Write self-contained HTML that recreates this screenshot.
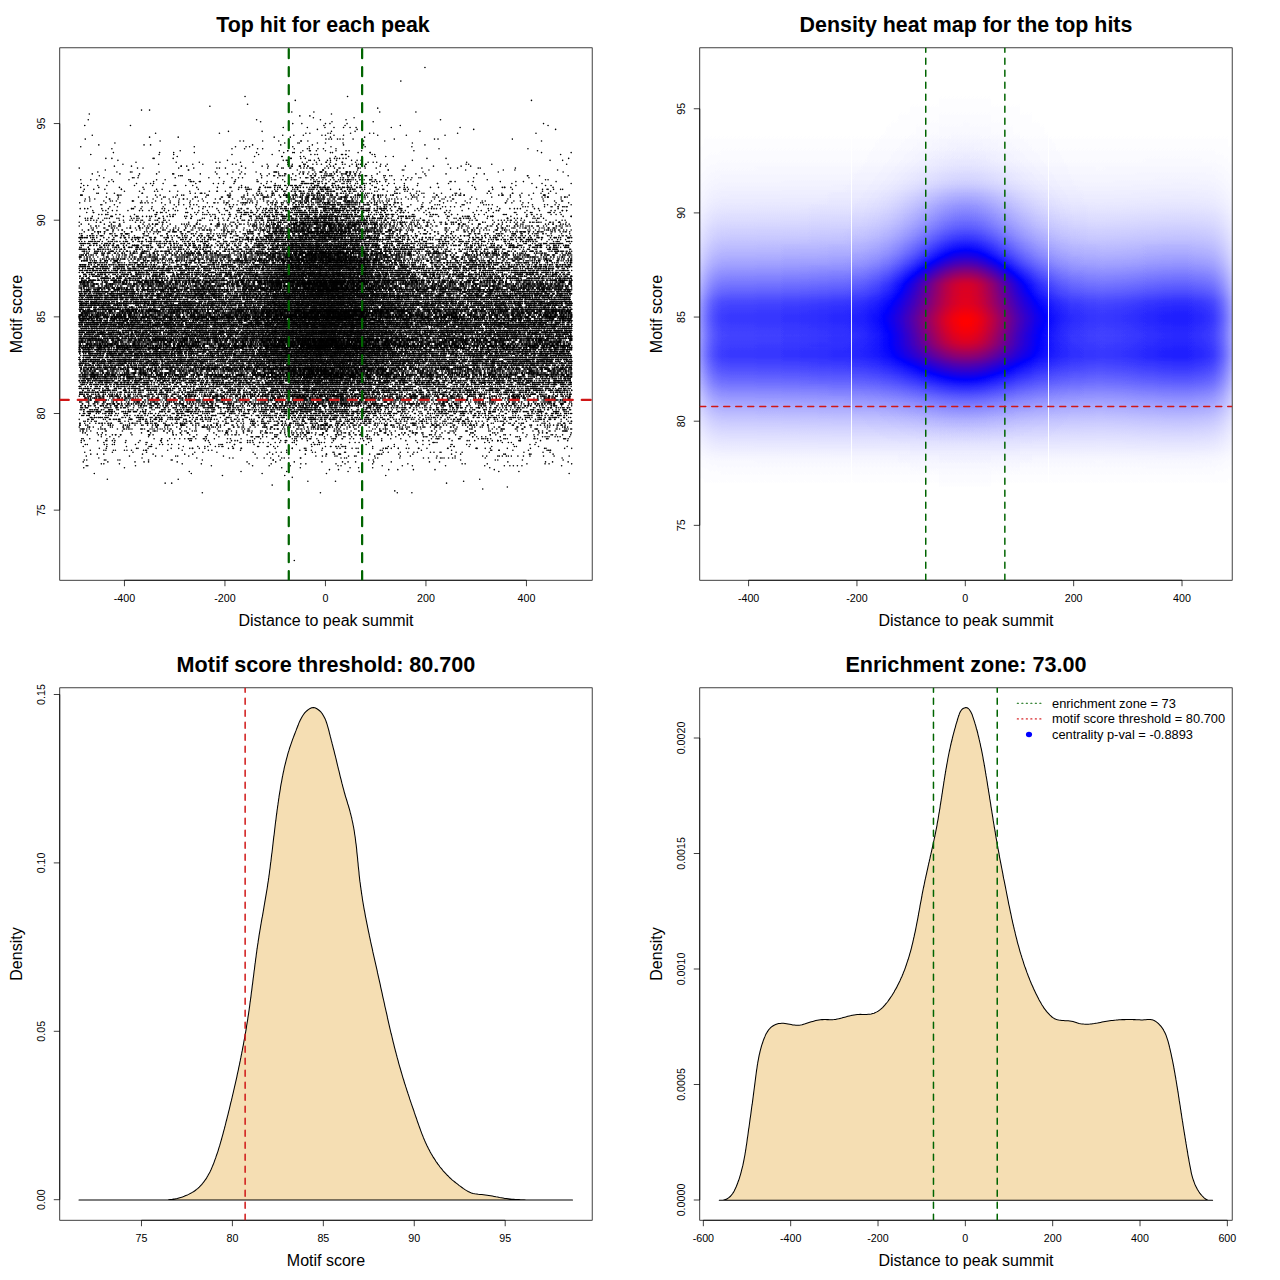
<!DOCTYPE html>
<html><head><meta charset="utf-8"><title>Motif plots</title>
<style>
html,body{margin:0;padding:0;background:#fff;}
body{width:1280px;height:1280px;overflow:hidden;}
svg{display:block;font-family:"Liberation Sans", sans-serif;}
text{fill:#000;}
</style></head><body>
<svg width="1280" height="1280" viewBox="0 0 1280 1280">
<defs><clipPath id="cp1"><rect x="59.76" y="47.81" width="532.43" height="532.43"/></clipPath><linearGradient id="hx1" x1="0" y1="0" x2="1" y2="0"><stop offset="0.0000" stop-color="#330000"/><stop offset="0.0084" stop-color="#410000"/><stop offset="0.0168" stop-color="#4e0000"/><stop offset="0.0252" stop-color="#570000"/><stop offset="0.0336" stop-color="#5d0000"/><stop offset="0.0420" stop-color="#610000"/><stop offset="0.0504" stop-color="#620000"/><stop offset="0.0588" stop-color="#630000"/><stop offset="0.0672" stop-color="#630000"/><stop offset="0.0756" stop-color="#630000"/><stop offset="0.0840" stop-color="#630000"/><stop offset="0.0924" stop-color="#630000"/><stop offset="0.1008" stop-color="#630000"/><stop offset="0.1092" stop-color="#640000"/><stop offset="0.1176" stop-color="#640000"/><stop offset="0.1261" stop-color="#640000"/><stop offset="0.1345" stop-color="#640000"/><stop offset="0.1429" stop-color="#640000"/><stop offset="0.1513" stop-color="#640000"/><stop offset="0.1597" stop-color="#650000"/><stop offset="0.1681" stop-color="#650000"/><stop offset="0.1765" stop-color="#650000"/><stop offset="0.1849" stop-color="#650000"/><stop offset="0.1933" stop-color="#660000"/><stop offset="0.2017" stop-color="#660000"/><stop offset="0.2101" stop-color="#660000"/><stop offset="0.2185" stop-color="#660000"/><stop offset="0.2269" stop-color="#670000"/><stop offset="0.2353" stop-color="#670000"/><stop offset="0.2437" stop-color="#670000"/><stop offset="0.2521" stop-color="#680000"/><stop offset="0.2605" stop-color="#680000"/><stop offset="0.2689" stop-color="#680000"/><stop offset="0.2773" stop-color="#680000"/><stop offset="0.2857" stop-color="#690000"/><stop offset="0.2941" stop-color="#690000"/><stop offset="0.3025" stop-color="#690000"/><stop offset="0.3109" stop-color="#690000"/><stop offset="0.3193" stop-color="#690000"/><stop offset="0.3277" stop-color="#690000"/><stop offset="0.3361" stop-color="#690000"/><stop offset="0.3445" stop-color="#6a0000"/><stop offset="0.3529" stop-color="#6a0000"/><stop offset="0.3613" stop-color="#6a0000"/><stop offset="0.3697" stop-color="#6a0000"/><stop offset="0.3782" stop-color="#6a0000"/><stop offset="0.3866" stop-color="#6a0000"/><stop offset="0.3950" stop-color="#6a0000"/><stop offset="0.4034" stop-color="#6a0000"/><stop offset="0.4118" stop-color="#6a0000"/><stop offset="0.4202" stop-color="#6b0000"/><stop offset="0.4286" stop-color="#6b0000"/><stop offset="0.4370" stop-color="#6b0000"/><stop offset="0.4454" stop-color="#6b0000"/><stop offset="0.4538" stop-color="#6b0000"/><stop offset="0.4622" stop-color="#6b0000"/><stop offset="0.4706" stop-color="#6b0000"/><stop offset="0.4790" stop-color="#6b0000"/><stop offset="0.4874" stop-color="#6b0000"/><stop offset="0.4958" stop-color="#6b0000"/><stop offset="0.5042" stop-color="#6b0000"/><stop offset="0.5126" stop-color="#6b0000"/><stop offset="0.5210" stop-color="#6b0000"/><stop offset="0.5294" stop-color="#6b0000"/><stop offset="0.5378" stop-color="#6b0000"/><stop offset="0.5462" stop-color="#6a0000"/><stop offset="0.5546" stop-color="#6a0000"/><stop offset="0.5630" stop-color="#6a0000"/><stop offset="0.5714" stop-color="#6a0000"/><stop offset="0.5798" stop-color="#6a0000"/><stop offset="0.5882" stop-color="#6a0000"/><stop offset="0.5966" stop-color="#690000"/><stop offset="0.6050" stop-color="#690000"/><stop offset="0.6134" stop-color="#690000"/><stop offset="0.6218" stop-color="#690000"/><stop offset="0.6303" stop-color="#680000"/><stop offset="0.6387" stop-color="#680000"/><stop offset="0.6471" stop-color="#680000"/><stop offset="0.6555" stop-color="#680000"/><stop offset="0.6639" stop-color="#670000"/><stop offset="0.6723" stop-color="#670000"/><stop offset="0.6807" stop-color="#660000"/><stop offset="0.6891" stop-color="#660000"/><stop offset="0.6975" stop-color="#650000"/><stop offset="0.7059" stop-color="#650000"/><stop offset="0.7143" stop-color="#650000"/><stop offset="0.7227" stop-color="#640000"/><stop offset="0.7311" stop-color="#640000"/><stop offset="0.7395" stop-color="#640000"/><stop offset="0.7479" stop-color="#630000"/><stop offset="0.7563" stop-color="#630000"/><stop offset="0.7647" stop-color="#640000"/><stop offset="0.7731" stop-color="#640000"/><stop offset="0.7815" stop-color="#650000"/><stop offset="0.7899" stop-color="#650000"/><stop offset="0.7983" stop-color="#660000"/><stop offset="0.8067" stop-color="#670000"/><stop offset="0.8151" stop-color="#680000"/><stop offset="0.8235" stop-color="#690000"/><stop offset="0.8319" stop-color="#6a0000"/><stop offset="0.8403" stop-color="#6b0000"/><stop offset="0.8487" stop-color="#6b0000"/><stop offset="0.8571" stop-color="#6c0000"/><stop offset="0.8655" stop-color="#6d0000"/><stop offset="0.8739" stop-color="#6e0000"/><stop offset="0.8824" stop-color="#6e0000"/><stop offset="0.8908" stop-color="#6f0000"/><stop offset="0.8992" stop-color="#6f0000"/><stop offset="0.9076" stop-color="#6f0000"/><stop offset="0.9160" stop-color="#6f0000"/><stop offset="0.9244" stop-color="#6e0000"/><stop offset="0.9328" stop-color="#6c0000"/><stop offset="0.9412" stop-color="#6b0000"/><stop offset="0.9496" stop-color="#690000"/><stop offset="0.9580" stop-color="#660000"/><stop offset="0.9664" stop-color="#610000"/><stop offset="0.9748" stop-color="#580000"/><stop offset="0.9832" stop-color="#4d0000"/><stop offset="0.9916" stop-color="#3f0000"/><stop offset="1.0000" stop-color="#2f0000"/></linearGradient><linearGradient id="hy1" x1="0" y1="0" x2="0" y2="1"><stop offset="0.0000" stop-color="#000000"/><stop offset="0.0075" stop-color="#000000"/><stop offset="0.0150" stop-color="#000000"/><stop offset="0.0226" stop-color="#000000"/><stop offset="0.0301" stop-color="#000000"/><stop offset="0.0376" stop-color="#000000"/><stop offset="0.0451" stop-color="#000000"/><stop offset="0.0526" stop-color="#000000"/><stop offset="0.0602" stop-color="#000000"/><stop offset="0.0677" stop-color="#000000"/><stop offset="0.0752" stop-color="#000000"/><stop offset="0.0827" stop-color="#000000"/><stop offset="0.0902" stop-color="#000000"/><stop offset="0.0977" stop-color="#000000"/><stop offset="0.1053" stop-color="#000000"/><stop offset="0.1128" stop-color="#000000"/><stop offset="0.1203" stop-color="#000000"/><stop offset="0.1278" stop-color="#000000"/><stop offset="0.1353" stop-color="#000000"/><stop offset="0.1429" stop-color="#000000"/><stop offset="0.1504" stop-color="#000000"/><stop offset="0.1579" stop-color="#010101"/><stop offset="0.1654" stop-color="#010101"/><stop offset="0.1729" stop-color="#020202"/><stop offset="0.1805" stop-color="#020202"/><stop offset="0.1880" stop-color="#030303"/><stop offset="0.1955" stop-color="#040404"/><stop offset="0.2030" stop-color="#050505"/><stop offset="0.2105" stop-color="#060606"/><stop offset="0.2180" stop-color="#070707"/><stop offset="0.2256" stop-color="#090909"/><stop offset="0.2331" stop-color="#0a0a0a"/><stop offset="0.2406" stop-color="#0c0c0c"/><stop offset="0.2481" stop-color="#0d0d0d"/><stop offset="0.2556" stop-color="#0f0f0f"/><stop offset="0.2632" stop-color="#111111"/><stop offset="0.2707" stop-color="#141414"/><stop offset="0.2782" stop-color="#161616"/><stop offset="0.2857" stop-color="#191919"/><stop offset="0.2932" stop-color="#1c1c1c"/><stop offset="0.3008" stop-color="#202020"/><stop offset="0.3083" stop-color="#242424"/><stop offset="0.3158" stop-color="#292929"/><stop offset="0.3233" stop-color="#2d2d2d"/><stop offset="0.3308" stop-color="#323232"/><stop offset="0.3383" stop-color="#383838"/><stop offset="0.3459" stop-color="#3d3d3d"/><stop offset="0.3534" stop-color="#434343"/><stop offset="0.3609" stop-color="#494949"/><stop offset="0.3684" stop-color="#505050"/><stop offset="0.3759" stop-color="#575757"/><stop offset="0.3835" stop-color="#5e5e5e"/><stop offset="0.3910" stop-color="#666666"/><stop offset="0.3985" stop-color="#6f6f6f"/><stop offset="0.4060" stop-color="#787878"/><stop offset="0.4135" stop-color="#838383"/><stop offset="0.4211" stop-color="#8e8e8e"/><stop offset="0.4286" stop-color="#9a9a9a"/><stop offset="0.4361" stop-color="#a5a5a5"/><stop offset="0.4436" stop-color="#b1b1b1"/><stop offset="0.4511" stop-color="#bdbdbd"/><stop offset="0.4586" stop-color="#c9c9c9"/><stop offset="0.4662" stop-color="#d7d7d7"/><stop offset="0.4737" stop-color="#e5e5e5"/><stop offset="0.4812" stop-color="#efefef"/><stop offset="0.4887" stop-color="#f6f6f6"/><stop offset="0.4962" stop-color="#fbfbfb"/><stop offset="0.5038" stop-color="#ffffff"/><stop offset="0.5113" stop-color="#ffffff"/><stop offset="0.5188" stop-color="#fcfcfc"/><stop offset="0.5263" stop-color="#f8f8f8"/><stop offset="0.5338" stop-color="#f5f5f5"/><stop offset="0.5414" stop-color="#f3f3f3"/><stop offset="0.5489" stop-color="#f5f5f5"/><stop offset="0.5564" stop-color="#f8f8f8"/><stop offset="0.5639" stop-color="#fcfcfc"/><stop offset="0.5714" stop-color="#ffffff"/><stop offset="0.5789" stop-color="#ffffff"/><stop offset="0.5865" stop-color="#f7f7f7"/><stop offset="0.5940" stop-color="#eeeeee"/><stop offset="0.6015" stop-color="#e4e4e4"/><stop offset="0.6090" stop-color="#d9d9d9"/><stop offset="0.6165" stop-color="#cdcdcd"/><stop offset="0.6241" stop-color="#c1c1c1"/><stop offset="0.6316" stop-color="#b4b4b4"/><stop offset="0.6391" stop-color="#a6a6a6"/><stop offset="0.6466" stop-color="#989898"/><stop offset="0.6541" stop-color="#8b8b8b"/><stop offset="0.6617" stop-color="#7e7e7e"/><stop offset="0.6692" stop-color="#727272"/><stop offset="0.6767" stop-color="#666666"/><stop offset="0.6842" stop-color="#5c5c5c"/><stop offset="0.6917" stop-color="#515151"/><stop offset="0.6992" stop-color="#484848"/><stop offset="0.7068" stop-color="#404040"/><stop offset="0.7143" stop-color="#383838"/><stop offset="0.7218" stop-color="#313131"/><stop offset="0.7293" stop-color="#2a2a2a"/><stop offset="0.7368" stop-color="#242424"/><stop offset="0.7444" stop-color="#1e1e1e"/><stop offset="0.7519" stop-color="#191919"/><stop offset="0.7594" stop-color="#131313"/><stop offset="0.7669" stop-color="#0e0e0e"/><stop offset="0.7744" stop-color="#0a0a0a"/><stop offset="0.7820" stop-color="#080808"/><stop offset="0.7895" stop-color="#060606"/><stop offset="0.7970" stop-color="#040404"/><stop offset="0.8045" stop-color="#030303"/><stop offset="0.8120" stop-color="#020202"/><stop offset="0.8195" stop-color="#010101"/><stop offset="0.8271" stop-color="#000000"/><stop offset="0.8346" stop-color="#000000"/><stop offset="0.8421" stop-color="#000000"/><stop offset="0.8496" stop-color="#000000"/><stop offset="0.8571" stop-color="#000000"/><stop offset="0.8647" stop-color="#000000"/><stop offset="0.8722" stop-color="#000000"/><stop offset="0.8797" stop-color="#000000"/><stop offset="0.8872" stop-color="#000000"/><stop offset="0.8947" stop-color="#000000"/><stop offset="0.9023" stop-color="#000000"/><stop offset="0.9098" stop-color="#000000"/><stop offset="0.9173" stop-color="#000000"/><stop offset="0.9248" stop-color="#000000"/><stop offset="0.9323" stop-color="#000000"/><stop offset="0.9398" stop-color="#000000"/><stop offset="0.9474" stop-color="#000000"/><stop offset="0.9549" stop-color="#000000"/><stop offset="0.9624" stop-color="#000000"/><stop offset="0.9699" stop-color="#000000"/><stop offset="0.9774" stop-color="#000000"/><stop offset="0.9850" stop-color="#000000"/><stop offset="0.9925" stop-color="#000000"/><stop offset="1.0000" stop-color="#000000"/></linearGradient><linearGradient id="hx2" x1="0" y1="0" x2="1" y2="0"><stop offset="0.0000" stop-color="#000000"/><stop offset="0.0084" stop-color="#000000"/><stop offset="0.0168" stop-color="#000000"/><stop offset="0.0252" stop-color="#000000"/><stop offset="0.0336" stop-color="#000000"/><stop offset="0.0420" stop-color="#000000"/><stop offset="0.0504" stop-color="#000000"/><stop offset="0.0588" stop-color="#000000"/><stop offset="0.0672" stop-color="#000000"/><stop offset="0.0756" stop-color="#000000"/><stop offset="0.0840" stop-color="#000000"/><stop offset="0.0924" stop-color="#000000"/><stop offset="0.1008" stop-color="#000000"/><stop offset="0.1092" stop-color="#000000"/><stop offset="0.1176" stop-color="#000000"/><stop offset="0.1261" stop-color="#000000"/><stop offset="0.1345" stop-color="#000000"/><stop offset="0.1429" stop-color="#000000"/><stop offset="0.1513" stop-color="#000000"/><stop offset="0.1597" stop-color="#000100"/><stop offset="0.1681" stop-color="#000100"/><stop offset="0.1765" stop-color="#000100"/><stop offset="0.1849" stop-color="#000100"/><stop offset="0.1933" stop-color="#000100"/><stop offset="0.2017" stop-color="#000100"/><stop offset="0.2101" stop-color="#000200"/><stop offset="0.2185" stop-color="#000200"/><stop offset="0.2269" stop-color="#000200"/><stop offset="0.2353" stop-color="#000200"/><stop offset="0.2437" stop-color="#000300"/><stop offset="0.2521" stop-color="#000300"/><stop offset="0.2605" stop-color="#000300"/><stop offset="0.2689" stop-color="#000300"/><stop offset="0.2773" stop-color="#000400"/><stop offset="0.2857" stop-color="#000500"/><stop offset="0.2941" stop-color="#000600"/><stop offset="0.3025" stop-color="#000700"/><stop offset="0.3109" stop-color="#000900"/><stop offset="0.3193" stop-color="#000c00"/><stop offset="0.3277" stop-color="#000f00"/><stop offset="0.3361" stop-color="#001200"/><stop offset="0.3445" stop-color="#001700"/><stop offset="0.3529" stop-color="#001b00"/><stop offset="0.3613" stop-color="#002100"/><stop offset="0.3697" stop-color="#002800"/><stop offset="0.3782" stop-color="#002f00"/><stop offset="0.3866" stop-color="#003800"/><stop offset="0.3950" stop-color="#004000"/><stop offset="0.4034" stop-color="#004900"/><stop offset="0.4118" stop-color="#005300"/><stop offset="0.4202" stop-color="#005c00"/><stop offset="0.4286" stop-color="#006600"/><stop offset="0.4370" stop-color="#007000"/><stop offset="0.4454" stop-color="#007a00"/><stop offset="0.4538" stop-color="#008400"/><stop offset="0.4622" stop-color="#008d00"/><stop offset="0.4706" stop-color="#009400"/><stop offset="0.4790" stop-color="#009a00"/><stop offset="0.4874" stop-color="#009e00"/><stop offset="0.4958" stop-color="#00a000"/><stop offset="0.5042" stop-color="#00a000"/><stop offset="0.5126" stop-color="#009d00"/><stop offset="0.5210" stop-color="#009900"/><stop offset="0.5294" stop-color="#009200"/><stop offset="0.5378" stop-color="#008a00"/><stop offset="0.5462" stop-color="#008100"/><stop offset="0.5546" stop-color="#007700"/><stop offset="0.5630" stop-color="#006c00"/><stop offset="0.5714" stop-color="#006200"/><stop offset="0.5798" stop-color="#005700"/><stop offset="0.5882" stop-color="#004d00"/><stop offset="0.5966" stop-color="#004400"/><stop offset="0.6050" stop-color="#003b00"/><stop offset="0.6134" stop-color="#003300"/><stop offset="0.6218" stop-color="#002c00"/><stop offset="0.6303" stop-color="#002500"/><stop offset="0.6387" stop-color="#001f00"/><stop offset="0.6471" stop-color="#001a00"/><stop offset="0.6555" stop-color="#001500"/><stop offset="0.6639" stop-color="#001100"/><stop offset="0.6723" stop-color="#000d00"/><stop offset="0.6807" stop-color="#000a00"/><stop offset="0.6891" stop-color="#000800"/><stop offset="0.6975" stop-color="#000500"/><stop offset="0.7059" stop-color="#000400"/><stop offset="0.7143" stop-color="#000300"/><stop offset="0.7227" stop-color="#000200"/><stop offset="0.7311" stop-color="#000100"/><stop offset="0.7395" stop-color="#000100"/><stop offset="0.7479" stop-color="#000100"/><stop offset="0.7563" stop-color="#000000"/><stop offset="0.7647" stop-color="#000000"/><stop offset="0.7731" stop-color="#000000"/><stop offset="0.7815" stop-color="#000000"/><stop offset="0.7899" stop-color="#000000"/><stop offset="0.7983" stop-color="#000000"/><stop offset="0.8067" stop-color="#000000"/><stop offset="0.8151" stop-color="#000000"/><stop offset="0.8235" stop-color="#000000"/><stop offset="0.8319" stop-color="#000000"/><stop offset="0.8403" stop-color="#000100"/><stop offset="0.8487" stop-color="#000100"/><stop offset="0.8571" stop-color="#000100"/><stop offset="0.8655" stop-color="#000100"/><stop offset="0.8739" stop-color="#000100"/><stop offset="0.8824" stop-color="#000100"/><stop offset="0.8908" stop-color="#000100"/><stop offset="0.8992" stop-color="#000100"/><stop offset="0.9076" stop-color="#000100"/><stop offset="0.9160" stop-color="#000100"/><stop offset="0.9244" stop-color="#000000"/><stop offset="0.9328" stop-color="#000000"/><stop offset="0.9412" stop-color="#000000"/><stop offset="0.9496" stop-color="#000000"/><stop offset="0.9580" stop-color="#000000"/><stop offset="0.9664" stop-color="#000000"/><stop offset="0.9748" stop-color="#000000"/><stop offset="0.9832" stop-color="#000000"/><stop offset="0.9916" stop-color="#000000"/><stop offset="1.0000" stop-color="#000000"/></linearGradient><linearGradient id="hy2" x1="0" y1="0" x2="0" y2="1"><stop offset="0.0000" stop-color="#000000"/><stop offset="0.0075" stop-color="#000000"/><stop offset="0.0150" stop-color="#000000"/><stop offset="0.0226" stop-color="#000000"/><stop offset="0.0301" stop-color="#000000"/><stop offset="0.0376" stop-color="#000000"/><stop offset="0.0451" stop-color="#000000"/><stop offset="0.0526" stop-color="#000000"/><stop offset="0.0602" stop-color="#000000"/><stop offset="0.0677" stop-color="#000000"/><stop offset="0.0752" stop-color="#000000"/><stop offset="0.0827" stop-color="#000000"/><stop offset="0.0902" stop-color="#000000"/><stop offset="0.0977" stop-color="#010101"/><stop offset="0.1053" stop-color="#010101"/><stop offset="0.1128" stop-color="#020202"/><stop offset="0.1203" stop-color="#020202"/><stop offset="0.1278" stop-color="#030303"/><stop offset="0.1353" stop-color="#030303"/><stop offset="0.1429" stop-color="#040404"/><stop offset="0.1504" stop-color="#050505"/><stop offset="0.1579" stop-color="#050505"/><stop offset="0.1654" stop-color="#060606"/><stop offset="0.1729" stop-color="#070707"/><stop offset="0.1805" stop-color="#080808"/><stop offset="0.1880" stop-color="#090909"/><stop offset="0.1955" stop-color="#0a0a0a"/><stop offset="0.2030" stop-color="#0c0c0c"/><stop offset="0.2105" stop-color="#0d0d0d"/><stop offset="0.2180" stop-color="#0f0f0f"/><stop offset="0.2256" stop-color="#111111"/><stop offset="0.2331" stop-color="#141414"/><stop offset="0.2406" stop-color="#171717"/><stop offset="0.2481" stop-color="#1a1a1a"/><stop offset="0.2556" stop-color="#1e1e1e"/><stop offset="0.2632" stop-color="#242424"/><stop offset="0.2707" stop-color="#2b2b2b"/><stop offset="0.2782" stop-color="#323232"/><stop offset="0.2857" stop-color="#393939"/><stop offset="0.2932" stop-color="#3f3f3f"/><stop offset="0.3008" stop-color="#454545"/><stop offset="0.3083" stop-color="#494949"/><stop offset="0.3158" stop-color="#4e4e4e"/><stop offset="0.3233" stop-color="#535353"/><stop offset="0.3308" stop-color="#585858"/><stop offset="0.3383" stop-color="#5e5e5e"/><stop offset="0.3459" stop-color="#656565"/><stop offset="0.3534" stop-color="#6d6d6d"/><stop offset="0.3609" stop-color="#757575"/><stop offset="0.3684" stop-color="#7f7f7f"/><stop offset="0.3759" stop-color="#888888"/><stop offset="0.3835" stop-color="#939393"/><stop offset="0.3910" stop-color="#9e9e9e"/><stop offset="0.3985" stop-color="#acacac"/><stop offset="0.4060" stop-color="#bababa"/><stop offset="0.4135" stop-color="#cbcbcb"/><stop offset="0.4211" stop-color="#dbdbdb"/><stop offset="0.4286" stop-color="#e9e9e9"/><stop offset="0.4361" stop-color="#f7f7f7"/><stop offset="0.4436" stop-color="#ffffff"/><stop offset="0.4511" stop-color="#fbfbfb"/><stop offset="0.4586" stop-color="#f4f4f4"/><stop offset="0.4662" stop-color="#ececec"/><stop offset="0.4737" stop-color="#e4e4e4"/><stop offset="0.4812" stop-color="#dfdfdf"/><stop offset="0.4887" stop-color="#e1e1e1"/><stop offset="0.4962" stop-color="#e4e4e4"/><stop offset="0.5038" stop-color="#e8e8e8"/><stop offset="0.5113" stop-color="#ececec"/><stop offset="0.5188" stop-color="#ededed"/><stop offset="0.5263" stop-color="#ececec"/><stop offset="0.5338" stop-color="#e9e9e9"/><stop offset="0.5414" stop-color="#e3e3e3"/><stop offset="0.5489" stop-color="#dadada"/><stop offset="0.5564" stop-color="#cdcdcd"/><stop offset="0.5639" stop-color="#bababa"/><stop offset="0.5714" stop-color="#a5a5a5"/><stop offset="0.5789" stop-color="#939393"/><stop offset="0.5865" stop-color="#848484"/><stop offset="0.5940" stop-color="#747474"/><stop offset="0.6015" stop-color="#676767"/><stop offset="0.6090" stop-color="#5c5c5c"/><stop offset="0.6165" stop-color="#515151"/><stop offset="0.6241" stop-color="#484848"/><stop offset="0.6316" stop-color="#3f3f3f"/><stop offset="0.6391" stop-color="#383838"/><stop offset="0.6466" stop-color="#313131"/><stop offset="0.6541" stop-color="#2a2a2a"/><stop offset="0.6617" stop-color="#242424"/><stop offset="0.6692" stop-color="#1f1f1f"/><stop offset="0.6767" stop-color="#1b1b1b"/><stop offset="0.6842" stop-color="#171717"/><stop offset="0.6917" stop-color="#131313"/><stop offset="0.6992" stop-color="#0f0f0f"/><stop offset="0.7068" stop-color="#0d0d0d"/><stop offset="0.7143" stop-color="#0a0a0a"/><stop offset="0.7218" stop-color="#080808"/><stop offset="0.7293" stop-color="#060606"/><stop offset="0.7368" stop-color="#040404"/><stop offset="0.7444" stop-color="#020202"/><stop offset="0.7519" stop-color="#020202"/><stop offset="0.7594" stop-color="#020202"/><stop offset="0.7669" stop-color="#030303"/><stop offset="0.7744" stop-color="#030303"/><stop offset="0.7820" stop-color="#020202"/><stop offset="0.7895" stop-color="#020202"/><stop offset="0.7970" stop-color="#010101"/><stop offset="0.8045" stop-color="#010101"/><stop offset="0.8120" stop-color="#010101"/><stop offset="0.8195" stop-color="#010101"/><stop offset="0.8271" stop-color="#000000"/><stop offset="0.8346" stop-color="#000000"/><stop offset="0.8421" stop-color="#000000"/><stop offset="0.8496" stop-color="#000000"/><stop offset="0.8571" stop-color="#000000"/><stop offset="0.8647" stop-color="#000000"/><stop offset="0.8722" stop-color="#000000"/><stop offset="0.8797" stop-color="#000000"/><stop offset="0.8872" stop-color="#000000"/><stop offset="0.8947" stop-color="#000000"/><stop offset="0.9023" stop-color="#000000"/><stop offset="0.9098" stop-color="#000000"/><stop offset="0.9173" stop-color="#000000"/><stop offset="0.9248" stop-color="#000000"/><stop offset="0.9323" stop-color="#000000"/><stop offset="0.9398" stop-color="#000000"/><stop offset="0.9474" stop-color="#000000"/><stop offset="0.9549" stop-color="#000000"/><stop offset="0.9624" stop-color="#000000"/><stop offset="0.9699" stop-color="#000000"/><stop offset="0.9774" stop-color="#000000"/><stop offset="0.9850" stop-color="#000000"/><stop offset="0.9925" stop-color="#000000"/><stop offset="1.0000" stop-color="#000000"/></linearGradient><mask id="hm1" maskUnits="userSpaceOnUse" x="699.76" y="47.81" width="532.43" height="532.43"><rect x="699.76" y="47.81" width="532.43" height="532.43" fill="url(#hy1)"/></mask><mask id="hm2" maskUnits="userSpaceOnUse" x="699.76" y="47.81" width="532.43" height="532.43"><rect x="699.76" y="47.81" width="532.43" height="532.43" fill="url(#hy2)"/></mask><filter id="ramp" color-interpolation-filters="sRGB" filterUnits="userSpaceOnUse" x="699.76" y="47.81" width="532.43" height="532.43"><feColorMatrix type="matrix" values="1 1 1 0 0  1 1 1 0 0  1 1 1 0 0  0 0 0 0 1"/><feComponentTransfer><feFuncR type="table" tableValues="1 0 1"/><feFuncG type="table" tableValues="1 0 0"/><feFuncB type="table" tableValues="1 1 0"/></feComponentTransfer></filter></defs>
<rect width="1280" height="1280" fill="#fff"/>
<g transform="translate(325.45,0) scale(0.5025)" stroke="#000" stroke-width="3.184" stroke-linecap="round" fill="none"><path d="M-62 1115.38h0"/><path d="M-10 980.74H143.01" stroke-dasharray="0 153 0 9999"/><path d="M-245 980.74H172.01" stroke-dasharray="0 417 0 9999"/><path d="M138 976.9h0"/><path d="M313 973.05h0"/><path d="M362 969.2h0"/><path d="M-106 965.36h0"/><path d="M-319 961.51h0"/><path d="M-306 961.51h0"/><path d="M241 961.51h0"/><path d="M20 957.66H275.01" stroke-dasharray="0 255 0 9999"/><path d="M-35 957.66h0"/><path d="M-434 953.81H307.01" stroke-dasharray="0 141 0 600 0 9999"/><path d="M-66 949.97h0"/><path d="M-205 946.12h0"/><path d="M-81 946.12H120.01" stroke-dasharray="0 201 0 9999"/><path d="M-460 942.27H485.01" stroke-dasharray="0 462 0 483 0 9999"/><path d="M-267 942.27H-33.01" stroke-dasharray="0 141 0 93 0 9999"/><path d="M-271 938.43H-127.01" stroke-dasharray="0 144 0 9999"/><path d="M-168 938.43H345.01" stroke-dasharray="0 213 0 300 0 9999"/><path d="M-77 938.43H385.01" stroke-dasharray="0 144 0 318 0 9999"/><path d="M8 934.58H218.01" stroke-dasharray="0 18 0 192 0 9999"/><path d="M126 934.58H336.01" stroke-dasharray="0 18 0 192 0 9999"/><path d="M175 934.58h0"/><path d="M-481 930.73H-166.01" stroke-dasharray="0 81 0 234 0 9999"/><path d="M-87 930.73H327.01" stroke-dasharray="0 153 0 261 0 9999"/><path d="M-50 930.73H94.01" stroke-dasharray="0 99 0 45 0 9999"/><path d="M-145 926.89H470.01" stroke-dasharray="0 33 0 42 0 183 0 60 0 66 0 78 0 39 0 18 0 96 0 9999"/><path d="M-378 926.89H153.01" stroke-dasharray="0 531 0 9999"/><path d="M-476 926.89H391.01" stroke-dasharray="0 3 0 246 0 252 0 6 0 336 0 15 0 9 0 9999"/><path d="M-247 923.04H437.01" stroke-dasharray="0 198 0 213 0 108 0 6 0 123 0 36 0 9999"/><path d="M-441 923.04H39.01" stroke-dasharray="0 156 0 177 0 69 0 60 0 18 0 9999"/><path d="M-446 923.04H490.01" stroke-dasharray="0 36 0 258 0 246 0 228 0 123 0 45 0 9999"/><path d="M-433 919.19H452.01" stroke-dasharray="0 54 0 18 0 9 0 57 0 288 0 138 0 96 0 225 0 9999"/><path d="M-156 919.19H483.01" stroke-dasharray="0 57 0 144 0 15 0 36 0 111 0 156 0 75 0 45 0 9999"/><path d="M-482 919.19H34.01" stroke-dasharray="0 420 0 96 0 9999"/><path d="M-475 915.35H473.01" stroke-dasharray="0 66 0 57 0 45 0 393 0 9 0 174 0 69 0 54 0 81 0 9999"/><path d="M-480 915.35H-66.01" stroke-dasharray="0 390 0 24 0 9999"/><path d="M-440 915.35H343.01" stroke-dasharray="0 3 0 24 0 108 0 60 0 141 0 447 0 9999"/><path d="M-104 915.35h0"/><path d="M-451 911.5H245.01" stroke-dasharray="0 195 0 72 0 48 0 27 0 27 0 9 0 24 0 87 0 66 0 117 0 15 0 9 0 9999"/><path d="M-87 911.5H471.01" stroke-dasharray="0 129 0 57 0 96 0 63 0 60 0 153 0 9999"/><path d="M-365 911.5H253.01" stroke-dasharray="0 174 0 69 0 72 0 81 0 42 0 75 0 57 0 24 0 3 0 21 0 9999"/><path d="M-325 907.65H485.01" stroke-dasharray="0 27 0 279 0 42 0 75 0 51 0 234 0 24 0 27 0 21 0 30 0 9999"/><path d="M-390 907.65H360.01" stroke-dasharray="0 96 0 201 0 87 0 228 0 36 0 63 0 39 0 9999"/><path d="M-476 907.65H394.01" stroke-dasharray="0 138 0 66 0 69 0 204 0 18 0 27 0 12 0 3 0 108 0 144 0 30 0 3 0 6 0 12 0 6 0 24 0 9999"/><path d="M-454 903.81H269.01" stroke-dasharray="0 90 0 21 0 63 0 240 0 42 0 144 0 105 0 18 0 9999"/><path d="M-441 903.81H453.01" stroke-dasharray="0 177 0 159 0 123 0 9 0 3 0 78 0 66 0 279 0 9999"/><path d="M-467 903.81H409.01" stroke-dasharray="0 327 0 24 0 144 0 60 0 15 0 3 0 6 0 243 0 3 0 48 0 3 0 9999"/><path d="M2 903.81h0"/><path d="M-424 899.96H395.01" stroke-dasharray="0 180 0 156 0 105 0 21 0 27 0 60 0 24 0 15 0 12 0 33 0 21 0 30 0 12 0 54 0 69 0 9999"/><path d="M-216 899.96H447.01" stroke-dasharray="0 72 0 33 0 126 0 51 0 117 0 33 0 12 0 219 0 9999"/><path d="M-479 899.96H433.01" stroke-dasharray="0 96 0 27 0 96 0 162 0 21 0 51 0 6 0 60 0 75 0 318 0 9999"/><path d="M-418 896.11H404.01" stroke-dasharray="0 18 0 42 0 132 0 57 0 129 0 12 0 21 0 120 0 78 0 60 0 78 0 75 0 9999"/><path d="M-468 896.11H447.01" stroke-dasharray="0 27 0 156 0 234 0 396 0 96 0 3 0 3 0 9999"/><path d="M-437 896.11H448.01" stroke-dasharray="0 15 0 27 0 9 0 24 0 6 0 42 0 81 0 156 0 39 0 147 0 222 0 15 0 27 0 75 0 9999"/><path d="M-436 892.27H476.01" stroke-dasharray="0 60 0 3 0 36 0 30 0 15 0 27 0 72 0 9 0 84 0 123 0 6 0 24 0 12 0 66 0 30 0 24 0 117 0 60 0 114 0 9999"/><path d="M-450 892.27H408.01" stroke-dasharray="0 180 0 6 0 24 0 57 0 15 0 102 0 24 0 3 0 33 0 126 0 3 0 63 0 57 0 57 0 18 0 90 0 9999"/><path d="M-353 892.27H490.01" stroke-dasharray="0 102 0 84 0 207 0 21 0 33 0 21 0 30 0 21 0 36 0 42 0 84 0 108 0 3 0 51 0 9999"/><path d="M-66 892.27H300.01" stroke-dasharray="0 186 0 25 0 155 0 9999"/><path d="M-346 888.42H380.01" stroke-dasharray="0 63 0 150 0 30 0 114 0 15 0 9 0 90 0 12 0 243 0 9999"/><path d="M-435 888.42H249.01" stroke-dasharray="0 39 0 45 0 3 0 108 0 6 0 15 0 15 0 69 0 21 0 87 0 27 0 21 0 12 0 6 0 210 0 9999"/><path d="M-482 888.42H481.01" stroke-dasharray="0 228 0 42 0 6 0 21 0 69 0 21 0 105 0 30 0 54 0 162 0 30 0 45 0 45 0 48 0 57 0 9999"/><path d="M21 888.42H256.01" stroke-dasharray="0 235 0 9999"/><path d="M-478 884.57H407.01" stroke-dasharray="0 54 0 78 0 33 0 21 0 63 0 21 0 3 0 24 0 39 0 33 0 51 0 30 0 6 0 6 0 153 0 57 0 87 0 93 0 33 0 9999"/><path d="M-474 884.57H417.01" stroke-dasharray="0 39 0 15 0 42 0 21 0 27 0 6 0 18 0 285 0 9 0 93 0 126 0 45 0 36 0 129 0 9999"/><path d="M-440 884.57H250.01" stroke-dasharray="0 228 0 243 0 132 0 87 0 9999"/><path d="M-181 884.57h0"/><path d="M-355 880.73H419.01" stroke-dasharray="0 159 0 6 0 66 0 24 0 9 0 12 0 66 0 72 0 27 0 129 0 3 0 99 0 9 0 93 0 9999"/><path d="M-486 880.73H222.01" stroke-dasharray="0 45 0 21 0 48 0 15 0 126 0 63 0 18 0 6 0 30 0 48 0 42 0 12 0 60 0 135 0 39 0 9999"/><path d="M-398 880.73H370.01" stroke-dasharray="0 72 0 156 0 15 0 24 0 51 0 18 0 54 0 6 0 15 0 54 0 147 0 138 0 12 0 6 0 9999"/><path d="M-131 880.73H-79.01" stroke-dasharray="0 52 0 9999"/><path d="M-424 876.88H482.01" stroke-dasharray="0 27 0 69 0 141 0 12 0 30 0 339 0 12 0 117 0 9 0 96 0 54 0 9999"/><path d="M-486 876.88H387.01" stroke-dasharray="0 6 0 27 0 18 0 66 0 42 0 57 0 3 0 87 0 30 0 93 0 21 0 216 0 72 0 30 0 15 0 90 0 9999"/><path d="M-437 876.88H463.01" stroke-dasharray="0 18 0 105 0 75 0 6 0 78 0 66 0 9 0 3 0 15 0 48 0 30 0 60 0 15 0 21 0 48 0 126 0 57 0 6 0 36 0 3 0 75 0 9999"/><path d="M343 876.88h0"/><path d="M343 876.88h0"/><path d="M-469 873.03H476.01" stroke-dasharray="0 48 0 111 0 30 0 39 0 135 0 45 0 3 0 12 0 9 0 36 0 21 0 36 0 18 0 9 0 141 0 42 0 45 0 3 0 9 0 6 0 33 0 60 0 18 0 3 0 33 0 9999"/><path d="M-435 873.03H483.01" stroke-dasharray="0 135 0 27 0 15 0 15 0 6 0 42 0 6 0 21 0 27 0 12 0 36 0 27 0 36 0 63 0 51 0 3 0 63 0 96 0 72 0 99 0 24 0 33 0 9 0 9999"/><path d="M-485 873.03H478.01" stroke-dasharray="0 3 0 141 0 15 0 36 0 18 0 3 0 3 0 45 0 117 0 57 0 15 0 3 0 12 0 30 0 3 0 3 0 15 0 15 0 21 0 21 0 21 0 18 0 81 0 9 0 3 0 3 0 9 0 12 0 18 0 3 0 36 0 18 0 33 0 3 0 30 0 27 0 63 0 9999"/><path d="M-326 873.03H388.01" stroke-dasharray="0 714 0 9999"/><path d="M-352 869.19H467.01" stroke-dasharray="0 204 0 3 0 9 0 3 0 33 0 3 0 27 0 9 0 3 0 3 0 12 0 15 0 39 0 63 0 6 0 3 0 57 0 60 0 21 0 9 0 63 0 18 0 75 0 30 0 21 0 30 0 9999"/><path d="M-429 869.19H486.01" stroke-dasharray="0 18 0 150 0 24 0 99 0 6 0 15 0 39 0 6 0 93 0 15 0 3 0 129 0 27 0 153 0 51 0 33 0 9 0 21 0 24 0 9999"/><path d="M-446 869.19H457.01" stroke-dasharray="0 183 0 24 0 27 0 66 0 12 0 9 0 24 0 3 0 48 0 12 0 36 0 24 0 30 0 36 0 108 0 6 0 12 0 12 0 42 0 3 0 30 0 18 0 60 0 3 0 63 0 12 0 9999"/><path d="M-72 869.19H348.01" stroke-dasharray="0 365 0 55 0 9999"/><path d="M-424 865.34H488.01" stroke-dasharray="0 6 0 33 0 33 0 9 0 57 0 30 0 21 0 18 0 39 0 6 0 108 0 15 0 9 0 60 0 6 0 21 0 12 0 9 0 15 0 21 0 21 0 21 0 9 0 24 0 15 0 24 0 69 0 81 0 33 0 48 0 3 0 36 0 9999"/><path d="M-474 865.34H459.01" stroke-dasharray="0 57 0 9 0 105 0 6 0 27 0 84 0 6 0 24 0 90 0 12 0 12 0 3 0 27 0 3 0 3 0 33 0 45 0 12 0 48 0 15 0 18 0 42 0 21 0 69 0 42 0 84 0 36 0 9999"/><path d="M-452 865.34H472.01" stroke-dasharray="0 6 0 9 0 30 0 57 0 150 0 6 0 69 0 24 0 3 0 3 0 15 0 24 0 36 0 24 0 18 0 9 0 18 0 12 0 9 0 27 0 9 0 18 0 84 0 3 0 48 0 69 0 27 0 3 0 57 0 57 0 9999"/><path d="M-350 865.34H328.01" stroke-dasharray="0 47 0 297 0 334 0 9999"/><path d="M-478 861.49H440.01" stroke-dasharray="0 24 0 150 0 15 0 15 0 78 0 33 0 57 0 33 0 6 0 21 0 9 0 18 0 15 0 36 0 15 0 9 0 15 0 27 0 21 0 12 0 21 0 6 0 15 0 6 0 3 0 12 0 231 0 15 0 9999"/><path d="M-483 861.49H489.01" stroke-dasharray="0 39 0 57 0 21 0 18 0 33 0 27 0 15 0 51 0 24 0 3 0 18 0 30 0 18 0 9 0 3 0 27 0 9 0 18 0 6 0 24 0 6 0 51 0 24 0 69 0 3 0 72 0 27 0 27 0 48 0 39 0 60 0 39 0 9 0 48 0 9999"/><path d="M-275 861.49H343.01" stroke-dasharray="0 159 0 6 0 21 0 39 0 6 0 9 0 3 0 27 0 42 0 3 0 63 0 72 0 57 0 12 0 12 0 33 0 3 0 45 0 6 0 9999"/><path d="M-198 861.49H182.01" stroke-dasharray="0 163 0 30 0 29 0 134 0 24 0 9999"/><path d="M-35 861.49h0"/><path d="M-475 857.65H479.01" stroke-dasharray="0 39 0 84 0 9 0 3 0 18 0 12 0 6 0 18 0 6 0 3 0 12 0 60 0 18 0 24 0 12 0 63 0 21 0 30 0 39 0 15 0 6 0 6 0 81 0 18 0 39 0 6 0 39 0 9 0 27 0 33 0 132 0 63 0 3 0 9999"/><path d="M-483 857.65H474.01" stroke-dasharray="0 45 0 84 0 15 0 18 0 90 0 18 0 3 0 33 0 24 0 24 0 3 0 45 0 9 0 39 0 36 0 15 0 33 0 15 0 21 0 21 0 3 0 9 0 132 0 3 0 24 0 3 0 150 0 15 0 27 0 9999"/><path d="M-488 857.65H481.01" stroke-dasharray="0 6 0 15 0 63 0 51 0 18 0 24 0 51 0 3 0 60 0 3 0 30 0 9 0 9 0 27 0 45 0 15 0 12 0 9 0 39 0 24 0 6 0 36 0 15 0 9 0 18 0 30 0 30 0 42 0 27 0 21 0 39 0 27 0 3 0 21 0 3 0 30 0 42 0 21 0 12 0 15 0 6 0 3 0 9999"/><path d="M-352 857.65H424.01" stroke-dasharray="0 155 0 78 0 45 0 76 0 296 0 126 0 9999"/><path d="M-475 853.8H488.01" stroke-dasharray="0 75 0 15 0 18 0 3 0 15 0 15 0 9 0 6 0 12 0 18 0 54 0 3 0 39 0 3 0 24 0 12 0 45 0 15 0 9 0 36 0 15 0 6 0 12 0 9 0 33 0 93 0 63 0 105 0 3 0 42 0 9 0 9 0 6 0 36 0 27 0 3 0 39 0 15 0 3 0 9 0 9999"/><path d="M-483 853.8H483.01" stroke-dasharray="0 3 0 33 0 3 0 6 0 24 0 12 0 6 0 36 0 15 0 36 0 39 0 12 0 66 0 90 0 6 0 15 0 6 0 18 0 15 0 18 0 9 0 6 0 3 0 6 0 18 0 54 0 27 0 9 0 12 0 3 0 30 0 9 0 66 0 30 0 3 0 93 0 24 0 3 0 12 0 24 0 3 0 21 0 18 0 24 0 9999"/><path d="M-488 853.8H490.01" stroke-dasharray="0 3 0 3 0 12 0 18 0 12 0 48 0 3 0 48 0 12 0 15 0 24 0 60 0 15 0 54 0 9 0 36 0 6 0 9 0 6 0 39 0 3 0 6 0 27 0 6 0 9 0 3 0 6 0 18 0 6 0 9 0 6 0 15 0 3 0 33 0 21 0 33 0 3 0 3 0 36 0 27 0 75 0 33 0 27 0 39 0 75 0 24 0 9999"/><path d="M-367 853.8H350.01" stroke-dasharray="0 358 0 13 0 104 0 54 0 188 0 9999"/><path d="M-490 849.95H482.01" stroke-dasharray="0 21 0 45 0 21 0 12 0 54 0 93 0 9 0 9 0 3 0 51 0 6 0 3 0 54 0 3 0 36 0 27 0 15 0 3 0 3 0 9 0 12 0 9 0 6 0 42 0 63 0 15 0 3 0 6 0 21 0 3 0 27 0 15 0 9 0 3 0 9 0 78 0 39 0 36 0 54 0 9 0 15 0 15 0 6 0 9999"/><path d="M-462 849.95H477.01" stroke-dasharray="0 15 0 45 0 9 0 48 0 9 0 60 0 18 0 15 0 3 0 3 0 6 0 12 0 6 0 30 0 9 0 24 0 33 0 42 0 12 0 27 0 15 0 6 0 6 0 6 0 9 0 3 0 15 0 6 0 18 0 18 0 21 0 15 0 51 0 30 0 6 0 9 0 21 0 9 0 21 0 6 0 42 0 15 0 12 0 12 0 9 0 36 0 15 0 81 0 9999"/><path d="M-473 849.95H472.01" stroke-dasharray="0 3 0 42 0 33 0 60 0 15 0 6 0 18 0 9 0 42 0 3 0 33 0 27 0 42 0 15 0 3 0 3 0 12 0 24 0 30 0 18 0 12 0 30 0 15 0 21 0 6 0 99 0 12 0 36 0 54 0 12 0 21 0 9 0 90 0 15 0 12 0 33 0 30 0 9999"/><path d="M-245 849.95H-3.01" stroke-dasharray="0 123 0 5 0 94 0 20 0 9999"/><path d="M-394 846.11H470.01" stroke-dasharray="0 15 0 45 0 15 0 3 0 3 0 3 0 6 0 18 0 3 0 3 0 39 0 57 0 9 0 33 0 42 0 27 0 18 0 3 0 27 0 15 0 3 0 3 0 6 0 9 0 9 0 12 0 15 0 57 0 15 0 3 0 33 0 21 0 18 0 18 0 9 0 3 0 30 0 3 0 30 0 9 0 18 0 9 0 30 0 21 0 15 0 18 0 3 0 12 0 6 0 33 0 9 0 9999"/><path d="M-489 846.11H477.01" stroke-dasharray="0 12 0 33 0 12 0 9 0 21 0 12 0 24 0 3 0 9 0 21 0 15 0 30 0 24 0 6 0 6 0 18 0 6 0 12 0 15 0 15 0 66 0 18 0 15 0 6 0 36 0 39 0 3 0 3 0 9 0 3 0 12 0 9 0 6 0 30 0 30 0 21 0 12 0 15 0 12 0 15 0 3 0 3 0 33 0 3 0 6 0 51 0 6 0 12 0 21 0 42 0 18 0 75 0 24 0 6 0 9999"/><path d="M-488 846.11H469.01" stroke-dasharray="0 15 0 45 0 30 0 54 0 6 0 51 0 3 0 57 0 18 0 45 0 18 0 3 0 9 0 12 0 24 0 3 0 9 0 9 0 6 0 12 0 9 0 3 0 3 0 18 0 6 0 6 0 6 0 9 0 3 0 21 0 9 0 21 0 3 0 3 0 6 0 12 0 3 0 15 0 21 0 12 0 6 0 78 0 12 0 9 0 6 0 48 0 6 0 6 0 135 0 6 0 12 0 9 0 6 0 9999"/><path d="M-428 846.11H323.01" stroke-dasharray="0 90 0 5 0 15 0 30 0 4 0 68 0 145 0 57 0 8 0 7 0 31 0 2 0 88 0 10 0 81 0 110 0 9999"/><path d="M-216 846.11H323.01" stroke-dasharray="0 145 0 394 0 9999"/><path d="M-469 842.26H476.01" stroke-dasharray="0 12 0 6 0 6 0 6 0 6 0 6 0 42 0 6 0 21 0 3 0 15 0 18 0 3 0 24 0 6 0 21 0 51 0 3 0 15 0 3 0 3 0 30 0 18 0 18 0 6 0 27 0 9 0 6 0 9 0 6 0 24 0 3 0 9 0 3 0 9 0 18 0 21 0 3 0 12 0 6 0 6 0 3 0 18 0 6 0 6 0 24 0 36 0 3 0 24 0 3 0 3 0 42 0 15 0 15 0 24 0 12 0 81 0 3 0 63 0 6 0 9 0 21 0 9 0 9999"/><path d="M-489 842.26H489.01" stroke-dasharray="0 45 0 18 0 18 0 3 0 15 0 6 0 9 0 21 0 6 0 3 0 9 0 30 0 18 0 3 0 6 0 3 0 18 0 3 0 3 0 30 0 45 0 9 0 24 0 18 0 3 0 3 0 3 0 24 0 63 0 9 0 3 0 18 0 21 0 15 0 15 0 12 0 12 0 3 0 9 0 3 0 9 0 18 0 6 0 18 0 9 0 12 0 18 0 6 0 6 0 9 0 3 0 24 0 21 0 3 0 24 0 3 0 21 0 15 0 15 0 27 0 33 0 3 0 42 0 39 0 12 0 3 0 9999"/><path d="M-488 842.26H463.01" stroke-dasharray="0 9 0 30 0 18 0 48 0 15 0 15 0 15 0 39 0 3 0 15 0 15 0 69 0 48 0 9 0 27 0 33 0 9 0 3 0 9 0 3 0 3 0 6 0 30 0 15 0 6 0 18 0 3 0 3 0 27 0 15 0 18 0 15 0 9 0 63 0 3 0 15 0 18 0 9 0 18 0 6 0 21 0 12 0 12 0 12 0 33 0 21 0 21 0 9 0 9 0 69 0 9999"/><path d="M-355 842.26H476.01" stroke-dasharray="0 74 0 141 0 46 0 24 0 30 0 76 0 14 0 3 0 34 0 12 0 74 0 303 0 9999"/><path d="M-40 842.26h0"/><path d="M-481 838.41H419.01" stroke-dasharray="0 3 0 12 0 54 0 3 0 36 0 15 0 3 0 24 0 48 0 6 0 6 0 3 0 9 0 30 0 42 0 3 0 9 0 3 0 24 0 3 0 3 0 15 0 12 0 3 0 3 0 21 0 24 0 9 0 9 0 3 0 36 0 6 0 12 0 12 0 6 0 18 0 18 0 9 0 75 0 9 0 30 0 9 0 21 0 36 0 6 0 3 0 3 0 9 0 9 0 15 0 6 0 33 0 42 0 39 0 9999"/><path d="M-459 838.41H489.01" stroke-dasharray="0 3 0 21 0 36 0 24 0 6 0 21 0 72 0 6 0 27 0 9 0 21 0 9 0 6 0 63 0 9 0 3 0 21 0 57 0 3 0 15 0 15 0 12 0 27 0 12 0 18 0 21 0 3 0 6 0 3 0 6 0 24 0 9 0 12 0 9 0 12 0 30 0 9 0 9 0 12 0 12 0 3 0 3 0 15 0 18 0 18 0 21 0 36 0 3 0 3 0 60 0 9 0 12 0 48 0 6 0 9999"/><path d="M-473 838.41H490.01" stroke-dasharray="0 81 0 48 0 18 0 9 0 21 0 36 0 15 0 81 0 21 0 45 0 3 0 9 0 6 0 18 0 3 0 30 0 9 0 9 0 21 0 12 0 9 0 12 0 3 0 12 0 21 0 30 0 21 0 9 0 18 0 24 0 9 0 3 0 72 0 9 0 3 0 9 0 36 0 21 0 18 0 18 0 21 0 42 0 27 0 21 0 9999"/><path d="M-409 838.41H291.01" stroke-dasharray="0 40 0 11 0 14 0 13 0 102 0 42 0 39 0 3 0 57 0 2 0 24 0 16 1 2 0 16 0 20 0 38 0 12 0 3 0 11 0 24 0 6 0 105 0 81 1 17 0 9999"/><path d="M-490 834.57H446.01" stroke-dasharray="0 48 0 12 0 18 0 3 0 18 0 3 0 3 0 21 0 39 0 21 0 6 0 3 0 18 0 12 0 33 0 51 0 3 0 6 0 21 0 9 0 69 0 15 0 6 0 6 0 12 0 3 0 3 0 6 0 3 0 9 0 3 0 15 0 3 0 3 0 3 0 12 0 15 0 18 0 39 0 6 0 9 0 36 0 12 0 12 0 18 0 12 0 51 0 6 0 3 0 3 0 15 0 72 0 36 0 6 0 30 0 18 0 9999"/><path d="M-471 834.57H480.01" stroke-dasharray="0 6 0 3 0 24 0 81 0 9 0 9 0 3 0 6 0 3 0 18 0 15 0 3 0 9 0 3 0 21 0 3 0 6 0 21 0 12 0 18 0 33 0 18 0 21 0 60 0 9 0 27 0 9 0 6 0 33 0 3 0 9 0 18 0 6 0 3 0 9 0 3 0 9 0 3 0 6 0 3 0 24 0 12 0 15 0 6 0 24 0 15 0 9 0 6 0 9 0 9 0 9 0 27 0 24 0 3 0 42 0 12 0 6 0 66 0 15 0 3 0 9 0 21 0 24 0 9999"/><path d="M-473 834.57H469.01" stroke-dasharray="0 9 0 36 0 6 0 3 0 3 0 6 0 24 0 15 0 3 0 6 0 6 0 15 0 3 0 9 0 3 0 12 0 9 0 6 0 6 0 45 0 3 0 6 0 3 0 9 0 6 0 21 0 12 0 24 0 39 0 15 0 6 0 12 0 15 0 33 0 18 0 3 0 3 0 12 0 6 0 3 0 9 0 6 0 24 0 12 0 3 0 15 0 3 0 12 0 6 0 27 0 6 0 12 0 21 0 15 0 66 0 6 0 6 0 18 0 54 0 3 0 12 0 21 0 9 0 3 0 15 0 33 0 12 0 15 0 3 0 9 0 12 0 9999"/><path d="M-388 834.57H448.01" stroke-dasharray="0 49 0 111 0 103 0 33 0 58 0 11 0 31 0 9 0 68 0 79 0 105 0 87 0 79 0 13 0 9999"/><path d="M-23 834.57h0"/><path d="M-460 830.72H488.01" stroke-dasharray="0 9 0 3 0 9 0 3 0 3 0 30 0 27 0 27 0 12 0 6 0 18 0 6 0 18 0 3 0 48 0 42 0 3 0 18 0 15 0 3 0 24 0 21 0 3 0 21 0 3 0 3 0 15 0 6 0 6 0 6 0 6 0 3 0 9 0 3 0 15 0 6 0 27 0 3 0 6 0 6 0 3 0 3 0 12 0 6 0 3 0 6 0 12 0 3 0 3 0 9 0 9 0 6 0 3 0 21 0 21 0 3 0 15 0 15 0 12 0 6 0 9 0 3 0 12 0 30 0 42 0 12 0 12 0 3 0 24 0 12 0 3 0 3 0 3 0 9 0 15 0 3 0 36 0 18 0 3 0 6 0 12 0 12 0 9999"/><path d="M-468 830.72H474.01" stroke-dasharray="0 3 0 6 0 12 0 3 0 39 0 15 0 15 0 3 0 6 0 3 0 18 0 12 0 24 0 18 0 21 0 15 0 9 0 15 0 36 0 3 0 60 0 9 0 6 0 12 0 12 0 9 0 18 0 6 0 6 0 9 0 9 0 6 0 3 0 3 0 15 0 24 0 18 0 51 0 45 0 24 0 6 0 3 0 6 0 36 0 12 0 27 0 27 0 24 0 12 0 30 0 39 0 3 0 24 0 3 0 6 0 12 0 3 0 3 0 9 0 9 0 6 0 21 0 9999"/><path d="M-455 830.72H484.01" stroke-dasharray="0 57 0 27 0 3 0 21 0 9 0 12 0 18 0 3 0 6 0 3 0 6 0 27 0 6 0 12 0 6 0 6 0 6 0 18 0 12 0 9 0 33 0 24 0 9 0 15 0 9 0 12 0 24 0 9 0 9 0 15 0 3 0 6 0 12 0 6 0 3 0 3 0 6 0 6 0 3 0 3 0 15 0 6 0 9 0 12 0 15 0 3 0 21 0 30 0 21 0 9 0 3 0 12 0 33 0 12 0 24 0 36 0 12 0 9 0 15 0 6 0 9 0 3 0 3 0 6 0 12 0 30 0 18 0 39 0 6 0 6 0 3 0 15 0 9 0 9999"/><path d="M-465 830.72H475.01" stroke-dasharray="0 6 0 8 0 18 0 65 0 31 0 11 0 17 0 39 0 31 0 130 0 11 0 31 0 6 0 18 0 16 0 28 0 3 0 18 0 37 0 171 0 13 0 17 0 23 0 42 0 63 0 87 0 9999"/><path d="M1 830.72h0"/><path d="M-481 826.87H467.01" stroke-dasharray="0 6 0 3 0 12 0 60 0 6 0 15 0 12 0 33 0 6 0 33 0 9 0 6 0 15 0 18 0 69 0 45 0 6 0 21 0 6 0 9 0 3 0 6 0 12 0 6 0 24 0 15 0 6 0 3 0 3 0 3 0 9 0 6 0 12 0 3 0 3 0 3 0 9 0 6 0 12 0 12 0 6 0 12 0 18 0 9 0 18 0 3 0 24 0 6 0 24 0 15 0 9 0 24 0 15 0 24 0 3 0 21 0 3 0 6 0 36 0 90 0 6 0 6 0 6 0 3 0 15 0 9999"/><path d="M-483 826.87H480.01" stroke-dasharray="0 51 0 6 0 12 0 42 0 18 0 39 0 6 0 15 0 15 0 15 0 12 0 3 0 15 0 9 0 3 0 3 0 18 0 27 0 12 0 15 0 9 0 3 0 21 0 12 0 12 0 6 0 6 0 18 0 12 0 6 0 6 0 3 0 3 0 33 0 3 0 6 0 6 0 3 0 3 0 18 0 3 0 3 0 3 0 3 0 33 0 9 0 21 0 12 0 21 0 72 0 3 0 15 0 36 0 18 0 3 0 21 0 6 0 6 0 3 0 12 0 6 0 3 0 24 0 6 0 12 0 3 0 12 0 15 0 36 0 18 0 9999"/><path d="M-485 826.87H475.01" stroke-dasharray="0 15 0 33 0 9 0 9 0 24 0 6 0 15 0 9 0 6 0 18 0 9 0 3 0 6 0 3 0 24 0 3 0 12 0 6 0 3 0 33 0 12 0 3 0 6 0 15 0 12 0 24 0 3 0 3 0 27 0 12 0 3 0 3 0 3 0 3 0 12 0 15 0 12 0 9 0 9 0 3 0 9 0 12 0 3 0 3 0 6 0 6 0 6 0 3 0 3 0 3 0 9 0 6 0 12 0 3 0 12 0 9 0 9 0 9 0 3 0 6 0 15 0 3 0 21 0 15 0 33 0 24 0 27 0 30 0 3 0 15 0 27 0 15 0 9 0 54 0 30 0 3 0 3 0 12 0 3 0 6 0 21 0 12 0 3 0 3 0 6 0 9999"/><path d="M-470 826.87H426.01" stroke-dasharray="0 129 0 46 0 9 0 39 0 28 0 92 0 5 0 8 0 4 0 22 0 24 0 11 0 3 0 8 0 2 0 21 0 3 0 11 0 6 0 11 0 6 0 2 0 3 0 11 1 47 0 47 0 21 0 59 0 24 0 63 0 130 0 9999"/><path d="M-470 826.87H82.01" stroke-dasharray="0 420 0 31 0 14 0 87 0 9999"/><path d="M-472 823.02H488.01" stroke-dasharray="0 21 0 12 0 9 0 18 0 18 0 24 0 9 0 3 0 6 0 51 0 6 0 3 0 24 0 6 0 18 0 9 0 21 0 6 0 3 0 18 0 15 0 9 0 33 0 6 0 6 0 18 0 3 0 15 0 9 0 6 0 39 0 6 0 3 0 6 0 9 0 9 0 6 0 3 0 9 0 6 0 6 0 6 0 3 0 9 0 3 0 9 0 3 0 6 0 12 0 9 0 3 0 9 0 3 0 9 0 33 0 6 0 6 0 15 0 9 0 15 0 6 0 21 0 6 0 3 0 30 0 6 0 9 0 6 0 9 0 6 0 24 0 75 0 36 0 12 0 6 0 18 0 12 0 9999"/><path d="M-489 823.02H480.01" stroke-dasharray="0 9 0 12 0 12 0 27 0 12 0 69 0 3 0 27 0 15 0 12 0 6 0 3 0 15 0 9 0 3 0 15 0 9 0 21 0 3 0 3 0 3 0 15 0 6 0 18 0 3 0 3 0 3 0 9 0 24 0 3 0 6 0 15 0 6 0 12 0 6 0 3 0 3 0 3 0 6 0 6 0 15 0 12 0 3 0 3 0 12 0 9 0 6 0 24 0 6 0 24 0 9 0 6 0 12 0 33 0 3 0 3 0 6 0 3 0 3 0 36 0 15 0 12 0 9 0 9 0 12 0 24 0 12 0 27 0 9 0 6 0 6 0 9 0 33 0 51 0 12 0 15 0 12 0 3 0 15 0 12 0 9999"/><path d="M-482 823.02H490.01" stroke-dasharray="0 3 0 9 0 27 0 6 0 6 0 6 0 24 0 3 0 3 0 36 0 21 0 6 0 27 0 18 0 33 0 18 0 36 0 9 0 3 0 6 0 30 0 72 0 12 0 3 0 15 0 3 0 3 0 6 0 9 0 15 0 3 0 6 0 3 0 9 0 3 0 6 0 27 0 3 0 6 0 3 0 9 0 12 0 9 0 3 0 6 0 6 0 15 0 9 0 3 0 15 0 9 0 9 0 45 0 12 0 9 0 12 0 3 0 3 0 12 0 15 0 3 0 3 0 30 0 9 0 9 0 21 0 12 0 15 0 6 0 24 0 12 0 6 0 9 0 30 0 3 0 15 0 6 0 6 0 9999"/><path d="M-470 823.02H458.01" stroke-dasharray="0 2 0 43 0 8 0 58 0 67 0 5 0 86 0 38 0 4 0 35 0 28 0 16 0 7 1 4 0 3 0 8 0 13 0 8 0 8 0 23 0 14 0 2 0 18 0 4 0 2 0 8 1 2 0 9 1 20 0 50 0 12 0 14 0 40 0 38 0 11 0 17 0 17 0 43 0 86 0 36 0 18 0 9999"/><path d="M-96 823.02H440.01" stroke-dasharray="0 337 0 77 0 122 0 9999"/><path d="M-481 819.18H479.01" stroke-dasharray="0 9 0 3 0 15 0 6 0 12 0 12 0 33 0 3 0 6 0 6 0 12 0 6 0 9 0 36 0 3 0 36 0 9 0 12 0 9 0 18 0 18 0 9 0 12 0 3 0 42 0 3 0 21 0 9 0 3 0 21 0 3 0 3 0 15 0 3 0 3 0 3 0 6 0 3 0 6 0 3 0 6 0 18 0 3 0 3 0 18 0 6 0 3 0 3 0 9 0 3 0 3 0 3 0 12 0 3 0 6 0 9 0 3 0 18 0 6 0 30 0 3 0 15 0 3 0 9 0 15 0 45 0 9 0 6 0 12 0 3 0 3 0 9 0 6 0 3 0 3 0 3 0 3 0 3 0 9 0 12 0 6 0 9 0 9 0 3 0 6 0 3 0 15 0 12 0 12 0 51 0 30 0 3 0 3 0 15 0 9999"/><path d="M-474 819.18H483.01" stroke-dasharray="0 18 0 3 0 15 0 9 0 3 0 6 0 15 0 3 0 9 0 3 0 12 0 48 0 6 0 27 0 3 0 6 0 3 0 6 0 3 0 3 0 6 0 6 0 3 0 9 0 24 0 3 0 27 0 6 0 18 0 9 0 9 0 21 0 3 0 3 0 3 0 21 0 15 0 6 0 3 0 15 0 21 0 3 0 3 0 3 0 24 0 3 0 6 0 33 0 6 0 3 0 6 0 9 0 3 0 9 0 3 0 3 0 6 0 3 0 15 0 6 0 21 0 18 0 42 0 18 0 15 0 6 0 6 0 24 0 6 0 12 0 15 0 3 0 42 0 39 0 6 0 3 0 6 0 24 0 12 0 3 0 3 0 54 0 9999"/><path d="M-467 819.18H475.01" stroke-dasharray="0 3 0 3 0 9 0 3 0 15 0 3 0 6 0 27 0 18 0 12 0 6 0 33 0 3 0 6 0 24 0 21 0 3 0 3 0 3 0 21 0 6 0 3 0 3 0 3 0 36 0 9 0 3 0 15 0 45 0 15 0 21 0 12 0 6 0 3 0 6 0 3 0 12 0 6 0 9 0 9 0 3 0 6 0 3 0 3 0 6 0 6 0 3 0 6 0 3 0 3 0 3 0 3 0 3 0 6 0 6 0 12 0 6 0 3 0 9 0 3 0 3 0 6 0 3 0 12 0 9 0 9 0 27 0 9 0 12 0 24 0 42 0 6 0 18 0 48 0 21 0 3 0 9 0 12 0 24 0 3 0 6 0 12 0 3 0 3 0 3 0 9 0 6 0 6 0 6 0 3 0 21 0 3 0 3 0 15 0 9999"/><path d="M-456 819.18H460.01" stroke-dasharray="0 4 0 4 0 22 0 28 0 36 0 49 0 41 0 39 0 8 0 83 0 20 0 16 0 4 0 23 1 14 0 6 0 9 0 18 0 20 0 22 0 8 0 4 0 41 0 8 0 3 0 4 0 2 0 11 0 8 0 5 0 26 0 23 0 73 0 4 0 30 0 12 0 15 0 45 0 78 0 15 0 4 0 30 0 9999"/><path d="M-481 815.33H488.01" stroke-dasharray="0 12 0 9 0 6 0 9 0 15 0 6 0 9 0 3 0 48 0 6 0 36 0 3 0 24 0 18 0 3 0 18 0 18 0 12 0 3 0 3 0 12 0 15 0 3 0 6 0 12 0 18 0 3 0 18 0 6 0 3 0 3 0 6 0 6 0 21 0 3 0 3 0 12 0 3 0 6 0 12 0 3 0 3 0 9 0 3 0 6 0 3 0 3 0 9 0 15 0 6 0 3 0 6 0 3 0 3 0 9 0 3 0 6 0 21 0 30 0 9 0 6 0 9 0 6 0 27 0 3 0 3 0 18 0 6 0 27 0 6 0 6 0 15 0 12 0 9 0 21 0 9 0 6 0 3 0 21 0 3 0 15 0 3 0 6 0 6 0 18 0 12 0 3 0 6 0 33 0 6 0 24 0 21 0 6 0 9 0 9999"/><path d="M-480 815.33H486.01" stroke-dasharray="0 21 0 3 0 3 0 12 0 54 0 30 0 12 0 21 0 12 0 3 0 15 0 12 0 9 0 3 0 6 0 6 0 6 0 18 0 12 0 45 0 9 0 15 0 3 0 9 0 24 0 21 0 9 0 9 0 9 0 12 0 3 0 3 0 3 0 9 0 3 0 6 0 3 0 6 0 9 0 3 0 9 0 27 0 3 0 9 0 3 0 21 0 3 0 9 0 15 0 9 0 12 0 42 0 9 0 36 0 3 0 15 0 9 0 6 0 3 0 6 0 57 0 18 0 12 0 30 0 51 0 3 0 3 0 30 0 15 0 6 0 12 0 9 0 9999"/><path d="M-488 815.33H475.01" stroke-dasharray="0 3 0 18 0 3 0 18 0 15 0 3 0 3 0 33 0 9 0 9 0 33 0 15 0 27 0 9 0 3 0 12 0 18 0 6 0 57 0 9 0 3 0 9 0 3 0 3 0 6 0 6 0 9 0 9 0 18 0 6 0 6 0 3 0 3 0 9 0 9 0 3 0 6 0 3 0 9 0 12 0 3 0 6 0 6 0 3 0 3 0 3 0 6 0 3 0 3 0 15 0 6 0 9 0 9 0 6 0 3 0 6 0 6 0 6 0 21 0 6 0 3 0 15 0 6 0 3 0 27 0 9 0 33 0 33 0 15 0 15 0 3 0 12 0 9 0 54 0 45 0 12 0 15 0 36 0 12 0 6 0 33 0 9999"/><path d="M-431 815.33H475.01" stroke-dasharray="0 39 0 18 0 16 0 64 0 21 0 80 0 20 0 5 0 27 0 14 0 8 0 12 0 15 0 14 0 24 0 3 2 10 0 12 0 13 0 28 0 6 0 14 0 5 0 34 0 2 0 29 0 71 0 23 0 17 0 21 0 5 0 103 0 6 0 11 0 53 0 14 0 45 0 2 0 9999"/><path d="M-141 815.33H-54.01" stroke-dasharray="0 87 0 9999"/><path d="M-487 811.48H482.01" stroke-dasharray="0 9 0 21 0 30 0 12 0 15 0 18 0 15 0 21 0 9 0 3 0 3 0 18 0 30 0 6 0 9 0 9 0 18 0 3 0 3 0 27 0 18 0 6 0 9 0 9 0 27 0 12 0 3 0 21 0 6 0 6 0 9 0 6 0 12 0 9 0 6 0 3 0 3 0 3 0 3 0 3 0 3 0 15 0 6 0 9 0 9 0 3 0 9 0 3 0 15 0 27 0 18 0 6 0 6 0 6 0 3 0 3 0 12 0 3 0 3 0 6 0 21 0 6 0 9 0 9 0 12 0 60 0 6 0 9 0 6 0 3 0 30 0 3 0 15 0 9 0 9 0 9 0 6 0 6 0 18 0 9 0 6 0 3 0 6 0 42 0 21 0 9 0 9 0 9999"/><path d="M-483 811.48H486.01" stroke-dasharray="0 9 0 57 0 15 0 9 0 30 0 15 0 18 0 9 0 3 0 15 0 3 0 3 0 9 0 15 0 3 0 12 0 3 0 12 0 12 0 3 0 3 0 3 0 9 0 12 0 6 0 3 0 3 0 27 0 30 0 12 0 3 0 6 0 6 0 6 0 12 0 15 0 3 0 3 0 3 0 9 0 3 0 3 0 3 0 3 0 6 0 9 0 6 0 3 0 30 0 3 0 3 0 24 0 6 0 33 0 6 0 3 0 12 0 6 0 12 0 3 0 9 0 9 0 3 0 15 0 9 0 30 0 12 0 12 0 3 0 9 0 21 0 6 0 3 0 15 0 21 0 6 0 21 0 33 0 9 0 15 0 3 0 27 0 3 0 15 0 3 0 9 0 6 0 9 0 9 0 18 0 9999"/><path d="M-485 811.48H481.01" stroke-dasharray="0 9 0 3 0 21 0 12 0 3 0 3 0 3 0 15 0 3 0 6 0 9 0 27 0 21 0 12 0 18 0 36 0 3 0 15 0 9 0 3 0 21 0 6 0 3 0 3 0 9 0 3 0 6 0 6 0 3 0 12 0 3 0 6 0 27 0 3 0 24 0 9 0 6 0 6 0 3 0 6 0 6 0 18 0 3 0 21 0 3 0 3 0 6 0 6 0 3 0 9 0 9 0 15 0 6 0 3 0 6 0 3 0 6 0 6 0 33 0 6 0 3 0 3 0 15 0 3 0 3 0 27 0 12 0 6 0 3 0 3 0 9 0 12 0 12 0 9 0 6 0 24 0 21 0 9 0 9 0 18 0 3 0 15 0 6 0 24 0 3 0 42 0 45 0 9 0 12 0 12 0 12 0 3 0 6 0 9999"/><path d="M-452 811.48H482.01" stroke-dasharray="0 45 0 61 0 43 0 6 0 42 0 22 0 5 0 31 0 5 0 65 0 32 0 4 0 9 0 18 0 22 0 2 0 13 0 6 1 9 0 10 0 12 0 65 0 6 1 7 0 12 0 120 0 32 0 15 0 10 0 27 0 76 0 66 0 34 0 9999"/><path d="M-127 811.48H482.01" stroke-dasharray="0 32 0 55 0 20 0 102 0 140 0 84 0 176 0 9999"/><path d="M-487 807.64H470.01" stroke-dasharray="0 9 0 6 0 12 0 12 0 3 0 3 0 15 0 12 0 18 0 36 0 12 0 3 0 12 0 18 0 33 0 6 0 12 0 21 0 3 0 57 0 15 0 18 0 9 0 21 0 12 0 6 0 3 0 3 0 12 0 3 0 3 0 21 0 12 0 9 0 9 0 9 0 3 0 12 0 6 0 6 0 6 0 15 0 3 0 6 0 3 0 6 0 15 0 3 0 6 0 12 0 3 0 3 0 9 0 3 0 3 0 3 0 3 0 15 0 9 0 9 0 15 0 12 0 27 0 3 0 9 0 12 0 9 0 9 0 9 0 3 0 9 0 3 0 6 0 12 0 24 0 12 0 12 0 12 0 24 0 12 0 12 0 9 0 6 0 27 0 18 0 21 0 9999"/><path d="M-471 807.64H483.01" stroke-dasharray="0 24 0 12 0 18 0 21 0 3 0 12 0 9 0 6 0 21 0 3 0 24 0 12 0 9 0 6 0 6 0 3 0 3 0 12 0 9 0 6 0 9 0 15 0 3 0 6 0 3 0 3 0 18 0 6 0 6 0 6 0 3 0 9 0 24 0 21 0 6 0 3 0 3 0 9 0 9 0 3 0 6 0 3 0 3 0 3 0 3 0 6 0 3 0 9 0 6 0 6 0 12 0 6 0 15 0 3 0 3 0 9 0 3 0 9 0 12 0 6 0 9 0 6 0 33 0 9 0 18 0 3 0 21 0 6 0 9 0 27 0 6 0 12 0 33 0 3 0 3 0 15 0 9 0 27 0 27 0 42 0 3 0 24 0 12 0 6 0 6 0 12 0 6 0 24 0 6 0 27 0 9999"/><path d="M-485 807.64H490.01" stroke-dasharray="0 18 0 9 0 21 0 9 0 9 0 12 0 3 0 9 0 6 0 21 0 6 0 3 0 3 0 27 0 6 0 6 0 3 0 18 0 18 0 30 0 3 0 12 0 3 0 15 0 24 0 6 0 15 0 6 0 9 0 15 0 6 0 6 0 12 0 15 0 3 0 6 0 3 0 9 0 9 0 6 0 12 0 3 0 3 0 3 0 6 0 3 0 3 0 6 0 6 0 3 0 3 0 9 0 3 0 3 0 9 0 9 0 3 0 3 0 9 0 6 0 3 0 3 0 3 0 3 0 3 0 3 0 3 0 9 0 6 0 15 0 6 0 6 0 6 0 3 0 6 0 3 0 12 0 9 0 30 0 9 0 3 0 51 0 12 0 3 0 15 0 18 0 27 0 9 0 24 0 9 0 15 0 3 0 6 0 3 0 30 0 12 0 12 0 6 0 15 0 3 0 3 0 30 0 9999"/><path d="M-478 807.64H426.01" stroke-dasharray="0 7 0 29 0 23 0 4 0 47 0 34 0 11 0 44 0 2 0 10 0 39 0 3 0 12 0 62 0 9 1 25 0 34 0 11 0 13 0 7 1 6 0 12 0 11 0 4 1 13 0 4 0 7 0 11 0 14 0 6 0 4 0 3 0 16 0 3 0 21 0 3 0 55 0 103 1 57 0 5 0 42 0 46 0 28 0 9999"/><path d="M-478 807.64H89.01" stroke-dasharray="0 63 0 138 0 52 0 83 0 84 0 8 0 139 0 9999"/><path d="M-484 803.79H485.01" stroke-dasharray="0 51 0 3 0 3 0 15 0 6 0 12 0 3 0 9 0 9 0 6 0 30 0 6 0 48 0 12 0 9 0 15 0 3 0 3 0 3 0 3 0 33 0 6 0 3 0 3 0 3 0 21 0 12 0 12 0 9 0 6 0 3 0 9 0 15 0 6 0 9 0 6 0 3 0 6 0 3 0 6 0 9 0 9 0 3 0 9 0 6 0 12 0 3 0 3 0 6 0 12 0 3 0 6 0 3 0 6 0 3 0 6 0 3 0 6 0 6 0 6 0 6 0 3 0 12 0 6 0 6 0 6 0 15 0 18 0 21 0 6 0 6 0 3 0 6 0 3 0 6 0 9 0 9 0 12 0 6 0 15 0 3 0 15 0 6 0 3 0 39 0 15 0 30 0 6 0 12 0 12 0 3 0 18 0 9 0 6 0 12 0 3 0 6 0 6 0 18 0 15 0 3 0 12 0 9999"/><path d="M-483 803.79H471.01" stroke-dasharray="0 12 0 9 0 3 0 6 0 9 0 3 0 18 0 3 0 6 0 3 0 6 0 6 0 33 0 6 0 12 0 9 0 3 0 3 0 15 0 3 0 15 0 3 0 3 0 3 0 3 0 3 0 18 0 9 0 6 0 18 0 9 0 6 0 21 0 6 0 3 0 6 0 15 0 15 0 6 0 6 0 3 0 3 0 3 0 3 0 9 0 3 0 12 0 3 0 3 0 12 0 24 0 9 0 6 0 9 0 15 0 6 0 6 0 6 0 30 0 6 0 6 0 3 0 3 0 6 0 15 0 3 0 9 0 3 0 15 0 3 0 3 0 3 0 9 0 15 0 12 0 33 0 3 0 3 0 9 0 36 0 6 0 18 0 12 0 3 0 3 0 51 0 3 0 9 0 6 0 18 0 3 0 9 0 9 0 3 0 6 0 9 0 15 0 12 0 6 0 24 0 3 0 6 0 12 0 3 0 9999"/><path d="M-434 803.79H490.01" stroke-dasharray="0 12 0 30 0 6 0 9 0 6 0 6 0 12 0 3 0 3 0 15 0 9 0 9 0 3 0 12 0 12 0 12 0 12 0 30 0 6 0 3 0 21 0 3 0 39 0 15 0 21 0 3 0 36 0 12 0 12 0 3 0 15 0 9 0 3 0 3 0 3 0 3 0 3 0 6 0 9 0 12 0 3 0 6 0 3 0 12 0 3 0 3 0 6 0 9 0 9 0 6 0 3 0 12 0 9 0 3 0 3 0 3 0 3 0 3 0 18 0 3 0 3 0 6 0 12 0 12 0 3 0 6 0 3 0 9 0 6 0 6 0 3 0 6 0 15 0 9 0 6 0 3 0 24 0 9 0 18 0 18 0 3 0 3 0 3 0 18 0 6 0 24 0 12 0 45 0 18 0 6 0 3 0 9 0 15 0 3 0 18 0 9999"/><path d="M-434 803.79H471.01" stroke-dasharray="0 14 0 9 0 25 0 9 0 38 0 3 0 51 0 2 0 12 0 88 0 42 0 39 0 23 0 12 0 23 1 4 0 14 2 3 0 7 0 7 0 13 0 3 0 4 0 20 0 3 1 4 0 5 0 5 0 7 0 33 0 4 0 15 0 13 0 2 0 43 0 17 0 36 0 10 0 4 0 10 0 12 0 28 0 87 0 31 0 27 0 24 0 14 0 2 0 9999"/><path d="M-434 803.79H431.01" stroke-dasharray="0 293 0 97 0 5 0 470 0 9999"/><path d="M-472 799.94H476.01" stroke-dasharray="0 18 0 3 0 9 0 27 0 9 0 15 0 21 0 6 0 6 0 18 0 3 0 3 0 12 0 6 0 6 0 3 0 6 0 12 0 18 0 6 0 3 0 21 0 6 0 6 0 6 0 6 0 3 0 6 0 3 0 15 0 3 0 9 0 6 0 12 0 12 0 9 0 6 0 6 0 30 0 12 0 6 0 3 0 3 0 3 0 6 0 3 0 3 0 9 0 6 0 9 0 3 0 3 0 12 0 3 0 3 0 3 0 3 0 9 0 3 0 15 0 9 0 9 0 3 0 6 0 12 0 6 0 3 0 9 0 9 0 6 0 3 0 21 0 3 0 9 0 9 0 18 0 9 0 15 0 9 0 3 0 3 0 18 0 18 0 3 0 6 0 18 0 9 0 3 0 27 0 6 0 3 0 6 0 9 0 9 0 3 0 3 0 27 0 9 0 30 0 15 0 18 0 6 0 6 0 6 0 12 0 9 0 9999"/><path d="M-489 799.94H489.01" stroke-dasharray="0 18 0 12 0 18 0 3 0 42 0 15 0 6 0 3 0 24 0 6 0 15 0 21 0 9 0 15 0 6 0 12 0 9 0 3 0 3 0 6 0 6 0 9 0 3 0 15 0 6 0 3 0 9 0 12 0 3 0 12 0 3 0 3 0 3 0 6 0 6 0 15 0 9 0 6 0 6 0 9 0 3 0 6 0 12 0 6 0 3 0 6 0 9 0 9 0 3 0 15 0 3 0 9 0 12 0 15 0 3 0 3 0 3 0 3 0 3 0 3 0 3 0 3 0 3 0 6 0 9 0 3 0 3 0 6 0 6 0 3 0 3 0 3 0 3 0 6 0 39 0 3 0 3 0 3 0 15 0 3 0 3 0 6 0 18 0 6 0 15 0 3 0 18 0 3 0 12 0 3 0 9 0 3 0 9 0 15 0 6 0 12 0 30 0 33 0 6 0 6 0 6 0 12 0 24 0 15 0 6 0 6 0 3 0 3 0 18 0 6 0 3 0 3 0 9 0 3 0 9999"/><path d="M-488 799.94H478.01" stroke-dasharray="0 3 0 9 0 3 0 15 0 3 0 30 0 3 0 6 0 24 0 12 0 3 0 3 0 3 0 9 0 9 0 6 0 3 0 3 0 27 0 3 0 9 0 12 0 15 0 6 0 12 0 6 0 6 0 9 0 6 0 3 0 21 0 12 0 12 0 6 0 6 0 12 0 6 0 3 0 24 0 3 0 3 0 6 0 18 0 3 0 3 0 3 0 12 0 6 0 9 0 9 0 12 0 3 0 6 0 12 0 3 0 3 0 6 0 6 0 6 0 6 0 3 0 3 0 6 0 6 0 6 0 15 0 12 0 3 0 12 0 15 0 6 0 15 0 3 0 3 0 27 0 27 0 27 0 33 0 3 0 30 0 21 0 12 0 3 0 3 0 6 0 6 0 9 0 3 0 3 0 42 0 9 0 6 0 24 0 18 0 6 0 6 0 3 0 9 0 21 0 9999"/><path d="M-459 799.94H477.01" stroke-dasharray="0 4 0 14 0 19 0 48 0 12 0 51 1 20 0 21 0 40 0 24 0 11 0 36 0 8 0 28 0 25 0 11 0 13 0 10 0 4 0 35 0 17 0 8 0 6 0 5 1 11 0 17 0 9 0 4 0 13 0 4 1 9 0 19 0 18 0 30 0 80 0 7 0 7 0 13 0 14 0 96 0 20 0 19 0 41 0 32 0 9999"/><path d="M-158 799.94H269.01" stroke-dasharray="0 85 0 49 0 36 0 230 0 13 0 14 0 9999"/><path d="M-484 796.1H488.01" stroke-dasharray="0 18 0 9 0 3 0 9 0 9 0 15 0 6 0 15 0 18 0 6 0 3 0 3 0 12 0 6 0 6 0 6 0 6 0 3 0 6 0 6 0 3 0 6 0 12 0 3 0 6 0 3 0 18 0 9 0 3 0 3 0 12 0 3 0 6 0 3 0 12 0 3 0 12 0 9 0 60 0 3 0 9 0 6 0 6 0 3 0 6 0 3 0 9 0 12 0 3 0 9 0 3 0 9 0 6 0 3 0 6 0 6 0 3 0 3 0 3 0 3 0 3 0 3 0 6 0 3 0 3 0 3 0 3 0 30 0 15 0 9 0 9 0 3 0 9 0 3 0 9 0 12 0 3 0 12 0 6 0 3 0 6 0 3 0 3 0 3 0 6 0 6 0 42 0 3 0 12 0 9 0 3 0 15 0 3 0 3 0 21 0 15 0 18 0 12 0 3 0 15 0 15 0 30 0 3 0 36 0 3 0 3 0 3 0 9 0 3 0 21 0 3 0 3 0 6 0 6 0 3 0 12 0 9999"/><path d="M-486 796.1H483.01" stroke-dasharray="0 15 0 3 0 12 0 3 0 6 0 3 0 6 0 6 0 18 0 15 0 9 0 9 0 21 0 21 0 6 0 21 0 9 0 24 0 6 0 3 0 15 0 3 0 3 0 12 0 3 0 9 0 12 0 3 0 33 0 3 0 21 0 9 0 6 0 3 0 6 0 3 0 3 0 9 0 6 0 3 0 12 0 3 0 6 0 3 0 9 0 6 0 3 0 6 0 3 0 15 0 12 0 9 0 6 0 6 0 3 0 6 0 3 0 3 0 3 0 3 0 9 0 6 0 3 0 3 0 3 0 3 0 3 0 9 0 15 0 6 0 6 0 9 0 6 0 12 0 6 0 3 0 6 0 9 0 18 0 3 0 3 0 3 0 6 0 36 0 18 0 12 0 3 0 6 0 6 0 18 0 3 0 15 0 18 0 9 0 3 0 15 0 3 0 21 0 6 0 6 0 9 0 9 0 15 0 3 0 6 0 48 0 15 0 3 0 3 0 6 0 3 0 9999"/><path d="M-488 796.1H490.01" stroke-dasharray="0 3 0 3 0 3 0 6 0 6 0 24 0 6 0 12 0 3 0 18 0 9 0 9 0 18 0 15 0 3 0 3 0 3 0 6 0 3 0 3 0 3 0 12 0 3 0 15 0 15 0 15 0 3 0 6 0 3 0 6 0 6 0 30 0 3 0 21 0 6 0 12 0 3 0 6 0 9 0 15 0 12 0 3 0 3 0 6 0 3 0 3 0 3 0 6 0 9 0 3 0 6 0 18 0 18 0 3 0 3 0 3 0 3 0 6 0 3 0 3 0 3 0 9 0 3 0 3 0 6 0 3 0 9 0 9 0 9 0 3 0 3 0 3 0 3 0 6 0 6 0 3 0 3 0 9 0 3 0 9 0 18 0 6 0 12 0 15 0 12 0 9 0 3 0 6 0 3 0 12 0 6 0 3 0 18 0 6 0 3 0 15 0 12 0 3 0 6 0 21 0 6 0 3 0 3 0 6 0 12 0 3 0 3 0 6 0 15 0 21 0 15 0 9 0 3 0 3 0 3 0 3 0 18 0 3 0 15 0 3 0 12 0 9 0 6 0 3 0 3 0 3 0 3 0 9 0 18 0 9999"/><path d="M-468 796.1H468.01" stroke-dasharray="0 53 0 16 0 59 0 23 0 33 0 67 0 7 0 8 0 11 0 14 0 44 0 4 0 19 0 10 0 11 0 5 0 3 0 35 0 2 0 3 0 4 0 2 0 4 0 2 0 2 1 3 1 2 0 4 0 5 0 7 0 7 2 4 0 3 0 12 0 6 0 3 2 10 0 9 0 16 0 11 0 11 0 27 0 15 0 6 0 81 0 18 0 2 0 40 0 19 0 11 0 2 0 16 0 15 0 5 0 28 0 4 0 24 0 16 0 24 0 6 0 3 0 14 0 9999"/><path d="M-217 796.1H377.01" stroke-dasharray="0 128 0 48 0 15 0 10 0 21 0 4 0 15 0 6 0 15 0 332 0 9999"/><path d="M-478 792.25H473.01" stroke-dasharray="0 3 0 3 0 9 0 3 0 3 0 6 0 3 0 6 0 21 0 9 0 30 0 9 0 9 0 18 0 9 0 3 0 18 0 15 0 9 0 3 0 12 0 6 0 3 0 45 0 3 0 15 0 15 0 6 0 24 0 6 0 6 0 9 0 21 0 9 0 6 0 3 0 9 0 3 0 12 0 3 0 18 0 9 0 6 0 3 0 6 0 18 0 3 0 3 0 9 0 6 0 9 0 12 0 3 0 3 0 6 0 3 0 9 0 6 0 6 0 6 0 3 0 3 0 6 0 9 0 6 0 12 0 3 0 6 0 6 0 9 0 9 0 3 0 3 0 3 0 3 0 9 0 6 0 9 0 3 0 12 0 9 0 3 0 18 0 9 0 15 0 3 0 6 0 3 0 6 0 33 0 6 0 12 0 6 0 9 0 15 0 6 0 6 0 6 0 9 0 3 0 6 0 3 0 12 0 24 0 15 0 3 0 3 0 3 0 9 0 18 0 9999"/><path d="M-477 792.25H486.01" stroke-dasharray="0 9 0 12 0 6 0 9 0 12 0 6 0 9 0 9 0 6 0 3 0 9 0 3 0 6 0 24 0 3 0 15 0 3 0 24 0 18 0 18 0 12 0 18 0 12 0 15 0 9 0 6 0 27 0 36 0 9 0 15 0 9 0 3 0 9 0 9 0 6 0 15 0 3 0 3 0 6 0 3 0 6 0 3 0 9 0 3 0 3 0 3 0 3 0 3 0 6 0 9 0 3 0 3 0 6 0 9 0 9 0 3 0 3 0 3 0 9 0 3 0 3 0 6 0 15 0 3 0 3 0 9 0 3 0 3 0 6 0 3 0 12 0 12 0 27 0 6 0 9 0 6 0 3 0 12 0 9 0 6 0 36 0 9 0 3 0 15 0 3 0 9 0 27 0 6 0 12 0 36 0 3 0 6 0 3 0 3 0 15 0 3 0 27 0 6 0 6 0 9 0 12 0 21 0 6 0 3 0 9999"/><path d="M-479 792.25H484.01" stroke-dasharray="0 12 0 12 0 9 0 3 0 33 0 6 0 6 0 3 0 3 0 3 0 24 0 21 0 12 0 9 0 3 0 3 0 18 0 12 0 3 0 6 0 27 0 27 0 18 0 9 0 18 0 9 0 6 0 15 0 24 0 9 0 12 0 3 0 6 0 3 0 18 0 3 0 6 0 9 0 3 0 3 0 3 0 3 0 3 0 9 0 6 0 9 0 18 0 3 0 6 0 9 0 3 0 3 0 6 0 12 0 12 0 9 0 9 0 6 0 3 0 3 0 3 0 9 0 3 0 6 0 3 0 6 0 12 0 6 0 3 0 6 0 6 0 18 0 3 0 3 0 3 0 3 0 12 0 6 0 3 0 15 0 12 0 6 0 12 0 12 0 15 0 12 0 12 0 3 0 24 0 6 0 12 0 18 0 21 0 3 0 12 0 3 0 6 0 12 0 21 0 9 0 6 0 6 0 27 0 9999"/><path d="M-472 792.25H486.01" stroke-dasharray="0 12 0 12 0 38 0 77 0 17 0 15 0 17 0 60 1 3 0 4 0 15 0 31 0 6 0 16 0 48 0 5 0 2 0 19 1 8 0 8 0 2 0 2 0 5 1 3 0 4 0 8 2 13 0 2 0 2 0 38 0 7 1 6 0 25 1 10 0 15 0 3 0 34 0 15 1 3 0 24 0 2 0 18 0 4 0 2 0 28 0 24 0 4 0 14 0 7 0 26 0 18 0 10 0 13 0 13 0 21 0 3 1 8 0 8 0 43 0 6 1 7 0 4 0 28 0 3 0 9999"/><path d="M-301 792.25H486.01" stroke-dasharray="0 77 0 23 0 31 0 6 0 132 0 2 0 55 0 40 0 77 0 54 0 28 0 116 0 37 0 9 0 100 0 9999"/><path d="M-490 788.4H485.01" stroke-dasharray="0 9 0 15 0 9 0 15 0 18 0 9 0 3 0 12 0 9 0 30 0 3 0 3 0 39 0 3 0 6 0 3 0 9 0 3 0 3 0 9 0 3 0 9 0 9 0 27 0 3 0 6 0 6 0 3 0 6 0 6 0 6 0 18 0 3 0 6 0 6 0 3 0 12 0 3 0 9 0 3 0 6 0 9 0 27 0 6 0 9 0 12 0 3 0 3 0 3 0 3 0 3 0 3 0 3 0 6 0 3 0 9 0 6 0 3 0 6 0 3 0 12 0 6 0 3 0 3 0 6 0 3 0 3 0 12 0 6 0 6 0 3 0 3 0 3 0 3 0 9 0 15 0 9 0 9 0 6 0 6 0 3 0 6 0 3 0 12 0 9 0 6 0 18 0 3 0 3 0 9 0 3 0 12 0 15 0 15 0 6 0 9 0 9 0 3 0 3 0 6 0 36 0 3 0 60 0 3 0 3 0 3 0 15 0 6 0 6 0 15 0 6 0 3 0 3 0 12 0 12 0 3 0 12 0 12 0 9999"/><path d="M-480 788.4H486.01" stroke-dasharray="0 12 0 24 0 3 0 12 0 3 0 3 0 6 0 3 0 6 0 15 0 3 0 9 0 12 0 3 0 15 0 18 0 12 0 15 0 18 0 12 0 6 0 3 0 3 0 3 0 6 0 9 0 6 0 6 0 9 0 15 0 3 0 3 0 15 0 3 0 9 0 12 0 21 0 3 0 12 0 9 0 12 0 3 0 3 0 6 0 3 0 6 0 3 0 3 0 12 0 3 0 15 0 6 0 3 0 3 0 3 0 6 0 3 0 6 0 9 0 3 0 3 0 6 0 9 0 6 0 3 0 3 0 3 0 3 0 3 0 3 0 3 0 12 0 21 0 3 0 9 0 3 0 3 0 6 0 9 0 12 0 15 0 12 0 6 0 3 0 18 0 3 0 3 0 6 0 3 0 12 0 3 0 3 0 9 0 12 0 3 0 9 0 6 0 3 0 6 0 3 0 12 0 21 0 3 0 3 0 36 0 6 0 3 0 9 0 21 0 6 0 3 0 6 0 3 0 6 0 15 0 18 0 9 0 12 0 9 0 33 0 9999"/><path d="M-479 788.4H487.01" stroke-dasharray="0 6 0 3 0 15 0 3 0 3 0 15 0 9 0 6 0 21 0 6 0 3 0 12 0 3 0 9 0 6 0 6 0 9 0 3 0 15 0 9 0 39 0 6 0 12 0 18 0 3 0 3 0 15 0 3 0 3 0 12 0 12 0 12 0 3 0 15 0 6 0 6 0 15 0 9 0 3 0 6 0 3 0 6 0 3 0 15 0 12 0 3 0 6 0 3 0 3 0 3 0 3 0 3 0 3 0 6 0 3 0 6 0 9 0 6 0 9 0 6 0 3 0 6 0 6 0 6 0 3 0 3 0 9 0 3 0 9 0 3 0 6 0 6 0 9 0 3 0 3 0 3 0 18 0 6 0 18 0 6 0 9 0 24 0 3 0 9 0 3 0 3 0 3 0 24 0 3 0 12 0 3 0 15 0 18 0 3 0 6 0 6 0 15 0 3 0 6 0 3 0 3 0 9 0 3 0 6 0 15 0 6 0 3 0 9 0 15 0 18 0 3 0 9 0 42 0 3 0 6 0 6 0 18 0 3 0 6 0 3 0 6 0 9999"/><path d="M-449 788.4H461.01" stroke-dasharray="0 20 0 14 0 24 0 32 0 42 0 40 0 5 0 5 0 7 1 19 1 10 0 11 1 3 0 10 0 2 0 41 0 12 0 4 0 4 0 7 0 9 0 5 0 4 0 9 0 18 0 4 0 8 0 9 0 2 0 4 0 10 2 4 2 7 0 11 0 14 0 3 0 2 0 5 0 7 0 4 1 4 2 3 0 2 1 9 0 3 0 9 0 16 0 13 1 3 0 42 0 6 0 23 0 11 0 20 0 23 1 20 0 12 2 13 0 2 0 34 1 21 0 64 0 3 0 6 0 5 0 5 0 5 0 12 0 38 1 12 0 3 0 9999"/><path d="M-277 788.4H407.01" stroke-dasharray="0 18 0 45 0 53 0 36 0 5 0 31 0 38 0 7 0 32 0 3 0 24 0 6 0 38 0 14 0 3 0 102 0 229 0 9999"/><path d="M-487 784.56H488.01" stroke-dasharray="0 3 0 9 0 3 0 15 0 6 0 9 0 15 0 3 0 9 0 6 0 9 0 9 0 3 0 6 0 9 0 6 0 12 0 3 0 6 0 3 0 12 0 9 0 21 0 30 0 9 0 21 0 6 0 6 0 12 0 3 0 15 0 12 0 3 0 15 0 6 0 6 0 3 0 9 0 6 0 6 0 15 0 3 0 3 0 12 0 9 0 6 0 9 0 15 0 9 0 3 0 3 0 3 0 9 0 9 0 3 0 6 0 6 0 3 0 3 0 3 0 6 0 3 0 3 0 12 0 6 0 3 0 3 0 15 0 3 0 6 0 3 0 3 0 3 0 3 0 3 0 3 0 3 0 15 0 9 0 3 0 9 0 18 0 3 0 3 0 3 0 24 0 6 0 3 0 3 0 12 0 3 0 12 0 12 0 12 0 3 0 3 0 18 0 9 0 15 0 3 0 6 0 12 0 9 0 9 0 3 0 6 0 21 0 3 0 9 0 3 0 12 0 24 0 3 0 3 0 6 0 3 0 3 0 21 0 3 0 30 0 6 0 6 0 6 0 9999"/><path d="M-489 784.56H489.01" stroke-dasharray="0 6 0 3 0 6 0 9 0 3 0 24 0 18 0 6 0 21 0 15 0 6 0 3 0 18 0 3 0 3 0 9 0 12 0 3 0 3 0 3 0 12 0 3 0 3 0 24 0 3 0 3 0 3 0 6 0 12 0 6 0 9 0 3 0 9 0 21 0 3 0 6 0 6 0 3 0 3 0 3 0 3 0 15 0 6 0 3 0 6 0 9 0 9 0 3 0 6 0 6 0 3 0 3 0 3 0 9 0 9 0 12 0 3 0 3 0 3 0 3 0 3 0 3 0 9 0 3 0 3 0 3 0 6 0 3 0 3 0 3 0 9 0 12 0 3 0 6 0 6 0 6 0 3 0 3 0 3 0 3 0 3 0 6 0 6 0 3 0 6 0 3 0 6 0 3 0 6 0 3 0 6 0 42 0 3 0 3 0 12 0 6 0 9 0 6 0 18 0 3 0 6 0 6 0 12 0 6 0 9 0 3 0 9 0 6 0 9 0 3 0 6 0 18 0 6 0 3 0 3 0 3 0 12 0 33 0 9 0 6 0 3 0 6 0 21 0 21 0 3 0 3 0 3 0 9 0 36 0 6 0 3 0 15 0 3 0 9999"/><path d="M-488 784.56H487.01" stroke-dasharray="0 3 0 27 0 6 0 21 0 24 0 75 0 3 0 3 0 9 0 12 0 6 0 6 0 9 0 3 0 6 0 24 0 24 0 12 0 6 0 3 0 6 0 6 0 12 0 9 0 3 0 9 0 9 0 3 0 24 0 6 0 6 0 6 0 9 0 3 0 3 0 12 0 3 0 6 0 6 0 6 0 3 0 9 0 6 0 12 0 6 0 9 0 3 0 3 0 3 0 3 0 3 0 12 0 3 0 9 0 9 0 6 0 3 0 9 0 6 0 6 0 3 0 6 0 6 0 3 0 3 0 6 0 3 0 3 0 6 0 3 0 3 0 6 0 9 0 9 0 9 0 9 0 15 0 3 0 9 0 9 0 3 0 12 0 6 0 6 0 9 0 6 0 3 0 3 0 12 0 18 0 3 0 3 0 18 0 6 0 9 0 3 0 3 0 3 0 3 0 12 0 18 0 9 0 6 0 12 0 3 0 3 0 3 0 3 0 3 0 6 0 9 0 9 0 3 0 3 0 9 0 3 0 3 0 21 0 27 0 6 0 9999"/><path d="M-489 784.56H454.01" stroke-dasharray="0 37 1 9 0 4 0 7 0 7 0 9 0 79 0 7 0 3 0 42 0 11 0 33 0 31 0 46 0 14 0 4 0 4 0 9 0 7 0 11 0 23 0 20 0 10 0 22 0 15 2 8 0 12 0 3 0 2 0 5 0 4 0 4 0 11 0 2 1 2 3 4 1 3 0 7 0 2 1 10 0 10 0 5 0 2 1 4 0 2 0 8 0 8 1 3 0 22 0 11 0 3 0 19 0 6 1 7 0 14 0 18 0 11 0 4 0 5 0 8 0 11 0 8 0 9 0 14 0 4 0 15 0 11 0 5 0 3 0 4 0 27 0 40 0 26 0 4 0 10 0 27 0 9999"/><path d="M-114 784.56H176.01" stroke-dasharray="0 23 0 67 0 2 0 8 0 43 0 3 0 48 0 7 0 8 0 34 0 47 0 9999"/><path d="M-484 780.71H482.01" stroke-dasharray="0 6 0 9 0 3 0 3 0 15 0 6 0 15 0 18 0 3 0 15 0 6 0 6 0 9 0 3 0 15 0 12 0 12 0 12 0 6 0 9 0 6 0 9 0 21 0 6 0 3 0 6 0 6 0 12 0 3 0 6 0 3 0 18 0 6 0 6 0 27 0 12 0 12 0 3 0 6 0 3 0 3 0 3 0 12 0 3 0 3 0 9 0 6 0 3 0 9 0 3 0 3 0 3 0 3 0 3 0 3 0 6 0 15 0 3 0 3 0 6 0 3 0 3 0 6 0 6 0 3 0 3 0 6 0 6 0 3 0 3 0 3 0 3 0 3 0 3 0 6 0 3 0 3 0 15 0 12 0 3 0 3 0 3 0 3 0 6 0 9 0 3 0 9 0 9 0 6 0 15 0 15 0 6 0 15 0 3 0 12 0 18 0 12 0 9 0 12 0 3 0 6 0 24 0 12 0 3 0 3 0 6 0 3 0 12 0 6 0 9 0 9 0 9 0 12 0 3 0 9 0 3 0 3 0 12 0 24 0 3 0 9 0 9 0 18 0 9 0 3 0 6 0 9 0 6 0 9999"/><path d="M-489 780.71H471.01" stroke-dasharray="0 3 0 3 0 12 0 9 0 9 0 9 0 3 0 3 0 15 0 15 0 9 0 3 0 6 0 9 0 9 0 9 0 15 0 9 0 3 0 6 0 15 0 15 0 9 0 6 0 6 0 9 0 6 0 15 0 3 0 6 0 3 0 12 0 9 0 15 0 12 0 9 0 6 0 3 0 12 0 3 0 6 0 9 0 3 0 18 0 9 0 3 0 3 0 6 0 3 0 3 0 6 0 6 0 3 0 6 0 9 0 3 0 3 0 3 0 15 0 3 0 3 0 3 0 3 0 9 0 6 0 3 0 6 0 9 0 3 0 3 0 6 0 6 0 12 0 6 0 3 0 36 0 6 0 6 0 3 0 6 0 3 0 9 0 3 0 3 0 3 0 3 0 3 0 3 0 6 0 9 0 3 0 33 0 6 0 3 0 3 0 9 0 3 0 9 0 3 0 3 0 3 0 12 0 3 0 6 0 3 0 18 0 9 0 6 0 6 0 9 0 6 0 3 0 15 0 6 0 6 0 6 0 3 0 18 0 3 0 9 0 18 0 3 0 6 0 6 0 15 0 6 0 9 0 18 0 12 0 3 0 3 0 9999"/><path d="M-488 780.71H487.01" stroke-dasharray="0 9 0 3 0 3 0 15 0 3 0 9 0 3 0 9 0 6 0 9 0 6 0 6 0 9 0 3 0 9 0 9 0 9 0 21 0 9 0 12 0 3 0 9 0 6 0 15 0 18 0 3 0 3 0 3 0 3 0 36 0 3 0 18 0 3 0 9 0 3 0 6 0 3 0 9 0 12 0 9 0 3 0 6 0 12 0 18 0 3 0 6 0 9 0 3 0 12 0 6 0 6 0 9 0 6 0 3 0 3 0 6 0 3 0 3 0 9 0 6 0 9 0 6 0 9 0 9 0 3 0 3 0 6 0 6 0 6 0 3 0 9 0 6 0 15 0 3 0 3 0 9 0 9 0 3 0 3 0 3 0 9 0 6 0 3 0 6 0 12 0 9 0 15 0 18 0 3 0 21 0 9 0 6 0 6 0 6 0 3 0 3 0 18 0 3 0 3 0 6 0 6 0 3 0 6 0 6 0 6 0 3 0 42 0 9 0 6 0 3 0 6 0 6 0 6 0 12 0 9 0 3 0 6 0 15 0 9 0 18 0 6 0 6 0 6 0 6 0 3 0 6 0 6 0 9999"/><path d="M-458 780.71H481.01" stroke-dasharray="0 5 0 12 0 42 0 8 0 12 0 53 0 11 1 29 0 6 0 4 0 3 0 7 0 2 0 4 0 32 0 4 0 22 0 5 0 2 0 4 1 15 0 3 0 15 0 6 0 11 0 15 0 4 0 12 0 2 0 2 1 7 2 7 0 2 0 9 0 6 0 9 0 3 1 3 0 17 0 4 0 6 1 4 0 4 0 5 0 10 0 7 0 2 0 5 0 6 0 2 0 5 2 5 0 5 0 5 1 13 1 12 0 5 1 3 0 8 1 7 1 2 0 7 0 2 0 2 0 10 0 9 0 11 0 15 0 29 0 7 0 4 0 47 0 17 0 3 0 8 1 15 0 12 0 49 0 16 0 26 0 7 0 6 1 61 0 5 0 15 0 9999"/><path d="M-453 780.71H399.01" stroke-dasharray="0 127 0 125 0 125 0 6 0 43 0 24 0 9 0 5 0 6 0 7 0 31 0 41 0 7 0 14 0 9 0 26 0 40 0 47 0 29 0 131 0 9999"/><path d="M-463 776.86H485.01" stroke-dasharray="0 3 0 36 0 3 0 21 0 3 0 18 0 12 0 12 0 3 0 3 0 30 0 6 0 9 0 36 0 6 0 3 0 6 0 3 0 3 0 15 0 6 0 3 0 9 0 6 0 3 0 12 0 3 0 6 0 12 0 9 0 6 0 15 0 6 0 9 0 12 0 6 0 3 0 6 0 3 0 9 0 12 0 3 0 3 0 18 0 3 0 6 0 3 0 3 0 3 0 3 0 6 0 3 0 6 0 3 0 21 0 9 0 3 0 6 0 9 0 3 0 3 0 9 0 6 0 3 0 6 0 3 0 6 0 3 0 6 0 3 0 3 0 3 0 6 0 18 0 9 0 3 0 6 0 21 0 6 0 18 0 12 0 12 0 3 0 6 0 6 0 9 0 24 0 9 0 9 0 9 0 6 0 3 0 12 0 3 0 12 0 6 0 6 0 3 0 3 0 6 0 3 0 6 0 15 0 3 0 3 0 15 0 15 0 3 0 3 0 3 0 12 0 9 0 18 0 6 0 9 0 3 0 3 0 6 0 3 0 3 0 6 0 9999"/><path d="M-483 776.86H450.01" stroke-dasharray="0 33 0 12 0 6 0 3 0 27 0 12 0 9 0 3 0 6 0 3 0 6 0 15 0 3 0 3 0 6 0 9 0 9 0 6 0 21 0 3 0 6 0 3 0 24 0 9 0 9 0 30 0 18 0 3 0 6 0 9 0 9 0 15 0 15 0 6 0 9 0 9 0 9 0 3 0 12 0 6 0 3 0 3 0 21 0 6 0 3 0 3 0 3 0 3 0 3 0 3 0 3 0 3 0 3 0 6 0 6 0 3 0 3 0 3 0 6 0 6 0 6 0 3 0 9 0 3 0 6 0 6 0 3 0 3 0 3 0 3 0 6 0 6 0 3 0 9 0 6 0 6 0 3 0 6 0 6 0 3 0 9 0 3 0 6 0 3 0 3 0 3 0 3 0 3 0 3 0 12 0 6 0 3 0 3 0 6 0 6 0 3 0 15 0 6 0 15 0 30 0 3 0 6 0 3 0 15 0 3 0 6 0 3 0 33 0 3 0 3 0 9 0 3 0 21 0 9 0 39 0 3 0 9 0 3 0 3 0 6 0 6 0 3 0 3 0 9999"/><path d="M-482 776.86H490.01" stroke-dasharray="0 9 0 3 0 6 0 21 0 3 0 3 0 3 0 15 0 3 0 15 0 3 0 57 0 3 0 9 0 3 0 9 0 3 0 6 0 45 0 6 0 3 0 6 0 3 0 3 0 6 0 9 0 12 0 33 0 3 0 6 0 3 0 24 0 24 0 3 0 3 0 12 0 3 0 6 0 6 0 6 0 6 0 6 0 6 0 3 0 3 0 6 0 9 0 3 0 3 0 3 0 12 0 3 0 9 0 9 0 3 0 6 0 3 0 3 0 3 0 6 0 9 0 9 0 9 0 6 0 12 0 12 0 9 0 3 0 9 0 15 0 3 0 3 0 3 0 12 0 3 0 3 0 3 0 12 0 3 0 6 0 12 0 3 0 6 0 3 0 12 0 3 0 9 0 18 0 9 0 9 0 3 0 21 0 6 0 3 0 6 0 30 0 3 0 3 0 21 0 12 0 3 0 3 0 6 0 9 0 6 0 3 0 3 0 3 0 6 0 6 0 9 0 3 0 3 0 3 0 3 0 6 0 15 0 9 0 3 0 3 0 6 0 6 0 6 0 9 0 9999"/><path d="M-443 776.86H490.01" stroke-dasharray="0 11 0 3 0 8 0 52 0 6 0 8 0 7 0 12 0 9 0 15 0 4 0 46 0 14 0 55 0 4 0 5 0 4 0 10 0 24 0 4 0 6 0 9 1 4 0 18 0 3 0 6 0 18 0 12 0 12 0 8 2 5 1 2 0 10 1 4 0 4 0 4 1 9 0 2 0 8 1 4 0 3 1 3 0 6 0 7 0 5 0 3 0 7 3 4 0 2 0 8 0 2 1 6 1 8 0 22 0 9 0 7 0 7 0 14 0 13 0 7 0 6 0 46 0 11 0 28 0 27 0 3 0 4 0 4 0 3 0 35 0 3 0 9 1 28 0 5 0 29 0 17 0 17 0 10 0 13 0 2 0 13 0 14 0 9999"/><path d="M-432 776.86H342.01" stroke-dasharray="0 69 0 55 0 115 0 13 0 34 0 51 0 18 0 12 0 12 0 16 0 12 0 14 0 9 0 40 0 13 0 14 0 3 0 7 0 8 0 31 0 41 0 7 0 180 0 9999"/><path d="M-490 773.02H476.01" stroke-dasharray="0 18 0 12 0 9 0 15 0 3 0 33 0 9 0 12 0 6 0 3 0 18 0 6 0 3 0 6 0 6 0 9 0 6 0 12 0 3 0 9 0 3 0 15 0 12 0 6 0 9 0 3 0 3 0 6 0 3 0 36 0 6 0 3 0 12 0 3 0 6 0 12 0 15 0 3 0 6 0 9 0 3 0 12 0 3 0 3 0 9 0 3 0 3 0 3 0 3 0 6 0 3 0 3 0 3 0 3 0 3 0 3 0 9 0 3 0 6 0 3 0 6 0 3 0 6 0 3 0 3 0 3 0 3 0 3 0 3 0 3 0 3 0 3 0 3 0 3 0 3 0 3 0 3 0 3 0 3 0 6 0 3 0 3 0 3 0 15 0 6 0 6 0 3 0 6 0 3 0 3 0 6 0 3 0 9 0 6 0 15 0 3 0 3 0 3 0 12 0 9 0 6 0 9 0 3 0 12 0 27 0 3 0 12 0 15 0 3 0 3 0 9 0 3 0 6 0 3 0 3 0 24 0 3 0 3 0 9 0 6 0 9 0 6 0 3 0 3 0 12 0 6 0 6 0 3 0 6 0 12 0 15 0 6 0 6 0 3 0 12 0 6 0 9 0 18 0 6 0 12 0 9999"/><path d="M-486 773.02H483.01" stroke-dasharray="0 6 0 3 0 3 0 3 0 15 0 3 0 18 0 3 0 12 0 3 0 6 0 3 0 9 0 6 0 3 0 12 0 3 0 15 0 3 0 3 0 3 0 15 0 12 0 3 0 12 0 6 0 3 0 18 0 3 0 6 0 3 0 15 0 3 0 3 0 9 0 6 0 6 0 9 0 9 0 12 0 3 0 6 0 9 0 6 0 6 0 21 0 3 0 3 0 15 0 3 0 18 0 6 0 6 0 6 0 9 0 3 0 3 0 6 0 6 0 9 0 3 0 6 0 3 0 3 0 9 0 3 0 3 0 3 0 9 0 3 0 3 0 6 0 3 0 3 0 6 0 6 0 3 0 6 0 6 0 3 0 3 0 3 0 12 0 3 0 3 0 3 0 3 0 6 0 3 0 24 0 6 0 9 0 3 0 12 0 6 0 12 0 9 0 6 0 3 0 27 0 3 0 3 0 18 0 6 0 3 0 3 0 6 0 9 0 3 0 6 0 9 0 15 0 18 0 6 0 3 0 9 0 12 0 3 0 3 0 12 0 6 0 3 0 6 0 12 0 18 0 3 0 9 0 6 0 6 0 3 0 3 0 3 0 3 0 3 0 9 0 3 0 3 0 3 0 6 0 12 0 9 0 3 0 6 0 9999"/><path d="M-482 773.02H487.01" stroke-dasharray="0 9 0 6 0 9 0 3 0 6 0 6 0 9 0 18 0 9 0 15 0 6 0 3 0 3 0 3 0 27 0 9 0 21 0 3 0 3 0 3 0 42 0 6 0 12 0 3 0 9 0 3 0 3 0 9 0 3 0 15 0 6 0 9 0 6 0 15 0 9 0 9 0 3 0 6 0 6 0 9 0 6 0 15 0 3 0 3 0 3 0 3 0 3 0 9 0 3 0 3 0 3 0 3 0 3 0 6 0 3 0 3 0 3 0 6 0 3 0 3 0 3 0 6 0 6 0 3 0 9 0 3 0 3 0 9 0 3 0 3 0 6 0 12 0 3 0 3 0 3 0 3 0 3 0 3 0 9 0 3 0 9 0 6 0 6 0 12 0 3 0 9 0 3 0 3 0 6 0 3 0 6 0 6 0 3 0 9 0 6 0 3 0 6 0 3 0 6 0 27 0 12 0 6 0 9 0 9 0 3 0 6 0 3 0 3 0 3 0 9 0 15 0 9 0 3 0 6 0 6 0 36 0 3 0 3 0 3 0 3 0 3 0 6 0 12 0 15 0 6 0 3 0 15 0 15 0 3 0 24 0 3 0 21 0 3 0 9 0 6 0 3 0 9999"/><path d="M-486 773.02H469.01" stroke-dasharray="0 9 0 3 0 31 0 26 1 5 0 12 0 9 0 15 0 5 0 10 0 8 0 28 0 15 0 17 0 10 0 9 0 11 0 11 0 3 0 9 0 6 0 44 0 4 0 44 0 15 0 4 0 16 1 13 0 9 0 5 0 5 1 2 0 2 0 4 0 9 0 4 0 9 1 3 0 4 0 7 2 2 0 2 0 2 1 7 0 3 1 9 0 2 1 3 0 7 0 5 1 2 0 6 0 2 0 5 0 3 1 2 2 13 0 2 0 4 1 5 0 2 0 3 0 6 0 6 0 2 0 3 0 11 0 2 0 11 0 10 0 2 1 2 0 16 0 2 0 15 0 2 0 8 0 12 0 41 0 18 0 2 0 9 0 9 0 5 0 11 0 12 0 19 0 40 0 9 0 42 0 6 0 5 1 6 0 18 0 2 0 13 0 16 0 9999"/><path d="M-486 773.02H420.01" stroke-dasharray="0 69 0 18 0 29 0 61 0 124 0 130 0 4 0 24 2 2 0 2 0 13 1 30 0 19 0 2 0 25 0 11 0 8 0 3 0 13 0 24 0 18 0 2 0 25 0 91 0 156 0 9999"/><path d="M-490 769.17H482.01" stroke-dasharray="0 3 0 9 0 12 0 9 0 3 0 6 0 9 0 3 0 9 0 6 0 6 0 3 0 6 0 3 0 3 0 18 0 12 0 9 0 6 0 48 0 12 0 9 0 3 0 3 0 3 0 9 0 6 0 15 0 24 0 6 0 18 0 6 0 15 0 9 0 18 0 6 0 15 0 6 0 3 0 9 0 3 0 6 0 6 0 6 0 6 0 6 0 3 0 3 0 3 0 3 0 6 0 3 0 3 0 3 0 12 0 3 0 3 0 12 0 6 0 3 0 3 0 3 0 3 0 3 0 3 0 3 0 3 0 6 0 3 0 3 0 3 0 6 0 3 0 3 0 3 0 3 0 9 0 3 0 6 0 6 0 12 0 3 0 3 0 3 0 3 0 3 0 9 0 3 0 12 0 3 0 6 0 9 0 3 0 3 0 6 0 12 0 3 0 3 0 6 0 3 0 6 0 9 0 6 0 3 0 3 0 3 0 18 0 12 0 3 0 3 0 15 0 3 0 15 0 3 0 6 0 18 0 3 0 3 0 12 0 3 0 3 0 6 0 3 0 6 0 12 0 15 0 6 0 3 0 3 0 9 0 3 0 9 0 3 0 9 0 3 0 3 0 3 0 3 0 6 0 9 0 12 0 24 0 6 0 3 0 9999"/><path d="M-489 769.17H489.01" stroke-dasharray="0 51 0 6 0 12 0 6 0 3 0 12 0 9 0 6 0 3 0 3 0 9 0 3 0 3 0 9 0 9 0 6 0 3 0 3 0 6 0 6 0 3 0 3 0 15 0 3 0 12 0 9 0 9 0 21 0 3 0 12 0 9 0 6 0 6 0 15 0 6 0 12 0 3 0 3 0 3 0 12 0 12 0 3 0 15 0 3 0 3 0 3 0 3 0 21 0 6 0 3 0 9 0 6 0 3 0 9 0 3 0 3 0 9 0 3 0 3 0 3 0 15 0 3 0 3 0 6 0 3 0 3 0 3 0 3 0 3 0 3 0 6 0 9 0 12 0 3 0 3 0 6 0 3 0 3 0 6 0 9 0 15 0 3 0 15 0 3 0 3 0 6 0 3 0 15 0 9 0 3 0 3 0 18 0 9 0 18 0 6 0 3 0 3 0 3 0 3 0 9 0 3 0 3 0 6 0 3 0 3 0 21 0 12 0 15 0 3 0 6 0 12 0 3 0 3 0 9 0 18 0 6 0 6 0 3 0 9 0 3 0 9 0 15 0 9 0 3 0 3 0 9 0 15 0 9 0 3 0 9 0 3 0 15 0 3 0 15 0 9999"/><path d="M-488 769.17H481.01" stroke-dasharray="0 15 0 6 0 9 0 9 0 12 0 3 0 27 0 12 0 9 0 15 0 3 0 15 0 3 0 9 0 3 0 6 0 30 0 6 0 3 0 15 0 6 0 9 0 3 0 9 0 6 0 6 0 9 0 3 0 3 0 6 0 3 0 3 0 9 0 3 0 3 0 6 0 9 0 3 0 9 0 6 0 6 0 9 0 6 0 3 0 6 0 3 0 3 0 3 0 9 0 3 0 6 0 3 0 3 0 6 0 12 0 3 0 6 0 3 0 3 0 6 0 3 0 3 0 3 0 9 0 6 0 6 0 3 0 6 0 3 0 3 0 3 0 3 0 6 0 3 0 3 0 3 0 3 0 3 0 3 0 9 0 6 0 9 0 9 0 3 0 3 0 3 0 3 0 9 0 3 0 12 0 3 0 3 0 3 0 12 0 3 0 6 0 3 0 3 0 3 0 3 0 12 0 3 0 6 0 12 0 9 0 3 0 6 0 15 0 12 0 3 0 3 0 6 0 6 0 12 0 3 0 15 0 12 0 6 0 6 0 6 0 3 0 3 0 12 0 15 0 3 0 12 0 3 0 15 0 3 0 18 0 6 0 9 0 6 0 15 0 9 0 3 0 3 0 12 0 3 0 6 0 15 0 15 0 3 0 9 0 9999"/><path d="M-490 769.17H479.01" stroke-dasharray="0 54 0 4 0 20 0 28 0 2 0 28 0 4 0 29 0 35 1 5 0 13 0 4 0 33 0 7 0 5 0 6 0 13 0 4 0 6 0 10 0 15 0 13 0 2 0 9 0 9 0 8 0 9 0 5 0 2 0 3 0 9 0 10 1 5 0 5 1 2 3 6 0 5 0 3 3 7 0 2 0 2 0 6 2 12 0 8 1 5 0 2 0 4 0 2 0 4 0 6 1 5 0 4 0 5 1 11 0 2 1 7 1 4 0 3 0 6 0 4 0 22 0 15 0 7 0 6 1 2 0 17 0 7 0 3 0 11 0 6 0 4 0 2 0 40 0 10 0 8 0 4 0 5 0 2 0 22 0 13 1 16 0 21 0 16 0 4 0 16 0 6 0 11 0 6 0 41 1 3 1 15 0 9 0 33 0 5 0 9999"/><path d="M-280 769.17H328.01" stroke-dasharray="0 50 0 7 0 59 0 41 0 16 0 23 0 13 0 17 0 20 0 2 0 26 0 56 0 68 0 52 0 62 0 96 0 9999"/><path d="M-484 765.32H485.01" stroke-dasharray="0 15 0 3 0 6 0 3 0 9 0 3 0 9 0 9 0 6 0 6 0 15 0 3 0 3 0 3 0 9 0 3 0 3 0 3 0 3 0 9 0 6 0 9 0 15 0 21 0 12 0 9 0 21 0 6 0 9 0 30 0 6 0 9 0 6 0 3 0 9 0 9 0 9 0 3 0 9 0 6 0 3 0 6 0 9 0 6 0 6 0 6 0 3 0 3 0 15 0 3 0 3 0 3 0 3 0 3 0 3 0 18 0 6 0 3 0 3 0 3 0 3 0 3 0 3 0 3 0 3 0 6 0 6 0 3 0 3 0 3 0 6 0 3 0 3 0 6 0 9 0 3 0 6 0 3 0 6 0 3 0 6 0 3 0 3 0 9 0 3 0 3 0 9 0 3 0 6 0 3 0 3 0 3 0 3 0 3 0 3 0 3 0 3 0 3 0 3 0 3 0 39 0 24 0 3 0 3 0 3 0 12 0 6 0 9 0 3 0 6 0 12 0 6 0 12 0 3 0 3 0 9 0 6 0 9 0 12 0 3 0 3 0 15 0 9 0 9 0 3 0 18 0 6 0 3 0 6 0 12 0 3 0 3 0 3 0 6 0 18 0 3 0 3 0 3 0 9 0 3 0 12 0 6 0 3 0 12 0 3 0 12 0 9999"/><path d="M-486 765.32H489.01" stroke-dasharray="0 3 0 3 0 15 0 9 0 3 0 9 0 3 0 6 0 6 0 9 0 6 0 3 0 3 0 3 0 3 0 6 0 6 0 3 0 24 0 3 0 3 0 3 0 3 0 21 0 9 0 12 0 9 0 3 0 21 0 18 0 9 0 3 0 6 0 3 0 15 0 6 0 6 0 12 0 3 0 3 0 6 0 6 0 6 0 9 0 3 0 9 0 15 0 3 0 3 0 6 0 3 0 3 0 6 0 3 0 3 0 3 0 3 0 3 0 6 0 3 0 3 0 3 0 3 0 6 0 3 0 6 0 3 0 3 0 3 0 9 0 6 0 6 0 9 0 3 0 6 0 3 0 3 0 3 0 3 0 6 0 6 0 6 0 3 0 3 0 3 0 3 0 9 0 3 0 3 0 6 0 15 0 3 0 6 0 6 0 3 0 3 0 3 0 6 0 6 0 3 0 6 0 3 0 6 0 15 0 15 0 9 0 3 0 12 0 3 0 15 0 15 0 3 0 3 0 3 0 6 0 3 0 6 0 3 0 15 0 18 0 12 0 3 0 6 0 9 0 9 0 6 0 12 0 21 0 21 0 6 0 27 0 3 0 3 0 9 0 6 0 12 0 15 0 3 0 9 0 3 0 3 0 9 0 9 0 6 0 3 0 3 0 9999"/><path d="M-485 765.32H487.01" stroke-dasharray="0 3 0 6 0 15 0 6 0 3 0 9 0 6 0 21 0 3 0 21 0 9 0 24 0 12 0 6 0 9 0 6 0 3 0 6 0 3 0 27 0 12 0 6 0 9 0 15 0 6 0 6 0 3 0 6 0 9 0 3 0 3 0 3 0 6 0 12 0 12 0 3 0 3 0 12 0 9 0 3 0 12 0 3 0 15 0 3 0 3 0 3 0 3 0 3 0 6 0 9 0 3 0 6 0 6 0 3 0 3 0 6 0 6 0 6 0 6 0 3 0 3 0 6 0 3 0 6 0 3 0 6 0 3 0 3 0 3 0 3 0 6 0 3 0 3 0 3 0 3 0 3 0 3 0 3 0 3 0 3 0 9 0 3 0 6 0 6 0 3 0 3 0 3 0 3 0 3 0 6 0 9 0 3 0 9 0 3 0 3 0 15 0 3 0 9 0 6 0 3 0 6 0 3 0 6 0 9 0 6 0 9 0 3 0 3 0 3 0 3 0 3 0 3 0 3 0 6 0 9 0 6 0 6 0 3 0 3 0 27 0 9 0 3 0 9 0 21 0 6 0 21 0 12 0 3 0 3 0 18 0 3 0 9 0 15 0 3 0 15 0 6 0 6 0 3 0 6 0 6 0 12 0 3 0 6 0 12 0 3 0 3 0 6 0 3 0 9999"/><path d="M-486 765.32H486.01" stroke-dasharray="0 2 0 15 0 9 0 4 1 28 0 33 0 4 0 7 0 7 0 13 0 3 0 28 1 5 0 5 0 7 0 4 0 34 0 18 0 18 1 22 1 6 0 4 0 4 0 2 2 12 0 12 1 3 0 32 0 12 0 6 0 6 0 2 0 2 0 5 1 7 0 3 0 4 0 2 0 2 0 5 0 2 0 2 0 5 0 4 0 5 0 2 0 13 0 6 2 3 0 2 1 14 0 2 0 2 1 5 2 2 0 8 0 4 1 3 0 5 0 2 0 3 0 4 1 3 0 7 1 3 0 5 1 5 0 2 0 6 0 3 0 4 0 2 0 7 0 5 0 10 0 6 1 2 1 7 2 6 0 19 0 6 0 5 0 11 2 29 0 15 0 7 0 11 0 4 0 13 0 33 0 6 0 7 0 2 0 7 0 13 0 13 0 9 0 20 0 25 0 23 0 3 1 14 0 7 0 25 0 12 0 2 0 10 0 7 0 9 0 2 0 9999"/><path d="M-314 765.32H468.01" stroke-dasharray="0 74 0 34 0 8 0 24 1 76 0 20 0 9 0 26 0 2 0 6 0 24 0 2 0 2 0 13 0 3 0 14 0 12 0 8 0 6 0 2 0 22 0 5 0 28 0 32 0 47 0 37 0 52 0 7 0 44 0 68 0 25 0 37 0 12 0 9999"/><path d="M-484 761.48H488.01" stroke-dasharray="0 27 0 12 0 6 0 3 0 18 0 12 0 6 0 6 0 6 0 9 0 3 0 3 0 6 0 9 0 3 0 3 0 6 0 6 0 12 0 3 0 21 0 9 0 6 0 12 0 6 0 6 0 6 0 12 0 9 0 12 0 3 0 6 0 6 0 6 0 9 0 3 0 3 0 6 0 6 0 6 0 3 0 3 0 3 0 6 0 6 0 9 0 6 0 3 0 15 0 3 0 9 0 6 0 3 0 6 0 3 0 18 0 6 0 9 0 6 0 3 0 3 0 9 0 3 0 6 0 3 0 3 0 3 0 15 0 3 0 3 0 9 0 6 0 3 0 3 0 3 0 6 0 3 0 3 0 3 0 6 0 3 0 3 0 9 0 3 0 3 0 3 0 3 0 3 0 6 0 3 0 3 0 18 0 3 0 3 0 3 0 3 0 18 0 3 0 6 0 6 0 3 0 3 0 3 0 12 0 3 0 12 0 3 0 3 0 6 0 9 0 3 0 12 0 18 0 6 0 15 0 6 0 18 0 6 0 3 0 9 0 3 0 3 0 3 0 6 0 3 0 3 0 3 0 9 0 3 0 3 0 6 0 15 0 18 0 6 0 12 0 3 0 9 0 3 0 12 0 3 0 9 0 3 0 3 0 9 0 3 0 3 0 3 0 3 0 3 0 12 0 3 0 9999"/><path d="M-474 761.48H489.01" stroke-dasharray="0 6 0 24 0 6 0 3 0 3 0 3 0 9 0 3 0 3 0 6 0 3 0 6 0 21 0 3 0 6 0 9 0 33 0 3 0 15 0 12 0 3 0 3 0 3 0 9 0 3 0 3 0 6 0 3 0 6 0 9 0 3 0 3 0 9 0 12 0 3 0 12 0 9 0 15 0 12 0 9 0 6 0 3 0 3 0 6 0 3 0 9 0 6 0 9 0 3 0 3 0 3 0 3 0 6 0 6 0 3 0 3 0 18 0 6 0 3 0 3 0 3 0 9 0 3 0 6 0 3 0 3 0 3 0 6 0 3 0 3 0 3 0 3 0 9 0 3 0 12 0 3 0 6 0 6 0 6 0 3 0 3 0 3 0 6 0 12 0 9 0 3 0 3 0 3 0 6 0 6 0 6 0 9 0 9 0 3 0 3 0 3 0 21 0 3 0 6 0 3 0 21 0 3 0 9 0 3 0 6 0 3 0 3 0 18 0 12 0 9 0 6 0 12 0 27 0 3 0 3 0 9 0 6 0 3 0 12 0 12 0 3 0 3 0 6 0 3 0 3 0 6 0 21 0 3 0 6 0 6 0 3 0 21 0 3 0 3 0 3 0 6 0 3 0 3 0 9 0 3 0 24 0 9 0 9999"/><path d="M-488 761.48H475.01" stroke-dasharray="0 6 0 3 0 6 0 6 0 3 0 12 0 3 0 15 0 9 0 9 0 3 0 6 0 6 0 6 0 3 0 6 0 6 0 6 0 9 0 3 0 6 0 3 0 12 0 6 0 6 0 6 0 6 0 6 0 6 0 3 0 6 0 27 0 9 0 12 0 3 0 9 0 6 0 9 0 6 0 9 0 3 0 6 0 6 0 3 0 3 0 15 0 6 0 6 0 3 0 9 0 3 0 3 0 6 0 9 0 6 0 3 0 3 0 3 0 18 0 3 0 3 0 3 0 15 0 3 0 6 0 3 0 3 0 3 0 6 0 3 0 3 0 3 0 3 0 6 0 6 0 3 0 3 0 3 0 6 0 3 0 3 0 3 0 3 0 3 0 3 0 3 0 6 0 3 0 3 0 12 0 3 0 3 0 6 0 3 0 3 0 6 0 3 0 6 0 6 0 3 0 3 0 21 0 3 0 3 0 3 0 3 0 12 0 9 0 3 0 6 0 6 0 9 0 9 0 9 0 6 0 6 0 9 0 3 0 3 0 6 0 3 0 3 0 12 0 3 0 15 0 9 0 3 0 6 0 9 0 3 0 18 0 12 0 3 0 3 0 3 0 12 0 9 0 6 0 24 0 3 0 9 0 3 0 6 0 9 0 6 0 6 0 3 0 6 0 3 0 9 0 12 0 9 0 3 0 12 0 3 0 3 0 9999"/><path d="M-479 761.48H489.01" stroke-dasharray="0 5 0 6 0 19 0 20 0 12 0 3 0 8 0 14 0 37 0 51 0 10 0 30 0 28 0 14 0 7 0 4 0 4 0 4 0 12 0 19 0 16 1 2 0 34 0 2 0 2 0 7 0 3 0 6 0 2 0 5 2 2 0 2 0 16 0 5 0 2 0 3 1 4 2 3 0 5 0 2 0 5 0 4 0 3 0 5 1 5 0 2 2 2 0 3 0 6 0 3 0 2 0 4 1 5 0 3 2 5 0 2 0 7 0 9 3 5 0 4 0 2 1 11 1 2 1 9 2 7 1 2 0 4 0 6 0 13 1 5 0 5 0 3 0 22 0 8 0 23 1 3 0 8 2 19 0 3 0 10 0 2 0 23 0 27 0 19 0 12 0 3 2 2 0 2 0 12 0 12 0 6 0 6 1 28 0 3 0 2 0 4 0 9 0 2 0 2 0 8 0 3 0 30 0 11 0 8 0 3 0 5 1 15 1 9999"/><path d="M-215 761.48H412.01" stroke-dasharray="0 145 0 11 0 4 0 10 0 19 1 11 0 3 0 6 0 3 0 12 0 3 1 15 0 10 0 2 0 12 0 11 0 15 0 8 0 2 0 10 0 81 0 35 0 10 0 187 0 9999"/><path d="M-490 757.63H479.01" stroke-dasharray="0 12 0 6 0 9 0 3 0 3 0 6 0 3 0 6 0 3 0 3 0 3 0 3 0 3 0 3 0 3 0 9 0 3 0 6 0 6 0 3 0 3 0 12 0 3 0 3 0 3 0 3 0 6 0 15 0 12 0 3 0 9 0 3 0 6 0 9 0 3 0 15 0 3 0 12 0 9 0 9 0 6 0 12 0 12 0 18 0 12 0 3 0 9 0 3 0 15 0 3 0 3 0 9 0 15 0 3 0 18 0 3 0 6 0 3 0 3 0 6 0 3 0 3 0 6 0 3 0 6 0 3 0 6 0 6 0 3 0 15 0 3 0 3 0 3 0 6 0 6 0 3 0 3 0 3 0 9 0 6 0 3 0 3 0 3 0 6 0 6 0 3 0 12 0 3 0 3 0 12 0 3 0 3 0 6 0 6 0 6 0 3 0 6 0 3 0 3 0 3 0 3 0 9 0 3 0 3 0 3 0 3 0 9 0 9 0 3 0 3 0 6 0 21 0 9 0 6 0 3 0 9 0 12 0 3 0 15 0 3 0 3 0 9 0 3 0 3 0 9 0 3 0 21 0 3 0 3 0 12 0 9 0 15 0 3 0 9 0 6 0 3 0 27 0 12 0 3 0 6 0 3 0 3 0 9 0 9 0 3 0 6 0 3 0 3 0 18 0 6 0 6 0 6 0 3 0 9999"/><path d="M-489 757.63H480.01" stroke-dasharray="0 6 0 12 0 3 0 9 0 6 0 9 0 9 0 12 0 24 0 9 0 6 0 6 0 6 0 18 0 3 0 3 0 15 0 12 0 3 0 15 0 3 0 6 0 12 0 12 0 3 0 3 0 3 0 3 0 3 0 3 0 6 0 3 0 9 0 9 0 3 0 3 0 3 0 3 0 9 0 21 0 15 0 9 0 3 0 9 0 9 0 3 0 15 0 6 0 6 0 3 0 3 0 6 0 12 0 6 0 6 0 6 0 3 0 3 0 3 0 3 0 3 0 3 0 3 0 3 0 3 0 3 0 3 0 9 0 3 0 6 0 3 0 3 0 3 0 15 0 3 0 3 0 3 0 6 0 3 0 3 0 3 0 6 0 3 0 3 0 9 0 9 0 6 0 6 0 6 0 12 0 6 0 18 0 3 0 3 0 9 0 3 0 3 0 9 0 9 0 3 0 3 0 6 0 9 0 6 0 3 0 15 0 3 0 3 0 3 0 12 0 3 0 9 0 3 0 9 0 6 0 3 0 9 0 6 0 6 0 3 0 3 0 6 0 3 0 6 0 9 0 6 0 3 0 3 0 3 0 6 0 3 0 6 0 9 0 3 0 9 0 6 0 3 0 3 0 6 0 3 0 3 0 3 0 18 0 6 0 3 0 9 0 12 0 3 0 9 0 12 0 3 0 3 0 3 0 12 0 3 0 9999"/><path d="M-485 757.63H487.01" stroke-dasharray="0 3 0 3 0 6 0 9 0 9 0 6 0 3 0 9 0 3 0 3 0 9 0 12 0 9 0 9 0 12 0 9 0 12 0 3 0 3 0 6 0 3 0 6 0 9 0 6 0 3 0 3 0 3 0 3 0 6 0 3 0 3 0 9 0 3 0 6 0 3 0 12 0 3 0 9 0 3 0 9 0 6 0 9 0 3 0 6 0 6 0 3 0 6 0 21 0 3 0 3 0 3 0 3 0 3 0 18 0 21 0 9 0 6 0 3 0 6 0 6 0 3 0 3 0 3 0 3 0 6 0 3 0 3 0 3 0 9 0 3 0 12 0 3 0 3 0 6 0 6 0 6 0 3 0 3 0 6 0 3 0 6 0 9 0 3 0 3 0 6 0 3 0 3 0 3 0 6 0 3 0 9 0 3 0 6 0 3 0 6 0 3 0 3 0 3 0 3 0 9 0 15 0 3 0 3 0 3 0 9 0 3 0 3 0 3 0 6 0 3 0 9 0 3 0 3 0 3 0 3 0 9 0 3 0 3 0 12 0 6 0 9 0 6 0 6 0 9 0 3 0 18 0 12 0 6 0 6 0 9 0 18 0 9 0 3 0 18 0 3 0 15 0 3 0 3 0 6 0 3 0 9 0 3 0 9 0 3 0 6 0 3 0 6 0 6 0 9 0 18 0 9 0 9 0 9 0 3 0 3 0 6 0 3 0 3 0 3 0 6 0 3 0 3 0 9999"/><path d="M-490 757.63H487.01" stroke-dasharray="0 5 0 3 0 4 0 7 0 8 0 15 0 2 0 2 0 5 0 15 0 23 0 2 0 2 0 13 0 6 0 2 0 3 0 12 0 13 0 14 0 3 0 8 0 2 0 7 0 28 0 15 0 8 0 27 0 20 0 3 1 34 0 8 0 2 0 11 0 8 0 16 0 13 0 11 0 6 1 5 0 8 1 4 0 12 2 3 0 4 0 2 2 2 0 3 0 2 0 4 1 3 0 3 0 4 1 2 1 2 0 9 0 2 0 3 0 2 0 2 0 2 1 2 0 10 0 6 0 5 0 6 0 3 2 5 0 10 0 8 0 3 0 4 0 4 0 4 3 3 0 2 0 4 0 2 0 19 0 11 1 2 0 7 0 3 0 5 0 3 0 5 0 17 0 5 0 3 0 5 0 6 0 11 0 5 0 2 0 2 0 6 0 11 2 4 0 10 2 2 0 9 0 3 0 14 0 2 0 6 0 5 0 5 0 5 0 17 1 14 0 11 0 8 0 18 0 5 0 5 0 14 0 8 0 3 0 10 0 7 0 9 0 4 1 2 0 34 0 11 0 6 0 2 0 5 0 18 0 9999"/><path d="M-448 757.63H487.01" stroke-dasharray="0 125 0 60 0 27 0 58 0 69 0 20 0 32 0 9 0 7 0 4 0 3 0 12 0 7 0 5 0 2 0 30 0 25 0 21 0 2 0 4 0 35 0 10 0 5 0 3 0 22 0 5 0 25 0 26 0 48 0 125 0 26 0 5 0 78 0 9999"/><path d="M-484 753.78H482.01" stroke-dasharray="0 3 0 6 0 3 0 3 0 3 0 6 0 3 0 3 0 6 0 9 0 3 0 3 0 6 0 3 0 12 0 9 0 9 0 3 0 3 0 3 0 3 0 9 0 3 0 3 0 15 0 15 0 6 0 3 0 12 0 3 0 3 0 6 0 3 0 3 0 6 0 3 0 6 0 3 0 6 0 3 0 6 0 3 0 3 0 6 0 9 0 6 0 3 0 12 0 24 0 3 0 9 0 3 0 6 0 6 0 3 0 3 0 12 0 3 0 6 0 9 0 6 0 3 0 9 0 3 0 3 0 6 0 6 0 3 0 3 0 3 0 3 0 9 0 3 0 3 0 9 0 3 0 9 0 3 0 6 0 3 0 3 0 6 0 9 0 3 0 3 0 3 0 6 0 3 0 6 0 3 0 3 0 3 0 3 0 3 0 6 0 6 0 3 0 3 0 6 0 3 0 3 0 3 0 9 0 9 0 6 0 6 0 3 0 9 0 3 0 12 0 15 0 9 0 6 0 3 0 6 0 6 0 6 0 6 0 3 0 3 0 15 0 3 0 18 0 3 0 3 0 9 0 9 0 9 0 12 0 9 0 9 0 12 0 3 0 3 0 3 0 12 0 3 0 6 0 3 0 3 0 18 0 3 0 3 0 6 0 18 0 9 0 3 0 12 0 9 0 3 0 3 0 6 0 9 0 6 0 21 0 9 0 9 0 3 0 9 0 6 0 9999"/><path d="M-480 753.78H486.01" stroke-dasharray="0 6 0 3 0 3 0 6 0 6 0 6 0 3 0 3 0 3 0 12 0 3 0 6 0 3 0 9 0 6 0 9 0 3 0 3 0 3 0 6 0 3 0 6 0 3 0 30 0 9 0 3 0 3 0 3 0 6 0 12 0 9 0 3 0 9 0 3 0 9 0 18 0 15 0 9 0 3 0 9 0 3 0 6 0 18 0 3 0 6 0 3 0 3 0 12 0 3 0 6 0 3 0 6 0 15 0 9 0 12 0 3 0 3 0 3 0 12 0 3 0 3 0 9 0 3 0 3 0 6 0 3 0 9 0 3 0 3 0 3 0 3 0 3 0 3 0 3 0 3 0 3 0 3 0 3 0 3 0 3 0 3 0 3 0 3 0 3 0 3 0 3 0 3 0 3 0 3 0 3 0 3 0 3 0 3 0 6 0 3 0 3 0 3 0 9 0 3 0 3 0 3 0 3 0 6 0 9 0 3 0 3 0 18 0 6 0 3 0 6 0 6 0 6 0 3 0 6 0 6 0 3 0 3 0 21 0 9 0 24 0 3 0 9 0 6 0 6 0 6 0 9 0 9 0 3 0 21 0 9 0 12 0 9 0 3 0 9 0 6 0 6 0 6 0 9 0 3 0 6 0 9 0 9 0 3 0 3 0 3 0 3 0 6 0 3 0 6 0 3 0 18 0 6 0 6 0 6 0 12 0 3 0 15 0 3 0 6 0 3 0 9999"/><path d="M-488 753.78H487.01" stroke-dasharray="0 9 0 3 0 3 0 12 0 9 0 18 0 3 0 6 0 9 0 9 0 6 0 6 0 18 0 6 0 3 0 3 0 3 0 3 0 3 0 3 0 3 0 9 0 3 0 6 0 3 0 3 0 6 0 9 0 6 0 9 0 3 0 3 0 12 0 3 0 6 0 3 0 6 0 9 0 6 0 6 0 9 0 3 0 6 0 3 0 3 0 9 0 6 0 3 0 3 0 6 0 6 0 3 0 6 0 9 0 3 0 3 0 6 0 6 0 3 0 6 0 9 0 6 0 6 0 9 0 6 0 3 0 3 0 3 0 3 0 6 0 9 0 3 0 3 0 6 0 3 0 6 0 3 0 9 0 9 0 3 0 3 0 3 0 3 0 3 0 3 0 3 0 3 0 3 0 3 0 3 0 3 0 6 0 3 0 3 0 3 0 12 0 3 0 3 0 3 0 3 0 6 0 6 0 3 0 6 0 3 0 3 0 6 0 9 0 3 0 6 0 3 0 6 0 6 0 3 0 6 0 3 0 3 0 3 0 3 0 3 0 9 0 6 0 3 0 12 0 18 0 3 0 3 0 6 0 6 0 3 0 6 0 6 0 18 0 12 0 6 0 6 0 24 0 3 0 9 0 3 0 3 0 9 0 9 0 9 0 3 0 12 0 6 0 6 0 12 0 9 0 12 0 3 0 3 0 6 0 9 0 3 0 3 0 9 0 9 0 3 0 3 0 3 0 3 0 3 0 6 0 3 0 3 0 3 0 9 0 9 0 6 0 3 0 9999"/><path d="M-481 753.78H487.01" stroke-dasharray="0 6 1 3 0 5 0 9 1 17 0 3 0 16 0 12 0 6 1 10 0 13 0 9 0 2 0 2 0 15 0 13 0 8 1 4 0 4 0 15 1 3 0 3 0 2 0 5 0 8 0 9 0 7 0 16 0 6 0 20 0 19 0 2 0 4 0 12 0 9 0 6 0 12 0 2 0 7 1 4 0 6 0 19 0 5 0 11 0 8 0 6 0 4 0 4 0 5 1 2 0 2 1 5 0 2 0 5 0 7 0 4 0 5 0 4 2 3 0 4 0 2 0 3 0 6 0 4 0 2 1 2 1 3 6 3 0 5 0 2 0 3 1 2 0 3 0 2 0 4 0 4 0 3 5 4 0 2 1 3 0 3 1 6 0 2 0 6 0 13 0 4 0 3 2 2 0 3 0 2 0 3 0 8 0 5 0 4 0 9 1 15 0 14 2 3 0 2 0 9 0 10 0 4 0 29 0 3 0 26 0 17 0 24 0 2 0 10 0 13 0 31 0 5 0 5 0 8 0 11 0 4 0 5 0 10 0 3 0 9 0 3 0 2 0 56 0 12 0 8 1 5 0 4 0 9999"/><path d="M-457 753.78H487.01" stroke-dasharray="0 79 0 9 0 2 0 69 0 15 0 32 0 26 0 37 0 9 0 73 0 14 0 16 0 10 0 5 0 16 0 5 1 3 0 9 0 6 0 13 1 5 0 3 0 7 0 3 0 3 0 9 0 8 0 8 0 2 0 4 0 10 0 2 0 23 0 5 0 5 0 5 0 57 0 4 0 2 0 55 0 26 0 107 0 23 0 5 0 104 0 9 0 9999"/><path d="M-490 749.94H488.01" stroke-dasharray="0 12 0 12 0 3 0 3 0 3 0 3 0 9 0 3 0 3 0 3 0 9 0 6 0 3 0 6 0 12 0 6 0 3 0 3 0 3 0 3 0 9 0 15 0 3 0 3 0 3 0 3 0 6 0 3 0 9 0 3 0 3 0 3 0 12 0 9 0 3 0 3 0 3 0 3 0 3 0 27 0 15 0 3 0 3 0 12 0 3 0 6 0 3 0 3 0 3 0 3 0 6 0 3 0 12 0 3 0 15 0 3 0 3 0 9 0 3 0 6 0 3 0 6 0 3 0 3 0 3 0 3 0 6 0 9 0 3 0 3 0 6 0 15 0 3 0 3 0 3 0 9 0 3 0 6 0 6 0 6 0 3 0 3 0 3 0 3 0 3 0 3 0 3 0 3 0 3 0 3 0 3 0 3 0 3 0 3 0 3 0 9 0 3 0 3 0 3 0 3 0 3 0 3 0 6 0 3 0 3 0 3 0 3 0 3 0 3 0 6 0 3 0 3 0 3 0 3 0 3 0 3 0 3 0 3 0 6 0 3 0 6 0 12 0 6 0 3 0 3 0 9 0 9 0 12 0 6 0 3 0 36 0 3 0 3 0 12 0 3 0 9 0 18 0 9 0 12 0 3 0 18 0 3 0 6 0 21 0 3 0 6 0 9 0 6 0 3 0 3 0 6 0 6 0 18 0 3 0 9 0 9 0 3 0 6 0 3 0 12 0 3 0 6 0 3 0 6 0 6 0 3 0 9 0 9 0 3 0 3 0 3 0 3 0 3 0 9999"/><path d="M-486 749.94H489.01" stroke-dasharray="0 3 0 15 0 3 0 3 0 3 0 6 0 3 0 3 0 9 0 15 0 3 0 12 0 6 0 6 0 6 0 6 0 6 0 9 0 18 0 6 0 3 0 3 0 6 0 6 0 6 0 18 0 12 0 3 0 9 0 9 0 3 0 9 0 6 0 12 0 12 0 12 0 3 0 3 0 6 0 3 0 3 0 3 0 3 0 3 0 3 0 3 0 3 0 3 0 3 0 12 0 6 0 30 0 3 0 6 0 3 0 3 0 6 0 3 0 3 0 3 0 3 0 3 0 3 0 3 0 3 0 3 0 3 0 3 0 6 0 3 0 3 0 3 0 3 0 3 0 3 0 6 0 3 0 3 0 3 0 3 0 3 0 6 0 6 0 3 0 3 0 6 0 3 0 3 0 3 0 6 0 3 0 3 0 3 0 3 0 6 0 3 0 3 0 9 0 3 0 3 0 3 0 3 0 3 0 3 0 9 0 9 0 3 0 3 0 3 0 18 0 6 0 6 0 6 0 3 0 6 0 3 0 3 0 3 0 6 0 3 0 3 0 3 0 9 0 15 0 3 0 9 0 3 0 3 0 6 0 3 0 3 0 3 0 6 0 6 0 21 0 3 0 6 0 6 0 3 0 3 0 3 0 3 0 9 0 15 0 6 0 9 0 6 0 6 0 6 0 3 0 3 0 6 0 9 0 3 0 3 0 6 0 3 0 9 0 6 0 3 0 3 0 3 0 18 0 9 0 12 0 9 0 6 0 3 0 9 0 9 0 9 0 12 0 9999"/><path d="M-488 749.94H490.01" stroke-dasharray="0 6 0 3 0 3 0 3 0 6 0 3 0 3 0 12 0 6 0 3 0 3 0 3 0 3 0 3 0 3 0 9 0 6 0 15 0 3 0 3 0 3 0 6 0 3 0 9 0 6 0 12 0 6 0 3 0 3 0 6 0 3 0 3 0 3 0 9 0 3 0 3 0 6 0 12 0 6 0 3 0 18 0 27 0 6 0 3 0 6 0 3 0 3 0 9 0 9 0 6 0 9 0 12 0 3 0 15 0 3 0 3 0 9 0 3 0 12 0 6 0 3 0 3 0 3 0 3 0 3 0 3 0 6 0 3 0 6 0 3 0 6 0 3 0 6 0 3 0 6 0 6 0 6 0 3 0 3 0 3 0 3 0 3 0 9 0 9 0 9 0 3 0 9 0 3 0 3 0 6 0 3 0 3 0 3 0 6 0 6 0 6 0 3 0 3 0 3 0 3 0 3 0 6 0 3 0 12 0 3 0 3 0 6 0 6 0 3 0 3 0 9 0 3 0 3 0 3 0 3 0 6 0 3 0 3 0 6 0 3 0 3 0 6 0 9 0 3 0 6 0 6 0 6 0 3 0 3 0 15 0 9 0 9 0 9 0 3 0 6 0 9 0 15 0 9 0 3 0 3 0 9 0 15 0 6 0 3 0 12 0 3 0 3 0 12 0 12 0 3 0 3 0 15 0 6 0 9 0 12 0 6 0 18 0 18 0 6 0 6 0 6 0 12 0 3 0 6 0 9999"/><path d="M-479 749.94H489.01" stroke-dasharray="1 18 0 7 0 15 1 21 0 22 0 2 0 2 1 4 0 16 1 6 0 10 0 29 0 4 0 8 0 4 0 16 0 3 0 25 0 7 0 4 0 17 0 7 0 10 0 10 0 6 1 4 1 7 0 11 0 8 0 8 0 16 0 9 0 10 1 3 0 6 0 3 0 2 0 2 0 3 0 4 2 2 0 8 2 14 3 2 0 4 0 3 0 7 0 7 1 5 0 2 0 2 5 3 2 2 0 2 0 5 1 6 3 8 1 3 1 2 0 5 0 2 1 3 0 2 0 2 0 2 0 2 2 2 1 2 2 2 0 6 0 7 7 2 0 3 0 4 0 6 0 2 1 10 1 3 0 2 0 19 0 6 0 7 0 3 0 11 3 3 0 19 0 18 0 12 0 3 0 2 0 8 0 7 0 11 1 2 0 4 0 10 0 3 0 6 0 4 1 28 0 5 0 8 0 2 0 24 0 7 0 5 0 6 0 8 0 4 0 8 0 7 2 3 0 17 1 29 0 12 0 12 0 12 0 17 0 7 1 11 1 9999"/><path d="M-460 749.94H452.01" stroke-dasharray="0 7 0 190 0 61 0 88 0 2 0 2 0 35 0 9 0 17 1 5 0 2 0 3 1 6 1 3 0 7 0 7 1 10 1 6 0 5 0 2 0 6 0 10 1 2 1 3 0 14 0 2 0 4 0 9 0 6 0 14 0 3 0 2 0 19 0 28 0 74 0 14 0 4 0 10 0 81 0 12 0 14 0 12 0 7 1 51 0 36 0 9999"/><path d="M-490 746.09H482.01" stroke-dasharray="0 6 0 6 0 3 0 9 0 3 0 3 0 3 0 3 0 3 0 3 0 9 0 6 0 9 0 3 0 15 0 3 0 3 0 6 0 3 0 33 0 3 0 3 0 3 0 3 0 12 0 3 0 3 0 3 0 6 0 15 0 6 0 3 0 6 0 3 0 6 0 18 0 6 0 3 0 3 0 18 0 3 0 3 0 3 0 6 0 6 0 3 0 3 0 6 0 3 0 6 0 6 0 6 0 3 0 3 0 3 0 3 0 3 0 18 0 3 0 3 0 3 0 3 0 3 0 3 0 3 0 3 0 6 0 9 0 6 0 3 0 3 0 3 0 9 0 6 0 3 0 3 0 6 0 3 0 6 0 3 0 3 0 3 0 9 0 3 0 3 0 6 0 3 0 6 0 3 0 3 0 3 0 3 0 3 0 3 0 3 0 3 0 3 0 9 0 3 0 3 0 3 0 3 0 6 0 3 0 3 0 3 0 3 0 3 0 3 0 3 0 6 0 3 0 6 0 3 0 6 0 3 0 3 0 12 0 3 0 6 0 3 0 6 0 3 0 3 0 3 0 18 0 6 0 3 0 6 0 3 0 6 0 3 0 6 0 12 0 3 0 12 0 3 0 3 0 3 0 9 0 9 0 3 0 9 0 3 0 9 0 6 0 3 0 6 0 6 0 3 0 6 0 6 0 6 0 3 0 12 0 18 0 3 0 9 0 3 0 3 0 6 0 6 0 12 0 18 0 3 0 9 0 3 0 3 0 3 0 6 0 3 0 6 0 12 0 3 0 6 0 12 0 3 0 3 0 3 0 3 0 9 0 9999"/><path d="M-483 746.09H480.01" stroke-dasharray="0 3 0 3 0 12 0 6 0 6 0 9 0 12 0 3 0 3 0 3 0 9 0 3 0 3 0 3 0 12 0 3 0 3 0 6 0 9 0 3 0 3 0 6 0 3 0 6 0 9 0 6 0 3 0 3 0 3 0 9 0 6 0 3 0 9 0 6 0 9 0 6 0 12 0 3 0 3 0 9 0 6 0 6 0 3 0 3 0 3 0 3 0 3 0 6 0 3 0 3 0 6 0 30 0 6 0 3 0 3 0 9 0 6 0 6 0 3 0 3 0 6 0 3 0 6 0 3 0 6 0 9 0 3 0 3 0 3 0 3 0 6 0 3 0 6 0 3 0 6 0 3 0 3 0 6 0 3 0 3 0 3 0 3 0 3 0 3 0 3 0 3 0 3 0 3 0 3 0 3 0 3 0 6 0 3 0 3 0 6 0 3 0 3 0 3 0 3 0 3 0 3 0 3 0 3 0 6 0 3 0 3 0 3 0 6 0 3 0 3 0 3 0 3 0 3 0 9 0 3 0 3 0 6 0 6 0 3 0 12 0 3 0 3 0 3 0 3 0 3 0 3 0 6 0 3 0 3 0 3 0 3 0 3 0 3 0 3 0 6 0 9 0 6 0 3 0 6 0 12 0 3 0 6 0 6 0 3 0 21 0 3 0 3 0 9 0 6 0 3 0 9 0 3 0 3 0 9 0 9 0 9 0 3 0 3 0 9 0 6 0 12 0 6 0 6 0 9 0 6 0 6 0 3 0 3 0 3 0 3 0 6 0 3 0 12 0 3 0 24 0 3 0 3 0 6 0 3 0 3 0 3 0 3 0 6 0 3 0 6 0 12 0 3 0 6 0 9999"/><path d="M-488 746.09H490.01" stroke-dasharray="0 15 0 3 0 3 0 6 0 3 0 3 0 9 0 9 0 3 0 3 0 12 0 12 0 3 0 3 0 3 0 3 0 12 0 3 0 12 0 3 0 3 0 3 0 3 0 9 0 18 0 9 0 3 0 6 0 6 0 6 0 3 0 3 0 9 0 3 0 3 0 3 0 12 0 9 0 6 0 3 0 18 0 6 0 3 0 6 0 3 0 3 0 9 0 3 0 3 0 6 0 9 0 3 0 6 0 6 0 3 0 21 0 3 0 6 0 3 0 3 0 3 0 6 0 6 0 9 0 3 0 6 0 3 0 3 0 6 0 3 0 3 0 3 0 6 0 3 0 6 0 3 0 6 0 3 0 3 0 6 0 3 0 3 0 6 0 6 0 3 0 6 0 3 0 9 0 3 0 3 0 3 0 3 0 3 0 3 0 6 0 3 0 3 0 3 0 6 0 6 0 3 0 3 0 3 0 9 0 9 0 3 0 3 0 3 0 3 0 3 0 15 0 6 0 3 0 3 0 3 0 6 0 12 0 21 0 3 0 6 0 3 0 6 0 9 0 12 0 3 0 3 0 3 0 3 0 6 0 3 0 3 0 3 0 15 0 9 0 18 0 6 0 3 0 6 0 15 0 6 0 3 0 6 0 3 0 6 0 3 0 3 0 3 0 3 0 6 0 6 0 18 0 3 0 6 0 3 0 15 0 18 0 3 0 12 0 3 0 9 0 3 0 3 0 6 0 3 0 3 0 3 0 12 0 3 0 6 0 3 0 3 0 3 0 9999"/><path d="M-483 746.09H484.01" stroke-dasharray="0 3 0 13 0 4 0 3 0 6 0 15 0 2 0 11 0 2 1 2 0 2 0 12 0 7 0 5 0 36 1 22 0 3 0 3 0 5 0 8 0 12 1 4 2 3 0 2 0 4 0 5 0 9 0 8 0 5 0 9 1 6 0 9 0 3 0 7 1 7 0 2 0 8 1 2 0 10 0 5 1 14 1 3 1 4 0 2 0 2 0 19 0 2 0 3 0 5 1 3 0 2 0 5 3 13 0 2 0 10 1 5 0 5 0 7 1 8 0 5 0 2 0 6 0 2 2 2 0 3 0 2 0 2 0 4 1 3 0 4 1 3 0 2 0 3 1 2 0 6 3 2 0 5 0 2 0 3 0 2 2 2 0 2 0 5 0 2 0 3 0 2 3 4 4 4 0 2 1 7 0 2 0 2 0 2 4 7 0 3 2 4 1 6 2 2 0 9 0 7 1 7 2 10 0 4 0 13 0 3 0 6 0 6 0 2 0 6 3 4 0 13 0 8 0 9 0 4 0 5 0 4 0 4 0 38 0 10 0 9 0 5 0 3 0 19 0 11 0 5 0 10 0 3 0 9 0 10 0 13 0 2 0 17 0 13 0 3 0 20 0 8 0 3 0 9 0 5 1 8 0 8 0 14 3 8 0 2 0 9999"/><path d="M-460 746.09H484.01" stroke-dasharray="0 41 0 83 0 84 0 35 0 45 1 4 0 25 0 21 0 14 0 13 0 10 0 7 0 14 0 10 2 5 0 9 0 3 0 13 1 2 0 11 0 16 0 2 0 7 0 3 0 2 0 7 0 2 2 7 0 9 0 2 0 4 0 9 0 3 2 11 0 21 0 23 0 22 0 14 1 6 0 34 0 61 0 62 0 35 0 112 0 12 0 9999"/><path d="M-478 742.24H488.01" stroke-dasharray="0 3 0 3 0 9 0 3 0 3 0 9 0 6 0 6 0 3 0 3 0 6 0 9 0 15 0 3 0 6 0 6 0 3 0 3 0 6 0 3 0 3 0 3 0 3 0 3 0 3 0 9 0 9 0 3 0 6 0 9 0 3 0 3 0 3 0 6 0 3 0 12 0 3 0 6 0 3 0 3 0 3 0 15 0 15 0 3 0 3 0 21 0 24 0 6 0 18 0 21 0 6 0 9 0 9 0 6 0 3 0 3 0 3 0 3 0 3 0 3 0 6 0 6 0 6 0 3 0 9 0 3 0 3 0 6 0 3 0 3 0 3 0 3 0 6 0 3 0 3 0 3 0 3 0 9 0 3 0 3 0 3 0 3 0 3 0 3 0 6 0 3 0 3 0 6 0 3 0 3 0 6 0 3 0 3 0 3 0 3 0 3 0 6 0 3 0 6 0 3 0 3 0 3 0 6 0 3 0 3 0 9 0 3 0 12 0 3 0 3 0 3 0 6 0 3 0 3 0 3 0 3 0 9 0 12 0 33 0 6 0 9 0 6 0 3 0 3 0 6 0 3 0 9 0 12 0 6 0 12 0 3 0 3 0 3 0 6 0 6 0 6 0 3 0 3 0 12 0 9 0 6 0 3 0 3 0 3 0 3 0 3 0 9 0 18 0 3 0 6 0 3 0 9 0 6 0 9 0 3 0 3 0 3 0 9 0 3 0 3 0 3 0 3 0 6 0 18 0 3 0 3 0 3 0 6 0 9 0 9 0 9999"/><path d="M-486 742.24H480.01" stroke-dasharray="0 3 0 15 0 3 0 3 0 9 0 9 0 3 0 6 0 3 0 6 0 3 0 6 0 18 0 12 0 3 0 3 0 3 0 9 0 9 0 3 0 12 0 9 0 12 0 6 0 3 0 3 0 3 0 3 0 3 0 3 0 18 0 6 0 6 0 15 0 6 0 3 0 12 0 9 0 6 0 6 0 12 0 6 0 9 0 3 0 15 0 12 0 3 0 9 0 3 0 6 0 3 0 3 0 3 0 6 0 3 0 3 0 3 0 3 0 18 0 9 0 3 0 9 0 6 0 3 0 3 0 6 0 6 0 3 0 9 0 6 0 3 0 3 0 3 0 3 0 6 0 3 0 3 0 3 0 3 0 3 0 3 0 3 0 3 0 3 0 3 0 3 0 6 0 3 0 3 0 6 0 3 0 6 0 3 0 3 0 3 0 3 0 3 0 3 0 3 0 3 0 3 0 3 0 3 0 6 0 6 0 3 0 3 0 3 0 6 0 3 0 6 0 6 0 3 0 3 0 3 0 6 0 12 0 6 0 6 0 9 0 9 0 3 0 6 0 6 0 3 0 6 0 3 0 9 0 3 0 18 0 6 0 3 0 3 0 6 0 3 0 6 0 6 0 6 0 3 0 3 0 9 0 15 0 9 0 9 0 3 0 9 0 9 0 6 0 3 0 3 0 9 0 9 0 3 0 9 0 6 0 6 0 3 0 6 0 3 0 3 0 18 0 3 0 3 0 6 0 3 0 3 0 3 0 6 0 9 0 9 0 9999"/><path d="M-485 742.24H490.01" stroke-dasharray="0 6 0 6 0 9 0 3 0 6 0 3 0 9 0 6 0 3 0 12 0 3 0 9 0 6 0 9 0 3 0 12 0 3 0 6 0 3 0 6 0 3 0 6 0 9 0 6 0 9 0 3 0 6 0 6 0 6 0 18 0 3 0 9 0 15 0 3 0 3 0 3 0 6 0 27 0 12 0 3 0 3 0 24 0 6 0 3 0 3 0 3 0 3 0 6 0 9 0 6 0 6 0 3 0 9 0 3 0 3 0 3 0 3 0 3 0 3 0 3 0 3 0 6 0 3 0 6 0 6 0 3 0 3 0 3 0 3 0 3 0 3 0 9 0 3 0 3 0 3 0 3 0 3 0 3 0 3 0 3 0 3 0 6 0 3 0 6 0 6 0 3 0 3 0 3 0 3 0 3 0 3 0 6 0 3 0 3 0 3 0 3 0 3 0 6 0 3 0 6 0 9 0 3 0 9 0 3 0 6 0 6 0 9 0 3 0 3 0 9 0 3 0 3 0 6 0 6 0 3 0 3 0 9 0 6 0 3 0 6 0 3 0 6 0 3 0 6 0 6 0 3 0 3 0 3 0 3 0 3 0 3 0 6 0 9 0 3 0 12 0 6 0 3 0 6 0 6 0 3 0 3 0 9 0 12 0 3 0 12 0 3 0 3 0 3 0 3 0 3 0 6 0 6 0 3 0 3 0 3 0 9 0 3 0 9 0 9 0 6 0 3 0 3 0 6 0 3 0 3 0 6 0 6 0 3 0 6 0 3 0 3 0 3 0 6 0 3 0 6 0 3 0 21 0 15 0 3 0 3 0 3 0 6 0 3 0 3 0 9999"/><path d="M-479 742.24H490.01" stroke-dasharray="0 14 0 2 0 21 0 7 0 5 0 13 0 17 0 5 0 3 0 10 0 2 0 2 0 9 0 2 0 3 0 2 0 4 0 12 0 12 0 5 0 3 0 2 0 6 0 3 0 2 0 13 0 22 0 18 0 4 0 2 0 5 0 15 0 9 0 39 0 31 0 9 2 3 1 5 0 14 0 4 0 7 2 2 0 3 0 2 0 9 0 2 1 4 0 6 3 5 0 3 0 5 0 3 1 2 0 2 0 5 1 4 2 5 1 2 0 3 1 2 3 2 1 2 0 4 3 6 1 3 1 2 2 2 1 3 0 3 3 2 1 4 2 2 0 2 0 2 0 2 4 3 1 3 0 3 0 3 0 4 3 2 1 3 0 2 3 6 0 2 0 2 0 7 0 2 0 6 0 2 0 11 0 2 0 2 0 6 1 8 0 2 0 2 0 6 0 13 0 9 1 4 0 31 0 4 0 15 0 13 0 16 0 7 0 7 1 3 0 2 0 3 0 6 1 25 0 14 0 2 0 8 0 9 0 13 0 13 0 16 0 2 0 8 0 4 0 8 0 2 0 8 0 5 0 4 0 5 0 3 0 4 1 13 0 15 0 3 0 8 1 17 0 11 0 9999"/><path d="M-395 742.24H462.01" stroke-dasharray="0 15 0 13 0 5 0 33 0 183 1 10 0 14 0 15 0 5 0 23 0 7 0 14 0 2 0 12 0 11 0 4 2 3 0 6 0 9 0 4 0 11 0 5 0 10 0 2 0 27 0 3 0 2 0 7 1 18 0 23 0 17 0 10 0 22 0 36 0 63 0 14 0 123 0 2 0 13 0 9 0 3 0 5 0 40 0 9999"/><path d="M-487 738.4H488.01" stroke-dasharray="0 6 0 3 0 3 0 6 0 6 0 15 0 3 0 12 0 6 0 3 0 3 0 21 0 6 0 3 0 12 0 12 0 6 0 3 0 9 0 3 0 6 0 3 0 36 0 18 0 3 0 3 0 9 0 3 0 3 0 3 0 3 0 6 0 3 0 3 0 12 0 12 0 27 0 3 0 3 0 6 0 9 0 3 0 3 0 6 0 3 0 3 0 3 0 9 0 3 0 15 0 3 0 9 0 3 0 6 0 6 0 6 0 6 0 6 0 6 0 3 0 3 0 3 0 3 0 3 0 3 0 3 0 3 0 3 0 3 0 6 0 3 0 3 0 3 0 3 0 6 0 6 0 3 0 3 0 3 0 3 0 3 0 3 0 3 0 3 0 3 0 3 0 6 0 3 0 3 0 6 0 15 0 3 0 3 0 3 0 3 0 3 0 3 0 3 0 6 0 9 0 15 0 3 0 6 0 3 0 3 0 3 0 9 0 3 0 6 0 3 0 3 0 12 0 9 0 9 0 3 0 9 0 3 0 6 0 6 0 3 0 3 0 3 0 3 0 6 0 3 0 6 0 12 0 6 0 6 0 12 0 3 0 3 0 3 0 6 0 6 0 3 0 6 0 12 0 3 0 9 0 6 0 9 0 6 0 3 0 3 0 3 0 6 0 3 0 6 0 3 0 6 0 9 0 3 0 9 0 3 0 12 0 3 0 6 0 3 0 6 0 18 0 6 0 3 0 9 0 3 0 3 0 6 0 6 0 6 0 3 0 9999"/><path d="M-480 738.4H489.01" stroke-dasharray="0 3 0 18 0 9 0 3 0 3 0 12 0 3 0 6 0 9 0 3 0 9 0 6 0 3 0 15 0 9 0 3 0 3 0 9 0 12 0 3 0 3 0 3 0 3 0 21 0 3 0 3 0 3 0 6 0 3 0 3 0 3 0 3 0 6 0 3 0 3 0 3 0 3 0 6 0 6 0 6 0 9 0 3 0 3 0 3 0 6 0 6 0 3 0 6 0 3 0 3 0 6 0 3 0 3 0 3 0 6 0 6 0 6 0 12 0 9 0 3 0 3 0 18 0 15 0 3 0 6 0 6 0 6 0 3 0 3 0 6 0 3 0 3 0 3 0 3 0 3 0 3 0 3 0 3 0 3 0 6 0 3 0 3 0 3 0 3 0 3 0 3 0 3 0 6 0 3 0 3 0 3 0 3 0 3 0 6 0 6 0 3 0 3 0 3 0 6 0 3 0 6 0 9 0 3 0 3 0 3 0 6 0 3 0 6 0 3 0 3 0 3 0 6 0 3 0 3 0 3 0 3 0 3 0 3 0 3 0 3 0 6 0 3 0 3 0 18 0 3 0 6 0 3 0 3 0 3 0 3 0 3 0 12 0 3 0 6 0 6 0 3 0 3 0 9 0 9 0 3 0 3 0 12 0 3 0 6 0 3 0 6 0 3 0 6 0 15 0 3 0 3 0 3 0 9 0 3 0 6 0 3 0 3 0 21 0 3 0 3 0 3 0 12 0 6 0 12 0 3 0 18 0 12 0 6 0 3 0 3 0 3 0 9 0 9 0 12 0 3 0 9 0 6 0 12 0 3 0 3 0 3 0 6 0 9999"/><path d="M-488 738.4H484.01" stroke-dasharray="0 6 0 3 0 6 0 3 0 3 0 3 0 3 0 3 0 15 0 9 0 9 0 9 0 9 0 12 0 3 0 15 0 6 0 3 0 6 0 3 0 9 0 3 0 6 0 3 0 12 0 15 0 3 0 3 0 3 0 3 0 6 0 3 0 6 0 12 0 24 0 12 0 6 0 3 0 6 0 12 0 6 0 3 0 3 0 9 0 3 0 3 0 3 0 3 0 3 0 9 0 6 0 9 0 6 0 6 0 9 0 3 0 3 0 3 0 3 0 3 0 6 0 3 0 9 0 6 0 3 0 3 0 6 0 3 0 9 0 3 0 3 0 6 0 3 0 6 0 3 0 9 0 3 0 3 0 3 0 3 0 3 0 3 0 3 0 3 0 3 0 3 0 3 0 3 0 9 0 3 0 3 0 6 0 6 0 3 0 3 0 3 0 3 0 3 0 6 0 9 0 3 0 9 0 9 0 3 0 3 0 3 0 3 0 9 0 6 0 3 0 3 0 12 0 3 0 3 0 3 0 3 0 3 0 9 0 6 0 9 0 6 0 12 0 18 0 6 0 24 0 12 0 3 0 6 0 6 0 9 0 15 0 6 0 3 0 3 0 3 0 3 0 6 0 3 0 6 0 15 0 6 0 6 0 9 0 24 0 9 0 6 0 15 0 3 0 3 0 3 0 6 0 9 0 12 0 3 0 3 0 6 0 3 0 6 0 3 0 3 0 9 0 6 0 9999"/><path d="M-467 738.4H478.01" stroke-dasharray="0 8 0 15 1 22 0 28 0 24 1 5 0 9 0 8 0 4 0 3 0 6 0 24 1 18 0 2 0 4 0 14 0 5 1 2 0 26 0 15 0 17 0 3 0 8 1 12 1 3 0 12 0 20 1 2 0 4 0 14 0 10 0 5 1 14 0 6 0 2 0 12 0 3 1 2 0 2 2 2 1 10 2 4 3 7 3 2 3 2 0 4 1 2 0 2 2 3 4 2 2 2 0 2 0 2 2 6 0 2 0 3 0 4 0 2 0 3 0 4 0 4 1 2 0 3 0 5 1 2 0 5 1 2 0 4 0 2 1 2 0 3 0 3 0 4 0 3 0 6 0 2 1 4 0 5 0 6 1 2 0 8 0 2 0 2 0 2 1 11 0 16 0 38 0 4 0 3 0 2 1 9 0 8 0 6 0 29 0 25 0 4 0 2 0 6 0 16 0 17 0 6 0 7 0 2 0 4 0 2 0 9 0 5 0 19 0 9 0 7 0 8 0 4 0 7 1 2 0 3 0 9 0 9 0 15 0 2 0 2 0 5 0 3 0 10 0 11 0 9999"/><path d="M-459 738.4H447.01" stroke-dasharray="0 105 0 45 0 39 0 77 1 48 1 6 0 30 0 14 0 20 0 6 0 6 0 11 1 5 1 2 0 7 0 6 0 2 0 2 0 4 0 3 0 2 0 6 0 7 0 2 0 2 0 3 0 21 0 11 0 3 0 8 0 12 0 11 0 13 0 3 0 4 0 5 0 23 0 12 0 54 0 9 0 142 0 94 0 17 0 9999"/><path d="M-487 734.55H485.01" stroke-dasharray="0 6 0 9 0 6 0 12 0 6 0 3 0 6 0 3 0 3 0 6 0 6 0 3 0 6 0 9 0 9 0 18 0 3 0 9 0 12 0 15 0 18 0 3 0 6 0 24 0 3 0 15 0 6 0 3 0 3 0 3 0 6 0 3 0 3 0 3 0 3 0 12 0 9 0 6 0 6 0 6 0 3 0 6 0 3 0 6 0 3 0 6 0 3 0 6 0 9 0 3 0 18 0 3 0 3 0 3 0 6 0 6 0 3 0 3 0 6 0 3 0 3 0 3 0 6 0 6 0 3 0 3 0 3 0 3 0 3 0 3 0 6 0 3 0 6 0 3 0 3 0 3 0 3 0 3 0 3 0 3 0 3 0 3 0 3 0 3 0 6 0 3 0 3 0 3 0 3 0 3 0 3 0 3 0 6 0 6 0 3 0 3 0 3 0 9 0 6 0 6 0 6 0 3 0 3 0 6 0 9 0 6 0 3 0 3 0 6 0 3 0 3 0 3 0 3 0 3 0 3 0 6 0 3 0 3 0 3 0 3 0 6 0 6 0 6 0 3 0 6 0 3 0 6 0 3 0 3 0 6 0 6 0 3 0 6 0 9 0 12 0 6 0 6 0 6 0 3 0 3 0 3 0 3 0 9 0 3 0 3 0 21 0 6 0 3 0 3 0 6 0 6 0 12 0 6 0 12 0 3 0 3 0 3 0 12 0 9 0 6 0 6 0 9 0 3 0 3 0 6 0 3 0 9 0 3 0 6 0 3 0 9 0 3 0 3 0 9 0 6 0 6 0 3 0 3 0 3 0 3 0 6 0 9999"/><path d="M-486 734.55H489.01" stroke-dasharray="0 12 0 6 0 3 0 6 0 21 0 15 0 3 0 12 0 3 0 3 0 9 0 9 0 6 0 3 0 6 0 3 0 9 0 3 0 3 0 3 0 9 0 3 0 3 0 6 0 3 0 9 0 3 0 6 0 9 0 3 0 15 0 3 0 9 0 3 0 6 0 6 0 15 0 3 0 3 0 6 0 3 0 3 0 9 0 6 0 6 0 3 0 3 0 3 0 3 0 9 0 6 0 6 0 6 0 3 0 3 0 3 0 6 0 3 0 6 0 12 0 3 0 3 0 3 0 3 0 3 0 6 0 3 0 3 0 6 0 3 0 3 0 3 0 6 0 3 0 9 0 3 0 6 0 3 0 3 0 3 0 3 0 3 0 3 0 3 0 3 0 3 0 3 0 6 0 3 0 6 0 3 0 6 0 9 0 3 0 3 0 3 0 12 0 3 0 6 0 3 0 3 0 6 0 6 0 3 0 3 0 3 0 6 0 6 0 3 0 3 0 3 0 3 0 9 0 6 0 3 0 3 0 3 0 6 0 15 0 9 0 6 0 3 0 6 0 9 0 3 0 9 0 3 0 3 0 9 0 12 0 3 0 9 0 3 0 3 0 6 0 3 0 3 0 3 0 3 0 9 0 12 0 15 0 3 0 3 0 3 0 3 0 6 0 15 0 3 0 3 0 6 0 6 0 3 0 3 0 6 0 6 0 15 0 6 0 3 0 3 0 6 0 3 0 3 0 9 0 6 0 3 0 6 0 21 0 6 0 6 0 9 0 3 0 3 0 6 0 6 0 6 0 12 0 9999"/><path d="M-482 734.55H490.01" stroke-dasharray="0 3 0 3 0 3 0 6 0 6 0 3 0 3 0 3 0 3 0 6 0 3 0 3 0 3 0 6 0 3 0 3 0 6 0 3 0 6 0 3 0 3 0 3 0 3 0 3 0 9 0 3 0 3 0 3 0 3 0 3 0 6 0 9 0 6 0 3 0 6 0 9 0 15 0 6 0 3 0 6 0 6 0 3 0 3 0 6 0 9 0 3 0 6 0 15 0 3 0 3 0 9 0 3 0 3 0 3 0 3 0 3 0 3 0 6 0 3 0 3 0 6 0 6 0 3 0 6 0 3 0 9 0 9 0 3 0 3 0 3 0 6 0 3 0 6 0 3 0 3 0 9 0 3 0 6 0 3 0 9 0 6 0 6 0 3 0 3 0 3 0 3 0 3 0 3 0 6 0 3 0 3 0 6 0 3 0 9 0 3 0 3 0 6 0 6 0 3 0 3 0 3 0 3 0 3 0 6 0 3 0 9 0 3 0 3 0 3 0 3 0 3 0 3 0 3 0 3 0 3 0 6 0 3 0 3 0 6 0 3 0 3 0 6 0 3 0 3 0 3 0 3 0 6 0 3 0 3 0 3 0 3 0 6 0 6 0 3 0 3 0 3 0 3 0 6 0 6 0 3 0 3 0 9 0 3 0 24 0 3 0 6 0 9 0 3 0 3 0 3 0 9 0 3 0 6 0 3 0 3 0 3 0 3 0 3 0 6 0 6 0 9 0 3 0 3 0 6 0 3 0 3 0 9 0 3 0 3 0 6 0 6 0 3 0 3 0 15 0 15 0 3 0 3 0 6 0 9 0 3 0 3 0 3 0 12 0 3 0 3 0 18 0 6 0 6 0 6 0 6 0 3 0 6 0 6 0 3 0 6 0 12 0 6 0 3 0 3 0 9 0 3 0 3 0 9999"/><path d="M-486 734.55H489.01" stroke-dasharray="0 13 1 5 0 12 0 18 0 29 1 9 0 18 0 3 0 2 0 7 0 6 0 9 1 4 1 8 0 10 0 2 0 3 0 8 0 2 0 6 0 2 0 7 0 9 0 32 0 10 0 4 0 2 0 8 0 3 0 4 0 2 0 2 0 2 0 3 0 15 0 5 2 9 1 4 0 11 0 2 0 3 0 6 0 4 1 7 0 7 0 4 0 6 0 9 0 2 0 5 0 4 0 2 0 3 0 3 2 2 0 2 0 6 0 2 1 2 0 2 0 4 0 3 1 3 2 4 0 2 0 6 0 5 0 2 1 2 0 4 0 2 5 2 0 3 0 2 1 3 0 3 1 5 0 2 2 3 0 2 1 4 0 2 3 4 0 5 5 4 0 9 0 2 0 2 2 4 1 3 1 3 0 5 0 7 0 2 1 4 0 3 0 2 0 3 0 3 0 2 1 2 0 3 1 2 1 2 1 3 0 9 0 2 0 4 0 2 0 2 0 3 0 3 0 2 1 9 0 3 1 5 0 6 0 2 0 10 1 8 0 3 1 4 0 4 1 2 1 3 0 33 1 4 0 11 0 2 0 5 0 3 0 7 0 4 0 3 0 4 0 5 1 2 0 12 0 2 1 28 0 10 0 2 0 17 0 4 0 11 0 6 0 10 0 5 1 6 1 18 0 2 0 15 0 8 1 7 0 2 0 13 0 3 0 11 0 3 1 18 0 9999"/><path d="M-486 734.55H467.01" stroke-dasharray="0 106 0 3 0 9 0 15 0 5 0 49 0 9 0 46 0 21 0 5 0 15 0 5 0 12 0 17 0 9 0 23 0 15 0 2 0 11 0 3 0 3 0 17 0 2 0 8 0 3 0 2 0 6 0 13 0 7 0 2 0 3 0 4 0 3 0 2 1 3 0 19 0 6 0 2 0 5 0 5 0 2 1 21 0 4 0 4 0 4 0 5 0 9 1 15 0 15 0 12 0 2 0 4 0 37 0 2 0 87 0 17 0 16 0 17 0 89 0 64 0 15 0 14 0 9999"/><path d="M-481 730.7H488.01" stroke-dasharray="0 9 0 3 0 3 0 3 0 9 0 6 0 6 0 3 0 3 0 3 0 3 0 6 0 3 0 3 0 6 0 3 0 9 0 6 0 3 0 6 0 6 0 3 0 15 0 3 0 6 0 12 0 9 0 6 0 3 0 12 0 3 0 3 0 3 0 6 0 3 0 6 0 6 0 3 0 9 0 9 0 3 0 3 0 3 0 3 0 6 0 6 0 3 0 12 0 6 0 3 0 18 0 12 0 6 0 6 0 3 0 9 0 3 0 3 0 3 0 3 0 6 0 3 0 3 0 3 0 3 0 3 0 3 0 6 0 3 0 9 0 3 0 3 0 3 0 3 0 3 0 3 0 6 0 6 0 3 0 3 0 3 0 3 0 9 0 3 0 3 0 3 0 3 0 6 0 3 0 3 0 3 0 3 0 3 0 3 0 3 0 3 0 3 0 3 0 3 0 3 0 3 0 9 0 6 0 3 0 3 0 3 0 6 0 3 0 9 0 6 0 3 0 9 0 9 0 3 0 3 0 3 0 6 0 21 0 3 0 3 0 9 0 6 0 3 0 21 0 6 0 6 0 3 0 3 0 3 0 3 0 6 0 15 0 6 0 6 0 6 0 6 0 6 0 9 0 3 0 15 0 6 0 3 0 3 0 3 0 3 0 3 0 3 0 3 0 9 0 3 0 6 0 3 0 24 0 3 0 3 0 3 0 6 0 3 0 3 0 6 0 3 0 6 0 6 0 9 0 12 0 3 0 12 0 6 0 3 0 3 0 6 0 6 0 12 0 12 0 6 0 12 0 12 0 3 0 9999"/><path d="M-489 730.7H489.01" stroke-dasharray="0 3 0 9 0 12 0 3 0 3 0 6 0 3 0 9 0 3 0 12 0 6 0 9 0 18 0 6 0 3 0 3 0 9 0 9 0 3 0 21 0 3 0 6 0 6 0 6 0 3 0 6 0 15 0 9 0 12 0 12 0 6 0 9 0 3 0 9 0 3 0 3 0 3 0 3 0 3 0 3 0 3 0 9 0 9 0 6 0 6 0 6 0 3 0 6 0 3 0 3 0 6 0 3 0 3 0 3 0 6 0 3 0 3 0 3 0 6 0 3 0 3 0 3 0 3 0 3 0 12 0 3 0 12 0 3 0 6 0 3 0 9 0 3 0 3 0 3 0 3 0 12 0 3 0 3 0 6 0 3 0 3 0 6 0 6 0 3 0 3 0 3 0 3 0 3 0 3 0 3 0 6 0 3 0 3 0 3 0 3 0 3 0 3 0 3 0 3 0 3 0 3 0 3 0 3 0 3 0 6 0 3 0 6 0 3 0 6 0 3 0 3 0 6 0 3 0 3 0 3 0 3 0 3 0 3 0 3 0 6 0 6 0 3 0 9 0 3 0 3 0 3 0 6 0 3 0 3 0 9 0 3 0 3 0 6 0 6 0 6 0 3 0 3 0 3 0 3 0 3 0 6 0 3 0 9 0 6 0 3 0 3 0 3 0 3 0 3 0 9 0 12 0 3 0 6 0 3 0 3 0 15 0 15 0 6 0 3 0 3 0 3 0 6 0 15 0 3 0 6 0 3 0 6 0 33 0 3 0 6 0 9 0 18 0 3 0 3 0 15 0 3 0 3 0 6 0 3 0 6 0 3 0 9 0 9999"/><path d="M-479 730.7H487.01" stroke-dasharray="0 3 0 15 0 12 0 3 0 9 0 9 0 3 0 18 0 6 0 3 0 6 0 15 0 6 0 3 0 3 0 3 0 15 0 3 0 12 0 6 0 6 0 3 0 6 0 3 0 3 0 3 0 3 0 3 0 9 0 6 0 6 0 3 0 12 0 6 0 3 0 9 0 3 0 3 0 3 0 6 0 3 0 6 0 3 0 9 0 3 0 3 0 3 0 3 0 3 0 6 0 6 0 6 0 3 0 3 0 3 0 3 0 9 0 18 0 6 0 12 0 3 0 6 0 3 0 6 0 3 0 6 0 6 0 3 0 3 0 3 0 3 0 3 0 3 0 3 0 3 0 3 0 3 0 3 0 3 0 6 0 3 0 3 0 3 0 3 0 3 0 3 0 3 0 6 0 6 0 9 0 9 0 6 0 3 0 3 0 3 0 3 0 3 0 3 0 3 0 3 0 3 0 3 0 3 0 3 0 3 0 3 0 3 0 3 0 6 0 6 0 3 0 3 0 3 0 6 0 3 0 6 0 6 0 9 0 9 0 12 0 6 0 3 0 6 0 6 0 12 0 3 0 18 0 9 0 9 0 3 0 9 0 9 0 3 0 3 0 9 0 15 0 3 0 12 0 9 0 12 0 6 0 3 0 3 0 9 0 6 0 9 0 3 0 12 0 9 0 3 0 12 0 3 0 3 0 6 0 3 0 9 0 6 0 6 0 3 0 6 0 3 0 9 0 3 0 3 0 3 0 15 0 9 0 3 0 9 0 6 0 3 0 6 0 9999"/><path d="M-486 730.7H489.01" stroke-dasharray="0 20 0 16 0 13 0 4 0 3 0 4 0 6 0 2 0 24 0 2 1 6 0 4 0 5 0 15 0 17 0 5 0 3 0 21 0 4 0 4 0 3 0 2 0 15 0 12 0 2 1 11 0 2 0 12 0 4 0 2 0 7 0 2 0 12 2 2 0 13 0 3 0 3 0 2 1 3 0 10 0 12 1 2 0 2 0 7 0 3 1 14 0 3 1 2 0 9 0 4 0 3 1 2 1 2 0 7 0 4 2 2 0 2 0 5 1 4 0 3 1 3 0 2 0 2 3 2 0 5 0 2 2 5 0 8 0 3 0 2 0 2 1 2 1 2 2 2 2 2 2 3 1 3 3 3 3 3 0 4 1 4 1 3 0 5 0 4 1 2 0 2 0 2 0 2 4 2 2 2 1 4 1 2 0 2 0 4 1 2 1 2 1 3 0 2 0 2 0 5 0 4 1 2 0 3 1 2 1 12 0 4 0 6 0 5 0 5 0 8 0 2 0 15 0 3 1 14 0 10 0 5 0 46 0 9 1 7 0 2 0 20 0 3 1 3 0 3 1 2 0 2 2 19 0 7 0 27 0 4 0 2 0 15 0 7 0 2 0 6 0 6 0 9 0 12 0 2 0 5 1 6 0 7 0 14 0 3 0 11 0 20 2 8 0 2 0 7 1 4 0 2 0 2 0 9999"/><path d="M-430 730.7H406.01" stroke-dasharray="0 12 0 33 0 124 0 2 0 18 0 9 0 12 0 66 0 15 0 3 1 2 0 19 0 3 0 11 2 9 0 5 0 11 0 3 0 7 0 3 0 6 0 15 0 4 0 7 1 4 0 4 0 3 0 2 0 4 0 10 1 8 0 9 0 5 0 2 0 3 0 2 1 4 0 3 0 4 0 3 0 2 0 4 0 4 0 2 0 4 0 16 0 4 0 19 0 41 0 3 1 24 0 90 0 17 0 26 0 48 0 21 0 21 0 14 0 9999"/><path d="M-490 726.86H458.01" stroke-dasharray="0 3 0 3 0 6 0 9 0 12 0 3 0 3 0 6 0 6 0 6 0 6 0 3 0 6 0 6 0 3 0 3 0 3 0 9 0 6 0 3 0 6 0 3 0 9 0 9 0 12 0 6 0 3 0 3 0 9 0 3 0 3 0 6 0 18 0 3 0 3 0 9 0 3 0 6 0 3 0 3 0 3 0 3 0 3 0 6 0 6 0 6 0 3 0 3 0 3 0 9 0 6 0 3 0 3 0 3 0 18 0 6 0 3 0 9 0 6 0 3 0 6 0 3 0 3 0 6 0 3 0 3 0 6 0 3 0 6 0 9 0 3 0 6 0 3 0 6 0 3 0 15 0 3 0 6 0 3 0 3 0 9 0 3 0 6 0 3 0 3 0 9 0 3 0 3 0 3 0 3 0 3 0 6 0 3 0 3 0 3 0 3 0 3 0 3 0 6 0 3 0 3 0 3 0 3 0 3 0 3 0 6 0 3 0 3 0 3 0 3 0 6 0 3 0 3 0 3 0 6 0 3 0 3 0 3 0 3 0 3 0 3 0 6 0 3 0 3 0 3 0 6 0 3 0 3 0 6 0 3 0 6 0 12 0 3 0 6 0 6 0 9 0 6 0 9 0 3 0 3 0 3 0 6 0 3 0 3 0 3 0 3 0 3 0 3 0 9 0 3 0 3 0 3 0 3 0 6 0 3 0 3 0 18 0 9 0 3 0 6 0 3 0 3 0 3 0 3 0 3 0 18 0 15 0 9 0 3 0 9 0 3 0 3 0 9 0 3 0 9 0 3 0 3 0 3 0 3 0 3 0 6 0 3 0 3 0 6 0 6 0 9 0 3 0 6 0 3 0 3 0 6 0 3 0 3 0 9999"/><path d="M-489 726.86H489.01" stroke-dasharray="0 12 0 3 0 3 0 3 0 6 0 9 0 6 0 6 0 3 0 3 0 3 0 6 0 3 0 3 0 6 0 3 0 3 0 3 0 12 0 6 0 6 0 9 0 3 0 3 0 3 0 3 0 6 0 6 0 6 0 3 0 3 0 3 0 6 0 12 0 6 0 12 0 3 0 18 0 3 0 3 0 3 0 3 0 3 0 3 0 9 0 3 0 15 0 3 0 3 0 6 0 3 0 6 0 3 0 6 0 3 0 9 0 3 0 9 0 3 0 3 0 6 0 3 0 9 0 6 0 6 0 3 0 6 0 3 0 3 0 3 0 3 0 3 0 6 0 6 0 9 0 6 0 3 0 3 0 6 0 3 0 3 0 3 0 3 0 3 0 6 0 3 0 3 0 3 0 3 0 3 0 3 0 3 0 3 0 3 0 3 0 3 0 3 0 3 0 3 0 3 0 3 0 3 0 6 0 3 0 3 0 3 0 3 0 3 0 3 0 3 0 3 0 3 0 3 0 3 0 3 0 3 0 3 0 3 0 3 0 6 0 3 0 3 0 9 0 3 0 9 0 3 0 6 0 3 0 6 0 3 0 3 0 6 0 6 0 3 0 9 0 3 0 3 0 6 0 3 0 3 0 6 0 3 0 6 0 3 0 3 0 6 0 3 0 9 0 18 0 6 0 15 0 12 0 6 0 9 0 3 0 3 0 6 0 9 0 6 0 3 0 3 0 6 0 3 0 6 0 12 0 9 0 3 0 3 0 3 0 3 0 3 0 6 0 9 0 3 0 9 0 6 0 6 0 3 0 3 0 6 0 3 0 12 0 12 0 3 0 3 0 3 0 6 0 3 0 9 0 3 0 3 0 6 0 3 0 9 0 6 0 3 0 6 0 3 0 3 0 3 0 9999"/><path d="M-488 726.86H490.01" stroke-dasharray="0 12 0 6 0 3 0 3 0 12 0 3 0 9 0 12 0 12 0 3 0 6 0 3 0 3 0 6 0 3 0 6 0 9 0 6 0 9 0 6 0 6 0 3 0 3 0 3 0 6 0 9 0 3 0 6 0 3 0 3 0 6 0 3 0 6 0 12 0 3 0 3 0 3 0 6 0 9 0 3 0 3 0 3 0 3 0 9 0 3 0 12 0 9 0 3 0 6 0 6 0 9 0 3 0 6 0 3 0 6 0 3 0 3 0 3 0 6 0 6 0 3 0 9 0 3 0 3 0 3 0 6 0 3 0 3 0 6 0 3 0 3 0 3 0 3 0 3 0 9 0 6 0 6 0 3 0 3 0 6 0 3 0 3 0 3 0 3 0 3 0 3 0 3 0 3 0 6 0 6 0 3 0 9 0 3 0 3 0 3 0 3 0 3 0 3 0 9 0 6 0 3 0 3 0 6 0 6 0 3 0 3 0 3 0 3 0 3 0 6 0 3 0 3 0 3 0 3 0 3 0 6 0 6 0 3 0 3 0 3 0 3 0 3 0 6 0 3 0 12 0 3 0 3 0 6 0 3 0 3 0 3 0 3 0 6 0 3 0 3 0 3 0 6 0 3 0 3 0 3 0 9 0 6 0 9 0 6 0 3 0 3 0 6 0 6 0 3 0 3 0 3 0 6 0 6 0 6 0 3 0 6 0 3 0 3 0 6 0 6 0 15 0 6 0 3 0 6 0 3 0 6 0 3 0 3 0 3 0 3 0 3 0 3 0 12 0 3 0 3 0 3 0 6 0 3 0 6 0 3 0 6 0 3 0 6 0 9 0 6 0 9 0 3 0 3 0 6 0 3 0 3 0 6 0 6 0 18 0 6 0 6 0 6 0 6 0 3 0 6 0 9999"/><path d="M-489 726.86H474.01" stroke-dasharray="0 5 0 6 1 6 1 2 0 6 0 5 0 6 0 11 1 23 0 5 0 5 0 2 1 2 0 13 1 6 0 2 0 3 0 10 0 3 0 7 0 6 0 6 0 2 1 2 0 4 0 2 0 8 0 2 1 3 0 2 0 4 0 2 0 2 0 7 0 5 0 2 0 3 0 3 0 5 0 8 0 6 1 4 1 8 0 10 0 8 0 6 0 4 0 3 1 4 0 5 0 26 0 3 0 4 0 18 0 27 0 3 0 2 3 3 1 2 0 4 0 19 0 6 0 3 0 2 0 2 0 3 0 7 5 3 0 2 0 5 1 2 0 2 0 4 1 2 0 2 1 7 0 5 0 5 2 3 1 2 0 3 1 3 0 8 0 2 1 2 2 2 0 4 0 2 1 2 1 4 0 2 2 2 1 3 4 4 3 2 0 2 1 3 0 2 3 5 0 3 0 2 1 6 2 3 0 2 0 3 0 3 0 2 1 6 2 3 0 3 2 4 0 2 0 6 0 7 2 12 0 2 0 2 0 3 0 5 0 2 0 3 0 4 2 8 0 7 0 4 0 2 1 10 0 27 0 4 0 2 0 7 0 6 0 4 0 4 0 6 0 5 0 4 0 17 0 6 0 3 0 14 0 2 1 3 0 10 1 7 0 10 0 3 0 2 1 10 0 5 0 7 0 4 0 9 0 4 0 3 1 2 0 2 0 2 0 7 0 2 0 8 0 7 1 2 0 2 0 2 0 16 0 7 0 2 0 30 0 3 0 9999"/><path d="M-489 726.86H471.01" stroke-dasharray="0 11 1 26 0 88 0 21 1 16 0 36 0 13 0 30 0 18 0 46 0 18 0 34 0 39 0 2 0 5 0 7 0 25 0 4 1 12 0 5 0 2 0 23 1 3 0 3 0 6 0 15 0 3 1 3 0 5 1 3 0 8 0 2 1 5 0 3 0 2 1 6 0 2 0 13 1 6 0 2 0 7 0 22 0 12 0 82 0 4 0 29 0 26 0 6 0 41 0 13 0 42 0 10 0 24 0 3 0 59 0 9999"/><path d="M-490 723.01H488.01" stroke-dasharray="0 9 0 3 0 15 0 3 0 6 0 6 0 3 0 3 0 3 0 24 0 6 0 9 0 3 0 6 0 9 0 12 0 3 0 6 0 3 0 3 0 9 0 3 0 3 0 3 0 3 0 9 0 6 0 3 0 3 0 6 0 3 0 3 0 9 0 3 0 3 0 3 0 9 0 3 0 3 0 6 0 9 0 6 0 3 0 9 0 6 0 3 0 3 0 9 0 12 0 3 0 15 0 6 0 3 0 3 0 9 0 6 0 3 0 3 0 15 0 6 0 3 0 6 0 6 0 3 0 9 0 3 0 3 0 6 0 3 0 6 0 3 0 6 0 6 0 3 0 3 0 3 0 9 0 9 0 6 0 3 0 6 0 6 0 3 0 3 0 3 0 3 0 3 0 6 0 3 0 3 0 3 0 3 0 3 0 3 0 3 0 6 0 3 0 3 0 3 0 3 0 3 0 6 0 6 0 3 0 3 0 3 0 6 0 3 0 6 0 6 0 3 0 3 0 3 0 3 0 3 0 3 0 3 0 3 0 3 0 3 0 6 0 3 0 9 0 6 0 9 0 6 0 3 0 9 0 3 0 3 0 6 0 6 0 3 0 6 0 3 0 12 0 3 0 15 0 12 0 6 0 6 0 3 0 3 0 9 0 3 0 3 0 12 0 9 0 3 0 6 0 6 0 6 0 3 0 3 0 12 0 3 0 6 0 3 0 3 0 3 0 6 0 9 0 6 0 3 0 12 0 3 0 3 0 3 0 6 0 3 0 3 0 9 0 3 0 3 0 3 0 9 0 3 0 3 0 6 0 3 0 3 0 3 0 6 0 9 0 15 0 3 0 9999"/><path d="M-486 723.01H489.01" stroke-dasharray="0 3 0 12 0 9 0 3 0 6 0 12 0 6 0 3 0 3 0 18 0 9 0 3 0 3 0 6 0 3 0 6 0 3 0 9 0 3 0 9 0 3 0 3 0 3 0 3 0 6 0 3 0 3 0 3 0 6 0 6 0 6 0 6 0 12 0 6 0 3 0 12 0 6 0 6 0 3 0 9 0 6 0 9 0 3 0 6 0 15 0 3 0 3 0 6 0 3 0 3 0 3 0 6 0 12 0 6 0 9 0 3 0 6 0 3 0 3 0 6 0 3 0 3 0 6 0 6 0 3 0 3 0 3 0 3 0 3 0 3 0 6 0 6 0 3 0 9 0 3 0 3 0 3 0 3 0 6 0 3 0 3 0 3 0 3 0 3 0 6 0 6 0 3 0 3 0 3 0 9 0 3 0 3 0 3 0 3 0 3 0 3 0 3 0 6 0 3 0 3 0 3 0 3 0 3 0 3 0 3 0 3 0 3 0 6 0 6 0 6 0 3 0 3 0 3 0 3 0 3 0 3 0 3 0 3 0 3 0 3 0 6 0 3 0 3 0 3 0 3 0 6 0 9 0 9 0 3 0 3 0 3 0 3 0 3 0 3 0 3 0 3 0 3 0 6 0 12 0 3 0 3 0 9 0 3 0 3 0 12 0 6 0 3 0 6 0 6 0 3 0 12 0 6 0 3 0 12 0 9 0 18 0 9 0 3 0 6 0 3 0 6 0 12 0 3 0 6 0 3 0 6 0 3 0 3 0 3 0 6 0 3 0 3 0 6 0 3 0 3 0 3 0 3 0 6 0 15 0 3 0 3 0 6 0 6 0 3 0 3 0 3 0 3 0 3 0 3 0 3 0 3 0 18 0 12 0 3 0 3 0 9999"/><path d="M-488 723.01H490.01" stroke-dasharray="0 3 0 9 0 3 0 9 0 3 0 12 0 3 0 3 0 12 0 3 0 3 0 3 0 3 0 6 0 6 0 3 0 6 0 6 0 6 0 12 0 9 0 6 0 3 0 3 0 9 0 6 0 24 0 3 0 3 0 9 0 3 0 6 0 9 0 3 0 3 0 9 0 6 0 3 0 9 0 3 0 3 0 3 0 18 0 21 0 6 0 3 0 3 0 3 0 9 0 3 0 3 0 3 0 15 0 3 0 6 0 6 0 3 0 6 0 3 0 3 0 9 0 9 0 3 0 3 0 3 0 6 0 6 0 3 0 6 0 6 0 3 0 3 0 3 0 3 0 3 0 3 0 3 0 3 0 3 0 3 0 3 0 3 0 3 0 6 0 3 0 3 0 3 0 3 0 3 0 3 0 3 0 3 0 3 0 3 0 3 0 3 0 3 0 3 0 3 0 3 0 3 0 3 0 3 0 3 0 6 0 12 0 3 0 6 0 3 0 9 0 3 0 3 0 6 0 18 0 6 0 3 0 3 0 3 0 6 0 6 0 6 0 3 0 3 0 3 0 6 0 3 0 9 0 3 0 3 0 9 0 3 0 3 0 3 0 6 0 9 0 6 0 3 0 3 0 6 0 3 0 3 0 9 0 3 0 3 0 3 0 3 0 3 0 3 0 3 0 12 0 15 0 6 0 3 0 3 0 3 0 18 0 3 0 3 0 3 0 3 0 3 0 3 0 6 0 9 0 6 0 3 0 3 0 9 0 3 0 3 0 9 0 3 0 6 0 3 0 9 0 3 0 3 0 6 0 3 0 12 0 12 0 9 0 3 0 6 0 3 0 3 0 3 0 3 0 6 0 6 0 9999"/><path d="M-488 723.01H488.01" stroke-dasharray="0 3 0 4 0 18 0 2 0 7 1 4 0 3 1 6 0 8 0 3 0 6 0 11 0 2 0 2 0 3 0 4 0 2 0 12 0 5 0 12 0 8 0 5 0 2 0 10 1 5 0 19 0 3 0 2 0 2 0 4 0 4 0 5 0 3 0 6 1 4 0 11 0 6 0 11 0 9 0 3 1 23 0 26 0 12 0 30 0 2 0 7 1 2 0 4 3 7 0 6 0 4 0 2 0 2 0 2 0 6 1 2 0 9 0 2 0 2 0 5 2 3 0 7 0 8 0 2 1 2 3 2 1 3 0 3 0 3 0 3 1 2 0 3 0 3 0 2 0 3 0 2 2 2 2 5 1 2 3 3 2 5 0 2 2 3 1 3 1 3 1 2 1 3 1 3 2 2 4 2 0 4 1 7 0 6 0 2 0 4 1 2 2 2 0 3 0 4 0 2 3 3 0 5 1 2 0 3 0 4 0 2 1 2 0 3 0 3 0 3 1 8 0 10 0 3 0 3 0 2 0 2 0 5 0 8 1 2 0 7 1 3 0 3 1 7 0 4 1 2 0 8 0 21 0 3 0 6 0 20 1 7 1 13 0 2 0 2 0 25 0 2 0 3 1 10 0 2 0 3 0 14 2 3 1 15 0 2 0 2 0 5 0 4 1 3 0 3 0 12 0 7 0 4 0 6 0 6 0 2 0 12 1 3 0 4 0 6 0 6 0 8 0 3 0 14 0 3 1 5 0 3 0 10 0 9999"/><path d="M-461 723.01H478.01" stroke-dasharray="0 7 0 98 0 13 0 5 0 19 0 15 0 60 0 139 0 3 0 23 0 17 0 12 0 12 0 11 0 7 0 9 0 6 1 9 1 11 1 3 0 3 0 6 0 2 1 5 0 12 0 6 0 10 1 11 0 24 0 11 0 22 0 45 0 153 0 4 0 15 0 55 0 2 0 57 0 4 0 8 0 9999"/><path d="M-484 719.16H488.01" stroke-dasharray="0 3 0 3 0 6 0 3 0 3 0 3 0 9 0 3 0 6 0 6 0 12 0 3 0 6 0 3 0 6 0 3 0 6 0 3 0 12 0 3 0 3 0 9 0 3 0 12 0 3 0 3 0 3 0 15 0 6 0 15 0 9 0 3 0 3 0 6 0 3 0 3 0 3 0 3 0 3 0 3 0 3 0 3 0 6 0 3 0 3 0 3 0 6 0 3 0 3 0 3 0 15 0 3 0 9 0 3 0 3 0 3 0 6 0 6 0 3 0 3 0 3 0 9 0 3 0 3 0 3 0 21 0 12 0 3 0 3 0 3 0 6 0 3 0 3 0 3 0 3 0 3 0 3 0 3 0 3 0 3 0 3 0 3 0 3 0 3 0 3 0 3 0 3 0 3 0 3 0 3 0 3 0 3 0 3 0 3 0 3 0 3 0 3 0 3 0 3 0 3 0 6 0 3 0 3 0 3 0 3 0 3 0 3 0 3 0 3 0 3 0 3 0 3 0 3 0 3 0 3 0 3 0 3 0 3 0 6 0 3 0 3 0 3 0 3 0 3 0 6 0 3 0 3 0 3 0 3 0 3 0 3 0 3 0 12 0 9 0 3 0 12 0 3 0 6 0 6 0 3 0 9 0 6 0 6 0 3 0 3 0 6 0 6 0 6 0 3 0 3 0 9 0 6 0 6 0 9 0 3 0 9 0 3 0 12 0 3 0 6 0 6 0 3 0 3 0 3 0 6 0 3 0 6 0 6 0 15 0 3 0 3 0 12 0 3 0 6 0 3 0 18 0 3 0 9 0 6 0 6 0 6 0 3 0 6 0 6 0 9 0 18 0 3 0 3 0 3 0 9 0 9 0 9 0 3 0 3 0 3 0 9 0 9 0 3 0 9999"/><path d="M-483 719.16H483.01" stroke-dasharray="0 6 0 9 0 3 0 12 0 3 0 3 0 3 0 3 0 3 0 6 0 3 0 3 0 3 0 3 0 6 0 3 0 3 0 3 0 3 0 6 0 3 0 3 0 3 0 6 0 3 0 3 0 3 0 3 0 12 0 6 0 9 0 6 0 12 0 9 0 3 0 3 0 3 0 3 0 3 0 3 0 3 0 6 0 9 0 6 0 3 0 6 0 9 0 6 0 3 0 18 0 12 0 3 0 9 0 15 0 6 0 3 0 3 0 3 0 6 0 3 0 12 0 3 0 3 0 3 0 3 0 3 0 3 0 3 0 3 0 12 0 3 0 3 0 3 0 3 0 3 0 3 0 3 0 6 0 3 0 3 0 6 0 6 0 3 0 3 0 3 0 3 0 3 0 6 0 3 0 3 0 6 0 3 0 6 0 3 0 3 0 3 0 3 0 3 0 3 0 3 0 3 0 9 0 6 0 6 0 12 0 6 0 3 0 6 0 3 0 3 0 3 0 3 0 3 0 3 0 6 0 3 0 3 0 3 0 6 0 6 0 3 0 3 0 6 0 3 0 3 0 3 0 3 0 3 0 3 0 6 0 9 0 3 0 3 0 3 0 3 0 3 0 3 0 3 0 3 0 3 0 3 0 3 0 3 0 3 0 3 0 3 0 3 0 3 0 6 0 3 0 15 0 3 0 12 0 3 0 9 0 3 0 3 0 3 0 6 0 3 0 3 0 6 0 6 0 6 0 3 0 3 0 6 0 6 0 3 0 3 0 3 0 6 0 3 0 9 0 3 0 3 0 6 0 6 0 6 0 3 0 3 0 3 0 15 0 6 0 3 0 3 0 9 0 6 0 3 0 3 0 3 0 3 0 3 0 6 0 6 0 3 0 6 0 3 0 3 0 6 0 3 0 3 0 3 0 30 0 3 0 9999"/><path d="M-488 719.16H490.01" stroke-dasharray="0 6 0 3 0 3 0 9 0 6 0 3 0 3 0 9 0 3 0 3 0 6 0 3 0 3 0 3 0 6 0 6 0 3 0 9 0 3 0 6 0 3 0 3 0 3 0 9 0 6 0 3 0 3 0 9 0 3 0 3 0 6 0 3 0 3 0 9 0 3 0 3 0 18 0 9 0 3 0 3 0 3 0 3 0 6 0 3 0 6 0 3 0 9 0 3 0 3 0 6 0 3 0 3 0 6 0 6 0 9 0 3 0 3 0 9 0 9 0 3 0 3 0 9 0 12 0 3 0 3 0 3 0 3 0 3 0 6 0 12 0 3 0 3 0 15 0 3 0 3 0 3 0 12 0 3 0 3 0 6 0 6 0 3 0 6 0 3 0 3 0 3 0 3 0 3 0 3 0 3 0 3 0 3 0 6 0 3 0 3 0 3 0 6 0 3 0 3 0 3 0 3 0 3 0 3 0 3 0 3 0 6 0 3 0 12 0 3 0 3 0 3 0 3 0 3 0 3 0 3 0 3 0 3 0 3 0 3 0 3 0 3 0 3 0 3 0 3 0 3 0 3 0 3 0 9 0 3 0 3 0 6 0 3 0 3 0 6 0 3 0 6 0 12 0 6 0 3 0 6 0 3 0 3 0 15 0 6 0 9 0 3 0 3 0 3 0 6 0 6 0 6 0 3 0 6 0 3 0 6 0 6 0 3 0 6 0 3 0 9 0 9 0 15 0 3 0 3 0 3 0 3 0 3 0 3 0 3 0 3 0 6 0 12 0 3 0 3 0 3 0 6 0 6 0 12 0 15 0 9 0 3 0 3 0 3 0 3 0 3 0 3 0 6 0 3 0 9 0 6 0 3 0 3 0 6 0 3 0 6 0 30 0 3 0 6 0 9999"/><path d="M-482 719.16H490.01" stroke-dasharray="0 4 0 11 0 6 0 3 0 7 0 6 0 4 0 2 1 9 4 16 0 4 0 4 1 2 0 5 0 4 0 4 0 6 0 14 0 13 1 2 0 2 0 6 0 6 0 9 0 2 0 18 0 9 0 2 1 6 1 4 0 11 0 2 0 7 0 12 0 3 0 2 0 5 0 13 0 11 0 2 0 6 0 4 1 2 0 2 1 8 0 6 1 3 0 3 2 10 1 7 0 8 0 6 0 5 1 3 0 3 0 5 0 2 1 3 0 3 0 4 0 2 2 2 0 4 1 3 1 3 0 2 0 3 0 2 2 2 0 2 1 4 2 3 2 5 0 5 0 2 1 2 1 2 1 6 0 2 1 2 0 2 4 5 7 2 0 2 0 3 2 3 0 2 2 2 0 3 1 3 0 2 0 3 0 3 1 4 2 3 0 3 0 4 0 2 0 3 0 2 0 2 2 2 0 2 0 2 4 2 4 3 0 3 2 3 0 2 1 2 0 2 3 4 1 7 0 5 0 8 3 2 0 3 0 6 2 5 0 2 0 2 0 13 0 6 0 3 3 5 0 2 0 3 0 3 0 2 0 3 0 3 0 7 0 2 0 5 0 9 0 5 1 7 0 3 0 4 0 6 0 3 0 6 0 3 0 12 0 9 0 8 0 5 0 7 1 2 0 3 0 13 0 2 0 16 0 10 0 12 0 2 0 3 0 15 1 19 0 3 0 5 0 7 0 13 0 2 0 3 0 7 0 13 0 3 0 3 0 2 0 7 0 7 0 3 0 14 0 16 0 10 0 9999"/><path d="M-458 719.16H480.01" stroke-dasharray="0 20 0 11 1 132 0 22 0 21 0 3 0 7 0 32 0 28 0 5 0 26 0 15 0 10 0 13 1 7 1 3 0 6 0 5 0 2 0 4 0 7 0 5 0 13 0 3 0 11 1 2 0 4 0 7 0 3 1 5 0 2 0 3 0 2 0 6 0 7 0 3 0 2 0 3 0 3 1 5 0 4 0 3 0 4 0 2 0 3 0 2 0 3 0 3 0 4 4 3 0 6 0 3 1 9 0 3 0 2 0 4 0 8 0 14 1 12 1 23 0 27 0 20 0 14 0 15 0 59 0 21 0 81 0 5 0 60 0 7 0 17 0 16 0 9999"/><path d="M-490 715.32H482.01" stroke-dasharray="0 9 0 3 0 12 0 12 0 3 0 18 0 3 0 3 0 6 0 9 0 3 0 6 0 6 0 3 0 3 0 6 0 3 0 3 0 6 0 12 0 3 0 6 0 6 0 3 0 3 0 3 0 9 0 3 0 9 0 3 0 3 0 9 0 12 0 9 0 6 0 3 0 3 0 3 0 3 0 6 0 3 0 6 0 3 0 3 0 3 0 3 0 3 0 3 0 3 0 6 0 6 0 9 0 3 0 6 0 6 0 6 0 3 0 6 0 6 0 9 0 3 0 6 0 3 0 3 0 6 0 3 0 3 0 3 0 9 0 6 0 3 0 9 0 3 0 6 0 3 0 3 0 3 0 3 0 6 0 3 0 3 0 9 0 3 0 3 0 3 0 3 0 9 0 3 0 3 0 3 0 3 0 3 0 3 0 3 0 3 0 3 0 3 0 3 0 3 0 3 0 6 0 3 0 3 0 3 0 3 0 3 0 3 0 3 0 6 0 3 0 6 0 3 0 3 0 3 0 3 0 6 0 3 0 6 0 3 0 3 0 3 0 6 0 6 0 6 0 6 0 9 0 6 0 6 0 6 0 3 0 3 0 3 0 6 0 6 0 3 0 12 0 9 0 3 0 9 0 15 0 3 0 24 0 9 0 15 0 3 0 3 0 12 0 3 0 6 0 18 0 3 0 3 0 3 0 3 0 3 0 3 0 3 0 9 0 3 0 6 0 3 0 6 0 21 0 12 0 3 0 3 0 3 0 3 0 3 0 6 0 3 0 3 0 6 0 6 0 6 0 6 0 6 0 3 0 6 0 3 0 3 0 3 0 6 0 3 0 6 0 12 0 3 0 9999"/><path d="M-489 715.32H489.01" stroke-dasharray="0 15 0 3 0 6 0 3 0 3 0 3 0 6 0 6 0 3 0 18 0 3 0 6 0 3 0 9 0 3 0 3 0 6 0 9 0 3 0 18 0 6 0 15 0 3 0 3 0 6 0 6 0 3 0 6 0 9 0 3 0 6 0 3 0 3 0 3 0 3 0 3 0 15 0 3 0 3 0 3 0 3 0 9 0 3 0 9 0 6 0 3 0 12 0 3 0 9 0 3 0 6 0 21 0 3 0 3 0 3 0 3 0 6 0 3 0 3 0 3 0 9 0 9 0 6 0 6 0 3 0 6 0 3 0 3 0 3 0 3 0 3 0 3 0 3 0 3 0 3 0 3 0 3 0 3 0 3 0 9 0 3 0 6 0 3 0 6 0 3 0 3 0 6 0 6 0 6 0 3 0 3 0 3 0 3 0 9 0 3 0 3 0 3 0 3 0 3 0 3 0 6 0 3 0 3 0 3 0 3 0 3 0 3 0 6 0 3 0 3 0 3 0 3 0 3 0 6 0 3 0 3 0 6 0 3 0 3 0 3 0 3 0 3 0 3 0 6 0 3 0 3 0 3 0 3 0 3 0 3 0 12 0 6 0 3 0 3 0 6 0 6 0 6 0 6 0 3 0 6 0 3 0 6 0 3 0 6 0 3 0 6 0 6 0 9 0 3 0 3 0 3 0 9 0 3 0 9 0 9 0 6 0 6 0 6 0 12 0 3 0 3 0 18 0 9 0 24 0 6 0 3 0 9 0 3 0 3 0 3 0 9 0 3 0 3 0 3 0 3 0 3 0 6 0 9 0 3 0 3 0 3 0 3 0 3 0 12 0 3 0 6 0 3 0 6 0 6 0 3 0 3 0 6 0 3 0 9999"/><path d="M-488 715.32H481.01" stroke-dasharray="0 6 0 6 0 3 0 6 0 3 0 6 0 3 0 12 0 3 0 6 0 12 0 6 0 9 0 3 0 3 0 3 0 3 0 3 0 3 0 3 0 6 0 3 0 3 0 6 0 3 0 3 0 6 0 3 0 9 0 3 0 12 0 9 0 6 0 6 0 9 0 6 0 3 0 3 0 3 0 3 0 3 0 9 0 3 0 6 0 3 0 3 0 9 0 9 0 9 0 3 0 21 0 3 0 3 0 6 0 3 0 9 0 3 0 3 0 3 0 3 0 3 0 3 0 6 0 6 0 12 0 6 0 3 0 6 0 6 0 3 0 6 0 3 0 3 0 3 0 3 0 3 0 6 0 3 0 3 0 3 0 15 0 3 0 6 0 6 0 9 0 3 0 3 0 3 0 3 0 3 0 3 0 3 0 3 0 3 0 3 0 3 0 3 0 6 0 3 0 3 0 3 0 3 0 3 0 3 0 3 0 3 0 3 0 3 0 3 0 3 0 3 0 3 0 3 0 3 0 3 0 3 0 3 0 3 0 3 0 3 0 3 0 3 0 3 0 3 0 3 0 6 0 3 0 3 0 6 0 6 0 3 0 3 0 3 0 3 0 6 0 6 0 6 0 3 0 3 0 6 0 3 0 3 0 3 0 3 0 3 0 3 0 3 0 3 0 9 0 3 0 3 0 3 0 6 0 3 0 6 0 3 0 3 0 6 0 3 0 3 0 6 0 3 0 3 0 9 0 9 0 3 0 3 0 15 0 3 0 12 0 3 0 12 0 6 0 3 0 3 0 3 0 6 0 6 0 3 0 3 0 15 0 3 0 3 0 6 0 3 0 3 0 9 0 3 0 6 0 9 0 6 0 6 0 9 0 9 0 3 0 3 0 3 0 3 0 6 0 3 0 12 0 6 0 6 0 6 0 9999"/><path d="M-490 715.32H480.01" stroke-dasharray="1 7 1 5 0 5 0 4 0 8 1 8 0 28 2 4 0 4 0 3 0 2 0 3 0 5 2 11 0 5 0 4 0 9 0 6 1 3 0 2 0 10 0 5 0 12 0 4 0 5 0 4 0 2 0 4 0 7 0 2 0 11 0 2 1 6 0 12 0 3 1 4 0 5 0 3 1 7 0 7 0 2 1 8 0 13 0 4 0 3 0 2 0 7 1 13 0 11 0 3 0 2 0 11 0 7 0 2 0 9 0 9 0 13 2 2 0 5 1 3 4 4 0 2 0 3 0 4 7 3 0 4 1 3 0 3 0 4 1 2 1 7 0 2 0 2 0 2 0 5 0 5 7 2 2 4 4 5 2 2 0 3 0 2 0 2 0 5 0 2 0 2 1 2 2 2 2 2 0 3 3 2 0 6 3 2 1 7 5 3 0 2 1 3 1 5 2 7 2 4 1 6 0 6 0 4 0 2 0 7 0 4 0 9 0 7 1 2 0 6 0 8 0 4 0 3 0 2 0 8 2 4 0 4 0 2 0 9 1 3 0 12 2 2 0 7 1 11 0 4 1 7 0 4 0 2 0 22 0 8 0 6 1 5 0 18 0 2 0 3 1 2 0 6 0 3 0 5 0 2 0 4 0 5 0 2 0 3 0 20 0 3 0 9 0 3 0 9 2 15 2 4 0 7 0 21 1 5 0 3 0 4 0 6 0 11 0 5 1 5 0 3 0 2 1 9999"/><path d="M-490 715.32H480.01" stroke-dasharray="0 78 0 3 0 10 0 2 0 35 0 4 0 55 0 15 1 21 0 52 0 7 0 10 0 24 0 5 0 11 0 7 0 2 0 9 0 9 0 17 0 5 1 3 0 10 0 7 0 3 0 2 0 2 0 7 0 4 0 7 1 2 0 14 0 10 1 2 1 2 0 3 0 2 0 7 0 6 2 7 0 2 0 9 0 4 1 3 0 6 2 11 0 12 1 8 1 4 0 15 0 6 0 12 0 13 0 4 0 16 1 2 0 6 0 17 0 10 0 19 1 3 0 16 0 24 0 49 1 28 0 19 0 11 0 23 0 3 0 12 0 11 0 15 0 2 0 4 0 34 0 3 0 10 0 11 0 17 0 9999"/><path d="M-490 711.47H488.01" stroke-dasharray="0 12 0 3 0 6 0 12 0 9 0 24 0 3 0 3 0 15 0 12 0 3 0 9 0 3 0 3 0 3 0 9 0 3 0 3 0 6 0 3 0 3 0 6 0 3 0 6 0 3 0 9 0 6 0 3 0 3 0 3 0 3 0 3 0 3 0 3 0 3 0 3 0 6 0 9 0 6 0 9 0 6 0 6 0 6 0 3 0 3 0 3 0 3 0 6 0 6 0 3 0 3 0 3 0 6 0 6 0 6 0 3 0 3 0 3 0 3 0 3 0 15 0 9 0 3 0 3 0 3 0 6 0 3 0 3 0 3 0 6 0 9 0 3 0 3 0 3 0 3 0 3 0 3 0 6 0 3 0 3 0 3 0 3 0 3 0 6 0 3 0 3 0 3 0 3 0 3 0 3 0 3 0 3 0 3 0 3 0 3 0 3 0 3 0 3 0 3 0 3 0 3 0 3 0 6 0 3 0 6 0 3 0 3 0 3 0 3 0 3 0 3 0 3 0 3 0 3 0 3 0 3 0 3 0 3 0 3 0 3 0 3 0 3 0 3 0 9 0 3 0 3 0 3 0 3 0 3 0 3 0 6 0 6 0 3 0 6 0 3 0 3 0 3 0 3 0 3 0 3 0 3 0 3 0 3 0 12 0 6 0 9 0 6 0 3 0 3 0 3 0 6 0 3 0 3 0 3 0 3 0 3 0 12 0 3 0 3 0 3 0 3 0 3 0 3 0 3 0 3 0 3 0 3 0 6 0 3 0 3 0 3 0 3 0 6 0 9 0 18 0 6 0 3 0 9 0 9 0 3 0 9 0 3 0 3 0 3 0 3 0 3 0 6 0 3 0 3 0 3 0 3 0 3 0 6 0 6 0 6 0 3 0 9 0 15 0 3 0 3 0 3 0 3 0 3 0 3 0 6 0 3 0 3 0 3 0 3 0 9 0 3 0 3 0 3 0 3 0 3 0 3 0 12 0 9999"/><path d="M-489 711.47H489.01" stroke-dasharray="0 15 0 3 0 3 0 6 0 3 0 6 0 3 0 6 0 6 0 3 0 3 0 9 0 3 0 3 0 3 0 3 0 6 0 6 0 6 0 3 0 3 0 9 0 3 0 9 0 9 0 3 0 3 0 12 0 3 0 3 0 3 0 12 0 3 0 3 0 6 0 12 0 3 0 3 0 3 0 3 0 3 0 6 0 3 0 3 0 3 0 6 0 9 0 6 0 6 0 6 0 6 0 6 0 6 0 6 0 12 0 3 0 12 0 3 0 3 0 3 0 6 0 3 0 3 0 3 0 3 0 6 0 6 0 3 0 3 0 3 0 9 0 3 0 3 0 3 0 3 0 3 0 6 0 3 0 6 0 3 0 3 0 3 0 6 0 3 0 3 0 3 0 3 0 3 0 3 0 3 0 3 0 3 0 3 0 6 0 3 0 3 0 6 0 3 0 3 0 3 0 3 0 3 0 3 0 3 0 3 0 3 0 3 0 3 0 3 0 3 0 3 0 3 0 3 0 3 0 3 0 3 0 3 0 3 0 3 0 3 0 9 0 3 0 9 0 3 0 3 0 3 0 3 0 6 0 6 0 3 0 3 0 3 0 3 0 3 0 3 0 9 0 3 0 9 0 3 0 3 0 3 0 3 0 6 0 3 0 3 0 9 0 6 0 9 0 9 0 3 0 6 0 6 0 3 0 6 0 3 0 3 0 9 0 15 0 3 0 15 0 3 0 3 0 3 0 6 0 3 0 12 0 6 0 6 0 12 0 3 0 3 0 12 0 3 0 6 0 3 0 6 0 3 0 9 0 9 0 3 0 3 0 3 0 3 0 3 0 3 0 3 0 9 0 3 0 3 0 6 0 3 0 3 0 3 0 3 0 3 0 3 0 3 0 9 0 3 0 3 0 3 0 3 0 3 0 3 0 3 0 3 0 12 0 3 0 3 0 3 0 3 0 6 0 9999"/><path d="M-482 711.47H490.01" stroke-dasharray="0 12 0 9 0 9 0 3 0 3 0 3 0 9 0 6 0 3 0 12 0 6 0 6 0 6 0 6 0 9 0 3 0 3 0 3 0 6 0 6 0 9 0 3 0 12 0 3 0 3 0 3 0 3 0 12 0 6 0 6 0 3 0 3 0 6 0 6 0 24 0 6 0 3 0 9 0 9 0 9 0 3 0 3 0 3 0 6 0 3 0 6 0 3 0 12 0 3 0 3 0 9 0 9 0 12 0 6 0 3 0 6 0 3 0 3 0 6 0 3 0 3 0 3 0 3 0 3 0 3 0 3 0 3 0 3 0 3 0 3 0 3 0 3 0 3 0 3 0 3 0 3 0 3 0 3 0 3 0 3 0 3 0 3 0 3 0 6 0 3 0 6 0 3 0 3 0 9 0 6 0 3 0 3 0 9 0 3 0 3 0 3 0 3 0 3 0 6 0 3 0 3 0 9 0 3 0 6 0 3 0 3 0 3 0 3 0 6 0 3 0 3 0 3 0 3 0 3 0 6 0 3 0 3 0 3 0 6 0 3 0 3 0 3 0 3 0 3 0 3 0 3 0 3 0 3 0 3 0 6 0 3 0 3 0 3 0 12 0 6 0 6 0 3 0 6 0 6 0 3 0 3 0 6 0 3 0 18 0 3 0 21 0 3 0 12 0 6 0 3 0 3 0 6 0 6 0 6 0 9 0 3 0 3 0 9 0 9 0 3 0 3 0 3 0 6 0 3 0 3 0 3 0 3 0 3 0 12 0 3 0 3 0 6 0 3 0 6 0 3 0 3 0 3 0 3 0 3 0 6 0 6 0 6 0 9 0 3 0 3 0 3 0 9 0 9 0 6 0 3 0 3 0 3 0 3 0 3 0 3 0 3 0 3 0 3 0 3 0 9999"/><path d="M-490 711.47H487.01" stroke-dasharray="0 8 0 7 1 3 2 8 0 8 0 4 1 2 0 11 0 24 0 10 0 2 0 8 2 10 0 3 1 2 0 2 1 4 0 11 0 12 0 6 0 7 0 2 0 2 0 8 0 3 0 4 0 4 1 5 0 9 1 3 1 8 0 9 0 3 0 3 0 2 0 5 0 6 0 2 0 6 0 12 0 6 0 2 0 5 0 6 0 4 1 4 1 8 0 12 0 3 0 8 0 2 0 15 0 7 0 9 1 5 1 7 1 2 2 2 3 4 0 2 2 7 1 3 0 2 1 2 0 2 2 2 2 2 0 2 0 4 3 2 2 4 3 2 2 3 1 3 2 4 0 2 5 2 0 2 1 2 0 2 3 2 1 2 4 3 3 2 2 4 1 4 0 2 1 3 3 2 2 3 1 2 2 3 0 2 0 2 1 2 1 2 0 3 0 2 0 4 2 3 0 3 1 4 0 2 1 4 0 2 0 2 0 2 1 4 2 2 0 4 3 2 0 2 2 4 0 4 1 5 0 5 2 2 0 3 0 4 0 4 0 2 0 3 0 3 0 8 0 4 0 6 0 15 1 5 0 3 0 2 0 6 0 3 0 9 0 19 0 3 0 6 0 3 0 4 0 13 1 9 0 8 0 6 0 6 0 11 1 4 1 4 0 6 0 7 0 2 0 10 2 3 0 5 0 3 0 4 0 2 0 4 0 6 0 7 0 3 0 7 0 3 0 2 0 4 1 9 1 4 0 18 0 2 1 2 0 4 0 11 0 2 0 2 1 2 0 2 1 2 0 2 0 5 0 3 0 10 1 7 1 4 1 3 0 7 0 9999"/><path d="M-471 711.47H487.01" stroke-dasharray="1 71 0 26 0 3 0 55 0 24 0 24 0 3 0 15 0 6 0 20 0 5 0 15 0 49 0 7 0 9 0 15 0 2 1 3 0 3 0 4 0 12 0 3 0 2 0 5 0 5 0 9 1 5 0 5 3 2 0 2 0 4 0 3 2 6 1 3 1 5 0 2 0 3 2 2 0 4 3 3 0 2 0 3 1 6 0 4 0 2 0 4 0 2 1 2 0 2 0 3 1 2 0 5 0 2 0 2 0 3 1 2 0 3 0 2 0 4 0 2 0 3 0 4 0 13 0 5 0 4 1 7 1 2 0 2 0 24 0 30 0 36 0 18 0 19 0 47 0 6 0 17 0 6 0 39 0 7 0 34 0 5 0 14 0 21 0 2 0 15 0 5 0 5 0 9 0 13 0 9 0 4 0 4 0 7 0 9999"/><path d="M-487 707.62H479.01" stroke-dasharray="0 6 0 3 0 12 0 6 0 3 0 6 0 3 0 3 0 3 0 6 0 3 0 6 0 3 0 3 0 3 0 3 0 3 0 3 0 3 0 3 0 9 0 6 0 3 0 6 0 3 0 6 0 3 0 3 0 3 0 9 0 3 0 3 0 3 0 3 0 3 0 3 0 3 0 3 0 9 0 3 0 6 0 3 0 3 0 3 0 9 0 3 0 3 0 3 0 6 0 6 0 9 0 6 0 3 0 3 0 3 0 9 0 3 0 6 0 3 0 3 0 9 0 3 0 3 0 3 0 6 0 12 0 6 0 6 0 3 0 3 0 3 0 3 0 6 0 3 0 9 0 3 0 3 0 3 0 3 0 3 0 6 0 3 0 3 0 3 0 3 0 9 0 3 0 6 0 3 0 3 0 3 0 3 0 3 0 3 0 6 0 3 0 3 0 3 0 3 0 3 0 3 0 3 0 3 0 6 0 9 0 3 0 3 0 3 0 3 0 3 0 3 0 3 0 3 0 3 0 3 0 3 0 3 0 3 0 3 0 3 0 3 0 3 0 3 0 3 0 3 0 3 0 3 0 3 0 3 0 3 0 3 0 3 0 3 0 3 0 3 0 3 0 6 0 3 0 6 0 6 0 3 0 3 0 3 0 3 0 3 0 3 0 3 0 3 0 3 0 6 0 9 0 9 0 3 0 3 0 3 0 3 0 6 0 6 0 6 0 9 0 3 0 6 0 3 0 6 0 9 0 6 0 6 0 3 0 3 0 3 0 3 0 9 0 3 0 3 0 15 0 6 0 9 0 9 0 3 0 9 0 6 0 6 0 3 0 3 0 3 0 9 0 6 0 3 0 3 0 6 0 3 0 6 0 3 0 3 0 12 0 15 0 6 0 3 0 3 0 6 0 6 0 3 0 9 0 9 0 3 0 3 0 3 0 3 0 3 0 9 0 3 0 6 0 6 0 3 0 3 0 3 0 6 0 9999"/><path d="M-480 707.62H489.01" stroke-dasharray="0 12 0 12 0 12 0 9 0 6 0 3 0 3 0 9 0 9 0 9 0 3 0 3 0 6 0 3 0 6 0 3 0 3 0 3 0 9 0 3 0 6 0 3 0 3 0 6 0 6 0 3 0 9 0 9 0 3 0 6 0 6 0 9 0 12 0 3 0 3 0 6 0 18 0 9 0 3 0 3 0 3 0 3 0 6 0 3 0 6 0 3 0 6 0 3 0 3 0 9 0 3 0 3 0 6 0 3 0 3 0 3 0 3 0 6 0 3 0 3 0 3 0 3 0 6 0 3 0 6 0 3 0 3 0 3 0 3 0 3 0 12 0 3 0 3 0 3 0 3 0 3 0 3 0 3 0 3 0 6 0 3 0 9 0 3 0 3 0 3 0 3 0 3 0 3 0 3 0 3 0 3 0 3 0 3 0 3 0 3 0 3 0 3 0 3 0 6 0 3 0 3 0 6 0 3 0 3 0 3 0 3 0 3 0 6 0 6 0 3 0 3 0 3 0 3 0 3 0 3 0 6 0 3 0 3 0 3 0 3 0 12 0 3 0 6 0 6 0 3 0 3 0 3 0 3 0 3 0 3 0 9 0 3 0 6 0 3 0 3 0 3 0 3 0 6 0 3 0 3 0 9 0 3 0 6 0 9 0 3 0 3 0 6 0 3 0 3 0 9 0 12 0 3 0 3 0 3 0 3 0 12 0 9 0 3 0 15 0 6 0 3 0 3 0 3 0 3 0 3 0 6 0 6 0 3 0 3 0 9 0 3 0 9 0 3 0 18 0 3 0 3 0 15 0 3 0 6 0 12 0 6 0 3 0 6 0 3 0 6 0 6 0 3 0 6 0 3 0 18 0 24 0 6 0 9999"/><path d="M-482 707.62H487.01" stroke-dasharray="0 6 0 3 0 3 0 3 0 3 0 3 0 3 0 3 0 6 0 6 0 9 0 9 0 18 0 9 0 3 0 9 0 3 0 3 0 3 0 3 0 12 0 3 0 6 0 3 0 3 0 9 0 9 0 6 0 3 0 6 0 3 0 12 0 21 0 24 0 3 0 3 0 3 0 6 0 6 0 6 0 3 0 3 0 6 0 6 0 6 0 3 0 3 0 6 0 3 0 9 0 6 0 6 0 3 0 6 0 3 0 3 0 3 0 3 0 3 0 9 0 3 0 3 0 3 0 6 0 6 0 3 0 3 0 3 0 3 0 3 0 3 0 3 0 3 0 3 0 3 0 3 0 3 0 3 0 3 0 3 0 3 0 3 0 3 0 3 0 3 0 9 0 3 0 3 0 3 0 6 0 3 0 3 0 3 0 3 0 3 0 3 0 3 0 3 0 3 0 3 0 3 0 3 0 3 0 3 0 3 0 3 0 3 0 3 0 3 0 3 0 3 0 3 0 3 0 3 0 3 0 3 0 3 0 3 0 3 0 3 0 3 0 3 0 3 0 3 0 3 0 3 0 3 0 3 0 3 0 3 0 3 0 3 0 3 0 3 0 3 0 3 0 9 0 3 0 9 0 3 0 6 0 3 0 3 0 6 0 3 0 3 0 6 0 3 0 9 0 3 0 6 0 3 0 9 0 3 0 3 0 9 0 3 0 6 0 3 0 6 0 6 0 15 0 9 0 3 0 3 0 6 0 3 0 3 0 9 0 3 0 6 0 3 0 3 0 6 0 3 0 3 0 12 0 3 0 3 0 3 0 3 0 3 0 3 0 3 0 3 0 3 0 3 0 3 0 12 0 9 0 3 0 6 0 3 0 6 0 3 0 3 0 6 0 18 0 6 0 6 0 3 0 6 0 6 0 3 0 3 0 9 0 6 0 3 0 3 0 3 0 3 0 9999"/><path d="M-461 707.62H489.01" stroke-dasharray="1 4 1 21 1 8 0 2 0 2 0 6 0 3 0 3 0 11 0 3 0 2 0 8 0 5 0 5 0 3 0 6 0 2 0 5 0 2 0 3 1 3 0 14 0 2 0 3 0 2 0 2 0 4 0 4 0 3 0 2 0 7 0 7 0 11 0 3 0 9 0 7 0 3 0 14 0 5 0 9 0 4 0 7 1 2 1 11 0 5 0 4 0 5 0 2 0 2 0 12 0 3 0 5 0 2 0 2 0 4 0 13 1 7 1 2 2 5 0 3 2 5 0 2 0 3 1 2 1 4 3 6 0 8 1 5 0 3 0 2 0 2 0 2 2 2 0 2 1 3 2 2 1 2 0 2 0 4 5 4 1 2 2 2 1 2 1 2 1 5 0 3 1 3 0 3 5 2 0 2 2 2 0 3 0 7 1 3 0 2 10 2 0 2 0 5 2 5 0 2 0 2 2 3 1 2 1 2 1 3 2 4 4 4 5 4 0 7 1 2 0 2 0 3 0 12 1 3 0 2 0 4 0 2 0 2 0 3 0 5 0 3 1 3 0 2 0 5 0 3 0 3 0 5 0 7 0 5 0 3 0 2 0 10 0 6 0 3 0 2 0 9 0 8 0 6 1 2 0 3 0 5 1 5 0 7 0 3 0 19 0 3 1 26 0 6 0 2 0 5 1 3 0 4 2 13 0 7 0 9 0 3 0 3 0 3 0 4 0 4 0 25 0 9 1 33 0 4 0 8 0 3 0 8 1 5 0 3 0 2 0 5 0 3 0 17 0 3 0 2 0 9999"/><path d="M-433 707.62H464.01" stroke-dasharray="0 24 0 11 0 13 0 26 0 30 0 6 0 9 0 7 0 7 0 75 1 11 0 9 0 51 0 22 0 5 0 5 1 3 0 4 0 2 0 15 1 14 0 2 0 4 0 6 0 2 0 3 0 6 0 3 2 9 0 2 1 2 0 3 1 5 0 3 0 8 2 4 0 3 1 5 0 13 5 4 0 5 0 5 0 12 0 5 0 3 0 3 0 3 0 2 0 8 0 9 0 11 1 19 0 6 0 19 0 4 0 2 0 8 0 8 0 15 0 2 0 10 0 35 0 16 0 33 0 32 0 2 0 5 0 8 0 34 0 10 0 72 0 23 0 16 0 9999"/><path d="M-481 703.78H482.01" stroke-dasharray="0 18 0 3 0 3 0 3 0 6 0 6 0 9 0 6 0 3 0 6 0 6 0 3 0 6 0 15 0 3 0 6 0 3 0 3 0 6 0 3 0 9 0 12 0 6 0 3 0 3 0 6 0 3 0 3 0 3 0 3 0 6 0 3 0 3 0 6 0 3 0 6 0 6 0 3 0 9 0 3 0 3 0 27 0 6 0 15 0 6 0 3 0 6 0 9 0 3 0 6 0 3 0 9 0 6 0 3 0 18 0 6 0 6 0 3 0 3 0 3 0 3 0 3 0 6 0 3 0 3 0 3 0 3 0 3 0 3 0 3 0 12 0 3 0 3 0 3 0 3 0 3 0 3 0 3 0 6 0 6 0 3 0 3 0 3 0 3 0 3 0 6 0 3 0 6 0 3 0 3 0 3 0 6 0 3 0 3 0 3 0 3 0 3 0 3 0 3 0 6 0 9 0 3 0 3 0 3 0 3 0 3 0 3 0 3 0 3 0 3 0 3 0 3 0 3 0 3 0 3 0 3 0 3 0 3 0 3 0 6 0 3 0 3 0 3 0 6 0 15 0 6 0 3 0 3 0 6 0 6 0 6 0 3 0 3 0 3 0 3 0 3 0 3 0 6 0 3 0 3 0 3 0 3 0 3 0 3 0 3 0 18 0 3 0 6 0 6 0 3 0 6 0 3 0 3 0 3 0 6 0 6 0 3 0 3 0 6 0 3 0 3 0 3 0 3 0 3 0 3 0 6 0 12 0 3 0 3 0 12 0 6 0 6 0 6 0 3 0 3 0 3 0 3 0 3 0 3 0 3 0 3 0 3 0 6 0 9 0 6 0 3 0 3 0 6 0 6 0 3 0 3 0 3 0 3 0 3 0 3 0 3 0 3 0 6 0 12 0 6 0 3 0 3 0 3 0 3 0 6 0 9999"/><path d="M-489 703.78H477.01" stroke-dasharray="0 12 0 6 0 3 0 3 0 12 0 6 0 6 0 6 0 3 0 3 0 3 0 3 0 3 0 9 0 6 0 6 0 3 0 3 0 3 0 3 0 9 0 3 0 9 0 6 0 3 0 3 0 3 0 3 0 6 0 3 0 3 0 3 0 3 0 3 0 9 0 3 0 3 0 6 0 6 0 9 0 3 0 3 0 6 0 6 0 6 0 6 0 3 0 3 0 21 0 6 0 3 0 6 0 3 0 3 0 9 0 6 0 3 0 3 0 3 0 3 0 3 0 3 0 6 0 9 0 3 0 6 0 9 0 3 0 9 0 3 0 3 0 3 0 6 0 6 0 3 0 3 0 3 0 3 0 3 0 6 0 3 0 3 0 3 0 3 0 3 0 3 0 3 0 3 0 6 0 3 0 3 0 3 0 3 0 3 0 3 0 3 0 3 0 3 0 3 0 3 0 3 0 3 0 6 0 3 0 3 0 3 0 3 0 3 0 3 0 3 0 3 0 3 0 3 0 3 0 3 0 3 0 3 0 3 0 3 0 3 0 3 0 3 0 3 0 3 0 3 0 3 0 3 0 3 0 6 0 6 0 3 0 9 0 6 0 3 0 3 0 6 0 3 0 6 0 6 0 6 0 3 0 3 0 3 0 3 0 3 0 3 0 6 0 3 0 3 0 9 0 3 0 15 0 3 0 9 0 3 0 15 0 3 0 3 0 3 0 3 0 3 0 9 0 6 0 3 0 9 0 3 0 3 0 3 0 3 0 6 0 3 0 15 0 9 0 3 0 9 0 3 0 3 0 9 0 6 0 3 0 9 0 9 0 6 0 6 0 3 0 9 0 3 0 6 0 3 0 6 0 3 0 6 0 12 0 3 0 3 0 9 0 3 0 9 0 3 0 3 0 12 0 6 0 6 0 6 0 3 0 9999"/><path d="M-470 703.78H487.01" stroke-dasharray="0 3 0 3 0 6 0 6 0 3 0 6 0 9 0 3 0 3 0 3 0 3 0 3 0 3 0 6 0 3 0 3 0 9 0 3 0 6 0 6 0 3 0 3 0 3 0 3 0 3 0 6 0 3 0 3 0 3 0 3 0 3 0 3 0 3 0 3 0 6 0 6 0 3 0 15 0 3 0 9 0 3 0 3 0 15 0 3 0 3 0 3 0 6 0 3 0 9 0 3 0 6 0 3 0 9 0 3 0 3 0 15 0 3 0 6 0 3 0 3 0 6 0 3 0 9 0 3 0 3 0 6 0 3 0 3 0 3 0 3 0 3 0 6 0 3 0 6 0 3 0 3 0 3 0 3 0 6 0 3 0 3 0 3 0 3 0 3 0 3 0 6 0 3 0 3 0 3 0 3 0 3 0 18 0 3 0 3 0 6 0 6 0 6 0 3 0 3 0 3 0 3 0 3 0 3 0 3 0 3 0 3 0 3 0 3 0 3 0 3 0 6 0 3 0 3 0 3 0 3 0 3 0 3 0 3 0 3 0 3 0 3 0 3 0 6 0 3 0 3 0 3 0 6 0 3 0 3 0 3 0 3 0 3 0 3 0 3 0 3 0 3 0 3 0 3 0 3 0 6 0 3 0 3 0 3 0 6 0 3 0 3 0 6 0 3 0 3 0 3 0 21 0 3 0 3 0 12 0 3 0 3 0 3 0 3 0 12 0 3 0 6 0 9 0 3 0 3 0 6 0 9 0 3 0 6 0 3 0 15 0 3 0 3 0 3 0 6 0 6 0 3 0 3 0 3 0 3 0 6 0 3 0 3 0 6 0 12 0 3 0 33 0 9 0 9 0 3 0 3 0 12 0 3 0 3 0 12 0 3 0 6 0 3 0 6 0 3 0 3 0 6 0 6 0 6 0 3 0 3 0 3 0 3 0 3 0 9999"/><path d="M-489 703.78H484.01" stroke-dasharray="0 19 0 3 0 13 0 5 0 2 0 18 0 2 0 5 0 6 0 5 0 2 0 2 0 8 0 20 2 4 0 5 0 2 0 6 1 3 1 2 0 2 0 7 0 5 0 3 0 5 0 2 0 4 0 13 0 5 0 2 0 5 0 5 0 4 1 18 0 5 0 10 0 24 0 4 1 3 0 4 0 8 0 14 0 4 0 4 0 9 0 2 0 22 0 3 0 3 0 9 1 6 2 5 2 6 3 4 0 6 2 2 0 2 1 3 1 2 1 3 1 2 1 9 4 2 0 3 0 2 0 3 0 3 1 2 1 6 2 2 0 2 0 5 1 3 1 2 0 3 1 5 0 2 0 3 2 2 4 2 0 2 1 2 2 2 0 2 2 2 0 4 0 2 0 2 0 3 4 3 0 3 1 2 1 3 0 4 1 2 6 2 2 3 4 5 0 6 2 3 0 2 0 3 0 2 2 4 1 4 2 3 3 3 1 3 1 4 0 2 1 3 0 3 0 5 0 2 0 2 0 3 2 3 0 6 0 6 0 2 0 6 1 5 0 3 0 2 0 7 0 4 0 5 0 2 0 5 0 2 0 5 1 11 0 5 0 19 1 15 1 3 0 6 0 23 3 5 0 10 0 7 0 7 0 4 1 7 0 2 0 8 0 6 0 6 0 9 1 3 0 5 0 4 0 3 0 2 0 16 1 3 0 4 0 9 1 6 0 12 0 4 0 4 0 2 0 3 0 2 0 16 0 2 0 4 0 7 0 3 0 8 0 9999"/><path d="M-470 703.78H466.01" stroke-dasharray="0 16 0 25 0 18 0 2 0 2 0 8 0 20 0 6 0 66 0 7 0 28 0 5 0 38 0 16 0 14 0 17 0 2 0 22 0 29 0 10 1 12 0 4 0 11 0 3 1 9 0 3 0 6 0 2 0 6 0 3 1 7 0 10 1 3 0 3 0 3 1 5 0 2 0 3 0 2 0 3 1 2 0 2 0 2 0 4 0 6 1 14 3 3 0 3 1 3 0 8 0 2 0 2 0 14 1 5 0 8 0 3 0 2 0 7 0 14 0 3 0 7 0 8 0 18 1 4 0 6 0 8 0 6 1 5 0 52 0 35 0 4 0 6 0 41 0 18 0 8 0 40 0 4 0 3 0 2 0 24 0 9 0 19 0 33 0 4 0 9999"/><path d="M-490 699.93H485.01" stroke-dasharray="0 6 0 3 0 3 0 3 0 3 0 3 0 18 0 3 0 6 0 3 0 6 0 3 0 3 0 6 0 12 0 3 0 3 0 6 0 9 0 3 0 12 0 3 0 9 0 21 0 3 0 3 0 6 0 3 0 3 0 3 0 6 0 3 0 9 0 3 0 6 0 3 0 3 0 6 0 3 0 12 0 3 0 3 0 6 0 3 0 6 0 3 0 3 0 9 0 3 0 3 0 3 0 3 0 3 0 3 0 3 0 9 0 3 0 3 0 18 0 3 0 6 0 3 0 3 0 3 0 3 0 9 0 3 0 9 0 3 0 3 0 3 0 6 0 9 0 3 0 3 0 3 0 3 0 6 0 3 0 3 0 3 0 3 0 3 0 3 0 6 0 3 0 3 0 3 0 3 0 3 0 3 0 3 0 3 0 3 0 3 0 3 0 3 0 3 0 3 0 3 0 3 0 6 0 3 0 3 0 6 0 3 0 3 0 3 0 3 0 3 0 3 0 3 0 3 0 3 0 6 0 3 0 3 0 6 0 6 0 3 0 3 0 6 0 3 0 3 0 3 0 3 0 3 0 3 0 3 0 3 0 3 0 6 0 3 0 3 0 3 0 3 0 3 0 6 0 3 0 3 0 3 0 3 0 6 0 3 0 3 0 9 0 3 0 3 0 3 0 6 0 3 0 6 0 3 0 3 0 12 0 3 0 3 0 3 0 6 0 3 0 9 0 3 0 3 0 6 0 3 0 3 0 9 0 3 0 6 0 9 0 3 0 9 0 6 0 6 0 24 0 3 0 6 0 3 0 3 0 12 0 3 0 6 0 3 0 15 0 3 0 6 0 6 0 3 0 3 0 3 0 3 0 6 0 3 0 3 0 3 0 9 0 6 0 6 0 9 0 12 0 3 0 3 0 3 0 9 0 3 0 3 0 3 0 6 0 3 0 9999"/><path d="M-483 699.93H480.01" stroke-dasharray="0 3 0 3 0 3 0 3 0 6 0 12 0 6 0 3 0 3 0 9 0 3 0 3 0 3 0 3 0 3 0 3 0 9 0 3 0 3 0 9 0 3 0 3 0 3 0 6 0 6 0 3 0 3 0 6 0 9 0 6 0 12 0 3 0 9 0 3 0 3 0 6 0 6 0 6 0 3 0 3 0 3 0 6 0 6 0 3 0 3 0 3 0 6 0 3 0 3 0 3 0 3 0 3 0 12 0 3 0 12 0 3 0 6 0 6 0 9 0 3 0 3 0 6 0 3 0 6 0 6 0 15 0 3 0 6 0 9 0 6 0 3 0 6 0 3 0 6 0 3 0 12 0 6 0 3 0 3 0 3 0 3 0 3 0 6 0 6 0 3 0 3 0 3 0 3 0 3 0 3 0 6 0 3 0 3 0 3 0 3 0 3 0 6 0 3 0 3 0 3 0 3 0 3 0 3 0 3 0 3 0 3 0 3 0 3 0 3 0 3 0 3 0 3 0 6 0 3 0 3 0 3 0 3 0 3 0 6 0 3 0 3 0 3 0 6 0 3 0 3 0 6 0 3 0 3 0 3 0 3 0 3 0 3 0 6 0 6 0 3 0 3 0 6 0 6 0 3 0 3 0 3 0 6 0 3 0 3 0 3 0 3 0 3 0 12 0 6 0 6 0 6 0 3 0 6 0 6 0 3 0 3 0 3 0 9 0 3 0 3 0 15 0 6 0 3 0 3 0 15 0 6 0 6 0 3 0 3 0 6 0 3 0 6 0 3 0 6 0 6 0 3 0 3 0 6 0 3 0 3 0 3 0 6 0 3 0 3 0 12 0 3 0 6 0 3 0 3 0 3 0 3 0 6 0 6 0 3 0 6 0 3 0 3 0 6 0 12 0 3 0 9 0 3 0 3 0 3 0 3 0 3 0 3 0 6 0 3 0 3 0 6 0 9999"/><path d="M-488 699.93H484.01" stroke-dasharray="0 6 0 6 0 9 0 3 0 3 0 6 0 6 0 9 0 3 0 3 0 9 0 6 0 6 0 21 0 3 0 3 0 3 0 6 0 6 0 3 0 6 0 3 0 9 0 9 0 3 0 3 0 3 0 3 0 6 0 3 0 3 0 6 0 6 0 6 0 3 0 3 0 3 0 3 0 6 0 3 0 6 0 6 0 3 0 9 0 3 0 3 0 6 0 3 0 12 0 9 0 3 0 9 0 6 0 3 0 6 0 3 0 21 0 3 0 3 0 3 0 6 0 6 0 9 0 6 0 3 0 3 0 3 0 3 0 3 0 6 0 3 0 3 0 3 0 3 0 3 0 3 0 3 0 3 0 3 0 3 0 12 0 3 0 3 0 3 0 3 0 3 0 3 0 3 0 3 0 6 0 6 0 3 0 6 0 3 0 3 0 3 0 6 0 6 0 3 0 3 0 3 0 6 0 3 0 3 0 3 0 3 0 3 0 3 0 3 0 3 0 3 0 3 0 3 0 3 0 3 0 3 0 6 0 3 0 3 0 3 0 3 0 3 0 3 0 3 0 3 0 3 0 3 0 3 0 3 0 3 0 3 0 3 0 6 0 3 0 3 0 3 0 6 0 3 0 3 0 3 0 3 0 6 0 3 0 12 0 3 0 12 0 9 0 3 0 9 0 3 0 3 0 3 0 6 0 3 0 18 0 6 0 3 0 3 0 3 0 6 0 3 0 6 0 12 0 3 0 12 0 3 0 6 0 3 0 3 0 6 0 9 0 6 0 6 0 3 0 3 0 3 0 6 0 6 0 6 0 6 0 18 0 6 0 3 0 6 0 9 0 9 0 12 0 3 0 6 0 3 0 3 0 6 0 6 0 6 0 6 0 6 0 12 0 9999"/><path d="M-490 699.93H484.01" stroke-dasharray="0 2 0 6 2 3 0 5 1 2 0 14 0 6 0 2 0 8 0 9 1 3 0 7 0 2 0 4 0 8 0 2 1 3 0 9 1 4 2 2 0 10 1 4 0 5 0 4 0 9 0 6 0 5 0 2 0 5 0 3 0 4 0 3 1 2 0 2 0 9 0 6 0 6 2 2 1 2 0 7 1 2 0 7 0 3 0 5 0 7 0 7 0 4 0 2 0 3 0 8 0 3 0 2 0 6 0 5 0 8 0 7 0 8 0 6 0 6 0 3 0 6 0 4 0 3 1 5 1 5 0 7 0 3 0 10 1 3 0 6 0 3 0 2 0 3 0 5 1 4 1 3 0 2 1 2 0 4 0 2 2 5 0 2 0 2 0 2 0 3 0 5 2 4 0 2 0 3 2 2 2 4 5 2 0 2 0 2 0 2 3 4 0 2 2 2 2 2 0 2 1 2 0 2 4 3 1 2 1 2 1 3 0 2 0 2 8 2 7 2 0 2 0 2 3 5 2 2 0 2 1 2 0 4 0 5 4 2 2 7 0 3 0 8 5 3 0 3 0 5 2 2 0 4 0 4 0 3 2 2 0 4 1 6 2 2 0 3 0 2 0 7 2 3 0 3 0 3 0 3 0 5 0 6 1 2 0 24 0 2 0 3 0 2 0 18 0 11 0 10 0 6 1 3 0 25 0 8 0 17 0 3 0 2 0 8 0 2 0 3 1 2 0 12 3 4 0 5 0 7 0 6 1 9 0 9 0 3 1 2 0 4 0 4 0 2 0 3 0 5 0 9 0 11 1 2 0 12 0 7 0 6 0 7 0 5 0 3 0 10 0 4 0 9999"/><path d="M-490 699.93H484.01" stroke-dasharray="0 13 0 6 0 2 0 40 0 26 1 32 0 43 0 10 0 11 0 13 0 6 0 7 0 10 0 28 0 11 0 24 0 21 0 22 1 21 0 11 0 9 0 22 0 2 0 3 0 6 0 9 0 2 0 2 0 9 0 7 0 3 2 2 0 6 4 5 0 2 0 2 3 7 0 4 0 6 0 2 0 3 3 6 0 11 0 4 2 2 0 2 1 2 1 2 0 3 0 2 0 3 0 2 0 5 0 2 0 4 1 2 0 4 0 5 1 2 1 2 1 8 0 13 3 3 0 12 0 15 0 11 0 9 0 9 0 12 0 74 0 73 0 10 0 5 1 15 0 25 0 21 0 44 0 40 0 14 0 9999"/><path d="M-490 696.08H485.01" stroke-dasharray="0 9 0 3 0 6 0 3 0 9 0 3 0 3 0 3 0 3 0 6 0 3 0 6 0 3 0 3 0 12 0 9 0 3 0 3 0 6 0 6 0 6 0 3 0 3 0 3 0 3 0 9 0 3 0 6 0 3 0 6 0 3 0 3 0 3 0 6 0 6 0 9 0 3 0 3 0 3 0 3 0 6 0 6 0 12 0 3 0 3 0 3 0 3 0 12 0 3 0 3 0 3 0 6 0 6 0 3 0 6 0 9 0 3 0 3 0 3 0 15 0 3 0 3 0 6 0 6 0 9 0 6 0 3 0 3 0 6 0 12 0 3 0 3 0 9 0 3 0 3 0 3 0 3 0 3 0 3 0 3 0 3 0 3 0 9 0 3 0 3 0 3 0 3 0 3 0 6 0 3 0 3 0 3 0 3 0 3 0 3 0 6 0 6 0 3 0 3 0 3 0 3 0 3 0 3 0 3 0 6 0 3 0 3 0 3 0 3 0 3 0 6 0 3 0 3 0 3 0 3 0 3 0 3 0 3 0 3 0 6 0 6 0 6 0 3 0 6 0 3 0 3 0 3 0 3 0 3 0 3 0 3 0 3 0 3 0 3 0 6 0 3 0 3 0 3 0 3 0 9 0 6 0 3 0 3 0 6 0 9 0 9 0 9 0 3 0 9 0 3 0 3 0 3 0 3 0 12 0 3 0 9 0 9 0 6 0 3 0 6 0 3 0 9 0 6 0 9 0 12 0 3 0 12 0 3 0 3 0 9 0 9 0 3 0 3 0 3 0 3 0 3 0 3 0 9 0 6 0 6 0 9 0 3 0 6 0 3 0 3 0 3 0 6 0 6 0 3 0 3 0 3 0 6 0 3 0 9 0 9 0 3 0 3 0 6 0 9 0 3 0 3 0 6 0 3 0 3 0 3 0 3 0 3 0 3 0 9999"/><path d="M-480 696.08H489.01" stroke-dasharray="0 9 0 15 0 6 0 12 0 6 0 6 0 9 0 3 0 6 0 3 0 3 0 3 0 6 0 3 0 3 0 9 0 9 0 6 0 6 0 12 0 9 0 3 0 9 0 3 0 3 0 3 0 12 0 6 0 3 0 3 0 3 0 3 0 3 0 6 0 6 0 3 0 3 0 3 0 6 0 12 0 3 0 3 0 3 0 6 0 3 0 3 0 6 0 3 0 3 0 6 0 3 0 3 0 6 0 12 0 6 0 9 0 6 0 3 0 6 0 6 0 9 0 3 0 6 0 3 0 3 0 3 0 6 0 3 0 6 0 3 0 3 0 3 0 6 0 3 0 3 0 3 0 3 0 3 0 6 0 3 0 6 0 3 0 3 0 3 0 3 0 3 0 3 0 3 0 3 0 3 0 3 0 6 0 3 0 3 0 3 0 3 0 3 0 3 0 3 0 6 0 6 0 3 0 3 0 3 0 3 0 3 0 3 0 3 0 3 0 6 0 3 0 3 0 9 0 3 0 3 0 9 0 3 0 9 0 3 0 6 0 3 0 3 0 3 0 3 0 3 0 3 0 3 0 3 0 3 0 3 0 6 0 3 0 3 0 3 0 15 0 6 0 3 0 3 0 3 0 3 0 6 0 6 0 3 0 3 0 9 0 3 0 3 0 3 0 3 0 12 0 3 0 6 0 3 0 3 0 6 0 3 0 12 0 3 0 12 0 3 0 3 0 3 0 3 0 6 0 3 0 6 0 9 0 3 0 3 0 3 0 3 0 3 0 15 0 3 0 6 0 3 0 6 0 3 0 3 0 3 0 3 0 3 0 3 0 6 0 6 0 9 0 3 0 3 0 6 0 6 0 3 0 12 0 6 0 3 0 6 0 3 0 3 0 6 0 3 0 15 0 6 0 6 0 3 0 9999"/><path d="M-488 696.08H490.01" stroke-dasharray="0 6 0 6 0 3 0 3 0 3 0 3 0 6 0 6 0 6 0 3 0 6 0 6 0 9 0 3 0 3 0 3 0 3 0 9 0 6 0 9 0 6 0 12 0 3 0 12 0 3 0 12 0 3 0 9 0 3 0 3 0 3 0 6 0 3 0 3 0 9 0 3 0 3 0 3 0 3 0 3 0 3 0 3 0 6 0 9 0 6 0 6 0 6 0 3 0 6 0 12 0 6 0 9 0 3 0 3 0 3 0 3 0 9 0 21 0 3 0 3 0 9 0 3 0 3 0 3 0 12 0 6 0 6 0 3 0 3 0 3 0 3 0 3 0 3 0 3 0 3 0 3 0 3 0 3 0 6 0 3 0 3 0 9 0 3 0 3 0 3 0 3 0 3 0 3 0 3 0 3 0 3 0 3 0 3 0 3 0 3 0 3 0 3 0 3 0 3 0 3 0 3 0 3 0 3 0 3 0 3 0 3 0 3 0 3 0 9 0 6 0 3 0 3 0 6 0 3 0 3 0 3 0 3 0 3 0 3 0 3 0 3 0 3 0 6 0 3 0 3 0 3 0 6 0 6 0 9 0 9 0 3 0 6 0 3 0 3 0 3 0 9 0 6 0 3 0 3 0 6 0 9 0 6 0 3 0 3 0 3 0 6 0 3 0 6 0 3 0 6 0 9 0 6 0 6 0 6 0 6 0 3 0 6 0 3 0 6 0 3 0 12 0 6 0 3 0 3 0 6 0 3 0 9 0 6 0 15 0 3 0 3 0 9 0 3 0 6 0 6 0 3 0 3 0 3 0 3 0 6 0 3 0 3 0 3 0 3 0 6 0 3 0 12 0 3 0 9 0 6 0 3 0 3 0 6 0 12 0 3 0 6 0 3 0 3 0 6 0 3 0 3 0 6 0 6 0 3 0 9999"/><path d="M-490 696.08H485.01" stroke-dasharray="0 2 0 6 0 6 0 4 1 17 0 2 0 4 0 2 0 8 0 6 0 10 0 5 1 2 0 11 0 3 1 6 0 3 0 8 0 4 0 2 0 3 0 5 0 5 0 5 0 5 1 9 0 3 0 2 1 2 0 14 0 16 2 2 0 4 1 5 0 2 0 2 0 12 1 3 0 2 0 4 0 11 0 11 1 2 0 2 1 3 0 2 0 17 1 6 0 3 1 14 0 3 0 3 0 4 0 8 0 13 1 2 0 5 2 3 0 2 0 9 0 2 1 2 0 3 0 4 0 5 1 2 0 2 0 3 1 3 0 2 0 2 2 2 0 2 0 10 0 3 0 4 2 3 0 2 2 3 1 3 2 3 1 2 3 5 0 2 4 2 1 2 0 3 0 2 1 2 0 2 1 3 3 2 9 2 2 2 0 2 2 2 4 2 2 3 0 3 0 2 1 2 4 2 4 2 0 2 1 3 0 2 0 3 3 3 1 2 0 3 2 2 2 3 0 3 2 3 0 2 0 2 1 3 0 8 0 2 0 2 1 2 0 4 0 2 2 2 0 2 0 4 2 7 2 2 0 2 2 12 0 8 0 2 0 6 1 11 0 7 0 7 1 4 1 10 1 5 0 3 0 25 2 5 0 3 0 5 0 4 0 6 1 18 0 5 0 15 1 2 0 7 0 3 0 12 0 2 0 2 0 12 0 8 0 7 0 4 0 4 0 3 0 5 0 2 0 19 0 2 0 4 0 3 1 5 1 5 0 5 0 11 0 5 0 13 1 2 1 5 1 6 0 4 0 5 1 2 0 4 0 2 1 3 0 9999"/><path d="M-454 696.08H481.01" stroke-dasharray="0 2 0 53 0 6 0 56 0 72 0 22 1 10 0 18 0 9 0 15 0 6 0 40 0 11 1 2 0 7 0 6 0 7 0 4 0 6 0 4 0 13 0 4 2 5 2 3 1 3 0 2 0 7 0 2 0 5 0 2 0 6 1 2 0 8 0 2 0 4 1 4 8 4 0 3 0 2 1 3 0 2 2 3 1 8 1 3 0 2 1 3 0 7 0 4 0 17 1 4 0 4 0 3 0 5 0 2 0 18 1 6 0 6 0 8 0 9 0 4 0 30 0 77 0 18 0 30 0 18 0 26 0 20 0 25 0 19 0 2 0 13 1 10 0 16 0 14 0 8 0 17 0 8 0 9999"/><path d="M-490 692.23H488.01" stroke-dasharray="0 6 0 3 0 3 0 6 0 3 0 3 0 15 0 3 0 6 0 3 0 9 0 15 0 3 0 3 0 6 0 3 0 3 0 3 0 3 0 3 0 6 0 3 0 3 0 3 0 3 0 3 0 3 0 3 0 6 0 3 0 3 0 3 0 3 0 3 0 3 0 3 0 3 0 3 0 6 0 6 0 9 0 3 0 3 0 3 0 3 0 3 0 3 0 12 0 3 0 3 0 3 0 9 0 3 0 9 0 6 0 3 0 3 0 9 0 3 0 9 0 3 0 3 0 6 0 6 0 3 0 3 0 3 0 6 0 3 0 24 0 3 0 6 0 6 0 3 0 6 0 12 0 3 0 3 0 9 0 3 0 3 0 3 0 3 0 3 0 3 0 3 0 3 0 3 0 6 0 3 0 9 0 6 0 3 0 6 0 3 0 3 0 3 0 3 0 3 0 3 0 3 0 3 0 3 0 3 0 3 0 3 0 3 0 3 0 3 0 3 0 3 0 6 0 3 0 3 0 3 0 3 0 3 0 3 0 3 0 3 0 3 0 9 0 3 0 3 0 3 0 3 0 3 0 3 0 3 0 3 0 3 0 6 0 3 0 3 0 6 0 3 0 3 0 3 0 3 0 3 0 3 0 3 0 3 0 3 0 3 0 3 0 3 0 6 0 6 0 3 0 6 0 6 0 3 0 3 0 9 0 6 0 3 0 6 0 9 0 3 0 9 0 3 0 3 0 6 0 3 0 6 0 3 0 3 0 6 0 15 0 3 0 3 0 6 0 3 0 3 0 6 0 3 0 3 0 9 0 6 0 6 0 9 0 6 0 9 0 3 0 6 0 6 0 6 0 3 0 6 0 6 0 3 0 3 0 6 0 3 0 3 0 3 0 6 0 6 0 6 0 6 0 3 0 3 0 3 0 9 0 3 0 6 0 3 0 3 0 3 0 9 0 9 0 15 0 3 0 3 0 9999"/><path d="M-489 692.23H489.01" stroke-dasharray="0 6 0 6 0 3 0 3 0 6 0 3 0 6 0 3 0 3 0 3 0 3 0 12 0 6 0 6 0 6 0 6 0 3 0 6 0 3 0 3 0 3 0 6 0 6 0 3 0 3 0 3 0 3 0 9 0 6 0 3 0 6 0 3 0 3 0 3 0 3 0 9 0 3 0 9 0 6 0 3 0 6 0 3 0 3 0 6 0 3 0 6 0 3 0 3 0 12 0 3 0 3 0 3 0 12 0 6 0 9 0 15 0 3 0 3 0 3 0 6 0 9 0 3 0 3 0 6 0 3 0 3 0 12 0 3 0 6 0 3 0 9 0 9 0 3 0 3 0 6 0 3 0 3 0 3 0 6 0 3 0 3 0 3 0 6 0 3 0 3 0 9 0 6 0 3 0 3 0 3 0 3 0 3 0 3 0 3 0 3 0 3 0 3 0 3 0 3 0 3 0 3 0 3 0 3 0 3 0 3 0 3 0 3 0 6 0 6 0 3 0 3 0 3 0 3 0 3 0 3 0 3 0 3 0 3 0 3 0 3 0 6 0 3 0 3 0 3 0 3 0 3 0 9 0 3 0 3 0 6 0 3 0 3 0 3 0 3 0 3 0 3 0 3 0 6 0 3 0 9 0 3 0 3 0 6 0 3 0 3 0 6 0 6 0 6 0 6 0 3 0 3 0 6 0 3 0 3 0 6 0 3 0 9 0 3 0 3 0 3 0 3 0 3 0 3 0 6 0 9 0 9 0 3 0 3 0 3 0 3 0 6 0 3 0 3 0 3 0 3 0 15 0 9 0 6 0 3 0 3 0 9 0 6 0 6 0 9 0 6 0 3 0 3 0 3 0 6 0 6 0 3 0 3 0 21 0 9 0 3 0 3 0 3 0 3 0 3 0 6 0 9 0 3 0 15 0 3 0 3 0 12 0 3 0 9 0 3 0 9999"/><path d="M-485 692.23H490.01" stroke-dasharray="0 3 0 3 0 3 0 3 0 9 0 3 0 9 0 3 0 3 0 6 0 3 0 3 0 3 0 9 0 6 0 3 0 3 0 3 0 3 0 3 0 3 0 3 0 3 0 6 0 6 0 3 0 3 0 12 0 3 0 6 0 3 0 3 0 3 0 6 0 6 0 3 0 3 0 3 0 6 0 3 0 3 0 6 0 3 0 3 0 3 0 6 0 6 0 15 0 3 0 3 0 12 0 9 0 12 0 6 0 3 0 3 0 6 0 3 0 9 0 3 0 12 0 3 0 3 0 3 0 3 0 3 0 3 0 3 0 6 0 9 0 9 0 3 0 6 0 3 0 3 0 6 0 3 0 6 0 3 0 3 0 3 0 3 0 3 0 3 0 6 0 6 0 3 0 3 0 3 0 6 0 3 0 3 0 3 0 3 0 3 0 3 0 3 0 3 0 3 0 3 0 3 0 6 0 6 0 3 0 3 0 3 0 3 0 3 0 3 0 3 0 3 0 3 0 3 0 3 0 3 0 3 0 3 0 3 0 3 0 6 0 6 0 3 0 3 0 3 0 3 0 3 0 6 0 3 0 3 0 3 0 3 0 3 0 3 0 3 0 3 0 3 0 3 0 3 0 3 0 6 0 3 0 6 0 3 0 3 0 3 0 3 0 3 0 3 0 12 0 6 0 6 0 3 0 3 0 3 0 6 0 9 0 9 0 3 0 12 0 15 0 3 0 3 0 6 0 6 0 3 0 3 0 3 0 6 0 3 0 9 0 3 0 6 0 3 0 3 0 9 0 3 0 6 0 6 0 9 0 3 0 6 0 3 0 3 0 9 0 3 0 3 0 9 0 3 0 3 0 6 0 3 0 3 0 6 0 3 0 9 0 3 0 6 0 3 0 3 0 9 0 3 0 3 0 3 0 3 0 9 0 3 0 3 0 9 0 3 0 6 0 3 0 3 0 3 0 6 0 3 0 3 0 15 0 9999"/><path d="M-490 692.23H490.01" stroke-dasharray="1 5 0 6 0 6 0 3 0 3 0 13 1 2 1 3 0 6 0 9 0 5 0 13 1 8 0 4 1 3 1 18 0 3 1 4 0 3 0 13 1 2 0 2 0 2 0 2 0 2 0 3 1 4 0 2 0 2 1 11 0 7 0 7 1 3 1 4 1 2 1 3 0 6 0 5 0 6 0 2 2 8 0 3 0 9 1 5 0 20 0 3 0 4 0 2 1 9 2 3 0 7 0 3 0 2 0 5 0 3 1 2 0 4 0 2 1 2 1 6 0 18 1 9 2 9 1 2 0 2 0 4 0 2 1 5 0 5 0 2 0 9 2 2 0 2 1 2 2 4 1 7 0 4 1 6 5 3 1 3 3 2 5 2 0 2 2 2 0 2 8 2 9 2 0 3 1 2 3 4 1 4 0 2 9 2 2 2 0 2 4 3 0 4 1 2 0 2 3 2 0 2 7 2 1 2 0 3 0 2 1 3 0 2 0 4 3 2 0 3 0 5 1 3 1 2 0 2 1 5 2 3 1 2 1 3 3 6 0 5 0 6 0 10 1 5 0 5 0 4 0 4 0 2 0 3 0 8 0 5 0 2 1 2 0 10 0 7 0 3 0 11 0 2 0 3 0 6 0 7 1 7 1 5 0 2 0 4 1 2 1 2 0 2 0 9 0 26 1 9 0 2 0 16 0 5 0 9 0 2 0 4 0 2 0 10 0 2 0 11 1 3 0 6 0 5 0 7 0 2 0 5 0 5 0 14 1 12 0 10 0 2 1 4 0 9 0 3 0 2 0 5 0 7 1 9999"/><path d="M-489 692.23H433.01" stroke-dasharray="0 17 0 20 0 3 0 9 0 27 0 18 0 22 0 29 0 6 0 4 0 4 1 25 1 12 0 20 0 3 0 21 0 36 0 21 0 10 0 4 0 6 0 6 0 24 1 9 0 12 0 4 0 4 0 28 0 2 1 2 1 6 0 11 0 9 0 2 1 3 1 6 0 2 3 2 0 4 2 4 3 2 3 2 4 3 1 3 0 3 0 6 0 5 0 6 0 2 0 2 1 2 1 3 2 2 0 3 3 3 0 9 0 2 1 2 0 2 2 4 1 11 0 3 0 6 1 4 0 8 1 6 0 8 0 5 0 3 1 17 0 22 0 15 0 38 0 48 0 21 0 27 0 41 0 35 0 6 0 5 0 33 0 9999"/><path d="M-490 688.39H485.01" stroke-dasharray="0 3 0 18 0 3 0 3 0 3 0 6 0 3 0 3 0 3 0 9 0 3 0 3 0 3 0 3 0 3 0 6 0 3 0 3 0 3 0 6 0 3 0 3 0 6 0 3 0 3 0 3 0 9 0 6 0 3 0 3 0 6 0 3 0 12 0 3 0 3 0 9 0 6 0 3 0 3 0 9 0 6 0 3 0 3 0 3 0 3 0 3 0 3 0 3 0 3 0 3 0 3 0 3 0 3 0 3 0 3 0 3 0 6 0 3 0 12 0 6 0 12 0 3 0 3 0 3 0 3 0 3 0 18 0 3 0 3 0 3 0 6 0 3 0 3 0 3 0 3 0 3 0 6 0 6 0 9 0 9 0 3 0 6 0 3 0 3 0 3 0 3 0 3 0 6 0 3 0 3 0 6 0 3 0 3 0 3 0 3 0 9 0 6 0 3 0 3 0 3 0 3 0 3 0 3 0 3 0 3 0 3 0 3 0 3 0 3 0 3 0 3 0 3 0 3 0 3 0 3 0 3 0 3 0 3 0 3 0 3 0 3 0 3 0 6 0 3 0 3 0 3 0 3 0 6 0 3 0 3 0 3 0 3 0 3 0 3 0 9 0 3 0 6 0 3 0 6 0 3 0 9 0 6 0 3 0 3 0 3 0 3 0 3 0 9 0 3 0 3 0 6 0 6 0 3 0 3 0 6 0 3 0 6 0 3 0 3 0 9 0 3 0 6 0 9 0 3 0 6 0 3 0 6 0 9 0 3 0 3 0 6 0 3 0 6 0 6 0 6 0 6 0 12 0 3 0 3 0 3 0 6 0 6 0 15 0 3 0 3 0 3 0 3 0 3 0 3 0 9 0 3 0 6 0 3 0 6 0 6 0 6 0 9 0 6 0 6 0 3 0 3 0 3 0 3 0 3 0 6 0 12 0 6 0 9 0 3 0 3 0 6 0 3 0 6 0 3 0 9 0 3 0 9999"/><path d="M-489 688.39H486.01" stroke-dasharray="0 3 0 6 0 3 0 3 0 6 0 6 0 9 0 3 0 3 0 6 0 3 0 24 0 3 0 3 0 3 0 3 0 3 0 6 0 3 0 6 0 9 0 3 0 3 0 3 0 6 0 12 0 3 0 3 0 6 0 6 0 12 0 3 0 15 0 9 0 3 0 3 0 3 0 6 0 3 0 6 0 6 0 3 0 3 0 6 0 6 0 12 0 3 0 6 0 9 0 3 0 3 0 9 0 6 0 6 0 3 0 3 0 3 0 12 0 3 0 3 0 6 0 3 0 3 0 15 0 3 0 3 0 3 0 3 0 3 0 3 0 3 0 3 0 3 0 3 0 3 0 3 0 3 0 3 0 3 0 3 0 3 0 6 0 3 0 3 0 3 0 3 0 6 0 9 0 3 0 3 0 6 0 3 0 3 0 3 0 3 0 3 0 6 0 3 0 3 0 3 0 3 0 3 0 3 0 3 0 3 0 3 0 6 0 3 0 3 0 3 0 3 0 3 0 6 0 3 0 3 0 3 0 3 0 3 0 3 0 6 0 3 0 3 0 3 0 3 0 3 0 3 0 3 0 3 0 3 0 3 0 3 0 3 0 3 0 3 0 6 0 6 0 3 0 3 0 6 0 9 0 6 0 3 0 3 0 3 0 3 0 6 0 3 0 3 0 3 0 3 0 3 0 6 0 3 0 3 0 3 0 9 0 15 0 3 0 3 0 6 0 3 0 6 0 6 0 3 0 3 0 9 0 3 0 3 0 6 0 6 0 24 0 3 0 6 0 6 0 12 0 3 0 3 0 9 0 3 0 3 0 3 0 3 0 3 0 3 0 9 0 6 0 6 0 12 0 6 0 6 0 3 0 3 0 3 0 3 0 3 0 3 0 9 0 3 0 6 0 6 0 3 0 3 0 3 0 3 0 3 0 3 0 3 0 6 0 3 0 3 0 3 0 3 0 9999"/><path d="M-488 688.39H490.01" stroke-dasharray="0 6 0 12 0 12 0 3 0 6 0 3 0 6 0 3 0 3 0 6 0 3 0 9 0 6 0 6 0 3 0 6 0 6 0 12 0 3 0 3 0 6 0 6 0 3 0 12 0 6 0 3 0 6 0 3 0 15 0 3 0 6 0 9 0 3 0 3 0 3 0 12 0 3 0 3 0 3 0 3 0 6 0 9 0 3 0 15 0 3 0 6 0 6 0 6 0 3 0 3 0 6 0 12 0 3 0 3 0 3 0 6 0 6 0 3 0 6 0 6 0 3 0 3 0 6 0 6 0 6 0 3 0 3 0 3 0 6 0 3 0 6 0 3 0 3 0 3 0 3 0 3 0 3 0 6 0 3 0 6 0 3 0 3 0 3 0 3 0 6 0 3 0 6 0 3 0 3 0 3 0 3 0 3 0 3 0 3 0 3 0 3 0 3 0 3 0 6 0 3 0 3 0 3 0 3 0 6 0 3 0 3 0 3 0 3 0 3 0 6 0 3 0 3 0 3 0 3 0 3 0 3 0 3 0 6 0 3 0 3 0 6 0 3 0 3 0 9 0 3 0 3 0 3 0 3 0 3 0 6 0 6 0 3 0 3 0 6 0 3 0 3 0 6 0 3 0 3 0 3 0 3 0 6 0 3 0 3 0 6 0 15 0 3 0 9 0 3 0 3 0 15 0 3 0 3 0 9 0 3 0 6 0 3 0 3 0 3 0 3 0 3 0 3 0 15 0 6 0 6 0 3 0 3 0 3 0 3 0 9 0 3 0 6 0 3 0 3 0 3 0 3 0 6 0 9 0 3 0 9 0 3 0 3 0 6 0 3 0 6 0 3 0 6 0 6 0 3 0 6 0 6 0 3 0 3 0 6 0 6 0 3 0 3 0 9 0 3 0 3 0 3 0 18 0 3 0 3 0 3 0 9 0 9999"/><path d="M-489 688.39H482.01" stroke-dasharray="0 7 0 5 0 3 0 4 2 2 0 12 0 6 3 4 0 4 0 3 1 8 0 9 2 3 1 5 0 10 2 5 0 6 0 3 0 2 0 11 0 7 1 2 0 14 0 4 2 7 0 3 0 4 0 7 0 2 0 5 0 6 1 6 0 2 0 3 0 2 0 6 0 2 0 7 1 7 0 2 0 2 0 6 1 4 0 6 2 15 0 3 1 10 0 2 1 3 0 4 0 9 0 2 0 6 0 4 0 2 1 4 0 3 0 5 0 2 0 2 1 4 0 7 0 3 0 5 0 3 0 4 0 14 0 3 0 2 4 10 1 3 7 4 0 2 0 4 2 7 4 2 1 2 2 3 0 2 1 7 7 4 9 2 0 2 1 3 2 2 3 2 3 2 4 2 7 2 6 3 1 2 1 2 2 2 1 2 5 3 2 2 0 3 0 3 1 5 5 2 1 3 3 2 0 2 1 2 0 2 0 3 1 13 1 3 0 2 0 3 0 3 1 6 0 3 1 6 1 3 0 17 1 2 3 3 1 3 0 4 1 4 0 2 0 2 0 4 2 3 0 3 1 3 0 3 0 3 2 6 1 4 0 7 0 10 1 6 0 9 0 10 1 2 0 6 0 2 0 2 2 2 0 4 0 6 1 20 0 4 0 2 1 10 0 2 0 7 0 3 1 2 1 3 0 2 0 4 0 13 0 2 0 8 1 2 0 3 1 8 0 4 0 20 0 4 0 2 2 4 0 2 0 2 1 7 0 11 1 4 1 8 0 2 2 2 0 13 0 2 0 3 0 2 0 5 0 2 0 9999"/><path d="M-477 688.39H473.01" stroke-dasharray="0 29 0 14 0 40 0 6 0 9 0 41 0 2 0 14 0 7 0 20 0 2 0 20 0 8 0 10 1 43 0 19 0 10 0 17 0 14 0 3 0 26 0 5 1 3 0 10 1 3 1 3 0 3 0 11 0 9 0 5 0 4 0 7 0 7 0 2 3 9 0 2 0 2 2 9 1 2 2 3 3 3 0 2 1 2 2 2 1 8 2 6 1 3 0 3 1 5 1 4 0 4 0 3 0 3 1 5 2 2 0 3 1 5 0 3 0 2 1 21 1 12 0 16 0 31 0 7 0 5 0 9 0 18 0 8 0 11 0 17 0 9 0 11 0 12 2 6 0 6 0 28 0 12 0 7 0 6 0 6 0 4 0 30 0 8 0 4 0 24 0 20 0 11 0 5 0 33 0 9999"/><path d="M-490 684.54H488.01" stroke-dasharray="0 15 0 3 0 3 0 3 0 6 0 3 0 3 0 3 0 3 0 9 0 6 0 3 0 3 0 3 0 3 0 3 0 6 0 6 0 15 0 9 0 3 0 3 0 9 0 3 0 9 0 3 0 6 0 18 0 6 0 3 0 3 0 6 0 9 0 3 0 6 0 6 0 6 0 3 0 6 0 6 0 3 0 3 0 3 0 3 0 6 0 3 0 3 0 6 0 15 0 6 0 3 0 3 0 6 0 3 0 3 0 6 0 6 0 3 0 3 0 9 0 3 0 3 0 3 0 6 0 3 0 3 0 9 0 3 0 6 0 3 0 3 0 3 0 3 0 3 0 6 0 3 0 3 0 3 0 3 0 3 0 3 0 3 0 3 0 3 0 6 0 3 0 3 0 3 0 6 0 3 0 3 0 6 0 3 0 3 0 3 0 3 0 3 0 3 0 3 0 3 0 3 0 3 0 3 0 3 0 3 0 3 0 3 0 3 0 3 0 3 0 3 0 3 0 3 0 3 0 3 0 3 0 3 0 3 0 3 0 6 0 3 0 3 0 3 0 3 0 6 0 3 0 3 0 6 0 3 0 3 0 3 0 3 0 3 0 3 0 3 0 6 0 3 0 3 0 3 0 3 0 3 0 3 0 3 0 3 0 6 0 3 0 3 0 3 0 6 0 3 0 3 0 3 0 6 0 3 0 3 0 3 0 12 0 9 0 6 0 3 0 9 0 3 0 12 0 6 0 3 0 3 0 12 0 9 0 3 0 3 0 12 0 6 0 3 0 3 0 9 0 6 0 3 0 3 0 3 0 6 0 3 0 3 0 12 0 9 0 9 0 6 0 3 0 6 0 9 0 12 0 3 0 6 0 6 0 9 0 9 0 6 0 3 0 3 0 3 0 6 0 3 0 3 0 3 0 6 0 3 0 3 0 3 0 6 0 6 0 3 0 9 0 3 0 9999"/><path d="M-483 684.54H483.01" stroke-dasharray="0 9 0 3 0 3 0 9 0 9 0 3 0 3 0 6 0 6 0 3 0 3 0 3 0 3 0 3 0 3 0 12 0 6 0 12 0 3 0 3 0 6 0 6 0 9 0 3 0 6 0 9 0 18 0 3 0 3 0 3 0 3 0 6 0 3 0 6 0 3 0 6 0 6 0 3 0 6 0 6 0 3 0 9 0 9 0 3 0 6 0 3 0 6 0 3 0 3 0 6 0 6 0 3 0 3 0 9 0 3 0 18 0 6 0 3 0 3 0 9 0 6 0 9 0 6 0 6 0 3 0 3 0 3 0 3 0 3 0 3 0 6 0 3 0 3 0 3 0 3 0 3 0 3 0 6 0 3 0 3 0 3 0 3 0 3 0 6 0 3 0 3 0 3 0 3 0 3 0 3 0 3 0 3 0 3 0 3 0 3 0 3 0 3 0 3 0 3 0 3 0 3 0 3 0 3 0 3 0 3 0 3 0 3 0 3 0 3 0 3 0 3 0 3 0 3 0 3 0 3 0 3 0 3 0 3 0 3 0 6 0 3 0 3 0 9 0 3 0 3 0 3 0 6 0 3 0 3 0 3 0 3 0 3 0 3 0 9 0 3 0 3 0 3 0 3 0 6 0 3 0 3 0 3 0 3 0 3 0 3 0 3 0 3 0 6 0 3 0 9 0 3 0 6 0 15 0 3 0 3 0 3 0 12 0 3 0 3 0 3 0 3 0 3 0 3 0 9 0 6 0 3 0 3 0 3 0 6 0 6 0 6 0 3 0 3 0 3 0 15 0 3 0 3 0 3 0 6 0 3 0 9 0 3 0 3 0 9 0 3 0 3 0 6 0 12 0 3 0 3 0 3 0 6 0 6 0 3 0 3 0 3 0 3 0 3 0 3 0 3 0 6 0 3 0 6 0 6 0 9 0 3 0 3 0 3 0 3 0 6 0 9 0 6 0 6 0 3 0 9999"/><path d="M-488 684.54H487.01" stroke-dasharray="0 12 0 3 0 3 0 6 0 3 0 3 0 3 0 6 0 6 0 3 0 3 0 3 0 3 0 3 0 3 0 6 0 12 0 3 0 3 0 3 0 3 0 12 0 3 0 6 0 3 0 9 0 3 0 6 0 3 0 6 0 9 0 3 0 3 0 3 0 3 0 3 0 3 0 6 0 9 0 9 0 3 0 3 0 6 0 6 0 3 0 6 0 3 0 6 0 9 0 6 0 3 0 3 0 6 0 3 0 9 0 6 0 3 0 3 0 3 0 6 0 3 0 3 0 6 0 6 0 6 0 9 0 3 0 6 0 6 0 3 0 6 0 9 0 3 0 9 0 3 0 3 0 6 0 3 0 3 0 6 0 3 0 6 0 3 0 3 0 3 0 3 0 3 0 3 0 3 0 3 0 3 0 3 0 3 0 3 0 3 0 6 0 3 0 3 0 3 0 3 0 6 0 3 0 3 0 3 0 3 0 3 0 3 0 3 0 3 0 3 0 3 0 3 0 3 0 3 0 3 0 3 0 3 0 3 0 3 0 3 0 3 0 6 0 3 0 3 0 3 0 3 0 3 0 6 0 3 0 3 0 6 0 3 0 3 0 6 0 3 0 3 0 6 0 6 0 6 0 3 0 3 0 3 0 3 0 3 0 6 0 3 0 3 0 9 0 9 0 3 0 3 0 6 0 3 0 3 0 3 0 12 0 3 0 3 0 3 0 3 0 3 0 6 0 9 0 3 0 3 0 6 0 3 0 3 0 3 0 3 0 3 0 6 0 3 0 3 0 3 0 3 0 9 0 3 0 3 0 3 0 3 0 3 0 30 0 9 0 3 0 6 0 3 0 12 0 3 0 3 0 6 0 3 0 3 0 3 0 6 0 3 0 18 0 3 0 3 0 6 0 3 0 3 0 3 0 6 0 6 0 3 0 3 0 3 0 3 0 6 0 9 0 3 0 12 0 9 0 3 0 9999"/><path d="M-488 684.54H487.01" stroke-dasharray="0 12 0 2 1 7 0 6 0 6 0 5 0 2 0 4 0 9 0 8 1 5 1 2 0 3 0 16 0 7 0 9 2 8 1 16 2 5 0 13 0 3 0 4 0 7 2 2 0 8 0 7 1 7 0 2 1 4 2 6 0 2 0 2 0 5 0 5 0 3 0 3 0 2 0 4 1 11 1 4 2 3 1 3 0 7 0 7 0 4 1 2 0 4 0 10 2 9 0 2 1 15 3 5 0 7 0 2 0 2 0 4 1 4 0 4 0 2 0 5 0 3 0 5 0 3 0 4 2 3 0 3 1 4 0 4 2 5 4 6 0 2 3 3 2 2 0 2 2 5 1 2 0 2 4 2 1 2 1 2 1 2 4 2 0 3 0 2 0 2 2 4 2 2 0 2 1 2 0 2 3 2 1 2 6 2 0 2 2 3 6 3 1 2 3 2 1 4 2 2 0 3 2 2 0 3 2 2 1 2 0 5 0 3 0 2 0 4 0 4 0 2 0 4 1 2 0 2 0 2 0 3 0 4 0 13 0 3 0 2 2 3 4 4 1 2 1 3 3 2 0 4 0 2 1 6 2 2 0 2 1 2 0 9 0 3 0 6 0 2 0 5 0 4 0 4 0 6 0 3 0 11 0 2 0 3 1 2 2 3 0 4 0 3 0 9 0 6 1 2 2 7 0 2 0 6 1 5 0 2 2 13 0 6 0 4 0 5 0 8 0 2 0 7 1 11 0 7 0 5 1 2 2 7 0 5 0 9 0 12 0 2 0 4 0 4 0 6 0 9 0 2 0 3 0 2 0 6 0 5 0 4 0 5 0 10 1 6 2 2 0 5 0 8 0 8 0 3 0 9999"/><path d="M-488 684.54H463.01" stroke-dasharray="0 14 0 8 0 17 0 23 0 12 0 32 1 10 0 18 0 51 0 17 0 32 0 12 0 7 0 42 0 11 0 3 0 15 1 14 0 9 0 8 0 7 0 15 1 7 0 9 1 7 1 10 2 5 0 12 0 5 1 2 1 2 0 4 0 3 0 2 1 3 0 9 2 5 1 4 1 5 2 3 0 4 0 3 1 2 0 2 0 5 0 3 2 9 0 3 1 4 0 4 0 3 0 2 0 2 0 4 1 5 0 5 0 3 0 6 0 6 0 5 0 2 0 7 0 17 0 5 0 2 0 6 1 4 0 16 0 3 0 15 0 9 0 11 0 5 0 14 0 20 0 29 0 5 0 15 0 10 0 13 0 15 0 8 0 21 0 13 0 2 2 7 0 28 0 8 0 37 0 24 0 2 0 9999"/><path d="M-490 680.69H488.01" stroke-dasharray="0 3 0 3 0 6 0 6 0 15 0 3 0 9 0 3 0 6 0 12 0 3 0 3 0 3 0 3 0 15 0 9 0 6 0 3 0 6 0 3 0 6 0 3 0 3 0 9 0 3 0 3 0 6 0 9 0 6 0 9 0 3 0 3 0 6 0 3 0 6 0 3 0 3 0 6 0 6 0 3 0 6 0 3 0 3 0 3 0 3 0 9 0 3 0 3 0 3 0 6 0 6 0 3 0 3 0 9 0 9 0 15 0 9 0 6 0 3 0 3 0 3 0 6 0 6 0 3 0 6 0 3 0 3 0 9 0 3 0 3 0 3 0 3 0 3 0 3 0 6 0 6 0 3 0 3 0 3 0 6 0 3 0 3 0 3 0 3 0 3 0 9 0 3 0 3 0 3 0 3 0 3 0 3 0 3 0 9 0 3 0 3 0 3 0 3 0 3 0 3 0 3 0 3 0 3 0 3 0 3 0 3 0 3 0 3 0 3 0 3 0 3 0 3 0 3 0 3 0 6 0 3 0 3 0 6 0 3 0 3 0 3 0 6 0 3 0 6 0 3 0 3 0 3 0 6 0 3 0 3 0 3 0 3 0 9 0 3 0 3 0 3 0 3 0 6 0 3 0 3 0 3 0 9 0 3 0 6 0 12 0 9 0 3 0 6 0 3 0 3 0 12 0 3 0 6 0 3 0 6 0 3 0 9 0 3 0 3 0 3 0 12 0 3 0 6 0 3 0 3 0 6 0 6 0 6 0 3 0 3 0 6 0 6 0 6 0 3 0 3 0 3 0 3 0 3 0 9 0 3 0 3 0 3 0 6 0 6 0 15 0 3 0 18 0 6 0 3 0 12 0 3 0 6 0 3 0 3 0 6 0 3 0 6 0 3 0 3 0 3 0 6 0 3 0 3 0 12 0 3 0 3 0 3 0 9999"/><path d="M-489 680.69H480.01" stroke-dasharray="0 3 0 3 0 3 0 6 0 6 0 3 0 3 0 6 0 3 0 3 0 3 0 3 0 9 0 12 0 6 0 9 0 3 0 12 0 3 0 3 0 3 0 6 0 3 0 6 0 3 0 12 0 3 0 6 0 6 0 3 0 3 0 6 0 6 0 6 0 6 0 12 0 6 0 3 0 3 0 3 0 6 0 12 0 6 0 3 0 3 0 3 0 3 0 15 0 12 0 3 0 3 0 3 0 3 0 6 0 15 0 3 0 6 0 9 0 3 0 3 0 3 0 6 0 3 0 3 0 21 0 3 0 3 0 3 0 6 0 9 0 9 0 3 0 3 0 3 0 3 0 3 0 3 0 3 0 9 0 3 0 3 0 3 0 3 0 3 0 3 0 3 0 3 0 3 0 3 0 3 0 3 0 3 0 3 0 3 0 6 0 3 0 3 0 3 0 3 0 3 0 3 0 6 0 3 0 3 0 3 0 3 0 3 0 3 0 6 0 3 0 3 0 3 0 3 0 6 0 6 0 3 0 3 0 3 0 3 0 3 0 3 0 3 0 3 0 3 0 3 0 15 0 9 0 3 0 3 0 3 0 3 0 3 0 3 0 3 0 3 0 9 0 3 0 6 0 3 0 3 0 6 0 6 0 9 0 3 0 3 0 3 0 3 0 3 0 3 0 3 0 3 0 3 0 3 0 3 0 3 0 9 0 3 0 3 0 3 0 3 0 6 0 6 0 3 0 6 0 3 0 9 0 3 0 3 0 3 0 6 0 9 0 3 0 6 0 9 0 3 0 3 0 3 0 3 0 6 0 6 0 3 0 3 0 3 0 3 0 3 0 12 0 6 0 3 0 12 0 3 0 9 0 9 0 6 0 6 0 6 0 6 0 6 0 6 0 3 0 3 0 3 0 3 0 3 0 3 0 3 0 3 0 3 0 3 0 6 0 9999"/><path d="M-485 680.69H481.01" stroke-dasharray="0 3 0 3 0 12 0 18 0 9 0 3 0 3 0 3 0 9 0 3 0 3 0 3 0 6 0 3 0 3 0 9 0 12 0 9 0 9 0 3 0 3 0 9 0 6 0 6 0 3 0 6 0 3 0 3 0 6 0 3 0 3 0 3 0 3 0 6 0 12 0 3 0 3 0 9 0 3 0 3 0 3 0 3 0 3 0 3 0 3 0 15 0 9 0 9 0 6 0 3 0 6 0 3 0 6 0 3 0 3 0 3 0 3 0 6 0 9 0 6 0 3 0 6 0 6 0 6 0 6 0 3 0 3 0 3 0 6 0 6 0 6 0 3 0 3 0 6 0 3 0 3 0 3 0 6 0 3 0 6 0 3 0 3 0 6 0 3 0 9 0 3 0 3 0 3 0 6 0 3 0 3 0 3 0 3 0 3 0 3 0 3 0 3 0 3 0 3 0 3 0 6 0 3 0 3 0 3 0 3 0 3 0 3 0 3 0 3 0 3 0 6 0 9 0 6 0 3 0 3 0 3 0 3 0 6 0 6 0 6 0 3 0 9 0 3 0 3 0 3 0 3 0 6 0 3 0 3 0 3 0 3 0 9 0 3 0 3 0 3 0 3 0 3 0 3 0 3 0 3 0 3 0 9 0 6 0 6 0 6 0 9 0 6 0 3 0 3 0 3 0 3 0 3 0 6 0 3 0 3 0 6 0 6 0 6 0 3 0 3 0 3 0 6 0 3 0 3 0 3 0 3 0 12 0 6 0 3 0 3 0 3 0 3 0 3 0 12 0 3 0 9 0 3 0 6 0 3 0 3 0 3 0 15 0 3 0 3 0 9 0 3 0 3 0 9 0 3 0 3 0 6 0 3 0 6 0 3 0 6 0 6 0 6 0 6 0 6 0 3 0 9 0 9 0 6 0 9999"/><path d="M-490 680.69H475.01" stroke-dasharray="1 3 2 5 0 5 0 6 0 24 0 2 0 2 0 3 1 18 0 2 1 8 0 3 0 11 0 11 0 2 0 5 0 2 0 4 0 7 0 11 0 4 1 3 0 4 0 7 0 6 0 4 0 8 0 3 0 2 0 2 0 6 0 12 0 3 0 5 1 4 0 7 0 9 0 2 0 2 0 4 1 16 0 15 1 2 2 18 0 18 0 2 0 2 0 7 0 2 1 2 0 15 1 4 0 4 0 6 0 5 0 2 0 2 4 2 0 6 1 5 0 4 2 2 0 6 0 3 1 2 2 3 0 2 1 3 0 2 0 3 0 2 1 2 1 2 0 2 0 3 1 2 2 3 1 2 2 2 1 2 1 3 2 3 1 3 7 2 1 3 10 2 1 2 2 2 0 2 0 3 4 2 6 2 1 5 1 3 0 2 0 2 0 3 3 3 0 4 2 5 5 2 0 2 2 5 0 5 4 3 0 8 0 3 0 2 0 3 2 12 0 2 2 2 0 3 0 3 1 5 0 2 1 2 0 8 3 5 0 2 0 5 0 5 0 19 0 4 0 13 0 2 0 3 0 7 0 11 0 4 1 2 2 3 1 5 0 8 0 2 0 4 0 2 0 3 0 8 1 4 0 2 0 3 0 10 0 5 0 5 0 4 1 3 0 5 0 6 0 5 0 3 0 8 0 2 0 7 0 5 0 4 0 18 0 14 0 8 0 11 0 15 0 3 0 2 0 2 0 3 0 16 0 2 0 8 0 4 0 3 0 2 2 7 0 9999"/><path d="M-468 680.69H468.01" stroke-dasharray="0 24 0 64 0 34 0 7 0 25 0 5 0 20 0 3 0 5 0 23 0 7 0 16 0 15 0 4 1 18 0 20 0 12 0 17 0 5 0 17 0 5 0 9 0 6 0 5 0 3 0 10 0 3 0 7 0 3 0 5 0 3 0 3 0 2 0 2 0 6 2 4 0 3 0 4 0 2 0 5 1 3 1 4 2 2 1 3 0 4 0 2 3 3 1 4 0 2 0 2 0 2 0 2 0 3 2 2 0 2 0 3 2 4 0 6 0 5 0 6 2 3 0 4 1 6 2 3 0 2 0 2 2 12 2 3 0 11 0 2 0 4 0 13 0 3 0 9 1 7 0 12 0 38 0 4 0 36 0 18 0 28 0 4 0 30 0 3 0 16 0 3 0 10 0 34 0 14 0 62 0 12 0 3 0 2 0 2 0 9999"/><path d="M-490 676.85H473.01" stroke-dasharray="0 6 0 3 0 3 0 9 0 6 0 3 0 3 0 6 0 3 0 6 0 9 0 9 0 3 0 3 0 3 0 3 0 3 0 3 0 9 0 6 0 6 0 9 0 3 0 9 0 12 0 3 0 6 0 3 0 3 0 3 0 3 0 3 0 6 0 3 0 3 0 9 0 9 0 6 0 9 0 3 0 3 0 6 0 3 0 3 0 3 0 3 0 6 0 12 0 3 0 3 0 3 0 3 0 6 0 3 0 6 0 3 0 6 0 3 0 3 0 3 0 6 0 6 0 6 0 3 0 3 0 3 0 6 0 3 0 3 0 3 0 9 0 15 0 3 0 3 0 6 0 9 0 6 0 3 0 3 0 3 0 3 0 3 0 9 0 3 0 3 0 6 0 3 0 6 0 6 0 3 0 3 0 6 0 3 0 3 0 3 0 6 0 3 0 3 0 3 0 3 0 3 0 3 0 3 0 3 0 3 0 3 0 3 0 3 0 3 0 3 0 3 0 3 0 3 0 3 0 6 0 3 0 3 0 3 0 3 0 3 0 3 0 3 0 3 0 6 0 3 0 3 0 3 0 3 0 3 0 3 0 3 0 3 0 3 0 3 0 3 0 3 0 3 0 3 0 6 0 9 0 3 0 3 0 3 0 3 0 3 0 3 0 3 0 3 0 6 0 3 0 3 0 6 0 3 0 3 0 3 0 3 0 3 0 3 0 3 0 9 0 6 0 3 0 3 0 3 0 6 0 9 0 9 0 6 0 6 0 3 0 3 0 3 0 6 0 3 0 9 0 3 0 3 0 3 0 12 0 3 0 6 0 6 0 6 0 3 0 3 0 3 0 9 0 3 0 3 0 3 0 3 0 6 0 3 0 3 0 3 0 3 0 3 0 3 0 6 0 3 0 3 0 9 0 6 0 6 0 3 0 9 0 6 0 9 0 3 0 3 0 3 0 3 0 3 0 6 0 6 0 6 0 3 0 3 0 6 0 9999"/><path d="M-486 676.85H489.01" stroke-dasharray="0 9 0 3 0 3 0 3 0 3 0 3 0 3 0 3 0 3 0 3 0 3 0 3 0 6 0 12 0 3 0 12 0 12 0 6 0 3 0 3 0 6 0 3 0 6 0 3 0 3 0 6 0 3 0 3 0 3 0 6 0 6 0 3 0 3 0 3 0 6 0 3 0 3 0 3 0 3 0 3 0 3 0 3 0 6 0 3 0 3 0 3 0 3 0 3 0 3 0 3 0 9 0 12 0 3 0 6 0 3 0 3 0 6 0 3 0 6 0 9 0 6 0 6 0 6 0 3 0 6 0 3 0 3 0 3 0 3 0 6 0 6 0 6 0 3 0 6 0 9 0 3 0 3 0 3 0 3 0 3 0 6 0 3 0 3 0 3 0 3 0 3 0 3 0 3 0 6 0 3 0 3 0 3 0 3 0 3 0 3 0 3 0 3 0 3 0 9 0 3 0 3 0 6 0 3 0 3 0 3 0 3 0 3 0 3 0 3 0 3 0 3 0 3 0 3 0 3 0 3 0 3 0 3 0 3 0 3 0 3 0 3 0 3 0 3 0 3 0 3 0 3 0 3 0 3 0 3 0 3 0 6 0 3 0 9 0 3 0 3 0 3 0 9 0 3 0 3 0 3 0 3 0 3 0 3 0 3 0 3 0 3 0 3 0 6 0 3 0 3 0 3 0 3 0 3 0 3 0 3 0 15 0 6 0 9 0 3 0 3 0 3 0 3 0 3 0 3 0 3 0 6 0 3 0 6 0 12 0 9 0 3 0 12 0 3 0 3 0 3 0 6 0 3 0 3 0 6 0 6 0 3 0 6 0 3 0 3 0 3 0 6 0 3 0 3 0 6 0 6 0 6 0 3 0 3 0 15 0 3 0 3 0 6 0 6 0 3 0 12 0 12 0 6 0 12 0 3 0 9 0 3 0 6 0 6 0 3 0 9 0 9 0 6 0 6 0 18 0 9 0 3 0 9999"/><path d="M-488 676.85H490.01" stroke-dasharray="0 3 0 12 0 3 0 3 0 3 0 12 0 6 0 6 0 3 0 3 0 9 0 3 0 9 0 6 0 3 0 3 0 12 0 3 0 6 0 3 0 6 0 3 0 9 0 6 0 3 0 9 0 3 0 9 0 3 0 3 0 12 0 3 0 3 0 3 0 21 0 3 0 3 0 9 0 3 0 9 0 6 0 3 0 6 0 3 0 3 0 3 0 9 0 3 0 3 0 6 0 3 0 6 0 12 0 3 0 6 0 3 0 3 0 6 0 3 0 3 0 3 0 3 0 6 0 3 0 3 0 3 0 3 0 6 0 3 0 3 0 3 0 3 0 3 0 3 0 3 0 3 0 6 0 6 0 3 0 3 0 3 0 3 0 3 0 3 0 3 0 3 0 6 0 3 0 3 0 3 0 6 0 3 0 3 0 6 0 3 0 3 0 3 0 3 0 3 0 3 0 9 0 3 0 3 0 3 0 6 0 3 0 3 0 3 0 3 0 3 0 3 0 6 0 3 0 6 0 6 0 3 0 6 0 3 0 3 0 3 0 3 0 6 0 3 0 3 0 3 0 3 0 6 0 3 0 3 0 6 0 3 0 3 0 3 0 3 0 9 0 3 0 9 0 9 0 3 0 3 0 12 0 3 0 3 0 6 0 3 0 9 0 9 0 3 0 3 0 3 0 12 0 3 0 6 0 3 0 12 0 3 0 6 0 3 0 3 0 6 0 6 0 3 0 3 0 3 0 6 0 6 0 9 0 6 0 3 0 3 0 9 0 3 0 3 0 6 0 3 0 3 0 12 0 3 0 3 0 3 0 3 0 3 0 3 0 3 0 12 0 9 0 3 0 3 0 3 0 6 0 3 0 3 0 3 0 6 0 3 0 3 0 6 0 3 0 3 0 6 0 15 0 3 0 6 0 3 0 18 0 3 0 9999"/><path d="M-484 676.85H490.01" stroke-dasharray="0 13 2 12 1 3 1 4 1 3 0 11 0 10 0 10 2 2 0 18 0 4 0 9 0 6 1 5 0 6 0 11 0 6 0 2 0 2 1 4 0 3 1 2 0 2 0 2 0 5 1 2 1 8 2 2 1 4 0 6 0 4 0 3 0 3 2 4 1 7 1 8 0 5 0 13 0 8 0 12 1 2 0 3 0 4 0 2 0 10 0 3 1 12 0 4 0 14 0 7 1 7 0 4 0 3 0 16 2 3 0 6 0 2 0 3 1 2 0 6 0 3 0 4 0 2 1 3 1 2 0 2 1 2 0 3 0 2 1 2 2 7 0 5 0 3 0 2 0 2 0 2 1 3 0 2 0 2 0 2 0 4 2 2 3 3 0 2 1 2 0 6 0 2 0 2 1 2 0 2 2 2 1 3 5 2 5 2 4 2 0 4 0 2 3 4 2 7 2 2 0 2 0 2 1 3 0 4 1 3 0 2 0 2 0 2 1 2 1 2 0 2 1 7 0 2 0 2 0 2 1 2 1 4 0 2 1 2 0 2 0 6 0 7 1 2 1 4 0 3 1 8 0 2 0 5 0 6 0 2 0 3 0 4 0 2 0 3 1 2 1 2 0 2 0 5 0 5 0 9 0 6 0 33 0 5 0 2 0 11 0 2 0 12 0 3 0 2 0 4 1 4 0 3 0 4 0 7 0 2 0 6 0 2 1 4 0 12 1 10 0 5 0 3 0 3 0 6 1 13 0 2 0 5 0 10 0 9 0 3 0 13 0 2 0 7 0 6 0 5 0 2 0 2 2 8 0 2 0 3 0 24 0 2 0 18 0 3 0 9999"/><path d="M-448 676.85H490.01" stroke-dasharray="0 15 0 62 0 11 0 11 0 6 0 12 0 7 0 5 0 38 0 6 0 96 0 29 0 4 0 30 0 2 0 3 0 12 0 6 0 9 1 7 0 4 1 15 0 2 0 5 0 3 0 4 0 2 0 4 0 2 0 2 1 5 0 3 0 2 0 6 0 2 0 2 0 3 0 2 0 8 2 5 5 2 1 3 0 8 0 16 1 3 0 5 0 3 0 8 0 2 0 7 1 12 0 4 0 3 0 7 0 2 0 5 0 6 0 8 0 21 0 11 0 9 0 6 0 2 1 67 0 15 0 21 0 5 0 22 0 30 0 17 1 15 0 49 0 6 0 5 0 2 0 17 0 44 0 3 0 9999"/><path d="M-490 673H488.01" stroke-dasharray="0 3 0 12 0 6 0 3 0 3 0 12 0 15 0 3 0 3 0 3 0 6 0 3 0 3 0 3 0 9 0 3 0 3 0 6 0 3 0 3 0 3 0 3 0 6 0 9 0 9 0 3 0 15 0 3 0 3 0 3 0 3 0 3 0 3 0 9 0 3 0 6 0 3 0 3 0 6 0 3 0 6 0 3 0 3 0 21 0 3 0 3 0 3 0 3 0 3 0 3 0 3 0 3 0 3 0 3 0 3 0 3 0 6 0 6 0 3 0 6 0 3 0 3 0 9 0 6 0 3 0 3 0 3 0 6 0 3 0 9 0 3 0 9 0 3 0 9 0 3 0 3 0 3 0 3 0 3 0 3 0 6 0 3 0 3 0 6 0 6 0 6 0 3 0 6 0 3 0 6 0 3 0 3 0 3 0 3 0 3 0 3 0 3 0 3 0 3 0 6 0 3 0 3 0 3 0 3 0 3 0 3 0 3 0 3 0 3 0 3 0 3 0 3 0 3 0 3 0 3 0 3 0 3 0 3 0 3 0 3 0 6 0 3 0 6 0 3 0 3 0 3 0 3 0 3 0 3 0 6 0 3 0 6 0 3 0 3 0 3 0 3 0 6 0 3 0 6 0 3 0 3 0 3 0 3 0 3 0 9 0 3 0 3 0 3 0 3 0 6 0 3 0 3 0 15 0 6 0 12 0 3 0 9 0 3 0 9 0 3 0 6 0 3 0 6 0 3 0 9 0 6 0 3 0 3 0 3 0 3 0 6 0 3 0 9 0 3 0 9 0 3 0 3 0 3 0 6 0 3 0 6 0 15 0 3 0 3 0 6 0 6 0 3 0 3 0 6 0 6 0 3 0 3 0 3 0 3 0 3 0 6 0 6 0 6 0 3 0 3 0 9 0 3 0 3 0 3 0 3 0 3 0 9 0 3 0 3 0 9 0 3 0 12 0 3 0 3 0 3 0 9 0 9999"/><path d="M-489 673H489.01" stroke-dasharray="0 3 0 3 0 3 0 3 0 6 0 6 0 6 0 3 0 15 0 3 0 15 0 9 0 3 0 6 0 6 0 3 0 12 0 6 0 6 0 3 0 3 0 3 0 3 0 3 0 12 0 3 0 3 0 3 0 3 0 3 0 3 0 6 0 3 0 12 0 15 0 6 0 3 0 3 0 3 0 6 0 3 0 3 0 3 0 6 0 6 0 3 0 3 0 3 0 3 0 3 0 12 0 3 0 3 0 6 0 3 0 9 0 3 0 6 0 6 0 12 0 3 0 6 0 3 0 3 0 6 0 3 0 3 0 3 0 3 0 9 0 3 0 6 0 3 0 3 0 6 0 3 0 3 0 3 0 6 0 3 0 6 0 3 0 3 0 3 0 3 0 3 0 3 0 3 0 3 0 3 0 3 0 3 0 3 0 3 0 3 0 3 0 6 0 3 0 3 0 3 0 3 0 3 0 3 0 6 0 3 0 3 0 3 0 6 0 3 0 3 0 3 0 3 0 3 0 3 0 3 0 6 0 3 0 9 0 3 0 6 0 3 0 6 0 3 0 3 0 3 0 3 0 3 0 3 0 3 0 3 0 3 0 3 0 3 0 6 0 3 0 6 0 3 0 6 0 6 0 6 0 9 0 3 0 3 0 3 0 3 0 3 0 3 0 3 0 3 0 3 0 6 0 3 0 3 0 3 0 3 0 15 0 3 0 3 0 6 0 3 0 3 0 3 0 3 0 3 0 3 0 6 0 6 0 6 0 3 0 3 0 9 0 3 0 3 0 9 0 3 0 6 0 3 0 3 0 12 0 6 0 3 0 3 0 6 0 9 0 6 0 9 0 3 0 9 0 6 0 6 0 3 0 3 0 3 0 6 0 3 0 3 0 6 0 3 0 3 0 3 0 3 0 3 0 6 0 6 0 3 0 3 0 3 0 9 0 6 0 3 0 12 0 3 0 6 0 3 0 3 0 9 0 9999"/><path d="M-488 673H490.01" stroke-dasharray="0 6 0 3 0 6 0 3 0 3 0 3 0 3 0 3 0 3 0 3 0 3 0 3 0 6 0 3 0 3 0 6 0 3 0 9 0 3 0 9 0 6 0 6 0 6 0 18 0 6 0 6 0 3 0 3 0 6 0 6 0 3 0 3 0 3 0 3 0 3 0 9 0 3 0 3 0 6 0 3 0 9 0 6 0 3 0 3 0 3 0 6 0 3 0 3 0 6 0 3 0 3 0 3 0 3 0 3 0 6 0 3 0 3 0 6 0 3 0 3 0 3 0 3 0 9 0 3 0 3 0 3 0 3 0 3 0 3 0 6 0 6 0 6 0 3 0 3 0 3 0 3 0 3 0 9 0 3 0 3 0 3 0 3 0 3 0 3 0 3 0 3 0 3 0 3 0 3 0 6 0 3 0 6 0 6 0 3 0 3 0 3 0 3 0 6 0 3 0 3 0 6 0 3 0 3 0 3 0 6 0 3 0 3 0 3 0 3 0 3 0 3 0 3 0 3 0 3 0 3 0 3 0 3 0 3 0 3 0 3 0 3 0 3 0 3 0 3 0 3 0 3 0 3 0 3 0 3 0 3 0 3 0 3 0 3 0 3 0 3 0 3 0 3 0 6 0 3 0 3 0 3 0 3 0 6 0 3 0 6 0 3 0 3 0 3 0 15 0 3 0 3 0 3 0 3 0 3 0 6 0 3 0 3 0 3 0 3 0 3 0 3 0 3 0 6 0 9 0 6 0 6 0 3 0 3 0 6 0 3 0 3 0 6 0 3 0 18 0 6 0 6 0 6 0 6 0 3 0 3 0 3 0 3 0 3 0 9 0 3 0 15 0 3 0 6 0 3 0 9 0 3 0 3 0 3 0 9 0 3 0 3 0 12 0 3 0 3 0 3 0 6 0 9 0 6 0 3 0 6 0 12 0 3 0 3 0 3 0 3 0 21 0 3 0 9 0 6 0 3 0 3 0 9 0 3 0 6 0 6 0 6 0 3 0 3 0 9999"/><path d="M-487 673H490.01" stroke-dasharray="1 3 1 7 0 11 1 2 0 3 0 17 0 7 0 4 0 3 0 4 0 2 0 6 0 2 0 2 0 7 1 6 0 5 0 7 0 6 1 10 0 2 0 9 1 3 0 9 0 5 3 2 0 5 0 6 0 2 0 3 0 4 0 4 0 8 1 6 0 4 0 6 1 3 2 4 0 5 1 5 0 3 0 6 0 9 0 10 1 2 0 4 0 3 0 2 1 3 4 5 0 8 0 8 0 2 0 2 1 7 0 14 0 5 0 2 0 2 0 2 0 2 1 8 0 2 0 2 0 2 0 4 1 5 0 5 2 2 0 6 0 3 0 3 0 4 1 3 0 2 1 2 0 9 0 2 0 5 0 3 3 2 1 3 0 3 0 2 1 3 1 2 5 2 0 4 1 2 4 2 0 2 0 3 2 3 0 2 0 2 2 3 1 2 0 2 0 2 3 4 1 2 1 2 0 2 13 2 3 2 0 2 0 2 1 3 0 2 2 4 0 3 3 2 2 6 3 3 3 2 0 2 0 6 0 2 1 3 0 3 2 2 0 3 0 3 0 2 0 5 1 2 0 7 2 3 0 5 1 2 1 7 0 2 0 5 1 2 1 8 1 5 0 5 0 3 0 7 0 2 0 5 0 2 0 9 1 10 0 3 0 3 0 8 0 13 0 3 0 10 0 4 0 2 0 9 1 3 0 2 0 2 0 5 2 3 0 8 0 6 0 4 1 9 0 4 0 2 0 9 2 9 0 4 2 10 0 2 0 3 0 7 0 6 0 4 0 6 0 2 0 5 1 5 0 18 0 5 1 2 0 8 1 5 0 3 0 5 0 9 1 7 0 3 0 10 0 2 1 12 1 5 0 3 1 2 0 9999"/><path d="M-423 673H487.01" stroke-dasharray="0 31 0 14 0 21 0 18 1 15 0 38 0 15 0 34 1 16 0 8 0 8 0 12 0 29 0 7 0 14 0 5 0 5 0 5 1 19 0 4 0 2 1 2 0 9 0 2 0 9 0 4 1 3 0 9 1 2 0 4 1 6 1 5 0 3 0 5 1 6 0 15 0 2 0 7 1 4 1 2 1 2 1 2 4 2 2 5 0 2 1 3 0 3 1 7 2 4 1 8 1 3 3 2 0 2 0 6 0 9 0 4 0 8 0 38 0 8 1 9 0 13 0 9 0 7 0 9 0 38 0 13 0 19 0 14 0 14 0 31 0 15 0 28 0 18 0 40 0 5 0 18 0 10 0 10 0 2 0 19 0 3 0 9999"/><path d="M-490 669.15H488.01" stroke-dasharray="0 3 0 6 0 3 0 3 0 6 0 3 0 3 0 3 0 6 0 15 0 6 0 3 0 9 0 3 0 3 0 12 0 6 0 3 0 3 0 3 0 12 0 9 0 3 0 3 0 3 0 6 0 3 0 9 0 3 0 3 0 3 0 3 0 6 0 3 0 3 0 3 0 3 0 6 0 6 0 3 0 6 0 18 0 3 0 3 0 6 0 3 0 3 0 3 0 3 0 3 0 6 0 3 0 15 0 3 0 3 0 6 0 15 0 6 0 3 0 6 0 12 0 6 0 6 0 3 0 9 0 3 0 6 0 9 0 3 0 3 0 3 0 3 0 3 0 3 0 3 0 9 0 3 0 3 0 3 0 3 0 6 0 3 0 3 0 3 0 3 0 3 0 3 0 6 0 3 0 3 0 3 0 3 0 3 0 3 0 3 0 3 0 3 0 3 0 3 0 6 0 3 0 3 0 3 0 3 0 3 0 3 0 3 0 3 0 6 0 3 0 3 0 9 0 3 0 3 0 3 0 3 0 3 0 3 0 3 0 6 0 3 0 3 0 3 0 3 0 6 0 9 0 3 0 3 0 3 0 3 0 3 0 3 0 3 0 3 0 3 0 6 0 3 0 3 0 6 0 12 0 6 0 3 0 6 0 3 0 12 0 3 0 6 0 6 0 3 0 3 0 6 0 3 0 3 0 3 0 9 0 3 0 3 0 3 0 3 0 3 0 3 0 3 0 3 0 3 0 9 0 3 0 9 0 9 0 6 0 9 0 3 0 6 0 3 0 9 0 3 0 6 0 3 0 3 0 3 0 6 0 9 0 6 0 3 0 3 0 3 0 3 0 3 0 9 0 3 0 3 0 6 0 3 0 6 0 3 0 6 0 3 0 3 0 9 0 3 0 6 0 6 0 9 0 3 0 12 0 3 0 6 0 3 0 3 0 12 0 3 0 9999"/><path d="M-486 669.15H486.01" stroke-dasharray="0 6 0 3 0 6 0 12 0 3 0 3 0 3 0 6 0 3 0 3 0 3 0 9 0 3 0 6 0 3 0 6 0 9 0 3 0 3 0 6 0 3 0 3 0 6 0 3 0 3 0 3 0 3 0 9 0 6 0 3 0 3 0 3 0 6 0 3 0 6 0 3 0 6 0 3 0 6 0 6 0 6 0 3 0 6 0 6 0 3 0 3 0 6 0 3 0 3 0 3 0 3 0 3 0 6 0 3 0 9 0 6 0 6 0 3 0 6 0 6 0 3 0 3 0 6 0 3 0 3 0 3 0 18 0 6 0 3 0 3 0 6 0 3 0 3 0 6 0 3 0 3 0 3 0 3 0 3 0 3 0 3 0 3 0 3 0 3 0 3 0 3 0 3 0 3 0 6 0 3 0 3 0 3 0 3 0 3 0 6 0 3 0 9 0 3 0 3 0 3 0 3 0 3 0 3 0 3 0 3 0 3 0 3 0 3 0 3 0 3 0 3 0 3 0 3 0 3 0 3 0 3 0 6 0 3 0 3 0 3 0 3 0 3 0 3 0 3 0 3 0 6 0 3 0 3 0 3 0 3 0 3 0 9 0 3 0 3 0 3 0 3 0 3 0 3 0 3 0 3 0 6 0 3 0 3 0 6 0 3 0 3 0 3 0 3 0 3 0 6 0 6 0 3 0 3 0 3 0 3 0 6 0 3 0 6 0 3 0 9 0 3 0 12 0 3 0 3 0 3 0 6 0 6 0 3 0 12 0 6 0 3 0 3 0 6 0 3 0 3 0 6 0 9 0 6 0 3 0 3 0 3 0 6 0 3 0 3 0 18 0 3 0 6 0 6 0 9 0 3 0 9 0 3 0 3 0 3 0 6 0 3 0 3 0 3 0 6 0 3 0 6 0 3 0 3 0 9 0 3 0 3 0 3 0 6 0 9 0 9 0 6 0 6 0 3 0 3 0 3 0 3 0 9 0 6 0 3 0 3 0 12 0 3 0 9999"/><path d="M-488 669.15H490.01" stroke-dasharray="0 3 0 6 0 6 0 3 0 3 0 3 0 6 0 3 0 3 0 9 0 3 0 9 0 3 0 3 0 6 0 9 0 3 0 3 0 9 0 3 0 6 0 3 0 9 0 6 0 6 0 6 0 6 0 3 0 21 0 6 0 3 0 9 0 3 0 3 0 9 0 6 0 6 0 3 0 6 0 3 0 3 0 3 0 3 0 3 0 6 0 6 0 3 0 3 0 6 0 3 0 3 0 3 0 21 0 3 0 6 0 6 0 9 0 3 0 3 0 3 0 6 0 3 0 3 0 3 0 6 0 3 0 3 0 3 0 3 0 3 0 3 0 6 0 3 0 3 0 3 0 3 0 3 0 6 0 3 0 3 0 3 0 3 0 3 0 3 0 3 0 3 0 3 0 3 0 3 0 3 0 3 0 3 0 3 0 3 0 3 0 3 0 3 0 3 0 3 0 3 0 3 0 3 0 3 0 3 0 3 0 3 0 3 0 3 0 6 0 6 0 3 0 3 0 3 0 3 0 3 0 3 0 3 0 3 0 3 0 3 0 3 0 3 0 3 0 3 0 3 0 3 0 3 0 3 0 3 0 3 0 3 0 3 0 3 0 3 0 3 0 3 0 3 0 3 0 6 0 3 0 3 0 6 0 3 0 3 0 3 0 6 0 3 0 9 0 3 0 6 0 3 0 3 0 3 0 6 0 3 0 6 0 6 0 6 0 3 0 3 0 6 0 3 0 3 0 3 0 3 0 3 0 3 0 3 0 3 0 3 0 3 0 6 0 6 0 3 0 6 0 3 0 3 0 6 0 3 0 3 0 3 0 6 0 6 0 3 0 3 0 18 0 6 0 6 0 3 0 6 0 6 0 3 0 3 0 3 0 9 0 9 0 6 0 9 0 3 0 6 0 3 0 3 0 3 0 3 0 12 0 9 0 6 0 3 0 27 0 3 0 3 0 3 0 3 0 3 0 6 0 3 0 3 0 6 0 6 0 3 0 3 0 3 0 3 0 9999"/><path d="M-469 669.15H490.01" stroke-dasharray="0 10 0 4 0 3 0 8 1 3 1 9 0 2 0 3 0 2 0 4 0 11 1 8 0 3 0 3 0 6 1 5 0 5 1 3 0 4 1 3 0 6 0 4 0 2 0 4 0 6 0 5 0 3 1 18 0 9 0 8 0 3 1 7 0 2 0 9 0 3 1 3 1 4 0 3 2 3 0 5 1 3 1 3 0 4 1 10 0 4 0 2 0 3 0 2 0 4 0 5 1 6 0 7 2 3 1 2 0 7 0 13 0 2 0 3 3 2 0 2 0 4 0 4 0 2 0 2 0 5 0 4 1 3 0 3 0 2 1 3 0 4 2 2 1 2 0 4 3 3 1 6 0 2 0 5 2 2 1 2 0 2 1 2 0 2 0 2 1 3 1 3 0 2 0 2 1 3 0 4 6 2 5 2 0 2 0 2 0 2 2 2 0 3 0 3 1 2 3 3 3 2 4 2 0 2 0 2 6 3 6 2 1 3 1 6 4 3 11 3 0 3 0 2 1 2 2 3 2 3 0 3 0 8 0 4 2 2 1 3 0 7 0 4 0 3 1 2 2 7 0 3 0 6 1 4 0 2 0 3 0 6 0 4 0 3 0 2 0 2 2 18 0 10 1 2 0 9 0 2 0 2 0 21 0 2 0 3 0 5 0 2 0 2 0 3 1 2 0 2 0 9 1 16 1 5 0 24 0 4 0 5 1 7 0 5 0 2 0 10 0 5 0 2 0 2 0 2 0 5 1 6 0 2 0 2 0 6 0 2 0 4 0 4 0 2 0 7 0 9 0 12 0 9 0 7 0 2 0 10 1 3 0 2 1 9 0 4 3 4 1 2 0 5 0 5 0 7 0 2 1 2 0 9999"/><path d="M-459 669.15H490.01" stroke-dasharray="0 52 0 21 0 5 0 9 0 8 0 12 0 4 0 6 0 36 0 12 0 18 0 3 0 4 0 9 1 8 1 7 0 21 0 5 0 9 0 16 0 3 0 23 0 22 0 7 0 5 0 9 0 3 0 5 0 3 0 9 0 5 0 13 0 4 0 8 0 2 0 2 0 4 1 7 0 4 0 4 1 2 0 2 0 5 2 3 0 4 0 2 2 17 1 2 0 4 0 4 0 2 0 2 1 4 1 3 2 2 1 4 0 3 0 10 0 5 0 2 2 2 4 6 0 6 1 4 1 14 0 4 0 5 0 3 0 15 0 3 0 18 0 6 0 9 0 4 0 38 0 2 0 54 0 2 0 9 0 64 0 17 0 5 0 4 0 14 0 29 0 30 0 9 0 26 0 7 0 4 0 22 0 3 0 9999"/><path d="M-490 665.31H488.01" stroke-dasharray="0 3 0 3 0 6 0 6 0 9 0 9 0 3 0 3 0 3 0 3 0 9 0 3 0 3 0 6 0 3 0 9 0 3 0 3 0 3 0 9 0 6 0 6 0 3 0 3 0 3 0 6 0 3 0 3 0 15 0 3 0 9 0 3 0 6 0 9 0 6 0 3 0 12 0 9 0 6 0 12 0 3 0 3 0 3 0 6 0 9 0 6 0 6 0 6 0 3 0 6 0 3 0 3 0 3 0 9 0 3 0 3 0 3 0 3 0 6 0 3 0 6 0 3 0 3 0 6 0 3 0 3 0 3 0 3 0 3 0 9 0 3 0 3 0 3 0 6 0 6 0 3 0 3 0 3 0 3 0 3 0 3 0 3 0 3 0 3 0 3 0 3 0 3 0 3 0 3 0 3 0 3 0 3 0 3 0 3 0 3 0 3 0 9 0 3 0 3 0 3 0 3 0 3 0 3 0 3 0 3 0 3 0 3 0 3 0 3 0 3 0 3 0 3 0 3 0 6 0 3 0 3 0 3 0 3 0 3 0 3 0 6 0 3 0 3 0 3 0 3 0 3 0 3 0 3 0 3 0 3 0 3 0 3 0 6 0 6 0 3 0 3 0 3 0 3 0 6 0 3 0 3 0 6 0 6 0 3 0 3 0 3 0 6 0 6 0 9 0 3 0 3 0 6 0 9 0 3 0 3 0 3 0 3 0 3 0 3 0 6 0 3 0 3 0 3 0 6 0 6 0 3 0 3 0 3 0 9 0 15 0 3 0 9 0 15 0 3 0 6 0 3 0 3 0 3 0 9 0 3 0 3 0 6 0 3 0 6 0 3 0 3 0 9 0 9 0 3 0 3 0 3 0 15 0 6 0 6 0 3 0 3 0 3 0 3 0 9 0 6 0 3 0 3 0 6 0 6 0 3 0 3 0 3 0 6 0 3 0 15 0 3 0 3 0 6 0 3 0 3 0 3 0 6 0 9999"/><path d="M-489 665.31H483.01" stroke-dasharray="0 12 0 3 0 3 0 3 0 3 0 3 0 9 0 3 0 3 0 3 0 3 0 3 0 3 0 3 0 6 0 12 0 3 0 3 0 6 0 3 0 12 0 3 0 12 0 3 0 3 0 3 0 12 0 6 0 6 0 3 0 6 0 3 0 9 0 6 0 3 0 6 0 6 0 6 0 6 0 3 0 3 0 3 0 3 0 3 0 6 0 3 0 3 0 9 0 3 0 3 0 3 0 3 0 3 0 6 0 3 0 3 0 9 0 3 0 6 0 15 0 3 0 3 0 3 0 3 0 3 0 3 0 3 0 3 0 3 0 3 0 3 0 3 0 6 0 3 0 3 0 9 0 6 0 3 0 3 0 6 0 3 0 3 0 3 0 3 0 3 0 6 0 6 0 3 0 3 0 3 0 3 0 3 0 3 0 6 0 3 0 3 0 6 0 3 0 3 0 3 0 6 0 3 0 6 0 3 0 3 0 3 0 3 0 3 0 3 0 3 0 3 0 3 0 3 0 3 0 3 0 3 0 3 0 3 0 6 0 3 0 3 0 6 0 3 0 3 0 3 0 6 0 6 0 3 0 3 0 3 0 3 0 3 0 3 0 6 0 3 0 6 0 3 0 3 0 3 0 6 0 3 0 3 0 3 0 3 0 3 0 6 0 3 0 3 0 3 0 3 0 3 0 6 0 3 0 6 0 6 0 3 0 3 0 6 0 3 0 3 0 3 0 6 0 3 0 3 0 3 0 12 0 27 0 6 0 21 0 3 0 6 0 3 0 6 0 6 0 6 0 3 0 3 0 3 0 3 0 3 0 3 0 3 0 15 0 6 0 3 0 3 0 3 0 3 0 3 0 3 0 3 0 3 0 3 0 3 0 3 0 3 0 3 0 3 0 3 0 12 0 3 0 6 0 3 0 6 0 3 0 3 0 3 0 3 0 3 0 12 0 9 0 3 0 21 0 3 0 6 0 3 0 9999"/><path d="M-485 665.31H481.01" stroke-dasharray="0 6 0 3 0 6 0 6 0 6 0 3 0 3 0 6 0 3 0 3 0 3 0 3 0 3 0 3 0 3 0 3 0 6 0 3 0 3 0 3 0 12 0 3 0 6 0 3 0 6 0 12 0 3 0 6 0 3 0 3 0 6 0 9 0 6 0 15 0 3 0 3 0 3 0 6 0 3 0 6 0 3 0 3 0 6 0 3 0 3 0 6 0 12 0 6 0 9 0 6 0 6 0 3 0 3 0 3 0 3 0 6 0 6 0 12 0 3 0 3 0 6 0 3 0 6 0 15 0 3 0 6 0 6 0 3 0 3 0 6 0 3 0 6 0 9 0 3 0 9 0 3 0 3 0 12 0 3 0 3 0 3 0 3 0 3 0 3 0 3 0 3 0 3 0 3 0 3 0 3 0 3 0 3 0 3 0 3 0 3 0 3 0 3 0 3 0 3 0 3 0 3 0 3 0 3 0 3 0 3 0 6 0 3 0 3 0 3 0 3 0 6 0 3 0 6 0 3 0 3 0 3 0 3 0 3 0 3 0 3 0 3 0 3 0 3 0 3 0 3 0 3 0 3 0 3 0 3 0 3 0 3 0 3 0 3 0 9 0 3 0 6 0 3 0 3 0 3 0 3 0 6 0 3 0 6 0 6 0 3 0 3 0 18 0 12 0 3 0 3 0 9 0 6 0 6 0 3 0 3 0 9 0 6 0 3 0 3 0 3 0 6 0 3 0 6 0 6 0 15 0 3 0 3 0 9 0 3 0 6 0 12 0 6 0 3 0 3 0 3 0 3 0 3 0 3 0 3 0 3 0 3 0 18 0 9 0 9 0 9 0 3 0 6 0 6 0 3 0 3 0 3 0 3 0 3 0 6 0 3 0 12 0 3 0 3 0 6 0 3 0 6 0 6 0 9 0 3 0 3 0 9999"/><path d="M-479 665.31H488.01" stroke-dasharray="0 2 1 2 0 6 0 16 0 4 5 8 0 4 1 2 2 4 0 12 1 2 0 5 0 10 0 5 0 2 0 2 0 13 0 4 1 4 0 5 0 3 0 2 0 11 1 9 0 8 0 10 1 4 0 15 0 7 0 3 0 5 2 5 0 4 1 4 0 2 0 5 0 5 0 3 0 3 0 2 1 3 0 3 0 10 1 5 0 3 2 2 0 3 0 12 0 3 0 2 0 15 1 5 1 3 1 2 1 5 1 2 0 2 0 6 1 3 1 8 0 3 0 2 0 2 0 2 0 5 1 4 0 3 0 3 0 2 1 3 0 3 0 4 0 2 1 4 0 3 1 2 4 2 1 2 0 2 1 2 0 3 7 2 1 3 0 7 1 6 7 2 1 2 0 2 6 3 2 2 0 2 4 2 6 5 2 2 8 4 3 2 1 2 0 2 0 2 8 5 0 2 2 2 2 2 3 2 1 2 0 2 0 2 2 2 2 2 0 2 0 2 0 2 1 4 0 3 0 2 0 4 0 2 0 2 0 3 1 5 0 5 1 3 0 3 0 5 1 2 2 6 0 8 0 2 1 11 0 6 0 5 0 6 1 4 0 5 0 5 0 2 0 2 0 2 0 3 0 5 0 2 0 5 0 3 0 6 0 5 0 3 0 3 0 2 0 6 0 4 0 4 0 2 0 6 1 4 0 3 0 6 0 3 1 7 0 13 0 5 0 4 0 2 0 6 0 3 0 8 1 2 0 8 0 2 0 4 0 3 0 8 0 7 0 3 0 6 0 6 0 3 0 5 0 3 0 10 0 9 1 6 0 3 3 2 0 6 0 2 0 10 1 7 0 4 1 9 0 4 0 3 0 4 0 4 1 6 0 6 0 9999"/><path d="M-448 665.31H488.01" stroke-dasharray="0 4 0 18 0 16 1 7 0 17 0 2 0 22 0 10 0 11 0 18 0 11 0 4 0 31 0 58 0 10 0 12 0 5 0 15 1 9 1 2 0 7 0 4 0 7 0 3 0 9 0 14 1 7 0 3 0 6 0 3 0 4 0 3 0 4 0 3 0 12 0 2 0 3 0 8 1 3 0 11 0 7 1 2 1 2 1 2 1 4 1 2 1 2 0 3 0 2 0 2 0 2 2 2 0 2 0 2 0 2 0 2 0 6 1 3 0 5 0 2 0 6 0 3 0 3 0 2 0 3 1 3 0 3 0 5 0 2 0 4 0 2 0 2 1 7 0 4 0 4 1 5 0 2 0 10 0 2 0 4 0 7 0 6 0 5 1 3 0 19 0 40 0 52 0 11 0 17 0 16 0 8 0 18 0 4 0 20 0 16 0 18 0 3 0 12 0 11 0 19 0 7 0 4 0 2 0 2 0 40 0 16 0 12 0 9999"/><path d="M-490 661.46H485.01" stroke-dasharray="0 6 0 9 0 3 0 3 0 3 0 6 0 6 0 6 0 3 0 3 0 3 0 12 0 3 0 3 0 6 0 3 0 3 0 6 0 6 0 12 0 6 0 3 0 3 0 3 0 6 0 6 0 3 0 6 0 6 0 6 0 3 0 12 0 6 0 3 0 3 0 3 0 9 0 3 0 6 0 3 0 6 0 6 0 3 0 3 0 6 0 6 0 6 0 9 0 3 0 3 0 3 0 3 0 3 0 6 0 3 0 6 0 3 0 3 0 3 0 6 0 3 0 12 0 3 0 3 0 9 0 3 0 3 0 3 0 6 0 6 0 3 0 6 0 3 0 6 0 3 0 3 0 3 0 3 0 3 0 6 0 3 0 3 0 3 0 3 0 3 0 6 0 6 0 3 0 3 0 3 0 3 0 3 0 3 0 3 0 6 0 3 0 3 0 9 0 3 0 6 0 3 0 3 0 3 0 6 0 3 0 3 0 3 0 3 0 3 0 3 0 3 0 3 0 3 0 3 0 3 0 3 0 6 0 3 0 3 0 3 0 3 0 3 0 3 0 3 0 3 0 6 0 3 0 3 0 3 0 3 0 3 0 3 0 3 0 6 0 3 0 3 0 3 0 3 0 3 0 6 0 6 0 6 0 3 0 6 0 3 0 6 0 6 0 3 0 3 0 9 0 3 0 3 0 12 0 3 0 3 0 6 0 9 0 3 0 3 0 3 0 3 0 3 0 3 0 3 0 3 0 3 0 3 0 18 0 6 0 6 0 3 0 3 0 6 0 3 0 6 0 3 0 3 0 3 0 3 0 3 0 3 0 6 0 9 0 6 0 3 0 3 0 3 0 6 0 3 0 6 0 3 0 6 0 3 0 3 0 6 0 6 0 3 0 3 0 3 0 3 0 6 0 3 0 6 0 12 0 12 0 3 0 9 0 3 0 3 0 3 0 9 0 3 0 6 0 3 0 3 0 12 0 3 0 3 0 3 0 9999"/><path d="M-489 661.46H489.01" stroke-dasharray="0 6 0 3 0 6 0 3 0 6 0 3 0 9 0 3 0 3 0 3 0 3 0 9 0 3 0 9 0 3 0 3 0 3 0 3 0 12 0 3 0 9 0 6 0 3 0 3 0 24 0 3 0 3 0 3 0 3 0 3 0 12 0 3 0 18 0 6 0 12 0 3 0 3 0 3 0 6 0 15 0 3 0 3 0 3 0 3 0 3 0 12 0 3 0 9 0 3 0 3 0 3 0 3 0 9 0 3 0 3 0 3 0 3 0 3 0 3 0 6 0 9 0 9 0 3 0 6 0 3 0 6 0 3 0 3 0 3 0 6 0 3 0 3 0 3 0 3 0 3 0 3 0 6 0 9 0 3 0 3 0 6 0 3 0 3 0 3 0 6 0 6 0 3 0 3 0 3 0 3 0 3 0 3 0 3 0 6 0 6 0 3 0 3 0 3 0 3 0 3 0 3 0 3 0 3 0 3 0 3 0 3 0 3 0 3 0 3 0 3 0 3 0 3 0 3 0 3 0 3 0 3 0 3 0 3 0 3 0 3 0 3 0 3 0 3 0 12 0 3 0 3 0 3 0 9 0 3 0 3 0 3 0 3 0 3 0 3 0 3 0 3 0 3 0 3 0 3 0 3 0 3 0 6 0 9 0 3 0 3 0 3 0 3 0 3 0 3 0 3 0 6 0 21 0 6 0 3 0 3 0 3 0 6 0 6 0 3 0 3 0 3 0 3 0 3 0 3 0 6 0 3 0 3 0 3 0 9 0 6 0 3 0 3 0 3 0 3 0 3 0 3 0 3 0 9 0 15 0 3 0 3 0 3 0 3 0 6 0 12 0 9 0 3 0 6 0 6 0 3 0 3 0 6 0 3 0 6 0 9 0 6 0 9 0 3 0 12 0 3 0 3 0 3 0 15 0 3 0 3 0 3 0 6 0 3 0 6 0 6 0 3 0 9999"/><path d="M-488 661.46H487.01" stroke-dasharray="0 3 0 3 0 12 0 6 0 3 0 3 0 12 0 15 0 18 0 9 0 3 0 3 0 3 0 3 0 6 0 9 0 3 0 6 0 6 0 3 0 3 0 9 0 3 0 3 0 6 0 6 0 9 0 3 0 3 0 6 0 3 0 3 0 3 0 3 0 3 0 6 0 3 0 3 0 3 0 3 0 6 0 3 0 9 0 3 0 3 0 6 0 3 0 6 0 3 0 9 0 3 0 3 0 9 0 3 0 3 0 3 0 3 0 3 0 6 0 3 0 6 0 6 0 6 0 3 0 3 0 3 0 3 0 3 0 3 0 6 0 3 0 6 0 9 0 3 0 6 0 3 0 9 0 3 0 3 0 3 0 6 0 3 0 3 0 3 0 3 0 3 0 3 0 3 0 3 0 3 0 3 0 6 0 3 0 3 0 3 0 3 0 3 0 6 0 3 0 3 0 3 0 3 0 3 0 3 0 3 0 3 0 3 0 3 0 3 0 3 0 3 0 6 0 3 0 3 0 6 0 3 0 3 0 6 0 3 0 3 0 3 0 3 0 3 0 3 0 3 0 3 0 3 0 3 0 3 0 3 0 9 0 3 0 6 0 12 0 3 0 3 0 3 0 3 0 6 0 3 0 3 0 3 0 3 0 3 0 12 0 6 0 6 0 3 0 3 0 3 0 3 0 6 0 3 0 3 0 3 0 6 0 6 0 9 0 6 0 12 0 3 0 3 0 3 0 3 0 3 0 3 0 3 0 3 0 3 0 6 0 3 0 3 0 3 0 3 0 3 0 9 0 9 0 3 0 6 0 12 0 6 0 9 0 3 0 3 0 9 0 3 0 12 0 3 0 3 0 3 0 3 0 6 0 9 0 3 0 9 0 6 0 3 0 3 0 3 0 3 0 3 0 3 0 3 0 6 0 6 0 3 0 3 0 3 0 3 0 6 0 6 0 9 0 9 0 3 0 3 0 3 0 9999"/><path d="M-472 661.46H487.01" stroke-dasharray="0 3 0 3 0 5 1 12 0 2 1 3 0 3 0 15 0 3 0 9 1 8 0 11 0 7 0 6 2 2 0 3 0 4 0 4 0 2 0 3 0 3 0 8 0 3 0 6 0 10 0 16 0 6 0 2 0 3 0 2 0 2 0 3 1 13 0 12 0 3 0 4 0 6 0 2 0 3 0 2 0 4 0 7 0 2 0 3 1 6 0 8 1 8 0 2 3 2 0 5 1 8 0 5 0 2 1 6 0 7 1 9 0 6 2 2 0 2 0 3 1 7 2 5 0 5 0 5 1 3 0 5 0 2 0 2 7 2 1 3 0 2 0 3 3 4 1 2 0 3 1 4 1 2 2 4 2 4 6 5 1 2 0 2 1 4 0 3 1 2 4 2 2 4 0 3 0 2 3 2 10 2 1 2 7 2 1 2 0 2 0 2 3 2 1 2 1 2 1 2 0 3 3 2 6 2 0 2 0 2 0 2 1 2 0 2 0 2 1 2 1 3 0 4 1 2 0 3 0 4 0 5 0 2 1 3 1 6 0 2 1 2 1 2 0 2 0 2 1 2 0 2 0 2 1 2 0 2 0 4 0 6 0 5 0 8 0 3 0 2 0 5 0 2 0 8 1 4 0 6 0 10 0 2 1 9 1 2 1 12 0 6 1 2 0 6 1 2 0 4 0 3 0 2 1 4 2 6 0 6 2 8 0 6 1 5 0 8 2 10 0 4 0 3 0 16 0 10 0 2 0 5 0 3 0 2 0 4 0 5 0 7 0 4 0 7 1 11 0 9 1 5 0 7 0 13 0 3 0 2 1 10 0 10 0 4 0 3 0 4 0 2 0 7 1 8 0 9999"/><path d="M-461 661.46H487.01" stroke-dasharray="1 14 0 4 0 3 0 15 0 45 0 23 0 17 0 10 0 16 0 6 0 7 0 19 0 19 0 11 0 33 0 9 0 3 0 2 0 16 0 8 0 31 0 15 1 17 0 8 0 2 0 4 4 9 0 4 0 7 0 6 0 5 0 2 0 2 0 4 2 5 0 2 0 2 1 6 0 9 0 4 0 3 1 5 1 4 0 3 0 2 2 3 1 2 1 2 0 4 0 2 0 3 2 2 2 3 0 5 0 2 3 6 0 2 0 6 0 5 3 2 1 4 0 5 0 2 0 2 0 2 1 2 0 8 1 2 0 12 0 6 0 9 0 8 0 3 0 4 0 5 0 12 0 5 0 33 0 6 0 12 0 35 0 9 0 10 0 6 0 13 0 16 0 48 0 17 0 9 0 5 0 18 0 63 0 17 0 22 0 9999"/><path d="M-490 657.61H485.01" stroke-dasharray="0 3 0 3 0 3 0 3 0 3 0 3 0 3 0 6 0 3 0 6 0 9 0 9 0 3 0 3 0 18 0 15 0 3 0 6 0 3 0 24 0 6 0 3 0 3 0 6 0 6 0 3 0 6 0 3 0 9 0 6 0 3 0 6 0 3 0 6 0 3 0 3 0 6 0 6 0 3 0 6 0 3 0 3 0 3 0 6 0 3 0 15 0 9 0 6 0 6 0 6 0 3 0 6 0 3 0 3 0 3 0 3 0 3 0 9 0 9 0 3 0 12 0 3 0 6 0 9 0 3 0 3 0 3 0 6 0 9 0 6 0 3 0 3 0 3 0 3 0 3 0 3 0 3 0 3 0 3 0 3 0 3 0 3 0 3 0 3 0 3 0 3 0 3 0 3 0 3 0 3 0 3 0 3 0 3 0 3 0 3 0 3 0 3 0 3 0 3 0 3 0 3 0 3 0 3 0 3 0 3 0 3 0 3 0 3 0 3 0 3 0 3 0 3 0 3 0 3 0 3 0 3 0 6 0 3 0 3 0 3 0 3 0 3 0 6 0 3 0 3 0 6 0 3 0 3 0 6 0 3 0 3 0 3 0 3 0 3 0 3 0 3 0 3 0 6 0 3 0 6 0 6 0 3 0 3 0 6 0 6 0 6 0 6 0 6 0 3 0 6 0 15 0 3 0 3 0 3 0 3 0 3 0 3 0 3 0 6 0 12 0 3 0 6 0 3 0 9 0 9 0 3 0 3 0 3 0 3 0 15 0 6 0 15 0 3 0 6 0 9 0 3 0 6 0 6 0 12 0 6 0 3 0 3 0 3 0 9 0 3 0 9 0 3 0 3 0 3 0 15 0 3 0 6 0 3 0 12 0 6 0 9 0 6 0 3 0 3 0 9 0 3 0 3 0 3 0 9999"/><path d="M-489 657.61H480.01" stroke-dasharray="0 3 0 3 0 9 0 6 0 3 0 6 0 3 0 3 0 3 0 3 0 6 0 6 0 3 0 9 0 3 0 3 0 15 0 3 0 3 0 6 0 3 0 9 0 3 0 6 0 6 0 6 0 6 0 3 0 3 0 3 0 3 0 6 0 3 0 3 0 3 0 6 0 6 0 3 0 3 0 3 0 3 0 3 0 6 0 6 0 3 0 3 0 3 0 15 0 3 0 3 0 3 0 3 0 6 0 6 0 6 0 3 0 3 0 9 0 6 0 6 0 12 0 3 0 6 0 6 0 3 0 3 0 9 0 3 0 3 0 3 0 3 0 6 0 3 0 3 0 3 0 3 0 3 0 3 0 3 0 6 0 3 0 3 0 6 0 3 0 3 0 9 0 3 0 3 0 6 0 3 0 3 0 3 0 3 0 3 0 3 0 3 0 3 0 3 0 3 0 6 0 3 0 3 0 3 0 3 0 3 0 3 0 3 0 6 0 3 0 3 0 3 0 3 0 3 0 3 0 6 0 3 0 3 0 3 0 3 0 3 0 3 0 6 0 6 0 3 0 3 0 3 0 3 0 3 0 9 0 3 0 3 0 3 0 3 0 3 0 6 0 3 0 3 0 3 0 3 0 9 0 3 0 9 0 3 0 6 0 3 0 6 0 3 0 6 0 3 0 3 0 18 0 3 0 3 0 6 0 3 0 3 0 3 0 9 0 3 0 9 0 3 0 6 0 3 0 6 0 3 0 9 0 3 0 6 0 3 0 3 0 3 0 3 0 9 0 3 0 3 0 3 0 6 0 3 0 3 0 6 0 3 0 3 0 3 0 3 0 3 0 9 0 3 0 3 0 3 0 12 0 6 0 6 0 6 0 12 0 6 0 3 0 3 0 3 0 3 0 3 0 3 0 6 0 6 0 3 0 12 0 3 0 3 0 6 0 6 0 6 0 3 0 6 0 6 0 3 0 3 0 3 0 6 0 3 0 9999"/><path d="M-485 657.61H490.01" stroke-dasharray="0 3 0 3 0 3 0 6 0 3 0 3 0 6 0 3 0 15 0 6 0 3 0 3 0 3 0 3 0 6 0 12 0 6 0 3 0 3 0 3 0 3 0 3 0 3 0 3 0 6 0 3 0 9 0 6 0 3 0 6 0 3 0 3 0 6 0 3 0 3 0 3 0 6 0 9 0 3 0 3 0 3 0 3 0 18 0 6 0 6 0 9 0 3 0 3 0 3 0 3 0 3 0 3 0 6 0 3 0 6 0 3 0 3 0 6 0 3 0 3 0 3 0 6 0 9 0 3 0 12 0 3 0 6 0 6 0 3 0 12 0 3 0 3 0 3 0 3 0 6 0 3 0 3 0 3 0 6 0 3 0 3 0 6 0 3 0 3 0 3 0 3 0 3 0 6 0 3 0 3 0 3 0 3 0 6 0 3 0 6 0 9 0 3 0 3 0 3 0 3 0 3 0 3 0 3 0 3 0 3 0 3 0 3 0 3 0 3 0 3 0 3 0 3 0 3 0 3 0 6 0 3 0 6 0 3 0 3 0 3 0 3 0 3 0 3 0 3 0 3 0 3 0 6 0 3 0 3 0 6 0 3 0 3 0 6 0 3 0 3 0 3 0 3 0 3 0 6 0 3 0 3 0 3 0 6 0 9 0 6 0 3 0 6 0 3 0 3 0 6 0 3 0 6 0 3 0 3 0 6 0 3 0 6 0 3 0 6 0 9 0 3 0 3 0 6 0 3 0 9 0 9 0 3 0 3 0 3 0 3 0 3 0 6 0 3 0 3 0 3 0 3 0 9 0 3 0 9 0 3 0 3 0 9 0 3 0 3 0 15 0 3 0 3 0 6 0 6 0 3 0 3 0 6 0 18 0 24 0 6 0 6 0 3 0 6 0 3 0 6 0 6 0 6 0 3 0 3 0 9 0 3 0 3 0 3 0 3 0 18 0 3 0 9999"/><path d="M-490 657.61H490.01" stroke-dasharray="0 3 1 4 0 3 1 6 0 4 0 3 1 4 0 10 0 14 0 11 0 3 0 5 1 12 0 14 0 2 0 10 0 9 1 9 0 2 0 2 0 5 1 11 1 4 0 4 0 2 0 4 0 6 0 5 0 3 0 4 0 2 2 2 0 7 1 2 0 3 0 6 1 8 0 5 0 5 0 2 1 3 0 4 1 3 0 2 0 6 0 8 0 8 0 2 0 5 0 5 0 14 0 5 0 2 2 15 0 11 0 4 0 3 0 5 0 2 0 4 0 6 1 3 0 4 1 3 3 7 2 3 1 4 1 3 0 2 3 5 0 4 2 2 0 2 0 3 3 2 3 2 2 2 2 2 0 2 5 2 3 3 0 3 3 2 2 2 1 2 1 3 1 2 0 2 0 2 1 2 16 2 4 2 0 2 2 2 2 2 0 2 5 4 1 2 2 4 0 2 0 3 0 5 4 2 0 2 1 5 0 2 4 2 0 3 0 3 0 2 0 2 0 4 1 3 1 2 2 3 0 6 0 3 0 2 1 3 0 2 0 3 0 4 0 2 0 5 0 8 0 2 0 3 0 30 1 4 0 4 2 3 0 4 0 2 0 5 0 3 0 3 0 3 0 2 1 3 1 3 0 6 1 8 0 3 0 5 0 5 0 8 0 12 1 8 0 5 0 15 0 8 0 8 0 7 1 6 0 8 0 2 0 4 0 6 0 2 0 7 0 16 0 7 0 4 0 4 1 3 0 14 0 2 2 6 0 7 0 6 0 3 0 2 0 3 0 7 0 4 2 4 0 9 2 3 0 3 0 4 0 2 0 2 0 5 0 4 0 5 0 2 0 3 0 9999"/><path d="M-486 657.61H476.01" stroke-dasharray="0 21 0 29 0 20 0 57 0 10 0 26 0 11 0 13 0 7 0 34 0 8 0 11 0 28 0 14 0 5 0 2 1 31 0 8 0 13 0 7 1 13 0 16 1 2 0 13 0 2 0 4 1 3 2 3 0 4 0 7 1 2 0 3 3 3 0 4 2 4 0 2 1 3 0 3 1 2 0 5 0 2 0 4 0 2 2 3 0 3 2 2 3 3 0 3 1 2 2 4 3 6 1 3 0 5 0 2 0 9 3 2 0 2 1 5 0 2 0 3 0 3 0 3 0 3 0 2 0 2 0 5 0 3 1 2 0 2 0 15 0 3 0 5 0 4 0 15 0 2 0 33 0 5 0 45 0 43 0 44 0 22 0 2 0 4 0 15 0 75 0 18 0 15 0 12 0 2 0 5 0 9999"/><path d="M-484 653.77H488.01" stroke-dasharray="0 3 0 6 0 9 0 3 0 3 0 9 0 3 0 3 0 3 0 3 0 6 0 3 0 3 0 12 0 3 0 3 0 3 0 12 0 3 0 6 0 3 0 6 0 3 0 3 0 3 0 3 0 3 0 3 0 3 0 3 0 9 0 3 0 6 0 6 0 6 0 15 0 12 0 3 0 6 0 6 0 6 0 3 0 3 0 3 0 6 0 3 0 3 0 6 0 3 0 3 0 3 0 3 0 6 0 3 0 3 0 3 0 3 0 3 0 6 0 3 0 6 0 12 0 3 0 3 0 9 0 3 0 3 0 3 0 3 0 3 0 3 0 3 0 3 0 6 0 3 0 3 0 3 0 3 0 3 0 3 0 3 0 3 0 3 0 3 0 3 0 3 0 3 0 3 0 9 0 3 0 3 0 3 0 3 0 6 0 3 0 3 0 6 0 3 0 9 0 3 0 3 0 3 0 3 0 6 0 3 0 3 0 3 0 3 0 3 0 3 0 6 0 3 0 3 0 3 0 3 0 3 0 3 0 3 0 3 0 3 0 3 0 6 0 3 0 3 0 3 0 6 0 3 0 3 0 3 0 3 0 3 0 3 0 3 0 6 0 3 0 6 0 3 0 3 0 3 0 6 0 3 0 3 0 3 0 3 0 3 0 3 0 3 0 6 0 3 0 6 0 3 0 3 0 6 0 9 0 6 0 3 0 3 0 3 0 6 0 3 0 6 0 3 0 18 0 9 0 6 0 6 0 12 0 6 0 3 0 3 0 3 0 6 0 3 0 3 0 3 0 6 0 3 0 6 0 3 0 3 0 3 0 3 0 6 0 3 0 3 0 3 0 3 0 15 0 3 0 3 0 3 0 3 0 6 0 3 0 15 0 6 0 3 0 6 0 9 0 3 0 6 0 3 0 3 0 3 0 9 0 3 0 3 0 3 0 3 0 6 0 3 0 3 0 6 0 6 0 6 0 9 0 3 0 3 0 9 0 6 0 3 0 9999"/><path d="M-486 653.77H489.01" stroke-dasharray="0 6 0 3 0 6 0 6 0 6 0 3 0 3 0 6 0 6 0 9 0 3 0 3 0 15 0 3 0 6 0 3 0 9 0 3 0 6 0 6 0 6 0 6 0 3 0 3 0 9 0 21 0 3 0 3 0 9 0 3 0 3 0 6 0 6 0 3 0 3 0 9 0 12 0 3 0 3 0 3 0 9 0 3 0 3 0 6 0 9 0 3 0 3 0 3 0 6 0 3 0 3 0 6 0 12 0 3 0 6 0 6 0 3 0 6 0 6 0 3 0 3 0 9 0 3 0 3 0 6 0 3 0 3 0 3 0 3 0 3 0 3 0 9 0 3 0 3 0 3 0 3 0 3 0 3 0 3 0 3 0 3 0 3 0 9 0 3 0 3 0 3 0 3 0 3 0 6 0 3 0 3 0 3 0 3 0 3 0 3 0 3 0 3 0 3 0 6 0 3 0 3 0 3 0 3 0 3 0 3 0 3 0 3 0 3 0 3 0 3 0 3 0 3 0 3 0 3 0 3 0 3 0 3 0 6 0 3 0 3 0 3 0 6 0 3 0 3 0 3 0 3 0 3 0 9 0 3 0 3 0 3 0 3 0 3 0 3 0 3 0 6 0 6 0 3 0 3 0 3 0 3 0 6 0 3 0 6 0 3 0 6 0 6 0 3 0 3 0 3 0 6 0 3 0 9 0 3 0 9 0 3 0 6 0 3 0 3 0 6 0 6 0 3 0 3 0 3 0 3 0 18 0 6 0 6 0 3 0 3 0 9 0 3 0 3 0 6 0 6 0 3 0 3 0 3 0 3 0 6 0 6 0 12 0 9 0 6 0 12 0 3 0 3 0 3 0 3 0 6 0 3 0 3 0 9 0 12 0 9 0 3 0 3 0 3 0 12 0 6 0 3 0 6 0 15 0 6 0 3 0 3 0 3 0 3 0 9999"/><path d="M-485 653.77H490.01" stroke-dasharray="0 6 0 3 0 6 0 6 0 9 0 6 0 3 0 3 0 9 0 3 0 3 0 3 0 3 0 3 0 12 0 6 0 3 0 6 0 3 0 3 0 3 0 3 0 3 0 3 0 3 0 3 0 3 0 9 0 3 0 3 0 6 0 9 0 6 0 6 0 6 0 3 0 6 0 3 0 3 0 6 0 9 0 6 0 3 0 3 0 3 0 6 0 6 0 3 0 6 0 3 0 3 0 12 0 9 0 9 0 18 0 6 0 3 0 3 0 3 0 12 0 6 0 9 0 3 0 3 0 6 0 3 0 3 0 9 0 3 0 6 0 6 0 6 0 3 0 3 0 3 0 3 0 3 0 3 0 3 0 3 0 3 0 3 0 3 0 3 0 3 0 3 0 3 0 3 0 3 0 3 0 3 0 3 0 3 0 3 0 3 0 3 0 3 0 3 0 3 0 3 0 3 0 3 0 3 0 3 0 3 0 3 0 3 0 3 0 3 0 3 0 3 0 3 0 3 0 3 0 3 0 3 0 3 0 3 0 3 0 6 0 3 0 3 0 6 0 3 0 9 0 3 0 3 0 3 0 3 0 6 0 3 0 3 0 3 0 3 0 3 0 3 0 6 0 6 0 3 0 3 0 3 0 3 0 3 0 6 0 6 0 3 0 3 0 3 0 6 0 9 0 3 0 9 0 3 0 3 0 6 0 9 0 3 0 3 0 3 0 6 0 18 0 3 0 3 0 3 0 3 0 3 0 9 0 3 0 9 0 3 0 3 0 3 0 3 0 6 0 6 0 3 0 6 0 6 0 3 0 6 0 6 0 6 0 3 0 3 0 9 0 6 0 3 0 6 0 9 0 3 0 3 0 3 0 6 0 15 0 3 0 6 0 3 0 6 0 3 0 3 0 15 0 3 0 6 0 3 0 6 0 3 0 3 0 6 0 9 0 3 0 6 0 3 0 6 0 9999"/><path d="M-486 653.77H484.01" stroke-dasharray="0 10 1 4 0 5 0 3 0 8 0 2 0 4 0 6 0 2 0 2 0 13 0 4 0 3 0 4 0 4 0 17 0 3 0 2 0 2 0 2 0 10 2 2 0 3 0 3 0 4 0 4 0 5 0 4 0 4 1 3 0 13 0 6 0 12 0 3 0 6 0 4 1 8 0 9 0 4 0 7 0 10 1 5 0 4 0 2 1 3 0 3 1 4 0 4 0 3 0 4 0 3 0 2 0 2 0 7 1 6 0 2 0 2 0 8 0 4 0 15 1 4 1 7 1 4 1 7 0 4 0 13 2 4 0 2 2 2 1 2 0 5 2 2 0 2 3 2 1 2 4 2 1 3 0 2 0 2 2 2 1 4 0 3 2 2 0 2 3 2 0 2 0 3 2 2 0 2 0 2 0 2 5 3 0 2 0 2 2 2 0 2 1 2 4 2 0 5 0 2 0 2 0 2 1 2 2 3 1 2 0 2 0 2 2 2 4 2 3 3 4 3 0 3 2 2 2 3 0 3 0 2 1 2 0 2 0 2 0 3 4 3 0 3 2 2 0 2 0 2 0 2 0 3 2 2 1 3 2 2 1 2 2 2 2 2 0 4 0 3 1 2 0 3 2 2 0 2 0 2 0 3 1 6 0 4 0 5 0 2 0 2 0 2 0 2 0 2 0 3 0 6 1 12 2 7 0 3 0 4 0 7 0 9 0 16 0 7 0 2 1 2 0 2 0 2 1 3 0 3 0 9 0 3 2 5 5 2 0 12 2 6 1 10 0 4 1 8 0 7 1 3 0 6 1 16 0 9 0 2 2 10 1 7 1 7 0 5 0 5 0 15 1 5 0 9 0 2 0 9 0 2 0 4 0 3 1 2 0 7 0 8 0 3 0 2 0 2 0 5 0 9999"/><path d="M-475 653.77H479.01" stroke-dasharray="0 12 0 8 0 64 0 16 1 9 0 13 0 46 0 49 0 19 1 8 0 59 0 5 1 20 0 23 0 6 0 8 1 5 2 7 2 4 0 3 0 4 0 2 0 2 1 8 1 2 0 7 0 5 2 2 0 2 0 4 1 3 0 4 0 2 0 4 0 2 0 2 1 3 3 11 0 2 0 3 2 3 1 2 0 4 2 2 0 2 2 2 0 3 0 5 1 4 0 8 1 3 0 3 0 2 1 2 0 2 0 5 0 10 0 4 0 2 0 9 0 3 0 5 0 2 0 3 0 15 1 5 0 6 0 5 0 16 0 2 0 6 0 33 0 39 0 17 0 6 0 13 0 8 0 18 1 17 0 4 0 9 0 7 1 37 1 27 0 5 0 20 0 6 0 11 0 15 0 3 1 20 0 4 0 9999"/><path d="M-490 649.92H488.01" stroke-dasharray="0 6 0 3 0 3 0 6 0 9 0 6 0 18 0 3 0 18 0 6 0 3 0 3 0 3 0 6 0 6 0 9 0 3 0 3 0 3 0 3 0 3 0 3 0 3 0 9 0 3 0 3 0 3 0 6 0 3 0 3 0 3 0 9 0 3 0 3 0 3 0 6 0 3 0 3 0 3 0 6 0 3 0 3 0 6 0 3 0 3 0 3 0 3 0 9 0 3 0 6 0 3 0 3 0 3 0 15 0 3 0 3 0 6 0 3 0 12 0 3 0 15 0 6 0 9 0 3 0 6 0 3 0 3 0 3 0 6 0 3 0 3 0 15 0 3 0 3 0 3 0 3 0 3 0 3 0 3 0 3 0 3 0 3 0 3 0 3 0 3 0 3 0 3 0 3 0 3 0 3 0 3 0 3 0 3 0 3 0 3 0 6 0 6 0 3 0 6 0 3 0 3 0 3 0 3 0 3 0 3 0 3 0 3 0 3 0 6 0 3 0 3 0 6 0 3 0 3 0 3 0 3 0 3 0 3 0 3 0 3 0 3 0 3 0 3 0 3 0 3 0 6 0 3 0 3 0 3 0 3 0 3 0 3 0 3 0 3 0 3 0 3 0 6 0 3 0 6 0 6 0 3 0 3 0 3 0 9 0 3 0 3 0 3 0 6 0 3 0 3 0 3 0 3 0 3 0 3 0 3 0 6 0 9 0 3 0 18 0 15 0 6 0 3 0 3 0 12 0 3 0 3 0 3 0 3 0 3 0 15 0 3 0 3 0 3 0 3 0 3 0 3 0 3 0 3 0 3 0 3 0 3 0 6 0 9 0 15 0 6 0 3 0 3 0 3 0 6 0 3 0 3 0 3 0 3 0 3 0 3 0 3 0 3 0 3 0 6 0 9 0 6 0 6 0 9 0 6 0 3 0 3 0 3 0 3 0 6 0 9 0 3 0 12 0 9 0 3 0 3 0 6 0 9999"/><path d="M-489 649.92H489.01" stroke-dasharray="0 12 0 3 0 3 0 6 0 3 0 3 0 3 0 6 0 3 0 3 0 3 0 3 0 9 0 3 0 3 0 9 0 6 0 3 0 3 0 3 0 3 0 3 0 3 0 3 0 3 0 3 0 3 0 6 0 3 0 3 0 3 0 3 0 6 0 3 0 3 0 3 0 3 0 3 0 6 0 3 0 9 0 3 0 3 0 3 0 3 0 3 0 15 0 9 0 3 0 3 0 3 0 3 0 6 0 3 0 3 0 3 0 3 0 3 0 3 0 9 0 3 0 3 0 12 0 3 0 9 0 3 0 9 0 6 0 3 0 3 0 6 0 3 0 3 0 3 0 6 0 3 0 3 0 12 0 12 0 3 0 3 0 6 0 6 0 3 0 3 0 3 0 3 0 3 0 3 0 3 0 3 0 3 0 3 0 3 0 3 0 3 0 6 0 6 0 3 0 6 0 3 0 3 0 3 0 3 0 3 0 3 0 3 0 6 0 3 0 3 0 3 0 3 0 3 0 3 0 3 0 3 0 3 0 3 0 3 0 3 0 3 0 12 0 6 0 3 0 3 0 3 0 3 0 9 0 3 0 3 0 3 0 3 0 3 0 3 0 3 0 3 0 3 0 3 0 6 0 3 0 3 0 6 0 9 0 3 0 3 0 3 0 3 0 3 0 3 0 9 0 3 0 3 0 3 0 3 0 3 0 3 0 3 0 3 0 3 0 3 0 3 0 6 0 9 0 3 0 3 0 3 0 6 0 18 0 6 0 3 0 6 0 3 0 9 0 3 0 6 0 3 0 3 0 9 0 3 0 6 0 3 0 3 0 3 0 3 0 9 0 9 0 18 0 6 0 6 0 9 0 3 0 3 0 6 0 3 0 12 0 6 0 3 0 6 0 6 0 3 0 6 0 3 0 9 0 3 0 3 0 6 0 6 0 6 0 9 0 3 0 3 0 3 0 3 0 3 0 3 0 6 0 3 0 3 0 3 0 6 0 3 0 9999"/><path d="M-488 649.92H490.01" stroke-dasharray="0 9 0 3 0 9 0 6 0 3 0 3 0 9 0 9 0 3 0 3 0 6 0 3 0 3 0 3 0 6 0 3 0 3 0 3 0 9 0 6 0 9 0 3 0 6 0 9 0 3 0 3 0 3 0 3 0 9 0 3 0 6 0 3 0 12 0 3 0 3 0 3 0 3 0 6 0 3 0 3 0 3 0 3 0 9 0 3 0 3 0 3 0 6 0 3 0 9 0 3 0 3 0 3 0 3 0 12 0 3 0 6 0 3 0 3 0 3 0 3 0 3 0 9 0 3 0 3 0 3 0 3 0 3 0 3 0 6 0 6 0 3 0 3 0 3 0 3 0 3 0 3 0 3 0 6 0 6 0 3 0 3 0 9 0 3 0 3 0 3 0 6 0 6 0 3 0 9 0 3 0 3 0 3 0 6 0 3 0 3 0 3 0 6 0 3 0 3 0 3 0 3 0 3 0 3 0 3 0 3 0 3 0 3 0 3 0 6 0 3 0 3 0 3 0 3 0 3 0 3 0 3 0 3 0 3 0 3 0 3 0 3 0 3 0 6 0 3 0 3 0 3 0 3 0 6 0 3 0 3 0 3 0 3 0 3 0 3 0 3 0 3 0 3 0 3 0 3 0 3 0 3 0 3 0 3 0 3 0 3 0 3 0 3 0 9 0 6 0 6 0 6 0 3 0 3 0 3 0 6 0 6 0 6 0 3 0 3 0 6 0 3 0 3 0 3 0 3 0 6 0 3 0 15 0 6 0 3 0 3 0 3 0 3 0 3 0 3 0 6 0 9 0 6 0 9 0 9 0 9 0 15 0 3 0 18 0 3 0 3 0 3 0 3 0 6 0 6 0 9 0 6 0 6 0 6 0 3 0 3 0 6 0 6 0 3 0 3 0 3 0 3 0 3 0 6 0 3 0 3 0 6 0 3 0 6 0 6 0 3 0 3 0 3 0 9 0 3 0 3 0 12 0 3 0 9 0 6 0 9999"/><path d="M-488 649.92H490.01" stroke-dasharray="0 4 0 12 0 5 0 2 0 6 0 4 0 5 0 3 0 3 0 5 0 8 0 2 0 10 1 4 0 2 0 2 1 5 0 2 0 6 0 10 0 2 0 14 1 3 0 2 1 15 1 2 0 10 0 2 0 5 0 9 0 3 4 4 0 2 1 4 0 8 0 4 0 5 0 8 3 2 0 2 0 4 1 6 1 2 0 2 1 3 1 4 0 7 0 17 0 3 0 8 0 2 0 3 0 4 0 11 0 3 0 3 0 10 0 10 1 6 2 8 2 4 0 8 0 3 1 8 0 2 0 3 1 3 0 2 0 2 0 2 0 3 0 2 0 2 2 3 3 2 1 2 1 2 0 2 0 7 0 2 1 3 0 2 1 2 0 6 2 2 4 3 0 2 2 2 5 5 1 2 1 2 5 2 1 3 6 2 5 2 2 2 2 2 0 2 0 4 0 2 1 2 4 2 0 2 0 2 0 2 0 2 0 3 2 2 0 3 1 3 4 2 2 3 0 2 0 3 3 2 2 2 2 2 3 3 0 5 0 2 1 4 2 4 0 3 3 4 0 3 0 2 0 2 0 2 1 3 0 10 1 3 0 9 1 2 0 3 1 2 0 3 0 2 3 2 1 6 0 6 0 4 0 2 0 16 0 8 0 5 1 7 0 6 0 12 0 12 0 3 0 8 0 5 0 11 0 7 0 8 1 2 0 3 0 3 0 15 0 5 0 3 0 8 1 10 1 3 0 6 1 2 0 2 0 3 0 5 1 3 0 6 3 4 0 4 0 2 0 3 1 6 2 4 1 5 0 5 0 5 0 5 1 5 0 3 0 13 0 4 1 10 0 8 0 9 0 2 0 4 0 9999"/><path d="M-488 649.92H486.01" stroke-dasharray="0 29 0 9 0 11 0 29 0 26 0 21 0 18 0 26 0 11 0 34 1 4 0 17 0 32 0 13 0 18 0 16 0 18 1 8 1 5 0 20 0 5 0 15 0 2 0 2 0 4 0 5 0 3 0 13 0 6 0 9 2 2 2 2 0 3 0 7 4 5 1 2 0 3 0 2 0 2 1 2 1 6 0 3 0 2 2 2 1 4 0 2 0 4 0 2 0 4 0 2 0 4 0 7 0 2 0 2 0 5 0 2 0 9 4 2 2 5 0 4 0 4 0 4 1 6 0 8 0 7 0 6 0 4 0 13 0 2 1 27 0 2 0 3 0 6 0 4 0 3 0 13 0 73 0 3 0 24 0 44 0 11 0 11 0 10 0 3 0 2 0 3 0 15 0 3 0 8 0 2 0 16 0 16 0 5 1 21 0 15 0 19 0 9999"/><path d="M-490 646.07H464.01" stroke-dasharray="0 6 0 6 0 3 0 6 0 3 0 6 0 3 0 3 0 6 0 3 0 3 0 15 0 6 0 3 0 6 0 6 0 6 0 9 0 3 0 3 0 3 0 9 0 3 0 6 0 6 0 3 0 3 0 9 0 3 0 3 0 3 0 6 0 3 0 3 0 6 0 3 0 3 0 3 0 6 0 6 0 9 0 3 0 9 0 3 0 3 0 9 0 3 0 6 0 3 0 3 0 6 0 6 0 9 0 12 0 3 0 6 0 12 0 3 0 3 0 3 0 3 0 3 0 9 0 3 0 3 0 3 0 3 0 3 0 3 0 9 0 3 0 3 0 6 0 3 0 3 0 3 0 3 0 3 0 3 0 6 0 18 0 9 0 3 0 3 0 3 0 3 0 3 0 3 0 3 0 3 0 3 0 3 0 3 0 6 0 3 0 3 0 3 0 3 0 3 0 3 0 6 0 3 0 3 0 3 0 3 0 3 0 3 0 3 0 3 0 3 0 3 0 3 0 3 0 3 0 6 0 3 0 3 0 3 0 3 0 6 0 3 0 3 0 3 0 3 0 3 0 6 0 3 0 6 0 3 0 3 0 3 0 3 0 3 0 3 0 6 0 3 0 6 0 3 0 6 0 6 0 3 0 3 0 3 0 3 0 3 0 12 0 3 0 3 0 3 0 6 0 3 0 6 0 12 0 3 0 6 0 9 0 3 0 3 0 3 0 3 0 3 0 3 0 3 0 6 0 6 0 6 0 6 0 6 0 3 0 3 0 9 0 3 0 3 0 9 0 3 0 3 0 3 0 6 0 12 0 3 0 3 0 6 0 3 0 6 0 3 0 3 0 3 0 3 0 6 0 3 0 6 0 3 0 12 0 3 0 3 0 3 0 3 0 6 0 6 0 6 0 6 0 6 0 3 0 3 0 3 0 3 0 6 0 6 0 9 0 3 0 6 0 9999"/><path d="M-477 646.07H471.01" stroke-dasharray="0 6 0 3 0 3 0 3 0 3 0 12 0 3 0 3 0 3 0 3 0 9 0 3 0 3 0 3 0 6 0 3 0 3 0 6 0 3 0 3 0 3 0 3 0 3 0 3 0 18 0 3 0 3 0 3 0 6 0 6 0 3 0 3 0 6 0 6 0 3 0 3 0 3 0 3 0 3 0 3 0 6 0 6 0 3 0 3 0 3 0 9 0 9 0 3 0 3 0 6 0 3 0 3 0 6 0 3 0 3 0 3 0 15 0 3 0 3 0 6 0 6 0 3 0 6 0 6 0 3 0 6 0 6 0 3 0 6 0 3 0 6 0 6 0 3 0 3 0 3 0 3 0 3 0 3 0 9 0 3 0 3 0 3 0 6 0 9 0 3 0 6 0 3 0 3 0 3 0 3 0 3 0 3 0 3 0 3 0 3 0 3 0 3 0 3 0 3 0 3 0 3 0 3 0 3 0 3 0 6 0 3 0 3 0 3 0 3 0 3 0 3 0 3 0 3 0 3 0 3 0 3 0 3 0 3 0 3 0 3 0 3 0 3 0 3 0 6 0 3 0 3 0 3 0 3 0 3 0 3 0 3 0 3 0 3 0 3 0 6 0 3 0 3 0 3 0 3 0 3 0 6 0 3 0 3 0 3 0 3 0 3 0 6 0 3 0 12 0 6 0 3 0 6 0 3 0 3 0 6 0 12 0 3 0 3 0 3 0 6 0 6 0 6 0 3 0 3 0 3 0 3 0 3 0 6 0 6 0 3 0 3 0 3 0 3 0 3 0 3 0 15 0 3 0 3 0 6 0 3 0 3 0 3 0 3 0 3 0 3 0 3 0 9 0 3 0 3 0 3 0 6 0 6 0 3 0 3 0 18 0 3 0 6 0 3 0 3 0 3 0 3 0 3 0 3 0 6 0 3 0 3 0 6 0 3 0 3 0 9 0 3 0 3 0 3 0 6 0 3 0 9 0 6 0 6 0 3 0 3 0 6 0 6 0 12 0 3 0 9999"/><path d="M-488 646.07H490.01" stroke-dasharray="0 3 0 6 0 6 0 9 0 3 0 6 0 3 0 6 0 6 0 9 0 3 0 3 0 3 0 3 0 9 0 6 0 6 0 3 0 3 0 9 0 3 0 3 0 3 0 6 0 3 0 3 0 3 0 6 0 9 0 3 0 3 0 3 0 3 0 6 0 6 0 3 0 3 0 6 0 3 0 3 0 3 0 6 0 6 0 3 0 6 0 6 0 3 0 3 0 6 0 6 0 3 0 9 0 6 0 3 0 3 0 3 0 3 0 3 0 6 0 3 0 3 0 3 0 3 0 6 0 3 0 6 0 6 0 6 0 6 0 9 0 3 0 3 0 3 0 3 0 6 0 9 0 9 0 3 0 3 0 3 0 3 0 3 0 3 0 9 0 3 0 3 0 3 0 3 0 3 0 3 0 3 0 3 0 3 0 3 0 9 0 3 0 6 0 6 0 3 0 3 0 3 0 6 0 3 0 3 0 3 0 3 0 6 0 3 0 3 0 3 0 3 0 3 0 3 0 3 0 3 0 3 0 3 0 3 0 3 0 3 0 3 0 3 0 3 0 3 0 6 0 3 0 3 0 3 0 3 0 3 0 3 0 3 0 3 0 3 0 3 0 9 0 3 0 3 0 6 0 3 0 6 0 3 0 3 0 6 0 6 0 3 0 9 0 6 0 6 0 3 0 9 0 3 0 18 0 3 0 6 0 3 0 9 0 6 0 3 0 3 0 3 0 3 0 3 0 9 0 6 0 3 0 9 0 6 0 3 0 3 0 3 0 3 0 3 0 6 0 3 0 3 0 3 0 3 0 12 0 3 0 3 0 3 0 6 0 9 0 3 0 3 0 3 0 3 0 3 0 6 0 18 0 3 0 3 0 3 0 3 0 3 0 3 0 3 0 6 0 3 0 3 0 9 0 6 0 3 0 3 0 12 0 3 0 15 0 3 0 3 0 6 0 3 0 9 0 3 0 6 0 3 0 6 0 9999"/><path d="M-490 646.07H490.01" stroke-dasharray="0 5 0 6 0 4 0 2 0 5 0 13 1 7 0 6 1 5 0 4 0 3 0 6 1 4 0 11 0 2 0 4 0 5 0 2 0 3 0 5 0 3 1 4 0 9 0 3 1 7 0 3 0 2 0 4 0 4 0 2 1 2 2 2 0 3 0 2 0 5 1 4 0 4 1 3 0 10 0 3 0 8 0 3 1 3 0 8 0 7 0 2 1 2 0 3 0 5 0 2 0 3 1 3 0 3 1 5 1 14 0 2 0 2 0 6 0 4 1 5 2 3 0 6 0 5 1 2 3 3 0 2 0 10 0 3 0 3 1 2 0 2 0 7 1 3 1 4 0 3 0 2 2 7 0 4 0 2 0 2 0 2 2 3 1 4 0 2 0 7 1 6 0 5 1 2 1 2 3 4 1 2 0 2 0 3 0 2 4 2 0 3 3 3 1 2 2 2 6 4 0 2 0 2 2 2 0 6 0 2 3 2 7 2 3 3 3 2 1 2 1 2 3 2 0 2 1 7 1 3 1 2 2 2 2 2 1 2 9 2 0 3 0 2 0 3 0 2 1 2 1 2 0 2 1 14 0 7 0 2 1 2 0 9 0 8 0 4 0 3 0 5 0 4 0 2 0 2 0 3 0 6 0 5 0 3 0 2 2 5 1 8 2 3 0 7 1 6 0 4 0 5 1 3 0 2 0 8 4 6 0 5 0 2 0 4 0 6 0 6 1 9 0 6 0 3 0 6 0 2 0 4 0 5 0 3 1 2 0 4 0 7 0 2 0 11 0 5 0 6 1 5 1 4 0 2 0 2 0 2 0 6 0 3 0 6 0 5 0 2 0 5 0 3 0 8 1 3 1 3 0 3 1 6 1 9 0 2 0 6 0 3 1 2 0 3 0 10 0 7 0 2 0 4 1 3 0 23 0 3 0 6 0 9999"/><path d="M-485 646.07H490.01" stroke-dasharray="0 38 0 25 0 5 0 13 0 4 0 10 0 5 0 21 0 12 0 11 0 4 0 12 0 5 0 18 0 3 0 8 0 3 0 12 0 20 0 6 0 6 0 23 0 2 0 17 0 4 0 11 1 4 0 4 0 21 0 2 0 7 1 3 1 4 0 5 0 2 0 13 0 4 1 4 0 5 0 2 0 7 0 12 0 3 0 6 0 9 0 3 0 5 1 2 0 3 1 2 0 7 1 2 4 6 0 4 0 2 0 2 0 8 1 4 1 2 1 2 1 3 0 6 2 3 0 2 0 3 0 2 0 3 0 2 1 8 0 3 1 3 0 4 0 3 0 4 2 4 1 8 0 3 0 2 1 2 1 2 0 2 1 14 0 12 0 9 0 8 0 7 0 11 0 5 0 6 0 8 0 18 0 28 0 4 0 11 0 26 0 52 0 7 0 25 0 12 0 19 0 31 0 11 0 11 0 25 0 17 0 32 0 9999"/><path d="M-490 642.23H485.01" stroke-dasharray="0 3 0 3 0 6 0 3 0 3 0 3 0 6 0 3 0 6 0 3 0 3 0 6 0 3 0 3 0 6 0 3 0 6 0 6 0 3 0 3 0 3 0 3 0 9 0 6 0 9 0 6 0 6 0 9 0 3 0 3 0 3 0 15 0 15 0 3 0 3 0 3 0 3 0 3 0 6 0 3 0 3 0 6 0 9 0 6 0 6 0 3 0 3 0 9 0 12 0 9 0 3 0 9 0 3 0 9 0 3 0 3 0 9 0 6 0 3 0 9 0 3 0 18 0 3 0 3 0 3 0 3 0 3 0 3 0 3 0 3 0 6 0 3 0 3 0 3 0 3 0 3 0 3 0 3 0 3 0 3 0 3 0 3 0 3 0 3 0 3 0 3 0 3 0 3 0 3 0 3 0 3 0 3 0 3 0 6 0 3 0 3 0 3 0 3 0 3 0 3 0 3 0 6 0 3 0 3 0 3 0 3 0 6 0 3 0 3 0 3 0 3 0 3 0 3 0 3 0 3 0 3 0 3 0 3 0 9 0 3 0 3 0 3 0 3 0 3 0 3 0 6 0 3 0 3 0 3 0 3 0 3 0 3 0 6 0 6 0 3 0 3 0 6 0 3 0 3 0 3 0 3 0 6 0 3 0 3 0 3 0 3 0 3 0 6 0 3 0 3 0 3 0 6 0 3 0 3 0 6 0 3 0 6 0 3 0 3 0 3 0 3 0 3 0 3 0 3 0 6 0 6 0 12 0 3 0 6 0 6 0 15 0 3 0 12 0 3 0 6 0 6 0 3 0 3 0 9 0 3 0 15 0 6 0 6 0 3 0 3 0 6 0 3 0 3 0 3 0 3 0 3 0 3 0 3 0 3 0 15 0 3 0 3 0 3 0 3 0 3 0 3 0 6 0 3 0 3 0 3 0 3 0 3 0 6 0 3 0 6 0 3 0 12 0 9 0 3 0 3 0 3 0 18 0 9999"/><path d="M-489 642.23H489.01" stroke-dasharray="0 3 0 3 0 3 0 6 0 3 0 3 0 3 0 3 0 3 0 3 0 3 0 6 0 3 0 6 0 3 0 3 0 3 0 15 0 3 0 3 0 3 0 3 0 6 0 3 0 6 0 6 0 6 0 3 0 3 0 9 0 9 0 3 0 9 0 3 0 3 0 3 0 6 0 3 0 12 0 6 0 6 0 6 0 15 0 6 0 9 0 9 0 9 0 3 0 3 0 3 0 15 0 3 0 6 0 6 0 3 0 3 0 6 0 9 0 6 0 3 0 3 0 3 0 3 0 9 0 3 0 3 0 3 0 9 0 3 0 3 0 3 0 9 0 3 0 6 0 3 0 3 0 3 0 3 0 3 0 3 0 3 0 3 0 3 0 3 0 3 0 3 0 3 0 6 0 3 0 3 0 3 0 3 0 3 0 3 0 3 0 3 0 3 0 3 0 3 0 3 0 3 0 3 0 3 0 3 0 3 0 3 0 3 0 3 0 3 0 3 0 3 0 3 0 3 0 3 0 3 0 3 0 6 0 3 0 3 0 3 0 3 0 3 0 6 0 3 0 3 0 3 0 6 0 3 0 3 0 3 0 3 0 3 0 6 0 6 0 3 0 3 0 3 0 3 0 3 0 9 0 3 0 6 0 3 0 3 0 3 0 3 0 3 0 3 0 3 0 3 0 3 0 6 0 3 0 3 0 3 0 3 0 3 0 3 0 3 0 9 0 3 0 3 0 6 0 6 0 3 0 3 0 9 0 12 0 3 0 3 0 3 0 6 0 15 0 3 0 3 0 6 0 3 0 3 0 3 0 3 0 12 0 3 0 3 0 3 0 3 0 3 0 3 0 3 0 3 0 3 0 3 0 6 0 3 0 3 0 3 0 6 0 3 0 3 0 3 0 3 0 6 0 6 0 6 0 9 0 9 0 18 0 3 0 3 0 3 0 6 0 3 0 3 0 3 0 3 0 12 0 12 0 3 0 6 0 3 0 9 0 6 0 9999"/><path d="M-470 642.23H487.01" stroke-dasharray="0 3 0 3 0 3 0 3 0 3 0 3 0 3 0 6 0 3 0 6 0 6 0 3 0 6 0 3 0 3 0 9 0 3 0 9 0 6 0 3 0 3 0 9 0 9 0 9 0 3 0 3 0 3 0 6 0 3 0 3 0 3 0 6 0 3 0 3 0 3 0 3 0 6 0 9 0 3 0 6 0 3 0 6 0 3 0 3 0 3 0 3 0 9 0 9 0 6 0 6 0 3 0 6 0 3 0 3 0 3 0 3 0 3 0 3 0 3 0 3 0 3 0 3 0 3 0 3 0 3 0 9 0 6 0 6 0 15 0 3 0 3 0 9 0 3 0 3 0 3 0 6 0 3 0 3 0 3 0 3 0 3 0 6 0 6 0 3 0 6 0 3 0 3 0 3 0 3 0 6 0 3 0 3 0 3 0 3 0 3 0 3 0 3 0 3 0 3 0 3 0 3 0 3 0 3 0 3 0 3 0 3 0 3 0 6 0 3 0 3 0 6 0 3 0 3 0 3 0 3 0 3 0 3 0 3 0 3 0 3 0 3 0 3 0 3 0 3 0 3 0 3 0 3 0 3 0 3 0 3 0 3 0 3 0 3 0 3 0 3 0 3 0 3 0 6 0 3 0 6 0 3 0 6 0 3 0 3 0 3 0 3 0 3 0 3 0 3 0 3 0 3 0 3 0 6 0 3 0 3 0 3 0 6 0 3 0 3 0 3 0 3 0 3 0 3 0 12 0 6 0 3 0 3 0 3 0 3 0 3 0 3 0 3 0 3 0 3 0 3 0 3 0 3 0 3 0 9 0 3 0 3 0 3 0 6 0 6 0 3 0 3 0 3 0 3 0 6 0 3 0 3 0 6 0 12 0 3 0 6 0 3 0 3 0 3 0 3 0 3 0 3 0 9 0 3 0 3 0 3 0 3 0 3 0 3 0 9 0 9 0 6 0 9 0 3 0 3 0 3 0 3 0 3 0 6 0 12 0 3 0 3 0 6 0 3 0 3 0 6 0 6 0 6 0 3 0 6 0 6 0 3 0 6 0 6 0 9999"/><path d="M-490 642.23H483.01" stroke-dasharray="0 4 0 6 0 5 0 3 0 5 0 7 0 2 0 2 0 2 0 6 0 6 0 4 0 2 2 9 0 6 0 6 0 2 0 2 0 4 0 3 0 8 2 4 2 3 0 4 0 4 0 2 0 2 0 18 0 3 3 14 0 3 0 10 1 2 1 3 0 2 2 4 0 2 0 11 0 5 1 8 0 8 1 3 1 4 0 9 0 9 0 7 0 2 1 4 0 3 0 5 0 2 0 5 0 4 0 4 0 2 0 5 0 5 0 4 0 11 0 8 0 3 1 14 1 3 1 2 0 7 0 2 0 2 0 2 6 8 0 2 2 4 1 2 1 4 0 3 1 4 1 2 0 2 0 3 0 4 2 2 4 7 1 2 8 6 2 3 2 3 12 2 1 2 4 2 3 2 5 3 0 2 0 3 2 3 14 3 0 4 3 4 1 2 0 2 2 3 0 2 6 2 0 2 1 4 6 2 2 4 0 2 1 3 0 5 0 2 1 2 0 2 4 2 1 3 2 6 0 2 3 5 0 4 0 4 2 4 1 2 0 5 1 3 0 3 0 5 0 2 1 3 3 6 0 2 1 11 0 6 0 2 0 8 3 5 0 5 0 8 0 4 0 2 0 2 0 3 0 3 0 3 0 2 0 2 0 6 0 10 1 4 0 6 2 2 0 8 0 3 0 4 0 7 0 5 1 4 0 2 0 3 0 9 1 3 0 7 0 6 1 4 0 6 1 2 1 3 0 2 0 2 0 5 0 2 0 9 0 15 1 18 0 2 0 5 0 2 0 3 0 6 0 3 1 5 0 3 2 19 0 2 1 3 1 18 0 9999"/><path d="M-475 642.23H461.01" stroke-dasharray="0 40 0 10 0 14 0 2 0 4 0 12 0 14 0 46 0 3 0 10 1 2 1 6 0 24 0 8 0 64 0 20 0 4 0 23 0 15 0 4 0 9 0 2 0 2 0 7 1 10 0 2 0 5 0 2 0 5 0 9 0 2 0 2 0 3 0 5 0 3 0 11 0 4 0 2 3 2 0 6 0 5 1 4 2 2 2 3 1 2 0 5 0 2 0 4 0 2 1 3 1 2 0 4 0 2 0 3 2 3 10 2 2 7 0 2 0 5 0 5 2 8 0 5 0 2 0 8 0 3 0 2 2 6 0 4 0 7 1 2 0 2 2 4 0 12 0 10 0 4 0 4 1 13 0 18 1 10 0 29 0 2 0 39 0 28 1 52 0 13 0 14 1 3 0 9 0 2 0 50 0 11 0 4 0 8 1 22 1 9999"/><path d="M-487 638.38H485.01" stroke-dasharray="0 3 0 9 0 9 0 3 0 3 0 6 0 18 0 12 0 21 0 3 0 3 0 3 0 9 0 6 0 3 0 6 0 3 0 9 0 3 0 3 0 12 0 3 0 6 0 3 0 3 0 6 0 3 0 3 0 6 0 6 0 12 0 6 0 3 0 3 0 9 0 6 0 3 0 3 0 9 0 3 0 3 0 3 0 15 0 3 0 6 0 12 0 3 0 6 0 6 0 15 0 6 0 6 0 12 0 6 0 3 0 3 0 3 0 18 0 3 0 6 0 6 0 3 0 3 0 3 0 3 0 3 0 3 0 3 0 3 0 3 0 3 0 3 0 3 0 3 0 3 0 3 0 3 0 3 0 3 0 3 0 3 0 6 0 3 0 6 0 3 0 3 0 3 0 3 0 6 0 3 0 3 0 3 0 3 0 3 0 3 0 9 0 3 0 3 0 6 0 3 0 3 0 3 0 6 0 3 0 3 0 3 0 6 0 3 0 3 0 3 0 3 0 3 0 3 0 3 0 3 0 3 0 9 0 9 0 3 0 3 0 3 0 6 0 6 0 3 0 3 0 9 0 3 0 3 0 12 0 3 0 9 0 3 0 3 0 3 0 6 0 3 0 3 0 12 0 9 0 6 0 3 0 6 0 9 0 3 0 3 0 3 0 6 0 3 0 3 0 3 0 6 0 3 0 9 0 9 0 6 0 9 0 3 0 9 0 3 0 9 0 3 0 6 0 3 0 9 0 15 0 3 0 3 0 6 0 12 0 6 0 6 0 3 0 12 0 3 0 6 0 12 0 15 0 6 0 9 0 6 0 3 0 6 0 3 0 9999"/><path d="M-489 638.38H489.01" stroke-dasharray="0 3 0 3 0 6 0 6 0 3 0 6 0 3 0 3 0 3 0 6 0 6 0 3 0 3 0 6 0 6 0 3 0 6 0 6 0 3 0 3 0 3 0 3 0 9 0 3 0 6 0 6 0 3 0 3 0 6 0 6 0 3 0 3 0 12 0 3 0 9 0 3 0 3 0 9 0 3 0 6 0 3 0 3 0 9 0 3 0 3 0 3 0 3 0 9 0 6 0 3 0 12 0 3 0 3 0 3 0 3 0 3 0 3 0 3 0 3 0 9 0 3 0 12 0 3 0 6 0 3 0 6 0 3 0 3 0 3 0 6 0 3 0 3 0 6 0 3 0 3 0 6 0 3 0 6 0 6 0 3 0 6 0 3 0 3 0 3 0 3 0 6 0 9 0 6 0 3 0 3 0 9 0 3 0 3 0 3 0 3 0 3 0 6 0 3 0 3 0 6 0 3 0 3 0 3 0 3 0 3 0 3 0 3 0 3 0 3 0 3 0 6 0 3 0 3 0 3 0 3 0 3 0 3 0 3 0 3 0 3 0 3 0 9 0 3 0 3 0 3 0 3 0 3 0 3 0 3 0 3 0 3 0 3 0 3 0 3 0 3 0 3 0 3 0 6 0 3 0 3 0 3 0 3 0 3 0 3 0 3 0 6 0 3 0 3 0 3 0 3 0 3 0 3 0 12 0 3 0 3 0 6 0 3 0 3 0 3 0 6 0 6 0 3 0 3 0 6 0 3 0 6 0 3 0 3 0 3 0 9 0 6 0 3 0 3 0 9 0 3 0 3 0 6 0 3 0 15 0 3 0 3 0 3 0 3 0 3 0 9 0 3 0 3 0 3 0 6 0 9 0 6 0 6 0 3 0 3 0 9 0 3 0 9 0 3 0 3 0 3 0 3 0 6 0 9 0 9 0 3 0 3 0 3 0 3 0 9 0 3 0 9 0 3 0 6 0 3 0 3 0 3 0 3 0 3 0 6 0 3 0 3 0 3 0 6 0 3 0 3 0 6 0 3 0 9999"/><path d="M-488 638.38H490.01" stroke-dasharray="0 3 0 3 0 3 0 15 0 3 0 9 0 3 0 3 0 6 0 3 0 3 0 6 0 3 0 3 0 6 0 3 0 3 0 3 0 6 0 3 0 3 0 6 0 3 0 3 0 3 0 3 0 3 0 3 0 6 0 3 0 3 0 3 0 6 0 3 0 6 0 15 0 3 0 9 0 3 0 3 0 3 0 3 0 3 0 3 0 3 0 3 0 3 0 3 0 3 0 18 0 9 0 3 0 3 0 3 0 9 0 3 0 3 0 3 0 3 0 3 0 3 0 3 0 12 0 3 0 3 0 3 0 3 0 3 0 3 0 3 0 3 0 6 0 3 0 3 0 6 0 3 0 6 0 9 0 3 0 3 0 6 0 3 0 3 0 3 0 3 0 3 0 3 0 12 0 3 0 3 0 6 0 3 0 3 0 3 0 3 0 3 0 6 0 3 0 3 0 9 0 3 0 3 0 3 0 3 0 3 0 3 0 3 0 6 0 3 0 3 0 6 0 3 0 3 0 3 0 3 0 3 0 3 0 3 0 6 0 3 0 3 0 3 0 3 0 3 0 3 0 3 0 3 0 3 0 3 0 3 0 3 0 3 0 3 0 3 0 3 0 3 0 3 0 6 0 3 0 3 0 9 0 3 0 6 0 3 0 3 0 3 0 3 0 3 0 3 0 9 0 3 0 12 0 3 0 6 0 3 0 6 0 3 0 3 0 3 0 6 0 6 0 6 0 3 0 9 0 3 0 3 0 3 0 3 0 3 0 3 0 6 0 3 0 6 0 3 0 3 0 3 0 3 0 3 0 3 0 3 0 3 0 3 0 3 0 3 0 3 0 3 0 3 0 3 0 3 0 12 0 3 0 18 0 9 0 6 0 3 0 9 0 3 0 3 0 6 0 6 0 3 0 3 0 3 0 6 0 3 0 3 0 3 0 6 0 3 0 9 0 3 0 3 0 3 0 3 0 3 0 3 0 3 0 3 0 3 0 3 0 3 0 3 0 3 0 3 0 3 0 9 0 6 0 3 0 12 0 12 0 3 0 3 0 9999"/><path d="M-485 638.38H490.01" stroke-dasharray="1 2 0 5 0 6 0 7 0 2 0 13 0 2 1 8 0 4 0 10 0 2 0 2 0 10 0 7 1 3 0 2 0 3 0 5 0 3 0 2 1 5 0 2 0 2 0 4 0 8 0 4 0 2 0 6 0 2 0 7 0 8 0 2 0 6 1 10 0 3 0 2 0 3 0 6 0 7 0 3 0 6 0 2 3 3 0 3 0 9 2 4 0 3 0 7 1 2 2 5 1 4 0 13 2 25 2 4 0 15 2 3 0 6 0 3 0 2 0 8 1 4 0 3 3 2 0 2 0 2 0 3 0 6 0 2 0 4 0 2 0 2 0 4 0 2 1 3 2 2 0 2 1 4 0 2 4 2 6 3 1 3 0 2 1 2 5 2 0 3 4 2 0 2 1 2 5 5 3 4 1 3 0 2 1 2 0 4 0 2 1 3 5 2 0 2 8 2 1 3 1 3 3 2 4 2 5 6 2 3 3 2 3 2 0 5 0 2 2 3 1 2 3 4 0 3 0 2 1 2 3 9 1 3 1 2 4 4 3 4 0 4 0 2 0 2 0 3 0 4 0 4 0 10 0 8 0 3 1 2 0 3 0 11 2 5 0 4 1 2 0 7 1 6 0 2 1 12 0 4 0 4 2 5 0 4 0 3 0 14 0 2 1 3 1 18 0 9 0 29 0 9 0 9 0 6 0 12 0 3 0 10 1 4 0 5 1 6 0 3 1 6 0 5 1 3 1 3 0 4 0 8 1 6 0 3 0 11 1 2 0 3 0 3 0 7 0 8 0 3 0 4 1 4 0 7 0 2 0 4 0 9999"/><path d="M-462 638.38H490.01" stroke-dasharray="0 13 0 3 0 8 0 18 0 18 0 3 0 15 1 9 0 12 0 4 0 17 0 17 0 34 0 6 0 2 2 17 0 15 0 30 0 25 0 2 0 4 0 15 0 2 0 3 0 6 0 3 0 10 1 12 0 2 0 11 0 8 0 6 0 3 0 4 0 6 0 4 0 3 0 3 0 3 4 5 0 9 3 3 0 4 1 6 1 2 2 3 0 7 1 5 0 6 0 2 0 6 1 3 2 5 0 2 0 3 5 2 1 3 0 4 3 2 0 3 1 2 1 3 1 7 1 3 2 5 1 7 0 3 0 4 0 3 1 6 0 5 1 18 1 2 0 2 2 4 0 2 1 12 0 3 0 8 0 18 0 20 0 12 0 40 0 6 0 4 0 3 0 39 0 9 0 47 0 32 0 9 0 10 0 17 0 7 0 9 0 6 0 3 0 11 1 8 0 22 0 5 0 7 0 2 0 4 0 9999"/><path d="M-490 634.53H488.01" stroke-dasharray="0 3 0 3 0 3 0 3 0 6 0 3 0 3 0 6 0 6 0 6 0 3 0 6 0 12 0 3 0 6 0 3 0 15 0 3 0 3 0 6 0 3 0 3 0 9 0 6 0 6 0 12 0 6 0 3 0 3 0 3 0 3 0 3 0 6 0 3 0 9 0 3 0 3 0 3 0 3 0 9 0 3 0 9 0 6 0 3 0 6 0 3 0 6 0 3 0 3 0 3 0 3 0 3 0 3 0 12 0 6 0 3 0 3 0 3 0 3 0 3 0 12 0 6 0 3 0 6 0 3 0 3 0 3 0 6 0 3 0 3 0 9 0 6 0 3 0 6 0 3 0 3 0 3 0 3 0 3 0 3 0 6 0 3 0 3 0 3 0 3 0 3 0 3 0 3 0 3 0 3 0 6 0 3 0 3 0 3 0 6 0 3 0 3 0 3 0 3 0 3 0 3 0 6 0 3 0 3 0 3 0 3 0 3 0 3 0 3 0 9 0 6 0 3 0 3 0 3 0 3 0 3 0 3 0 3 0 3 0 6 0 3 0 3 0 3 0 3 0 3 0 3 0 6 0 3 0 3 0 3 0 3 0 3 0 3 0 3 0 3 0 3 0 3 0 3 0 3 0 3 0 3 0 3 0 6 0 3 0 3 0 9 0 12 0 3 0 6 0 3 0 3 0 3 0 3 0 3 0 3 0 3 0 3 0 3 0 21 0 3 0 3 0 6 0 6 0 3 0 6 0 3 0 3 0 12 0 3 0 6 0 6 0 6 0 6 0 3 0 9 0 3 0 6 0 3 0 6 0 6 0 6 0 3 0 9 0 9 0 6 0 3 0 12 0 3 0 3 0 3 0 9 0 9 0 3 0 3 0 6 0 3 0 9 0 3 0 6 0 9 0 3 0 3 0 3 0 3 0 3 0 12 0 3 0 6 0 15 0 15 0 3 0 3 0 9999"/><path d="M-489 634.53H489.01" stroke-dasharray="0 3 0 6 0 6 0 3 0 6 0 9 0 3 0 3 0 3 0 12 0 9 0 3 0 3 0 9 0 12 0 6 0 15 0 3 0 6 0 3 0 3 0 9 0 3 0 9 0 3 0 3 0 3 0 3 0 3 0 6 0 12 0 3 0 12 0 3 0 6 0 3 0 3 0 3 0 18 0 3 0 3 0 18 0 6 0 3 0 6 0 3 0 6 0 3 0 3 0 12 0 6 0 3 0 21 0 3 0 3 0 3 0 3 0 9 0 3 0 3 0 9 0 3 0 6 0 3 0 6 0 3 0 3 0 3 0 3 0 3 0 3 0 3 0 6 0 3 0 6 0 3 0 3 0 9 0 3 0 3 0 3 0 3 0 3 0 3 0 3 0 3 0 3 0 3 0 6 0 3 0 3 0 3 0 3 0 3 0 3 0 3 0 3 0 3 0 3 0 3 0 3 0 3 0 3 0 3 0 3 0 3 0 3 0 3 0 3 0 3 0 3 0 3 0 3 0 3 0 3 0 3 0 3 0 3 0 3 0 3 0 3 0 3 0 3 0 6 0 3 0 3 0 3 0 3 0 3 0 3 0 3 0 6 0 3 0 3 0 3 0 3 0 3 0 6 0 6 0 3 0 6 0 9 0 3 0 3 0 6 0 3 0 3 0 3 0 3 0 3 0 9 0 15 0 3 0 9 0 3 0 6 0 6 0 15 0 3 0 3 0 3 0 3 0 3 0 3 0 3 0 3 0 6 0 6 0 9 0 3 0 9 0 6 0 6 0 6 0 3 0 3 0 12 0 9 0 3 0 3 0 3 0 9 0 6 0 3 0 3 0 6 0 12 0 3 0 3 0 18 0 9 0 3 0 3 0 6 0 3 0 3 0 9 0 3 0 3 0 3 0 3 0 3 0 3 0 3 0 3 0 3 0 9999"/><path d="M-482 634.53H487.01" stroke-dasharray="0 3 0 3 0 3 0 9 0 3 0 6 0 6 0 3 0 3 0 9 0 6 0 6 0 3 0 3 0 6 0 3 0 3 0 3 0 3 0 3 0 3 0 12 0 6 0 6 0 9 0 6 0 3 0 3 0 3 0 6 0 3 0 9 0 3 0 3 0 6 0 3 0 3 0 3 0 6 0 12 0 6 0 6 0 9 0 3 0 3 0 3 0 3 0 6 0 3 0 9 0 3 0 6 0 3 0 3 0 3 0 3 0 3 0 12 0 3 0 3 0 3 0 3 0 3 0 9 0 3 0 3 0 3 0 3 0 3 0 3 0 3 0 3 0 6 0 3 0 3 0 3 0 3 0 6 0 3 0 3 0 6 0 3 0 6 0 3 0 3 0 3 0 3 0 3 0 6 0 3 0 6 0 6 0 3 0 3 0 3 0 3 0 3 0 3 0 3 0 3 0 9 0 3 0 3 0 3 0 3 0 3 0 3 0 3 0 3 0 3 0 3 0 3 0 3 0 3 0 3 0 3 0 3 0 3 0 3 0 3 0 3 0 3 0 3 0 3 0 3 0 3 0 3 0 6 0 3 0 3 0 12 0 3 0 3 0 3 0 3 0 3 0 6 0 6 0 3 0 3 0 3 0 6 0 3 0 12 0 6 0 3 0 3 0 3 0 6 0 12 0 3 0 3 0 3 0 3 0 6 0 6 0 3 0 6 0 3 0 3 0 3 0 3 0 3 0 3 0 3 0 3 0 3 0 3 0 3 0 9 0 3 0 12 0 3 0 3 0 9 0 3 0 3 0 6 0 3 0 3 0 6 0 3 0 3 0 3 0 6 0 3 0 3 0 6 0 3 0 9 0 6 0 6 0 6 0 3 0 12 0 9 0 3 0 3 0 3 0 12 0 3 0 3 0 3 0 9 0 3 0 21 0 3 0 15 0 3 0 3 0 3 0 12 0 3 0 3 0 3 0 3 0 6 0 3 0 9999"/><path d="M-489 634.53H487.01" stroke-dasharray="0 2 0 3 0 2 0 4 0 4 0 2 0 3 0 4 1 9 0 7 0 14 0 8 0 4 0 2 0 4 0 6 0 3 0 3 0 7 0 2 0 2 0 5 0 3 0 3 0 4 0 3 0 8 1 5 0 7 0 18 0 6 0 2 0 5 0 14 1 3 1 6 0 4 0 7 2 6 0 8 0 8 1 3 0 2 0 3 2 5 0 3 0 8 0 2 1 5 0 3 0 2 0 2 0 2 0 3 1 5 0 10 0 6 0 2 0 4 0 3 0 9 0 3 0 3 0 3 1 5 2 2 0 4 1 12 0 2 0 2 0 2 0 4 0 2 0 3 0 2 1 4 0 3 2 5 0 3 2 2 1 3 7 4 1 3 1 2 0 6 0 3 1 2 2 3 0 3 0 2 0 3 1 3 4 4 0 2 2 4 3 2 4 2 1 2 3 2 4 3 0 3 2 3 1 2 4 4 1 2 1 2 2 3 3 2 1 2 1 2 1 2 0 2 2 2 0 2 1 2 2 2 0 3 0 2 1 2 1 2 1 2 1 2 1 2 2 2 0 2 0 2 2 8 1 2 0 2 4 8 1 2 0 5 0 9 0 4 0 17 0 5 0 5 1 2 0 2 1 4 0 2 1 4 0 7 0 12 0 4 0 3 0 5 0 3 0 3 0 2 0 7 0 5 0 9 0 5 1 13 0 5 0 3 1 4 1 2 0 5 0 2 0 4 0 5 0 2 0 13 2 2 0 3 1 3 0 5 0 4 0 18 0 5 0 3 0 2 0 2 0 7 2 9 0 5 0 2 0 2 0 3 1 6 0 2 0 3 1 15 0 3 0 8 0 3 0 7 0 4 0 11 0 5 0 5 1 2 0 13 0 5 0 2 1 7 0 5 0 9999"/><path d="M-489 634.53H472.01" stroke-dasharray="0 7 0 8 0 2 0 7 0 10 0 35 0 10 0 17 0 15 0 12 0 30 0 28 0 3 0 7 0 11 0 16 0 8 0 6 0 3 1 17 0 2 1 18 0 21 0 18 0 6 0 9 1 7 1 14 0 4 0 6 0 5 0 5 0 4 0 10 0 3 1 7 2 9 1 11 1 2 1 4 0 8 0 4 0 8 0 2 0 6 1 5 0 3 0 3 0 2 3 3 1 9 0 4 1 2 0 2 0 6 0 3 0 9 2 2 1 2 1 2 1 4 2 2 0 7 0 5 0 2 1 3 0 2 1 2 1 2 0 5 0 4 0 4 0 8 1 4 3 52 0 5 1 2 0 3 0 18 0 16 0 11 0 26 0 5 0 14 0 14 0 9 0 9 0 15 0 8 0 8 0 32 0 29 0 12 0 65 0 21 0 9999"/><path d="M-490 630.69H488.01" stroke-dasharray="0 6 0 9 0 6 0 12 0 3 0 3 0 9 0 3 0 3 0 3 0 6 0 3 0 3 0 3 0 3 0 3 0 3 0 3 0 3 0 6 0 6 0 3 0 3 0 3 0 3 0 3 0 9 0 6 0 6 0 3 0 12 0 3 0 3 0 3 0 6 0 3 0 6 0 3 0 3 0 3 0 3 0 3 0 6 0 6 0 6 0 3 0 12 0 3 0 6 0 3 0 3 0 3 0 3 0 3 0 3 0 3 0 6 0 3 0 3 0 6 0 6 0 3 0 3 0 3 0 3 0 6 0 3 0 3 0 3 0 9 0 12 0 9 0 12 0 3 0 3 0 6 0 3 0 6 0 3 0 3 0 3 0 3 0 3 0 6 0 6 0 3 0 3 0 3 0 6 0 3 0 3 0 3 0 3 0 3 0 3 0 3 0 3 0 3 0 3 0 3 0 3 0 3 0 3 0 3 0 3 0 3 0 3 0 6 0 3 0 3 0 3 0 3 0 3 0 3 0 6 0 3 0 3 0 3 0 3 0 3 0 3 0 3 0 3 0 3 0 9 0 3 0 3 0 3 0 3 0 3 0 3 0 12 0 3 0 6 0 3 0 9 0 3 0 9 0 6 0 3 0 3 0 3 0 3 0 3 0 6 0 3 0 3 0 3 0 3 0 3 0 3 0 3 0 3 0 3 0 3 0 3 0 6 0 3 0 3 0 9 0 9 0 3 0 3 0 3 0 6 0 18 0 3 0 3 0 6 0 3 0 12 0 3 0 3 0 3 0 3 0 3 0 6 0 3 0 9 0 6 0 3 0 6 0 3 0 3 0 3 0 3 0 6 0 9 0 15 0 6 0 3 0 6 0 3 0 3 0 3 0 9 0 9 0 3 0 3 0 6 0 3 0 3 0 3 0 6 0 3 0 3 0 15 0 6 0 3 0 3 0 3 0 3 0 3 0 3 0 3 0 12 0 3 0 6 0 9 0 9999"/><path d="M-489 630.69H489.01" stroke-dasharray="0 9 0 3 0 6 0 3 0 3 0 9 0 6 0 3 0 6 0 6 0 3 0 6 0 6 0 6 0 3 0 3 0 3 0 6 0 9 0 6 0 6 0 3 0 12 0 3 0 3 0 3 0 3 0 6 0 3 0 3 0 21 0 6 0 3 0 3 0 6 0 3 0 3 0 3 0 3 0 15 0 3 0 3 0 3 0 3 0 6 0 3 0 6 0 3 0 3 0 3 0 9 0 3 0 3 0 6 0 21 0 3 0 6 0 3 0 6 0 3 0 3 0 3 0 9 0 3 0 3 0 3 0 6 0 3 0 6 0 3 0 3 0 3 0 6 0 3 0 6 0 3 0 6 0 3 0 12 0 3 0 3 0 3 0 3 0 3 0 3 0 3 0 3 0 6 0 3 0 6 0 3 0 3 0 6 0 3 0 3 0 3 0 3 0 3 0 3 0 3 0 6 0 6 0 3 0 3 0 3 0 3 0 3 0 3 0 3 0 3 0 3 0 3 0 3 0 3 0 3 0 3 0 3 0 3 0 3 0 6 0 3 0 3 0 6 0 3 0 3 0 3 0 3 0 3 0 3 0 9 0 9 0 3 0 6 0 9 0 3 0 3 0 3 0 6 0 3 0 3 0 3 0 9 0 9 0 3 0 3 0 3 0 6 0 3 0 3 0 15 0 6 0 6 0 6 0 3 0 3 0 3 0 9 0 3 0 3 0 6 0 6 0 3 0 6 0 6 0 3 0 27 0 3 0 3 0 9 0 3 0 6 0 6 0 3 0 9 0 3 0 9 0 12 0 9 0 3 0 3 0 3 0 3 0 6 0 9 0 3 0 3 0 12 0 6 0 3 0 6 0 3 0 3 0 3 0 6 0 6 0 3 0 3 0 6 0 3 0 6 0 3 0 6 0 6 0 9999"/><path d="M-488 630.69H490.01" stroke-dasharray="0 6 0 3 0 12 0 6 0 3 0 3 0 3 0 12 0 3 0 3 0 3 0 6 0 6 0 3 0 9 0 6 0 3 0 15 0 12 0 6 0 3 0 3 0 3 0 3 0 3 0 3 0 3 0 6 0 3 0 6 0 6 0 3 0 3 0 3 0 3 0 3 0 15 0 3 0 6 0 3 0 6 0 6 0 3 0 3 0 9 0 3 0 3 0 3 0 3 0 6 0 9 0 3 0 3 0 3 0 3 0 6 0 3 0 3 0 3 0 3 0 3 0 3 0 3 0 3 0 3 0 3 0 3 0 12 0 3 0 3 0 6 0 3 0 6 0 3 0 3 0 3 0 3 0 6 0 9 0 3 0 3 0 3 0 3 0 3 0 3 0 3 0 6 0 6 0 3 0 3 0 6 0 3 0 3 0 3 0 3 0 3 0 6 0 3 0 3 0 3 0 3 0 6 0 3 0 3 0 3 0 3 0 3 0 6 0 6 0 3 0 3 0 3 0 3 0 3 0 3 0 3 0 6 0 3 0 3 0 3 0 3 0 3 0 3 0 3 0 3 0 3 0 3 0 3 0 6 0 3 0 3 0 3 0 3 0 6 0 3 0 3 0 3 0 6 0 3 0 3 0 6 0 3 0 3 0 3 0 3 0 3 0 3 0 6 0 3 0 12 0 3 0 3 0 12 0 6 0 6 0 9 0 3 0 3 0 3 0 6 0 3 0 3 0 3 0 9 0 3 0 3 0 9 0 9 0 6 0 6 0 3 0 3 0 3 0 6 0 3 0 3 0 3 0 3 0 9 0 6 0 9 0 6 0 3 0 3 0 6 0 6 0 9 0 3 0 3 0 6 0 9 0 18 0 3 0 9 0 3 0 6 0 3 0 3 0 9 0 21 0 6 0 3 0 3 0 9 0 3 0 6 0 6 0 3 0 3 0 3 0 6 0 3 0 3 0 9999"/><path d="M-490 630.69H490.01" stroke-dasharray="0 6 0 2 0 7 0 6 0 4 0 4 0 7 0 2 0 11 0 4 0 2 0 10 0 5 0 2 0 3 1 3 0 5 1 4 0 2 0 8 1 2 0 3 0 2 0 4 0 3 0 5 0 4 0 2 0 2 2 4 0 12 0 6 1 16 0 2 0 4 0 6 0 3 0 13 0 3 0 8 0 2 0 13 0 7 0 2 0 7 0 7 0 3 0 2 0 2 0 6 0 3 0 2 0 3 0 2 2 5 0 9 0 4 0 5 0 2 0 2 0 2 1 2 1 2 0 9 0 8 0 2 0 2 0 3 0 2 0 2 0 4 0 3 0 6 0 3 0 6 0 2 4 5 0 4 0 2 0 2 0 3 0 3 1 7 1 3 1 2 1 5 1 6 0 2 0 2 3 2 0 2 1 2 1 6 0 2 2 5 0 3 2 2 5 2 2 3 3 3 1 2 3 2 0 2 0 2 0 2 0 2 2 2 0 2 0 3 0 2 3 2 2 2 0 3 3 2 1 2 3 2 4 2 0 2 1 2 0 2 4 3 5 2 3 2 0 4 0 5 0 2 0 3 1 3 0 2 3 5 0 3 0 6 0 6 2 7 0 2 1 6 0 2 0 2 2 2 0 2 2 3 0 8 0 2 0 2 1 5 0 4 0 6 0 6 1 2 0 14 0 6 0 3 1 6 0 2 0 2 0 12 0 3 1 3 1 6 0 2 0 2 0 3 0 3 1 6 0 4 2 2 2 2 1 2 0 5 0 3 0 19 0 6 0 2 0 5 0 11 0 13 2 2 0 11 1 17 0 4 0 2 0 9 0 14 0 3 0 9 2 10 1 3 0 7 0 8 0 9 0 5 2 2 0 3 0 4 0 7 0 2 0 4 0 3 0 2 0 5 0 4 0 7 0 9999"/><path d="M-490 630.69H449.01" stroke-dasharray="0 21 0 4 0 4 0 26 0 10 0 20 0 17 0 23 0 3 0 55 0 13 0 3 0 30 0 34 0 3 0 2 0 16 0 9 0 4 0 17 0 10 0 7 0 24 0 5 1 19 1 7 1 4 0 8 0 7 0 4 2 3 0 2 1 2 0 9 0 7 0 7 2 2 1 2 1 4 1 6 0 2 0 2 1 2 0 4 0 5 1 4 0 3 0 3 1 3 2 5 1 2 0 2 1 2 3 2 2 2 0 4 0 6 0 2 1 3 0 2 0 3 0 4 0 21 0 5 0 22 0 9 0 12 0 28 0 39 0 3 0 7 0 4 0 26 0 4 0 6 1 15 0 39 0 7 0 28 0 70 0 16 0 29 0 2 0 2 0 9999"/><path d="M-490 626.84H488.01" stroke-dasharray="0 3 0 9 0 9 0 6 0 6 0 3 0 3 0 3 0 6 0 3 0 6 0 3 0 9 0 6 0 3 0 3 0 3 0 6 0 3 0 6 0 3 0 3 0 6 0 9 0 6 0 6 0 9 0 3 0 3 0 12 0 12 0 3 0 3 0 6 0 3 0 6 0 3 0 3 0 15 0 3 0 6 0 3 0 3 0 9 0 3 0 3 0 3 0 3 0 3 0 3 0 3 0 3 0 9 0 6 0 3 0 6 0 3 0 3 0 6 0 9 0 3 0 3 0 3 0 3 0 3 0 6 0 6 0 3 0 3 0 12 0 6 0 3 0 3 0 9 0 3 0 3 0 3 0 3 0 3 0 3 0 3 0 3 0 3 0 3 0 3 0 3 0 3 0 3 0 3 0 3 0 3 0 3 0 3 0 3 0 6 0 3 0 3 0 3 0 3 0 3 0 3 0 3 0 3 0 3 0 3 0 3 0 3 0 3 0 3 0 3 0 3 0 3 0 3 0 3 0 3 0 3 0 3 0 3 0 3 0 3 0 3 0 3 0 3 0 3 0 3 0 3 0 3 0 3 0 3 0 6 0 6 0 3 0 3 0 3 0 3 0 3 0 3 0 6 0 6 0 3 0 6 0 3 0 3 0 3 0 3 0 3 0 3 0 6 0 3 0 3 0 3 0 6 0 3 0 3 0 3 0 3 0 6 0 3 0 6 0 3 0 9 0 3 0 3 0 3 0 3 0 3 0 3 0 9 0 3 0 12 0 9 0 6 0 3 0 3 0 3 0 3 0 3 0 3 0 3 0 3 0 6 0 3 0 6 0 9 0 3 0 3 0 3 0 3 0 3 0 9 0 6 0 3 0 9 0 3 0 3 0 9 0 6 0 6 0 9 0 9 0 3 0 6 0 3 0 3 0 3 0 3 0 3 0 3 0 6 0 3 0 18 0 3 0 6 0 3 0 3 0 3 0 6 0 3 0 6 0 3 0 6 0 3 0 3 0 3 0 3 0 9 0 9999"/><path d="M-489 626.84H489.01" stroke-dasharray="0 3 0 3 0 6 0 3 0 9 0 6 0 3 0 3 0 3 0 3 0 3 0 6 0 3 0 15 0 6 0 3 0 9 0 12 0 3 0 6 0 6 0 12 0 6 0 6 0 3 0 9 0 6 0 9 0 3 0 3 0 3 0 6 0 12 0 6 0 9 0 15 0 6 0 6 0 9 0 3 0 6 0 6 0 3 0 3 0 18 0 6 0 3 0 3 0 6 0 3 0 6 0 3 0 3 0 6 0 6 0 3 0 3 0 3 0 9 0 3 0 3 0 3 0 9 0 3 0 6 0 3 0 3 0 3 0 9 0 3 0 3 0 3 0 3 0 3 0 3 0 6 0 6 0 3 0 3 0 3 0 3 0 3 0 3 0 3 0 6 0 3 0 3 0 3 0 3 0 3 0 6 0 3 0 3 0 9 0 3 0 3 0 3 0 3 0 3 0 6 0 3 0 3 0 3 0 3 0 3 0 3 0 3 0 3 0 3 0 3 0 3 0 3 0 3 0 3 0 3 0 3 0 6 0 3 0 3 0 3 0 3 0 3 0 9 0 9 0 9 0 12 0 3 0 3 0 6 0 6 0 6 0 3 0 3 0 3 0 6 0 6 0 3 0 3 0 6 0 3 0 9 0 3 0 3 0 6 0 3 0 3 0 3 0 6 0 3 0 6 0 3 0 6 0 3 0 3 0 3 0 3 0 6 0 3 0 3 0 6 0 9 0 9 0 3 0 6 0 3 0 6 0 6 0 3 0 3 0 3 0 9 0 3 0 3 0 3 0 3 0 3 0 12 0 3 0 9 0 6 0 3 0 6 0 6 0 6 0 12 0 3 0 12 0 6 0 3 0 6 0 3 0 3 0 3 0 3 0 3 0 6 0 3 0 3 0 6 0 3 0 3 0 6 0 3 0 3 0 3 0 9999"/><path d="M-485 626.84H490.01" stroke-dasharray="0 3 0 3 0 3 0 3 0 3 0 6 0 3 0 6 0 3 0 9 0 3 0 3 0 3 0 9 0 3 0 6 0 6 0 3 0 6 0 3 0 6 0 3 0 9 0 9 0 9 0 3 0 3 0 9 0 12 0 3 0 3 0 3 0 6 0 24 0 6 0 15 0 6 0 6 0 3 0 6 0 3 0 3 0 6 0 6 0 3 0 3 0 9 0 3 0 3 0 3 0 6 0 9 0 3 0 3 0 9 0 3 0 3 0 9 0 3 0 3 0 3 0 6 0 3 0 3 0 3 0 3 0 3 0 3 0 6 0 3 0 3 0 6 0 9 0 3 0 3 0 3 0 3 0 3 0 3 0 3 0 3 0 3 0 3 0 3 0 3 0 3 0 3 0 6 0 6 0 3 0 3 0 3 0 3 0 3 0 3 0 9 0 3 0 3 0 3 0 3 0 6 0 3 0 3 0 6 0 3 0 3 0 6 0 3 0 6 0 3 0 3 0 3 0 3 0 3 0 3 0 3 0 3 0 3 0 3 0 3 0 3 0 3 0 3 0 3 0 3 0 3 0 6 0 3 0 3 0 3 0 3 0 3 0 3 0 6 0 3 0 3 0 3 0 3 0 3 0 3 0 3 0 12 0 6 0 3 0 3 0 3 0 3 0 3 0 3 0 6 0 3 0 3 0 3 0 6 0 3 0 3 0 3 0 9 0 3 0 6 0 9 0 6 0 9 0 3 0 9 0 3 0 3 0 6 0 3 0 6 0 6 0 3 0 6 0 3 0 3 0 6 0 3 0 3 0 12 0 3 0 3 0 12 0 6 0 3 0 3 0 3 0 6 0 3 0 3 0 3 0 3 0 6 0 3 0 6 0 3 0 3 0 3 0 18 0 3 0 3 0 3 0 12 0 3 0 9 0 3 0 6 0 6 0 3 0 3 0 9 0 15 0 6 0 9999"/><path d="M-490 626.84H490.01" stroke-dasharray="1 2 2 2 0 5 0 4 1 8 1 9 1 7 0 4 0 5 0 17 0 6 1 5 0 2 1 5 1 2 0 6 0 2 1 4 0 4 1 5 0 5 0 12 0 2 0 5 0 3 2 3 0 4 0 8 0 2 0 9 1 4 0 6 0 2 0 3 0 9 0 3 2 8 0 5 0 8 2 2 0 2 1 2 0 10 0 3 0 9 0 9 1 16 1 9 1 2 0 2 0 3 0 3 0 2 0 11 4 5 0 5 1 5 0 2 0 2 1 2 0 5 0 7 0 5 0 4 0 2 0 3 0 2 0 6 3 2 0 3 1 8 6 4 5 4 0 2 0 2 3 3 0 2 0 2 4 2 0 2 2 5 1 2 1 4 7 2 1 3 1 2 1 4 0 2 2 2 3 4 0 2 1 3 0 2 0 2 0 3 8 3 3 3 1 2 5 3 3 3 2 2 1 2 8 2 4 2 5 3 0 3 0 2 1 2 0 4 2 3 0 6 2 2 0 2 0 4 1 4 1 2 3 3 1 7 1 5 0 5 1 4 2 7 1 2 0 9 1 7 1 3 0 3 0 4 1 2 0 3 0 2 0 4 0 2 0 11 0 9 0 6 0 9 0 2 1 5 1 3 0 2 1 2 1 5 0 2 0 7 0 8 0 7 1 7 0 2 0 2 3 18 0 10 0 8 0 10 0 3 0 3 1 14 0 4 1 2 0 6 2 2 0 5 0 4 0 3 0 2 0 10 0 7 0 2 0 8 0 10 0 2 1 6 1 2 2 2 1 6 0 9 0 2 0 8 0 7 0 9 0 6 1 9999"/><path d="M-487 626.84H490.01" stroke-dasharray="0 2 0 11 0 9 1 17 0 26 0 78 0 12 0 120 0 14 0 6 0 2 0 25 0 6 0 2 0 28 0 11 0 2 0 3 0 13 1 2 0 8 3 14 0 2 0 2 1 3 0 2 0 2 0 7 1 8 1 5 0 2 0 7 1 6 0 2 0 3 0 2 0 4 0 2 1 3 0 2 0 5 3 2 0 2 1 4 2 4 0 5 0 2 0 3 2 4 0 2 0 6 0 4 2 3 2 2 0 2 0 2 0 3 0 3 0 3 0 2 0 9 0 3 0 10 0 2 0 4 0 9 0 6 0 13 0 6 0 5 1 7 0 20 0 4 0 3 0 7 0 5 0 4 0 37 0 8 0 6 0 4 0 5 0 9 0 23 0 5 2 36 0 13 0 3 0 19 0 3 0 6 0 2 0 53 0 9 0 7 0 7 0 9 0 17 0 16 0 9999"/><path d="M-484 622.99H488.01" stroke-dasharray="0 6 0 3 0 3 0 6 0 12 0 3 0 3 0 3 0 3 0 3 0 6 0 3 0 3 0 3 0 15 0 3 0 3 0 3 0 6 0 6 0 12 0 12 0 3 0 3 0 6 0 12 0 6 0 6 0 15 0 6 0 3 0 3 0 6 0 6 0 6 0 9 0 3 0 9 0 6 0 3 0 3 0 9 0 3 0 3 0 3 0 3 0 6 0 3 0 3 0 9 0 3 0 3 0 9 0 3 0 3 0 3 0 6 0 9 0 3 0 3 0 9 0 9 0 3 0 3 0 3 0 3 0 6 0 3 0 6 0 3 0 3 0 3 0 3 0 3 0 3 0 3 0 3 0 6 0 3 0 3 0 3 0 3 0 3 0 3 0 6 0 3 0 6 0 3 0 3 0 3 0 3 0 3 0 3 0 3 0 3 0 3 0 3 0 3 0 3 0 3 0 3 0 3 0 3 0 6 0 3 0 3 0 3 0 6 0 3 0 3 0 3 0 3 0 3 0 3 0 3 0 3 0 3 0 3 0 6 0 3 0 3 0 3 0 3 0 6 0 3 0 3 0 3 0 3 0 3 0 3 0 3 0 3 0 3 0 3 0 3 0 3 0 3 0 3 0 3 0 3 0 6 0 3 0 3 0 15 0 3 0 3 0 3 0 3 0 3 0 6 0 3 0 3 0 15 0 6 0 3 0 3 0 9 0 9 0 3 0 3 0 3 0 3 0 9 0 6 0 3 0 6 0 6 0 3 0 9 0 9 0 3 0 3 0 3 0 3 0 24 0 3 0 9 0 9 0 3 0 6 0 3 0 3 0 6 0 3 0 12 0 6 0 12 0 3 0 3 0 9 0 3 0 3 0 6 0 3 0 3 0 6 0 9 0 6 0 3 0 3 0 3 0 3 0 3 0 12 0 6 0 9 0 3 0 9999"/><path d="M-486 622.99H489.01" stroke-dasharray="0 3 0 3 0 3 0 3 0 3 0 9 0 9 0 6 0 12 0 6 0 9 0 3 0 3 0 3 0 12 0 6 0 3 0 3 0 6 0 3 0 3 0 3 0 3 0 3 0 3 0 12 0 9 0 3 0 6 0 3 0 3 0 3 0 3 0 6 0 3 0 3 0 3 0 3 0 3 0 9 0 3 0 3 0 6 0 3 0 3 0 3 0 3 0 6 0 3 0 3 0 3 0 3 0 3 0 3 0 6 0 3 0 3 0 3 0 6 0 6 0 3 0 9 0 3 0 3 0 3 0 3 0 3 0 6 0 3 0 3 0 3 0 3 0 9 0 3 0 9 0 3 0 3 0 3 0 3 0 3 0 3 0 3 0 3 0 3 0 3 0 3 0 3 0 3 0 6 0 6 0 9 0 3 0 3 0 15 0 3 0 6 0 3 0 3 0 3 0 3 0 3 0 3 0 3 0 3 0 3 0 3 0 3 0 3 0 6 0 3 0 3 0 3 0 3 0 3 0 6 0 3 0 3 0 3 0 3 0 3 0 3 0 3 0 3 0 3 0 6 0 3 0 3 0 3 0 3 0 9 0 3 0 3 0 3 0 3 0 3 0 3 0 3 0 3 0 3 0 3 0 3 0 3 0 6 0 3 0 6 0 3 0 3 0 3 0 3 0 3 0 3 0 9 0 3 0 3 0 3 0 3 0 3 0 3 0 3 0 9 0 3 0 6 0 6 0 3 0 3 0 3 0 3 0 9 0 3 0 3 0 9 0 3 0 3 0 6 0 12 0 3 0 6 0 6 0 3 0 3 0 3 0 27 0 6 0 3 0 3 0 15 0 3 0 12 0 15 0 3 0 3 0 6 0 3 0 3 0 3 0 3 0 3 0 6 0 3 0 3 0 3 0 6 0 6 0 3 0 3 0 6 0 3 0 3 0 9 0 3 0 3 0 3 0 3 0 6 0 6 0 6 0 9 0 3 0 3 0 3 0 3 0 3 0 3 0 3 0 9999"/><path d="M-485 622.99H490.01" stroke-dasharray="0 3 0 3 0 3 0 6 0 3 0 3 0 6 0 3 0 3 0 3 0 3 0 3 0 3 0 6 0 12 0 9 0 9 0 3 0 3 0 3 0 3 0 3 0 3 0 6 0 6 0 6 0 9 0 3 0 3 0 6 0 3 0 6 0 3 0 3 0 6 0 3 0 3 0 3 0 6 0 3 0 9 0 3 0 3 0 3 0 6 0 9 0 3 0 6 0 3 0 3 0 3 0 3 0 3 0 15 0 3 0 3 0 3 0 3 0 3 0 3 0 6 0 3 0 3 0 12 0 3 0 3 0 3 0 3 0 3 0 3 0 3 0 3 0 3 0 6 0 3 0 3 0 18 0 9 0 3 0 3 0 3 0 3 0 3 0 6 0 3 0 3 0 3 0 3 0 3 0 3 0 3 0 6 0 6 0 6 0 3 0 3 0 3 0 12 0 3 0 3 0 3 0 3 0 3 0 3 0 3 0 3 0 3 0 3 0 3 0 3 0 6 0 3 0 3 0 3 0 3 0 3 0 3 0 3 0 3 0 3 0 3 0 3 0 3 0 3 0 3 0 3 0 3 0 3 0 6 0 3 0 3 0 3 0 6 0 3 0 3 0 3 0 6 0 3 0 3 0 3 0 3 0 3 0 3 0 6 0 3 0 3 0 3 0 3 0 3 0 3 0 3 0 3 0 9 0 15 0 3 0 9 0 3 0 3 0 6 0 3 0 3 0 9 0 15 0 3 0 6 0 12 0 3 0 3 0 6 0 3 0 3 0 3 0 3 0 3 0 3 0 12 0 12 0 6 0 3 0 6 0 3 0 6 0 3 0 3 0 6 0 6 0 6 0 3 0 3 0 3 0 3 0 3 0 3 0 6 0 3 0 12 0 3 0 9 0 3 0 6 0 3 0 6 0 3 0 6 0 9 0 3 0 3 0 3 0 9 0 3 0 3 0 3 0 3 0 3 0 6 0 3 0 6 0 6 0 6 0 6 0 6 0 9999"/><path d="M-485 622.99H486.01" stroke-dasharray="0 2 0 4 0 4 1 4 0 12 0 6 0 9 1 12 1 2 0 3 0 13 0 2 0 5 0 6 0 8 0 2 2 5 0 3 0 2 0 8 0 4 0 6 0 5 2 13 0 8 0 17 1 5 0 4 0 3 0 4 1 11 0 11 1 5 1 4 0 6 0 13 0 10 0 2 0 9 0 5 0 13 0 3 0 3 0 11 0 8 0 6 0 4 0 2 0 5 0 3 1 3 0 5 0 3 0 5 1 2 1 6 0 3 1 2 0 2 0 4 3 3 3 2 0 2 0 2 0 2 0 3 0 3 0 3 0 2 0 2 2 2 0 2 0 2 0 6 0 6 1 7 1 2 0 2 0 2 1 2 1 2 2 3 3 2 3 2 5 2 5 2 3 2 2 2 1 3 0 2 0 3 1 2 9 2 2 2 1 3 0 2 4 2 4 2 12 2 0 5 0 2 8 3 0 4 5 2 0 5 0 4 1 2 0 2 0 3 0 4 4 2 0 2 0 3 2 3 0 3 0 3 1 3 0 2 0 12 0 5 0 3 1 5 0 2 0 3 0 8 0 2 2 3 0 8 1 5 0 3 0 5 0 12 2 3 0 6 2 2 0 7 0 4 0 9 0 6 0 4 0 2 0 2 1 2 2 4 0 7 0 13 0 6 0 10 0 10 0 11 0 4 0 6 0 4 0 9 0 10 0 9 0 10 0 2 0 2 0 5 0 2 1 2 0 3 0 2 0 2 0 8 0 3 0 11 0 3 0 2 0 6 0 11 0 3 0 4 0 6 0 2 0 5 0 8 0 4 0 2 0 6 0 2 0 4 2 9999"/><path d="M-409 622.99H486.01" stroke-dasharray="0 5 0 17 1 33 0 46 0 4 0 3 0 16 0 18 0 44 0 18 0 35 0 22 0 8 1 6 0 8 0 7 0 4 1 7 0 15 2 2 0 4 0 6 0 6 1 7 0 3 0 2 0 3 0 7 0 3 0 2 0 4 1 3 0 2 3 3 0 2 1 6 0 2 2 2 0 4 0 2 0 6 4 3 0 2 0 2 2 2 1 3 0 5 1 2 0 2 1 5 0 3 3 4 0 2 0 5 0 5 1 4 0 9 2 3 0 9 0 8 0 5 1 9 0 2 0 9 1 31 0 15 0 2 0 25 0 12 0 49 0 9 0 26 0 10 0 25 0 6 0 4 0 19 0 38 0 13 0 11 0 5 0 24 0 8 0 5 0 8 0 4 0 15 1 9999"/><path d="M-484 619.15H488.01" stroke-dasharray="0 3 0 9 0 3 0 9 0 3 0 6 0 3 0 6 0 3 0 9 0 3 0 18 0 3 0 3 0 9 0 3 0 3 0 3 0 3 0 3 0 3 0 6 0 3 0 3 0 9 0 3 0 3 0 3 0 6 0 6 0 3 0 6 0 12 0 3 0 6 0 3 0 3 0 15 0 9 0 12 0 3 0 15 0 3 0 21 0 3 0 3 0 15 0 12 0 9 0 3 0 3 0 3 0 3 0 3 0 6 0 3 0 6 0 6 0 3 0 6 0 3 0 3 0 3 0 3 0 3 0 3 0 3 0 3 0 3 0 3 0 3 0 3 0 9 0 3 0 3 0 3 0 3 0 3 0 6 0 3 0 3 0 3 0 3 0 3 0 6 0 3 0 3 0 3 0 6 0 3 0 3 0 3 0 3 0 3 0 3 0 3 0 9 0 3 0 3 0 3 0 3 0 3 0 3 0 3 0 3 0 6 0 3 0 3 0 6 0 3 0 3 0 3 0 3 0 3 0 3 0 3 0 6 0 3 0 6 0 3 0 3 0 12 0 3 0 3 0 3 0 3 0 3 0 3 0 3 0 3 0 3 0 3 0 3 0 3 0 3 0 6 0 3 0 3 0 3 0 3 0 3 0 6 0 3 0 3 0 15 0 3 0 3 0 6 0 3 0 3 0 3 0 3 0 12 0 6 0 3 0 3 0 9 0 15 0 3 0 3 0 3 0 6 0 3 0 12 0 6 0 9 0 9 0 3 0 3 0 3 0 6 0 3 0 9 0 3 0 6 0 3 0 3 0 6 0 3 0 3 0 9 0 3 0 6 0 6 0 6 0 9 0 9 0 6 0 9 0 3 0 9 0 3 0 3 0 6 0 3 0 6 0 6 0 6 0 3 0 3 0 3 0 3 0 6 0 9999"/><path d="M-489 619.15H486.01" stroke-dasharray="0 9 0 3 0 3 0 3 0 6 0 3 0 3 0 15 0 15 0 3 0 6 0 15 0 9 0 3 0 3 0 6 0 6 0 6 0 6 0 3 0 6 0 3 0 3 0 3 0 3 0 3 0 3 0 3 0 3 0 3 0 9 0 3 0 6 0 6 0 6 0 6 0 3 0 9 0 3 0 3 0 3 0 6 0 6 0 3 0 3 0 6 0 15 0 9 0 6 0 3 0 3 0 3 0 24 0 3 0 3 0 9 0 6 0 3 0 9 0 6 0 3 0 3 0 6 0 3 0 6 0 3 0 6 0 3 0 3 0 3 0 9 0 3 0 6 0 9 0 3 0 3 0 3 0 3 0 9 0 3 0 3 0 3 0 3 0 9 0 3 0 3 0 3 0 3 0 3 0 3 0 6 0 3 0 6 0 3 0 3 0 3 0 3 0 3 0 3 0 3 0 3 0 3 0 6 0 3 0 6 0 3 0 3 0 3 0 3 0 3 0 3 0 3 0 3 0 3 0 3 0 3 0 3 0 3 0 3 0 3 0 3 0 3 0 12 0 6 0 6 0 6 0 6 0 6 0 3 0 3 0 3 0 3 0 3 0 6 0 3 0 3 0 6 0 3 0 3 0 3 0 3 0 9 0 18 0 3 0 3 0 6 0 3 0 6 0 3 0 9 0 3 0 3 0 6 0 3 0 6 0 6 0 12 0 3 0 3 0 3 0 3 0 6 0 3 0 3 0 3 0 6 0 3 0 3 0 3 0 15 0 3 0 6 0 6 0 3 0 6 0 3 0 3 0 3 0 15 0 6 0 3 0 3 0 3 0 6 0 6 0 3 0 3 0 3 0 9 0 3 0 12 0 3 0 3 0 3 0 3 0 3 0 3 0 3 0 6 0 12 0 3 0 3 0 3 0 9999"/><path d="M-488 619.15H487.01" stroke-dasharray="0 6 0 3 0 3 0 3 0 6 0 3 0 9 0 18 0 6 0 3 0 3 0 6 0 12 0 3 0 3 0 3 0 12 0 3 0 6 0 6 0 6 0 6 0 3 0 9 0 3 0 3 0 3 0 3 0 6 0 6 0 6 0 6 0 3 0 6 0 6 0 3 0 3 0 3 0 3 0 6 0 9 0 3 0 9 0 3 0 3 0 3 0 3 0 6 0 6 0 15 0 6 0 6 0 3 0 9 0 3 0 3 0 12 0 3 0 3 0 3 0 3 0 6 0 9 0 3 0 3 0 6 0 9 0 6 0 6 0 3 0 3 0 6 0 3 0 3 0 3 0 3 0 3 0 3 0 3 0 3 0 3 0 3 0 3 0 3 0 3 0 6 0 3 0 3 0 3 0 6 0 3 0 9 0 3 0 3 0 3 0 3 0 3 0 6 0 3 0 3 0 3 0 3 0 3 0 3 0 3 0 3 0 3 0 3 0 3 0 3 0 6 0 3 0 3 0 3 0 3 0 3 0 3 0 3 0 3 0 3 0 3 0 3 0 3 0 3 0 3 0 3 0 6 0 6 0 6 0 3 0 3 0 3 0 3 0 3 0 3 0 3 0 6 0 3 0 6 0 6 0 9 0 3 0 3 0 3 0 3 0 3 0 3 0 12 0 3 0 9 0 3 0 6 0 3 0 9 0 6 0 3 0 3 0 3 0 3 0 3 0 3 0 12 0 3 0 3 0 3 0 12 0 3 0 9 0 18 0 3 0 3 0 3 0 15 0 9 0 6 0 9 0 6 0 3 0 9 0 9 0 3 0 3 0 3 0 3 0 12 0 3 0 3 0 3 0 3 0 6 0 3 0 6 0 6 0 3 0 9 0 6 0 6 0 3 0 6 0 3 0 3 0 3 0 3 0 3 0 6 0 3 0 3 0 9999"/><path d="M-488 619.15H487.01" stroke-dasharray="0 6 0 3 0 7 0 3 0 2 0 2 0 5 0 3 0 20 0 6 0 2 0 3 1 6 0 10 0 6 0 2 0 5 0 2 1 3 0 7 1 5 0 6 0 6 0 2 0 7 0 5 0 2 2 7 0 2 0 2 2 3 0 2 0 6 0 17 0 4 1 5 0 2 1 3 0 6 0 2 0 4 0 5 0 4 0 8 0 3 1 2 0 10 1 5 0 5 0 9 0 6 0 3 0 2 0 4 0 7 0 15 0 2 0 6 0 2 0 2 0 3 2 4 2 7 1 9 1 5 0 3 0 4 0 9 0 2 0 3 0 3 2 5 0 2 1 4 0 3 3 2 1 3 0 2 0 4 0 4 4 2 0 3 2 4 0 2 1 3 3 2 6 2 0 4 1 2 0 4 0 4 2 2 4 2 3 3 2 2 0 2 1 2 0 3 0 2 1 2 2 3 5 2 0 2 1 2 0 2 0 2 2 2 0 2 0 3 2 2 0 3 0 2 4 3 1 2 1 3 0 3 4 2 0 2 0 2 0 2 0 2 3 3 0 2 0 2 0 4 0 4 0 7 0 2 4 3 1 2 0 3 3 2 0 6 2 2 0 4 2 3 1 9 1 3 0 4 0 2 0 2 1 3 2 9 0 4 0 10 0 18 0 3 2 5 1 3 0 7 0 2 1 2 1 9 1 4 0 11 0 5 1 7 1 3 0 4 0 3 0 15 1 4 0 2 0 7 1 2 1 5 0 13 0 4 0 5 0 10 0 3 0 2 0 3 0 4 0 12 0 9 0 8 0 9 0 2 0 11 0 3 0 6 0 4 1 4 0 13 0 8 0 2 0 3 0 2 0 2 0 3 0 2 0 4 0 3 0 8 0 2 0 4 1 9999"/><path d="M-437 619.15H486.01" stroke-dasharray="0 11 0 32 0 4 0 8 0 5 0 6 0 15 0 5 0 3 0 8 0 4 0 54 0 4 0 17 0 3 0 14 0 10 0 15 0 16 0 45 1 9 0 22 0 5 0 10 0 2 1 8 0 5 0 3 0 2 0 8 0 2 0 19 0 2 0 3 2 3 0 3 0 4 1 12 0 3 2 4 0 2 0 3 0 2 0 4 0 3 0 5 1 2 2 3 0 3 0 2 0 7 0 2 0 3 0 3 0 5 0 2 0 5 0 2 0 2 0 5 0 4 0 3 0 4 1 2 0 4 0 2 0 5 0 2 0 15 0 9 0 2 1 4 1 5 1 2 0 9 1 2 0 9 1 13 0 4 0 5 0 3 2 9 0 35 0 21 0 12 0 29 0 4 0 27 0 10 0 8 0 17 0 15 0 8 0 4 0 40 0 52 0 10 0 6 0 11 0 6 0 9999"/><path d="M-490 615.3H482.01" stroke-dasharray="0 3 0 3 0 12 0 3 0 9 0 3 0 6 0 3 0 3 0 3 0 3 0 3 0 12 0 3 0 3 0 3 0 6 0 6 0 9 0 3 0 9 0 3 0 3 0 6 0 18 0 3 0 3 0 3 0 15 0 3 0 3 0 12 0 3 0 3 0 3 0 3 0 3 0 3 0 3 0 3 0 6 0 3 0 9 0 6 0 3 0 6 0 3 0 3 0 3 0 3 0 6 0 3 0 3 0 6 0 9 0 3 0 6 0 6 0 3 0 3 0 3 0 6 0 9 0 3 0 3 0 3 0 3 0 6 0 3 0 3 0 3 0 3 0 3 0 6 0 3 0 6 0 3 0 3 0 3 0 3 0 3 0 3 0 3 0 3 0 3 0 6 0 3 0 3 0 3 0 6 0 3 0 3 0 3 0 3 0 9 0 3 0 3 0 6 0 3 0 3 0 12 0 3 0 3 0 3 0 3 0 3 0 3 0 3 0 3 0 3 0 3 0 3 0 3 0 3 0 3 0 3 0 3 0 3 0 3 0 3 0 3 0 3 0 6 0 3 0 3 0 9 0 3 0 3 0 3 0 3 0 3 0 3 0 3 0 3 0 3 0 9 0 3 0 3 0 3 0 3 0 3 0 3 0 3 0 3 0 3 0 6 0 3 0 3 0 3 0 3 0 3 0 3 0 6 0 3 0 3 0 3 0 6 0 6 0 3 0 3 0 9 0 9 0 3 0 3 0 12 0 6 0 3 0 3 0 3 0 3 0 6 0 9 0 6 0 6 0 3 0 3 0 3 0 6 0 3 0 3 0 3 0 12 0 3 0 3 0 3 0 3 0 6 0 3 0 6 0 6 0 3 0 3 0 6 0 9 0 6 0 6 0 3 0 3 0 9 0 6 0 3 0 9 0 6 0 3 0 3 0 3 0 3 0 3 0 3 0 3 0 3 0 3 0 6 0 3 0 6 0 3 0 3 0 3 0 3 0 3 0 3 0 3 0 3 0 3 0 3 0 3 0 3 0 6 0 9999"/><path d="M-489 615.3H483.01" stroke-dasharray="0 3 0 9 0 24 0 6 0 3 0 3 0 3 0 6 0 3 0 3 0 3 0 3 0 3 0 3 0 3 0 3 0 12 0 3 0 3 0 3 0 3 0 3 0 3 0 3 0 9 0 3 0 12 0 3 0 9 0 12 0 3 0 3 0 6 0 3 0 3 0 15 0 3 0 3 0 3 0 3 0 12 0 3 0 3 0 9 0 9 0 6 0 6 0 6 0 3 0 3 0 15 0 3 0 12 0 3 0 6 0 3 0 6 0 3 0 6 0 3 0 3 0 3 0 6 0 9 0 3 0 6 0 9 0 3 0 3 0 6 0 9 0 6 0 3 0 3 0 3 0 3 0 3 0 3 0 3 0 3 0 3 0 3 0 3 0 3 0 6 0 3 0 3 0 3 0 3 0 3 0 6 0 3 0 3 0 3 0 3 0 3 0 3 0 3 0 3 0 3 0 3 0 6 0 3 0 3 0 3 0 3 0 3 0 3 0 3 0 3 0 6 0 3 0 3 0 3 0 3 0 6 0 6 0 3 0 3 0 3 0 3 0 3 0 3 0 3 0 3 0 3 0 3 0 3 0 3 0 6 0 3 0 3 0 6 0 3 0 3 0 3 0 6 0 3 0 3 0 6 0 3 0 6 0 6 0 3 0 6 0 3 0 3 0 3 0 3 0 3 0 3 0 15 0 3 0 6 0 3 0 9 0 3 0 24 0 3 0 3 0 6 0 3 0 6 0 3 0 3 0 9 0 3 0 3 0 15 0 6 0 6 0 9 0 3 0 6 0 3 0 3 0 3 0 6 0 3 0 3 0 15 0 9 0 6 0 3 0 6 0 3 0 6 0 3 0 3 0 3 0 6 0 3 0 3 0 6 0 3 0 6 0 3 0 3 0 3 0 6 0 3 0 21 0 3 0 6 0 9999"/><path d="M-485 615.3H490.01" stroke-dasharray="0 3 0 9 0 3 0 9 0 3 0 6 0 3 0 6 0 3 0 6 0 3 0 3 0 6 0 3 0 3 0 3 0 9 0 3 0 3 0 3 0 3 0 6 0 3 0 3 0 3 0 3 0 12 0 3 0 3 0 3 0 3 0 6 0 3 0 3 0 3 0 9 0 3 0 6 0 9 0 3 0 6 0 3 0 3 0 3 0 15 0 3 0 3 0 3 0 6 0 3 0 18 0 6 0 3 0 6 0 3 0 3 0 3 0 6 0 3 0 6 0 3 0 9 0 3 0 3 0 3 0 3 0 3 0 3 0 3 0 12 0 3 0 3 0 3 0 3 0 3 0 3 0 9 0 3 0 3 0 3 0 3 0 3 0 6 0 3 0 3 0 3 0 3 0 6 0 3 0 3 0 3 0 3 0 3 0 6 0 3 0 3 0 3 0 3 0 3 0 3 0 3 0 3 0 3 0 3 0 3 0 3 0 6 0 3 0 3 0 3 0 9 0 3 0 3 0 3 0 3 0 3 0 3 0 3 0 3 0 3 0 3 0 3 0 3 0 3 0 3 0 3 0 3 0 6 0 3 0 3 0 3 0 3 0 3 0 3 0 3 0 3 0 3 0 3 0 3 0 3 0 6 0 6 0 9 0 3 0 3 0 3 0 3 0 3 0 3 0 3 0 6 0 6 0 3 0 3 0 3 0 6 0 6 0 12 0 3 0 6 0 6 0 3 0 9 0 3 0 3 0 3 0 3 0 3 0 6 0 6 0 3 0 12 0 3 0 6 0 6 0 3 0 6 0 9 0 6 0 6 0 3 0 9 0 9 0 6 0 3 0 24 0 3 0 3 0 3 0 3 0 3 0 3 0 3 0 3 0 3 0 6 0 3 0 3 0 3 0 9 0 3 0 3 0 3 0 6 0 6 0 18 0 3 0 3 0 3 0 18 0 3 0 3 0 6 0 6 0 3 0 6 0 6 0 3 0 9999"/><path d="M-486 615.3H490.01" stroke-dasharray="0 16 0 10 0 3 0 5 0 9 1 8 0 3 0 3 0 4 3 4 0 3 1 2 0 3 0 10 0 6 0 8 0 9 0 9 0 17 0 5 0 3 0 14 0 6 0 12 2 3 0 5 1 6 1 2 0 4 0 8 0 2 0 3 0 2 0 4 0 4 0 7 0 8 0 3 0 9 0 5 0 5 0 2 0 9 0 5 0 3 0 16 0 6 2 2 1 5 0 5 0 2 0 5 0 6 0 2 0 3 0 10 0 3 0 5 0 6 0 3 0 3 0 2 0 3 0 3 2 2 0 5 0 2 2 4 0 2 1 2 0 3 5 2 1 5 0 2 1 2 1 2 1 4 0 3 1 2 3 2 1 4 1 2 2 3 0 3 0 5 0 2 2 2 0 2 4 2 0 3 1 2 7 4 1 2 11 2 0 4 6 4 0 2 0 2 1 5 0 4 0 2 0 2 0 2 1 3 3 2 2 3 1 2 0 2 4 2 3 2 2 4 1 2 0 2 2 4 1 4 2 5 0 3 0 5 1 2 0 3 2 2 0 3 1 2 0 2 0 2 3 4 0 6 1 4 1 7 1 3 0 4 0 4 0 2 0 6 1 11 0 8 0 7 0 5 0 2 0 3 0 3 0 12 0 2 0 7 1 7 0 2 0 5 0 2 0 19 1 18 0 11 0 3 0 7 0 5 0 3 0 3 0 4 0 7 0 3 1 2 0 3 0 6 1 2 0 4 0 9 2 3 2 2 1 7 1 13 0 2 0 6 0 9 0 4 0 5 0 4 1 2 0 2 0 3 1 5 0 4 1 4 0 15 0 10 0 4 0 3 0 9999"/><path d="M-486 615.3H458.01" stroke-dasharray="0 29 0 23 0 20 0 6 0 10 0 6 0 8 0 35 0 5 0 40 0 15 0 19 0 61 0 3 0 22 0 4 0 18 0 6 0 15 0 8 0 6 0 16 0 7 0 3 0 8 0 2 0 5 2 11 0 3 1 2 0 5 0 4 0 2 3 7 1 3 0 4 0 3 0 5 0 3 0 3 0 2 4 6 0 4 4 5 1 3 0 3 0 2 2 2 1 2 0 4 1 3 0 2 0 4 0 2 0 8 0 6 0 2 0 2 0 7 0 2 1 4 1 2 0 2 0 2 1 4 0 6 0 5 0 2 0 3 1 4 0 7 0 13 1 2 0 3 0 2 0 6 0 7 1 11 0 5 0 8 0 40 0 7 0 5 0 20 0 45 0 33 0 22 0 7 0 6 0 9 0 17 0 4 0 4 1 7 0 45 0 22 0 9999"/><path d="M-487 611.45H488.01" stroke-dasharray="0 6 0 3 0 3 0 3 0 3 0 3 0 6 0 3 0 12 0 3 0 3 0 3 0 3 0 6 0 3 0 3 0 3 0 15 0 6 0 12 0 9 0 6 0 3 0 6 0 3 0 3 0 15 0 9 0 9 0 3 0 3 0 3 0 6 0 9 0 3 0 3 0 3 0 3 0 3 0 3 0 3 0 3 0 3 0 3 0 3 0 6 0 3 0 3 0 3 0 3 0 3 0 3 0 3 0 3 0 9 0 9 0 3 0 3 0 3 0 6 0 6 0 3 0 6 0 3 0 6 0 6 0 3 0 3 0 6 0 3 0 3 0 3 0 3 0 3 0 3 0 6 0 3 0 3 0 6 0 3 0 3 0 3 0 6 0 3 0 3 0 3 0 6 0 3 0 3 0 3 0 3 0 3 0 3 0 3 0 3 0 3 0 3 0 3 0 6 0 3 0 3 0 3 0 3 0 3 0 3 0 3 0 6 0 3 0 3 0 3 0 6 0 3 0 6 0 3 0 3 0 3 0 3 0 3 0 3 0 3 0 3 0 3 0 3 0 6 0 6 0 3 0 3 0 3 0 3 0 3 0 3 0 3 0 3 0 3 0 3 0 6 0 6 0 3 0 3 0 6 0 12 0 9 0 12 0 3 0 3 0 3 0 3 0 3 0 9 0 3 0 3 0 3 0 3 0 3 0 3 0 6 0 3 0 3 0 9 0 6 0 3 0 3 0 3 0 3 0 3 0 6 0 3 0 6 0 6 0 3 0 6 0 3 0 6 0 3 0 3 0 6 0 3 0 3 0 9 0 3 0 3 0 6 0 3 0 6 0 9 0 6 0 3 0 3 0 3 0 3 0 6 0 18 0 3 0 3 0 3 0 3 0 3 0 9 0 3 0 6 0 3 0 3 0 3 0 9 0 6 0 3 0 3 0 6 0 3 0 3 0 3 0 3 0 6 0 3 0 9 0 6 0 3 0 9 0 3 0 6 0 6 0 3 0 6 0 9999"/><path d="M-489 611.45H486.01" stroke-dasharray="0 6 0 9 0 3 0 12 0 3 0 6 0 3 0 3 0 9 0 3 0 3 0 3 0 3 0 9 0 3 0 12 0 9 0 3 0 3 0 3 0 9 0 3 0 3 0 24 0 12 0 3 0 3 0 3 0 3 0 3 0 3 0 3 0 3 0 3 0 3 0 3 0 3 0 3 0 3 0 6 0 3 0 9 0 3 0 3 0 9 0 3 0 9 0 15 0 3 0 3 0 3 0 3 0 9 0 6 0 6 0 6 0 9 0 9 0 3 0 6 0 3 0 3 0 6 0 6 0 3 0 3 0 6 0 9 0 3 0 3 0 9 0 6 0 3 0 3 0 3 0 3 0 3 0 3 0 3 0 3 0 3 0 3 0 3 0 3 0 6 0 3 0 3 0 3 0 3 0 6 0 3 0 3 0 3 0 6 0 3 0 3 0 3 0 3 0 3 0 3 0 3 0 3 0 3 0 6 0 3 0 3 0 3 0 3 0 6 0 3 0 3 0 3 0 3 0 3 0 3 0 3 0 6 0 3 0 6 0 3 0 6 0 3 0 3 0 3 0 3 0 6 0 9 0 3 0 3 0 9 0 3 0 3 0 3 0 9 0 3 0 3 0 3 0 3 0 3 0 3 0 3 0 6 0 3 0 3 0 6 0 3 0 3 0 18 0 6 0 12 0 3 0 9 0 3 0 3 0 3 0 3 0 9 0 6 0 15 0 3 0 6 0 6 0 3 0 6 0 6 0 9 0 6 0 6 0 6 0 12 0 6 0 3 0 3 0 3 0 9 0 3 0 6 0 6 0 6 0 12 0 3 0 6 0 6 0 9 0 15 0 6 0 3 0 6 0 12 0 9 0 9 0 3 0 3 0 6 0 9999"/><path d="M-485 611.45H478.01" stroke-dasharray="0 18 0 6 0 12 0 3 0 3 0 15 0 15 0 6 0 12 0 9 0 21 0 3 0 3 0 9 0 3 0 6 0 3 0 3 0 3 0 6 0 3 0 3 0 9 0 6 0 12 0 15 0 3 0 3 0 3 0 6 0 9 0 3 0 3 0 6 0 6 0 3 0 6 0 3 0 9 0 3 0 6 0 9 0 6 0 18 0 9 0 3 0 18 0 3 0 3 0 3 0 3 0 6 0 3 0 3 0 3 0 3 0 3 0 3 0 6 0 3 0 6 0 3 0 3 0 3 0 3 0 3 0 3 0 3 0 3 0 6 0 3 0 3 0 3 0 3 0 3 0 3 0 3 0 3 0 3 0 6 0 3 0 3 0 3 0 3 0 6 0 3 0 6 0 3 0 3 0 3 0 3 0 3 0 3 0 3 0 3 0 3 0 3 0 3 0 3 0 3 0 3 0 3 0 3 0 6 0 3 0 3 0 3 0 3 0 3 0 6 0 3 0 3 0 6 0 3 0 3 0 6 0 3 0 3 0 9 0 3 0 3 0 3 0 3 0 3 0 3 0 3 0 6 0 3 0 3 0 3 0 12 0 6 0 3 0 6 0 6 0 12 0 3 0 6 0 9 0 3 0 3 0 6 0 9 0 3 0 3 0 3 0 6 0 3 0 9 0 6 0 3 0 9 0 3 0 3 0 6 0 3 0 6 0 6 0 6 0 3 0 3 0 3 0 6 0 3 0 12 0 3 0 3 0 3 0 9 0 9 0 3 0 15 0 3 0 3 0 6 0 3 0 6 0 6 0 3 0 3 0 12 0 3 0 3 0 3 0 3 0 9 0 6 0 12 0 6 0 3 0 9999"/><path d="M-489 611.45H480.01" stroke-dasharray="0 4 0 4 0 10 0 5 0 22 0 2 0 9 1 3 0 5 0 11 0 2 0 4 0 8 0 2 0 7 0 4 1 13 0 3 0 2 0 8 0 4 0 13 0 2 0 17 0 4 1 2 0 4 0 3 0 2 2 5 0 6 0 6 0 6 0 2 0 3 0 3 0 11 0 7 1 12 1 9 0 5 0 4 0 7 0 3 0 7 0 12 0 2 0 6 0 14 0 2 0 5 0 7 0 2 1 5 0 3 0 5 0 2 0 16 0 2 0 2 0 3 0 5 0 4 2 4 0 3 0 4 0 2 0 2 3 2 0 4 2 3 1 2 5 2 0 2 0 2 0 2 3 3 3 2 0 2 0 2 1 3 10 4 0 2 6 2 2 4 0 2 3 2 0 2 0 2 0 2 2 3 9 2 4 2 0 3 2 3 4 3 2 2 1 2 2 5 2 2 0 3 0 2 2 2 1 8 3 2 1 4 0 3 0 5 1 7 0 3 2 8 0 2 1 2 1 3 0 3 1 5 0 2 0 6 0 7 0 2 0 8 0 13 1 5 1 17 0 2 0 4 0 2 0 2 0 4 0 7 0 9 1 7 0 11 0 6 0 20 1 7 0 5 0 2 0 6 0 4 0 2 0 2 0 19 1 5 0 4 0 3 0 5 0 6 1 2 1 3 0 10 1 3 0 6 0 19 1 2 0 12 0 4 0 2 1 3 0 6 0 3 0 15 0 3 0 7 0 7 0 5 0 11 0 7 0 4 0 2 0 9999"/><path d="M-466 611.45H467.01" stroke-dasharray="0 22 0 47 0 12 0 18 0 49 0 44 0 18 0 14 0 9 0 5 0 11 0 3 0 55 0 16 0 22 0 14 0 7 0 4 0 2 0 3 2 8 0 3 0 3 2 2 0 9 1 8 0 6 0 8 1 4 0 5 0 3 4 3 2 4 0 3 1 5 0 2 0 2 0 5 0 2 3 2 1 3 0 2 2 7 0 3 0 7 2 2 1 2 0 2 0 5 2 5 0 2 1 4 0 8 2 4 0 25 0 8 0 2 0 3 1 29 0 45 0 10 0 45 0 45 0 51 0 43 0 20 0 31 0 14 0 5 0 11 0 9999"/><path d="M-487 607.61H488.01" stroke-dasharray="0 3 0 6 0 3 0 6 0 9 0 6 0 3 0 6 0 3 0 9 0 12 0 3 0 3 0 9 0 6 0 3 0 21 0 3 0 18 0 3 0 3 0 6 0 3 0 3 0 9 0 9 0 3 0 3 0 3 0 3 0 3 0 3 0 3 0 3 0 3 0 3 0 6 0 3 0 3 0 3 0 3 0 3 0 18 0 12 0 3 0 9 0 3 0 18 0 3 0 3 0 6 0 3 0 3 0 3 0 3 0 3 0 6 0 12 0 6 0 3 0 3 0 9 0 6 0 3 0 9 0 3 0 3 0 3 0 3 0 3 0 3 0 3 0 3 0 6 0 3 0 6 0 3 0 6 0 3 0 3 0 6 0 3 0 3 0 3 0 3 0 3 0 3 0 3 0 3 0 3 0 3 0 3 0 6 0 3 0 3 0 3 0 3 0 3 0 3 0 3 0 6 0 3 0 3 0 3 0 3 0 3 0 3 0 9 0 3 0 6 0 3 0 3 0 3 0 3 0 6 0 3 0 3 0 3 0 3 0 3 0 9 0 6 0 3 0 3 0 12 0 3 0 6 0 3 0 3 0 6 0 3 0 3 0 3 0 6 0 3 0 6 0 6 0 3 0 9 0 3 0 3 0 9 0 3 0 6 0 3 0 3 0 3 0 6 0 3 0 3 0 3 0 6 0 6 0 12 0 6 0 15 0 9 0 3 0 6 0 9 0 15 0 3 0 3 0 3 0 3 0 3 0 6 0 6 0 6 0 3 0 3 0 6 0 6 0 9 0 15 0 3 0 3 0 3 0 15 0 6 0 3 0 3 0 3 0 6 0 3 0 3 0 6 0 3 0 3 0 9 0 3 0 3 0 6 0 3 0 3 0 9 0 3 0 3 0 3 0 9999"/><path d="M-489 607.61H489.01" stroke-dasharray="0 3 0 3 0 3 0 3 0 6 0 3 0 3 0 9 0 6 0 3 0 6 0 3 0 3 0 3 0 3 0 9 0 6 0 12 0 6 0 3 0 15 0 3 0 3 0 12 0 6 0 6 0 3 0 3 0 3 0 6 0 3 0 6 0 18 0 3 0 3 0 6 0 9 0 3 0 3 0 3 0 3 0 3 0 3 0 9 0 6 0 6 0 3 0 3 0 9 0 3 0 3 0 3 0 6 0 6 0 6 0 3 0 6 0 6 0 3 0 3 0 3 0 9 0 3 0 9 0 3 0 3 0 18 0 3 0 3 0 3 0 6 0 6 0 3 0 3 0 6 0 3 0 3 0 3 0 3 0 3 0 3 0 3 0 3 0 6 0 6 0 3 0 6 0 3 0 3 0 3 0 3 0 9 0 3 0 3 0 3 0 3 0 6 0 3 0 3 0 3 0 3 0 3 0 3 0 3 0 3 0 3 0 3 0 3 0 3 0 3 0 3 0 3 0 3 0 3 0 3 0 3 0 6 0 3 0 3 0 3 0 3 0 3 0 3 0 3 0 3 0 3 0 3 0 3 0 3 0 3 0 9 0 3 0 3 0 3 0 3 0 9 0 3 0 3 0 6 0 6 0 3 0 9 0 6 0 3 0 3 0 3 0 3 0 3 0 6 0 3 0 3 0 3 0 3 0 3 0 6 0 12 0 6 0 6 0 9 0 3 0 9 0 3 0 6 0 6 0 3 0 3 0 9 0 3 0 12 0 3 0 6 0 3 0 3 0 3 0 3 0 6 0 6 0 6 0 9 0 6 0 3 0 3 0 3 0 3 0 3 0 3 0 15 0 3 0 6 0 9 0 15 0 3 0 3 0 6 0 3 0 6 0 6 0 3 0 3 0 3 0 6 0 9 0 3 0 3 0 3 0 9 0 12 0 6 0 9999"/><path d="M-488 607.61H490.01" stroke-dasharray="0 3 0 3 0 15 0 3 0 3 0 3 0 6 0 6 0 3 0 3 0 6 0 3 0 12 0 6 0 3 0 3 0 6 0 3 0 3 0 27 0 6 0 3 0 6 0 6 0 6 0 6 0 6 0 3 0 3 0 9 0 3 0 3 0 3 0 3 0 3 0 3 0 3 0 3 0 3 0 3 0 12 0 3 0 3 0 3 0 3 0 6 0 3 0 9 0 3 0 3 0 3 0 3 0 3 0 3 0 3 0 3 0 6 0 6 0 12 0 6 0 3 0 3 0 3 0 6 0 3 0 3 0 6 0 3 0 9 0 6 0 3 0 6 0 6 0 6 0 6 0 3 0 3 0 3 0 6 0 3 0 3 0 3 0 6 0 3 0 3 0 3 0 3 0 3 0 3 0 6 0 3 0 3 0 3 0 3 0 3 0 3 0 3 0 3 0 3 0 3 0 9 0 3 0 3 0 3 0 6 0 3 0 3 0 3 0 3 0 3 0 3 0 3 0 3 0 3 0 3 0 3 0 3 0 3 0 3 0 3 0 3 0 9 0 3 0 12 0 3 0 6 0 3 0 3 0 6 0 3 0 3 0 6 0 12 0 6 0 3 0 6 0 3 0 6 0 3 0 3 0 6 0 3 0 3 0 6 0 3 0 3 0 6 0 6 0 3 0 3 0 3 0 6 0 9 0 3 0 3 0 3 0 3 0 3 0 15 0 9 0 3 0 3 0 9 0 9 0 3 0 3 0 6 0 6 0 3 0 12 0 3 0 3 0 3 0 3 0 6 0 3 0 6 0 3 0 3 0 3 0 6 0 9 0 9 0 3 0 3 0 18 0 3 0 3 0 3 0 12 0 6 0 3 0 6 0 6 0 6 0 15 0 3 0 3 0 6 0 6 0 24 0 6 0 9999"/><path d="M-487 607.61H485.01" stroke-dasharray="2 8 0 2 0 4 0 6 1 4 0 2 0 6 0 9 0 2 0 3 0 6 1 2 0 8 0 3 0 3 2 3 0 3 0 6 0 3 0 25 1 12 0 7 1 4 0 3 0 2 0 13 0 4 0 12 0 3 0 4 1 3 0 3 2 2 0 4 0 3 0 10 0 3 0 8 0 2 0 3 0 3 0 6 0 2 0 6 0 3 0 4 0 4 0 8 0 2 0 4 0 9 0 6 0 5 0 2 0 4 0 15 1 11 0 7 0 13 0 5 0 10 0 17 0 3 1 3 0 7 0 2 0 2 2 3 2 4 1 2 2 2 0 2 1 3 1 2 1 2 1 4 0 5 4 4 2 2 1 2 0 2 1 2 0 3 2 2 1 2 1 3 0 2 0 2 0 4 2 2 0 2 3 2 0 2 4 2 3 6 2 2 0 2 0 2 2 2 1 2 1 2 0 2 1 2 2 7 0 4 1 2 1 2 0 3 0 2 1 3 0 3 1 2 0 2 1 2 2 5 0 3 0 5 0 2 2 2 0 4 0 15 2 4 0 2 0 2 0 2 2 3 0 2 0 2 1 7 3 10 0 2 0 3 0 8 0 2 0 2 0 3 0 5 0 2 0 2 0 5 0 7 0 3 0 2 0 6 0 2 1 3 0 4 0 6 1 17 0 11 0 5 0 9 1 2 0 5 0 33 0 9 0 8 0 11 0 2 0 3 0 4 0 3 0 3 0 3 0 4 0 7 0 13 0 5 0 2 0 4 0 11 0 6 0 3 0 7 0 7 0 2 0 3 0 14 0 3 0 3 0 10 2 10 1 11 1 2 0 9999"/><path d="M-487 607.61H448.01" stroke-dasharray="0 12 0 23 0 14 0 20 0 3 1 54 0 7 1 63 0 10 0 33 0 11 0 23 0 51 0 18 0 27 0 3 0 11 0 2 0 2 1 6 0 5 0 3 1 2 0 3 0 3 1 2 1 2 0 10 1 2 1 4 0 2 0 2 1 7 0 3 1 4 0 2 0 16 0 3 1 3 0 3 0 2 0 4 1 7 2 10 1 2 1 2 0 2 1 2 1 13 0 2 0 3 0 9 0 3 1 4 1 2 0 7 0 3 0 7 1 22 1 9 0 7 0 5 0 10 0 37 0 2 0 17 0 8 1 3 0 4 0 40 0 12 0 66 0 18 0 35 0 11 0 28 0 14 0 6 0 9999"/><path d="M-487 603.76H485.01" stroke-dasharray="0 3 0 3 0 6 0 9 0 3 0 3 0 3 0 3 0 9 0 3 0 3 0 3 0 6 0 6 0 3 0 9 0 3 0 3 0 6 0 3 0 6 0 3 0 3 0 3 0 3 0 3 0 6 0 6 0 3 0 3 0 3 0 3 0 6 0 3 0 6 0 9 0 9 0 3 0 3 0 6 0 15 0 3 0 6 0 3 0 6 0 3 0 6 0 3 0 3 0 9 0 3 0 12 0 3 0 3 0 3 0 3 0 3 0 9 0 6 0 3 0 3 0 3 0 6 0 6 0 6 0 3 0 3 0 12 0 6 0 3 0 3 0 9 0 3 0 3 0 3 0 6 0 3 0 6 0 3 0 3 0 3 0 3 0 3 0 3 0 3 0 3 0 3 0 3 0 3 0 3 0 3 0 3 0 3 0 6 0 9 0 3 0 6 0 6 0 3 0 3 0 6 0 3 0 3 0 3 0 3 0 3 0 3 0 3 0 3 0 3 0 6 0 3 0 3 0 3 0 3 0 6 0 3 0 3 0 3 0 3 0 3 0 3 0 3 0 3 0 3 0 3 0 3 0 3 0 3 0 3 0 3 0 3 0 6 0 3 0 3 0 3 0 3 0 3 0 3 0 9 0 3 0 3 0 3 0 3 0 3 0 3 0 9 0 3 0 3 0 3 0 6 0 3 0 9 0 12 0 3 0 6 0 3 0 3 0 3 0 3 0 3 0 3 0 3 0 3 0 3 0 6 0 12 0 3 0 3 0 3 0 3 0 15 0 3 0 6 0 9 0 3 0 3 0 3 0 6 0 6 0 9 0 3 0 3 0 3 0 3 0 9 0 9 0 9 0 3 0 6 0 3 0 3 0 3 0 3 0 9 0 9 0 3 0 3 0 3 0 6 0 6 0 6 0 6 0 3 0 3 0 3 0 6 0 3 0 3 0 6 0 3 0 6 0 3 0 3 0 3 0 3 0 6 0 6 0 9 0 3 0 3 0 9999"/><path d="M-489 603.76H486.01" stroke-dasharray="0 3 0 3 0 3 0 3 0 6 0 6 0 3 0 3 0 9 0 3 0 6 0 3 0 3 0 3 0 6 0 6 0 6 0 12 0 6 0 3 0 6 0 6 0 3 0 3 0 3 0 3 0 9 0 3 0 6 0 9 0 3 0 3 0 3 0 6 0 6 0 3 0 3 0 6 0 6 0 12 0 3 0 3 0 6 0 3 0 6 0 3 0 3 0 3 0 3 0 6 0 21 0 3 0 3 0 3 0 3 0 9 0 3 0 3 0 3 0 9 0 3 0 9 0 3 0 6 0 6 0 3 0 3 0 3 0 6 0 6 0 3 0 3 0 3 0 3 0 12 0 3 0 3 0 9 0 3 0 3 0 3 0 3 0 3 0 3 0 3 0 3 0 6 0 3 0 3 0 3 0 3 0 3 0 3 0 3 0 3 0 3 0 3 0 3 0 3 0 3 0 3 0 6 0 3 0 3 0 3 0 3 0 3 0 3 0 6 0 3 0 3 0 3 0 3 0 3 0 6 0 3 0 3 0 3 0 3 0 6 0 3 0 3 0 3 0 3 0 3 0 3 0 3 0 3 0 9 0 3 0 3 0 3 0 3 0 6 0 6 0 3 0 3 0 3 0 3 0 6 0 3 0 3 0 3 0 3 0 3 0 3 0 9 0 3 0 3 0 3 0 6 0 6 0 6 0 3 0 12 0 6 0 3 0 3 0 12 0 3 0 6 0 3 0 3 0 3 0 6 0 6 0 6 0 3 0 6 0 3 0 3 0 6 0 6 0 6 0 18 0 6 0 3 0 9 0 3 0 6 0 3 0 3 0 6 0 3 0 18 0 12 0 3 0 9 0 3 0 6 0 3 0 12 0 3 0 3 0 3 0 9 0 3 0 12 0 3 0 6 0 3 0 3 0 6 0 6 0 3 0 9 0 6 0 3 0 6 0 9999"/><path d="M-485 603.76H490.01" stroke-dasharray="0 6 0 3 0 3 0 6 0 6 0 3 0 3 0 3 0 6 0 9 0 6 0 3 0 3 0 9 0 3 0 3 0 3 0 3 0 9 0 3 0 3 0 12 0 3 0 3 0 3 0 3 0 6 0 3 0 3 0 3 0 9 0 3 0 6 0 6 0 6 0 3 0 3 0 6 0 21 0 3 0 9 0 3 0 3 0 3 0 9 0 3 0 3 0 9 0 3 0 6 0 6 0 3 0 6 0 3 0 3 0 6 0 6 0 3 0 6 0 3 0 9 0 3 0 6 0 3 0 9 0 3 0 3 0 6 0 3 0 9 0 3 0 3 0 3 0 3 0 3 0 3 0 3 0 3 0 3 0 3 0 3 0 6 0 3 0 6 0 3 0 3 0 3 0 3 0 9 0 3 0 3 0 3 0 3 0 6 0 3 0 3 0 3 0 3 0 3 0 3 0 3 0 3 0 3 0 3 0 3 0 3 0 3 0 3 0 3 0 3 0 3 0 3 0 3 0 3 0 3 0 3 0 3 0 3 0 3 0 3 0 3 0 3 0 6 0 3 0 3 0 6 0 3 0 3 0 3 0 3 0 3 0 3 0 3 0 3 0 3 0 6 0 3 0 3 0 3 0 3 0 3 0 3 0 3 0 3 0 3 0 12 0 3 0 3 0 15 0 9 0 3 0 3 0 6 0 3 0 3 0 3 0 3 0 3 0 15 0 6 0 6 0 3 0 6 0 6 0 9 0 6 0 3 0 6 0 6 0 3 0 6 0 9 0 9 0 12 0 3 0 3 0 3 0 3 0 15 0 3 0 3 0 3 0 9 0 3 0 3 0 3 0 3 0 3 0 3 0 6 0 6 0 3 0 3 0 9 0 3 0 3 0 6 0 3 0 3 0 9 0 15 0 3 0 3 0 3 0 3 0 3 0 3 0 6 0 3 0 3 0 3 0 6 0 3 0 3 0 6 0 9 0 3 0 9999"/><path d="M-486 603.76H490.01" stroke-dasharray="0 5 0 6 0 8 2 2 1 3 1 3 1 2 0 2 0 8 0 5 1 5 1 5 0 9 0 2 0 4 0 3 0 5 0 5 0 15 0 3 1 2 0 2 0 6 0 3 0 5 1 8 0 5 0 3 0 2 0 9 0 4 0 7 1 4 0 13 0 14 1 3 0 2 0 3 1 5 0 2 1 6 0 7 1 3 0 3 1 3 0 12 0 2 1 6 1 10 0 11 0 4 1 7 0 2 0 6 0 14 0 3 0 5 0 2 1 3 0 6 0 2 0 2 0 10 0 6 0 2 0 7 0 5 0 3 1 2 1 3 0 2 4 8 0 2 0 2 0 2 2 4 0 4 1 3 0 2 1 3 4 2 1 2 2 2 2 3 4 2 10 3 8 2 1 2 8 3 0 2 3 3 3 2 0 3 3 2 0 2 1 2 5 2 4 2 0 2 1 2 0 4 2 2 1 2 0 4 2 2 4 3 0 5 2 3 0 2 0 2 1 6 1 2 0 4 0 2 2 3 0 4 0 2 1 2 3 2 1 4 0 4 0 3 1 2 1 4 0 6 0 4 0 5 0 11 0 15 0 4 0 6 1 2 1 2 0 6 0 3 0 3 0 16 1 7 1 6 0 2 0 4 1 3 0 7 1 8 0 5 0 4 0 4 0 17 0 14 0 5 0 2 1 13 0 5 1 7 0 3 0 8 0 2 0 2 0 2 0 3 1 11 0 6 1 6 1 2 0 2 0 10 0 5 0 2 0 3 0 2 0 6 1 8 0 3 0 2 0 5 0 4 0 3 0 2 0 2 1 2 0 2 0 3 0 4 0 4 0 4 0 3 1 8 0 2 0 6 1 3 0 9999"/><path d="M-486 603.76H490.01" stroke-dasharray="0 19 1 4 0 3 0 4 0 5 0 8 0 6 0 26 0 8 0 42 0 80 0 8 0 25 0 48 0 37 0 16 0 25 0 5 0 3 0 7 0 3 2 9 0 16 0 6 1 4 0 5 1 2 1 3 0 2 0 4 3 5 0 4 1 5 0 2 0 3 0 2 0 3 1 2 1 3 4 3 0 2 0 2 0 4 0 2 1 6 1 3 0 2 0 5 0 2 1 2 0 2 1 3 0 2 1 2 0 4 0 2 0 3 0 2 0 4 0 4 0 2 2 8 0 2 0 14 0 3 0 6 1 4 0 4 0 3 0 2 0 2 0 12 0 3 1 3 0 4 0 6 0 9 0 26 0 25 0 3 0 16 0 9 0 6 0 2 0 4 1 10 0 14 0 25 0 35 0 5 0 8 0 17 0 15 0 7 0 6 1 32 1 8 0 5 0 14 0 2 0 5 0 15 0 3 1 8 0 2 0 6 1 3 0 9999"/><path d="M-490 599.91H479.01" stroke-dasharray="0 12 0 6 0 6 0 9 0 6 0 3 0 6 0 3 0 6 0 9 0 3 0 21 0 6 0 6 0 6 0 3 0 3 0 3 0 6 0 6 0 3 0 3 0 3 0 6 0 3 0 3 0 3 0 6 0 6 0 3 0 3 0 3 0 3 0 3 0 3 0 3 0 3 0 3 0 6 0 3 0 6 0 3 0 3 0 3 0 3 0 3 0 6 0 12 0 3 0 6 0 3 0 6 0 3 0 3 0 3 0 3 0 3 0 3 0 3 0 6 0 9 0 9 0 3 0 6 0 9 0 15 0 3 0 3 0 3 0 3 0 12 0 3 0 3 0 3 0 3 0 3 0 6 0 3 0 3 0 3 0 3 0 3 0 3 0 3 0 6 0 6 0 3 0 3 0 3 0 3 0 9 0 3 0 6 0 3 0 6 0 3 0 3 0 3 0 3 0 3 0 3 0 3 0 3 0 3 0 3 0 3 0 3 0 3 0 3 0 3 0 6 0 3 0 3 0 3 0 3 0 3 0 3 0 3 0 3 0 3 0 3 0 3 0 3 0 3 0 3 0 3 0 3 0 3 0 3 0 3 0 3 0 3 0 3 0 3 0 3 0 3 0 6 0 6 0 3 0 9 0 3 0 3 0 6 0 6 0 6 0 3 0 3 0 3 0 3 0 3 0 9 0 6 0 3 0 6 0 3 0 3 0 3 0 9 0 6 0 6 0 9 0 3 0 6 0 3 0 3 0 21 0 3 0 6 0 15 0 3 0 6 0 3 0 3 0 3 0 6 0 15 0 3 0 3 0 6 0 9 0 3 0 3 0 3 0 3 0 9 0 9 0 3 0 6 0 6 0 3 0 9 0 18 0 3 0 3 0 3 0 3 0 3 0 3 0 3 0 3 0 15 0 3 0 9 0 3 0 3 0 12 0 9999"/><path d="M-489 599.91H489.01" stroke-dasharray="0 3 0 3 0 18 0 6 0 3 0 9 0 6 0 21 0 6 0 15 0 6 0 6 0 9 0 6 0 3 0 3 0 15 0 6 0 3 0 12 0 3 0 3 0 9 0 6 0 3 0 6 0 6 0 3 0 6 0 6 0 3 0 3 0 12 0 12 0 3 0 6 0 9 0 9 0 3 0 12 0 6 0 9 0 3 0 6 0 3 0 6 0 3 0 3 0 9 0 3 0 6 0 3 0 6 0 6 0 3 0 3 0 15 0 3 0 6 0 3 0 6 0 3 0 3 0 6 0 3 0 6 0 3 0 3 0 3 0 6 0 3 0 3 0 3 0 3 0 3 0 3 0 6 0 3 0 3 0 3 0 3 0 3 0 3 0 3 0 6 0 3 0 3 0 3 0 3 0 3 0 3 0 3 0 3 0 3 0 3 0 3 0 3 0 3 0 3 0 3 0 3 0 3 0 3 0 3 0 3 0 3 0 3 0 3 0 6 0 3 0 3 0 6 0 3 0 3 0 3 0 3 0 3 0 3 0 3 0 3 0 6 0 3 0 12 0 3 0 3 0 3 0 3 0 6 0 3 0 3 0 3 0 6 0 9 0 18 0 3 0 9 0 9 0 6 0 3 0 6 0 6 0 3 0 6 0 3 0 3 0 3 0 3 0 3 0 3 0 15 0 3 0 3 0 12 0 6 0 6 0 3 0 3 0 3 0 3 0 15 0 6 0 6 0 6 0 18 0 6 0 3 0 9 0 6 0 3 0 3 0 6 0 3 0 6 0 9 0 9 0 3 0 3 0 3 0 3 0 6 0 6 0 3 0 3 0 3 0 3 0 3 0 6 0 9 0 6 0 3 0 3 0 9999"/><path d="M-488 599.91H484.01" stroke-dasharray="0 12 0 3 0 6 0 3 0 3 0 6 0 9 0 3 0 3 0 3 0 3 0 3 0 6 0 3 0 6 0 9 0 6 0 3 0 3 0 6 0 3 0 9 0 3 0 9 0 3 0 3 0 3 0 15 0 3 0 3 0 3 0 12 0 3 0 6 0 6 0 3 0 3 0 3 0 6 0 9 0 6 0 6 0 3 0 3 0 3 0 9 0 6 0 6 0 6 0 9 0 3 0 3 0 6 0 3 0 6 0 3 0 6 0 3 0 3 0 3 0 9 0 6 0 3 0 9 0 3 0 9 0 6 0 6 0 3 0 3 0 6 0 3 0 3 0 6 0 3 0 9 0 3 0 3 0 3 0 6 0 3 0 3 0 3 0 3 0 3 0 3 0 3 0 3 0 3 0 3 0 3 0 3 0 3 0 3 0 3 0 3 0 3 0 3 0 3 0 3 0 3 0 3 0 3 0 6 0 3 0 3 0 3 0 3 0 3 0 3 0 3 0 3 0 3 0 3 0 3 0 6 0 3 0 3 0 3 0 3 0 3 0 3 0 3 0 3 0 3 0 6 0 3 0 3 0 3 0 3 0 6 0 9 0 3 0 3 0 3 0 3 0 3 0 6 0 6 0 3 0 3 0 3 0 6 0 3 0 3 0 3 0 9 0 3 0 6 0 3 0 6 0 3 0 3 0 6 0 3 0 15 0 6 0 6 0 6 0 3 0 3 0 6 0 3 0 9 0 6 0 6 0 3 0 3 0 9 0 3 0 3 0 9 0 3 0 3 0 3 0 3 0 6 0 6 0 9 0 3 0 3 0 12 0 6 0 12 0 3 0 15 0 6 0 3 0 9 0 3 0 6 0 6 0 6 0 6 0 6 0 9 0 6 0 12 0 6 0 6 0 9 0 3 0 3 0 3 0 3 0 3 0 9999"/><path d="M-490 599.91H486.01" stroke-dasharray="0 14 0 4 0 7 0 9 1 7 0 9 0 8 0 9 0 21 1 5 0 19 0 9 0 6 0 2 0 8 0 6 0 3 0 2 0 2 1 10 0 8 0 2 0 2 0 2 0 3 1 2 1 4 0 12 0 5 0 2 0 2 1 5 0 6 1 7 1 9 0 2 0 2 0 7 1 15 0 7 0 5 0 3 0 2 0 2 0 2 0 2 0 5 0 4 0 5 0 13 0 6 0 13 0 4 0 4 0 12 1 5 2 12 1 3 0 2 0 2 2 2 1 2 0 2 0 4 2 3 1 4 0 2 0 6 4 3 0 2 0 2 0 5 1 2 0 2 0 2 1 4 1 2 1 2 1 5 0 4 2 2 0 2 0 2 0 3 0 2 1 2 2 4 0 3 1 2 0 2 0 2 3 2 5 2 0 3 2 2 2 2 3 3 0 2 0 2 8 2 0 2 2 4 1 2 2 2 2 2 0 2 2 5 0 2 1 7 0 2 1 2 0 3 1 3 0 2 2 3 1 2 0 3 0 2 0 5 0 3 0 5 0 2 2 2 0 5 0 9 1 2 0 2 1 5 0 2 0 2 0 4 1 4 0 11 0 6 0 2 0 15 0 12 0 2 0 2 0 5 0 4 1 2 1 9 0 14 1 7 0 8 1 2 0 3 0 12 0 6 0 8 2 16 0 9 0 4 0 4 0 4 0 9 0 8 0 11 0 4 0 6 0 12 0 8 1 2 0 14 0 2 0 7 0 3 1 2 0 2 0 5 0 15 0 10 0 9 0 6 0 2 0 9 0 9999"/><path d="M-456 599.91H430.01" stroke-dasharray="0 25 0 30 0 6 0 36 0 17 0 2 0 2 0 11 0 8 0 38 0 6 0 63 0 5 0 2 0 9 0 9 0 13 0 19 0 8 0 38 0 3 0 3 0 9 2 4 0 4 0 8 0 2 0 7 0 7 0 3 0 2 0 2 1 5 0 6 0 5 0 5 0 5 0 2 0 3 0 3 0 8 0 3 1 2 0 4 0 3 0 2 0 2 3 9 0 2 0 2 0 6 0 2 0 4 0 6 0 4 0 2 0 7 2 8 0 2 0 5 0 2 0 10 0 7 0 3 0 2 1 17 0 3 0 7 0 21 0 40 0 15 0 14 0 11 0 4 0 23 1 7 0 14 0 53 0 4 0 17 0 8 0 21 0 23 0 23 0 4 0 4 0 9999"/><path d="M-490 596.07H485.01" stroke-dasharray="0 3 0 12 0 3 0 9 0 3 0 3 0 3 0 15 0 3 0 3 0 3 0 3 0 3 0 3 0 3 0 3 0 9 0 3 0 18 0 3 0 3 0 3 0 9 0 6 0 3 0 12 0 12 0 3 0 15 0 3 0 3 0 9 0 3 0 6 0 3 0 6 0 3 0 3 0 3 0 9 0 6 0 6 0 15 0 6 0 6 0 9 0 6 0 3 0 18 0 3 0 3 0 3 0 3 0 3 0 6 0 6 0 3 0 9 0 12 0 3 0 3 0 3 0 3 0 3 0 3 0 6 0 6 0 3 0 3 0 3 0 3 0 3 0 3 0 3 0 3 0 3 0 3 0 3 0 3 0 3 0 3 0 3 0 3 0 3 0 3 0 3 0 6 0 3 0 3 0 3 0 3 0 3 0 3 0 3 0 3 0 3 0 3 0 3 0 3 0 3 0 3 0 3 0 3 0 3 0 6 0 6 0 3 0 6 0 3 0 3 0 3 0 3 0 3 0 3 0 3 0 3 0 3 0 6 0 3 0 6 0 6 0 3 0 3 0 3 0 3 0 3 0 3 0 3 0 3 0 3 0 3 0 3 0 9 0 6 0 3 0 9 0 3 0 3 0 3 0 3 0 3 0 3 0 6 0 3 0 6 0 3 0 6 0 3 0 3 0 6 0 3 0 6 0 3 0 3 0 3 0 3 0 3 0 6 0 3 0 9 0 3 0 6 0 6 0 3 0 3 0 3 0 6 0 3 0 3 0 9 0 3 0 9 0 6 0 3 0 15 0 3 0 3 0 12 0 3 0 3 0 3 0 3 0 9 0 3 0 3 0 3 0 3 0 3 0 3 0 6 0 3 0 6 0 3 0 6 0 6 0 3 0 3 0 6 0 3 0 3 0 3 0 3 0 3 0 3 0 3 0 15 0 6 0 6 0 3 0 3 0 6 0 3 0 3 0 3 0 6 0 9999"/><path d="M-489 596.07H486.01" stroke-dasharray="0 3 0 3 0 3 0 9 0 6 0 6 0 3 0 3 0 3 0 12 0 3 0 6 0 3 0 6 0 3 0 3 0 6 0 3 0 9 0 3 0 6 0 3 0 3 0 3 0 6 0 9 0 3 0 3 0 3 0 3 0 3 0 3 0 6 0 3 0 12 0 15 0 3 0 3 0 3 0 3 0 6 0 15 0 9 0 3 0 15 0 3 0 3 0 3 0 3 0 6 0 3 0 15 0 6 0 3 0 6 0 6 0 3 0 3 0 3 0 3 0 6 0 18 0 3 0 3 0 3 0 9 0 6 0 3 0 3 0 3 0 3 0 3 0 3 0 3 0 6 0 3 0 3 0 3 0 9 0 3 0 3 0 3 0 3 0 3 0 3 0 3 0 3 0 3 0 9 0 3 0 3 0 3 0 3 0 3 0 3 0 3 0 3 0 3 0 3 0 3 0 3 0 3 0 3 0 3 0 3 0 3 0 3 0 3 0 3 0 3 0 3 0 3 0 6 0 3 0 3 0 3 0 3 0 6 0 6 0 3 0 3 0 3 0 3 0 3 0 3 0 9 0 6 0 3 0 3 0 3 0 3 0 6 0 9 0 6 0 3 0 3 0 3 0 6 0 6 0 12 0 3 0 3 0 6 0 3 0 3 0 6 0 6 0 3 0 3 0 3 0 3 0 3 0 3 0 18 0 6 0 3 0 3 0 3 0 3 0 3 0 12 0 9 0 15 0 9 0 3 0 3 0 6 0 3 0 3 0 12 0 12 0 3 0 6 0 6 0 6 0 3 0 3 0 9 0 3 0 3 0 3 0 15 0 6 0 3 0 9 0 6 0 3 0 6 0 3 0 3 0 3 0 12 0 3 0 3 0 6 0 3 0 6 0 9 0 9 0 3 0 6 0 3 0 9999"/><path d="M-488 596.07H487.01" stroke-dasharray="0 9 0 3 0 6 0 3 0 9 0 3 0 3 0 3 0 3 0 3 0 12 0 3 0 3 0 6 0 3 0 18 0 3 0 9 0 3 0 6 0 3 0 6 0 3 0 3 0 9 0 3 0 3 0 3 0 3 0 3 0 6 0 3 0 6 0 3 0 6 0 3 0 3 0 9 0 9 0 3 0 12 0 18 0 6 0 6 0 3 0 6 0 3 0 3 0 3 0 9 0 9 0 3 0 3 0 12 0 3 0 3 0 3 0 6 0 3 0 3 0 6 0 3 0 3 0 3 0 3 0 3 0 9 0 3 0 6 0 3 0 6 0 3 0 12 0 3 0 3 0 3 0 6 0 3 0 3 0 3 0 3 0 3 0 3 0 3 0 3 0 9 0 3 0 3 0 3 0 3 0 3 0 3 0 3 0 3 0 3 0 3 0 3 0 3 0 3 0 3 0 3 0 3 0 3 0 3 0 3 0 6 0 3 0 3 0 6 0 3 0 3 0 3 0 3 0 3 0 6 0 3 0 3 0 3 0 3 0 3 0 3 0 3 0 3 0 3 0 3 0 3 0 6 0 3 0 9 0 3 0 3 0 3 0 3 0 3 0 6 0 6 0 3 0 3 0 9 0 9 0 3 0 3 0 6 0 6 0 6 0 3 0 6 0 9 0 15 0 3 0 3 0 3 0 12 0 3 0 3 0 3 0 9 0 3 0 3 0 3 0 3 0 3 0 3 0 3 0 3 0 3 0 3 0 9 0 3 0 6 0 6 0 9 0 3 0 3 0 6 0 3 0 18 0 9 0 3 0 3 0 6 0 6 0 3 0 6 0 3 0 3 0 3 0 15 0 6 0 9 0 3 0 3 0 3 0 3 0 3 0 3 0 3 0 9 0 3 0 3 0 9 0 3 0 3 0 9 0 3 0 3 0 3 0 6 0 6 0 9999"/><path d="M-487 596.07H487.01" stroke-dasharray="0 7 0 13 0 7 0 3 0 2 0 6 0 10 0 4 0 7 2 12 0 6 0 3 0 9 0 9 0 2 2 16 0 13 0 8 0 5 0 25 0 2 0 3 1 27 0 3 0 5 0 24 0 8 0 3 0 7 0 3 0 3 1 9 0 6 0 7 1 5 0 6 1 4 0 23 0 4 0 2 0 2 0 9 0 7 1 2 0 5 0 5 1 4 0 2 0 3 0 2 1 5 0 3 0 2 1 3 0 2 1 3 0 3 0 5 1 3 0 3 1 2 0 2 0 3 1 3 1 2 0 3 3 3 0 2 1 4 5 3 1 2 1 3 1 2 2 2 2 2 4 2 2 2 1 2 1 2 1 2 1 2 0 2 3 2 0 2 0 2 1 4 1 2 1 2 0 2 3 2 4 2 2 4 1 2 0 2 0 2 5 2 0 2 5 4 0 2 0 2 0 4 0 2 0 3 0 2 0 5 3 2 3 5 2 6 0 2 0 5 0 11 0 4 1 13 0 3 0 4 3 9 0 14 0 12 0 3 0 4 0 7 0 20 0 4 0 5 0 8 0 2 0 6 0 3 1 3 0 5 0 3 0 21 0 2 0 4 0 7 0 13 0 2 0 3 0 3 0 4 0 15 0 4 0 5 1 2 0 2 0 7 1 7 0 21 1 12 0 7 0 6 1 2 1 4 0 4 0 12 0 6 0 9 0 3 0 2 2 7 0 4 0 6 1 3 0 7 1 9999"/><path d="M-480 596.07H486.01" stroke-dasharray="0 20 0 52 0 25 0 29 0 38 0 41 0 58 0 14 0 12 0 35 0 29 0 5 0 2 0 5 1 5 0 6 0 3 0 3 0 6 0 5 1 3 0 4 0 2 0 2 0 7 1 2 0 5 0 4 0 3 0 4 3 2 0 3 0 3 0 5 0 2 2 3 1 2 0 3 1 4 0 2 1 5 0 3 1 2 0 5 0 2 0 2 0 2 1 4 1 2 1 2 0 4 1 3 0 2 1 2 2 4 0 5 0 2 0 2 2 3 0 2 0 2 0 15 0 12 1 2 0 2 1 2 0 5 0 2 0 6 0 23 0 16 0 56 0 24 0 13 0 11 0 71 0 15 0 4 0 5 1 66 0 24 0 40 0 10 0 9999"/><path d="M-490 592.22H479.01" stroke-dasharray="0 6 0 12 0 3 0 3 0 6 0 6 0 3 0 6 0 6 0 3 0 3 0 9 0 3 0 3 0 3 0 6 0 3 0 3 0 12 0 9 0 3 0 3 0 6 0 6 0 18 0 12 0 3 0 3 0 3 0 3 0 3 0 15 0 3 0 3 0 3 0 3 0 3 0 3 0 24 0 3 0 6 0 3 0 3 0 3 0 6 0 3 0 3 0 9 0 3 0 3 0 3 0 6 0 9 0 3 0 3 0 9 0 3 0 3 0 9 0 6 0 6 0 6 0 6 0 6 0 3 0 6 0 6 0 3 0 3 0 6 0 9 0 3 0 3 0 3 0 6 0 3 0 3 0 3 0 3 0 3 0 3 0 6 0 3 0 3 0 3 0 3 0 3 0 6 0 3 0 3 0 3 0 3 0 9 0 3 0 3 0 3 0 6 0 3 0 3 0 6 0 3 0 3 0 3 0 6 0 6 0 3 0 3 0 3 0 3 0 3 0 3 0 3 0 3 0 3 0 3 0 6 0 3 0 3 0 6 0 9 0 3 0 3 0 3 0 3 0 3 0 3 0 3 0 3 0 6 0 3 0 3 0 3 0 3 0 3 0 3 0 3 0 3 0 3 0 3 0 3 0 6 0 3 0 3 0 3 0 3 0 6 0 9 0 3 0 3 0 3 0 3 0 12 0 12 0 3 0 3 0 3 0 3 0 3 0 6 0 3 0 3 0 3 0 6 0 3 0 6 0 3 0 21 0 6 0 3 0 3 0 6 0 3 0 9 0 3 0 3 0 6 0 3 0 6 0 6 0 9 0 3 0 6 0 6 0 9 0 6 0 3 0 3 0 3 0 3 0 6 0 9 0 12 0 6 0 6 0 3 0 3 0 3 0 3 0 3 0 9 0 12 0 6 0 3 0 3 0 9999"/><path d="M-486 592.22H486.01" stroke-dasharray="0 3 0 6 0 3 0 3 0 12 0 9 0 12 0 12 0 3 0 3 0 3 0 3 0 6 0 3 0 3 0 6 0 3 0 6 0 3 0 3 0 6 0 6 0 3 0 9 0 6 0 3 0 3 0 12 0 3 0 3 0 3 0 3 0 3 0 3 0 3 0 6 0 6 0 3 0 6 0 6 0 6 0 6 0 3 0 6 0 3 0 6 0 9 0 15 0 9 0 3 0 3 0 3 0 3 0 3 0 9 0 3 0 6 0 6 0 3 0 6 0 3 0 6 0 3 0 6 0 6 0 6 0 3 0 3 0 6 0 3 0 3 0 6 0 3 0 3 0 3 0 9 0 9 0 3 0 3 0 3 0 3 0 3 0 3 0 3 0 3 0 3 0 3 0 3 0 6 0 6 0 3 0 3 0 3 0 6 0 3 0 3 0 3 0 3 0 6 0 3 0 3 0 3 0 3 0 6 0 3 0 3 0 3 0 3 0 3 0 3 0 3 0 3 0 3 0 6 0 3 0 6 0 3 0 3 0 3 0 3 0 6 0 3 0 3 0 3 0 3 0 3 0 3 0 3 0 3 0 3 0 12 0 9 0 3 0 3 0 9 0 3 0 9 0 6 0 3 0 6 0 3 0 6 0 3 0 9 0 3 0 3 0 3 0 12 0 3 0 3 0 3 0 6 0 3 0 12 0 3 0 3 0 3 0 12 0 3 0 12 0 3 0 3 0 6 0 3 0 6 0 3 0 3 0 3 0 3 0 3 0 3 0 3 0 3 0 3 0 3 0 15 0 3 0 9 0 3 0 6 0 3 0 3 0 3 0 6 0 3 0 3 0 3 0 6 0 3 0 15 0 3 0 3 0 3 0 3 0 9 0 3 0 6 0 6 0 3 0 9 0 3 0 3 0 6 0 3 0 9 0 3 0 6 0 3 0 6 0 9999"/><path d="M-485 592.22H484.01" stroke-dasharray="0 18 0 3 0 6 0 3 0 3 0 3 0 3 0 3 0 6 0 3 0 3 0 3 0 12 0 3 0 6 0 3 0 3 0 3 0 3 0 6 0 3 0 3 0 3 0 3 0 3 0 3 0 3 0 3 0 9 0 6 0 3 0 3 0 9 0 3 0 9 0 3 0 3 0 3 0 3 0 12 0 24 0 3 0 3 0 3 0 3 0 3 0 6 0 6 0 3 0 3 0 6 0 3 0 3 0 3 0 6 0 3 0 6 0 9 0 6 0 9 0 6 0 3 0 3 0 3 0 9 0 3 0 6 0 3 0 3 0 3 0 6 0 3 0 6 0 3 0 6 0 6 0 9 0 3 0 3 0 3 0 3 0 3 0 3 0 9 0 3 0 3 0 3 0 3 0 3 0 3 0 3 0 3 0 3 0 3 0 6 0 3 0 6 0 3 0 3 0 6 0 3 0 3 0 6 0 3 0 3 0 3 0 3 0 3 0 3 0 3 0 3 0 3 0 3 0 3 0 3 0 3 0 3 0 3 0 3 0 3 0 6 0 3 0 3 0 3 0 3 0 3 0 3 0 3 0 3 0 3 0 3 0 3 0 3 0 3 0 3 0 3 0 3 0 3 0 3 0 3 0 3 0 3 0 3 0 3 0 3 0 3 0 3 0 6 0 12 0 3 0 3 0 3 0 3 0 3 0 3 0 6 0 15 0 6 0 3 0 12 0 3 0 6 0 3 0 3 0 18 0 3 0 3 0 3 0 3 0 6 0 3 0 15 0 6 0 3 0 3 0 3 0 3 0 6 0 6 0 3 0 6 0 3 0 6 0 3 0 3 0 6 0 3 0 3 0 3 0 9 0 12 0 6 0 3 0 3 0 6 0 3 0 6 0 6 0 3 0 3 0 3 0 3 0 6 0 9 0 3 0 39 0 15 0 3 0 3 0 9999"/><path d="M-484 592.22H486.01" stroke-dasharray="1 9 0 2 0 5 0 3 0 10 0 2 0 3 0 10 0 2 1 5 0 11 0 5 1 5 0 4 2 5 0 5 0 18 0 10 1 16 0 3 0 10 1 2 1 6 1 2 0 2 0 5 0 4 0 11 1 2 0 5 1 16 0 6 0 5 2 3 0 5 1 7 2 2 0 4 0 3 0 13 2 2 0 6 0 13 0 2 0 2 0 13 0 6 0 12 3 4 0 2 0 6 0 4 1 3 0 4 1 4 0 2 1 9 0 4 0 4 0 5 0 6 1 2 1 2 0 2 1 3 0 2 0 2 0 4 0 2 10 6 4 5 0 2 0 2 2 4 3 2 0 2 0 3 3 4 0 3 5 3 1 2 2 5 0 3 2 2 0 2 4 2 7 2 1 2 0 3 2 2 3 3 1 2 1 2 1 3 6 2 2 4 0 7 0 4 1 2 0 2 2 2 1 2 0 2 1 3 0 3 1 3 0 4 0 2 0 3 1 5 0 3 0 3 3 3 1 3 1 3 0 8 1 4 3 2 1 9 0 7 2 11 0 13 0 5 0 10 0 6 0 3 0 7 0 3 0 3 0 3 0 19 0 2 0 3 0 13 0 10 0 3 0 3 0 7 0 6 0 18 0 3 0 5 0 3 0 2 0 13 0 2 0 9 0 2 0 6 0 4 0 2 0 2 0 5 1 13 0 2 0 4 0 6 1 3 0 5 0 5 0 5 0 9 0 6 0 3 0 8 1 2 0 4 0 6 0 7 0 4 0 6 0 3 0 4 1 3 0 2 0 9999"/><path d="M-437 592.22H481.01" stroke-dasharray="0 112 0 3 0 22 0 31 0 5 0 10 0 9 0 25 0 21 0 44 0 6 0 12 1 7 0 9 0 13 0 6 1 2 0 3 0 14 0 2 0 4 0 2 0 11 0 3 0 5 0 4 1 5 0 3 0 2 0 2 0 4 0 6 0 3 5 3 0 3 1 10 1 4 4 4 0 2 3 2 1 5 2 2 3 3 1 3 0 6 0 2 2 5 0 5 0 11 0 5 1 4 0 2 0 31 0 25 1 6 0 22 0 88 0 13 0 10 0 3 0 37 0 10 0 61 0 11 0 13 0 32 0 6 0 31 0 9999"/><path d="M-487 588.37H479.01" stroke-dasharray="0 3 0 3 0 6 0 9 0 6 0 12 0 9 0 3 0 9 0 18 0 3 0 6 0 3 0 9 0 3 0 3 0 15 0 3 0 15 0 6 0 3 0 6 0 3 0 3 0 3 0 9 0 6 0 3 0 3 0 6 0 3 0 9 0 9 0 3 0 6 0 3 0 3 0 3 0 12 0 3 0 6 0 3 0 3 0 6 0 3 0 3 0 3 0 3 0 3 0 3 0 12 0 6 0 3 0 6 0 3 0 3 0 6 0 3 0 3 0 3 0 3 0 6 0 6 0 3 0 6 0 3 0 6 0 9 0 3 0 3 0 3 0 3 0 3 0 3 0 3 0 6 0 3 0 6 0 3 0 3 0 3 0 3 0 3 0 3 0 3 0 3 0 3 0 6 0 3 0 3 0 3 0 3 0 3 0 3 0 3 0 3 0 3 0 3 0 3 0 3 0 3 0 3 0 3 0 3 0 3 0 3 0 6 0 3 0 3 0 3 0 3 0 3 0 3 0 3 0 3 0 3 0 6 0 3 0 6 0 3 0 3 0 3 0 3 0 3 0 3 0 3 0 3 0 6 0 9 0 3 0 3 0 3 0 3 0 3 0 9 0 6 0 6 0 3 0 3 0 3 0 9 0 6 0 3 0 6 0 3 0 6 0 6 0 3 0 3 0 6 0 12 0 3 0 3 0 3 0 12 0 12 0 9 0 18 0 3 0 3 0 9 0 3 0 9 0 15 0 6 0 3 0 9 0 3 0 3 0 3 0 9 0 3 0 6 0 9 0 6 0 6 0 6 0 12 0 3 0 3 0 6 0 3 0 6 0 12 0 3 0 6 0 3 0 3 0 3 0 6 0 6 0 3 0 9 0 6 0 3 0 6 0 3 0 9999"/><path d="M-489 588.37H483.01" stroke-dasharray="0 3 0 6 0 6 0 6 0 3 0 3 0 6 0 3 0 15 0 15 0 3 0 6 0 6 0 12 0 3 0 6 0 9 0 9 0 6 0 6 0 3 0 9 0 12 0 3 0 12 0 3 0 3 0 3 0 6 0 9 0 9 0 12 0 3 0 9 0 3 0 9 0 3 0 3 0 9 0 3 0 3 0 3 0 6 0 6 0 3 0 12 0 6 0 6 0 3 0 6 0 6 0 6 0 12 0 3 0 6 0 6 0 3 0 6 0 12 0 3 0 3 0 6 0 3 0 3 0 3 0 3 0 6 0 3 0 3 0 3 0 3 0 3 0 3 0 3 0 6 0 9 0 3 0 3 0 3 0 3 0 3 0 3 0 3 0 3 0 3 0 3 0 3 0 3 0 3 0 3 0 3 0 3 0 3 0 3 0 3 0 3 0 3 0 3 0 3 0 6 0 3 0 3 0 3 0 3 0 6 0 3 0 3 0 3 0 3 0 3 0 6 0 3 0 3 0 3 0 3 0 3 0 6 0 6 0 3 0 6 0 3 0 3 0 6 0 6 0 3 0 3 0 9 0 3 0 3 0 3 0 3 0 3 0 3 0 3 0 3 0 3 0 6 0 3 0 3 0 3 0 9 0 3 0 12 0 3 0 3 0 6 0 3 0 6 0 3 0 3 0 3 0 3 0 15 0 3 0 6 0 9 0 15 0 6 0 6 0 3 0 6 0 3 0 3 0 15 0 3 0 3 0 6 0 6 0 3 0 3 0 3 0 3 0 3 0 3 0 3 0 3 0 3 0 3 0 3 0 6 0 3 0 12 0 6 0 3 0 3 0 6 0 6 0 9 0 6 0 3 0 3 0 3 0 3 0 6 0 9 0 6 0 3 0 15 0 9999"/><path d="M-488 588.37H487.01" stroke-dasharray="0 9 0 6 0 3 0 12 0 3 0 6 0 3 0 3 0 9 0 3 0 6 0 3 0 3 0 3 0 3 0 21 0 3 0 6 0 9 0 3 0 3 0 3 0 6 0 3 0 9 0 3 0 6 0 3 0 15 0 3 0 6 0 3 0 3 0 6 0 3 0 3 0 3 0 6 0 3 0 3 0 3 0 6 0 3 0 6 0 3 0 3 0 3 0 3 0 3 0 6 0 3 0 12 0 3 0 3 0 6 0 6 0 3 0 6 0 18 0 3 0 6 0 6 0 3 0 6 0 9 0 3 0 6 0 3 0 6 0 3 0 3 0 3 0 3 0 3 0 3 0 3 0 3 0 3 0 3 0 3 0 6 0 3 0 12 0 3 0 3 0 3 0 3 0 12 0 6 0 3 0 3 0 3 0 3 0 3 0 3 0 6 0 3 0 3 0 3 0 3 0 6 0 6 0 3 0 3 0 3 0 3 0 3 0 6 0 3 0 3 0 3 0 3 0 3 0 3 0 6 0 6 0 3 0 6 0 3 0 3 0 3 0 3 0 3 0 3 0 3 0 9 0 6 0 3 0 3 0 6 0 3 0 3 0 9 0 3 0 3 0 3 0 6 0 3 0 3 0 6 0 3 0 3 0 3 0 3 0 3 0 3 0 3 0 3 0 3 0 6 0 9 0 3 0 3 0 6 0 15 0 3 0 3 0 6 0 12 0 15 0 6 0 9 0 9 0 3 0 3 0 3 0 3 0 3 0 3 0 3 0 3 0 9 0 15 0 9 0 3 0 3 0 9 0 3 0 3 0 3 0 9 0 15 0 3 0 3 0 9 0 6 0 6 0 3 0 27 0 3 0 9 0 3 0 3 0 6 0 3 0 12 0 9999"/><path d="M-487 588.37H483.01" stroke-dasharray="0 17 0 2 0 2 1 7 0 3 0 7 0 14 0 9 0 2 0 14 0 3 0 17 0 4 0 2 0 14 0 4 0 6 0 3 0 2 0 7 0 12 0 2 0 3 0 10 0 3 0 6 0 2 2 11 0 6 0 9 0 3 1 2 1 13 0 10 0 2 0 4 1 5 0 3 2 3 0 8 0 2 0 4 0 5 2 4 0 8 0 11 0 4 0 2 0 3 0 2 0 5 0 2 0 12 0 2 0 2 0 2 0 5 0 3 0 6 0 2 1 7 0 8 0 3 0 3 0 4 0 4 0 2 0 2 1 3 2 2 0 2 0 2 0 5 0 2 1 2 1 2 0 2 1 2 1 3 0 2 0 3 2 2 0 3 0 4 0 2 1 3 0 2 1 4 3 4 3 2 2 3 0 3 7 2 3 3 0 3 0 5 2 2 0 3 2 2 4 3 0 2 3 2 7 3 0 2 2 4 0 3 0 3 3 5 1 2 1 2 1 3 2 3 2 3 3 5 0 2 1 2 0 4 1 3 2 2 0 4 1 3 0 2 1 2 0 3 0 4 1 2 0 3 0 3 1 5 0 2 1 2 0 3 0 2 1 10 2 6 0 3 1 4 0 2 0 5 0 2 0 11 0 20 0 3 0 3 1 3 0 17 0 33 0 8 0 14 0 2 1 4 0 2 0 11 0 8 0 12 2 2 0 2 0 10 0 5 1 5 0 13 0 11 1 4 0 8 1 5 0 6 0 9 0 2 0 6 0 3 0 4 0 2 0 7 0 9 0 7 2 2 0 13 0 9999"/><path d="M-465 588.37H428.01" stroke-dasharray="0 42 0 40 0 50 0 16 0 39 0 27 0 39 0 55 0 11 0 9 0 10 0 24 0 3 0 5 0 4 0 7 0 3 0 3 0 5 0 2 0 6 0 10 0 4 0 2 0 4 0 2 0 6 0 2 0 6 0 3 0 2 0 6 0 4 2 4 0 2 0 6 0 5 2 6 0 3 0 2 2 3 0 2 0 3 0 4 2 2 0 4 0 3 0 5 0 7 0 8 0 2 0 3 1 4 0 5 0 4 0 3 0 8 0 2 0 5 0 3 0 8 0 4 0 3 0 9 1 5 0 4 0 8 0 2 0 6 0 10 0 59 0 3 1 20 0 55 0 7 0 39 0 15 0 6 0 25 0 18 0 17 0 9999"/><path d="M-487 584.53H488.01" stroke-dasharray="0 3 0 6 0 6 0 18 0 3 0 3 0 3 0 6 0 6 0 3 0 9 0 3 0 3 0 3 0 3 0 9 0 3 0 3 0 15 0 3 0 3 0 6 0 15 0 6 0 3 0 9 0 3 0 3 0 3 0 9 0 3 0 3 0 3 0 12 0 6 0 3 0 9 0 6 0 3 0 9 0 3 0 3 0 3 0 3 0 3 0 3 0 3 0 6 0 3 0 3 0 3 0 3 0 12 0 3 0 12 0 3 0 9 0 3 0 3 0 9 0 3 0 3 0 3 0 9 0 6 0 3 0 6 0 3 0 6 0 6 0 3 0 6 0 3 0 3 0 3 0 3 0 3 0 12 0 3 0 6 0 3 0 3 0 3 0 3 0 6 0 3 0 3 0 3 0 3 0 6 0 6 0 3 0 3 0 3 0 3 0 3 0 3 0 3 0 3 0 3 0 3 0 3 0 3 0 9 0 3 0 3 0 3 0 3 0 3 0 6 0 3 0 3 0 3 0 3 0 3 0 6 0 3 0 3 0 3 0 3 0 3 0 6 0 3 0 3 0 3 0 3 0 3 0 3 0 3 0 3 0 3 0 3 0 3 0 3 0 3 0 3 0 6 0 3 0 15 0 3 0 3 0 12 0 3 0 6 0 6 0 6 0 12 0 6 0 3 0 3 0 3 0 3 0 6 0 6 0 3 0 3 0 3 0 3 0 6 0 3 0 6 0 3 0 30 0 3 0 3 0 3 0 6 0 3 0 3 0 9 0 12 0 3 0 18 0 6 0 3 0 3 0 3 0 6 0 9 0 3 0 3 0 3 0 9 0 3 0 3 0 12 0 3 0 3 0 6 0 3 0 3 0 6 0 3 0 3 0 3 0 6 0 3 0 6 0 3 0 3 0 3 0 12 0 6 0 9999"/><path d="M-489 584.53H489.01" stroke-dasharray="0 9 0 9 0 9 0 3 0 3 0 6 0 3 0 6 0 12 0 3 0 3 0 9 0 3 0 6 0 3 0 12 0 3 0 3 0 3 0 6 0 3 0 9 0 6 0 3 0 9 0 3 0 6 0 3 0 3 0 3 0 6 0 6 0 3 0 3 0 3 0 3 0 6 0 3 0 9 0 3 0 24 0 3 0 3 0 3 0 3 0 3 0 3 0 15 0 6 0 3 0 3 0 3 0 3 0 3 0 9 0 3 0 3 0 12 0 15 0 6 0 6 0 6 0 3 0 3 0 6 0 3 0 6 0 3 0 3 0 3 0 9 0 3 0 3 0 3 0 3 0 6 0 3 0 3 0 3 0 3 0 3 0 6 0 3 0 3 0 3 0 3 0 3 0 3 0 6 0 6 0 3 0 3 0 3 0 3 0 3 0 3 0 3 0 3 0 3 0 3 0 3 0 3 0 3 0 3 0 3 0 3 0 3 0 6 0 3 0 6 0 3 0 3 0 3 0 3 0 3 0 3 0 3 0 3 0 3 0 3 0 3 0 3 0 3 0 3 0 6 0 6 0 3 0 6 0 3 0 3 0 3 0 3 0 3 0 3 0 6 0 3 0 3 0 6 0 3 0 3 0 3 0 6 0 12 0 3 0 6 0 9 0 6 0 3 0 3 0 3 0 3 0 12 0 6 0 3 0 3 0 15 0 3 0 9 0 3 0 3 0 9 0 3 0 6 0 3 0 3 0 9 0 3 0 6 0 6 0 3 0 3 0 21 0 6 0 3 0 3 0 6 0 9 0 3 0 15 0 3 0 6 0 3 0 3 0 6 0 6 0 3 0 3 0 3 0 3 0 3 0 12 0 6 0 15 0 9 0 9 0 9 0 6 0 9 0 3 0 9999"/><path d="M-488 584.53H490.01" stroke-dasharray="0 3 0 6 0 3 0 6 0 3 0 12 0 6 0 9 0 12 0 3 0 12 0 3 0 3 0 3 0 3 0 3 0 3 0 6 0 3 0 3 0 3 0 12 0 9 0 3 0 3 0 3 0 15 0 3 0 12 0 18 0 9 0 3 0 6 0 3 0 6 0 3 0 6 0 3 0 3 0 3 0 9 0 3 0 3 0 3 0 12 0 3 0 3 0 9 0 6 0 21 0 15 0 3 0 3 0 3 0 3 0 3 0 3 0 12 0 3 0 6 0 6 0 3 0 6 0 3 0 9 0 3 0 9 0 3 0 3 0 3 0 6 0 6 0 3 0 6 0 3 0 3 0 3 0 3 0 3 0 3 0 3 0 3 0 3 0 3 0 3 0 3 0 3 0 3 0 3 0 3 0 3 0 3 0 3 0 3 0 3 0 3 0 3 0 3 0 3 0 6 0 3 0 3 0 3 0 3 0 3 0 3 0 3 0 3 0 6 0 3 0 6 0 6 0 3 0 6 0 3 0 3 0 3 0 3 0 3 0 3 0 3 0 3 0 6 0 3 0 3 0 3 0 3 0 3 0 3 0 6 0 6 0 3 0 9 0 9 0 6 0 3 0 3 0 3 0 6 0 12 0 9 0 3 0 3 0 3 0 6 0 3 0 15 0 12 0 3 0 3 0 3 0 6 0 12 0 3 0 9 0 3 0 6 0 9 0 3 0 9 0 3 0 9 0 3 0 3 0 9 0 9 0 9 0 3 0 3 0 6 0 6 0 6 0 9 0 6 0 12 0 12 0 3 0 3 0 6 0 9 0 3 0 3 0 9 0 12 0 3 0 3 0 3 0 3 0 3 0 6 0 3 0 9999"/><path d="M-488 584.53H486.01" stroke-dasharray="0 9 0 8 0 20 0 6 0 12 0 5 0 3 0 4 0 6 0 6 0 2 0 2 0 4 1 17 0 3 0 13 0 10 0 4 0 3 0 7 1 8 2 4 0 8 0 4 0 3 0 3 1 3 0 12 0 5 0 7 0 5 0 6 0 5 0 7 0 2 0 2 0 2 1 5 0 2 0 4 0 14 1 2 1 2 1 4 0 21 0 5 1 14 0 8 0 5 0 2 0 2 0 2 0 4 0 2 0 2 0 4 0 4 1 2 0 4 0 2 0 2 0 5 0 2 0 5 1 2 0 5 0 6 0 3 1 3 0 2 1 4 0 2 0 4 2 2 0 2 0 2 0 4 0 3 0 2 0 4 2 3 2 4 0 2 1 2 0 2 0 2 1 5 0 3 2 2 0 2 2 2 3 2 2 2 0 3 2 2 4 2 0 2 6 2 1 2 3 2 0 4 5 8 1 2 0 2 0 2 4 2 0 2 3 5 0 2 1 2 0 2 0 4 1 3 1 3 0 2 1 3 0 2 1 6 0 3 2 2 1 3 0 2 2 7 0 3 0 3 2 2 0 6 0 14 0 13 0 4 1 3 1 9 0 15 0 5 0 18 0 15 0 2 0 14 0 6 1 4 0 29 0 7 0 8 0 3 0 2 0 2 0 5 0 3 0 13 0 2 0 2 0 25 0 14 0 9 0 8 0 2 0 6 2 9 0 6 0 5 0 2 1 2 0 2 0 2 0 5 0 7 0 5 0 11 0 2 0 7 0 5 0 2 0 12 0 5 0 9999"/><path d="M-451 584.53H481.01" stroke-dasharray="0 6 0 17 0 7 0 16 0 5 0 68 0 12 0 11 0 3 0 12 0 37 0 10 0 23 1 2 0 5 0 66 0 11 0 10 0 12 0 17 1 5 1 4 0 2 0 4 0 2 0 10 0 3 0 7 0 5 0 5 0 9 1 9 0 3 0 3 0 3 1 4 1 3 0 3 2 2 0 2 1 7 0 2 2 3 0 3 2 6 0 2 0 2 0 9 0 3 0 5 0 2 1 4 0 2 1 7 1 2 0 2 0 5 0 3 1 3 0 3 0 3 0 2 0 7 0 5 0 2 0 4 0 14 0 3 0 4 0 6 0 31 0 5 0 9 0 15 0 38 0 2 0 140 0 9 0 38 0 7 0 58 0 9999"/><path d="M-490 580.68H488.01" stroke-dasharray="0 3 0 6 0 3 0 3 0 6 0 6 0 6 0 3 0 3 0 3 0 6 0 3 0 3 0 3 0 9 0 3 0 3 0 12 0 3 0 3 0 3 0 3 0 9 0 3 0 3 0 6 0 9 0 18 0 12 0 6 0 3 0 3 0 3 0 15 0 3 0 3 0 6 0 15 0 3 0 12 0 3 0 3 0 3 0 3 0 3 0 3 0 3 0 9 0 3 0 9 0 3 0 6 0 3 0 15 0 3 0 9 0 3 0 6 0 9 0 3 0 9 0 3 0 9 0 6 0 3 0 12 0 9 0 3 0 3 0 6 0 12 0 3 0 3 0 6 0 3 0 6 0 3 0 6 0 3 0 6 0 3 0 9 0 3 0 3 0 3 0 6 0 3 0 3 0 3 0 3 0 3 0 3 0 3 0 3 0 3 0 3 0 3 0 3 0 3 0 3 0 3 0 3 0 3 0 3 0 3 0 3 0 3 0 3 0 3 0 3 0 3 0 3 0 3 0 3 0 3 0 3 0 9 0 3 0 6 0 3 0 3 0 6 0 3 0 3 0 3 0 3 0 9 0 6 0 3 0 3 0 3 0 6 0 3 0 3 0 6 0 12 0 3 0 3 0 15 0 3 0 3 0 3 0 3 0 6 0 27 0 3 0 3 0 3 0 6 0 18 0 3 0 6 0 3 0 3 0 6 0 6 0 9 0 3 0 3 0 6 0 6 0 3 0 3 0 3 0 15 0 3 0 6 0 3 0 3 0 9 0 15 0 3 0 3 0 3 0 3 0 3 0 9 0 3 0 3 0 3 0 6 0 3 0 6 0 3 0 3 0 3 0 3 0 3 0 3 0 6 0 6 0 3 0 6 0 6 0 9 0 3 0 9999"/><path d="M-480 580.68H486.01" stroke-dasharray="0 12 0 6 0 3 0 3 0 12 0 3 0 3 0 3 0 9 0 12 0 12 0 3 0 12 0 3 0 12 0 18 0 3 0 3 0 6 0 15 0 6 0 3 0 3 0 3 0 6 0 3 0 3 0 6 0 3 0 9 0 3 0 6 0 6 0 15 0 3 0 3 0 6 0 3 0 6 0 6 0 3 0 3 0 3 0 3 0 3 0 9 0 3 0 3 0 15 0 12 0 3 0 3 0 6 0 6 0 6 0 3 0 6 0 3 0 3 0 3 0 6 0 3 0 6 0 3 0 9 0 3 0 3 0 3 0 6 0 3 0 3 0 3 0 3 0 3 0 3 0 3 0 3 0 3 0 3 0 3 0 3 0 3 0 3 0 6 0 3 0 3 0 3 0 3 0 3 0 3 0 3 0 3 0 3 0 3 0 3 0 3 0 3 0 3 0 3 0 3 0 3 0 3 0 3 0 6 0 3 0 3 0 3 0 3 0 6 0 3 0 3 0 3 0 9 0 6 0 3 0 3 0 3 0 3 0 3 0 3 0 3 0 3 0 3 0 6 0 9 0 3 0 9 0 12 0 9 0 3 0 27 0 3 0 6 0 3 0 3 0 3 0 3 0 3 0 12 0 6 0 6 0 6 0 3 0 6 0 3 0 6 0 9 0 3 0 3 0 12 0 3 0 3 0 3 0 3 0 3 0 3 0 3 0 3 0 3 0 6 0 6 0 3 0 3 0 3 0 3 0 3 0 3 0 3 0 6 0 3 0 12 0 3 0 6 0 9 0 9 0 3 0 3 0 6 0 3 0 6 0 9 0 3 0 3 0 3 0 9 0 3 0 3 0 3 0 9 0 3 0 3 0 9 0 12 0 3 0 3 0 3 0 3 0 9999"/><path d="M-485 580.68H481.01" stroke-dasharray="0 6 0 6 0 3 0 3 0 12 0 6 0 3 0 9 0 3 0 3 0 6 0 3 0 12 0 3 0 12 0 3 0 3 0 3 0 6 0 12 0 3 0 6 0 6 0 3 0 6 0 3 0 3 0 12 0 3 0 9 0 6 0 3 0 6 0 3 0 3 0 3 0 3 0 15 0 3 0 3 0 6 0 6 0 3 0 9 0 3 0 3 0 6 0 3 0 3 0 18 0 3 0 3 0 3 0 9 0 3 0 6 0 3 0 3 0 3 0 9 0 6 0 3 0 3 0 3 0 9 0 3 0 12 0 6 0 3 0 3 0 6 0 6 0 3 0 6 0 3 0 3 0 3 0 6 0 6 0 3 0 3 0 3 0 3 0 9 0 3 0 3 0 3 0 3 0 3 0 3 0 3 0 6 0 3 0 3 0 3 0 3 0 3 0 3 0 3 0 3 0 3 0 3 0 3 0 3 0 9 0 3 0 3 0 3 0 3 0 3 0 3 0 3 0 3 0 3 0 3 0 3 0 3 0 3 0 3 0 3 0 3 0 3 0 9 0 6 0 3 0 12 0 3 0 6 0 3 0 3 0 9 0 12 0 6 0 3 0 3 0 3 0 3 0 3 0 3 0 3 0 6 0 3 0 6 0 9 0 3 0 3 0 3 0 3 0 6 0 3 0 12 0 9 0 9 0 3 0 3 0 3 0 3 0 6 0 6 0 9 0 3 0 6 0 9 0 6 0 6 0 3 0 6 0 3 0 6 0 3 0 3 0 6 0 6 0 3 0 3 0 3 0 15 0 9 0 3 0 3 0 3 0 9 0 6 0 3 0 3 0 3 0 6 0 6 0 3 0 12 0 3 0 12 0 9 0 3 0 3 0 3 0 3 0 9 0 9999"/><path d="M-490 580.68H485.01" stroke-dasharray="0 5 0 7 0 3 0 7 0 9 0 5 0 3 0 7 0 6 0 4 0 8 0 2 0 10 0 14 1 4 1 5 0 5 0 2 0 2 0 15 0 17 0 4 0 17 0 4 1 7 1 2 0 7 0 4 0 19 0 8 1 7 0 6 1 5 0 2 0 10 0 2 0 4 0 4 0 2 1 5 0 4 0 9 1 7 0 2 0 8 0 14 0 3 0 6 0 2 0 5 1 2 0 4 1 4 1 6 0 12 0 3 0 11 0 2 0 3 0 4 0 3 0 8 0 3 0 2 0 4 0 3 0 3 2 2 0 4 3 6 6 3 0 2 1 2 1 3 0 2 0 2 3 3 0 2 0 3 0 2 3 2 2 3 1 2 5 2 0 2 6 4 0 2 1 2 1 2 1 3 0 2 1 2 0 2 1 2 0 2 3 2 6 3 0 2 0 2 0 3 1 3 4 2 0 2 0 4 0 2 0 4 1 4 0 2 1 4 1 8 2 2 2 6 0 3 0 9 0 8 0 7 0 7 0 13 0 3 0 3 0 3 0 16 0 4 0 7 0 4 0 3 2 6 0 7 0 5 0 11 0 6 0 5 0 2 0 2 0 5 0 27 0 4 0 2 3 8 0 7 1 8 0 5 0 12 2 7 2 3 0 4 0 2 0 13 1 10 0 13 0 13 0 3 0 14 1 15 0 3 0 4 0 2 0 7 0 2 0 22 1 20 0 2 0 9999"/><path d="M-468 580.68H483.01" stroke-dasharray="0 9 0 8 0 13 0 12 0 31 0 94 0 28 0 7 0 6 0 18 0 22 0 27 0 49 0 15 0 16 0 4 0 11 0 9 0 7 1 2 0 4 0 2 1 6 0 2 0 4 0 5 1 3 0 5 0 2 0 2 0 4 0 2 0 3 0 4 1 3 0 4 1 2 0 3 2 2 0 2 2 2 2 4 0 2 1 2 1 2 1 3 0 5 0 2 1 2 0 2 0 2 0 3 0 3 2 15 0 2 1 3 0 2 0 4 0 2 0 25 0 4 0 2 0 6 0 27 0 105 0 2 0 38 0 3 0 2 0 29 0 12 0 9 0 48 0 13 0 49 0 45 0 9999"/><path d="M-475 576.83H485.01" stroke-dasharray="0 3 0 15 0 3 0 9 0 6 0 18 0 3 0 3 0 3 0 6 0 3 0 6 0 3 0 3 0 6 0 3 0 6 0 3 0 9 0 3 0 3 0 3 0 6 0 3 0 3 0 12 0 3 0 6 0 9 0 6 0 3 0 9 0 3 0 6 0 6 0 12 0 3 0 3 0 6 0 3 0 3 0 6 0 12 0 3 0 6 0 6 0 12 0 9 0 9 0 3 0 9 0 3 0 3 0 6 0 3 0 3 0 6 0 3 0 3 0 6 0 12 0 6 0 3 0 6 0 3 0 3 0 3 0 3 0 6 0 3 0 6 0 6 0 3 0 3 0 3 0 3 0 3 0 3 0 3 0 3 0 3 0 3 0 6 0 3 0 3 0 3 0 6 0 3 0 3 0 3 0 3 0 3 0 3 0 3 0 3 0 3 0 3 0 3 0 3 0 3 0 3 0 3 0 6 0 3 0 3 0 6 0 3 0 3 0 6 0 3 0 3 0 3 0 3 0 3 0 3 0 3 0 3 0 6 0 6 0 3 0 3 0 3 0 6 0 3 0 3 0 3 0 3 0 6 0 3 0 6 0 6 0 3 0 6 0 3 0 9 0 9 0 3 0 3 0 3 0 3 0 9 0 3 0 3 0 6 0 3 0 15 0 3 0 3 0 3 0 6 0 3 0 3 0 3 0 3 0 6 0 3 0 3 0 9 0 3 0 3 0 3 0 9 0 9 0 6 0 6 0 6 0 3 0 15 0 3 0 3 0 3 0 3 0 3 0 3 0 3 0 3 0 3 0 6 0 3 0 3 0 6 0 3 0 12 0 18 0 3 0 3 0 9 0 6 0 3 0 6 0 9 0 24 0 9 0 3 0 6 0 3 0 9999"/><path d="M-486 576.83H486.01" stroke-dasharray="0 6 0 9 0 12 0 6 0 3 0 18 0 3 0 9 0 3 0 3 0 3 0 15 0 3 0 3 0 3 0 12 0 12 0 3 0 3 0 3 0 3 0 12 0 3 0 3 0 3 0 3 0 3 0 3 0 3 0 9 0 18 0 3 0 3 0 6 0 3 0 9 0 6 0 3 0 3 0 6 0 3 0 3 0 3 0 3 0 3 0 3 0 6 0 3 0 3 0 3 0 3 0 3 0 3 0 3 0 3 0 3 0 3 0 6 0 3 0 12 0 9 0 6 0 6 0 3 0 3 0 3 0 3 0 6 0 6 0 3 0 3 0 3 0 3 0 3 0 3 0 9 0 3 0 3 0 3 0 3 0 6 0 3 0 6 0 3 0 3 0 3 0 3 0 3 0 6 0 3 0 6 0 3 0 3 0 3 0 3 0 3 0 3 0 3 0 3 0 6 0 3 0 3 0 3 0 3 0 6 0 3 0 3 0 3 0 3 0 3 0 3 0 3 0 3 0 6 0 3 0 3 0 3 0 3 0 3 0 3 0 3 0 3 0 3 0 3 0 3 0 3 0 9 0 3 0 3 0 3 0 3 0 3 0 6 0 3 0 6 0 3 0 9 0 6 0 6 0 9 0 3 0 3 0 6 0 3 0 6 0 6 0 3 0 9 0 3 0 3 0 6 0 3 0 6 0 3 0 9 0 3 0 6 0 9 0 3 0 27 0 3 0 3 0 3 0 6 0 12 0 3 0 6 0 6 0 3 0 3 0 6 0 12 0 24 0 6 0 15 0 3 0 3 0 3 0 3 0 9 0 3 0 6 0 3 0 6 0 15 0 3 0 3 0 3 0 15 0 6 0 3 0 3 0 3 0 3 0 9 0 9 0 9999"/><path d="M-485 576.83H490.01" stroke-dasharray="0 6 0 3 0 3 0 3 0 3 0 6 0 3 0 6 0 9 0 12 0 12 0 6 0 3 0 9 0 3 0 15 0 9 0 3 0 6 0 3 0 9 0 9 0 6 0 3 0 6 0 3 0 3 0 15 0 3 0 3 0 6 0 3 0 6 0 6 0 3 0 9 0 6 0 3 0 6 0 6 0 3 0 3 0 3 0 3 0 3 0 6 0 6 0 9 0 6 0 9 0 3 0 6 0 6 0 18 0 3 0 9 0 9 0 3 0 3 0 3 0 9 0 3 0 3 0 3 0 6 0 3 0 3 0 3 0 3 0 3 0 3 0 6 0 3 0 6 0 3 0 3 0 3 0 3 0 3 0 3 0 3 0 3 0 3 0 3 0 3 0 9 0 3 0 3 0 3 0 3 0 3 0 6 0 3 0 3 0 3 0 3 0 3 0 3 0 3 0 3 0 3 0 3 0 3 0 3 0 3 0 6 0 3 0 3 0 3 0 3 0 3 0 3 0 3 0 3 0 3 0 3 0 3 0 12 0 3 0 3 0 3 0 3 0 6 0 3 0 24 0 6 0 3 0 3 0 15 0 3 0 6 0 3 0 3 0 3 0 6 0 3 0 6 0 3 0 6 0 9 0 3 0 12 0 12 0 3 0 24 0 3 0 3 0 6 0 3 0 3 0 6 0 6 0 3 0 6 0 3 0 6 0 3 0 3 0 3 0 3 0 3 0 6 0 6 0 3 0 3 0 6 0 3 0 9 0 3 0 6 0 9 0 3 0 3 0 3 0 6 0 3 0 6 0 9 0 12 0 3 0 9 0 6 0 3 0 6 0 3 0 3 0 9 0 12 0 9 0 3 0 3 0 3 0 3 0 9999"/><path d="M-475 576.83H486.01" stroke-dasharray="0 2 0 2 0 17 0 2 0 7 0 16 0 10 0 4 0 4 0 5 0 10 0 11 0 3 0 8 0 9 1 4 0 6 0 5 0 5 1 5 0 11 1 2 2 9 0 6 0 5 0 6 0 3 0 6 0 6 0 5 0 8 0 6 0 4 0 5 0 3 2 17 0 4 0 4 0 2 0 2 0 7 0 2 0 5 0 4 0 5 2 29 0 5 1 8 0 3 1 4 0 2 2 12 1 3 2 2 0 2 0 7 1 2 0 3 0 2 2 2 0 5 0 3 0 5 0 9 0 3 0 8 0 2 1 2 2 2 0 3 0 3 0 3 0 2 2 4 0 3 2 2 0 2 0 2 9 3 12 3 0 2 4 2 3 2 5 2 0 2 0 2 4 2 0 2 0 3 1 2 3 2 0 3 0 2 1 7 2 2 1 3 3 2 0 3 0 6 0 9 1 2 0 4 1 3 0 2 0 2 0 6 1 3 0 8 0 7 1 3 1 9 0 8 0 5 0 4 0 16 0 8 0 2 2 9 0 3 0 2 0 2 0 15 0 13 0 7 0 3 0 6 0 6 0 5 0 9 0 4 0 14 0 3 0 2 0 16 3 8 0 7 0 4 1 2 0 2 1 11 0 28 2 2 0 4 0 22 0 4 0 6 0 16 0 6 0 2 0 10 0 14 0 5 1 3 1 8 0 4 1 3 1 9999"/><path d="M-471 576.83H445.01" stroke-dasharray="0 111 0 22 0 14 2 9 0 20 0 6 0 56 0 26 0 11 0 34 0 38 0 12 0 6 0 6 0 5 0 17 0 3 0 23 0 5 1 5 0 5 0 9 0 9 6 2 1 2 1 5 2 2 0 2 1 2 0 2 2 2 0 3 0 2 0 2 1 7 0 7 1 3 0 5 1 7 1 3 0 4 1 22 0 8 0 5 0 9 0 19 0 13 0 45 0 12 0 19 0 53 0 14 0 32 0 17 0 39 0 4 0 58 0 12 0 9999"/><path d="M-490 572.99H470.01" stroke-dasharray="0 9 0 6 0 15 0 6 0 6 0 24 0 3 0 6 0 3 0 6 0 6 0 6 0 6 0 12 0 3 0 9 0 3 0 9 0 6 0 3 0 3 0 15 0 15 0 3 0 6 0 3 0 18 0 3 0 3 0 3 0 3 0 18 0 3 0 6 0 3 0 3 0 6 0 3 0 3 0 6 0 3 0 3 0 30 0 18 0 6 0 6 0 3 0 3 0 6 0 3 0 3 0 3 0 3 0 3 0 3 0 3 0 3 0 6 0 3 0 3 0 3 0 3 0 6 0 3 0 6 0 6 0 3 0 3 0 6 0 3 0 3 0 3 0 12 0 3 0 3 0 3 0 3 0 3 0 3 0 3 0 3 0 3 0 6 0 3 0 3 0 3 0 3 0 3 0 6 0 3 0 3 0 3 0 3 0 3 0 6 0 3 0 6 0 3 0 6 0 3 0 3 0 6 0 3 0 3 0 3 0 9 0 6 0 3 0 3 0 3 0 6 0 3 0 3 0 3 0 3 0 6 0 9 0 3 0 3 0 3 0 9 0 3 0 3 0 3 0 9 0 6 0 3 0 3 0 3 0 3 0 6 0 3 0 6 0 3 0 3 0 3 0 3 0 3 0 6 0 6 0 6 0 3 0 6 0 3 0 3 0 3 0 3 0 3 0 3 0 6 0 9 0 3 0 21 0 6 0 3 0 3 0 18 0 9 0 6 0 3 0 3 0 24 0 9 0 6 0 3 0 3 0 3 0 9 0 9 0 9 0 3 0 9 0 3 0 3 0 3 0 3 0 6 0 9 0 3 0 3 0 3 0 9999"/><path d="M-486 572.99H480.01" stroke-dasharray="0 6 0 9 0 3 0 3 0 3 0 12 0 3 0 3 0 3 0 6 0 3 0 3 0 6 0 3 0 9 0 3 0 12 0 12 0 21 0 9 0 9 0 12 0 9 0 3 0 3 0 6 0 3 0 3 0 3 0 3 0 3 0 3 0 9 0 6 0 3 0 3 0 15 0 3 0 3 0 9 0 3 0 6 0 6 0 3 0 24 0 6 0 6 0 15 0 12 0 9 0 3 0 3 0 6 0 3 0 9 0 3 0 3 0 3 0 3 0 3 0 6 0 3 0 6 0 9 0 3 0 6 0 3 0 3 0 6 0 3 0 3 0 3 0 3 0 6 0 6 0 3 0 3 0 3 0 3 0 6 0 3 0 3 0 6 0 3 0 3 0 3 0 3 0 3 0 3 0 3 0 3 0 3 0 3 0 3 0 3 0 3 0 3 0 3 0 3 0 3 0 3 0 3 0 3 0 3 0 3 0 3 0 3 0 6 0 3 0 3 0 3 0 3 0 9 0 3 0 3 0 6 0 3 0 6 0 9 0 3 0 12 0 3 0 3 0 3 0 3 0 3 0 3 0 12 0 3 0 6 0 6 0 3 0 6 0 6 0 21 0 3 0 3 0 3 0 9 0 6 0 9 0 15 0 3 0 3 0 15 0 6 0 6 0 3 0 3 0 9 0 12 0 9 0 15 0 6 0 3 0 12 0 3 0 6 0 3 0 6 0 9 0 6 0 3 0 6 0 3 0 6 0 6 0 3 0 3 0 6 0 3 0 6 0 15 0 3 0 6 0 3 0 3 0 9 0 9999"/><path d="M-488 572.99H490.01" stroke-dasharray="0 6 0 24 0 3 0 3 0 3 0 3 0 6 0 3 0 3 0 3 0 6 0 3 0 9 0 3 0 6 0 3 0 6 0 9 0 3 0 9 0 6 0 6 0 9 0 12 0 3 0 6 0 3 0 12 0 3 0 6 0 3 0 3 0 3 0 3 0 6 0 9 0 6 0 9 0 3 0 6 0 3 0 9 0 3 0 6 0 3 0 9 0 3 0 12 0 15 0 9 0 3 0 6 0 6 0 6 0 3 0 3 0 3 0 9 0 6 0 6 0 3 0 3 0 3 0 3 0 6 0 6 0 3 0 6 0 3 0 3 0 3 0 3 0 3 0 3 0 9 0 3 0 6 0 3 0 3 0 3 0 6 0 3 0 6 0 3 0 3 0 3 0 3 0 3 0 3 0 3 0 3 0 3 0 3 0 9 0 3 0 3 0 3 0 6 0 3 0 3 0 3 0 3 0 3 0 3 0 3 0 3 0 3 0 3 0 3 0 3 0 3 0 3 0 3 0 3 0 3 0 3 0 6 0 3 0 3 0 3 0 3 0 3 0 3 0 3 0 6 0 6 0 3 0 6 0 3 0 3 0 3 0 3 0 3 0 9 0 3 0 6 0 3 0 9 0 15 0 6 0 3 0 3 0 6 0 3 0 6 0 3 0 9 0 3 0 6 0 9 0 3 0 3 0 3 0 6 0 12 0 3 0 3 0 3 0 9 0 3 0 18 0 3 0 6 0 18 0 9 0 3 0 3 0 6 0 6 0 9 0 3 0 3 0 3 0 6 0 3 0 6 0 3 0 6 0 3 0 6 0 6 0 3 0 12 0 6 0 3 0 3 0 3 0 3 0 3 0 3 0 3 0 3 0 3 0 15 0 6 0 3 0 3 0 6 0 9999"/><path d="M-486 572.99H480.01" stroke-dasharray="0 15 0 19 0 2 0 2 0 8 0 5 0 4 0 7 1 3 0 5 0 3 0 2 0 4 0 6 0 4 1 7 0 35 0 32 0 3 1 7 2 8 0 2 0 22 0 2 1 21 0 7 0 3 1 12 0 65 0 6 1 2 0 8 0 9 0 4 0 3 0 2 0 3 1 3 0 6 0 2 0 6 0 2 1 4 0 6 0 3 1 2 0 8 0 5 3 4 0 4 0 3 0 4 1 7 0 7 2 2 4 3 0 3 2 2 2 4 0 2 0 2 1 2 3 3 0 2 2 3 1 2 3 2 0 3 4 2 0 2 2 2 2 2 0 2 1 2 1 2 1 2 0 3 3 8 3 7 0 3 1 4 0 9 0 2 0 3 2 2 3 3 1 4 1 3 0 3 0 6 2 2 1 3 0 3 0 3 3 8 1 10 0 2 0 9 0 22 0 7 0 7 0 7 0 3 0 4 0 2 0 2 0 3 0 11 0 2 0 5 0 3 0 3 0 13 0 3 0 6 0 5 0 9 0 17 0 3 0 5 0 4 0 19 0 9 0 3 0 4 1 2 0 3 0 20 0 4 0 4 0 10 0 5 0 4 1 4 0 6 0 7 1 7 0 2 1 3 0 4 0 2 1 7 0 5 1 6 0 7 0 5 0 16 0 9999"/><path d="M-486 572.99H464.01" stroke-dasharray="0 46 0 123 0 7 1 36 0 109 0 6 1 23 0 18 0 21 0 4 0 2 0 14 0 32 2 4 2 3 0 4 0 4 0 10 0 10 1 4 0 3 0 2 1 5 0 2 0 2 0 4 0 2 0 3 0 3 0 5 0 4 0 5 0 2 1 9 2 10 1 4 0 9 0 2 0 3 0 2 0 5 0 15 0 6 1 7 0 7 0 10 0 51 0 14 0 3 0 11 0 18 0 19 0 23 0 17 0 96 0 9 0 13 0 52 0 9999"/><path d="M-490 569.14H482.01" stroke-dasharray="0 9 0 3 0 3 0 3 0 6 0 3 0 3 0 9 0 6 0 9 0 12 0 6 0 24 0 6 0 6 0 6 0 3 0 9 0 12 0 6 0 18 0 3 0 6 0 12 0 9 0 9 0 3 0 3 0 9 0 15 0 3 0 18 0 3 0 3 0 6 0 6 0 6 0 3 0 3 0 12 0 6 0 3 0 3 0 9 0 3 0 9 0 3 0 3 0 9 0 3 0 3 0 9 0 3 0 15 0 3 0 3 0 3 0 9 0 3 0 3 0 3 0 6 0 3 0 3 0 3 0 3 0 3 0 3 0 6 0 3 0 3 0 3 0 6 0 9 0 3 0 6 0 3 0 3 0 3 0 3 0 3 0 3 0 3 0 3 0 3 0 3 0 3 0 3 0 3 0 3 0 3 0 3 0 9 0 3 0 3 0 3 0 3 0 6 0 6 0 6 0 6 0 3 0 3 0 9 0 9 0 3 0 3 0 9 0 3 0 3 0 3 0 9 0 3 0 6 0 3 0 3 0 3 0 21 0 9 0 3 0 6 0 12 0 6 0 3 0 9 0 6 0 3 0 3 0 3 0 3 0 9 0 9 0 12 0 9 0 3 0 3 0 3 0 3 0 9 0 3 0 6 0 9 0 3 0 3 0 3 0 3 0 3 0 9 0 3 0 3 0 3 0 12 0 6 0 3 0 3 0 6 0 3 0 9 0 12 0 3 0 3 0 3 0 3 0 3 0 6 0 6 0 3 0 3 0 3 0 3 0 3 0 9 0 3 0 6 0 3 0 3 0 6 0 6 0 9 0 9999"/><path d="M-480 569.14H489.01" stroke-dasharray="0 9 0 9 0 18 0 6 0 3 0 3 0 6 0 12 0 6 0 3 0 21 0 3 0 15 0 3 0 6 0 9 0 6 0 6 0 3 0 3 0 3 0 3 0 9 0 3 0 6 0 3 0 3 0 3 0 3 0 12 0 3 0 12 0 3 0 3 0 3 0 3 0 3 0 6 0 3 0 9 0 6 0 3 0 3 0 9 0 3 0 6 0 9 0 12 0 6 0 3 0 3 0 3 0 6 0 3 0 3 0 3 0 3 0 6 0 3 0 3 0 3 0 6 0 3 0 6 0 9 0 6 0 3 0 3 0 3 0 6 0 3 0 3 0 3 0 3 0 3 0 3 0 6 0 3 0 3 0 3 0 3 0 3 0 6 0 3 0 3 0 3 0 3 0 6 0 3 0 6 0 3 0 3 0 3 0 3 0 3 0 3 0 3 0 3 0 3 0 3 0 3 0 3 0 3 0 3 0 3 0 3 0 3 0 6 0 3 0 3 0 3 0 9 0 3 0 3 0 3 0 3 0 3 0 3 0 3 0 6 0 3 0 6 0 3 0 3 0 3 0 3 0 3 0 3 0 3 0 6 0 3 0 3 0 12 0 3 0 3 0 6 0 9 0 3 0 9 0 6 0 3 0 12 0 6 0 3 0 9 0 3 0 3 0 9 0 3 0 3 0 6 0 3 0 3 0 3 0 3 0 3 0 3 0 3 0 9 0 3 0 3 0 12 0 9 0 6 0 21 0 6 0 6 0 3 0 3 0 6 0 9 0 3 0 3 0 9 0 3 0 3 0 3 0 6 0 6 0 6 0 3 0 9 0 6 0 3 0 12 0 6 0 3 0 6 0 6 0 3 0 9 0 3 0 3 0 3 0 6 0 6 0 6 0 9999"/><path d="M-488 569.14H490.01" stroke-dasharray="0 3 0 3 0 3 0 6 0 6 0 3 0 3 0 9 0 12 0 3 0 6 0 3 0 15 0 6 0 15 0 3 0 3 0 6 0 6 0 3 0 6 0 3 0 3 0 6 0 3 0 6 0 6 0 3 0 3 0 6 0 6 0 3 0 3 0 12 0 12 0 3 0 3 0 3 0 6 0 6 0 6 0 3 0 3 0 9 0 3 0 3 0 3 0 9 0 6 0 3 0 3 0 3 0 6 0 3 0 3 0 12 0 6 0 3 0 9 0 3 0 6 0 3 0 6 0 3 0 6 0 3 0 3 0 6 0 3 0 12 0 3 0 3 0 6 0 3 0 3 0 3 0 3 0 3 0 3 0 6 0 3 0 3 0 3 0 3 0 3 0 3 0 6 0 3 0 3 0 3 0 3 0 3 0 3 0 3 0 6 0 3 0 3 0 3 0 3 0 3 0 3 0 3 0 3 0 3 0 3 0 3 0 12 0 3 0 3 0 3 0 3 0 3 0 3 0 3 0 6 0 3 0 6 0 3 0 3 0 3 0 3 0 3 0 3 0 3 0 3 0 6 0 12 0 6 0 3 0 6 0 6 0 3 0 6 0 12 0 3 0 3 0 3 0 3 0 15 0 3 0 3 0 3 0 3 0 6 0 3 0 3 0 3 0 9 0 3 0 9 0 3 0 3 0 3 0 9 0 3 0 3 0 6 0 9 0 6 0 27 0 6 0 6 0 6 0 3 0 6 0 6 0 3 0 3 0 3 0 6 0 3 0 3 0 9 0 6 0 6 0 3 0 3 0 9 0 6 0 3 0 9 0 3 0 3 0 6 0 6 0 6 0 3 0 3 0 3 0 3 0 3 0 6 0 3 0 6 0 6 0 9 0 3 0 3 0 9 0 6 0 3 0 9 0 9999"/><path d="M-481 569.14H489.01" stroke-dasharray="0 2 1 3 0 11 0 29 0 7 0 4 0 40 0 2 0 17 1 11 0 3 0 2 0 2 0 14 0 2 0 6 0 7 0 3 0 2 0 5 0 23 0 15 0 9 0 2 0 10 0 3 0 2 1 7 0 3 0 2 0 4 0 6 0 5 0 2 0 2 2 5 1 8 0 4 0 6 0 8 0 2 0 2 0 2 0 9 3 7 0 2 0 2 0 10 0 3 0 6 0 9 0 9 0 2 0 2 1 2 0 2 1 3 4 3 2 2 0 4 0 2 5 2 0 2 2 2 0 2 3 4 0 2 0 2 3 2 1 4 2 2 0 2 0 5 3 5 1 3 0 2 0 3 0 3 0 2 1 2 3 2 0 2 5 2 0 3 1 2 1 3 0 2 6 7 0 2 2 5 3 2 1 3 0 4 0 3 3 2 3 4 1 2 5 4 0 4 0 4 0 4 1 3 1 2 0 4 0 4 0 2 0 2 0 4 1 6 0 4 0 14 1 10 0 10 0 2 0 10 0 15 0 5 0 7 1 12 0 6 0 7 0 6 0 12 0 4 0 2 0 21 0 5 0 17 0 2 0 5 0 8 1 5 0 6 0 2 0 6 1 4 0 2 0 2 0 5 0 4 0 10 0 10 0 9 0 2 0 2 0 12 0 5 0 5 0 4 0 6 0 15 0 3 1 15 0 4 1 9 0 2 1 4 0 6 1 6 0 3 1 7 0 9999"/><path d="M-478 569.14H478.01" stroke-dasharray="0 43 0 70 0 17 0 24 0 10 0 54 0 12 0 3 0 13 0 2 0 21 0 57 0 2 0 2 0 19 0 28 0 4 0 2 1 5 0 6 0 2 1 4 0 8 0 2 0 2 0 9 0 6 0 4 0 2 0 2 0 2 0 5 3 5 0 4 0 2 0 3 0 3 0 3 0 2 2 3 0 5 1 3 0 3 0 3 1 3 0 2 0 2 0 2 1 8 0 2 0 2 0 5 0 2 1 2 0 8 0 3 0 6 2 9 2 13 0 4 1 3 1 6 0 37 0 21 0 58 0 7 0 50 0 17 0 7 0 22 0 13 0 42 0 2 0 87 0 6 0 7 0 9999"/><path d="M-487 565.29H488.01" stroke-dasharray="0 6 0 6 0 3 0 6 0 3 0 3 0 6 0 9 0 9 0 3 0 3 0 3 0 3 0 6 0 3 0 12 0 6 0 6 0 9 0 3 0 3 0 12 0 3 0 3 0 3 0 3 0 9 0 6 0 9 0 3 0 3 0 3 0 3 0 3 0 3 0 6 0 6 0 9 0 9 0 3 0 18 0 6 0 3 0 9 0 3 0 9 0 12 0 3 0 3 0 9 0 6 0 3 0 6 0 3 0 3 0 3 0 3 0 3 0 6 0 6 0 12 0 6 0 9 0 6 0 3 0 3 0 3 0 3 0 3 0 3 0 3 0 3 0 3 0 3 0 3 0 3 0 3 0 6 0 9 0 3 0 6 0 3 0 6 0 3 0 3 0 3 0 3 0 3 0 3 0 3 0 3 0 3 0 3 0 3 0 3 0 3 0 3 0 3 0 3 0 3 0 3 0 3 0 6 0 3 0 3 0 3 0 3 0 3 0 3 0 3 0 3 0 3 0 9 0 3 0 3 0 3 0 3 0 6 0 9 0 3 0 3 0 3 0 3 0 6 0 3 0 6 0 3 0 3 0 9 0 3 0 3 0 3 0 3 0 6 0 15 0 3 0 21 0 3 0 9 0 6 0 3 0 3 0 12 0 12 0 3 0 9 0 12 0 3 0 9 0 3 0 9 0 3 0 3 0 3 0 6 0 3 0 12 0 3 0 3 0 3 0 15 0 3 0 3 0 9 0 9 0 3 0 6 0 6 0 3 0 6 0 3 0 3 0 6 0 3 0 18 0 3 0 3 0 6 0 9 0 3 0 3 0 3 0 3 0 6 0 9 0 6 0 3 0 3 0 3 0 3 0 18 0 3 0 9999"/><path d="M-483 565.29H489.01" stroke-dasharray="0 3 0 3 0 9 0 6 0 3 0 3 0 9 0 3 0 9 0 6 0 6 0 3 0 9 0 9 0 3 0 3 0 3 0 6 0 6 0 6 0 6 0 6 0 3 0 6 0 3 0 3 0 3 0 3 0 12 0 9 0 12 0 6 0 6 0 3 0 9 0 6 0 15 0 6 0 3 0 3 0 3 0 6 0 3 0 3 0 3 0 3 0 3 0 9 0 6 0 6 0 3 0 3 0 6 0 9 0 3 0 6 0 3 0 9 0 3 0 3 0 3 0 3 0 9 0 3 0 9 0 3 0 6 0 3 0 6 0 9 0 3 0 3 0 3 0 3 0 3 0 3 0 6 0 9 0 6 0 3 0 6 0 3 0 3 0 3 0 3 0 3 0 3 0 3 0 3 0 3 0 3 0 3 0 3 0 3 0 3 0 3 0 3 0 3 0 3 0 3 0 3 0 6 0 6 0 3 0 3 0 3 0 3 0 3 0 3 0 3 0 3 0 3 0 3 0 6 0 3 0 3 0 6 0 3 0 12 0 3 0 6 0 3 0 12 0 3 0 3 0 3 0 9 0 3 0 3 0 3 0 3 0 9 0 9 0 3 0 3 0 3 0 3 0 3 0 3 0 3 0 3 0 3 0 3 0 3 0 6 0 6 0 3 0 3 0 12 0 9 0 3 0 6 0 3 0 15 0 3 0 6 0 12 0 3 0 6 0 9 0 6 0 3 0 3 0 3 0 3 0 3 0 9 0 3 0 6 0 12 0 6 0 3 0 3 0 9 0 3 0 3 0 15 0 3 0 9 0 3 0 3 0 3 0 3 0 3 0 3 0 6 0 6 0 9 0 6 0 3 0 9 0 6 0 9 0 6 0 3 0 3 0 9 0 3 0 9999"/><path d="M-488 565.29H484.01" stroke-dasharray="0 3 0 6 0 6 0 12 0 9 0 21 0 3 0 6 0 15 0 3 0 3 0 3 0 9 0 9 0 3 0 6 0 6 0 3 0 21 0 6 0 3 0 3 0 3 0 12 0 3 0 3 0 6 0 3 0 3 0 12 0 6 0 6 0 3 0 12 0 9 0 9 0 21 0 9 0 6 0 3 0 3 0 6 0 6 0 9 0 9 0 3 0 6 0 6 0 6 0 3 0 9 0 3 0 3 0 3 0 3 0 3 0 3 0 6 0 3 0 3 0 3 0 3 0 3 0 3 0 3 0 6 0 9 0 3 0 3 0 3 0 3 0 3 0 3 0 3 0 3 0 3 0 3 0 3 0 3 0 3 0 3 0 3 0 3 0 3 0 3 0 3 0 6 0 3 0 3 0 3 0 3 0 3 0 3 0 3 0 3 0 3 0 3 0 3 0 3 0 3 0 3 0 3 0 3 0 6 0 3 0 6 0 3 0 3 0 3 0 3 0 3 0 3 0 3 0 3 0 3 0 3 0 6 0 3 0 3 0 3 0 3 0 12 0 6 0 12 0 3 0 3 0 12 0 15 0 3 0 6 0 3 0 6 0 3 0 3 0 3 0 15 0 9 0 3 0 3 0 9 0 3 0 3 0 12 0 6 0 6 0 6 0 9 0 6 0 6 0 9 0 3 0 12 0 3 0 3 0 12 0 6 0 3 0 6 0 3 0 12 0 3 0 3 0 3 0 12 0 9 0 3 0 3 0 6 0 3 0 3 0 6 0 3 0 6 0 6 0 3 0 12 0 3 0 3 0 3 0 6 0 6 0 3 0 18 0 9999"/><path d="M-483 565.29H489.01" stroke-dasharray="0 3 0 7 0 12 0 5 0 2 0 18 0 9 0 3 0 13 0 8 2 5 0 5 0 4 0 6 0 2 0 4 0 6 0 4 0 10 0 3 0 4 0 3 0 8 0 2 0 5 1 4 0 3 0 14 0 4 0 5 1 4 0 5 0 9 0 2 1 5 0 3 0 20 1 7 0 10 0 2 0 22 0 3 0 3 1 5 0 8 0 6 0 5 0 2 0 10 0 2 0 4 0 2 0 3 0 10 1 11 0 4 0 4 3 5 0 3 0 5 3 6 8 2 1 5 1 7 0 2 1 3 0 2 1 6 0 2 2 2 0 4 3 2 15 2 0 2 1 2 7 4 4 2 4 2 3 3 0 3 1 2 0 2 11 3 0 2 2 2 1 3 0 4 4 3 1 4 1 2 0 4 2 2 1 7 0 2 0 2 1 2 0 2 0 4 0 2 1 4 0 3 1 3 1 2 1 7 1 3 0 2 1 4 0 3 0 4 0 3 0 3 0 5 0 8 0 4 0 3 0 3 0 3 1 2 1 2 0 9 0 6 0 4 0 7 0 19 1 6 1 4 0 17 0 5 0 2 0 8 0 12 1 3 2 23 0 4 0 42 1 2 0 27 0 5 0 14 1 8 1 2 1 9 0 2 0 4 0 4 0 3 0 2 0 4 0 4 0 4 0 7 0 2 0 13 0 7 0 14 0 4 0 9999"/><path d="M-456 565.29H434.01" stroke-dasharray="0 20 0 9 0 3 0 43 0 51 0 36 0 93 0 6 0 31 0 33 0 4 0 7 0 13 0 3 0 8 2 2 0 2 0 3 0 6 0 7 0 2 1 12 0 2 0 2 0 2 0 7 0 2 3 2 3 2 5 2 0 2 0 4 0 4 0 2 0 4 4 4 2 3 1 4 0 4 0 2 0 2 0 2 1 3 0 2 2 4 0 2 2 3 0 9 0 6 0 4 1 2 0 6 0 2 0 10 0 2 1 2 0 2 0 7 0 63 0 3 0 3 0 6 0 48 0 8 0 36 0 12 0 33 0 132 0 9999"/><path d="M-487 561.44H485.01" stroke-dasharray="0 6 0 3 0 3 0 3 0 3 0 3 0 3 0 27 0 15 0 9 0 12 0 24 0 3 0 6 0 9 0 3 0 3 0 3 0 6 0 6 0 3 0 3 0 3 0 3 0 3 0 6 0 6 0 3 0 9 0 3 0 3 0 15 0 6 0 6 0 3 0 6 0 3 0 3 0 6 0 3 0 3 0 12 0 3 0 6 0 15 0 18 0 6 0 3 0 6 0 3 0 3 0 6 0 3 0 3 0 6 0 12 0 3 0 3 0 6 0 3 0 3 0 3 0 6 0 3 0 9 0 6 0 3 0 6 0 3 0 3 0 3 0 3 0 3 0 3 0 6 0 3 0 3 0 3 0 3 0 3 0 6 0 3 0 3 0 3 0 3 0 6 0 3 0 3 0 3 0 3 0 3 0 3 0 9 0 3 0 3 0 3 0 3 0 3 0 3 0 3 0 3 0 3 0 3 0 3 0 6 0 6 0 3 0 3 0 3 0 3 0 3 0 3 0 3 0 9 0 3 0 6 0 3 0 6 0 3 0 6 0 6 0 3 0 3 0 3 0 3 0 3 0 3 0 3 0 6 0 3 0 6 0 6 0 3 0 3 0 6 0 3 0 3 0 3 0 9 0 3 0 9 0 3 0 9 0 9 0 3 0 3 0 3 0 3 0 3 0 9 0 3 0 3 0 9 0 6 0 12 0 6 0 6 0 15 0 9 0 6 0 3 0 3 0 3 0 6 0 15 0 6 0 21 0 6 0 3 0 12 0 3 0 3 0 6 0 18 0 21 0 9 0 3 0 3 0 3 0 15 0 9999"/><path d="M-489 561.44H489.01" stroke-dasharray="0 3 0 6 0 6 0 3 0 27 0 6 0 18 0 3 0 3 0 6 0 6 0 6 0 6 0 9 0 9 0 3 0 9 0 3 0 3 0 6 0 3 0 6 0 9 0 6 0 18 0 9 0 6 0 9 0 3 0 3 0 6 0 6 0 3 0 3 0 6 0 15 0 3 0 3 0 3 0 3 0 15 0 15 0 3 0 3 0 9 0 3 0 3 0 9 0 3 0 12 0 9 0 6 0 3 0 3 0 3 0 12 0 3 0 3 0 3 0 3 0 3 0 3 0 3 0 3 0 6 0 3 0 3 0 3 0 3 0 3 0 3 0 3 0 6 0 3 0 3 0 3 0 6 0 6 0 6 0 3 0 3 0 3 0 3 0 3 0 3 0 3 0 3 0 6 0 3 0 3 0 3 0 3 0 3 0 3 0 3 0 3 0 3 0 3 0 3 0 3 0 3 0 6 0 3 0 3 0 3 0 3 0 3 0 6 0 3 0 3 0 3 0 3 0 3 0 3 0 12 0 3 0 3 0 3 0 3 0 3 0 3 0 3 0 6 0 12 0 6 0 12 0 3 0 3 0 9 0 3 0 3 0 6 0 3 0 9 0 3 0 12 0 9 0 18 0 3 0 6 0 3 0 3 0 6 0 3 0 3 0 9 0 6 0 9 0 3 0 6 0 3 0 12 0 3 0 3 0 6 0 12 0 3 0 3 0 6 0 3 0 3 0 3 0 6 0 36 0 3 0 21 0 3 0 6 0 3 0 6 0 3 0 18 0 9 0 3 0 3 0 12 0 3 0 9999"/><path d="M-485 561.44H487.01" stroke-dasharray="0 3 0 3 0 6 0 33 0 3 0 3 0 15 0 3 0 6 0 6 0 3 0 6 0 24 0 3 0 3 0 6 0 15 0 6 0 3 0 3 0 3 0 3 0 12 0 3 0 3 0 9 0 3 0 6 0 6 0 12 0 6 0 3 0 6 0 3 0 9 0 6 0 3 0 3 0 12 0 3 0 3 0 3 0 6 0 12 0 3 0 6 0 6 0 6 0 6 0 3 0 6 0 6 0 9 0 9 0 6 0 6 0 3 0 3 0 6 0 3 0 3 0 3 0 3 0 3 0 3 0 3 0 3 0 3 0 3 0 3 0 3 0 3 0 3 0 6 0 3 0 3 0 3 0 6 0 3 0 3 0 3 0 3 0 3 0 3 0 6 0 3 0 6 0 3 0 3 0 6 0 3 0 6 0 3 0 3 0 3 0 3 0 3 0 3 0 3 0 3 0 3 0 3 0 3 0 6 0 3 0 3 0 3 0 3 0 3 0 3 0 3 0 3 0 3 0 3 0 6 0 3 0 6 0 6 0 3 0 3 0 12 0 3 0 3 0 3 0 3 0 9 0 15 0 9 0 6 0 6 0 6 0 3 0 3 0 3 0 9 0 6 0 3 0 3 0 6 0 18 0 15 0 3 0 3 0 15 0 3 0 6 0 3 0 3 0 3 0 9 0 15 0 6 0 6 0 15 0 9 0 24 0 12 0 3 0 9 0 3 0 12 0 12 0 6 0 21 0 9 0 3 0 12 0 3 0 12 0 9999"/><path d="M-489 561.44H489.01" stroke-dasharray="0 2 0 2 0 3 2 6 0 8 0 3 0 19 0 23 1 12 0 4 0 8 0 23 0 2 0 3 1 2 0 6 0 2 0 2 0 3 0 7 0 7 1 3 0 2 1 2 0 5 0 2 0 16 0 8 0 8 0 6 0 5 0 3 0 6 0 8 0 4 0 6 0 7 0 6 0 2 1 2 0 3 0 6 0 2 0 34 0 4 0 11 0 7 1 9 0 5 0 9 0 2 0 7 0 2 0 2 1 7 1 6 0 3 0 2 0 3 0 4 0 4 1 2 0 2 2 4 0 5 0 5 0 2 1 3 0 3 0 2 1 2 2 6 1 4 0 5 0 2 0 3 1 2 0 3 1 2 0 2 1 5 2 4 0 2 1 2 0 2 1 2 0 4 0 2 1 2 2 4 0 2 1 2 1 2 5 2 1 2 4 2 2 3 2 2 0 4 1 3 0 6 0 2 0 10 5 2 0 2 1 2 0 3 0 3 0 2 0 14 0 3 0 2 0 3 0 9 1 7 0 3 0 6 1 20 1 4 1 10 1 2 0 5 0 2 0 10 0 17 0 6 0 10 0 3 0 7 0 2 1 12 1 5 0 3 0 22 0 5 0 3 0 5 0 15 2 7 0 9 0 7 0 3 2 8 0 8 0 5 0 11 0 16 0 21 0 6 0 8 0 6 0 40 1 4 0 2 0 13 0 2 0 9999"/><path d="M-485 561.44H472.01" stroke-dasharray="0 117 0 23 0 23 0 32 0 28 0 25 1 5 0 57 0 8 0 32 0 2 0 2 1 8 0 11 0 12 0 6 0 4 0 5 0 14 0 2 1 3 1 11 0 5 0 11 0 3 0 3 0 5 0 2 0 4 0 8 0 2 0 4 0 2 0 4 1 4 0 2 1 5 0 2 2 3 1 6 0 7 2 2 0 4 0 4 0 6 0 13 0 2 1 5 1 2 0 3 0 19 0 34 0 47 0 10 0 17 0 72 0 29 0 27 0 23 0 68 0 40 0 5 0 9999"/><path d="M-484 557.6H485.01" stroke-dasharray="0 3 0 18 0 9 0 3 0 6 0 6 0 12 0 3 0 3 0 9 0 12 0 27 0 3 0 6 0 3 0 3 0 9 0 6 0 3 0 3 0 12 0 6 0 3 0 9 0 3 0 6 0 6 0 3 0 3 0 3 0 3 0 9 0 6 0 3 0 6 0 3 0 3 0 12 0 9 0 6 0 3 0 6 0 9 0 3 0 6 0 6 0 6 0 6 0 3 0 3 0 3 0 3 0 3 0 6 0 3 0 6 0 6 0 6 0 6 0 9 0 3 0 3 0 3 0 6 0 6 0 3 0 6 0 6 0 3 0 3 0 6 0 6 0 3 0 3 0 3 0 3 0 3 0 3 0 3 0 3 0 9 0 3 0 3 0 3 0 3 0 3 0 3 0 6 0 3 0 3 0 6 0 3 0 3 0 3 0 3 0 3 0 3 0 3 0 3 0 3 0 3 0 3 0 3 0 3 0 9 0 3 0 3 0 3 0 3 0 3 0 3 0 3 0 3 0 3 0 9 0 9 0 3 0 3 0 3 0 3 0 6 0 3 0 3 0 6 0 3 0 3 0 6 0 3 0 3 0 3 0 3 0 3 0 3 0 3 0 6 0 6 0 3 0 3 0 3 0 3 0 3 0 3 0 3 0 3 0 3 0 9 0 6 0 3 0 9 0 3 0 6 0 9 0 18 0 12 0 12 0 3 0 3 0 6 0 3 0 3 0 12 0 9 0 3 0 3 0 3 0 9 0 6 0 21 0 9 0 3 0 6 0 3 0 6 0 3 0 3 0 3 0 3 0 3 0 9 0 6 0 9 0 6 0 3 0 6 0 3 0 3 0 3 0 6 0 3 0 6 0 3 0 9 0 9999"/><path d="M-477 557.6H489.01" stroke-dasharray="0 6 0 3 0 3 0 3 0 3 0 9 0 9 0 6 0 3 0 12 0 3 0 9 0 9 0 3 0 6 0 3 0 3 0 3 0 3 0 15 0 6 0 24 0 18 0 6 0 3 0 6 0 24 0 3 0 3 0 3 0 12 0 6 0 6 0 3 0 6 0 6 0 12 0 6 0 3 0 6 0 3 0 27 0 3 0 3 0 3 0 9 0 9 0 3 0 3 0 3 0 3 0 6 0 3 0 3 0 3 0 6 0 3 0 3 0 3 0 3 0 3 0 3 0 12 0 3 0 3 0 3 0 3 0 6 0 3 0 3 0 6 0 3 0 3 0 3 0 3 0 6 0 3 0 3 0 3 0 6 0 3 0 3 0 3 0 3 0 3 0 3 0 3 0 6 0 3 0 3 0 3 0 3 0 3 0 3 0 3 0 3 0 6 0 6 0 3 0 3 0 3 0 3 0 9 0 6 0 6 0 3 0 3 0 3 0 3 0 3 0 12 0 3 0 6 0 3 0 3 0 3 0 3 0 9 0 3 0 3 0 3 0 3 0 3 0 3 0 3 0 3 0 12 0 6 0 3 0 6 0 6 0 3 0 6 0 3 0 12 0 18 0 3 0 3 0 9 0 9 0 6 0 9 0 9 0 3 0 9 0 3 0 6 0 6 0 9 0 3 0 6 0 6 0 3 0 12 0 3 0 9 0 9 0 15 0 6 0 9 0 12 0 6 0 12 0 3 0 3 0 6 0 6 0 6 0 3 0 3 0 6 0 3 0 3 0 6 0 3 0 6 0 3 0 9999"/><path d="M-485 557.6H490.01" stroke-dasharray="0 6 0 3 0 6 0 3 0 9 0 6 0 6 0 6 0 15 0 3 0 3 0 3 0 6 0 9 0 3 0 3 0 6 0 6 0 6 0 3 0 9 0 9 0 3 0 6 0 3 0 6 0 3 0 3 0 6 0 6 0 6 0 9 0 9 0 3 0 3 0 12 0 6 0 9 0 3 0 6 0 3 0 3 0 12 0 6 0 3 0 3 0 3 0 3 0 6 0 6 0 3 0 6 0 9 0 3 0 6 0 9 0 3 0 6 0 6 0 3 0 3 0 3 0 6 0 3 0 3 0 3 0 3 0 12 0 6 0 12 0 3 0 3 0 3 0 3 0 3 0 3 0 6 0 3 0 3 0 3 0 3 0 3 0 3 0 3 0 3 0 6 0 9 0 3 0 3 0 3 0 3 0 3 0 3 0 3 0 9 0 3 0 3 0 3 0 3 0 3 0 3 0 3 0 3 0 3 0 3 0 3 0 3 0 3 0 3 0 3 0 6 0 3 0 3 0 3 0 6 0 3 0 6 0 3 0 3 0 3 0 3 0 3 0 3 0 3 0 3 0 3 0 9 0 3 0 6 0 3 0 3 0 9 0 3 0 3 0 3 0 3 0 3 0 6 0 3 0 3 0 6 0 6 0 12 0 6 0 6 0 18 0 9 0 12 0 3 0 3 0 6 0 6 0 3 0 12 0 18 0 6 0 6 0 9 0 12 0 6 0 6 0 6 0 3 0 9 0 3 0 3 0 21 0 9 0 9 0 6 0 3 0 3 0 3 0 9 0 6 0 3 0 24 0 3 0 9 0 6 0 9 0 6 0 9 0 9999"/><path d="M-485 557.6H490.01" stroke-dasharray="0 15 0 3 0 5 0 3 0 7 0 13 0 14 0 8 0 5 0 4 0 9 1 3 0 5 1 11 0 5 0 16 0 4 0 4 0 2 0 3 1 6 0 2 0 10 0 5 0 16 0 4 0 4 0 23 0 2 0 6 0 2 0 14 0 6 0 14 0 8 0 3 0 8 0 4 0 3 1 30 0 4 3 2 1 9 0 4 0 9 0 2 1 9 0 7 0 3 0 3 0 4 1 2 0 2 1 8 2 2 1 7 0 2 0 5 0 3 4 3 0 3 2 2 0 2 0 2 2 3 3 3 4 7 3 2 0 4 0 4 0 2 0 2 1 2 1 2 0 2 1 2 5 2 0 5 0 2 0 2 5 4 0 2 1 2 1 3 2 3 0 2 1 2 2 2 0 4 1 3 2 2 2 2 0 4 0 4 1 2 0 4 2 2 2 4 0 4 0 5 0 6 1 9 0 2 0 4 0 2 0 5 0 3 0 2 1 2 0 2 0 9 0 2 0 5 0 3 0 20 1 3 0 3 0 5 0 13 0 12 0 21 0 17 0 5 0 4 0 44 0 5 0 2 0 18 1 18 0 11 0 8 0 8 0 12 0 4 0 6 0 5 0 16 0 21 0 9 0 6 2 6 0 3 1 6 0 2 1 3 0 4 0 2 0 13 0 9999"/><path d="M-485 557.6H490.01" stroke-dasharray="0 23 0 10 0 35 0 18 0 21 0 41 0 12 0 62 0 20 0 14 0 11 0 12 0 3 0 31 0 19 0 16 0 9 0 23 0 12 0 8 0 7 0 3 4 6 1 3 0 4 1 5 1 4 1 3 0 8 1 11 0 2 0 3 0 2 1 2 0 2 0 4 0 2 0 2 0 2 0 10 1 2 1 6 1 2 1 3 0 2 0 8 0 2 0 11 0 5 0 6 0 4 1 2 0 4 2 3 0 9 0 11 0 29 0 50 0 5 0 72 0 131 0 6 0 51 0 14 0 3 0 7 0 3 0 3 0 19 0 9999"/><path d="M-484 553.75H488.01" stroke-dasharray="0 9 0 3 0 27 0 3 0 6 0 15 0 6 0 3 0 3 0 3 0 18 0 3 0 3 0 9 0 3 0 3 0 18 0 6 0 6 0 3 0 3 0 6 0 6 0 6 0 6 0 6 0 9 0 3 0 3 0 9 0 3 0 3 0 9 0 9 0 21 0 3 0 6 0 6 0 3 0 6 0 3 0 18 0 3 0 6 0 15 0 18 0 6 0 6 0 3 0 3 0 9 0 3 0 3 0 3 0 3 0 3 0 3 0 3 0 3 0 3 0 3 0 3 0 3 0 3 0 3 0 3 0 3 0 3 0 3 0 3 0 3 0 3 0 3 0 3 0 3 0 3 0 3 0 3 0 3 0 3 0 3 0 3 0 3 0 3 0 3 0 3 0 3 0 3 0 3 0 3 0 6 0 3 0 3 0 3 0 3 0 6 0 3 0 3 0 6 0 3 0 3 0 6 0 3 0 3 0 3 0 3 0 3 0 3 0 6 0 3 0 3 0 3 0 3 0 3 0 6 0 6 0 6 0 3 0 3 0 6 0 21 0 3 0 6 0 3 0 3 0 3 0 3 0 9 0 3 0 3 0 3 0 3 0 6 0 3 0 6 0 9 0 3 0 3 0 3 0 12 0 3 0 18 0 6 0 15 0 6 0 36 0 6 0 9 0 9 0 6 0 6 0 3 0 6 0 9 0 6 0 3 0 9 0 9 0 12 0 3 0 12 0 9 0 6 0 12 0 9 0 6 0 3 0 6 0 9 0 3 0 3 0 3 0 3 0 9999"/><path d="M-489 553.75H489.01" stroke-dasharray="0 6 0 12 0 18 0 6 0 3 0 3 0 3 0 3 0 3 0 9 0 9 0 3 0 3 0 18 0 9 0 3 0 3 0 3 0 15 0 15 0 6 0 6 0 3 0 3 0 3 0 21 0 9 0 9 0 12 0 3 0 3 0 3 0 3 0 6 0 15 0 3 0 3 0 6 0 3 0 6 0 3 0 3 0 9 0 9 0 3 0 3 0 6 0 15 0 15 0 3 0 6 0 3 0 6 0 6 0 3 0 6 0 6 0 3 0 3 0 3 0 3 0 3 0 6 0 3 0 6 0 3 0 3 0 3 0 3 0 6 0 3 0 3 0 3 0 3 0 3 0 3 0 6 0 3 0 3 0 6 0 3 0 3 0 3 0 3 0 3 0 3 0 6 0 6 0 3 0 3 0 3 0 3 0 3 0 3 0 3 0 6 0 3 0 3 0 6 0 3 0 3 0 3 0 3 0 3 0 3 0 3 0 3 0 3 0 3 0 6 0 3 0 3 0 3 0 3 0 3 0 3 0 3 0 3 0 6 0 6 0 3 0 3 0 6 0 6 0 3 0 9 0 3 0 3 0 3 0 3 0 6 0 6 0 3 0 3 0 3 0 3 0 3 0 21 0 9 0 6 0 6 0 3 0 12 0 6 0 15 0 3 0 3 0 3 0 3 0 15 0 9 0 3 0 6 0 6 0 6 0 3 0 3 0 3 0 3 0 12 0 3 0 3 0 15 0 3 0 3 0 3 0 3 0 3 0 3 0 3 0 18 0 3 0 6 0 6 0 3 0 3 0 3 0 6 0 3 0 27 0 3 0 3 0 3 0 3 0 3 0 12 0 9999"/><path d="M-485 553.75H484.01" stroke-dasharray="0 3 0 12 0 27 0 3 0 6 0 3 0 3 0 6 0 12 0 3 0 9 0 3 0 3 0 3 0 18 0 3 0 12 0 6 0 6 0 6 0 9 0 3 0 12 0 9 0 6 0 3 0 3 0 3 0 3 0 3 0 3 0 6 0 15 0 6 0 12 0 3 0 21 0 15 0 12 0 3 0 9 0 3 0 6 0 6 0 3 0 3 0 3 0 3 0 3 0 6 0 3 0 6 0 3 0 9 0 3 0 3 0 6 0 3 0 3 0 3 0 6 0 3 0 3 0 9 0 3 0 6 0 6 0 3 0 6 0 3 0 6 0 3 0 6 0 3 0 3 0 9 0 3 0 6 0 3 0 3 0 3 0 3 0 3 0 6 0 6 0 3 0 3 0 3 0 3 0 3 0 6 0 3 0 3 0 3 0 3 0 3 0 3 0 3 0 6 0 3 0 3 0 3 0 6 0 3 0 6 0 3 0 3 0 3 0 3 0 9 0 3 0 3 0 6 0 3 0 3 0 9 0 3 0 15 0 3 0 3 0 3 0 3 0 3 0 3 0 3 0 3 0 9 0 3 0 15 0 6 0 3 0 6 0 3 0 3 0 3 0 9 0 9 0 6 0 18 0 6 0 6 0 6 0 3 0 3 0 3 0 3 0 27 0 3 0 3 0 6 0 3 0 9 0 6 0 6 0 12 0 3 0 6 0 3 0 21 0 3 0 3 0 3 0 3 0 3 0 9 0 3 0 6 0 6 0 3 0 18 0 9 0 9 0 9999"/><path d="M-471 553.75H488.01" stroke-dasharray="0 26 0 5 0 2 0 4 0 12 1 7 0 5 0 11 0 8 0 22 1 10 0 8 0 35 0 21 0 2 0 7 0 10 0 4 0 12 0 19 0 36 0 15 0 2 0 2 0 4 1 9 0 7 0 5 0 3 0 14 0 2 0 7 0 2 0 4 0 3 1 4 3 5 0 3 0 2 1 3 0 5 2 3 0 4 0 2 0 3 1 2 2 4 1 3 0 2 0 2 0 2 0 3 0 2 1 4 0 2 0 2 5 5 0 2 0 3 3 3 0 3 3 2 0 2 0 3 0 2 2 2 0 2 0 2 2 2 0 2 0 2 0 2 4 2 2 2 3 3 1 4 0 2 2 3 5 2 0 3 0 3 2 2 4 2 1 3 3 2 2 2 0 3 0 2 0 2 0 4 1 4 2 4 2 3 0 2 0 4 0 2 0 2 0 3 0 8 1 2 0 6 0 10 0 10 0 7 0 3 0 7 0 6 0 5 2 32 0 3 0 6 0 9 1 17 0 2 0 24 0 2 0 14 0 6 0 3 0 11 0 22 0 2 1 9 0 5 0 3 0 13 2 6 0 9 0 3 0 8 0 15 0 2 0 3 0 12 0 2 0 3 0 6 0 34 1 15 0 6 0 9999"/><path d="M-471 553.75H426.01" stroke-dasharray="0 31 0 19 0 31 0 220 0 7 0 33 0 8 0 5 1 15 0 5 0 2 0 3 0 6 0 3 0 4 1 4 1 3 0 2 0 4 0 5 0 5 0 5 0 2 1 6 0 6 0 2 0 7 1 3 0 5 0 2 1 7 2 2 0 2 0 2 0 2 4 6 0 2 1 8 0 9 1 2 0 5 0 3 1 3 0 3 1 2 1 3 0 2 1 3 0 6 0 8 1 4 1 7 0 11 0 13 1 38 0 70 0 20 0 49 0 11 0 22 0 33 0 65 0 9999"/><path d="M-481 549.9H488.01" stroke-dasharray="0 12 0 6 0 9 0 3 0 6 0 9 0 21 0 6 0 3 0 6 0 6 0 12 0 6 0 6 0 3 0 27 0 3 0 6 0 15 0 12 0 3 0 6 0 6 0 12 0 3 0 3 0 6 0 6 0 3 0 12 0 3 0 3 0 6 0 6 0 6 0 9 0 3 0 12 0 6 0 3 0 6 0 3 0 9 0 6 0 3 0 9 0 3 0 3 0 6 0 3 0 6 0 9 0 6 0 6 0 12 0 6 0 3 0 3 0 3 0 3 0 3 0 3 0 3 0 3 0 6 0 3 0 6 0 3 0 6 0 3 0 6 0 3 0 3 0 3 0 6 0 3 0 3 0 3 0 3 0 3 0 3 0 3 0 3 0 3 0 3 0 3 0 3 0 3 0 3 0 3 0 3 0 3 0 3 0 3 0 3 0 6 0 3 0 3 0 3 0 9 0 6 0 3 0 9 0 6 0 3 0 3 0 3 0 6 0 3 0 3 0 6 0 3 0 6 0 6 0 3 0 3 0 6 0 3 0 3 0 9 0 3 0 3 0 6 0 3 0 3 0 3 0 3 0 6 0 9 0 3 0 3 0 6 0 6 0 12 0 9 0 9 0 3 0 12 0 3 0 3 0 3 0 3 0 18 0 3 0 18 0 3 0 3 0 3 0 9 0 3 0 12 0 9 0 12 0 3 0 9 0 12 0 3 0 24 0 9 0 3 0 6 0 6 0 9 0 3 0 12 0 6 0 9 0 9 0 9999"/><path d="M-489 549.9H489.01" stroke-dasharray="0 12 0 21 0 6 0 12 0 24 0 6 0 6 0 18 0 9 0 24 0 6 0 3 0 3 0 3 0 3 0 3 0 6 0 3 0 21 0 6 0 12 0 15 0 9 0 9 0 12 0 15 0 6 0 6 0 3 0 6 0 3 0 3 0 6 0 3 0 3 0 3 0 3 0 6 0 9 0 6 0 12 0 6 0 3 0 3 0 6 0 3 0 3 0 3 0 3 0 6 0 3 0 3 0 3 0 9 0 3 0 3 0 3 0 3 0 3 0 3 0 3 0 3 0 3 0 3 0 3 0 3 0 3 0 3 0 3 0 3 0 3 0 6 0 3 0 3 0 6 0 3 0 3 0 3 0 3 0 3 0 3 0 3 0 3 0 3 0 3 0 6 0 3 0 3 0 3 0 3 0 3 0 3 0 3 0 3 0 3 0 3 0 3 0 3 0 6 0 6 0 9 0 3 0 3 0 3 0 3 0 6 0 3 0 9 0 3 0 3 0 3 0 9 0 9 0 3 0 6 0 3 0 3 0 3 0 6 0 3 0 18 0 3 0 18 0 6 0 3 0 9 0 3 0 6 0 12 0 12 0 9 0 9 0 3 0 9 0 6 0 3 0 6 0 9 0 6 0 18 0 3 0 12 0 3 0 9 0 3 0 6 0 6 0 6 0 3 0 3 0 12 0 6 0 21 0 15 0 3 0 3 0 6 0 3 0 6 0 12 0 24 0 9999"/><path d="M-488 549.9H490.01" stroke-dasharray="0 12 0 15 0 3 0 3 0 6 0 12 0 3 0 6 0 12 0 6 0 15 0 9 0 3 0 3 0 3 0 15 0 6 0 12 0 6 0 3 0 6 0 21 0 3 0 12 0 6 0 6 0 6 0 27 0 9 0 6 0 3 0 3 0 6 0 9 0 12 0 3 0 3 0 6 0 15 0 3 0 9 0 6 0 6 0 3 0 3 0 3 0 3 0 3 0 6 0 9 0 3 0 3 0 3 0 3 0 3 0 3 0 3 0 3 0 3 0 3 0 3 0 3 0 6 0 6 0 6 0 3 0 3 0 3 0 3 0 3 0 3 0 3 0 3 0 3 0 6 0 3 0 3 0 3 0 3 0 6 0 3 0 3 0 3 0 3 0 3 0 3 0 6 0 3 0 3 0 9 0 3 0 3 0 3 0 9 0 6 0 6 0 3 0 3 0 3 0 6 0 3 0 6 0 6 0 3 0 3 0 3 0 6 0 3 0 6 0 6 0 3 0 3 0 18 0 3 0 12 0 9 0 15 0 18 0 3 0 9 0 6 0 3 0 9 0 3 0 18 0 6 0 9 0 3 0 9 0 3 0 3 0 6 0 3 0 9 0 3 0 6 0 3 0 18 0 3 0 6 0 9 0 6 0 15 0 18 0 3 0 9 0 3 0 9 0 15 0 27 0 3 0 3 0 3 0 9 0 6 0 3 0 3 0 9 0 9999"/><path d="M-488 549.9H490.01" stroke-dasharray="0 12 0 13 0 5 0 2 0 6 0 34 0 14 0 20 0 7 0 8 0 23 0 2 0 4 0 8 0 14 0 11 0 4 1 5 0 2 0 28 0 9 0 7 0 5 0 3 0 4 0 4 0 3 0 3 1 4 0 6 0 21 0 6 0 11 0 5 0 2 1 27 0 4 0 2 1 4 0 23 0 2 0 3 0 7 0 2 0 6 7 3 1 3 0 2 0 2 2 3 0 3 1 3 0 2 0 3 7 3 0 2 3 5 7 2 0 2 0 2 0 2 1 2 0 3 0 2 6 2 0 2 1 2 0 2 1 5 1 3 0 2 2 5 6 3 4 2 1 4 0 4 3 6 2 6 1 6 3 4 1 5 1 7 0 2 0 6 0 2 0 2 1 2 2 6 0 6 0 4 0 4 0 13 0 4 1 9 0 5 0 2 0 7 0 3 0 5 1 21 0 15 2 10 0 19 0 19 1 8 0 6 0 5 0 25 0 7 0 12 0 10 0 5 0 10 0 6 0 15 0 10 0 11 0 13 0 7 0 18 0 17 1 12 0 14 0 12 0 9999"/><path d="M-476 549.9H452.01" stroke-dasharray="0 134 0 12 0 14 0 21 0 65 0 41 0 18 0 28 0 36 0 10 0 2 0 9 0 2 2 9 0 3 1 7 0 8 0 2 0 4 1 3 0 2 0 2 1 7 0 7 0 4 0 3 0 7 0 2 3 6 0 2 0 2 1 5 1 5 0 2 0 6 0 3 0 2 0 4 1 4 0 5 0 6 1 8 0 6 0 9 1 5 0 5 0 20 1 2 2 12 0 25 1 23 0 45 0 59 0 36 0 7 0 135 0 9999"/><path d="M-481 546.06H485.01" stroke-dasharray="0 15 0 3 0 3 0 12 0 3 0 24 0 3 0 12 0 3 0 9 0 18 0 3 0 6 0 6 0 6 0 12 0 15 0 33 0 3 0 3 0 3 0 15 0 15 0 3 0 3 0 6 0 9 0 18 0 6 0 3 0 9 0 3 0 3 0 6 0 6 0 6 0 15 0 3 0 6 0 6 0 6 0 3 0 15 0 3 0 6 0 3 0 9 0 3 0 6 0 9 0 3 0 3 0 3 0 3 0 3 0 3 0 3 0 6 0 3 0 3 0 3 0 3 0 3 0 3 0 3 0 3 0 3 0 6 0 6 0 3 0 3 0 6 0 3 0 3 0 3 0 3 0 3 0 3 0 3 0 3 0 3 0 3 0 3 0 3 0 9 0 3 0 3 0 3 0 3 0 3 0 3 0 3 0 3 0 3 0 3 0 3 0 3 0 3 0 9 0 3 0 15 0 6 0 3 0 3 0 3 0 3 0 6 0 3 0 9 0 3 0 3 0 3 0 15 0 6 0 3 0 3 0 6 0 6 0 6 0 12 0 3 0 3 0 6 0 3 0 3 0 9 0 6 0 15 0 3 0 6 0 3 0 3 0 15 0 3 0 12 0 9 0 6 0 9 0 3 0 6 0 6 0 12 0 24 0 6 0 9 0 9 0 6 0 3 0 3 0 6 0 3 0 6 0 12 0 3 0 9 0 6 0 9 0 6 0 3 0 9 0 9999"/><path d="M-477 546.06H474.01" stroke-dasharray="0 12 0 12 0 9 0 6 0 15 0 24 0 3 0 9 0 12 0 3 0 9 0 6 0 6 0 21 0 3 0 3 0 21 0 9 0 6 0 6 0 3 0 3 0 12 0 18 0 3 0 6 0 3 0 24 0 3 0 9 0 3 0 3 0 3 0 9 0 3 0 3 0 3 0 6 0 9 0 3 0 3 0 3 0 3 0 3 0 3 0 6 0 3 0 3 0 3 0 9 0 3 0 9 0 3 0 3 0 3 0 3 0 3 0 3 0 3 0 3 0 3 0 3 0 3 0 3 0 3 0 3 0 3 0 9 0 3 0 3 0 6 0 3 0 3 0 3 0 3 0 3 0 3 0 3 0 3 0 3 0 3 0 3 0 3 0 3 0 3 0 3 0 3 0 3 0 3 0 3 0 3 0 3 0 3 0 3 0 3 0 3 0 3 0 3 0 3 0 3 0 6 0 3 0 3 0 3 0 6 0 3 0 3 0 3 0 3 0 9 0 6 0 3 0 3 0 3 0 12 0 3 0 21 0 6 0 3 0 3 0 3 0 3 0 3 0 33 0 3 0 15 0 6 0 6 0 12 0 3 0 6 0 6 0 9 0 6 0 15 0 3 0 3 0 3 0 6 0 6 0 9 0 3 0 15 0 24 0 12 0 9 0 3 0 3 0 3 0 15 0 3 0 3 0 6 0 9 0 24 0 9 0 3 0 15 0 9999"/><path d="M-479 546.06H484.01" stroke-dasharray="0 9 0 18 0 12 0 9 0 18 0 12 0 9 0 6 0 9 0 3 0 3 0 3 0 15 0 3 0 9 0 3 0 3 0 9 0 3 0 3 0 18 0 6 0 12 0 6 0 3 0 3 0 6 0 6 0 3 0 3 0 15 0 3 0 9 0 9 0 3 0 3 0 15 0 3 0 3 0 3 0 18 0 3 0 9 0 18 0 3 0 3 0 9 0 3 0 3 0 3 0 3 0 6 0 3 0 3 0 3 0 3 0 3 0 6 0 3 0 3 0 3 0 3 0 3 0 3 0 6 0 9 0 6 0 3 0 6 0 3 0 3 0 3 0 3 0 3 0 3 0 3 0 3 0 3 0 3 0 6 0 3 0 12 0 3 0 3 0 3 0 3 0 3 0 3 0 3 0 3 0 3 0 6 0 3 0 9 0 6 0 3 0 3 0 3 0 3 0 3 0 3 0 3 0 3 0 3 0 15 0 3 0 6 0 6 0 3 0 6 0 6 0 3 0 3 0 3 0 3 0 9 0 6 0 3 0 6 0 21 0 3 0 3 0 9 0 6 0 3 0 6 0 9 0 9 0 6 0 6 0 3 0 3 0 12 0 3 0 12 0 12 0 6 0 12 0 6 0 12 0 3 0 15 0 9 0 21 0 6 0 3 0 9 0 6 0 6 0 9 0 9 0 9 0 15 0 3 0 3 0 21 0 3 0 9999"/><path d="M-448 546.06H481.01" stroke-dasharray="0 10 0 39 0 12 0 10 0 26 0 21 0 6 0 21 1 13 0 3 0 2 0 8 0 20 0 12 0 8 2 16 0 10 0 10 1 5 0 3 0 15 0 4 0 3 0 9 0 2 0 3 0 2 1 12 0 2 0 13 0 10 1 10 0 3 0 2 0 6 0 7 0 2 0 2 2 3 1 3 1 3 1 2 1 2 1 5 0 2 1 4 0 2 1 2 0 6 9 2 0 2 1 2 0 3 2 3 5 4 0 3 0 2 2 5 1 5 1 2 1 2 2 2 5 5 0 2 0 3 0 2 1 4 3 2 0 2 0 4 0 2 0 6 0 2 1 3 0 2 4 2 2 3 0 5 0 3 0 7 0 8 1 5 0 6 0 2 1 2 0 25 0 7 0 6 0 3 2 6 0 6 0 30 0 5 0 45 0 12 1 2 0 11 0 21 0 9 1 25 0 11 0 5 0 30 0 4 1 8 2 5 0 5 0 27 1 12 0 6 0 2 0 7 0 14 0 9999"/><path d="M-302 546.06H460.01" stroke-dasharray="0 128 0 7 0 87 2 8 0 3 1 5 1 5 0 2 0 7 1 2 0 6 0 3 2 3 1 2 0 3 0 2 0 3 1 4 4 10 1 6 1 6 0 6 1 2 0 2 2 6 0 5 0 9 0 5 0 4 0 2 0 6 0 3 0 5 0 2 1 4 0 9 0 3 0 29 1 40 0 17 0 137 0 71 0 73 0 9999"/><path d="M-490 542.21H470.01" stroke-dasharray="0 6 0 9 0 18 0 9 0 3 0 9 0 3 0 3 0 3 0 3 0 3 0 6 0 6 0 6 0 15 0 12 0 9 0 3 0 3 0 6 0 9 0 9 0 3 0 3 0 6 0 3 0 9 0 3 0 36 0 9 0 6 0 3 0 3 0 24 0 6 0 9 0 15 0 6 0 18 0 3 0 6 0 6 0 9 0 3 0 6 0 18 0 3 0 3 0 3 0 3 0 3 0 3 0 6 0 3 0 3 0 3 0 3 0 6 0 6 0 3 0 3 0 3 0 3 0 3 0 3 0 3 0 3 0 3 0 3 0 3 0 3 0 3 0 3 0 9 0 3 0 3 0 3 0 3 0 3 0 3 0 3 0 6 0 3 0 6 0 3 0 3 0 6 0 3 0 3 0 3 0 6 0 3 0 9 0 3 0 3 0 3 0 3 0 3 0 3 0 3 0 3 0 3 0 3 0 6 0 3 0 6 0 6 0 3 0 3 0 6 0 3 0 3 0 3 0 6 0 3 0 3 0 18 0 12 0 3 0 3 0 6 0 6 0 6 0 9 0 3 0 12 0 3 0 3 0 6 0 9 0 9 0 21 0 9 0 3 0 12 0 24 0 3 0 9 0 21 0 21 0 6 0 3 0 3 0 3 0 3 0 6 0 3 0 3 0 3 0 9 0 6 0 18 0 3 0 3 0 15 0 6 0 12 0 9999"/><path d="M-474 542.21H486.01" stroke-dasharray="0 6 0 3 0 12 0 3 0 9 0 12 0 3 0 12 0 6 0 9 0 6 0 3 0 12 0 6 0 3 0 6 0 9 0 12 0 3 0 3 0 9 0 3 0 3 0 6 0 3 0 9 0 15 0 3 0 12 0 3 0 9 0 9 0 3 0 9 0 9 0 6 0 3 0 3 0 9 0 6 0 3 0 9 0 3 0 24 0 3 0 3 0 3 0 3 0 3 0 3 0 3 0 3 0 6 0 12 0 12 0 3 0 3 0 6 0 9 0 3 0 3 0 3 0 3 0 3 0 3 0 3 0 6 0 3 0 3 0 3 0 6 0 3 0 3 0 6 0 3 0 3 0 3 0 3 0 3 0 6 0 3 0 6 0 6 0 3 0 3 0 9 0 3 0 3 0 3 0 3 0 3 0 3 0 3 0 6 0 3 0 3 0 3 0 12 0 3 0 6 0 3 0 3 0 3 0 3 0 3 0 6 0 6 0 6 0 9 0 3 0 3 0 9 0 3 0 3 0 3 0 3 0 3 0 3 0 3 0 6 0 3 0 6 0 3 0 3 0 15 0 6 0 9 0 3 0 3 0 3 0 27 0 6 0 12 0 6 0 6 0 6 0 6 0 18 0 3 0 6 0 6 0 3 0 12 0 12 0 6 0 33 0 9 0 3 0 3 0 3 0 9 0 3 0 3 0 3 0 3 0 3 0 3 0 15 0 3 0 3 0 9 0 6 0 12 0 12 0 3 0 9999"/><path d="M-482 542.21H475.01" stroke-dasharray="0 9 0 3 0 12 0 12 0 3 0 3 0 3 0 3 0 6 0 9 0 3 0 12 0 27 0 6 0 6 0 9 0 3 0 12 0 15 0 3 0 15 0 3 0 9 0 9 0 3 0 3 0 9 0 6 0 6 0 12 0 6 0 9 0 6 0 18 0 3 0 3 0 6 0 9 0 9 0 6 0 3 0 6 0 3 0 9 0 3 0 12 0 9 0 12 0 3 0 3 0 3 0 6 0 6 0 3 0 3 0 6 0 3 0 3 0 6 0 6 0 3 0 6 0 3 0 3 0 3 0 3 0 3 0 3 0 6 0 3 0 3 0 3 0 9 0 3 0 6 0 3 0 3 0 3 0 3 0 6 0 3 0 3 0 3 0 3 0 3 0 3 0 3 0 3 0 3 0 3 0 3 0 3 0 9 0 6 0 3 0 3 0 3 0 3 0 3 0 3 0 3 0 3 0 3 0 3 0 6 0 3 0 3 0 6 0 3 0 9 0 6 0 3 0 6 0 3 0 9 0 3 0 9 0 3 0 3 0 6 0 3 0 6 0 3 0 9 0 3 0 6 0 12 0 6 0 6 0 3 0 6 0 6 0 24 0 12 0 18 0 9 0 12 0 3 0 9 0 3 0 15 0 3 0 18 0 6 0 3 0 3 0 6 0 9 0 3 0 3 0 6 0 12 0 21 0 6 0 12 0 3 0 12 0 9999"/><path d="M-484 542.21H463.01" stroke-dasharray="0 19 0 20 0 30 0 6 0 5 0 27 0 6 0 6 0 9 0 14 0 16 0 5 0 34 0 13 0 4 0 14 0 4 0 3 1 6 0 11 0 6 0 3 0 29 1 4 0 13 0 3 0 2 0 9 0 2 0 3 0 9 0 23 0 3 0 3 0 3 0 7 0 2 0 12 0 2 0 3 1 4 3 3 0 3 0 2 0 8 0 3 2 3 2 2 0 4 9 3 1 3 0 3 1 3 1 2 2 6 0 2 3 3 2 3 0 4 1 2 2 6 0 2 1 6 2 2 0 2 0 2 0 2 2 3 0 3 1 2 0 3 0 3 2 2 0 3 0 3 0 3 2 2 2 2 2 2 3 2 0 2 1 2 5 6 0 4 0 5 0 8 1 9 0 9 0 2 1 7 0 3 0 3 0 4 0 3 0 5 0 5 1 3 0 8 0 16 0 4 0 5 0 14 0 18 0 10 1 17 0 50 0 4 0 8 0 4 0 4 0 13 0 8 0 26 0 5 0 28 0 2 1 6 0 11 0 17 0 10 0 5 0 9999"/><path d="M-356 542.21H413.01" stroke-dasharray="0 69 0 17 0 162 0 16 0 3 0 5 1 5 0 3 0 13 1 4 0 4 0 4 4 3 1 4 0 4 0 3 0 4 1 2 0 2 0 9 2 3 1 8 1 3 0 9 0 13 0 2 0 3 0 4 0 3 1 2 0 7 1 2 0 10 1 2 2 8 0 3 0 5 1 2 1 45 0 18 0 3 0 11 0 68 0 10 0 170 0 9999"/><path d="M-484 538.36H482.01" stroke-dasharray="0 9 0 6 0 6 0 3 0 3 0 3 0 6 0 27 0 3 0 3 0 9 0 6 0 3 0 27 0 9 0 6 0 6 0 21 0 3 0 6 0 3 0 3 0 3 0 6 0 9 0 3 0 3 0 3 0 3 0 3 0 15 0 12 0 6 0 12 0 6 0 30 0 3 0 6 0 6 0 3 0 3 0 9 0 3 0 3 0 6 0 6 0 6 0 3 0 12 0 3 0 3 0 18 0 3 0 3 0 3 0 3 0 3 0 3 0 3 0 3 0 3 0 3 0 3 0 3 0 3 0 3 0 6 0 6 0 3 0 6 0 3 0 3 0 3 0 3 0 3 0 3 0 6 0 3 0 3 0 3 0 3 0 3 0 3 0 3 0 3 0 3 0 3 0 3 0 3 0 3 0 3 0 3 0 3 0 9 0 3 0 6 0 3 0 6 0 3 0 3 0 3 0 3 0 3 0 3 0 6 0 3 0 6 0 3 0 3 0 15 0 6 0 12 0 6 0 6 0 3 0 6 0 3 0 9 0 3 0 3 0 24 0 27 0 12 0 6 0 3 0 15 0 6 0 21 0 12 0 6 0 9 0 21 0 3 0 12 0 3 0 9 0 6 0 15 0 3 0 3 0 6 0 3 0 6 0 6 0 3 0 6 0 3 0 6 0 3 0 6 0 3 0 3 0 3 0 3 0 3 0 6 0 9 0 6 0 12 0 3 0 9999"/><path d="M-489 538.36H477.01" stroke-dasharray="0 6 0 9 0 24 0 9 0 3 0 21 0 3 0 6 0 3 0 3 0 3 0 6 0 6 0 3 0 6 0 3 0 3 0 6 0 9 0 3 0 3 0 3 0 3 0 3 0 3 0 3 0 6 0 6 0 3 0 3 0 3 0 3 0 24 0 6 0 3 0 3 0 6 0 12 0 3 0 3 0 15 0 3 0 3 0 12 0 6 0 6 0 15 0 9 0 3 0 3 0 9 0 21 0 6 0 21 0 3 0 9 0 6 0 3 0 3 0 3 0 6 0 3 0 9 0 3 0 3 0 3 0 6 0 3 0 3 0 3 0 6 0 3 0 9 0 3 0 3 0 3 0 3 0 6 0 3 0 3 0 6 0 3 0 6 0 3 0 3 0 3 0 3 0 3 0 3 0 3 0 9 0 6 0 3 0 3 0 3 0 3 0 9 0 3 0 3 0 3 0 3 0 3 0 3 0 6 0 3 0 3 0 3 0 6 0 9 0 3 0 3 0 3 0 3 0 15 0 3 0 3 0 3 0 12 0 3 0 6 0 15 0 12 0 3 0 3 0 6 0 6 0 6 0 6 0 3 0 3 0 9 0 6 0 9 0 3 0 3 0 3 0 3 0 9 0 6 0 3 0 6 0 24 0 3 0 9 0 15 0 9 0 6 0 3 0 3 0 3 0 48 0 6 0 9 0 9 0 6 0 15 0 6 0 9 0 3 0 9999"/><path d="M-488 538.36H490.01" stroke-dasharray="0 3 0 6 0 3 0 3 0 6 0 6 0 6 0 9 0 6 0 3 0 6 0 6 0 18 0 9 0 6 0 3 0 6 0 3 0 3 0 18 0 3 0 6 0 9 0 24 0 3 0 3 0 12 0 9 0 3 0 3 0 3 0 9 0 6 0 3 0 9 0 12 0 3 0 3 0 3 0 15 0 9 0 3 0 3 0 12 0 3 0 6 0 3 0 6 0 3 0 3 0 3 0 9 0 3 0 3 0 12 0 3 0 9 0 9 0 3 0 3 0 9 0 3 0 12 0 3 0 3 0 3 0 3 0 9 0 3 0 6 0 3 0 9 0 3 0 3 0 3 0 3 0 3 0 3 0 3 0 3 0 3 0 3 0 3 0 3 0 3 0 6 0 3 0 3 0 3 0 3 0 3 0 3 0 3 0 3 0 3 0 6 0 3 0 6 0 6 0 3 0 3 0 6 0 9 0 3 0 3 0 3 0 9 0 6 0 3 0 6 0 3 0 3 0 3 0 3 0 9 0 3 0 3 0 3 0 12 0 3 0 3 0 3 0 3 0 6 0 3 0 3 0 12 0 18 0 6 0 9 0 6 0 3 0 6 0 27 0 3 0 3 0 12 0 6 0 15 0 3 0 9 0 6 0 6 0 3 0 3 0 3 0 12 0 9 0 3 0 3 0 15 0 3 0 3 0 3 0 6 0 9 0 3 0 12 0 12 0 15 0 3 0 12 0 18 0 3 0 12 0 6 0 9999"/><path d="M-463 538.36H474.01" stroke-dasharray="0 2 0 20 0 3 1 19 0 3 0 9 1 16 0 2 0 12 0 3 0 2 0 4 0 11 0 5 0 25 0 9 0 3 1 2 0 24 0 4 2 28 0 13 0 2 0 4 0 43 0 7 0 34 0 24 0 8 0 4 0 3 0 7 1 6 0 2 0 6 0 2 2 2 0 2 0 5 1 2 0 2 0 3 1 2 0 2 0 2 0 2 2 3 2 2 0 4 2 2 1 2 1 3 0 3 2 2 0 2 2 3 1 4 2 2 2 8 3 3 2 2 9 3 0 2 1 4 1 16 0 4 1 4 0 2 0 6 0 4 0 2 0 3 0 2 0 2 0 3 1 4 0 4 1 2 0 2 1 10 0 8 0 5 0 7 1 16 0 4 1 17 0 45 0 48 1 5 0 15 0 9 0 22 1 10 0 14 0 17 0 6 0 15 0 19 0 9 0 9 0 6 0 9 0 12 0 5 1 6 0 28 0 9999"/><path d="M-463 538.36H162.01" stroke-dasharray="0 2 0 111 0 25 0 86 0 6 0 84 0 39 0 14 0 16 0 5 0 3 0 16 0 7 0 4 0 2 0 5 0 8 1 2 0 7 0 10 1 8 0 3 0 3 1 3 0 2 0 4 0 2 0 4 0 2 0 5 1 25 0 2 0 6 0 11 0 2 0 4 0 4 0 7 0 3 0 10 0 20 0 22 0 17 0 9999"/><path d="M-490 534.52H482.01" stroke-dasharray="0 12 0 24 0 3 0 3 0 12 0 3 0 12 0 3 0 6 0 6 0 6 0 9 0 9 0 3 0 6 0 21 0 6 0 6 0 3 0 3 0 12 0 6 0 3 0 9 0 15 0 12 0 3 0 9 0 3 0 9 0 3 0 12 0 3 0 6 0 6 0 3 0 6 0 15 0 3 0 21 0 12 0 6 0 3 0 3 0 3 0 3 0 6 0 12 0 3 0 12 0 6 0 3 0 3 0 3 0 3 0 3 0 3 0 3 0 3 0 9 0 3 0 3 0 3 0 9 0 3 0 3 0 3 0 6 0 3 0 6 0 9 0 3 0 3 0 3 0 3 0 3 0 3 0 6 0 6 0 3 0 3 0 6 0 3 0 6 0 3 0 9 0 6 0 3 0 3 0 3 0 6 0 3 0 3 0 3 0 3 0 3 0 6 0 3 0 3 0 12 0 6 0 3 0 6 0 3 0 6 0 12 0 12 0 3 0 3 0 3 0 9 0 9 0 3 0 9 0 3 0 3 0 12 0 3 0 3 0 9 0 12 0 12 0 30 0 6 0 6 0 9 0 3 0 6 0 3 0 6 0 3 0 18 0 3 0 12 0 3 0 3 0 9 0 18 0 9 0 6 0 3 0 3 0 15 0 6 0 3 0 12 0 12 0 21 0 9 0 9999"/><path d="M-483 534.52H471.01" stroke-dasharray="0 12 0 9 0 6 0 12 0 12 0 12 0 6 0 9 0 12 0 3 0 3 0 6 0 18 0 12 0 6 0 21 0 9 0 6 0 3 0 6 0 3 0 9 0 3 0 9 0 3 0 3 0 3 0 6 0 21 0 9 0 12 0 6 0 3 0 21 0 6 0 6 0 6 0 9 0 3 0 6 0 15 0 6 0 6 0 3 0 3 0 6 0 3 0 12 0 6 0 6 0 3 0 3 0 3 0 9 0 3 0 6 0 3 0 3 0 3 0 3 0 6 0 3 0 6 0 3 0 6 0 3 0 3 0 3 0 3 0 3 0 3 0 3 0 3 0 6 0 3 0 3 0 3 0 3 0 3 0 3 0 3 0 3 0 3 0 3 0 3 0 3 0 3 0 3 0 3 0 3 0 3 0 3 0 3 0 3 0 3 0 3 0 3 0 3 0 3 0 3 0 9 0 3 0 6 0 3 0 3 0 3 0 12 0 6 0 3 0 3 0 12 0 3 0 9 0 9 0 3 0 9 0 3 0 3 0 9 0 6 0 3 0 9 0 9 0 3 0 15 0 6 0 3 0 15 0 12 0 3 0 6 0 3 0 3 0 15 0 3 0 9 0 9 0 3 0 3 0 3 0 6 0 3 0 15 0 3 0 12 0 3 0 3 0 21 0 3 0 3 0 3 0 6 0 6 0 6 0 6 0 9 0 3 0 6 0 18 0 9999"/><path d="M-473 534.52H475.01" stroke-dasharray="0 3 0 3 0 3 0 21 0 3 0 3 0 6 0 9 0 9 0 3 0 9 0 9 0 3 0 6 0 3 0 3 0 9 0 3 0 3 0 15 0 3 0 12 0 3 0 3 0 9 0 6 0 3 0 18 0 12 0 6 0 3 0 3 0 3 0 9 0 12 0 15 0 9 0 3 0 6 0 6 0 3 0 15 0 21 0 12 0 3 0 3 0 6 0 6 0 3 0 6 0 3 0 6 0 9 0 9 0 3 0 3 0 3 0 6 0 6 0 6 0 3 0 3 0 3 0 3 0 3 0 3 0 3 0 3 0 9 0 3 0 3 0 3 0 3 0 3 0 3 0 3 0 3 0 3 0 3 0 3 0 3 0 3 0 3 0 3 0 3 0 3 0 3 0 9 0 3 0 3 0 3 0 3 0 6 0 3 0 3 0 3 0 3 0 3 0 3 0 3 0 3 0 3 0 3 0 6 0 3 0 3 0 3 0 3 0 3 0 3 0 3 0 3 0 12 0 3 0 3 0 3 0 6 0 3 0 3 0 9 0 3 0 6 0 3 0 3 0 9 0 3 0 6 0 6 0 3 0 9 0 18 0 9 0 3 0 9 0 3 0 3 0 3 0 6 0 6 0 3 0 3 0 6 0 6 0 6 0 6 0 3 0 9 0 3 0 24 0 9 0 18 0 6 0 3 0 3 0 3 0 21 0 36 0 3 0 6 0 6 0 6 0 6 0 3 0 9 0 12 0 9999"/><path d="M-483 534.52H475.01" stroke-dasharray="0 19 0 2 0 14 0 5 0 6 0 16 0 7 0 2 0 11 0 12 0 10 0 16 0 18 0 11 0 12 0 9 0 7 0 16 0 17 1 10 0 9 0 11 0 2 0 9 0 8 0 38 0 2 0 8 0 18 0 5 0 3 0 4 0 19 0 2 1 7 0 2 0 8 0 7 0 6 2 2 0 2 0 3 0 7 0 4 0 2 1 4 2 5 0 2 0 2 3 2 2 2 0 4 0 2 0 2 0 3 0 3 3 5 2 4 0 2 0 3 0 2 6 2 1 2 2 4 2 2 0 3 0 2 1 2 0 2 1 2 2 2 4 2 0 3 1 2 0 2 2 2 0 2 5 2 1 2 0 3 1 2 0 2 0 2 1 3 3 3 2 2 0 5 0 5 0 2 1 7 2 5 0 2 0 19 0 7 0 12 0 6 0 6 0 11 0 5 0 7 0 3 0 2 0 6 0 41 0 3 0 6 0 2 0 4 0 14 0 15 0 2 0 5 0 5 0 18 0 8 0 58 0 36 0 13 0 20 0 3 0 4 0 24 0 9999"/><path d="M-389 534.52H444.01" stroke-dasharray="0 55 0 21 0 41 0 41 0 82 0 4 0 21 1 9 0 22 1 2 0 5 0 11 0 3 0 4 2 7 0 3 2 2 0 2 0 6 0 10 3 5 0 6 0 7 1 3 0 14 1 2 0 3 0 2 0 3 0 7 0 2 1 3 0 5 0 9 0 2 1 2 0 4 0 3 0 4 0 2 0 4 1 3 1 6 1 2 0 5 0 15 0 28 0 31 0 16 0 88 0 180 0 9999"/><path d="M-490 530.67H485.01" stroke-dasharray="0 12 0 18 0 3 0 3 0 6 0 3 0 3 0 21 0 12 0 3 0 12 0 12 0 12 0 9 0 3 0 3 0 3 0 9 0 3 0 9 0 6 0 3 0 9 0 12 0 3 0 6 0 15 0 12 0 3 0 3 0 6 0 6 0 3 0 12 0 6 0 21 0 3 0 21 0 9 0 6 0 6 0 3 0 6 0 3 0 3 0 3 0 9 0 3 0 12 0 3 0 3 0 6 0 3 0 3 0 3 0 6 0 6 0 9 0 3 0 3 0 3 0 3 0 3 0 3 0 3 0 9 0 3 0 3 0 3 0 3 0 3 0 3 0 9 0 6 0 6 0 3 0 3 0 3 0 3 0 3 0 3 0 3 0 3 0 3 0 3 0 6 0 3 0 9 0 6 0 6 0 3 0 3 0 6 0 3 0 3 0 3 0 3 0 3 0 3 0 3 0 9 0 3 0 12 0 3 0 3 0 3 0 3 0 3 0 3 0 3 0 6 0 9 0 6 0 3 0 6 0 3 0 18 0 15 0 15 0 6 0 3 0 15 0 9 0 9 0 6 0 9 0 6 0 3 0 9 0 3 0 6 0 9 0 3 0 3 0 3 0 6 0 30 0 15 0 9 0 18 0 12 0 6 0 6 0 3 0 6 0 3 0 6 0 3 0 3 0 9 0 12 0 3 0 21 0 9999"/><path d="M-483 530.67H486.01" stroke-dasharray="0 6 0 15 0 3 0 15 0 3 0 3 0 3 0 6 0 12 0 3 0 9 0 12 0 9 0 9 0 3 0 3 0 3 0 3 0 3 0 12 0 6 0 9 0 3 0 9 0 9 0 3 0 3 0 6 0 6 0 3 0 3 0 9 0 3 0 3 0 3 0 9 0 15 0 6 0 3 0 3 0 12 0 6 0 3 0 9 0 12 0 3 0 3 0 3 0 12 0 24 0 3 0 6 0 3 0 12 0 6 0 9 0 15 0 3 0 3 0 6 0 3 0 3 0 9 0 3 0 3 0 3 0 3 0 3 0 3 0 3 0 3 0 3 0 3 0 3 0 3 0 3 0 3 0 3 0 3 0 3 0 3 0 3 0 6 0 6 0 3 0 6 0 3 0 3 0 6 0 3 0 3 0 3 0 3 0 3 0 3 0 3 0 3 0 3 0 3 0 3 0 3 0 6 0 3 0 3 0 9 0 6 0 3 0 6 0 3 0 3 0 6 0 3 0 3 0 3 0 3 0 3 0 6 0 6 0 15 0 3 0 3 0 18 0 3 0 3 0 6 0 3 0 24 0 15 0 21 0 3 0 3 0 3 0 9 0 9 0 18 0 6 0 15 0 6 0 6 0 6 0 15 0 6 0 3 0 9 0 3 0 6 0 6 0 6 0 9 0 6 0 12 0 6 0 18 0 15 0 6 0 3 0 3 0 12 0 3 0 3 0 3 0 9999"/><path d="M-488 530.67H490.01" stroke-dasharray="0 3 0 3 0 3 0 6 0 3 0 12 0 24 0 18 0 3 0 9 0 3 0 21 0 9 0 9 0 6 0 12 0 6 0 42 0 9 0 21 0 9 0 12 0 3 0 21 0 12 0 3 0 3 0 6 0 6 0 9 0 3 0 12 0 12 0 6 0 9 0 3 0 6 0 6 0 6 0 3 0 6 0 3 0 3 0 3 0 3 0 3 0 9 0 3 0 3 0 6 0 3 0 3 0 3 0 6 0 6 0 6 0 12 0 3 0 3 0 3 0 3 0 3 0 3 0 3 0 3 0 3 0 3 0 3 0 6 0 3 0 3 0 3 0 3 0 3 0 3 0 3 0 3 0 3 0 3 0 3 0 3 0 3 0 3 0 3 0 3 0 3 0 3 0 3 0 6 0 12 0 3 0 6 0 3 0 3 0 3 0 9 0 6 0 3 0 3 0 9 0 3 0 6 0 9 0 12 0 3 0 3 0 3 0 6 0 3 0 18 0 3 0 6 0 18 0 3 0 3 0 9 0 12 0 9 0 3 0 3 0 6 0 6 0 15 0 3 0 6 0 18 0 9 0 3 0 6 0 30 0 6 0 3 0 6 0 9 0 6 0 24 0 3 0 9 0 9 0 6 0 15 0 9 0 3 0 9 0 9 0 9999"/><path d="M-409 530.67H486.01" stroke-dasharray="0 8 0 53 0 26 0 69 0 7 0 6 0 3 0 16 0 24 0 5 1 5 0 15 0 4 0 22 0 5 0 5 0 2 0 8 0 13 0 2 0 9 0 6 0 2 0 3 0 3 0 4 0 2 0 3 0 2 3 2 1 2 0 2 3 3 3 2 2 2 0 3 0 2 1 2 0 3 0 3 0 2 1 2 1 2 1 2 0 3 0 3 1 2 0 2 0 3 1 3 1 3 0 11 1 3 0 2 2 4 1 2 0 3 0 2 0 3 1 2 1 5 0 2 0 2 0 2 1 3 0 5 0 2 2 3 0 6 0 2 0 2 1 5 0 2 4 4 1 6 0 12 0 5 0 3 3 5 0 5 0 8 0 17 1 2 2 3 1 2 1 22 0 7 0 35 0 7 0 25 0 15 1 14 0 2 0 24 0 12 0 6 0 14 0 2 0 19 1 34 0 14 0 10 0 10 1 23 0 2 0 16 0 6 0 9999"/><path d="M-322 530.67H370.01" stroke-dasharray="0 101 0 50 0 31 0 7 0 8 0 38 0 9 0 2 0 2 1 2 1 2 0 3 1 6 1 3 1 2 0 11 0 3 0 5 1 3 0 5 0 3 1 2 0 2 0 3 1 3 1 3 0 11 0 6 0 12 0 2 0 7 0 9 0 2 1 8 0 3 1 9 0 5 0 34 0 8 0 162 0 74 0 20 0 9999"/><path d="M-487 526.82H488.01" stroke-dasharray="0 3 0 3 0 3 0 12 0 6 0 9 0 6 0 6 0 3 0 6 0 3 0 6 0 9 0 9 0 3 0 9 0 27 0 6 0 12 0 6 0 18 0 3 0 9 0 15 0 3 0 6 0 6 0 3 0 45 0 6 0 3 0 6 0 3 0 12 0 3 0 6 0 27 0 3 0 27 0 3 0 9 0 6 0 6 0 6 0 6 0 6 0 3 0 3 0 12 0 3 0 6 0 6 0 3 0 3 0 3 0 9 0 3 0 6 0 3 0 3 0 3 0 6 0 3 0 9 0 6 0 3 0 6 0 3 0 3 0 3 0 3 0 3 0 3 0 3 0 3 0 3 0 3 0 12 0 3 0 3 0 3 0 3 0 3 0 3 0 3 0 3 0 3 0 3 0 3 0 3 0 3 0 6 0 12 0 6 0 15 0 6 0 9 0 6 0 3 0 6 0 3 0 3 0 9 0 6 0 21 0 12 0 9 0 9 0 12 0 6 0 18 0 3 0 12 0 3 0 6 0 3 0 9 0 3 0 3 0 6 0 6 0 6 0 9 0 3 0 15 0 6 0 12 0 9 0 3 0 3 0 6 0 54 0 3 0 3 0 15 0 21 0 9999"/><path d="M-489 526.82H483.01" stroke-dasharray="0 6 0 6 0 6 0 18 0 3 0 6 0 27 0 6 0 6 0 9 0 9 0 3 0 12 0 9 0 12 0 9 0 6 0 21 0 45 0 15 0 6 0 15 0 3 0 3 0 30 0 9 0 15 0 3 0 3 0 6 0 6 0 3 0 6 0 9 0 18 0 21 0 9 0 6 0 3 0 3 0 3 0 3 0 3 0 6 0 3 0 3 0 3 0 6 0 3 0 3 0 3 0 3 0 6 0 3 0 3 0 3 0 6 0 3 0 3 0 3 0 6 0 3 0 3 0 3 0 3 0 3 0 3 0 3 0 3 0 3 0 3 0 3 0 3 0 3 0 3 0 3 0 3 0 3 0 6 0 3 0 6 0 3 0 3 0 3 0 3 0 6 0 6 0 6 0 3 0 3 0 3 0 6 0 12 0 9 0 6 0 3 0 9 0 18 0 6 0 15 0 6 0 24 0 24 0 24 0 3 0 12 0 3 0 3 0 6 0 3 0 3 0 6 0 3 0 6 0 9 0 6 0 9 0 3 0 12 0 12 0 33 0 12 0 6 0 3 0 6 0 3 0 6 0 3 0 9 0 12 0 3 0 9 0 6 0 6 0 9999"/><path d="M-488 526.82H487.01" stroke-dasharray="0 9 0 33 0 6 0 9 0 6 0 3 0 12 0 3 0 18 0 9 0 6 0 3 0 3 0 12 0 9 0 6 0 24 0 30 0 3 0 3 0 3 0 3 0 27 0 18 0 6 0 3 0 9 0 6 0 3 0 3 0 3 0 3 0 3 0 3 0 3 0 42 0 3 0 3 0 3 0 3 0 3 0 6 0 3 0 3 0 3 0 3 0 3 0 3 0 3 0 3 0 3 0 3 0 6 0 3 0 9 0 3 0 3 0 3 0 6 0 3 0 3 0 3 0 3 0 3 0 6 0 6 0 3 0 3 0 3 0 3 0 3 0 6 0 3 0 3 0 3 0 3 0 3 0 3 0 3 0 3 0 3 0 3 0 3 0 3 0 3 0 3 0 3 0 3 0 3 0 3 0 9 0 6 0 6 0 3 0 3 0 3 0 3 0 6 0 3 0 3 0 6 0 3 0 3 0 3 0 3 0 3 0 6 0 3 0 9 0 3 0 9 0 3 0 6 0 3 0 3 0 3 0 15 0 3 0 3 0 15 0 3 0 3 0 18 0 9 0 6 0 9 0 12 0 3 0 3 0 24 0 15 0 3 0 3 0 9 0 9 0 3 0 12 0 6 0 21 0 12 0 6 0 9 0 12 0 3 0 12 0 9 0 3 0 12 0 18 0 12 0 3 0 3 0 6 0 3 0 9999"/><path d="M-487 526.82H487.01" stroke-dasharray="0 8 0 8 0 5 0 13 0 43 0 14 0 5 0 17 0 2 1 7 0 24 0 18 0 27 0 14 0 3 0 3 0 26 0 43 0 3 0 3 1 2 0 9 0 17 0 31 0 2 0 2 0 8 0 4 0 2 0 2 0 4 0 4 0 5 0 12 0 5 0 4 0 2 1 2 0 5 1 3 0 3 2 2 0 2 0 3 1 4 1 2 0 2 0 5 0 2 1 3 0 3 0 4 3 3 3 2 0 2 0 2 1 4 1 2 0 3 0 4 3 2 1 4 0 2 0 5 3 2 2 2 2 2 3 2 0 2 1 2 2 2 1 2 0 3 0 3 2 6 0 3 0 2 0 2 1 2 0 2 2 2 0 3 0 8 0 11 0 12 0 2 0 21 0 18 0 2 0 2 0 4 0 15 1 43 0 2 0 13 0 21 0 28 0 12 0 5 0 15 2 24 0 25 0 2 0 10 0 30 0 12 0 28 0 14 0 7 0 5 0 12 0 3 0 9999"/><path d="M-322 526.82H315.01" stroke-dasharray="0 44 0 158 0 13 0 12 0 19 1 3 0 4 1 2 0 2 0 4 0 4 1 4 0 11 0 3 0 7 0 5 1 2 0 4 1 4 1 2 0 7 0 2 0 3 0 5 0 2 0 5 0 2 1 2 0 4 1 3 0 2 1 4 1 4 0 8 0 19 0 2 0 3 1 2 0 3 0 72 0 24 0 141 0 9999"/><path d="M-457 522.98H488.01" stroke-dasharray="0 18 0 18 0 9 0 3 0 9 0 21 0 12 0 3 0 6 0 3 0 15 0 6 0 15 0 12 0 30 0 9 0 9 0 6 0 3 0 6 0 3 0 9 0 9 0 3 0 3 0 24 0 9 0 3 0 15 0 6 0 3 0 3 0 3 0 6 0 3 0 12 0 6 0 3 0 6 0 9 0 3 0 12 0 6 0 3 0 6 0 3 0 3 0 3 0 3 0 3 0 9 0 3 0 6 0 3 0 6 0 3 0 3 0 3 0 3 0 3 0 3 0 3 0 3 0 3 0 3 0 3 0 3 0 3 0 12 0 3 0 6 0 3 0 3 0 6 0 3 0 3 0 3 0 3 0 3 0 6 0 3 0 3 0 3 0 9 0 12 0 6 0 3 0 3 0 6 0 3 0 12 0 12 0 3 0 15 0 3 0 12 0 12 0 30 0 15 0 6 0 6 0 6 0 3 0 3 0 6 0 21 0 3 0 6 0 3 0 3 0 3 0 3 0 12 0 3 0 6 0 9 0 9 0 3 0 3 0 3 0 6 0 9 0 3 0 27 0 6 0 3 0 3 0 3 0 9 0 3 0 6 0 30 0 24 0 6 0 6 0 9999"/><path d="M-471 522.98H456.01" stroke-dasharray="0 3 0 3 0 6 0 6 0 6 0 3 0 3 0 6 0 12 0 9 0 9 0 15 0 3 0 9 0 3 0 9 0 18 0 15 0 9 0 36 0 12 0 6 0 3 0 15 0 6 0 3 0 3 0 12 0 6 0 24 0 3 0 6 0 9 0 6 0 9 0 9 0 6 0 6 0 18 0 3 0 3 0 3 0 12 0 3 0 3 0 9 0 6 0 3 0 6 0 3 0 3 0 3 0 3 0 3 0 3 0 3 0 3 0 3 0 6 0 3 0 3 0 3 0 3 0 6 0 3 0 6 0 3 0 6 0 6 0 3 0 6 0 3 0 9 0 3 0 3 0 3 0 6 0 3 0 6 0 3 0 3 0 3 0 3 0 3 0 6 0 6 0 3 0 3 0 3 0 3 0 3 0 9 0 3 0 3 0 9 0 9 0 12 0 6 0 3 0 6 0 3 0 6 0 39 0 15 0 3 0 3 0 12 0 9 0 6 0 6 0 3 0 6 0 6 0 6 0 15 0 15 0 18 0 6 0 3 0 3 0 33 0 3 0 15 0 3 0 3 0 9 0 24 0 6 0 30 0 9999"/><path d="M-470 522.98H490.01" stroke-dasharray="0 3 0 6 0 3 0 9 0 30 0 6 0 30 0 3 0 15 0 3 0 15 0 18 0 6 0 3 0 9 0 6 0 3 0 6 0 18 0 6 0 3 0 9 0 3 0 12 0 9 0 12 0 12 0 6 0 24 0 6 0 6 0 3 0 3 0 3 0 6 0 12 0 12 0 3 0 3 0 3 0 9 0 9 0 3 0 6 0 9 0 3 0 6 0 3 0 3 0 3 0 9 0 9 0 6 0 6 0 3 0 3 0 6 0 3 0 3 0 6 0 3 0 3 0 3 0 3 0 3 0 3 0 3 0 3 0 3 0 3 0 3 0 3 0 3 0 3 0 3 0 3 0 3 0 3 0 3 0 6 0 3 0 3 0 6 0 6 0 3 0 3 0 3 0 3 0 3 0 3 0 3 0 3 0 3 0 3 0 9 0 3 0 3 0 3 0 9 0 3 0 6 0 6 0 9 0 3 0 6 0 6 0 9 0 3 0 3 0 6 0 6 0 21 0 9 0 3 0 12 0 21 0 6 0 3 0 6 0 9 0 3 0 12 0 6 0 12 0 3 0 3 0 6 0 3 0 6 0 9 0 3 0 6 0 6 0 9 0 12 0 6 0 6 0 6 0 3 0 12 0 9 0 18 0 3 0 9 0 9 0 3 0 18 0 6 0 3 0 9999"/><path d="M-471 522.98H488.01" stroke-dasharray="0 14 0 22 0 57 0 3 0 9 0 33 0 89 0 20 2 10 0 6 0 25 0 11 0 4 0 6 0 17 0 22 0 4 0 12 1 2 0 18 1 8 1 3 1 2 1 6 0 2 0 2 0 3 0 2 1 2 0 6 1 3 1 2 0 2 4 2 0 2 2 8 0 2 1 3 0 3 3 2 2 2 3 2 0 2 1 3 0 3 1 2 3 2 0 3 0 5 0 2 0 3 2 2 0 2 2 2 0 2 1 2 0 5 0 4 1 3 0 2 1 2 0 2 1 3 0 2 0 6 0 11 0 2 1 8 0 4 0 2 0 10 0 2 0 9 0 5 0 3 0 26 0 5 0 6 0 12 0 21 0 2 0 24 0 5 0 20 0 3 0 10 0 3 0 17 0 6 0 7 0 22 0 11 0 3 0 6 0 54 0 16 1 21 0 46 0 9999"/><path d="M-457 522.98H330.01" stroke-dasharray="0 235 0 10 0 69 0 59 1 13 0 2 0 7 0 2 0 5 0 3 0 8 1 3 0 6 1 8 0 18 2 4 0 3 2 8 0 3 0 6 0 2 0 3 0 5 0 5 0 4 0 3 0 5 1 7 0 4 0 4 0 3 0 4 1 3 0 2 0 6 0 22 0 35 0 189 0 9999"/><path d="M-481 519.13H488.01" stroke-dasharray="0 3 0 3 0 15 0 12 0 9 0 12 0 6 0 3 0 3 0 6 0 18 0 33 0 12 0 21 0 15 0 6 0 6 0 3 0 9 0 9 0 6 0 3 0 6 0 12 0 9 0 12 0 3 0 3 0 6 0 12 0 12 0 9 0 3 0 6 0 3 0 3 0 3 0 9 0 3 0 12 0 3 0 9 0 3 0 3 0 3 0 6 0 3 0 18 0 6 0 3 0 3 0 3 0 3 0 3 0 6 0 3 0 6 0 3 0 3 0 6 0 3 0 6 0 3 0 3 0 3 0 3 0 3 0 3 0 6 0 3 0 6 0 3 0 3 0 3 0 3 0 3 0 3 0 3 0 3 0 3 0 3 0 6 0 3 0 3 0 3 0 6 0 3 0 3 0 3 0 3 0 3 0 3 0 3 0 3 0 3 0 3 0 6 0 3 0 3 0 6 0 3 0 3 0 15 0 6 0 6 0 3 0 9 0 3 0 3 0 27 0 9 0 3 0 6 0 12 0 9 0 6 0 9 0 15 0 18 0 3 0 24 0 6 0 6 0 12 0 3 0 3 0 6 0 3 0 6 0 42 0 3 0 6 0 18 0 15 0 24 0 6 0 3 0 12 0 3 0 9 0 6 0 9 0 9999"/><path d="M-480 519.13H483.01" stroke-dasharray="0 6 0 6 0 9 0 3 0 9 0 9 0 18 0 3 0 3 0 54 0 6 0 3 0 9 0 3 0 21 0 21 0 3 0 18 0 9 0 3 0 3 0 9 0 24 0 9 0 12 0 15 0 3 0 12 0 3 0 6 0 3 0 3 0 3 0 9 0 15 0 3 0 9 0 3 0 3 0 6 0 6 0 6 0 12 0 3 0 3 0 9 0 6 0 3 0 3 0 6 0 3 0 3 0 3 0 3 0 6 0 6 0 3 0 3 0 6 0 3 0 3 0 3 0 3 0 3 0 3 0 3 0 3 0 3 0 3 0 3 0 3 0 3 0 3 0 3 0 3 0 3 0 6 0 3 0 3 0 3 0 3 0 6 0 6 0 3 0 3 0 3 0 3 0 6 0 3 0 3 0 6 0 3 0 3 0 3 0 3 0 3 0 9 0 3 0 3 0 3 0 3 0 9 0 12 0 6 0 3 0 6 0 15 0 6 0 36 0 3 0 3 0 15 0 6 0 18 0 9 0 12 0 3 0 6 0 9 0 18 0 48 0 3 0 24 0 6 0 15 0 6 0 21 0 15 0 21 0 9999"/><path d="M-485 519.13H490.01" stroke-dasharray="0 21 0 27 0 3 0 15 0 3 0 33 0 9 0 3 0 9 0 9 0 9 0 3 0 6 0 3 0 18 0 9 0 9 0 3 0 3 0 9 0 15 0 6 0 24 0 6 0 3 0 12 0 6 0 9 0 9 0 3 0 6 0 3 0 3 0 3 0 3 0 12 0 3 0 6 0 3 0 6 0 6 0 3 0 3 0 6 0 6 0 3 0 6 0 3 0 6 0 3 0 3 0 6 0 3 0 3 0 6 0 3 0 9 0 3 0 3 0 3 0 6 0 3 0 3 0 3 0 3 0 3 0 3 0 3 0 3 0 3 0 6 0 3 0 3 0 3 0 6 0 3 0 3 0 3 0 9 0 3 0 3 0 3 0 3 0 3 0 3 0 3 0 3 0 6 0 3 0 3 0 3 0 3 0 3 0 3 0 3 0 9 0 6 0 3 0 9 0 3 0 15 0 6 0 9 0 9 0 9 0 3 0 15 0 12 0 24 0 3 0 6 0 12 0 36 0 3 0 18 0 9 0 3 0 3 0 12 0 18 0 9 0 6 0 12 0 3 0 6 0 24 0 9 0 9 0 6 0 3 0 12 0 3 0 9 0 6 0 27 0 15 0 6 0 9999"/><path d="M-485 519.13H488.01" stroke-dasharray="0 46 0 5 0 17 0 2 0 61 0 68 0 5 0 29 0 33 0 49 0 2 0 2 1 6 0 9 0 11 0 4 0 3 1 3 0 4 0 7 0 13 0 9 1 6 1 3 0 2 2 4 0 3 2 4 1 4 0 4 0 3 0 2 1 4 0 2 0 2 0 3 0 3 0 2 1 4 0 3 2 3 1 2 0 10 1 3 1 2 0 4 2 3 1 2 0 2 1 3 0 2 1 3 1 2 1 3 0 2 4 3 1 2 0 3 0 2 0 3 0 2 0 3 0 2 0 3 1 3 2 4 0 2 0 2 0 3 0 2 0 6 1 3 0 9 0 6 0 3 0 3 0 9 0 9 0 3 0 2 0 7 0 8 0 5 0 5 0 29 0 17 1 2 0 20 0 24 0 31 0 12 0 7 0 7 0 20 0 6 0 43 0 49 0 18 0 7 0 39 0 9999"/><path d="M-485 519.13H449.01" stroke-dasharray="0 70 0 276 0 22 0 23 0 13 0 9 0 19 1 11 0 3 0 3 0 7 0 5 1 12 0 4 1 11 1 2 0 2 0 10 0 3 0 6 3 5 0 5 0 5 0 5 0 10 0 5 0 2 0 7 0 6 0 13 0 9 0 344 0 9999"/><path d="M-469 515.28H488.01" stroke-dasharray="0 3 0 6 0 12 0 12 0 6 0 15 0 3 0 12 0 21 0 12 0 9 0 12 0 3 0 6 0 3 0 9 0 3 0 15 0 12 0 6 0 3 0 15 0 3 0 9 0 6 0 3 0 15 0 3 0 6 0 3 0 15 0 6 0 6 0 3 0 15 0 3 0 3 0 6 0 6 0 3 0 3 0 9 0 3 0 9 0 3 0 3 0 6 0 3 0 6 0 12 0 3 0 6 0 3 0 3 0 3 0 3 0 9 0 9 0 3 0 3 0 6 0 3 0 3 0 3 0 6 0 3 0 3 0 3 0 3 0 3 0 3 0 6 0 3 0 3 0 6 0 3 0 3 0 3 0 3 0 9 0 3 0 3 0 3 0 3 0 6 0 6 0 3 0 3 0 3 0 3 0 3 0 6 0 3 0 6 0 6 0 6 0 9 0 3 0 3 0 3 0 3 0 15 0 15 0 6 0 3 0 6 0 3 0 6 0 9 0 21 0 6 0 3 0 6 0 18 0 9 0 3 0 15 0 3 0 3 0 12 0 27 0 3 0 12 0 15 0 15 0 12 0 21 0 3 0 6 0 9 0 12 0 9 0 18 0 3 0 3 0 24 0 6 0 18 0 9999"/><path d="M-489 515.28H489.01" stroke-dasharray="0 9 0 6 0 30 0 18 0 3 0 15 0 6 0 3 0 6 0 6 0 6 0 9 0 9 0 6 0 18 0 15 0 3 0 9 0 3 0 3 0 15 0 6 0 21 0 9 0 3 0 9 0 6 0 3 0 24 0 24 0 12 0 36 0 6 0 3 0 3 0 15 0 3 0 3 0 6 0 6 0 6 0 3 0 9 0 3 0 3 0 3 0 3 0 6 0 3 0 3 0 3 0 3 0 15 0 3 0 6 0 3 0 6 0 3 0 3 0 6 0 3 0 3 0 3 0 3 0 3 0 3 0 3 0 3 0 3 0 6 0 3 0 3 0 3 0 3 0 3 0 3 0 3 0 3 0 3 0 3 0 3 0 3 0 3 0 6 0 3 0 3 0 3 0 3 0 6 0 3 0 3 0 9 0 3 0 3 0 6 0 6 0 9 0 3 0 3 0 3 0 15 0 15 0 6 0 12 0 21 0 12 0 3 0 3 0 6 0 12 0 6 0 12 0 3 0 12 0 3 0 3 0 36 0 3 0 15 0 3 0 6 0 3 0 15 0 6 0 3 0 9 0 27 0 9 0 3 0 12 0 3 0 3 0 6 0 9 0 3 0 9 0 9 0 6 0 9999"/><path d="M-476 515.28H490.01" stroke-dasharray="0 33 0 3 0 9 0 9 0 3 0 6 0 6 0 3 0 18 0 12 0 3 0 3 0 6 0 21 0 3 0 3 0 6 0 12 0 6 0 15 0 15 0 6 0 15 0 12 0 3 0 15 0 3 0 9 0 3 0 12 0 12 0 3 0 15 0 12 0 9 0 3 0 3 0 3 0 3 0 9 0 3 0 6 0 3 0 6 0 3 0 3 0 3 0 6 0 3 0 3 0 3 0 3 0 3 0 6 0 9 0 3 0 3 0 3 0 3 0 3 0 3 0 3 0 3 0 6 0 3 0 3 0 3 0 3 0 3 0 3 0 3 0 3 0 3 0 3 0 6 0 3 0 6 0 3 0 3 0 3 0 3 0 3 0 3 0 3 0 3 0 6 0 3 0 6 0 3 0 3 0 3 0 3 0 6 0 6 0 3 0 3 0 3 0 3 0 3 0 6 0 3 0 3 0 3 0 12 0 6 0 6 0 9 0 3 0 21 0 12 0 12 0 6 0 3 0 6 0 15 0 6 0 3 0 18 0 33 0 6 0 15 0 12 0 6 0 30 0 24 0 3 0 3 0 3 0 9 0 3 0 3 0 3 0 21 0 12 0 15 0 36 0 15 0 9999"/><path d="M-474 515.28H483.01" stroke-dasharray="0 61 0 13 0 21 0 17 0 24 0 9 0 5 0 17 0 26 0 21 1 7 0 7 0 18 1 18 0 22 0 8 0 3 0 2 1 12 0 3 0 11 0 3 0 5 0 6 0 2 0 3 0 5 0 11 1 5 0 5 0 8 0 3 2 2 1 5 0 4 0 5 0 2 0 2 1 7 0 3 0 2 0 2 2 2 0 2 0 2 0 5 0 3 0 3 0 3 1 3 0 3 2 3 0 3 0 3 0 2 1 2 0 2 0 4 2 3 3 2 1 3 2 2 1 4 0 2 0 2 0 2 0 2 1 3 1 3 0 2 1 5 0 3 0 7 0 6 1 8 0 4 3 4 0 6 0 2 0 6 0 2 0 2 0 3 0 3 0 5 0 24 0 5 0 28 0 4 0 61 0 24 0 13 0 17 0 3 0 11 0 62 0 24 0 29 0 20 0 2 0 44 0 9999"/><path d="M-260 515.28H439.01" stroke-dasharray="0 88 0 12 0 17 0 43 0 13 0 19 0 2 1 12 0 6 0 9 0 6 0 4 0 3 0 4 1 11 1 2 0 14 0 2 0 4 2 3 0 10 0 7 0 3 0 3 0 35 0 2 0 18 0 2 0 8 0 5 0 276 0 51 0 9999"/><path d="M-490 511.44H485.01" stroke-dasharray="0 3 0 12 0 39 0 36 0 3 0 36 0 3 0 3 0 3 0 3 0 6 0 3 0 18 0 3 0 12 0 12 0 9 0 6 0 3 0 15 0 3 0 3 0 3 0 15 0 3 0 9 0 3 0 3 0 12 0 3 0 3 0 3 0 3 0 3 0 18 0 6 0 6 0 3 0 3 0 12 0 6 0 3 0 18 0 3 0 3 0 3 0 6 0 3 0 6 0 3 0 9 0 3 0 3 0 3 0 3 0 3 0 3 0 3 0 3 0 3 0 3 0 9 0 3 0 3 0 3 0 3 0 6 0 3 0 3 0 6 0 6 0 3 0 3 0 3 0 3 0 6 0 3 0 6 0 3 0 3 0 3 0 3 0 3 0 3 0 3 0 3 0 6 0 3 0 3 0 3 0 3 0 3 0 3 0 3 0 6 0 3 0 3 0 6 0 6 0 6 0 6 0 3 0 9 0 3 0 3 0 3 0 12 0 3 0 3 0 3 0 3 0 6 0 12 0 15 0 9 0 15 0 12 0 3 0 18 0 9 0 3 0 6 0 3 0 9 0 18 0 3 0 27 0 21 0 9 0 3 0 6 0 3 0 18 0 3 0 9 0 12 0 3 0 6 0 3 0 18 0 6 0 9 0 6 0 15 0 6 0 9 0 9999"/><path d="M-489 511.44H486.01" stroke-dasharray="0 3 0 6 0 6 0 6 0 6 0 9 0 12 0 6 0 3 0 21 0 6 0 15 0 6 0 15 0 3 0 42 0 33 0 3 0 12 0 3 0 3 0 24 0 3 0 6 0 9 0 3 0 12 0 9 0 3 0 9 0 3 0 30 0 12 0 6 0 15 0 9 0 9 0 3 0 3 0 6 0 3 0 3 0 3 0 9 0 3 0 3 0 3 0 3 0 6 0 6 0 6 0 3 0 3 0 3 0 3 0 3 0 6 0 3 0 3 0 9 0 3 0 6 0 3 0 3 0 3 0 3 0 3 0 3 0 3 0 6 0 3 0 12 0 3 0 3 0 6 0 9 0 6 0 3 0 6 0 3 0 9 0 6 0 9 0 9 0 6 0 3 0 21 0 6 0 21 0 3 0 12 0 15 0 15 0 27 0 15 0 6 0 12 0 3 0 9 0 3 0 6 0 3 0 3 0 24 0 3 0 3 0 3 0 9 0 33 0 3 0 6 0 3 0 6 0 6 0 3 0 6 0 3 0 12 0 6 0 6 0 27 0 24 0 9999"/><path d="M-488 511.44H490.01" stroke-dasharray="0 18 0 36 0 12 0 6 0 36 0 3 0 9 0 3 0 6 0 9 0 3 0 3 0 3 0 3 0 3 0 15 0 21 0 3 0 3 0 9 0 3 0 6 0 18 0 24 0 15 0 3 0 3 0 12 0 6 0 3 0 18 0 6 0 15 0 3 0 18 0 15 0 3 0 3 0 3 0 3 0 3 0 6 0 6 0 6 0 3 0 12 0 9 0 3 0 3 0 6 0 3 0 3 0 3 0 3 0 3 0 3 0 3 0 3 0 3 0 3 0 3 0 3 0 3 0 3 0 3 0 3 0 3 0 3 0 3 0 15 0 3 0 3 0 3 0 3 0 3 0 3 0 3 0 3 0 3 0 3 0 3 0 3 0 6 0 12 0 9 0 3 0 9 0 3 0 6 0 3 0 3 0 3 0 3 0 3 0 3 0 3 0 3 0 9 0 9 0 3 0 3 0 30 0 6 0 15 0 3 0 6 0 3 0 3 0 3 0 3 0 6 0 6 0 12 0 12 0 12 0 6 0 18 0 9 0 6 0 6 0 54 0 6 0 15 0 6 0 12 0 3 0 3 0 18 0 9 0 6 0 12 0 6 0 18 0 9999"/><path d="M-489 511.44H472.01" stroke-dasharray="0 78 0 21 0 10 0 11 0 34 0 60 0 74 1 31 0 9 1 7 0 21 0 14 0 12 0 4 1 5 1 3 0 12 1 2 1 3 0 2 2 2 0 2 0 4 0 2 0 2 0 3 0 8 3 2 0 2 0 6 1 2 0 2 2 3 1 2 0 2 0 3 0 2 1 2 2 2 0 2 0 4 3 2 1 2 0 2 1 3 0 3 0 5 0 2 0 2 0 2 0 2 1 2 1 5 6 3 2 2 0 2 0 3 0 2 1 5 0 12 2 3 0 6 0 12 0 2 0 12 0 7 0 2 0 3 0 6 0 14 0 64 0 43 0 9 0 9 0 25 0 4 0 32 0 20 0 6 0 54 0 59 0 9999"/><path d="M-159 511.44H472.01" stroke-dasharray="0 28 0 14 0 12 0 26 1 3 0 3 0 2 2 23 1 2 0 2 0 13 2 6 0 2 0 3 0 6 1 4 0 4 0 3 0 2 1 8 0 3 0 5 0 4 0 4 0 4 0 5 0 9 0 2 0 7 0 2 0 6 0 35 0 2 0 250 0 119 0 9999"/><path d="M-484 507.59H482.01" stroke-dasharray="0 39 0 3 0 9 0 9 0 9 0 15 0 33 0 12 0 12 0 3 0 6 0 30 0 6 0 12 0 21 0 6 0 12 0 21 0 6 0 6 0 3 0 6 0 3 0 9 0 12 0 3 0 6 0 9 0 3 0 24 0 3 0 21 0 3 0 3 0 3 0 3 0 9 0 3 0 3 0 3 0 3 0 3 0 3 0 3 0 9 0 3 0 6 0 3 0 3 0 6 0 3 0 3 0 3 0 3 0 3 0 3 0 3 0 6 0 3 0 3 0 3 0 3 0 3 0 3 0 3 0 3 0 9 0 3 0 3 0 9 0 3 0 3 0 6 0 3 0 6 0 3 0 9 0 6 0 3 0 9 0 6 0 3 0 3 0 3 0 6 0 3 0 6 0 3 0 3 0 12 0 3 0 3 0 12 0 6 0 6 0 3 0 18 0 9 0 6 0 6 0 18 0 18 0 15 0 27 0 3 0 3 0 6 0 12 0 6 0 9 0 6 0 6 0 6 0 3 0 9 0 6 0 6 0 9 0 9 0 6 0 12 0 3 0 33 0 15 0 15 0 9 0 6 0 9999"/><path d="M-489 507.59H483.01" stroke-dasharray="0 3 0 9 0 6 0 6 0 3 0 6 0 15 0 30 0 15 0 12 0 15 0 3 0 15 0 3 0 9 0 6 0 15 0 3 0 9 0 6 0 3 0 6 0 9 0 9 0 3 0 6 0 12 0 3 0 6 0 6 0 3 0 6 0 9 0 3 0 9 0 9 0 3 0 6 0 21 0 9 0 9 0 3 0 3 0 12 0 3 0 3 0 6 0 6 0 3 0 6 0 3 0 3 0 6 0 3 0 6 0 9 0 3 0 3 0 3 0 6 0 3 0 3 0 9 0 6 0 3 0 3 0 6 0 3 0 3 0 3 0 3 0 3 0 6 0 12 0 3 0 6 0 3 0 3 0 3 0 3 0 3 0 3 0 3 0 3 0 3 0 3 0 6 0 15 0 3 0 9 0 3 0 3 0 6 0 3 0 3 0 3 0 3 0 9 0 3 0 3 0 3 0 12 0 9 0 3 0 3 0 18 0 3 0 3 0 42 0 3 0 6 0 6 0 12 0 3 0 6 0 6 0 24 0 3 0 3 0 6 0 6 0 6 0 18 0 12 0 3 0 3 0 3 0 12 0 3 0 9 0 12 0 9 0 6 0 3 0 3 0 3 0 27 0 15 0 12 0 18 0 9 0 9999"/><path d="M-482 507.59H490.01" stroke-dasharray="0 6 0 9 0 24 0 33 0 6 0 6 0 9 0 3 0 36 0 18 0 6 0 3 0 9 0 24 0 6 0 3 0 3 0 3 0 3 0 3 0 6 0 9 0 3 0 9 0 12 0 6 0 9 0 3 0 3 0 9 0 3 0 6 0 15 0 9 0 9 0 12 0 6 0 6 0 6 0 6 0 3 0 3 0 3 0 3 0 6 0 9 0 18 0 3 0 3 0 3 0 3 0 3 0 3 0 6 0 3 0 3 0 9 0 3 0 3 0 3 0 3 0 3 0 3 0 6 0 3 0 3 0 6 0 3 0 6 0 3 0 3 0 6 0 6 0 3 0 3 0 6 0 3 0 9 0 3 0 9 0 6 0 3 0 3 0 3 0 3 0 3 0 3 0 12 0 6 0 3 0 9 0 9 0 6 0 6 0 9 0 3 0 9 0 3 0 3 0 3 0 3 0 6 0 3 0 12 0 9 0 6 0 21 0 6 0 42 0 6 0 6 0 15 0 18 0 21 0 6 0 15 0 3 0 39 0 3 0 12 0 12 0 6 0 3 0 3 0 3 0 9 0 18 0 6 0 9 0 3 0 9999"/><path d="M-486 507.59H454.01" stroke-dasharray="0 4 0 5 0 111 0 18 0 44 0 35 0 22 0 33 0 21 0 25 0 8 0 24 0 2 0 8 0 4 0 8 0 4 0 4 0 3 1 11 0 9 0 3 0 2 2 2 0 4 0 4 0 3 0 2 3 4 1 2 1 3 0 7 3 2 2 3 1 4 0 2 0 2 2 3 0 5 0 2 2 2 0 2 1 2 1 3 1 2 1 2 0 2 0 2 0 3 1 2 0 2 3 4 0 5 2 3 1 4 0 2 0 3 0 6 0 17 0 6 0 2 0 3 2 4 0 2 1 10 0 7 0 6 1 2 0 3 0 10 0 9 0 4 0 7 0 15 0 4 0 4 0 25 0 6 0 7 0 27 0 9 0 30 0 3 0 14 0 7 0 5 0 11 0 2 0 25 0 15 0 13 0 4 0 9 0 9 0 8 0 26 0 12 0 12 0 9999"/><path d="M-366 507.59H321.01" stroke-dasharray="0 198 0 86 0 7 0 15 0 7 1 2 1 3 0 8 2 4 0 3 1 4 0 4 0 5 0 9 0 2 0 3 0 2 0 5 0 15 0 3 0 68 0 11 0 29 0 9 0 99 0 9 0 59 0 13 0 9999"/><path d="M-475 503.74H488.01" stroke-dasharray="0 3 0 12 0 6 0 9 0 27 0 18 0 12 0 6 0 3 0 12 0 3 0 3 0 18 0 24 0 9 0 3 0 12 0 9 0 6 0 6 0 9 0 9 0 15 0 3 0 9 0 9 0 3 0 48 0 12 0 3 0 6 0 9 0 3 0 3 0 3 0 6 0 3 0 3 0 3 0 6 0 6 0 12 0 9 0 9 0 12 0 3 0 6 0 3 0 3 0 3 0 3 0 6 0 3 0 3 0 3 0 3 0 3 0 3 0 3 0 3 0 3 0 3 0 3 0 3 0 3 0 3 0 3 0 12 0 3 0 3 0 3 0 3 0 6 0 3 0 6 0 3 0 3 0 3 0 9 0 3 0 3 0 3 0 6 0 6 0 3 0 6 0 3 0 3 0 3 0 3 0 3 0 24 0 12 0 9 0 6 0 3 0 3 0 12 0 24 0 3 0 6 0 3 0 3 0 15 0 3 0 21 0 18 0 3 0 12 0 24 0 3 0 6 0 6 0 3 0 9 0 12 0 3 0 3 0 12 0 24 0 18 0 9 0 33 0 3 0 18 0 6 0 3 0 9999"/><path d="M-480 503.74H480.01" stroke-dasharray="0 51 0 9 0 15 0 24 0 6 0 9 0 3 0 6 0 15 0 42 0 24 0 6 0 3 0 6 0 6 0 3 0 3 0 12 0 9 0 3 0 15 0 24 0 12 0 12 0 9 0 15 0 3 0 9 0 9 0 9 0 3 0 6 0 3 0 3 0 3 0 3 0 3 0 6 0 3 0 3 0 3 0 6 0 3 0 3 0 9 0 3 0 3 0 3 0 6 0 3 0 3 0 9 0 6 0 3 0 3 0 3 0 3 0 6 0 6 0 6 0 3 0 3 0 3 0 3 0 3 0 3 0 6 0 3 0 6 0 3 0 6 0 3 0 3 0 3 0 6 0 3 0 3 0 24 0 15 0 9 0 18 0 6 0 12 0 3 0 15 0 27 0 12 0 3 0 3 0 24 0 24 0 6 0 27 0 3 0 12 0 3 0 9 0 3 0 12 0 6 0 30 0 3 0 3 0 27 0 9 0 3 0 27 0 12 0 9 0 9999"/><path d="M-458 503.74H484.01" stroke-dasharray="0 3 0 12 0 3 0 6 0 3 0 18 0 9 0 21 0 21 0 12 0 9 0 6 0 18 0 6 0 24 0 12 0 3 0 9 0 12 0 15 0 15 0 3 0 9 0 18 0 9 0 12 0 9 0 6 0 3 0 6 0 6 0 12 0 3 0 6 0 18 0 3 0 3 0 3 0 18 0 6 0 9 0 15 0 3 0 6 0 3 0 3 0 3 0 6 0 3 0 6 0 3 0 3 0 3 0 3 0 3 0 3 0 3 0 3 0 3 0 3 0 3 0 3 0 3 0 6 0 3 0 3 0 3 0 12 0 12 0 9 0 3 0 15 0 15 0 3 0 15 0 3 0 12 0 3 0 12 0 3 0 9 0 18 0 15 0 3 0 9 0 3 0 3 0 12 0 3 0 66 0 9 0 3 0 9 0 18 0 15 0 3 0 24 0 39 0 15 0 3 0 45 0 9999"/><path d="M-431 503.74H359.01" stroke-dasharray="0 43 0 47 0 46 0 19 0 9 0 2 0 13 0 14 0 2 0 88 0 18 0 6 0 5 0 4 0 6 0 10 1 2 0 18 0 15 0 3 0 3 0 5 0 3 0 4 3 2 1 4 0 2 0 2 1 4 0 6 0 2 0 6 0 2 1 2 0 2 5 5 2 4 2 3 0 3 0 6 1 3 1 2 0 2 3 5 3 5 1 3 0 2 0 7 0 4 0 7 0 2 0 16 0 9 0 6 0 3 0 3 0 7 0 9 0 91 0 5 0 3 0 32 0 41 0 31 0 4 0 23 0 9999"/><path d="M-57 503.74H225.01" stroke-dasharray="0 5 0 3 0 4 0 6 0 13 0 16 0 5 1 3 1 11 0 15 0 3 1 6 1 5 0 2 1 6 0 3 0 47 0 6 0 118 0 9999"/><path d="M-484 499.9H479.01" stroke-dasharray="0 3 0 6 0 27 0 24 0 15 0 15 0 18 0 12 0 3 0 21 0 3 0 3 0 6 0 3 0 12 0 21 0 12 0 12 0 9 0 6 0 12 0 9 0 3 0 30 0 21 0 3 0 9 0 9 0 9 0 6 0 9 0 3 0 24 0 3 0 3 0 6 0 3 0 6 0 3 0 6 0 6 0 3 0 9 0 3 0 6 0 3 0 3 0 9 0 3 0 3 0 9 0 3 0 3 0 3 0 3 0 3 0 3 0 3 0 6 0 3 0 3 0 6 0 3 0 3 0 3 0 3 0 3 0 9 0 6 0 6 0 3 0 3 0 3 0 3 0 3 0 3 0 3 0 6 0 3 0 6 0 3 0 6 0 3 0 6 0 6 0 3 0 3 0 3 0 3 0 18 0 3 0 6 0 3 0 18 0 3 0 6 0 18 0 3 0 12 0 3 0 3 0 15 0 27 0 3 0 18 0 6 0 6 0 9 0 9 0 6 0 9 0 6 0 39 0 15 0 15 0 3 0 3 0 6 0 30 0 9 0 3 0 3 0 6 0 9 0 9999"/><path d="M-480 499.9H486.01" stroke-dasharray="0 21 0 3 0 3 0 9 0 6 0 12 0 3 0 21 0 6 0 15 0 21 0 6 0 3 0 18 0 12 0 3 0 3 0 3 0 15 0 9 0 9 0 6 0 6 0 30 0 3 0 18 0 3 0 9 0 3 0 18 0 3 0 30 0 6 0 9 0 15 0 9 0 21 0 6 0 3 0 6 0 3 0 3 0 6 0 6 0 3 0 3 0 3 0 6 0 6 0 3 0 3 0 3 0 3 0 3 0 3 0 6 0 3 0 3 0 6 0 3 0 3 0 3 0 6 0 3 0 6 0 3 0 3 0 3 0 9 0 6 0 6 0 3 0 3 0 3 0 3 0 3 0 3 0 3 0 3 0 3 0 3 0 9 0 3 0 3 0 12 0 9 0 3 0 15 0 3 0 3 0 3 0 6 0 12 0 3 0 3 0 9 0 12 0 9 0 6 0 9 0 24 0 6 0 3 0 21 0 12 0 9 0 48 0 6 0 18 0 3 0 12 0 15 0 3 0 12 0 3 0 18 0 27 0 12 0 6 0 12 0 9999"/><path d="M-479 499.9H490.01" stroke-dasharray="0 9 0 18 0 21 0 3 0 3 0 3 0 6 0 6 0 15 0 6 0 9 0 15 0 6 0 3 0 30 0 9 0 6 0 6 0 12 0 15 0 18 0 9 0 9 0 3 0 6 0 3 0 6 0 24 0 6 0 3 0 9 0 9 0 6 0 3 0 3 0 9 0 3 0 12 0 6 0 3 0 3 0 12 0 9 0 3 0 12 0 3 0 3 0 3 0 6 0 6 0 3 0 3 0 3 0 3 0 6 0 3 0 6 0 12 0 3 0 3 0 3 0 3 0 3 0 3 0 3 0 3 0 6 0 6 0 9 0 3 0 3 0 3 0 3 0 6 0 3 0 6 0 3 0 3 0 6 0 3 0 3 0 3 0 3 0 3 0 3 0 3 0 3 0 6 0 6 0 3 0 3 0 3 0 18 0 3 0 9 0 3 0 6 0 21 0 6 0 21 0 12 0 3 0 6 0 9 0 18 0 9 0 3 0 45 0 3 0 6 0 15 0 21 0 3 0 12 0 12 0 6 0 30 0 12 0 9 0 6 0 18 0 6 0 12 0 9 0 9 0 9 0 9999"/><path d="M-459 499.9H464.01" stroke-dasharray="0 65 0 18 0 16 0 49 0 18 0 51 0 26 0 15 0 21 0 32 0 11 0 12 0 19 0 3 0 17 0 3 0 9 0 5 0 4 0 3 0 3 2 6 0 3 0 2 0 10 0 2 1 4 0 2 1 2 0 3 2 2 0 3 0 2 0 2 4 2 0 4 1 5 3 2 0 4 1 2 2 5 2 2 1 5 0 7 1 3 0 3 0 5 0 2 0 2 1 2 2 2 1 6 0 20 1 2 0 15 1 7 0 3 0 2 0 5 0 43 0 45 0 5 0 3 0 15 0 31 0 29 0 2 0 15 0 21 0 3 0 73 0 16 0 32 0 3 0 9999"/><path d="M-360 499.9H128.01" stroke-dasharray="0 144 0 147 0 4 0 3 0 4 1 6 0 3 0 2 0 17 0 3 0 2 0 7 0 3 0 2 0 4 0 8 1 5 0 3 0 6 0 14 1 19 0 5 0 2 0 5 0 2 0 30 0 18 0 17 0 9999"/><path d="M-490 496.05H488.01" stroke-dasharray="0 3 0 6 0 12 0 9 0 27 0 18 0 6 0 3 0 6 0 30 0 6 0 51 0 6 0 6 0 9 0 9 0 12 0 15 0 6 0 12 0 39 0 6 0 6 0 15 0 3 0 12 0 9 0 6 0 15 0 3 0 9 0 6 0 6 0 6 0 12 0 3 0 3 0 3 0 3 0 3 0 3 0 3 0 3 0 3 0 6 0 3 0 3 0 3 0 3 0 3 0 3 0 3 0 3 0 3 0 9 0 6 0 15 0 3 0 3 0 3 0 3 0 3 0 3 0 9 0 3 0 3 0 3 0 3 0 3 0 3 0 6 0 3 0 6 0 3 0 6 0 9 0 3 0 3 0 9 0 12 0 9 0 6 0 6 0 6 0 3 0 3 0 3 0 6 0 3 0 3 0 3 0 3 0 18 0 33 0 27 0 15 0 9 0 24 0 27 0 3 0 3 0 18 0 12 0 51 0 42 0 42 0 9999"/><path d="M-489 496.05H486.01" stroke-dasharray="0 3 0 3 0 12 0 18 0 6 0 6 0 9 0 12 0 21 0 30 0 21 0 39 0 18 0 3 0 6 0 6 0 18 0 3 0 6 0 6 0 15 0 18 0 24 0 3 0 15 0 36 0 24 0 3 0 6 0 3 0 15 0 3 0 3 0 3 0 3 0 3 0 6 0 3 0 3 0 6 0 3 0 6 0 3 0 3 0 3 0 3 0 3 0 6 0 3 0 6 0 3 0 3 0 6 0 3 0 3 0 3 0 3 0 3 0 3 0 3 0 3 0 3 0 3 0 3 0 3 0 3 0 3 0 3 0 3 0 3 0 3 0 3 0 6 0 3 0 3 0 3 0 6 0 3 0 21 0 3 0 3 0 6 0 3 0 6 0 3 0 6 0 3 0 3 0 9 0 9 0 12 0 3 0 15 0 6 0 9 0 9 0 18 0 36 0 6 0 6 0 9 0 48 0 3 0 6 0 12 0 30 0 15 0 15 0 3 0 24 0 3 0 6 0 3 0 3 0 3 0 24 0 9999"/><path d="M-479 496.05H460.01" stroke-dasharray="0 3 0 6 0 18 0 3 0 6 0 6 0 9 0 51 0 3 0 21 0 15 0 39 0 12 0 42 0 45 0 3 0 6 0 6 0 9 0 6 0 3 0 9 0 3 0 3 0 3 0 3 0 18 0 3 0 3 0 9 0 3 0 3 0 3 0 3 0 6 0 3 0 6 0 3 0 3 0 6 0 9 0 6 0 3 0 3 0 3 0 9 0 3 0 3 0 3 0 3 0 6 0 3 0 3 0 3 0 3 0 3 0 6 0 3 0 3 0 6 0 3 0 3 0 6 0 6 0 6 0 3 0 3 0 3 0 3 0 3 0 3 0 3 0 3 0 3 0 3 0 3 0 3 0 6 0 3 0 3 0 9 0 9 0 3 0 3 0 21 0 9 0 3 0 6 0 12 0 3 0 3 0 3 0 3 0 3 0 6 0 6 0 3 0 3 0 3 0 3 0 27 0 15 0 3 0 9 0 27 0 6 0 15 0 3 0 3 0 6 0 27 0 6 0 12 0 18 0 21 0 12 0 36 0 15 0 3 0 9999"/><path d="M-471 496.05H453.01" stroke-dasharray="0 18 0 47 0 29 0 122 0 12 0 95 0 35 0 5 1 4 0 4 0 7 0 6 0 3 0 5 0 9 0 2 1 2 0 7 0 5 0 2 2 5 0 3 0 2 0 6 0 2 0 2 1 2 2 3 0 2 0 2 0 2 0 4 0 4 0 3 1 5 1 2 0 4 1 2 2 5 3 4 0 3 0 3 4 2 6 2 0 4 1 2 2 2 0 2 0 8 0 13 0 2 0 6 0 14 0 2 0 3 0 3 0 8 1 5 0 6 0 9 0 10 0 2 0 6 1 12 0 13 0 31 0 8 0 65 0 10 0 19 0 129 1 6 0 9999"/><path d="M-113 496.05H152.01" stroke-dasharray="0 5 0 5 0 20 0 5 0 9 0 2 1 16 0 10 0 13 0 2 1 4 0 2 0 2 0 6 0 7 0 6 1 11 0 7 1 10 0 2 0 2 0 8 0 6 0 3 1 48 0 16 0 21 0 10 0 2 0 9999"/><path d="M-472 492.2H479.01" stroke-dasharray="0 27 0 6 0 6 0 21 0 12 0 15 0 9 0 9 0 12 0 3 0 6 0 15 0 3 0 15 0 21 0 3 0 3 0 12 0 21 0 18 0 6 0 9 0 15 0 9 0 9 0 12 0 15 0 15 0 3 0 12 0 9 0 15 0 3 0 6 0 3 0 9 0 3 0 9 0 6 0 3 0 3 0 3 0 3 0 3 0 3 0 3 0 3 0 9 0 3 0 3 0 9 0 3 0 3 0 3 0 3 0 3 0 9 0 3 0 3 0 6 0 3 0 3 0 3 0 3 0 6 0 9 0 9 0 3 0 3 0 6 0 6 0 3 0 9 0 6 0 3 0 3 0 6 0 15 0 12 0 9 0 15 0 18 0 27 0 9 0 3 0 3 0 18 0 54 0 6 0 36 0 24 0 15 0 3 0 6 0 3 0 3 0 3 0 12 0 21 0 3 0 3 0 6 0 12 0 6 0 9 0 21 0 3 0 9999"/><path d="M-489 492.2H483.01" stroke-dasharray="0 3 0 39 0 24 0 6 0 6 0 21 0 15 0 3 0 6 0 36 0 27 0 3 0 3 0 24 0 24 0 6 0 3 0 3 0 3 0 24 0 9 0 24 0 3 0 12 0 9 0 9 0 3 0 3 0 3 0 3 0 6 0 3 0 18 0 3 0 3 0 3 0 6 0 9 0 6 0 3 0 3 0 6 0 6 0 3 0 3 0 3 0 3 0 6 0 3 0 9 0 3 0 3 0 3 0 3 0 3 0 6 0 3 0 3 0 3 0 6 0 3 0 6 0 3 0 3 0 3 0 3 0 3 0 3 0 3 0 6 0 3 0 9 0 6 0 3 0 3 0 6 0 21 0 3 0 3 0 3 0 12 0 3 0 3 0 12 0 9 0 18 0 6 0 3 0 6 0 12 0 9 0 3 0 3 0 6 0 6 0 9 0 3 0 6 0 9 0 45 0 3 0 15 0 3 0 12 0 12 0 3 0 12 0 18 0 3 0 6 0 15 0 24 0 54 0 9 0 6 0 9999"/><path d="M-449 492.2H484.01" stroke-dasharray="0 3 0 27 0 3 0 15 0 9 0 3 0 3 0 9 0 3 0 18 0 9 0 3 0 21 0 9 0 6 0 15 0 30 0 3 0 3 0 27 0 21 0 51 0 24 0 3 0 9 0 3 0 6 0 15 0 3 0 6 0 3 0 9 0 3 0 3 0 3 0 3 0 3 0 3 0 3 0 3 0 3 0 6 0 3 0 6 0 3 0 3 0 3 0 3 0 6 0 3 0 3 0 6 0 6 0 6 0 3 0 6 0 3 0 3 0 3 0 3 0 3 0 6 0 3 0 9 0 6 0 3 0 3 0 12 0 6 0 3 0 3 0 9 0 6 0 6 0 9 0 3 0 3 0 6 0 21 0 6 0 3 0 6 0 9 0 3 0 15 0 3 0 9 0 12 0 6 0 60 0 12 0 9 0 6 0 21 0 3 0 9 0 3 0 6 0 24 0 3 0 6 0 24 0 6 0 15 0 3 0 18 0 6 0 3 0 3 0 3 0 15 0 3 0 3 0 9999"/><path d="M-472 492.2H454.01" stroke-dasharray="0 71 0 27 0 8 0 38 0 54 0 11 0 3 0 26 0 5 0 54 0 22 0 8 0 10 1 2 0 13 0 14 0 8 2 9 0 11 0 3 1 3 0 3 0 6 0 5 0 3 1 4 0 2 1 2 0 2 0 4 1 2 1 2 1 4 0 3 0 3 6 5 0 2 1 4 0 3 0 4 0 2 2 5 1 2 0 3 2 2 0 2 3 5 0 4 0 15 2 6 0 6 0 6 0 17 0 8 1 5 0 14 0 7 0 10 0 15 0 20 0 38 0 10 0 5 0 59 0 6 0 16 0 22 0 5 0 15 1 25 0 6 0 42 0 32 0 9999"/><path d="M-328 492.2H210.01" stroke-dasharray="0 175 0 56 1 24 0 7 0 14 0 16 1 5 0 8 0 3 0 3 0 3 0 7 0 8 0 6 1 6 0 6 0 6 0 3 0 5 0 27 0 38 0 5 0 31 0 73 0 9999"/><path d="M-469 488.36H479.01" stroke-dasharray="0 33 0 12 0 9 0 3 0 51 0 6 0 3 0 45 0 6 0 6 0 6 0 12 0 6 0 9 0 3 0 18 0 6 0 9 0 12 0 6 0 3 0 9 0 15 0 3 0 6 0 3 0 27 0 18 0 9 0 6 0 9 0 6 0 6 0 6 0 3 0 6 0 3 0 6 0 6 0 3 0 3 0 6 0 3 0 6 0 3 0 3 0 15 0 3 0 3 0 6 0 6 0 3 0 9 0 3 0 3 0 6 0 6 0 9 0 9 0 3 0 6 0 3 0 9 0 3 0 6 0 6 0 12 0 3 0 3 0 24 0 6 0 24 0 6 0 3 0 9 0 12 0 6 0 66 0 21 0 24 0 6 0 24 0 33 0 3 0 3 0 9 0 3 0 36 0 3 0 3 0 27 0 9 0 15 0 9999"/><path d="M-486 488.36H474.01" stroke-dasharray="0 45 0 9 0 18 0 12 0 6 0 12 0 9 0 3 0 9 0 6 0 9 0 15 0 45 0 3 0 6 0 18 0 9 0 3 0 12 0 42 0 3 0 12 0 24 0 18 0 3 0 3 0 6 0 3 0 18 0 21 0 12 0 3 0 3 0 3 0 3 0 12 0 3 0 3 0 9 0 9 0 6 0 3 0 3 0 9 0 3 0 3 0 6 0 3 0 3 0 3 0 3 0 6 0 3 0 3 0 3 0 3 0 3 0 12 0 3 0 3 0 3 0 3 0 27 0 3 0 3 0 3 0 3 0 3 0 15 0 9 0 15 0 6 0 3 0 6 0 21 0 15 0 3 0 21 0 33 0 3 0 9 0 30 0 18 0 15 0 6 0 9 0 6 0 9 0 6 0 6 0 3 0 30 0 3 0 12 0 9 0 12 0 18 0 15 0 9999"/><path d="M-482 488.36H484.01" stroke-dasharray="0 15 0 6 0 6 0 6 0 9 0 9 0 9 0 39 0 3 0 3 0 3 0 45 0 9 0 12 0 39 0 6 0 12 0 15 0 3 0 6 0 12 0 9 0 12 0 36 0 3 0 21 0 3 0 3 0 3 0 18 0 3 0 6 0 3 0 3 0 3 0 3 0 3 0 3 0 3 0 9 0 3 0 3 0 3 0 3 0 3 0 6 0 3 0 3 0 3 0 6 0 3 0 3 0 3 0 3 0 3 0 3 0 3 0 3 0 6 0 3 0 3 0 3 0 6 0 9 0 3 0 6 0 3 0 3 0 3 0 3 0 6 0 9 0 6 0 3 0 6 0 6 0 3 0 3 0 9 0 3 0 3 0 3 0 15 0 3 0 12 0 9 0 3 0 15 0 54 0 12 0 6 0 3 0 6 0 9 0 15 0 3 0 9 0 12 0 3 0 18 0 9 0 12 0 12 0 27 0 18 0 3 0 27 0 12 0 15 0 9 0 3 0 21 0 3 0 3 0 9999"/><path d="M-440 488.36H428.01" stroke-dasharray="0 18 0 42 0 47 0 62 0 30 0 5 0 42 0 60 0 3 0 5 0 21 0 10 0 3 0 8 1 4 0 6 0 5 0 2 2 4 2 6 0 5 1 2 0 6 0 4 2 3 0 3 0 2 0 4 0 3 0 4 0 5 0 6 0 2 0 4 1 4 0 3 3 10 0 5 1 5 0 3 4 7 0 3 1 3 1 5 1 2 1 12 1 5 1 7 1 7 0 2 0 29 0 103 0 54 0 16 0 63 0 6 0 34 0 14 0 6 0 9999"/><path d="M-134 488.36H428.01" stroke-dasharray="0 39 0 11 0 11 0 7 0 8 0 11 0 9 0 9 0 9 0 3 0 4 0 17 0 5 0 4 1 11 0 11 0 3 0 4 0 7 0 3 0 10 0 16 0 7 0 342 0 9999"/><path d="M-484 484.51H461.01" stroke-dasharray="0 12 0 3 0 24 0 6 0 9 0 9 0 21 0 51 0 18 0 6 0 24 0 39 0 21 0 9 0 24 0 51 0 9 0 15 0 3 0 3 0 24 0 9 0 15 0 9 0 3 0 3 0 6 0 6 0 3 0 3 0 6 0 3 0 3 0 3 0 6 0 6 0 3 0 3 0 6 0 9 0 3 0 3 0 3 0 6 0 3 0 3 0 3 0 3 0 3 0 3 0 3 0 3 0 3 0 3 0 3 0 9 0 3 0 3 0 15 0 21 0 3 0 12 0 6 0 6 0 18 0 9 0 15 0 3 0 3 0 9 0 9 0 12 0 3 0 3 0 21 0 12 0 33 0 3 0 3 0 9 0 9 0 3 0 6 0 12 0 6 0 3 0 51 0 12 0 3 0 27 0 9 0 6 0 9 0 6 0 6 0 9999"/><path d="M-480 484.51H468.01" stroke-dasharray="0 3 0 15 0 3 0 3 0 21 0 30 0 12 0 3 0 24 0 30 0 15 0 24 0 33 0 3 0 18 0 33 0 30 0 12 0 9 0 18 0 3 0 6 0 3 0 3 0 6 0 3 0 6 0 9 0 15 0 3 0 3 0 12 0 3 0 6 0 3 0 3 0 6 0 3 0 3 0 3 0 3 0 3 0 3 0 3 0 6 0 3 0 6 0 3 0 6 0 3 0 3 0 15 0 6 0 3 0 9 0 3 0 6 0 6 0 3 0 3 0 3 0 3 0 9 0 3 0 3 0 6 0 3 0 3 0 3 0 3 0 3 0 3 0 12 0 3 0 6 0 9 0 12 0 3 0 3 0 3 0 18 0 18 0 12 0 33 0 3 0 3 0 30 0 12 0 54 0 27 0 3 0 51 0 12 0 6 0 3 0 9 0 12 0 6 0 3 0 9999"/><path d="M-488 484.51H487.01" stroke-dasharray="0 3 0 3 0 9 0 18 0 18 0 3 0 6 0 6 0 15 0 6 0 54 0 18 0 9 0 3 0 6 0 3 0 6 0 9 0 12 0 3 0 6 0 3 0 27 0 3 0 21 0 15 0 6 0 6 0 6 0 12 0 33 0 3 0 15 0 9 0 6 0 3 0 3 0 6 0 12 0 3 0 3 0 3 0 6 0 3 0 3 0 3 0 12 0 3 0 3 0 6 0 6 0 3 0 6 0 3 0 3 0 6 0 3 0 6 0 9 0 3 0 6 0 6 0 3 0 3 0 6 0 3 0 3 0 3 0 3 0 3 0 3 0 3 0 3 0 3 0 3 0 6 0 9 0 6 0 6 0 6 0 15 0 6 0 3 0 3 0 3 0 3 0 12 0 3 0 12 0 3 0 3 0 12 0 12 0 9 0 3 0 12 0 12 0 3 0 24 0 24 0 3 0 18 0 6 0 54 0 12 0 30 0 12 0 39 0 3 0 9 0 3 0 3 0 3 0 15 0 9999"/><path d="M-488 484.51H435.01" stroke-dasharray="0 29 0 4 0 89 0 65 0 98 0 30 0 33 0 3 0 8 0 12 0 4 0 11 1 7 0 11 0 2 1 11 0 2 2 6 2 3 0 5 2 2 1 5 0 2 0 3 1 2 2 11 1 9 1 10 0 5 0 3 0 8 1 3 0 3 1 2 0 3 0 7 2 4 2 3 1 4 0 6 1 2 1 2 0 11 0 2 0 41 0 3 0 8 0 18 0 13 0 8 0 19 0 44 0 11 0 37 0 16 0 137 0 9999"/><path d="M-366 484.51H78.01" stroke-dasharray="0 264 0 22 0 15 0 6 0 2 0 8 0 5 0 11 0 2 1 12 1 25 0 3 0 8 0 7 0 6 0 7 0 6 0 6 0 27 0 9999"/><path d="M-490 480.66H485.01" stroke-dasharray="0 24 0 3 0 6 0 30 0 3 0 9 0 6 0 15 0 21 0 3 0 6 0 12 0 3 0 3 0 9 0 6 0 3 0 12 0 6 0 30 0 15 0 30 0 33 0 6 0 18 0 9 0 3 0 18 0 24 0 12 0 6 0 3 0 3 0 12 0 3 0 9 0 3 0 3 0 9 0 3 0 6 0 9 0 3 0 3 0 6 0 3 0 9 0 3 0 6 0 3 0 6 0 6 0 9 0 3 0 9 0 6 0 3 0 3 0 3 0 9 0 3 0 3 0 3 0 3 0 3 0 3 0 9 0 6 0 3 0 9 0 3 0 6 0 9 0 18 0 66 0 3 0 27 0 6 0 6 0 3 0 3 0 21 0 3 0 3 0 12 0 27 0 3 0 3 0 39 0 3 0 21 0 18 0 6 0 9 0 6 0 66 0 9999"/><path d="M-471 480.66H486.01" stroke-dasharray="0 3 0 9 0 6 0 3 0 6 0 12 0 30 0 6 0 30 0 18 0 27 0 12 0 6 0 30 0 12 0 12 0 9 0 3 0 3 0 36 0 12 0 3 0 12 0 18 0 6 0 15 0 12 0 3 0 6 0 6 0 3 0 9 0 18 0 3 0 3 0 3 0 3 0 3 0 3 0 3 0 3 0 3 0 3 0 3 0 6 0 3 0 3 0 3 0 3 0 6 0 3 0 3 0 3 0 3 0 3 0 3 0 15 0 3 0 3 0 6 0 3 0 3 0 3 0 3 0 3 0 3 0 3 0 3 0 3 0 3 0 3 0 3 0 6 0 3 0 6 0 3 0 6 0 9 0 12 0 15 0 3 0 6 0 3 0 9 0 3 0 3 0 3 0 18 0 12 0 12 0 6 0 33 0 39 0 27 0 33 0 33 0 27 0 15 0 6 0 27 0 18 0 3 0 3 0 15 0 3 0 3 0 9999"/><path d="M-485 480.66H490.01" stroke-dasharray="0 6 0 48 0 12 0 21 0 15 0 27 0 15 0 6 0 6 0 15 0 6 0 12 0 12 0 9 0 3 0 18 0 6 0 3 0 6 0 24 0 3 0 12 0 12 0 6 0 12 0 33 0 3 0 3 0 3 0 9 0 3 0 6 0 3 0 6 0 3 0 3 0 3 0 3 0 3 0 3 0 3 0 3 0 3 0 3 0 3 0 3 0 3 0 6 0 6 0 6 0 3 0 3 0 12 0 3 0 3 0 3 0 3 0 3 0 6 0 3 0 3 0 3 0 9 0 3 0 3 0 6 0 3 0 3 0 9 0 3 0 3 0 3 0 3 0 9 0 3 0 6 0 21 0 12 0 36 0 3 0 3 0 3 0 15 0 15 0 3 0 6 0 39 0 30 0 18 0 6 0 6 0 6 0 12 0 21 0 33 0 30 0 6 0 6 0 21 0 33 0 36 0 9999"/><path d="M-415 480.66H400.01" stroke-dasharray="0 32 0 19 0 18 0 30 0 20 0 48 0 3 0 5 0 28 0 14 0 70 0 17 0 10 1 2 0 3 0 2 0 13 0 4 1 3 0 3 1 6 0 2 0 2 0 10 0 3 1 3 1 13 0 3 0 4 0 2 4 7 2 2 0 2 0 5 0 9 0 2 0 3 0 8 0 2 0 2 0 5 0 3 0 2 0 6 0 3 1 2 0 7 2 4 0 3 0 2 0 2 0 14 1 4 0 12 0 10 0 26 0 8 0 80 0 29 0 10 0 51 0 39 0 37 0 7 0 9999"/><path d="M-98 480.66H61.01" stroke-dasharray="0 29 0 7 0 4 0 10 0 7 0 24 0 2 0 9 1 2 0 21 0 8 0 4 0 16 0 15 0 9999"/><path d="M-487 476.82H407.01" stroke-dasharray="0 27 0 12 0 24 0 3 0 24 0 12 0 45 0 54 0 3 0 27 0 3 0 12 0 12 0 6 0 45 0 3 0 15 0 21 0 3 0 3 0 9 0 3 0 3 0 6 0 3 0 9 0 3 0 3 0 3 0 3 0 3 0 12 0 6 0 3 0 6 0 6 0 3 0 3 0 3 0 3 0 6 0 3 0 3 0 6 0 6 0 3 0 3 0 9 0 3 0 3 0 3 0 3 0 6 0 3 0 3 0 3 0 15 0 3 0 3 0 3 0 3 0 6 0 3 0 3 0 12 0 3 0 9 0 9 0 6 0 3 0 3 0 6 0 3 0 45 0 27 0 18 0 15 0 3 0 12 0 21 0 36 0 12 0 3 0 30 0 3 0 6 0 24 0 6 0 9 0 18 0 9999"/><path d="M-435 476.82H468.01" stroke-dasharray="0 57 0 6 0 15 0 39 0 30 0 18 0 36 0 6 0 6 0 3 0 48 0 6 0 6 0 3 0 3 0 6 0 3 0 6 0 12 0 21 0 6 0 15 0 3 0 6 0 15 0 6 0 3 0 3 0 3 0 3 0 9 0 6 0 9 0 3 0 3 0 3 0 3 0 3 0 6 0 3 0 3 0 12 0 12 0 3 0 3 0 3 0 3 0 6 0 3 0 6 0 3 0 9 0 3 0 18 0 3 0 6 0 12 0 6 0 3 0 3 0 3 0 15 0 9 0 15 0 9 0 15 0 12 0 9 0 15 0 3 0 6 0 15 0 15 0 3 0 15 0 9 0 12 0 24 0 12 0 15 0 6 0 6 0 3 0 18 0 15 0 6 0 6 0 45 0 6 0 9999"/><path d="M-464 476.82H478.01" stroke-dasharray="0 78 0 39 0 6 0 24 0 12 0 27 0 9 0 24 0 12 0 30 0 24 0 3 0 12 0 9 0 6 0 15 0 6 0 6 0 9 0 3 0 3 0 6 0 3 0 3 0 12 0 3 0 6 0 3 0 3 0 3 0 3 0 6 0 3 0 3 0 3 0 3 0 6 0 3 0 3 0 3 0 9 0 3 0 3 0 3 0 3 0 3 0 3 0 3 0 3 0 9 0 3 0 3 0 3 0 3 0 6 0 3 0 3 0 3 0 12 0 3 0 6 0 3 0 3 0 3 0 3 0 3 0 12 0 9 0 3 0 6 0 33 0 3 0 3 0 9 0 3 0 6 0 3 0 21 0 6 0 27 0 30 0 45 0 3 0 12 0 15 0 9 0 6 0 15 0 3 0 30 0 3 0 9 0 3 0 9 0 6 0 12 0 15 0 6 0 27 0 9999"/><path d="M-378 476.82H411.01" stroke-dasharray="0 21 0 181 0 23 0 6 0 3 0 6 0 12 0 2 0 6 0 6 0 3 0 4 0 4 0 2 1 3 1 6 0 3 0 10 2 8 1 2 0 6 0 4 0 2 2 4 0 2 0 4 0 5 1 5 0 13 3 3 0 3 0 4 0 2 1 2 0 4 0 3 0 5 0 3 1 2 1 2 0 6 0 8 0 11 0 2 0 2 1 5 2 3 0 2 0 3 0 6 1 11 0 5 0 9 0 2 0 2 0 4 0 4 0 28 0 11 0 11 0 23 0 153 0 63 0 2 0 2 0 4 0 9999"/><path d="M-153 476.82H142.01" stroke-dasharray="0 15 0 20 0 9 0 8 0 27 0 9 0 13 0 2 0 8 0 30 0 7 0 6 1 17 0 12 0 23 1 7 0 31 0 49 0 9999"/><path d="M-490 472.97H482.01" stroke-dasharray="0 3 0 24 0 42 0 21 0 9 0 27 0 24 0 27 0 72 0 9 0 3 0 3 0 27 0 42 0 3 0 9 0 9 0 6 0 6 0 6 0 3 0 18 0 9 0 3 0 6 0 3 0 3 0 3 0 3 0 18 0 3 0 6 0 3 0 9 0 3 0 3 0 3 0 9 0 3 0 6 0 12 0 3 0 6 0 6 0 3 0 3 0 6 0 12 0 3 0 3 0 12 0 6 0 6 0 3 0 3 0 3 0 3 0 6 0 3 0 3 0 18 0 3 0 3 0 6 0 15 0 9 0 42 0 6 0 3 0 21 0 15 0 42 0 6 0 12 0 33 0 3 0 12 0 15 0 3 0 15 0 18 0 21 0 30 0 9 0 18 0 9999"/><path d="M-486 472.97H486.01" stroke-dasharray="0 3 0 9 0 33 0 33 0 24 0 12 0 3 0 6 0 15 0 9 0 18 0 42 0 3 0 9 0 12 0 15 0 12 0 39 0 18 0 3 0 12 0 3 0 24 0 12 0 9 0 15 0 3 0 15 0 6 0 3 0 6 0 3 0 3 0 3 0 3 0 3 0 6 0 6 0 3 0 6 0 3 0 3 0 3 0 3 0 6 0 3 0 3 0 6 0 3 0 3 0 6 0 3 0 3 0 9 0 6 0 6 0 6 0 6 0 18 0 6 0 3 0 6 0 6 0 6 0 3 0 9 0 24 0 27 0 9 0 66 0 9 0 6 0 9 0 30 0 6 0 3 0 9 0 66 0 6 0 12 0 36 0 24 0 3 0 9 0 15 0 3 0 9999"/><path d="M-479 472.97H490.01" stroke-dasharray="0 3 0 9 0 6 0 6 0 24 0 24 0 9 0 18 0 3 0 3 0 3 0 21 0 3 0 9 0 21 0 3 0 9 0 12 0 3 0 6 0 36 0 18 0 18 0 3 0 24 0 21 0 9 0 9 0 9 0 9 0 12 0 3 0 6 0 3 0 6 0 3 0 3 0 12 0 6 0 6 0 3 0 6 0 9 0 9 0 3 0 6 0 3 0 3 0 3 0 3 0 6 0 3 0 3 0 3 0 3 0 3 0 9 0 6 0 3 0 6 0 3 0 3 0 3 0 18 0 6 0 3 0 3 0 3 0 3 0 3 0 6 0 3 0 3 0 3 0 15 0 18 0 6 0 3 0 15 0 3 0 6 0 21 0 6 0 12 0 15 0 6 0 24 0 18 0 63 0 9 0 6 0 54 0 6 0 15 0 12 0 3 0 6 0 18 0 36 0 6 0 9999"/><path d="M-490 472.97H486.01" stroke-dasharray="0 3 0 4 0 83 0 26 0 61 0 104 0 55 1 8 0 9 0 23 0 5 0 10 0 29 0 10 0 8 0 5 1 5 0 2 1 4 1 4 0 4 0 2 0 16 0 3 3 6 0 3 1 6 0 2 0 2 0 5 0 4 0 3 2 5 0 11 1 17 0 5 0 2 0 5 0 4 0 5 1 2 0 6 0 4 0 26 0 21 0 16 0 28 0 7 0 112 0 26 0 71 0 50 0 24 0 3 0 9999"/><path d="M-374 472.97H149.01" stroke-dasharray="0 220 0 41 0 5 0 62 0 8 0 6 0 30 1 17 0 2 0 7 0 8 0 35 0 22 0 38 0 21 0 9999"/><path d="M-484 469.12H488.01" stroke-dasharray="0 15 0 21 0 24 0 6 0 3 0 9 0 15 0 30 0 6 0 27 0 3 0 18 0 6 0 6 0 15 0 18 0 15 0 15 0 9 0 9 0 12 0 24 0 3 0 18 0 36 0 3 0 3 0 3 0 3 0 3 0 6 0 3 0 3 0 3 0 6 0 12 0 3 0 18 0 3 0 3 0 3 0 3 0 6 0 9 0 3 0 6 0 3 0 3 0 3 0 3 0 3 0 3 0 3 0 3 0 6 0 6 0 3 0 3 0 6 0 3 0 3 0 3 0 6 0 3 0 3 0 3 0 6 0 6 0 3 0 6 0 15 0 6 0 6 0 3 0 12 0 3 0 3 0 3 0 6 0 9 0 12 0 3 0 21 0 3 0 36 0 51 0 30 0 12 0 6 0 18 0 3 0 12 0 21 0 3 0 6 0 9 0 3 0 6 0 9 0 9 0 57 0 6 0 9 0 9999"/><path d="M-486 469.12H480.01" stroke-dasharray="0 12 0 6 0 66 0 45 0 72 0 24 0 9 0 6 0 42 0 6 0 24 0 42 0 12 0 3 0 9 0 3 0 18 0 3 0 9 0 12 0 6 0 3 0 6 0 3 0 6 0 3 0 3 0 6 0 6 0 3 0 6 0 3 0 3 0 3 0 3 0 6 0 3 0 3 0 6 0 12 0 3 0 3 0 6 0 3 0 3 0 3 0 3 0 3 0 6 0 6 0 3 0 9 0 3 0 3 0 6 0 6 0 42 0 3 0 6 0 3 0 12 0 6 0 9 0 3 0 48 0 3 0 42 0 6 0 3 0 33 0 9 0 30 0 6 0 12 0 48 0 27 0 15 0 6 0 9 0 9999"/><path d="M-485 469.12H445.01" stroke-dasharray="0 21 0 3 0 6 0 9 0 3 0 42 0 21 0 27 0 39 0 18 0 21 0 24 0 6 0 9 0 3 0 9 0 15 0 9 0 18 0 6 0 15 0 18 0 21 0 3 0 3 0 3 0 6 0 24 0 6 0 3 0 3 0 6 0 3 0 3 0 6 0 3 0 3 0 3 0 9 0 6 0 3 0 6 0 9 0 9 0 3 0 3 0 3 0 3 0 3 0 3 0 3 0 3 0 3 0 3 0 3 0 9 0 9 0 9 0 3 0 3 0 6 0 3 0 12 0 3 0 9 0 3 0 24 0 3 0 3 0 3 0 21 0 9 0 78 0 3 0 9 0 6 0 18 0 9 0 57 0 3 0 75 0 21 0 3 0 9999"/><path d="M-446 469.12H407.01" stroke-dasharray="0 28 0 3 0 101 0 34 0 48 0 18 0 95 1 6 0 3 1 14 0 7 0 10 0 7 0 7 1 9 1 2 0 6 0 5 0 4 0 8 0 2 0 5 0 7 0 2 1 3 1 4 0 4 0 2 0 2 0 2 0 4 1 5 1 4 0 5 0 7 0 3 0 2 0 5 0 2 1 13 0 10 0 2 0 4 0 7 1 2 1 10 0 6 0 3 0 48 0 79 0 35 0 8 0 69 0 61 0 9999"/><path d="M-118 469.12H88.01" stroke-dasharray="0 24 0 17 0 27 0 11 0 12 0 2 0 18 1 8 0 6 0 4 0 23 0 52 1 9999"/><path d="M-463 465.28H470.01" stroke-dasharray="0 66 0 3 0 3 0 30 0 9 0 18 0 18 0 81 0 3 0 21 0 9 0 15 0 9 0 18 0 6 0 9 0 12 0 24 0 3 0 6 0 3 0 12 0 6 0 3 0 15 0 9 0 6 0 3 0 3 0 3 0 3 0 3 0 6 0 3 0 6 0 6 0 6 0 3 0 3 0 3 0 3 0 6 0 6 0 3 0 6 0 3 0 12 0 3 0 9 0 3 0 3 0 3 0 3 0 3 0 24 0 3 0 3 0 6 0 6 0 15 0 3 0 3 0 9 0 15 0 21 0 30 0 15 0 15 0 12 0 36 0 12 0 42 0 3 0 6 0 3 0 18 0 3 0 3 0 12 0 15 0 45 0 21 0 9999"/><path d="M-489 465.28H486.01" stroke-dasharray="0 24 0 36 0 24 0 9 0 33 0 21 0 27 0 30 0 18 0 9 0 9 0 3 0 18 0 6 0 6 0 27 0 27 0 3 0 6 0 3 0 3 0 3 0 12 0 21 0 9 0 3 0 6 0 9 0 12 0 9 0 9 0 9 0 3 0 3 0 3 0 6 0 3 0 6 0 3 0 3 0 3 0 3 0 3 0 3 0 3 0 3 0 3 0 3 0 9 0 6 0 3 0 3 0 3 0 6 0 9 0 3 0 3 0 12 0 18 0 15 0 6 0 3 0 9 0 18 0 27 0 27 0 6 0 3 0 3 0 24 0 24 0 48 0 21 0 6 0 54 0 39 0 3 0 3 0 63 0 9999"/><path d="M-485 465.28H439.01" stroke-dasharray="0 33 0 12 0 12 0 3 0 6 0 12 0 9 0 3 0 33 0 75 0 3 0 6 0 12 0 3 0 57 0 9 0 9 0 24 0 30 0 3 0 9 0 9 0 3 0 3 0 6 0 3 0 6 0 3 0 3 0 3 0 3 0 15 0 3 0 18 0 3 0 3 0 9 0 6 0 6 0 3 0 9 0 3 0 9 0 3 0 3 0 3 0 3 0 3 0 3 0 3 0 3 0 3 0 3 0 3 0 6 0 6 0 3 0 6 0 15 0 3 0 24 0 3 0 9 0 12 0 21 0 12 0 39 0 9 0 78 0 3 0 15 0 3 0 15 0 18 0 6 0 27 0 18 0 21 0 21 0 6 0 9999"/><path d="M-405 465.28H433.01" stroke-dasharray="0 10 1 79 0 118 0 8 0 35 0 47 1 9 0 8 0 3 0 21 0 2 0 9 0 2 0 9 2 2 3 2 0 7 0 4 0 6 0 2 0 3 0 3 0 3 0 4 0 2 0 2 1 2 1 2 0 5 0 5 0 4 1 7 1 2 1 3 0 7 0 8 0 14 0 13 0 26 0 8 0 2 0 28 0 19 0 36 0 106 0 73 0 14 0 42 0 9999"/><path d="M-42 465.28H377.01" stroke-dasharray="1 4 0 20 0 2 0 3 0 18 0 7 0 5 0 4 0 8 0 347 0 9999"/><path d="M-448 461.43H479.01" stroke-dasharray="0 9 0 39 0 15 0 30 0 6 0 12 0 24 0 3 0 6 0 15 0 15 0 18 0 54 0 15 0 3 0 54 0 15 0 3 0 9 0 9 0 3 0 3 0 3 0 3 0 3 0 3 0 6 0 3 0 9 0 3 0 6 0 3 0 3 0 6 0 3 0 3 0 3 0 3 0 3 0 6 0 6 0 3 0 3 0 3 0 6 0 3 0 3 0 3 0 9 0 3 0 6 0 3 0 3 0 9 0 3 0 9 0 15 0 3 0 3 0 3 0 3 0 3 0 3 0 6 0 24 0 12 0 15 0 24 0 30 0 15 0 6 0 27 0 27 0 6 0 12 0 39 0 24 0 9 0 21 0 15 0 18 0 3 0 6 0 18 0 18 0 6 0 6 0 9999"/><path d="M-480 461.43H486.01" stroke-dasharray="0 21 0 6 0 30 0 63 0 27 0 33 0 3 0 24 0 3 0 42 0 33 0 3 0 42 0 6 0 21 0 9 0 3 0 6 0 3 0 3 0 3 0 6 0 6 0 9 0 9 0 6 0 3 0 3 0 3 0 9 0 6 0 3 0 3 0 3 0 3 0 3 0 3 0 3 0 6 0 3 0 6 0 3 0 3 0 3 0 3 0 3 0 9 0 6 0 6 0 3 0 3 0 3 0 3 0 12 0 12 0 12 0 3 0 12 0 6 0 15 0 9 0 6 0 3 0 48 0 69 0 21 0 15 0 96 0 27 0 9 0 6 0 48 0 9 0 9999"/><path d="M-452 461.43H457.01" stroke-dasharray="0 12 0 54 0 45 0 9 0 3 0 27 0 3 0 12 0 108 0 9 0 15 0 3 0 3 0 3 0 30 0 18 0 9 0 6 0 6 0 9 0 3 0 3 0 3 0 9 0 3 0 3 0 3 0 9 0 3 0 3 0 3 0 3 0 3 0 3 0 3 0 3 0 3 0 6 0 3 0 3 0 6 0 3 0 3 0 3 0 3 0 6 0 3 0 3 0 3 0 6 0 3 0 6 0 6 0 6 0 3 0 6 0 3 0 18 0 3 0 3 0 6 0 3 0 9 0 3 0 3 0 21 0 15 0 54 0 24 0 66 0 42 0 24 0 6 0 3 0 9 0 3 0 3 0 9 0 27 0 18 0 6 0 9999"/><path d="M-452 461.43H397.01" stroke-dasharray="0 4 0 246 0 10 0 37 0 9 0 30 1 12 1 3 0 3 0 8 0 5 0 18 0 3 0 5 0 3 0 4 0 4 0 4 0 8 2 3 1 2 1 4 0 4 1 2 0 4 0 2 0 2 0 2 0 5 0 2 1 5 0 7 0 10 0 4 0 2 0 4 0 4 0 2 0 8 0 17 0 10 0 15 0 5 0 12 0 3 0 22 0 107 0 148 0 8 0 9999"/><path d="M-102 461.43H397.01" stroke-dasharray="0 68 0 2 0 6 0 16 0 6 0 8 0 32 0 4 0 10 0 17 0 30 0 300 0 9999"/><path d="M-484 457.58H464.01" stroke-dasharray="0 12 0 36 0 3 0 21 0 36 0 30 0 24 0 3 0 39 0 39 0 6 0 72 0 12 0 9 0 3 0 6 0 9 0 9 0 21 0 3 0 3 0 3 0 3 0 6 0 3 0 3 0 9 0 3 0 6 0 3 0 3 0 3 0 3 0 3 0 3 0 6 0 12 0 3 0 12 0 6 0 3 0 3 0 3 0 3 0 3 0 3 0 3 0 3 0 3 0 6 0 3 0 15 0 9 0 3 0 3 0 3 0 9 0 3 0 3 0 3 0 6 0 6 0 3 0 3 0 3 0 12 0 3 0 3 0 12 0 6 0 3 0 9 0 12 0 24 0 15 0 63 0 18 0 33 0 12 0 3 0 15 0 51 0 18 0 15 0 3 0 9 0 12 0 9999"/><path d="M-471 457.58H489.01" stroke-dasharray="0 9 0 39 0 18 0 36 0 24 0 21 0 15 0 6 0 36 0 3 0 21 0 9 0 27 0 6 0 6 0 9 0 30 0 6 0 12 0 9 0 18 0 9 0 3 0 9 0 21 0 3 0 3 0 3 0 3 0 3 0 3 0 6 0 3 0 3 0 6 0 12 0 3 0 3 0 6 0 6 0 3 0 12 0 3 0 3 0 3 0 6 0 3 0 3 0 12 0 3 0 6 0 3 0 3 0 3 0 6 0 6 0 6 0 3 0 9 0 3 0 6 0 24 0 3 0 3 0 12 0 6 0 15 0 6 0 27 0 42 0 21 0 3 0 18 0 9 0 6 0 18 0 6 0 21 0 15 0 9 0 15 0 63 0 12 0 18 0 6 0 9 0 9999"/><path d="M-464 457.58H466.01" stroke-dasharray="0 42 0 18 0 48 0 21 0 33 0 9 0 12 0 30 0 6 0 9 0 6 0 3 0 6 0 18 0 3 0 18 0 54 0 3 0 3 0 3 0 15 0 6 0 9 0 3 0 12 0 3 0 3 0 6 0 6 0 3 0 6 0 3 0 9 0 6 0 9 0 3 0 9 0 3 0 9 0 6 0 12 0 6 0 6 0 3 0 3 0 6 0 3 0 6 0 3 0 3 0 3 0 6 0 3 0 6 0 18 0 12 0 18 0 3 0 9 0 3 0 6 0 21 0 6 0 63 0 6 0 33 0 15 0 15 0 45 0 9 0 42 0 15 0 18 0 12 0 9 0 9 0 9999"/><path d="M-433 457.58H357.01" stroke-dasharray="0 98 0 32 0 10 0 63 0 106 0 2 0 11 0 13 0 9 0 15 1 4 0 11 0 9 0 2 1 3 0 3 0 5 0 2 0 4 1 13 0 6 1 3 0 4 0 9 0 2 0 2 0 8 1 5 2 4 0 2 0 7 0 5 0 3 0 11 0 5 0 4 1 9 0 2 0 5 0 3 0 15 0 23 0 3 0 12 0 56 0 143 0 16 0 9999"/><path d="M-124 457.58H127.01" stroke-dasharray="0 26 0 29 0 34 0 30 0 17 0 16 0 99 0 9999"/><path d="M-466 453.74H455.01" stroke-dasharray="0 27 0 15 0 9 0 27 0 18 0 6 0 12 0 24 0 12 0 18 0 6 0 33 0 6 0 3 0 3 0 45 0 66 0 15 0 9 0 3 0 6 0 3 0 3 0 3 0 6 0 3 0 9 0 9 0 6 0 3 0 6 0 6 0 3 0 6 0 3 0 3 0 9 0 3 0 3 0 6 0 6 0 3 0 6 0 3 0 3 0 3 0 3 0 3 0 3 0 3 0 6 0 6 0 3 0 3 0 3 0 3 0 9 0 24 0 9 0 6 0 21 0 9 0 12 0 6 0 18 0 3 0 18 0 24 0 93 0 18 0 30 0 3 0 18 0 3 0 3 0 54 0 12 0 12 0 9999"/><path d="M-462 453.74H471.01" stroke-dasharray="0 21 0 15 0 6 0 42 0 9 0 105 0 24 0 24 0 39 0 15 0 33 0 12 0 6 0 6 0 9 0 3 0 6 0 3 0 3 0 3 0 3 0 12 0 6 0 3 0 6 0 12 0 3 0 6 0 6 0 3 0 3 0 3 0 6 0 3 0 12 0 3 0 3 0 6 0 6 0 3 0 3 0 12 0 3 0 3 0 12 0 3 0 3 0 9 0 3 0 3 0 6 0 3 0 3 0 3 0 3 0 6 0 3 0 3 0 6 0 12 0 3 0 15 0 6 0 30 0 3 0 51 0 24 0 39 0 15 0 69 0 6 0 6 0 15 0 12 0 9 0 9 0 9 0 6 0 12 0 9999"/><path d="M-455 453.74H469.01" stroke-dasharray="0 60 0 6 0 33 0 3 0 9 0 21 0 21 0 24 0 48 0 33 0 21 0 33 0 6 0 6 0 3 0 24 0 6 0 9 0 3 0 9 0 3 0 6 0 3 0 3 0 3 0 15 0 3 0 3 0 3 0 12 0 3 0 6 0 9 0 3 0 12 0 3 0 3 0 3 0 6 0 6 0 9 0 3 0 3 0 6 0 6 0 6 0 3 0 15 0 6 0 6 0 6 0 12 0 27 0 33 0 21 0 45 0 3 0 6 0 18 0 6 0 12 0 3 0 9 0 6 0 9 0 33 0 9 0 6 0 39 0 9 0 39 0 24 0 9999"/><path d="M-388 453.74H455.01" stroke-dasharray="0 18 0 26 0 66 0 76 0 99 0 3 0 3 1 2 1 15 0 10 1 4 1 4 0 6 0 4 0 2 0 2 0 11 0 2 0 9 1 2 0 3 2 2 0 2 0 7 2 9 0 2 1 2 0 2 0 5 0 10 2 6 0 2 0 3 0 2 2 4 1 6 1 7 1 26 0 5 0 10 0 77 0 158 0 10 0 46 0 56 0 9999"/><path d="M-93 453.74H98.01" stroke-dasharray="0 31 0 14 0 2 0 15 0 12 0 4 0 23 0 7 0 25 0 5 1 6 0 46 0 9999"/><path d="M-490 449.89H482.01" stroke-dasharray="0 33 0 6 0 21 0 42 0 39 0 24 0 27 0 36 0 18 0 6 0 36 0 3 0 12 0 12 0 30 0 3 0 12 0 6 0 6 0 3 0 3 0 15 0 3 0 33 0 3 0 3 0 3 0 3 0 3 0 3 0 3 0 3 0 6 0 3 0 3 0 15 0 6 0 3 0 9 0 9 0 9 0 3 0 6 0 6 0 3 0 3 0 9 0 3 0 3 0 6 0 6 0 24 0 6 0 6 0 18 0 6 0 3 0 15 0 9 0 18 0 3 0 18 0 3 0 63 0 18 0 39 0 18 0 9 0 12 0 15 0 6 0 51 0 6 0 27 0 12 0 3 0 9999"/><path d="M-456 449.89H471.01" stroke-dasharray="0 30 0 15 0 3 0 36 0 12 0 6 0 15 0 60 0 60 0 3 0 30 0 9 0 39 0 24 0 9 0 3 0 6 0 3 0 3 0 9 0 6 0 3 0 9 0 6 0 3 0 3 0 18 0 6 0 9 0 3 0 3 0 6 0 3 0 3 0 6 0 3 0 3 0 3 0 6 0 6 0 6 0 3 0 3 0 12 0 3 0 3 0 21 0 3 0 3 0 9 0 6 0 12 0 6 0 18 0 18 0 48 0 3 0 9 0 9 0 51 0 93 0 27 0 6 0 12 0 12 0 36 0 6 0 6 0 9999"/><path d="M-467 449.89H487.01" stroke-dasharray="0 36 0 9 0 3 0 48 0 57 0 39 0 6 0 9 0 45 0 3 0 18 0 42 0 12 0 3 0 24 0 3 0 6 0 12 0 15 0 6 0 3 0 6 0 6 0 3 0 9 0 3 0 3 0 6 0 15 0 3 0 6 0 6 0 3 0 6 0 3 0 9 0 3 0 6 0 3 0 3 0 12 0 3 0 3 0 3 0 3 0 9 0 3 0 33 0 6 0 3 0 6 0 3 0 9 0 12 0 12 0 12 0 6 0 18 0 30 0 51 0 9 0 24 0 18 0 6 0 3 0 30 0 15 0 6 0 6 0 15 0 3 0 15 0 3 0 36 0 27 0 9999"/><path d="M-411 449.89H411.01" stroke-dasharray="0 40 0 111 0 48 0 67 0 3 0 24 0 3 0 19 0 6 0 18 1 9 1 9 1 8 0 5 0 6 1 21 0 7 1 3 0 6 0 2 1 2 0 5 0 2 0 7 0 2 0 3 0 3 0 5 0 5 0 2 0 8 1 4 0 8 0 7 0 24 1 54 0 26 0 162 0 70 0 9999"/><path d="M-115 449.89H179.01" stroke-dasharray="0 44 0 40 0 38 0 2 0 8 0 42 0 120 0 9999"/><path d="M-409 446.04H485.01" stroke-dasharray="0 75 0 48 0 30 0 6 0 39 0 12 0 9 0 36 0 24 0 3 0 24 0 3 0 6 0 9 0 12 0 6 0 3 0 3 0 3 0 6 0 3 0 3 0 3 0 3 0 3 0 6 0 6 0 3 0 3 0 3 0 3 0 9 0 3 0 3 0 3 0 3 0 3 0 3 0 3 0 9 0 6 0 3 0 12 0 3 0 3 0 6 0 3 0 3 0 3 0 3 0 6 0 3 0 6 0 6 0 3 0 3 0 3 0 18 0 3 0 6 0 9 0 6 0 6 0 3 0 51 0 27 0 9 0 3 0 9 0 15 0 9 0 3 0 27 0 3 0 36 0 45 0 84 0 12 0 9999"/><path d="M-486 446.04H468.01" stroke-dasharray="0 15 0 45 0 63 0 12 0 15 0 12 0 15 0 33 0 48 0 15 0 9 0 33 0 3 0 6 0 18 0 3 0 18 0 6 0 6 0 9 0 39 0 3 0 3 0 9 0 6 0 6 0 3 0 3 0 3 0 6 0 3 0 9 0 12 0 6 0 3 0 6 0 3 0 3 0 3 0 3 0 6 0 6 0 3 0 9 0 3 0 15 0 6 0 3 0 9 0 18 0 3 0 3 0 15 0 21 0 9 0 9 0 3 0 6 0 6 0 27 0 30 0 15 0 12 0 39 0 27 0 12 0 36 0 12 0 45 0 6 0 9 0 15 0 9999"/><path d="M-440 446.04H478.01" stroke-dasharray="0 30 0 66 0 6 0 57 0 9 0 15 0 30 0 12 0 36 0 30 0 12 0 30 0 3 0 3 0 6 0 6 0 15 0 3 0 3 0 3 0 3 0 3 0 12 0 3 0 3 0 6 0 15 0 3 0 6 0 6 0 6 0 3 0 3 0 3 0 3 0 15 0 9 0 9 0 3 0 12 0 15 0 3 0 6 0 12 0 3 0 3 0 24 0 60 0 78 0 9 0 18 0 60 0 27 0 99 0 9999"/><path d="M-344 446.04H453.01" stroke-dasharray="0 88 0 41 0 115 0 27 0 11 1 2 2 8 0 3 0 2 3 19 0 6 0 15 0 5 1 3 0 9 0 9 0 4 0 15 1 3 0 8 0 2 0 2 0 4 0 11 0 3 0 7 0 12 0 3 0 164 0 188 0 9999"/><path d="M-58 446.04H265.01" stroke-dasharray="0 15 0 21 0 6 0 15 0 5 0 22 0 20 0 11 0 8 0 200 0 9999"/><path d="M-490 442.2H479.01" stroke-dasharray="0 42 0 87 0 30 0 6 0 9 0 132 0 30 0 39 0 12 0 15 0 24 0 12 0 6 0 6 0 6 0 3 0 9 0 3 0 6 0 6 0 3 0 3 0 3 0 3 0 3 0 6 0 3 0 6 0 6 0 12 0 6 0 3 0 3 0 9 0 3 0 6 0 6 0 24 0 15 0 9 0 24 0 9 0 12 0 6 0 27 0 3 0 33 0 21 0 108 0 27 0 12 0 18 0 21 0 18 0 15 0 9999"/><path d="M-456 442.2H453.01" stroke-dasharray="0 9 0 18 0 51 0 123 0 81 0 36 0 15 0 27 0 3 0 3 0 9 0 12 0 9 0 3 0 6 0 6 0 15 0 6 0 6 0 3 0 6 0 3 0 6 0 3 0 6 0 3 0 3 0 6 0 3 0 3 0 6 0 6 0 6 0 6 0 3 0 3 0 6 0 3 0 3 0 6 0 3 0 3 0 3 0 6 0 3 0 3 0 15 0 6 0 6 0 15 0 6 0 6 0 3 0 9 0 66 0 3 0 21 0 3 0 15 0 15 0 33 0 18 0 24 0 33 0 27 0 3 0 6 0 24 0 9999"/><path d="M-422 442.2H466.01" stroke-dasharray="0 3 0 18 0 33 0 45 0 51 0 60 0 24 0 6 0 42 0 9 0 18 0 6 0 15 0 3 0 6 0 3 0 3 0 18 0 3 0 6 0 3 0 3 0 3 0 3 0 3 0 6 0 3 0 3 0 3 0 3 0 6 0 6 0 3 0 6 0 3 0 15 0 9 0 3 0 6 0 9 0 6 0 6 0 6 0 3 0 3 0 3 0 6 0 15 0 6 0 9 0 18 0 6 0 12 0 6 0 3 0 15 0 12 0 12 0 6 0 15 0 33 0 63 0 39 0 24 0 6 0 30 0 3 0 33 0 18 0 9999"/><path d="M-115 442.2H466.01" stroke-dasharray="0 8 0 15 0 23 0 13 0 4 0 5 0 3 0 9 1 4 0 7 0 3 0 3 0 2 0 2 0 4 0 2 2 3 1 23 0 2 0 10 0 11 0 4 0 8 0 4 0 4 1 15 0 9 0 3 0 8 0 56 0 27 0 76 0 53 0 94 0 59 0 9999"/><path d="M-69 442.2H466.01" stroke-dasharray="0 25 0 27 0 2 0 6 0 2 1 5 0 23 0 2 0 25 0 16 1 400 0 9999"/><path d="M-376 438.35H389.01" stroke-dasharray="0 3 0 6 0 3 0 15 0 15 0 12 0 3 0 69 0 48 0 27 0 9 0 39 0 3 0 9 0 6 0 3 0 3 0 9 0 9 0 9 0 3 0 6 0 6 0 12 0 3 0 3 0 3 0 3 0 3 0 18 0 6 0 6 0 3 0 3 0 9 0 3 0 6 0 3 0 6 0 3 0 3 0 6 0 15 0 18 0 3 0 6 0 24 0 12 0 15 0 3 0 36 0 9 0 12 0 3 0 9 0 9 0 30 0 24 0 18 0 15 0 42 0 6 0 6 0 12 0 21 0 9999"/><path d="M-477 438.35H477.01" stroke-dasharray="0 75 0 18 0 33 0 12 0 114 0 12 0 18 0 42 0 6 0 9 0 24 0 3 0 9 0 21 0 9 0 3 0 3 0 3 0 3 0 3 0 9 0 21 0 3 0 3 0 6 0 6 0 6 0 3 0 6 0 3 0 3 0 3 0 6 0 3 0 9 0 3 0 3 0 3 0 9 0 12 0 3 0 3 0 3 0 6 0 3 0 12 0 18 0 6 0 3 0 12 0 9 0 36 0 9 0 9 0 69 0 36 0 33 0 30 0 33 0 24 0 39 0 12 0 6 0 9999"/><path d="M-473 438.35H439.01" stroke-dasharray="0 6 0 6 0 6 0 12 0 33 0 21 0 54 0 24 0 57 0 6 0 18 0 36 0 30 0 3 0 9 0 12 0 6 0 6 0 3 0 15 0 3 0 6 0 3 0 9 0 3 0 3 0 18 0 6 0 3 0 6 0 9 0 6 0 3 0 3 0 3 0 3 0 3 0 3 0 3 0 12 0 9 0 3 0 3 0 6 0 3 0 3 0 6 0 3 0 3 0 9 0 3 0 6 0 3 0 6 0 6 0 6 0 3 0 9 0 3 0 6 0 6 0 18 0 15 0 15 0 141 0 78 0 9 0 60 0 9999"/><path d="M-250 438.35H120.01" stroke-dasharray="0 75 0 72 0 14 0 13 0 4 0 5 0 4 0 3 1 10 0 9 0 6 0 7 1 9 0 2 0 5 0 9 0 7 1 6 0 7 0 3 1 7 0 5 0 36 0 6 1 41 0 9999"/><path d="M-40 438.35H24.01" stroke-dasharray="0 23 0 16 0 25 0 9999"/><path d="M-478 434.5H434.01" stroke-dasharray="0 39 0 9 0 15 0 66 0 27 0 54 0 27 0 21 0 27 0 12 0 12 0 21 0 12 0 39 0 3 0 9 0 6 0 12 0 3 0 27 0 3 0 3 0 3 0 6 0 3 0 3 0 3 0 15 0 6 0 3 0 9 0 3 0 21 0 3 0 9 0 15 0 6 0 6 0 15 0 6 0 6 0 3 0 6 0 12 0 33 0 12 0 66 0 18 0 9 0 6 0 9 0 78 0 51 0 9 0 3 0 9 0 9999"/><path d="M-465 434.5H417.01" stroke-dasharray="0 30 0 24 0 30 0 6 0 45 0 63 0 48 0 6 0 9 0 72 0 3 0 3 0 12 0 3 0 27 0 3 0 15 0 6 0 3 0 6 0 6 0 3 0 3 0 12 0 6 0 3 0 6 0 3 0 3 0 3 0 3 0 3 0 3 0 3 0 3 0 3 0 6 0 3 0 6 0 9 0 3 0 6 0 9 0 36 0 3 0 3 0 6 0 3 0 18 0 18 0 18 0 6 0 21 0 78 0 21 0 75 0 27 0 27 0 9999"/><path d="M-473 434.5H382.01" stroke-dasharray="0 6 0 15 0 66 0 15 0 39 0 54 0 33 0 108 0 6 0 30 0 33 0 18 0 3 0 9 0 3 0 6 0 3 0 6 0 3 0 3 0 6 0 3 0 3 0 3 0 6 0 6 0 30 0 3 0 3 0 6 0 12 0 6 0 9 0 6 0 6 0 3 0 12 0 3 0 12 0 21 0 6 0 9 0 96 0 24 0 18 0 24 0 54 0 6 0 9999"/><path d="M-137 434.5H362.01" stroke-dasharray="0 11 0 84 0 7 1 3 0 11 0 8 0 4 0 2 0 3 0 4 0 7 0 13 0 3 0 20 0 52 0 66 0 122 0 78 0 9999"/><path d="M-34 434.5H-6.01" stroke-dasharray="0 28 0 9999"/><path d="M-427 430.65H473.01" stroke-dasharray="0 3 0 36 0 12 0 3 0 9 0 18 0 42 0 24 0 90 0 21 0 18 0 3 0 27 0 6 0 3 0 9 0 6 0 9 0 3 0 3 0 12 0 12 0 9 0 3 0 6 0 6 0 15 0 9 0 12 0 3 0 3 0 6 0 6 0 9 0 3 0 9 0 6 0 6 0 12 0 3 0 3 0 15 0 24 0 12 0 12 0 12 0 9 0 6 0 51 0 66 0 6 0 12 0 27 0 6 0 3 0 69 0 72 0 9999"/><path d="M-489 430.65H489.01" stroke-dasharray="0 63 0 24 0 87 0 6 0 6 0 27 0 48 0 9 0 42 0 9 0 30 0 6 0 6 0 9 0 6 0 6 0 21 0 3 0 3 0 21 0 18 0 3 0 3 0 9 0 3 0 9 0 3 0 3 0 3 0 3 0 3 0 6 0 3 0 3 0 3 0 6 0 12 0 6 0 6 0 9 0 3 0 21 0 3 0 3 0 27 0 36 0 18 0 57 0 18 0 3 0 27 0 9 0 51 0 36 0 60 0 60 0 9999"/><path d="M-464 430.65H415.01" stroke-dasharray="0 108 0 6 0 12 0 15 0 57 0 117 0 15 0 21 0 12 0 15 0 9 0 6 0 3 0 15 0 6 0 15 0 12 0 3 0 9 0 3 0 3 0 9 0 6 0 6 0 3 0 3 0 3 0 9 0 3 0 3 0 9 0 9 0 3 0 9 0 3 0 18 0 21 0 6 0 12 0 18 0 3 0 6 0 6 0 6 0 3 0 3 0 30 0 78 0 114 0 15 0 9999"/><path d="M-148 430.65H489.01" stroke-dasharray="0 33 0 12 0 18 0 8 0 6 0 3 0 22 0 10 0 28 0 5 1 4 0 5 0 11 0 2 0 4 0 8 0 10 0 10 1 12 0 3 0 3 0 262 0 156 0 9999"/><path d="M20 430.65h0"/><path d="M-451 426.81H449.01" stroke-dasharray="0 6 0 12 0 24 0 99 0 42 0 24 0 24 0 30 0 12 0 15 0 3 0 30 0 9 0 9 0 6 0 9 0 6 0 3 0 3 0 21 0 27 0 9 0 18 0 6 0 3 0 3 0 9 0 3 0 12 0 6 0 6 0 6 0 6 0 3 0 6 0 3 0 9 0 15 0 12 0 15 0 12 0 6 0 3 0 9 0 30 0 3 0 33 0 6 0 36 0 12 0 42 0 96 0 9 0 39 0 9999"/><path d="M-417 426.81H459.01" stroke-dasharray="0 78 0 3 0 33 0 63 0 39 0 9 0 3 0 36 0 33 0 15 0 6 0 36 0 3 0 3 0 6 0 3 0 3 0 6 0 3 0 9 0 6 0 12 0 9 0 3 0 6 0 3 0 3 0 18 0 3 0 24 0 30 0 12 0 6 0 3 0 9 0 3 0 3 0 75 0 18 0 3 0 18 0 57 0 57 0 3 0 3 0 21 0 30 0 18 0 30 0 9999"/><path d="M-437 426.81H469.01" stroke-dasharray="0 57 0 81 0 42 0 21 0 6 0 6 0 18 0 39 0 6 0 3 0 15 0 3 0 9 0 9 0 3 0 24 0 18 0 15 0 3 0 3 0 6 0 3 0 3 0 3 0 3 0 6 0 3 0 9 0 3 0 6 0 15 0 6 0 6 0 9 0 9 0 3 0 3 0 3 0 3 0 3 0 3 0 45 0 15 0 9 0 12 0 3 0 78 0 102 0 105 0 48 0 9999"/><path d="M-437 426.81H251.01" stroke-dasharray="0 307 0 10 0 25 0 36 0 2 0 9 0 7 0 5 0 4 0 11 0 4 0 7 0 13 0 6 1 2 0 3 0 17 0 11 1 8 1 6 0 192 0 9999"/><path d="M9 426.81H10.01" stroke-dasharray="1 9999"/><path d="M-475 422.96H467.01" stroke-dasharray="0 42 0 105 0 3 0 51 0 30 0 33 0 54 0 3 0 9 0 21 0 6 0 3 0 6 0 3 0 6 0 6 0 6 0 18 0 9 0 3 0 3 0 3 0 6 0 3 0 6 0 6 0 12 0 3 0 9 0 6 0 3 0 3 0 9 0 3 0 6 0 3 0 3 0 6 0 9 0 15 0 6 0 9 0 12 0 6 0 9 0 9 0 9 0 21 0 9 0 6 0 165 0 123 0 12 0 12 0 9999"/><path d="M-462 422.96H447.01" stroke-dasharray="0 126 0 162 0 15 0 3 0 9 0 21 0 39 0 18 0 3 0 15 0 3 0 3 0 18 0 3 0 3 0 6 0 6 0 3 0 15 0 6 0 6 0 6 0 12 0 6 0 6 0 54 0 45 0 6 0 9 0 42 0 30 0 9 0 48 0 114 0 3 0 36 0 9999"/><path d="M-461 422.96H445.01" stroke-dasharray="0 126 0 18 0 39 0 3 0 15 0 6 0 21 0 42 0 21 0 3 0 6 0 12 0 12 0 18 0 9 0 12 0 3 0 39 0 6 0 6 0 3 0 3 0 12 0 6 0 12 0 12 0 18 0 6 0 30 0 6 0 12 0 42 0 78 0 42 0 96 0 42 0 3 0 18 0 48 0 9999"/><path d="M-328 422.96H447.01" stroke-dasharray="0 209 0 67 1 5 0 5 0 10 0 7 0 3 2 10 0 13 1 10 0 2 0 5 1 4 1 31 0 6 0 45 0 39 0 6 0 52 0 240 0 9999"/><path d="M-31 422.96h0"/><path d="M-463 419.11H449.01" stroke-dasharray="0 39 0 9 0 45 0 6 0 129 0 87 0 42 0 9 0 18 0 12 0 9 0 6 0 3 0 9 0 15 0 6 0 3 0 12 0 3 0 9 0 6 0 6 0 6 0 9 0 9 0 9 0 3 0 3 0 6 0 3 0 6 0 9 0 3 0 15 0 30 0 12 0 9 0 48 0 48 0 24 0 72 0 57 0 48 0 9999"/><path d="M-393 419.11H480.01" stroke-dasharray="0 42 0 9 0 21 0 9 0 18 0 42 0 39 0 15 0 3 0 21 0 3 0 9 0 27 0 15 0 9 0 12 0 15 0 9 0 21 0 21 0 6 0 3 0 15 0 6 0 3 0 3 0 15 0 3 0 3 0 3 0 3 0 3 0 3 0 6 0 3 0 3 0 9 0 3 0 15 0 3 0 3 0 3 0 15 0 18 0 6 0 9 0 12 0 15 0 27 0 159 0 81 0 45 0 9 0 9999"/><path d="M-443 419.11H472.01" stroke-dasharray="0 6 0 138 0 123 0 51 0 12 0 15 0 21 0 3 0 12 0 15 0 6 0 9 0 9 0 6 0 15 0 3 0 6 0 6 0 6 0 3 0 6 0 15 0 12 0 21 0 6 0 6 0 9 0 6 0 9 0 3 0 36 0 27 0 63 0 60 0 9 0 15 0 15 0 117 0 15 0 9999"/><path d="M-135 419.11H480.01" stroke-dasharray="0 36 2 18 0 25 0 5 0 8 0 9 0 13 0 16 0 2 0 20 0 2 0 7 0 7 1 6 0 11 0 12 0 16 0 70 0 329 0 9999"/><path d="M19 419.11H28.01" stroke-dasharray="0 9 0 9999"/><path d="M-445 415.27H416.01" stroke-dasharray="0 60 0 3 0 15 0 21 0 21 0 48 0 12 0 21 0 90 0 36 0 36 0 3 0 15 0 9 0 18 0 12 0 6 0 15 0 6 0 6 0 6 0 6 0 18 0 3 0 18 0 3 0 3 0 6 0 3 0 30 0 6 0 6 0 30 0 3 0 3 0 69 0 126 0 69 0 9999"/><path d="M-432 415.27H330.01" stroke-dasharray="0 129 0 87 0 15 0 33 0 12 0 24 0 9 0 6 0 12 0 27 0 9 0 9 0 9 0 33 0 15 0 3 0 3 0 3 0 6 0 12 0 6 0 21 0 9 0 21 0 6 0 21 0 3 0 9 0 9 0 21 0 33 0 33 0 69 0 39 0 6 0 9999"/><path d="M-488 415.27H463.01" stroke-dasharray="0 9 0 6 0 87 0 66 0 132 0 15 0 6 0 30 0 27 0 3 0 6 0 6 0 6 0 3 0 12 0 9 0 9 0 24 0 3 0 9 0 3 0 27 0 3 0 3 0 3 0 3 0 6 0 6 0 3 0 12 0 9 0 18 0 9 0 3 0 9 0 6 0 6 0 3 0 6 0 3 0 27 0 42 0 15 0 6 0 18 0 138 0 9 0 6 0 6 0 36 0 39 0 9999"/><path d="M-118 415.27H112.01" stroke-dasharray="0 17 0 32 0 4 0 5 0 28 0 29 0 3 0 10 0 2 1 6 0 5 0 14 0 21 0 3 0 9 0 14 0 27 0 9999"/><path d="M-118 415.27H38.01" stroke-dasharray="0 58 0 60 0 38 0 9999"/><path d="M-379 411.42H479.01" stroke-dasharray="0 240 0 30 0 9 0 9 0 3 0 9 0 15 0 3 0 3 0 3 0 15 0 3 0 3 0 3 0 12 0 15 0 3 0 15 0 3 0 15 0 3 0 3 0 6 0 3 0 6 0 18 0 18 0 15 0 18 0 18 0 51 0 3 0 18 0 21 0 6 0 18 0 12 0 129 0 15 0 36 0 30 0 9999"/><path d="M-429 411.42H393.01" stroke-dasharray="0 15 0 69 0 48 0 27 0 18 0 9 0 12 0 6 0 36 0 60 0 33 0 15 0 3 0 18 0 3 0 3 0 3 0 6 0 12 0 3 0 3 0 15 0 3 0 3 0 6 0 6 0 9 0 15 0 15 0 3 0 6 0 3 0 15 0 3 0 42 0 15 0 6 0 9 0 18 0 84 0 93 0 51 0 9999"/><path d="M-467 411.42H481.01" stroke-dasharray="0 102 0 42 0 84 0 48 0 6 0 90 0 33 0 3 0 12 0 9 0 6 0 18 0 3 0 3 0 3 0 3 0 3 0 3 0 3 0 9 0 3 0 12 0 3 0 6 0 18 0 9 0 36 0 6 0 9 0 45 0 30 0 111 0 99 0 33 0 15 0 12 0 9 0 3 0 6 0 9999"/><path d="M-62 411.42H463.01" stroke-dasharray="1 3 0 11 0 2 0 15 0 3 0 15 0 3 1 6 0 17 0 29 0 4 0 9 0 10 0 50 0 95 0 251 0 9999"/><path d="M-45 411.42H57.01" stroke-dasharray="0 102 0 9999"/><path d="M-445 407.57H332.01" stroke-dasharray="0 126 0 18 0 9 0 30 0 6 0 96 0 54 0 21 0 12 0 15 0 6 0 48 0 3 0 21 0 9 0 3 0 15 0 6 0 15 0 12 0 3 0 15 0 3 0 21 0 30 0 18 0 48 0 9 0 45 0 48 0 12 0 9999"/><path d="M-447 407.57H489.01" stroke-dasharray="0 27 0 138 0 84 0 15 0 18 0 27 0 24 0 15 0 12 0 54 0 6 0 12 0 3 0 3 0 18 0 6 0 3 0 9 0 6 0 12 0 3 0 3 0 6 0 3 0 3 0 15 0 9 0 30 0 3 0 9 0 63 0 84 0 39 0 150 0 24 0 9999"/><path d="M-269 407.57H457.01" stroke-dasharray="0 78 0 15 0 39 0 36 0 27 0 9 0 6 0 6 0 6 0 3 0 9 0 12 0 24 0 3 0 3 0 3 0 3 0 3 0 3 0 6 0 12 0 3 0 3 0 3 0 9 0 21 0 9 0 12 0 6 0 24 0 9 0 87 0 51 0 51 0 66 0 21 0 24 0 6 0 15 0 9999"/><path d="M-99 407.57H129.01" stroke-dasharray="0 72 0 28 0 12 0 12 0 8 0 10 0 42 0 32 0 12 0 9999"/><path d="M13 407.57H25.01" stroke-dasharray="0 12 0 9999"/><path d="M-409 403.73H404.01" stroke-dasharray="0 117 0 57 0 15 0 6 0 12 0 6 0 45 0 6 0 9 0 27 0 3 0 18 0 12 0 12 0 3 0 12 0 3 0 27 0 3 0 15 0 6 0 3 0 15 0 6 0 15 0 3 0 21 0 15 0 9 0 6 0 39 0 6 0 51 0 66 0 99 0 12 0 33 0 9999"/><path d="M-489 403.73H459.01" stroke-dasharray="0 144 0 36 0 39 0 48 0 54 0 6 0 3 0 3 0 51 0 6 0 3 0 9 0 3 0 12 0 33 0 6 0 6 0 3 0 18 0 6 0 6 0 3 0 6 0 3 0 12 0 9 0 3 0 18 0 42 0 21 0 159 0 6 0 21 0 84 0 66 0 9999"/><path d="M-437 403.73H484.01" stroke-dasharray="0 69 0 3 0 6 0 6 0 27 0 129 0 3 0 30 0 6 0 42 0 42 0 21 0 12 0 3 0 24 0 3 0 6 0 3 0 3 0 3 0 3 0 18 0 24 0 3 0 3 0 3 0 3 0 3 0 12 0 9 0 6 0 18 0 6 0 24 0 6 0 6 0 57 0 27 0 78 0 45 0 126 0 9999"/><path d="M-164 403.73H102.01" stroke-dasharray="0 100 0 15 0 10 0 37 0 7 0 20 0 4 0 18 0 21 0 34 0 9999"/><path d="M-49 403.73H5.01" stroke-dasharray="0 54 0 9999"/><path d="M-469 399.88H470.01" stroke-dasharray="0 45 0 42 0 27 0 63 0 39 0 51 0 66 0 39 0 15 0 24 0 3 0 3 0 3 0 3 0 9 0 3 0 6 0 9 0 3 0 3 0 3 0 6 0 9 0 6 0 3 0 24 0 6 0 3 0 6 0 3 0 15 0 27 0 6 0 9 0 12 0 102 0 51 0 156 0 36 0 9999"/><path d="M-441 399.88H456.01" stroke-dasharray="0 57 0 18 0 57 0 66 0 51 0 18 0 51 0 45 0 6 0 12 0 18 0 6 0 27 0 15 0 12 0 3 0 15 0 3 0 6 0 3 0 3 0 3 0 9 0 9 0 36 0 30 0 90 0 15 0 69 0 6 0 57 0 81 0 9999"/><path d="M-479 399.88H472.01" stroke-dasharray="0 51 0 12 0 78 0 69 0 114 0 6 0 3 0 30 0 3 0 9 0 36 0 9 0 9 0 9 0 3 0 27 0 3 0 15 0 33 0 3 0 3 0 15 0 9 0 3 0 15 0 9 0 24 0 6 0 57 0 27 0 39 0 111 0 27 0 84 0 9999"/><path d="M-384 399.88H48.01" stroke-dasharray="0 350 0 6 0 68 0 8 0 9999"/><path d="M-478 396.03H410.01" stroke-dasharray="0 9 0 39 0 87 0 60 0 129 0 6 0 18 0 6 0 24 0 33 0 3 0 3 0 15 0 6 0 6 0 12 0 3 0 3 0 3 0 3 0 3 0 3 0 21 0 12 0 3 0 6 0 3 0 12 0 6 0 15 0 18 0 15 0 15 0 60 0 54 0 174 0 9999"/><path d="M-459 396.03H363.01" stroke-dasharray="0 30 0 138 0 9 0 18 0 45 0 9 0 45 0 6 0 36 0 51 0 3 0 6 0 24 0 3 0 9 0 3 0 9 0 12 0 12 0 6 0 3 0 21 0 3 0 12 0 42 0 36 0 6 0 6 0 21 0 6 0 84 0 33 0 75 0 9999"/><path d="M-413 396.03H469.01" stroke-dasharray="0 87 0 15 0 36 0 30 0 36 0 24 0 33 0 12 0 93 0 9 0 3 0 9 0 6 0 6 0 12 0 6 0 3 0 18 0 3 0 3 0 33 0 15 0 18 0 30 0 24 0 66 0 15 0 21 0 48 0 132 0 36 0 9999"/><path d="M-72 396.03H53.01" stroke-dasharray="0 26 0 19 0 3 0 5 0 6 0 6 0 32 0 6 0 22 0 9999"/><path d="M-436 392.19H476.01" stroke-dasharray="0 24 0 57 0 33 0 3 0 21 0 39 0 21 0 33 0 12 0 3 0 66 0 3 0 51 0 6 0 9 0 9 0 6 0 3 0 3 0 12 0 6 0 3 0 3 0 6 0 3 0 21 0 12 0 3 0 3 0 3 0 3 0 6 0 6 0 12 0 9 0 18 0 15 0 63 0 9 0 36 0 21 0 9 0 120 0 63 0 6 0 6 0 33 0 9999"/><path d="M-372 392.19H477.01" stroke-dasharray="0 69 0 48 0 48 0 45 0 21 0 18 0 3 0 3 0 9 0 18 0 12 0 3 0 3 0 21 0 15 0 3 0 9 0 21 0 12 0 3 0 3 0 3 0 9 0 12 0 21 0 24 0 12 0 9 0 15 0 54 0 51 0 66 0 186 0 9999"/><path d="M-470 392.19H481.01" stroke-dasharray="0 135 0 144 0 24 0 3 0 48 0 3 0 24 0 12 0 18 0 9 0 3 0 12 0 18 0 12 0 36 0 6 0 3 0 12 0 12 0 9 0 6 0 63 0 18 0 18 0 18 0 18 0 117 0 57 0 54 0 27 0 12 0 9999"/><path d="M-259 392.19H443.01" stroke-dasharray="0 195 0 14 0 13 0 2 0 11 0 55 1 8 1 64 0 338 0 9999"/><path d="M105 392.19h0"/><path d="M-487 388.34H485.01" stroke-dasharray="0 3 0 189 0 9 0 150 0 21 0 9 0 30 0 18 0 9 0 12 0 3 0 6 0 3 0 9 0 9 0 18 0 3 0 45 0 6 0 33 0 6 0 6 0 24 0 42 0 9 0 36 0 45 0 3 0 84 0 15 0 66 0 3 0 48 0 9999"/><path d="M-486 388.34H405.01" stroke-dasharray="0 72 0 3 0 129 0 87 0 3 0 3 0 27 0 18 0 42 0 24 0 6 0 6 0 3 0 3 0 3 0 12 0 24 0 9 0 9 0 6 0 3 0 18 0 21 0 15 0 9 0 9 0 18 0 18 0 21 0 36 0 51 0 54 0 69 0 6 0 36 0 18 0 9999"/><path d="M-407 388.34H436.01" stroke-dasharray="0 69 0 9 0 93 0 3 0 78 0 21 0 6 0 3 0 33 0 9 0 3 0 3 0 45 0 9 0 15 0 18 0 3 0 9 0 18 0 3 0 21 0 3 0 15 0 24 0 15 0 9 0 123 0 6 0 177 0 9999"/><path d="M-106 388.34H353.01" stroke-dasharray="0 23 0 25 0 13 0 29 0 8 0 5 0 68 0 4 0 207 0 77 0 9999"/><path d="M-364 384.49H329.01" stroke-dasharray="0 105 0 12 0 57 0 63 0 21 0 3 0 54 0 24 0 9 0 3 0 24 0 21 0 9 0 12 0 12 0 9 0 6 0 12 0 51 0 126 0 60 0 9999"/><path d="M-435 384.49H459.01" stroke-dasharray="0 15 0 171 0 3 0 6 0 159 0 21 0 12 0 3 0 3 0 6 0 3 0 6 0 15 0 12 0 6 0 18 0 6 0 6 0 12 0 24 0 12 0 3 0 51 0 3 0 51 0 24 0 15 0 27 0 3 0 90 0 21 0 42 0 15 0 15 0 15 0 9999"/><path d="M-455 384.49H391.01" stroke-dasharray="0 3 0 87 0 96 0 114 0 18 0 6 0 27 0 87 0 3 0 3 0 12 0 3 0 18 0 126 0 21 0 12 0 15 0 126 0 51 0 18 0 9999"/><path d="M-106 384.49H48.01" stroke-dasharray="0 46 0 33 0 11 0 64 0 9999"/><path d="M-400 380.65H326.01" stroke-dasharray="0 30 0 30 0 6 0 24 0 111 0 42 0 39 0 12 0 24 0 3 0 12 0 15 0 3 0 6 0 30 0 6 0 3 0 15 0 6 0 21 0 9 0 3 0 6 0 42 0 60 0 24 0 144 0 9999"/><path d="M-294 380.65H432.01" stroke-dasharray="0 24 0 39 0 15 0 30 0 87 0 3 0 63 0 3 0 33 0 15 0 21 0 36 0 48 0 15 0 294 0 9999"/><path d="M-482 380.65H448.01" stroke-dasharray="0 267 0 81 0 3 0 48 0 15 0 6 0 3 0 9 0 6 0 18 0 12 0 6 0 12 0 3 0 3 0 3 0 3 0 18 0 6 0 18 0 3 0 9 0 33 0 60 0 24 0 138 0 123 0 9999"/><path d="M-99 380.65H47.01" stroke-dasharray="0 47 0 3 0 35 0 10 0 42 0 9 0 9999"/><path d="M-439 376.8H443.01" stroke-dasharray="0 33 0 45 0 36 0 72 0 105 0 15 0 72 0 6 0 24 0 3 0 3 0 15 0 15 0 6 0 21 0 12 0 6 0 9 0 30 0 27 0 183 0 144 0 9999"/><path d="M-480 376.8H468.01" stroke-dasharray="0 144 0 249 0 54 0 24 0 3 0 6 0 3 0 51 0 3 0 21 0 36 0 27 0 3 0 12 0 3 0 6 0 9 0 75 0 18 0 66 0 39 0 60 0 9 0 27 0 9999"/><path d="M-461 376.8H472.01" stroke-dasharray="0 288 0 15 0 3 0 3 0 21 0 30 0 6 0 9 0 9 0 12 0 9 0 33 0 6 0 9 0 3 0 6 0 3 0 3 0 15 0 3 0 6 0 18 0 24 0 33 0 348 0 18 0 9999"/><path d="M-406 376.8H54.01" stroke-dasharray="0 254 0 152 0 3 0 28 0 18 0 5 0 9999"/><path d="M-487 372.95H356.01" stroke-dasharray="0 36 0 195 0 66 0 18 0 18 0 24 0 15 0 3 0 3 0 18 0 15 0 21 0 18 0 6 0 9 0 6 0 6 0 36 0 3 0 6 0 3 0 6 0 3 0 15 0 6 0 30 0 3 0 39 0 69 0 123 0 24 0 9999"/><path d="M-363 372.95H453.01" stroke-dasharray="0 204 0 39 0 30 0 66 0 3 0 9 0 3 0 6 0 3 0 15 0 6 0 30 0 12 0 9 0 6 0 147 0 72 0 60 0 12 0 51 0 33 0 9999"/><path d="M-410 372.95H352.01" stroke-dasharray="0 195 0 27 0 21 0 36 0 12 0 18 0 6 0 30 0 6 0 3 0 6 0 6 0 18 0 21 0 3 0 6 0 3 0 9 0 18 0 9 0 3 0 6 0 18 0 78 0 9 0 6 0 189 0 9999"/><path d="M-159 372.95H44.01" stroke-dasharray="0 104 0 33 0 20 0 9 0 27 0 10 0 9999"/><path d="M-481 369.11H449.01" stroke-dasharray="0 180 0 3 0 204 0 15 0 6 0 12 0 3 0 6 0 3 0 21 0 12 0 15 0 15 0 6 0 6 0 18 0 69 0 336 0 9999"/><path d="M-453 369.11H438.01" stroke-dasharray="0 18 0 171 0 141 0 21 0 3 0 9 0 9 0 12 0 3 0 45 0 72 0 18 0 9 0 15 0 30 0 60 0 255 0 9999"/><path d="M-473 369.11H379.01" stroke-dasharray="0 93 0 36 0 66 0 111 0 66 0 33 0 9 0 42 0 3 0 27 0 12 0 33 0 99 0 135 0 87 0 9999"/><path d="M-99 369.11H14.01" stroke-dasharray="0 78 0 4 1 2 0 28 0 9999"/><path d="M-376 365.26H431.01" stroke-dasharray="0 153 0 123 0 54 0 18 0 15 0 15 0 12 0 3 0 18 0 39 0 3 0 12 0 48 0 108 0 126 0 60 0 9999"/><path d="M-486 365.26H489.01" stroke-dasharray="0 129 0 9 0 6 0 84 0 45 0 96 0 69 0 3 0 6 0 6 0 9 0 9 0 9 0 6 0 18 0 15 0 27 0 15 0 6 0 45 0 285 0 78 0 9999"/><path d="M-323 365.26H223.01" stroke-dasharray="0 120 0 21 0 54 0 54 0 27 0 6 0 3 0 3 0 6 0 3 0 27 0 36 0 6 0 6 0 15 0 39 0 54 0 27 0 39 0 9999"/><path d="M-41 365.26H223.01" stroke-dasharray="0 13 0 4 0 25 0 13 0 75 0 134 0 9999"/><path d="M-262 361.41H284.01" stroke-dasharray="0 60 0 21 0 45 0 93 0 36 0 27 0 3 0 6 0 21 0 198 0 36 0 9999"/><path d="M-342 361.41H459.01" stroke-dasharray="0 93 0 69 0 72 0 27 0 36 0 30 0 3 0 75 0 30 0 9 0 6 0 12 0 138 0 36 0 54 0 111 0 9999"/><path d="M-431 361.41H394.01" stroke-dasharray="0 9 0 153 0 3 0 15 0 117 0 18 0 69 0 24 0 3 0 27 0 30 0 6 0 3 0 51 0 153 0 129 0 15 0 9999"/><path d="M-20 361.41h0"/><path d="M-487 357.57H443.01" stroke-dasharray="0 96 0 72 0 183 0 51 0 18 0 84 0 9 0 9 0 9 0 24 0 3 0 6 0 12 0 3 0 27 0 3 0 15 0 33 0 273 0 9999"/><path d="M-336 357.57H438.01" stroke-dasharray="0 366 0 18 0 3 0 9 0 39 0 339 0 9999"/><path d="M-467 357.57H322.01" stroke-dasharray="0 12 0 30 0 153 0 3 0 90 0 117 0 3 0 30 0 6 0 6 0 12 0 6 0 9 0 24 0 6 0 6 0 9 0 33 0 12 0 51 0 9 0 162 0 9999"/><path d="M44 357.57H160.01" stroke-dasharray="0 116 0 9999"/><path d="M-373 353.72H164.01" stroke-dasharray="0 141 0 21 0 84 0 99 0 3 0 12 0 6 0 3 0 3 0 15 0 21 0 18 0 3 0 108 0 9999"/><path d="M-441 353.72H405.01" stroke-dasharray="0 57 0 3 0 195 0 21 0 126 0 15 0 54 0 6 0 9 0 48 0 24 0 69 0 219 0 9999"/><path d="M-299 353.72H295.01" stroke-dasharray="0 126 0 78 0 27 0 18 0 12 0 3 0 9 0 42 0 51 0 105 0 18 0 105 0 9999"/><path d="M-292 349.87H200.01" stroke-dasharray="0 165 0 24 0 18 0 57 0 6 0 21 0 3 0 42 0 9 0 6 0 21 0 12 0 24 0 3 0 9 0 27 0 45 0 9999"/><path d="M-450 349.87H483.01" stroke-dasharray="0 78 0 84 0 3 0 204 0 51 0 27 0 6 0 9 0 3 0 9 0 9 0 12 0 3 0 12 0 6 0 66 0 270 0 24 0 57 0 9999"/><path d="M-116 349.87H403.01" stroke-dasharray="0 15 0 9 0 3 0 30 0 39 0 12 0 15 0 3 0 57 0 3 0 9 0 3 0 321 0 9999"/><path d="M-20 349.87H44.01" stroke-dasharray="0 27 0 37 0 9999"/><path d="M-409 346.03H68.01" stroke-dasharray="0 39 0 66 0 144 0 48 0 33 0 27 0 27 0 6 0 18 0 33 0 3 0 6 0 27 0 9999"/><path d="M-336 346.03H240.01" stroke-dasharray="0 87 0 33 0 21 0 66 0 36 0 12 0 84 0 6 0 3 0 6 0 21 0 3 0 18 0 120 0 18 0 42 0 9999"/><path d="M-464 346.03H316.01" stroke-dasharray="0 162 0 132 0 105 0 21 0 9 0 84 0 9 0 45 0 198 0 15 0 9999"/><path d="M-44 346.03H49.01" stroke-dasharray="0 93 0 9999"/><path d="M-415 342.18H473.01" stroke-dasharray="0 27 0 3 0 54 0 147 0 90 0 51 0 33 0 3 0 30 0 6 0 12 0 3 0 6 0 6 0 6 0 132 0 150 0 129 0 9999"/><path d="M-453 342.18H108.01" stroke-dasharray="0 234 0 81 0 36 0 3 0 54 0 12 0 12 0 12 0 9 0 42 0 6 0 60 0 9999"/><path d="M-167 342.18H70.01" stroke-dasharray="0 69 0 48 0 39 0 3 0 9 0 15 0 6 0 21 0 27 0 9999"/><path d="M-102 342.18H50.01" stroke-dasharray="0 4 0 120 0 20 0 8 0 9999"/><path d="M-172 338.33H377.01" stroke-dasharray="0 168 0 27 0 102 0 81 0 171 0 9999"/><path d="M-438 338.33H462.01" stroke-dasharray="0 165 0 297 0 129 0 3 0 123 0 75 0 108 0 9999"/><path d="M-272 338.33H64.01" stroke-dasharray="0 216 0 30 0 3 0 18 0 69 0 9999"/><path d="M-5 338.33H125.01" stroke-dasharray="0 130 0 9999"/><path d="M-490 334.49H308.01" stroke-dasharray="0 198 0 30 0 51 0 12 0 84 0 66 0 6 0 6 0 6 0 6 0 24 0 30 0 36 0 36 0 162 0 45 0 9999"/><path d="M-363 334.49H378.01" stroke-dasharray="0 147 0 57 0 72 0 3 0 15 0 75 0 12 0 9 0 9 0 33 0 123 0 57 0 129 0 9999"/><path d="M-374 334.49H304.01" stroke-dasharray="0 303 0 42 0 3 0 105 0 225 0 9999"/><path d="M65 334.49h0"/><path d="M-52 330.64H215.01" stroke-dasharray="0 114 0 153 0 9999"/><path d="M-420 330.64H270.01" stroke-dasharray="0 144 0 150 0 12 0 18 0 30 0 15 0 9 0 45 0 45 0 30 0 42 0 39 0 111 0 9999"/><path d="M-386 330.64H289.01" stroke-dasharray="0 99 0 120 0 99 0 18 0 15 0 45 0 6 0 93 0 180 0 9999"/><path d="M-287 330.64H62.01" stroke-dasharray="0 252 0 97 0 9999"/><path d="M-403 326.79H110.01" stroke-dasharray="0 159 0 66 0 84 0 51 0 3 0 15 0 33 0 12 0 33 0 9 0 18 0 30 0 9999"/><path d="M-264 326.79H480.01" stroke-dasharray="0 189 0 9 0 87 0 18 0 27 0 15 0 42 0 162 0 195 0 9999"/><path d="M-332 326.79H331.01" stroke-dasharray="0 147 0 69 0 99 0 9 0 42 0 36 0 174 0 36 0 51 0 9999"/><path d="M-43 326.79h0"/><path d="M-169 322.95H281.01" stroke-dasharray="0 123 0 9 0 39 0 93 0 186 0 9999"/><path d="M-297 322.95H102.01" stroke-dasharray="0 87 0 66 0 69 0 57 0 51 0 27 0 42 0 9999"/><path d="M-377 322.95H85.01" stroke-dasharray="0 126 0 33 0 219 0 9 0 24 0 51 0 9999"/><path d="M-76 319.1H173.01" stroke-dasharray="0 54 0 93 0 102 0 9999"/><path d="M-195 319.1H447.01" stroke-dasharray="0 111 0 6 0 45 0 3 0 18 0 75 0 384 0 9999"/><path d="M-413 319.1H472.01" stroke-dasharray="0 417 0 6 0 12 0 30 0 420 0 9999"/><path d="M-343 315.25H41.01" stroke-dasharray="0 294 0 9 0 63 0 12 0 6 0 9999"/><path d="M-303 315.25H240.01" stroke-dasharray="0 234 0 78 0 9 0 222 0 9999"/><path d="M-437 315.25H484.01" stroke-dasharray="0 12 0 84 0 273 0 54 0 42 0 45 0 129 0 282 0 9999"/><path d="M-295 311.4H20.01" stroke-dasharray="0 252 0 63 0 9999"/><path d="M-141 311.4H135.01" stroke-dasharray="0 54 0 186 0 21 0 15 0 9999"/><path d="M-86 311.4H73.01" stroke-dasharray="0 36 0 96 0 27 0 9999"/><path d="M-331 307.56H98.01" stroke-dasharray="0 198 0 27 0 90 0 48 0 9 0 57 0 9999"/><path d="M-186 307.56H468.01" stroke-dasharray="0 165 0 114 0 375 0 9999"/><path d="M-467 307.56H40.01" stroke-dasharray="0 165 0 273 0 63 0 6 0 9999"/><path d="M-49 303.71H89.01" stroke-dasharray="0 63 0 51 0 24 0 9999"/><path d="M-330 303.71H489.01" stroke-dasharray="0 69 0 750 0 9999"/><path d="M-422 303.71H430.01" stroke-dasharray="0 120 0 165 0 54 0 18 0 3 0 72 0 420 0 9999"/><path d="M89 303.71h0"/><path d="M-289 299.86H422.01" stroke-dasharray="0 330 0 6 0 129 0 246 0 9999"/><path d="M-75 299.86H72.01" stroke-dasharray="0 30 0 15 0 12 0 18 0 21 0 51 0 9999"/><path d="M-92 299.86H-14.01" stroke-dasharray="0 60 0 18 0 9999"/><path d="M-75 299.86h0"/><path d="M-4 296.02H-1.01" stroke-dasharray="0 3 0 9999"/><path d="M-186 296.02H21.01" stroke-dasharray="0 51 0 99 0 21 0 36 0 9999"/><path d="M-425 296.02H403.01" stroke-dasharray="0 264 0 36 0 63 0 30 0 258 0 177 0 9999"/><path d="M-487 292.17H11.01" stroke-dasharray="0 336 0 162 0 9999"/><path d="M-261 292.17H-6.01" stroke-dasharray="0 255 0 9999"/><path d="M-179 292.17H172.01" stroke-dasharray="0 21 0 93 0 33 0 111 0 93 0 9999"/><path d="M-451 288.32H-34.01" stroke-dasharray="0 90 0 216 0 111 0 9999"/><path d="M-348 288.32H198.01" stroke-dasharray="0 384 0 162 0 9999"/><path d="M-89 288.32H76.01" stroke-dasharray="0 63 0 102 0 9999"/><path d="M-55 284.48H173.01" stroke-dasharray="0 3 0 36 0 51 0 138 0 9999"/><path d="M-81 284.48H0.01" stroke-dasharray="0 81 0 9999"/><path d="M-419 284.48h0"/><path d="M-163 280.63H74.01" stroke-dasharray="0 114 0 123 0 9999"/><path d="M-93 280.63H-42.01" stroke-dasharray="0 45 0 6 0 9999"/><path d="M-329 280.63H430.01" stroke-dasharray="0 159 0 45 0 90 0 111 0 42 0 312 0 9999"/><path d="M-478 276.78H224.01" stroke-dasharray="0 507 0 6 0 102 0 87 0 9999"/><path d="M12 276.78H372.01" stroke-dasharray="0 12 0 348 0 9999"/><path d="M1 276.78H217.01" stroke-dasharray="0 6 0 48 0 162 0 9999"/><path d="M-70 272.94h0"/><path d="M-102 272.94H78.01" stroke-dasharray="0 180 0 9999"/><path d="M-350 272.94H10.01" stroke-dasharray="0 57 0 303 0 9999"/><path d="M-85 269.09H161.01" stroke-dasharray="0 78 0 24 0 87 0 57 0 9999"/><path d="M-63 269.09H36.01" stroke-dasharray="0 63 0 36 0 9999"/><path d="M-464 269.09H238.01" stroke-dasharray="0 420 0 282 0 9999"/><path d="M-211 265.24H419.01" stroke-dasharray="0 180 0 36 0 45 0 213 0 156 0 9999"/><path d="M-39 265.24H96.01" stroke-dasharray="0 135 0 9999"/><path d="M-338 265.24H88.01" stroke-dasharray="0 348 0 78 0 9999"/><path d="M-193 261.4H188.01" stroke-dasharray="0 252 0 129 0 9999"/><path d="M-126 261.4H12.01" stroke-dasharray="0 138 0 9999"/><path d="M-16 257.55H458.01" stroke-dasharray="0 474 0 9999"/><path d="M63 257.55h0"/><path d="M295 257.55h0"/><path d="M-1 253.7H131.01" stroke-dasharray="0 18 0 114 0 9999"/><path d="M-84 253.7H36.01" stroke-dasharray="0 48 0 72 0 9999"/><path d="M49 253.7H268.01" stroke-dasharray="0 12 0 207 0 9999"/><path d="M-388 249.86H443.01" stroke-dasharray="0 537 0 294 0 9999"/><path d="M-3 249.86H39.01" stroke-dasharray="0 42 0 9999"/><path d="M-479 249.86H-41.01" stroke-dasharray="0 438 0 9999"/><path d="M434 246.01h0"/><path d="M0 246.01H9.01" stroke-dasharray="0 9 0 9999"/><path d="M-65 246.01H43.01" stroke-dasharray="0 18 0 90 0 9999"/><path d="M95 242.16h0"/><path d="M-129 242.16h0"/><path d="M13 242.16h0"/><path d="M-472 238.32H41.01" stroke-dasharray="0 462 0 51 0 9999"/><path d="M-137 238.32H229.01" stroke-dasharray="0 366 0 9999"/><path d="M-24 234.47H57.01" stroke-dasharray="0 81 0 9999"/><path d="M-31 230.62h0"/><path d="M-51 230.62h0"/><path d="M12 226.78h0"/><path d="M-470 226.78h0"/><path d="M-67 222.93h0"/><path d="M108 222.93H180.01" stroke-dasharray="0 72 0 9999"/><path d="M-23 222.93h0"/><path d="M-366 219.08H-18.01" stroke-dasharray="0 348 0 9999"/><path d="M-350 219.08h0"/><path d="M104 215.24h0"/><path d="M-230 211.39h0"/><path d="M-155 207.54h0"/><path d="M410 199.85h0"/><path d="M-60 199.85h0"/><path d="M-160 192.16H44.01" stroke-dasharray="0 204 0 9999"/><path d="M150 161.38h0"/><path d="M198 134.45h0"/></g>
<g transform="translate(0,0)">
<rect x="59.76" y="47.81" width="532.43" height="532.43" fill="none" stroke="#000" stroke-width="0.75"/>
<path d="M124.45 580.24H526.45M124.45 580.24v5.98M224.95 580.24v5.98M325.45 580.24v5.98M425.95 580.24v5.98M526.45 580.24v5.98M59.76 123.55V510.15M59.76 510.15h-5.98M59.76 413.50h-5.98M59.76 316.85h-5.98M59.76 220.20h-5.98M59.76 123.55h-5.98" fill="none" stroke="#000" stroke-width="0.75"/>
<text x="124.45" y="601.9" font-size="10.7" text-anchor="middle">-400</text>
<text x="224.95" y="601.9" font-size="10.7" text-anchor="middle">-200</text>
<text x="325.45" y="601.9" font-size="10.7" text-anchor="middle">0</text>
<text x="425.95" y="601.9" font-size="10.7" text-anchor="middle">200</text>
<text x="526.45" y="601.9" font-size="10.7" text-anchor="middle">400</text>
<text transform="translate(45.3,510.15) rotate(-90)" font-size="10.7" text-anchor="middle">75</text>
<text transform="translate(45.3,413.50) rotate(-90)" font-size="10.7" text-anchor="middle">80</text>
<text transform="translate(45.3,316.85) rotate(-90)" font-size="10.7" text-anchor="middle">85</text>
<text transform="translate(45.3,220.20) rotate(-90)" font-size="10.7" text-anchor="middle">90</text>
<text transform="translate(45.3,123.55) rotate(-90)" font-size="10.7" text-anchor="middle">95</text>
<text x="322.98" y="31.6" font-size="21.4" font-weight="bold" text-anchor="middle">Top hit for each peak</text>
<text x="325.98" y="625.8" font-size="16" text-anchor="middle">Distance to peak summit</text>
<text transform="translate(21.9,314.02) rotate(-90)" font-size="16" text-anchor="middle">Motif score</text>
</g>
<path d="M288.77 580.24V47.81M362.13 580.24V47.81" stroke="#006400" stroke-width="2.25" stroke-dasharray="9 9" stroke-linecap="round" fill="none" clip-path="url(#cp1)"/>
<path d="M59.76 399.97H592.19" stroke="#D01616" stroke-width="2.25" stroke-dasharray="9 9" stroke-linecap="round" fill="none" clip-path="url(#cp1)"/>
<g filter="url(#ramp)" style="isolation:isolate"><rect x="699.76" y="47.81" width="532.43" height="532.43" fill="#000"/><rect x="699.76" y="47.81" width="532.43" height="532.43" fill="url(#hx1)" mask="url(#hm1)"/><rect x="699.76" y="47.81" width="532.43" height="532.43" fill="url(#hx2)" mask="url(#hm2)" style="mix-blend-mode:screen"/></g><path d="M851.5 47.8V580.2M1048.5 47.8V580.2" stroke="#fff" stroke-opacity="0.9" stroke-width="1" fill="none"/>
<g transform="translate(640,0)">
<rect x="59.76" y="47.81" width="532.43" height="532.43" fill="none" stroke="#000" stroke-width="0.75"/>
<path d="M108.58 580.24H542.02M108.58 580.24v5.98M216.94 580.24v5.98M325.30 580.24v5.98M433.66 580.24v5.98M542.02 580.24v5.98M59.76 108.75V525.35M59.76 525.35h-5.98M59.76 421.20h-5.98M59.76 317.05h-5.98M59.76 212.90h-5.98M59.76 108.75h-5.98" fill="none" stroke="#000" stroke-width="0.75"/>
<text x="108.58" y="601.9" font-size="10.7" text-anchor="middle">-400</text>
<text x="216.94" y="601.9" font-size="10.7" text-anchor="middle">-200</text>
<text x="325.30" y="601.9" font-size="10.7" text-anchor="middle">0</text>
<text x="433.66" y="601.9" font-size="10.7" text-anchor="middle">200</text>
<text x="542.02" y="601.9" font-size="10.7" text-anchor="middle">400</text>
<text transform="translate(45.3,525.35) rotate(-90)" font-size="10.7" text-anchor="middle">75</text>
<text transform="translate(45.3,421.20) rotate(-90)" font-size="10.7" text-anchor="middle">80</text>
<text transform="translate(45.3,317.05) rotate(-90)" font-size="10.7" text-anchor="middle">85</text>
<text transform="translate(45.3,212.90) rotate(-90)" font-size="10.7" text-anchor="middle">90</text>
<text transform="translate(45.3,108.75) rotate(-90)" font-size="10.7" text-anchor="middle">95</text>
<text x="325.98" y="31.6" font-size="21.4" font-weight="bold" text-anchor="middle">Density heat map for the top hits</text>
<text x="325.98" y="625.8" font-size="16" text-anchor="middle">Distance to peak summit</text>
<text transform="translate(21.9,314.02) rotate(-90)" font-size="16" text-anchor="middle">Motif score</text>
</g>
<g transform="translate(640,0)" clip-path="url(#cp1)"><path d="M285.75 580.24V47.81M364.85 580.24V47.81" stroke="#006400" stroke-width="1.5" stroke-dasharray="6 6" stroke-linecap="round" fill="none"/><path d="M59.76 406.62H592.19" stroke="#D01616" stroke-width="1.5" stroke-dasharray="6 6" stroke-linecap="round" fill="none"/></g>
<path d="M79.0 1199.9L80.8 1199.9L82.6 1199.9L84.4 1199.9L86.2 1199.9L88.0 1199.9L89.8 1199.9L91.6 1199.9L93.4 1199.9L95.2 1199.9L97.0 1199.9L98.7 1199.9L100.5 1199.9L102.3 1199.9L104.1 1199.9L105.9 1199.9L107.7 1199.9L109.4 1199.9L111.2 1199.9L113.0 1199.9L114.8 1199.9L116.6 1199.9L118.3 1199.9L120.1 1199.9L121.9 1199.9L123.7 1199.9L125.4 1199.9L127.2 1199.9L129.0 1199.9L130.8 1199.9L132.5 1199.9L134.3 1199.9L136.1 1199.9L137.9 1199.9L139.6 1199.9L141.4 1199.9L143.2 1199.9L145.0 1199.9L146.8 1199.9L148.5 1199.9L150.3 1199.9L152.1 1199.9L153.9 1199.9L155.7 1199.9L157.5 1199.9L159.2 1199.9L161.0 1199.9L162.8 1199.9L164.6 1199.9L166.4 1199.9L168.2 1199.8L170.0 1199.6L171.8 1199.4L173.6 1199.1L175.4 1198.8L177.2 1198.4L178.9 1197.9L180.7 1197.4L182.4 1196.9L184.2 1196.3L185.8 1195.6L187.5 1194.9L189.1 1194.1L190.7 1193.3L192.3 1192.4L193.8 1191.5L195.2 1190.5L196.6 1189.4L197.9 1188.3L199.2 1187.1L200.4 1185.9L201.6 1184.6L202.7 1183.3L203.8 1181.9L204.8 1180.5L205.8 1179.1L206.8 1177.6L207.7 1176.1L208.5 1174.5L209.4 1173.0L210.2 1171.4L211.0 1169.7L211.7 1168.1L212.4 1166.4L213.1 1164.7L213.8 1163.1L214.4 1161.4L215.0 1159.6L215.7 1157.9L216.2 1156.2L216.8 1154.5L217.4 1152.8L218.0 1151.1L218.5 1149.3L219.0 1147.6L219.6 1145.9L220.1 1144.2L220.6 1142.4L221.1 1140.7L221.6 1139.0L222.0 1137.3L222.5 1135.6L223.0 1133.8L223.4 1132.1L223.9 1130.4L224.4 1128.7L224.8 1126.9L225.3 1125.2L225.7 1123.5L226.1 1121.7L226.6 1120.0L227.0 1118.3L227.4 1116.6L227.9 1114.8L228.3 1113.1L228.7 1111.4L229.2 1109.6L229.6 1107.9L230.0 1106.2L230.4 1104.4L230.8 1102.7L231.3 1100.9L231.7 1099.2L232.1 1097.5L232.5 1095.7L232.9 1094.0L233.3 1092.3L233.7 1090.5L234.1 1088.8L234.5 1087.0L234.9 1085.3L235.3 1083.6L235.7 1081.8L236.1 1080.1L236.5 1078.3L236.9 1076.6L237.2 1074.8L237.6 1073.1L238.0 1071.4L238.4 1069.6L238.7 1067.9L239.1 1066.1L239.5 1064.4L239.8 1062.6L240.2 1060.9L240.5 1059.1L240.9 1057.4L241.2 1055.6L241.6 1053.9L241.9 1052.1L242.3 1050.4L242.6 1048.6L242.9 1046.9L243.3 1045.1L243.6 1043.4L243.9 1041.6L244.2 1039.9L244.6 1038.1L244.9 1036.4L245.2 1034.6L245.5 1032.9L245.8 1031.1L246.1 1029.3L246.4 1027.6L246.6 1025.8L246.9 1024.1L247.2 1022.3L247.5 1020.6L247.8 1018.8L248.0 1017.1L248.3 1015.3L248.6 1013.5L248.8 1011.8L249.1 1010.0L249.3 1008.3L249.6 1006.5L249.8 1004.7L250.0 1003.0L250.3 1001.2L250.5 999.5L250.8 997.7L251.0 995.9L251.2 994.2L251.4 992.4L251.7 990.6L251.9 988.9L252.1 987.1L252.3 985.3L252.6 983.6L252.8 981.8L253.0 980.1L253.2 978.3L253.5 976.5L253.7 974.8L253.9 973.0L254.1 971.2L254.4 969.5L254.6 967.7L254.8 965.9L255.0 964.2L255.3 962.4L255.5 960.6L255.7 958.9L256.0 957.1L256.2 955.3L256.4 953.6L256.7 951.8L256.9 950.0L257.2 948.2L257.4 946.5L257.7 944.7L258.0 942.9L258.2 941.2L258.5 939.4L258.8 937.6L259.0 935.9L259.3 934.1L259.6 932.3L259.9 930.5L260.2 928.8L260.5 927.0L260.8 925.2L261.1 923.5L261.4 921.7L261.7 919.9L262.0 918.1L262.4 916.4L262.7 914.6L263.0 912.8L263.3 911.0L263.6 909.3L263.9 907.5L264.2 905.7L264.5 904.0L264.8 902.2L265.1 900.4L265.4 898.6L265.7 896.9L266.0 895.1L266.3 893.3L266.6 891.5L266.9 889.8L267.2 888.0L267.5 886.2L267.7 884.4L268.0 882.7L268.3 880.9L268.5 879.1L268.8 877.4L269.0 875.6L269.3 873.8L269.5 872.0L269.7 870.3L270.0 868.5L270.2 866.7L270.4 864.9L270.6 863.2L270.9 861.4L271.1 859.6L271.3 857.8L271.5 856.1L271.7 854.3L272.0 852.5L272.2 850.8L272.4 849.0L272.6 847.2L272.8 845.4L273.0 843.7L273.2 841.9L273.4 840.1L273.6 838.4L273.8 836.6L274.1 834.8L274.3 833.1L274.5 831.3L274.7 829.5L274.9 827.8L275.1 826.0L275.3 824.2L275.5 822.5L275.8 820.7L276.0 819.0L276.2 817.2L276.4 815.4L276.7 813.7L276.9 811.9L277.1 810.2L277.4 808.4L277.6 806.6L277.9 804.9L278.1 803.1L278.4 801.4L278.6 799.6L278.9 797.9L279.1 796.1L279.4 794.4L279.7 792.6L280.0 790.9L280.3 789.1L280.5 787.4L280.8 785.6L281.1 783.9L281.5 782.1L281.8 780.4L282.1 778.6L282.4 776.9L282.8 775.2L283.1 773.4L283.5 771.7L283.9 770.0L284.2 768.2L284.6 766.5L285.0 764.8L285.5 763.0L285.9 761.3L286.3 759.6L286.8 757.8L287.3 756.1L287.7 754.4L288.2 752.7L288.8 750.9L289.3 749.2L289.8 747.5L290.4 745.8L291.0 744.1L291.6 742.4L292.2 740.6L292.8 738.9L293.5 737.2L294.1 735.5L294.8 733.8L295.4 732.1L296.1 730.4L296.7 728.7L297.4 727.0L298.1 725.3L298.7 723.6L299.4 721.9L300.2 720.3L301.0 718.7L301.8 717.2L302.7 715.7L303.7 714.3L304.7 712.9L305.9 711.6L307.2 710.5L308.6 709.4L310.1 708.5L311.7 707.8L313.3 707.6L314.9 707.8L316.5 708.5L318.0 709.5L319.3 710.5L320.6 711.7L321.7 713.0L322.7 714.4L323.6 715.9L324.4 717.5L325.2 719.1L325.9 720.8L326.5 722.5L327.1 724.3L327.6 726.1L328.1 727.9L328.6 729.7L329.1 731.5L329.5 733.3L330.0 735.1L330.4 736.9L330.9 738.7L331.3 740.4L331.8 742.2L332.2 743.9L332.7 745.6L333.1 747.3L333.5 749.0L334.0 750.7L334.4 752.4L334.8 754.1L335.3 755.8L335.7 757.5L336.1 759.2L336.5 760.9L336.9 762.6L337.3 764.3L337.7 766.0L338.1 767.7L338.5 769.4L339.0 771.1L339.4 772.8L339.8 774.6L340.2 776.3L340.6 778.0L341.1 779.7L341.5 781.4L341.9 783.2L342.4 784.9L342.8 786.6L343.3 788.3L343.8 790.1L344.2 791.8L344.7 793.5L345.2 795.3L345.7 797.0L346.3 798.8L346.8 800.5L347.3 802.2L347.8 804.0L348.4 805.7L348.9 807.5L349.4 809.2L349.9 811.0L350.3 812.7L350.8 814.5L351.2 816.2L351.7 818.0L352.0 819.7L352.4 821.5L352.8 823.2L353.1 825.0L353.5 826.7L353.8 828.5L354.1 830.2L354.4 832.0L354.6 833.8L354.9 835.5L355.2 837.3L355.4 839.0L355.6 840.8L355.8 842.6L356.1 844.3L356.3 846.1L356.5 847.8L356.7 849.6L356.8 851.4L357.0 853.1L357.2 854.9L357.4 856.7L357.6 858.4L357.7 860.2L357.9 862.0L358.1 863.7L358.2 865.5L358.4 867.3L358.6 869.0L358.8 870.8L359.0 872.5L359.1 874.3L359.3 876.1L359.5 877.8L359.7 879.6L359.9 881.4L360.2 883.1L360.4 884.9L360.6 886.7L360.9 888.4L361.1 890.2L361.4 891.9L361.6 893.7L361.9 895.5L362.2 897.2L362.4 899.0L362.7 900.8L363.0 902.5L363.3 904.3L363.6 906.0L363.9 907.8L364.2 909.6L364.6 911.3L364.9 913.1L365.2 914.8L365.5 916.6L365.9 918.3L366.2 920.1L366.6 921.9L366.9 923.6L367.3 925.4L367.6 927.1L368.0 928.9L368.3 930.6L368.7 932.4L369.1 934.1L369.4 935.9L369.8 937.7L370.2 939.4L370.5 941.2L370.9 942.9L371.3 944.7L371.7 946.4L372.1 948.2L372.5 949.9L372.8 951.7L373.2 953.4L373.6 955.2L374.0 956.9L374.4 958.7L374.8 960.4L375.2 962.2L375.6 963.9L376.0 965.7L376.4 967.4L376.8 969.2L377.2 970.9L377.5 972.7L377.9 974.4L378.3 976.1L378.7 977.9L379.1 979.6L379.5 981.4L379.9 983.1L380.3 984.9L380.6 986.6L381.0 988.4L381.4 990.1L381.8 991.8L382.2 993.6L382.5 995.3L382.9 997.1L383.3 998.8L383.7 1000.5L384.1 1002.3L384.5 1004.0L384.8 1005.8L385.2 1007.5L385.6 1009.2L386.0 1011.0L386.4 1012.7L386.8 1014.4L387.2 1016.2L387.5 1017.9L387.9 1019.6L388.3 1021.4L388.7 1023.1L389.1 1024.8L389.5 1026.6L389.9 1028.3L390.3 1030.0L390.7 1031.8L391.1 1033.5L391.6 1035.2L392.0 1037.0L392.4 1038.7L392.8 1040.4L393.2 1042.1L393.7 1043.9L394.1 1045.6L394.5 1047.3L395.0 1049.1L395.4 1050.8L395.9 1052.5L396.3 1054.2L396.8 1056.0L397.2 1057.7L397.7 1059.4L398.2 1061.1L398.6 1062.8L399.1 1064.6L399.6 1066.3L400.1 1068.0L400.6 1069.7L401.1 1071.5L401.6 1073.2L402.1 1074.9L402.6 1076.6L403.1 1078.3L403.7 1080.0L404.2 1081.8L404.7 1083.5L405.3 1085.2L405.8 1086.9L406.4 1088.6L406.9 1090.3L407.5 1092.0L408.0 1093.7L408.6 1095.4L409.2 1097.1L409.7 1098.9L410.3 1100.6L410.9 1102.3L411.4 1103.9L412.0 1105.6L412.6 1107.3L413.2 1109.0L413.8 1110.7L414.3 1112.4L414.9 1114.1L415.5 1115.8L416.1 1117.5L416.7 1119.1L417.2 1120.8L417.8 1122.5L418.4 1124.1L419.0 1125.8L419.6 1127.5L420.2 1129.1L420.8 1130.8L421.4 1132.4L422.0 1134.1L422.7 1135.7L423.3 1137.4L424.0 1139.0L424.7 1140.6L425.4 1142.3L426.2 1143.9L426.9 1145.5L427.7 1147.1L428.5 1148.7L429.4 1150.3L430.2 1151.9L431.1 1153.5L432.0 1155.0L432.9 1156.6L433.9 1158.1L434.9 1159.6L435.8 1161.2L436.9 1162.6L437.9 1164.1L439.0 1165.5L440.0 1167.0L441.2 1168.4L442.3 1169.7L443.4 1171.1L444.6 1172.4L445.8 1173.7L447.0 1175.0L448.3 1176.2L449.5 1177.5L450.8 1178.6L452.1 1179.8L453.4 1180.9L454.8 1182.0L456.2 1183.1L457.6 1184.2L459.0 1185.3L460.5 1186.4L462.0 1187.5L463.5 1188.6L465.0 1189.6L466.6 1190.6L468.2 1191.5L469.8 1192.3L471.4 1192.9L473.1 1193.4L474.8 1193.8L476.5 1194.0L478.3 1194.3L480.0 1194.5L481.8 1194.6L483.5 1194.8L485.3 1195.0L487.1 1195.2L488.8 1195.5L490.6 1195.8L492.4 1196.1L494.1 1196.4L495.9 1196.8L497.7 1197.1L499.4 1197.5L501.2 1197.8L503.0 1198.1L504.8 1198.4L506.5 1198.6L508.3 1198.8L510.1 1199.0L511.9 1199.2L513.6 1199.3L515.4 1199.5L517.2 1199.6L519.0 1199.6L520.7 1199.7L522.5 1199.8L524.3 1199.8L526.1 1199.9L527.9 1199.9L529.6 1199.9L531.4 1199.9L533.2 1199.9L535.0 1199.9L536.8 1199.9L538.6 1199.9L540.3 1199.9L542.1 1199.9L543.9 1199.9L545.7 1199.9L547.5 1199.9L549.3 1199.9L551.1 1199.9L552.8 1199.9L554.6 1199.9L556.4 1199.9L558.2 1199.9L560.0 1199.9L561.8 1199.9L563.6 1199.9L565.3 1199.9L567.1 1199.9L568.9 1199.9L570.7 1199.9L572.5 1199.9Z" fill="#F5DEB3" stroke="#000" stroke-width="1.05" stroke-linejoin="round"/>
<g transform="translate(0,640)">
<rect x="59.76" y="47.81" width="532.43" height="532.43" fill="none" stroke="#000" stroke-width="0.75"/>
<path d="M141.47 580.24H505.19M141.47 580.24v5.98M232.40 580.24v5.98M323.33 580.24v5.98M414.26 580.24v5.98M505.19 580.24v5.98M59.76 54.50V559.70M59.76 559.70h-5.98M59.76 391.30h-5.98M59.76 222.90h-5.98M59.76 54.50h-5.98" fill="none" stroke="#000" stroke-width="0.75"/>
<text x="141.47" y="601.9" font-size="10.7" text-anchor="middle">75</text>
<text x="232.40" y="601.9" font-size="10.7" text-anchor="middle">80</text>
<text x="323.33" y="601.9" font-size="10.7" text-anchor="middle">85</text>
<text x="414.26" y="601.9" font-size="10.7" text-anchor="middle">90</text>
<text x="505.19" y="601.9" font-size="10.7" text-anchor="middle">95</text>
<text transform="translate(45.3,559.70) rotate(-90)" font-size="10.7" text-anchor="middle">0.00</text>
<text transform="translate(45.3,391.30) rotate(-90)" font-size="10.7" text-anchor="middle">0.05</text>
<text transform="translate(45.3,222.90) rotate(-90)" font-size="10.7" text-anchor="middle">0.10</text>
<text transform="translate(45.3,54.50) rotate(-90)" font-size="10.7" text-anchor="middle">0.15</text>
<text x="325.98" y="31.6" font-size="21.6" font-weight="bold" text-anchor="middle">Motif score threshold: 80.700</text>
<text x="325.98" y="625.8" font-size="16" text-anchor="middle">Motif score</text>
<text transform="translate(21.9,314.02) rotate(-90)" font-size="16" text-anchor="middle">Density</text>
</g>
<g transform="translate(0,640)" clip-path="url(#cp1)"><path d="M245.13 580.24V47.81" stroke="#D01616" stroke-width="1.5" stroke-dasharray="6 6" stroke-linecap="round" fill="none"/></g>
<path d="M719.3 1200.2L721.2 1200.2L722.9 1200.2L724.4 1199.8L725.9 1199.3L727.2 1198.7L728.5 1197.9L729.6 1197.0L730.7 1196.0L731.6 1194.9L732.5 1193.7L733.4 1192.4L734.2 1191.0L734.9 1189.6L735.5 1188.2L736.2 1186.7L736.8 1185.2L737.4 1183.8L737.9 1182.3L738.5 1180.8L739.0 1179.3L739.5 1177.8L739.9 1176.3L740.4 1174.8L740.8 1173.3L741.2 1171.8L741.6 1170.2L742.0 1168.7L742.4 1167.2L742.8 1165.7L743.1 1164.2L743.4 1162.6L743.7 1161.1L744.0 1159.6L744.3 1158.0L744.6 1156.5L744.9 1155.0L745.1 1153.5L745.4 1151.9L745.6 1150.4L745.9 1148.8L746.1 1147.3L746.3 1145.8L746.6 1144.2L746.8 1142.7L747.0 1141.2L747.2 1139.6L747.4 1138.1L747.7 1136.5L747.9 1135.0L748.1 1133.5L748.3 1131.9L748.5 1130.4L748.7 1128.8L749.0 1127.3L749.2 1125.8L749.4 1124.2L749.6 1122.7L749.8 1121.2L750.0 1119.6L750.2 1118.1L750.5 1116.5L750.7 1115.0L750.9 1113.5L751.1 1111.9L751.3 1110.4L751.5 1108.8L751.7 1107.3L751.9 1105.8L752.2 1104.2L752.4 1102.7L752.6 1101.1L752.8 1099.6L753.0 1098.0L753.2 1096.5L753.4 1094.9L753.6 1093.4L753.8 1091.8L754.0 1090.3L754.2 1088.7L754.4 1087.2L754.6 1085.6L754.8 1084.1L755.0 1082.5L755.2 1081.0L755.4 1079.4L755.6 1077.9L755.8 1076.3L756.0 1074.7L756.2 1073.2L756.4 1071.6L756.6 1070.1L756.9 1068.5L757.1 1067.0L757.3 1065.4L757.6 1063.9L757.8 1062.3L758.1 1060.8L758.4 1059.3L758.7 1057.7L759.0 1056.2L759.3 1054.7L759.7 1053.1L760.0 1051.6L760.4 1050.1L760.8 1048.6L761.2 1047.1L761.6 1045.6L762.1 1044.1L762.6 1042.7L763.1 1041.2L763.6 1039.7L764.2 1038.3L764.8 1036.9L765.4 1035.4L766.0 1034.0L766.8 1032.7L767.6 1031.4L768.4 1030.2L769.4 1029.0L770.4 1027.9L771.5 1026.9L772.8 1026.0L774.1 1025.2L775.6 1024.6L777.1 1024.0L778.6 1023.6L780.2 1023.4L781.8 1023.3L783.4 1023.3L785.0 1023.5L786.6 1023.7L788.1 1024.0L789.7 1024.3L791.2 1024.6L792.8 1024.9L794.4 1025.1L795.9 1025.3L797.5 1025.3L799.0 1025.2L800.5 1025.0L802.1 1024.7L803.6 1024.2L805.2 1023.8L806.7 1023.3L808.2 1022.8L809.7 1022.3L811.3 1021.8L812.8 1021.4L814.3 1021.0L815.8 1020.6L817.3 1020.3L818.9 1020.0L820.4 1019.8L821.9 1019.6L823.4 1019.6L824.9 1019.5L826.4 1019.6L828.0 1019.6L829.5 1019.7L831.0 1019.7L832.5 1019.7L834.0 1019.6L835.6 1019.4L837.1 1019.1L838.6 1018.8L840.1 1018.4L841.7 1018.1L843.2 1017.6L844.8 1017.2L846.3 1016.8L847.8 1016.3L849.4 1015.9L851.0 1015.6L852.5 1015.2L854.1 1014.9L855.7 1014.7L857.2 1014.5L858.8 1014.4L860.4 1014.3L862.0 1014.4L863.6 1014.4L865.1 1014.4L866.7 1014.4L868.2 1014.3L869.7 1014.2L871.2 1014.0L872.7 1013.6L874.1 1013.2L875.4 1012.6L876.8 1011.9L878.1 1011.2L879.3 1010.3L880.5 1009.4L881.7 1008.3L882.8 1007.3L883.9 1006.1L885.0 1004.9L886.0 1003.7L887.0 1002.5L888.0 1001.2L888.9 999.9L889.8 998.6L890.7 997.3L891.6 996.0L892.4 994.7L893.3 993.3L894.1 992.0L894.8 990.6L895.6 989.2L896.4 987.9L897.1 986.5L897.8 985.1L898.5 983.7L899.2 982.3L899.9 980.9L900.5 979.5L901.1 978.1L901.8 976.7L902.4 975.3L903.0 973.8L903.5 972.4L904.1 971.0L904.7 969.5L905.2 968.1L905.7 966.6L906.2 965.2L906.7 963.7L907.2 962.2L907.7 960.7L908.2 959.3L908.6 957.8L909.1 956.3L909.5 954.8L909.9 953.3L910.4 951.8L910.8 950.3L911.2 948.8L911.6 947.3L911.9 945.8L912.3 944.3L912.7 942.8L913.0 941.3L913.4 939.7L913.7 938.2L914.1 936.7L914.4 935.2L914.7 933.6L915.1 932.1L915.4 930.6L915.7 929.1L916.0 927.5L916.3 926.0L916.6 924.4L916.9 922.9L917.2 921.4L917.5 919.8L917.8 918.3L918.1 916.7L918.4 915.2L918.6 913.7L918.9 912.1L919.2 910.6L919.5 909.0L919.8 907.5L920.0 905.9L920.3 904.4L920.6 902.9L920.9 901.3L921.2 899.8L921.5 898.2L921.8 896.7L922.0 895.2L922.3 893.6L922.6 892.1L922.9 890.6L923.2 889.0L923.5 887.5L923.9 886.0L924.2 884.5L924.5 882.9L924.8 881.4L925.1 879.9L925.5 878.4L925.8 876.9L926.1 875.3L926.5 873.8L926.8 872.3L927.1 870.8L927.5 869.3L927.8 867.8L928.1 866.3L928.5 864.7L928.8 863.2L929.2 861.7L929.5 860.2L929.9 858.7L930.2 857.2L930.5 855.7L930.9 854.2L931.2 852.6L931.6 851.1L931.9 849.6L932.2 848.1L932.6 846.6L932.9 845.1L933.2 843.6L933.6 842.0L933.9 840.5L934.2 839.0L934.5 837.5L934.9 836.0L935.2 834.4L935.5 832.9L935.8 831.4L936.1 829.9L936.4 828.3L936.7 826.8L937.0 825.3L937.2 823.7L937.5 822.2L937.8 820.6L938.1 819.1L938.3 817.6L938.6 816.0L938.8 814.5L939.1 812.9L939.4 811.4L939.6 809.8L939.9 808.3L940.1 806.7L940.3 805.2L940.6 803.6L940.8 802.1L941.1 800.5L941.3 799.0L941.6 797.4L941.8 795.9L942.0 794.3L942.3 792.8L942.5 791.2L942.7 789.7L943.0 788.1L943.2 786.6L943.5 785.0L943.7 783.5L943.9 781.9L944.2 780.4L944.4 778.9L944.7 777.3L944.9 775.8L945.2 774.2L945.4 772.7L945.7 771.2L945.9 769.7L946.2 768.1L946.5 766.6L946.7 765.1L947.0 763.6L947.3 762.0L947.6 760.5L947.8 759.0L948.1 757.5L948.4 756.0L948.7 754.5L949.0 753.0L949.3 751.5L949.7 750.0L950.0 748.5L950.3 747.0L950.6 745.5L951.0 744.0L951.3 742.5L951.7 741.0L952.1 739.5L952.4 738.0L952.8 736.4L953.2 734.9L953.6 733.4L954.0 731.9L954.4 730.3L954.8 728.8L955.3 727.3L955.7 725.7L956.1 724.2L956.6 722.6L957.1 721.0L957.5 719.5L958.0 717.9L958.5 716.3L959.1 714.7L959.6 713.2L960.3 711.8L961.1 710.5L962.0 709.4L963.1 708.5L964.4 707.9L965.8 707.6L967.1 707.8L968.3 708.5L969.3 709.5L970.1 710.7L970.9 712.0L971.6 713.4L972.2 714.8L972.7 716.3L973.2 717.8L973.7 719.3L974.2 720.8L974.7 722.4L975.1 723.9L975.6 725.4L976.0 726.9L976.4 728.5L976.9 730.0L977.3 731.5L977.7 733.0L978.0 734.6L978.4 736.1L978.8 737.6L979.1 739.2L979.5 740.7L979.8 742.2L980.2 743.7L980.5 745.3L980.8 746.8L981.2 748.3L981.5 749.9L981.8 751.4L982.1 752.9L982.4 754.5L982.7 756.0L983.0 757.5L983.2 759.1L983.5 760.6L983.8 762.1L984.1 763.7L984.3 765.2L984.6 766.7L984.9 768.3L985.1 769.8L985.4 771.3L985.6 772.9L985.9 774.4L986.1 775.9L986.4 777.5L986.7 779.0L986.9 780.5L987.2 782.1L987.4 783.6L987.6 785.1L987.9 786.7L988.1 788.2L988.4 789.7L988.6 791.3L988.9 792.8L989.1 794.3L989.4 795.9L989.6 797.4L989.8 798.9L990.1 800.5L990.3 802.0L990.6 803.5L990.8 805.1L991.0 806.6L991.3 808.2L991.5 809.7L991.8 811.2L992.0 812.8L992.3 814.3L992.5 815.8L992.8 817.4L993.0 818.9L993.2 820.4L993.5 822.0L993.7 823.5L994.0 825.0L994.2 826.6L994.5 828.1L994.8 829.6L995.0 831.2L995.3 832.7L995.5 834.2L995.8 835.8L996.0 837.3L996.3 838.9L996.6 840.4L996.9 841.9L997.1 843.5L997.4 845.0L997.7 846.5L997.9 848.1L998.2 849.6L998.5 851.1L998.8 852.7L999.1 854.2L999.3 855.7L999.6 857.3L999.9 858.8L1000.2 860.3L1000.5 861.9L1000.8 863.4L1001.1 864.9L1001.4 866.5L1001.7 868.0L1002.0 869.5L1002.3 871.1L1002.6 872.6L1002.9 874.1L1003.1 875.7L1003.4 877.2L1003.7 878.7L1004.1 880.3L1004.4 881.8L1004.7 883.3L1005.0 884.9L1005.3 886.4L1005.6 887.9L1005.9 889.5L1006.2 891.0L1006.5 892.5L1006.8 894.1L1007.1 895.6L1007.4 897.1L1007.7 898.7L1008.0 900.2L1008.3 901.7L1008.6 903.3L1008.9 904.8L1009.3 906.3L1009.6 907.9L1009.9 909.4L1010.2 910.9L1010.5 912.5L1010.9 914.0L1011.2 915.5L1011.5 917.0L1011.8 918.6L1012.2 920.1L1012.5 921.6L1012.8 923.1L1013.2 924.6L1013.5 926.2L1013.9 927.7L1014.2 929.2L1014.6 930.7L1015.0 932.2L1015.3 933.7L1015.7 935.3L1016.1 936.8L1016.5 938.3L1016.9 939.8L1017.2 941.3L1017.6 942.8L1018.0 944.3L1018.5 945.8L1018.9 947.3L1019.3 948.8L1019.7 950.3L1020.1 951.8L1020.6 953.3L1021.0 954.7L1021.5 956.2L1021.9 957.7L1022.4 959.2L1022.9 960.7L1023.4 962.1L1023.8 963.6L1024.3 965.1L1024.8 966.6L1025.4 968.0L1025.9 969.5L1026.4 970.9L1026.9 972.4L1027.5 973.9L1028.0 975.3L1028.6 976.8L1029.2 978.2L1029.7 979.6L1030.3 981.1L1030.9 982.5L1031.5 984.0L1032.2 985.4L1032.8 986.8L1033.4 988.2L1034.1 989.7L1034.7 991.1L1035.4 992.5L1036.1 993.9L1036.8 995.3L1037.5 996.7L1038.2 998.1L1038.9 999.5L1039.7 1000.9L1040.5 1002.3L1041.2 1003.6L1042.0 1005.0L1042.9 1006.3L1043.7 1007.6L1044.6 1008.9L1045.6 1010.1L1046.5 1011.4L1047.6 1012.6L1048.6 1013.7L1049.7 1014.9L1050.8 1015.9L1052.0 1017.0L1053.3 1017.9L1054.6 1018.7L1056.0 1019.3L1057.4 1019.8L1058.8 1020.1L1060.3 1020.3L1061.9 1020.5L1063.5 1020.6L1065.0 1020.7L1066.6 1020.7L1068.2 1020.8L1069.8 1021.0L1071.4 1021.2L1073.0 1021.6L1074.5 1022.0L1076.1 1022.5L1077.6 1023.0L1079.1 1023.4L1080.6 1023.7L1082.2 1023.9L1083.7 1024.1L1085.2 1024.2L1086.7 1024.2L1088.3 1024.2L1089.8 1024.1L1091.3 1023.9L1092.8 1023.7L1094.4 1023.5L1095.9 1023.2L1097.4 1023.0L1099.0 1022.7L1100.5 1022.4L1102.0 1022.1L1103.6 1021.8L1105.1 1021.5L1106.7 1021.2L1108.2 1021.0L1109.7 1020.8L1111.3 1020.6L1112.8 1020.4L1114.4 1020.2L1115.9 1020.1L1117.5 1019.9L1119.0 1019.8L1120.6 1019.7L1122.2 1019.6L1123.7 1019.6L1125.3 1019.6L1126.8 1019.5L1128.4 1019.5L1130.0 1019.5L1131.6 1019.5L1133.1 1019.6L1134.7 1019.6L1136.3 1019.7L1137.9 1019.8L1139.5 1019.8L1141.0 1019.9L1142.6 1019.9L1144.2 1019.8L1145.7 1019.7L1147.3 1019.6L1148.8 1019.5L1150.3 1019.5L1151.8 1019.7L1153.2 1020.1L1154.6 1020.8L1156.0 1021.6L1157.3 1022.6L1158.5 1023.7L1159.6 1024.8L1160.6 1025.9L1161.6 1027.1L1162.4 1028.3L1163.3 1029.6L1164.0 1031.0L1164.7 1032.3L1165.4 1033.7L1166.0 1035.1L1166.5 1036.6L1167.0 1038.1L1167.5 1039.6L1168.0 1041.1L1168.4 1042.6L1168.8 1044.1L1169.2 1045.6L1169.5 1047.2L1169.9 1048.7L1170.3 1050.3L1170.6 1051.8L1171.0 1053.3L1171.3 1054.9L1171.6 1056.4L1171.9 1058.0L1172.3 1059.5L1172.6 1061.0L1172.9 1062.6L1173.2 1064.1L1173.5 1065.6L1173.8 1067.2L1174.0 1068.7L1174.3 1070.2L1174.6 1071.8L1174.9 1073.3L1175.1 1074.8L1175.4 1076.4L1175.7 1077.9L1175.9 1079.4L1176.2 1081.0L1176.4 1082.5L1176.7 1084.0L1176.9 1085.6L1177.2 1087.1L1177.4 1088.6L1177.7 1090.2L1177.9 1091.7L1178.2 1093.2L1178.4 1094.8L1178.6 1096.3L1178.9 1097.8L1179.1 1099.4L1179.3 1100.9L1179.6 1102.4L1179.8 1104.0L1180.1 1105.5L1180.3 1107.0L1180.5 1108.6L1180.8 1110.1L1181.0 1111.6L1181.2 1113.2L1181.5 1114.7L1181.7 1116.2L1181.9 1117.8L1182.2 1119.3L1182.4 1120.9L1182.7 1122.4L1182.9 1123.9L1183.1 1125.5L1183.4 1127.0L1183.6 1128.5L1183.9 1130.1L1184.1 1131.6L1184.4 1133.2L1184.6 1134.7L1184.9 1136.2L1185.1 1137.8L1185.4 1139.3L1185.6 1140.9L1185.9 1142.4L1186.1 1143.9L1186.4 1145.5L1186.6 1147.0L1186.9 1148.6L1187.2 1150.1L1187.4 1151.7L1187.7 1153.2L1187.9 1154.8L1188.2 1156.3L1188.5 1157.9L1188.8 1159.4L1189.0 1161.0L1189.3 1162.5L1189.6 1164.0L1189.9 1165.6L1190.2 1167.1L1190.5 1168.7L1190.8 1170.2L1191.1 1171.8L1191.4 1173.3L1191.8 1174.8L1192.2 1176.3L1192.6 1177.8L1193.1 1179.3L1193.6 1180.7L1194.1 1182.2L1194.6 1183.6L1195.2 1185.0L1195.9 1186.4L1196.6 1187.8L1197.3 1189.2L1198.1 1190.5L1198.9 1191.8L1199.8 1193.1L1200.8 1194.3L1201.8 1195.5L1202.9 1196.7L1204.1 1197.8L1205.3 1198.8L1206.6 1199.6L1208.0 1200.2L1209.5 1200.2L1211.0 1200.2L1212.6 1200.2Z" fill="#F5DEB3" stroke="#000" stroke-width="1.05" stroke-linejoin="round"/>
<g transform="translate(640,640)">
<rect x="59.76" y="47.81" width="532.43" height="532.43" fill="none" stroke="#000" stroke-width="0.75"/>
<path d="M63.35 580.24H587.35M63.35 580.24v5.98M150.68 580.24v5.98M238.02 580.24v5.98M325.35 580.24v5.98M412.68 580.24v5.98M500.02 580.24v5.98M587.35 580.24v5.98M59.76 98.00V560.00M59.76 560.00h-5.98M59.76 444.50h-5.98M59.76 329.00h-5.98M59.76 213.50h-5.98M59.76 98.00h-5.98" fill="none" stroke="#000" stroke-width="0.75"/>
<text x="63.35" y="601.9" font-size="10.7" text-anchor="middle">-600</text>
<text x="150.68" y="601.9" font-size="10.7" text-anchor="middle">-400</text>
<text x="238.02" y="601.9" font-size="10.7" text-anchor="middle">-200</text>
<text x="325.35" y="601.9" font-size="10.7" text-anchor="middle">0</text>
<text x="412.68" y="601.9" font-size="10.7" text-anchor="middle">200</text>
<text x="500.02" y="601.9" font-size="10.7" text-anchor="middle">400</text>
<text x="587.35" y="601.9" font-size="10.7" text-anchor="middle">600</text>
<text transform="translate(45.3,560.00) rotate(-90)" font-size="10.7" text-anchor="middle">0.0000</text>
<text transform="translate(45.3,444.50) rotate(-90)" font-size="10.7" text-anchor="middle">0.0005</text>
<text transform="translate(45.3,329.00) rotate(-90)" font-size="10.7" text-anchor="middle">0.0010</text>
<text transform="translate(45.3,213.50) rotate(-90)" font-size="10.7" text-anchor="middle">0.0015</text>
<text transform="translate(45.3,98.00) rotate(-90)" font-size="10.7" text-anchor="middle">0.0020</text>
<text x="325.98" y="31.6" font-size="21.6" font-weight="bold" text-anchor="middle">Enrichment zone: 73.00</text>
<text x="325.98" y="625.8" font-size="16" text-anchor="middle">Distance to peak summit</text>
<text transform="translate(21.9,314.02) rotate(-90)" font-size="16" text-anchor="middle">Density</text>
</g>
<g transform="translate(640,640)" clip-path="url(#cp1)"><path d="M293.47 580.24V47.81M357.23 580.24V47.81" stroke="#006400" stroke-width="1.5" stroke-dasharray="6 6" stroke-linecap="round" fill="none"/></g>
<g><path d="M1017.3 703.3H1041.6" stroke="#006400" stroke-width="1.125" stroke-dasharray="1.125 3.375" stroke-linecap="round"/><path d="M1017.3 718.9H1041.6" stroke="#d8262a" stroke-width="1.125" stroke-dasharray="1.125 3.375" stroke-linecap="round"/><ellipse cx="1029" cy="734.5" rx="3.05" ry="2.75" fill="#0000ff"/><text x="1052" y="707.6" font-size="12.85">enrichment zone = 73</text><text x="1052" y="723.2" font-size="12.85">motif score threshold = 80.700</text><text x="1052" y="738.8" font-size="12.85">centrality p-val = -0.8893</text></g>
</svg>
</body></html>
